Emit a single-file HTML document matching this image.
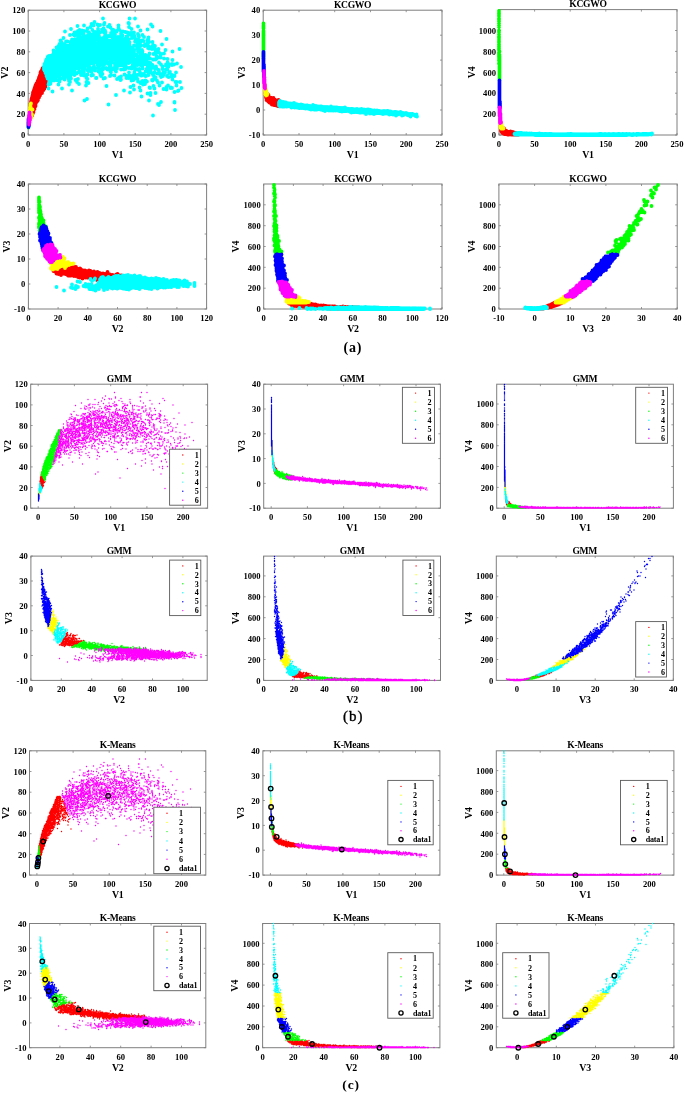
<!DOCTYPE html><html><head><meta charset="utf-8"><style>html,body{margin:0;padding:0;background:#fff;width:685px;height:1093px;overflow:hidden}svg{display:block;will-change:transform}</style></head><body><svg width="685" height="1093" viewBox="0 0 685 1093"><g style='font-family:"Liberation Serif",serif;font-weight:bold;font-size:8.6px'><path d="M28.2 135.0v-2M28.2 10.2v2M63.9 135.0v-2M63.9 10.2v2M99.6 135.0v-2M99.6 10.2v2M135.2 135.0v-2M135.2 10.2v2M170.9 135.0v-2M170.9 10.2v2M206.6 135.0v-2M206.6 10.2v2M28.2 135.0h2M206.6 135.0h-2M28.2 114.2h2M206.6 114.2h-2M28.2 93.4h2M206.6 93.4h-2M28.2 72.6h2M206.6 72.6h-2M28.2 51.8h2M206.6 51.8h-2M28.2 31.0h2M206.6 31.0h-2M28.2 10.2h2M206.6 10.2h-2" stroke="#7f7f7f" stroke-width="0.8" fill="none"/><rect x="28.2" y="10.2" width="178.4" height="124.8" fill="none" stroke="#7f7f7f" stroke-width="1"/><g fill="none" stroke-linecap="round" stroke-width="3.8"><path stroke="#ff0000" d="M31 117h0m0.5-0.5h0m-0.5 1h0m-0.5-0.5h0m1-3.5h0m1-4h0m-2 3.5h0m0.5-0.5h0m1.5-3.5h0m-0.5 3.5h0m-0.5-3h0m-0.5 0h0m0.5 6h0m-1-4.5h0m2 3h0m-2-4h0m0.5 4.5h0m2-4h0m-0.5 0.5h0m-0.5-1.5h0m-0.5 1.5h0m1 2.5h0m2-4.5h0m-1 3h0m-0.5-2.5h0m-2.5 4.5h0m1-5h0m0.5 5h0m-1.5 1h0m0.5-3.5h0m-0.5 4h0m1-3.5h0m0.5 3.5h0m-1.5-6h0m1.5 5.5h0m-1-4h0m0 4.5h0m1-4.5h0m1-2h0m-2 1.5h0m0.5 4.5h0m1-2h0m-2-1h0m1-0.5h0m-1 2h0m0.5 0.5h0m0 1h0m0-5h0m0.5 0h0m0.5 3.5h0m0.5-1.5h0m-0.5-0.5h0m0-1.5h0m-2 4.5h0m2.5-4h0m-2.5 1h0m2.5 0h0m-1 4.5h0m0.5-5.5h0m-1 3h0m-0.5-2h0m1.5 0.5h0m-1 1h0m2-1.5h0m0.5-1.5h0m-2 4.5h0m0-4h0m1.5 1.5h0m-2.5-1.5h0m0.5-1.5h0m0 3h0m2-2h0m-1 3h0m-1.5-0.5h0m1 0h0m1.5 0.5h0m0.5-3.5h0m-1.5-0.5h0m0 5.5h0m-1.5-5.5h0m3-0.5h0m0-4.5h0m-3 4h0m2.5-1h0m0.5-0.5h0m-2-7.5h0m0.5 2.5h0m1-1.5h0m1.5 1.5h0m-3.5 4h0m2-0.5h0m-1-0.5h0m2 1.5h0m-0.5-1.5h0m1.5-3.5h0m-3 7h0m0-2h0m0-2h0m1.5-2h0m2 0.5h0m-4 5.5h0m-1-1h0m2-1h0m0.5 0h0m2.5-5h0m2-2.5h0m-6 3.5h0m1 6.5h0m-1-8h0m3.5-1h0m-2 3.5h0m-0.5 2.5h0m-2 0h0m2.5-3h0m5-2.5h0m-4.5 5.5h0m-2.5 1.5h0m0 0.5h0m4-7.5h0m-1.5-1.5h0m-1.5 6.5h0m4-4.5h0m-1.5 1.5h0m-3.5 6.5h0m1.5-3.5h0m1.5-3h0m-1 2.5h0m-0.5 2.5h0m3-8h0m-4 5h0m3.5-2.5h0m-3.5 2h0m1.5 4.5h0m-2-1.5h0m0.5 0.5h0m0.5 0h0m-1-2.5h0m0 0.5h0m3-4.5h0m1 0h0m-2 3h0m1 1h0m0.5 1.5h0m-2.5-2.5h0m0.5 3h0m-1-6.5h0m4 0.5h0m-4 8h0m5.5-8.5h0m-4 0.5h0m-0.5-0.5h0m0 4h0m1.5-4h0m0.5 4h0m-0.5 1.5h0m-1-4.5h0m-0.5-0.5h0m0 7h0m1.5 0h0m0.5-2.5h0m-1.5-1h0m3-5h0m-3.5 0h0m1.5 2.5h0m-0.5 3.5h0m-3 1h0m2.5-4.5h0m-2.5 5h0m1.5-7h0m-0.5 3h0m0-1.5h0m2 2.5h0m-2 4h0m2.5-2.5h0m-2 0.5h0m3.5-0.5h0m-4 1h0m0-1h0m0.5-2.5h0m-1.5 1.5h0m2-0.5h0m2.5 0.5h0m-4-2.5h0m1-0.5h0m0 1h0m0.5-0.5h0m0.5 6h0m0-1h0m2-1.5h0m-4.5 2.5h0m3.5-5h0m-1 6h0m-1.5-3h0m-0.5-2h0m5.5-1.5h0m-3-0.5h0m3.5 0h0m-3-2.5h0m-0.5 7h0m1-2.5h0m-3.5 2.5h0m1.5-1.5h0m4.5-5.5h0m-4 0.5h0m4 0h0m-4 2.5h0m1.5-1h0m-3 5.5h0m3.5-8h0m0 8h0m2.5-6h0m-2 1h0m-3.5-1.5h0m2 3h0m1.5 1h0m0 2h0m-3.5 0.5h0m2-2.5h0m-1-5h0m1.5 7.5h0m-2-3.5h0m-1-3.5h0m-1 5h0m1-1.5h0m5-3.5h0m-0.5 0.5h0m0-0.5h0m1 1h0m-5.5 4h0m1.5 1h0m0.5 1.5h0m-2.5-3h0m1.5-4.5h0m3 0.5h0m1 0.5h0m-3 2h0m0-3h0m1 8.5h0m-1-5h0m0.5-3.5h0m0-1h0m0 8h0m1-7.5h0m2.5 0.5h0m-5.5 8h0m3.5-4.5h0m-2-3h0m-1 2h0m1-3h0m1.5 6.5h0m-4-2.5h0m2.5-2.5h0m1 0h0m-2.5-1.5h0m8-3.5h0m-5.5 2h0m3.5-5.5h0m3-4.5h0m3.5-1h0m-12.5 12h0m5.5-14.5h0m1.5 10.5h0m-0.5-0.5h0m-0.5-8.5h0m7-1h0m-1.5 2.5h0m-5.5 6.5h0m-3-2h0m7.5-6h0m-2 7.5h0m-1.5-7h0m-3 0.5h0m1 5h0m4.5-7h0m-8.5 8h0m2-5.5h0m3.5 1.5h0m-1 5h0m2.5-3h0m-0.5-1.5h0m-1.5 1h0m-4 7h0m10-14h0m-4.5 0.5h0m-4.5 14.5h0m8-14h0m-8.5 6.5h0m-2 6h0m11-10.5h0m-7.5 6h0m0.5-4.5h0m4-2h0m-8 12.5h0m7-10h0m-0.5-3.5h0m-3 10h0m2-8h0m-0.5-1.5h0m4.5 8h0m-8.5-1h0m3.5 1.5h0m-0.5 1.5h0m2.5-3h0m-2.5-2.5h0m4 4.5h0m-7.5-1h0m7.5-6h0m-1 4.5h0m-2.5 0.5h0m-1.5-2h0m2.5-5.5h0m-3 10h0m6-4h0m-3.5-2.5h0m-2.5 9h0m1.5-13.5h0m-1 7.5h0m-0.5 4h0m0.5-8.5h0m1-0.5h0m5.5 3h0m-5.5 8h0m0-6.5h0m6.5-3.5h0m0-2.5h0m-8.5 4h0m1 0.5h0m5 3.5h0m-3-3h0m-3 0.5h0m3-4.5h0m2 1.5h0m4-3h0m-7 13.5h0m2-11h0m-1 5h0m5-4.5h0m-8.5 7h0m4.5-2.5h0m-1.5-6h0m-3 12.5h0m3-7h0m3-5.5h0m-7 9h0m4-8.5h0m-1 9h0m1.5-1h0m3-4h0m-2.5-1.5h0m1-3.5h0m-2 0h0m4 2h0m-1.5 1.5h0m-2.5 4h0m-0.5-6h0m3-2h0m-1.5 6.5h0m-1.5 5.5h0m0-0.5h0m4-9.5h0m-5 3h0m2 1.5h0m-3 5.5h0m4.5-9.5h0m5.5 0h0m-7.5 9.5h0m6-11.5h0m-8.5 6h0m1 2h0m0.5-1.5h0m-0.5 4.5h0m3.5-5h0m0.5 4h0m-6 1h0m6.5-3.5h0m1.5-1h0m2-4h0m-1 1h0m-4.5-5h0m0 1.5h0m3 3.5h0m-4.5-4h0m4 7h0m-1-5.5h0m-2 4.5h0m6.5-7h0m-5.5 6h0m2.5 4h0m-7.5 1h0m12.5-10.5h0m-11.5 14h0m1.5-8.5h0m5.5-2h0m0.5-1h0m-8 6h0m0 2.5h0m1.5-9.5h0m-1.5 11h0m4.5 1h0m-5.5-2.5h0m1-4h0m10-7h0m-5 6.5h0m3.5-2.5h0m-5 1h0m-1 4.5h0m0.5 3.5h0m2.5-1.5h0m2-9h0m-2.5 2h0m1-2.5h0m1 6.5h0m0.5-8.5h0m2 6h0m-6-4h0m-1 3h0m4-1h0m-5.5 8h0m3.5-7h0m-5 4h0m2.5 4.5h0m6.5-6.5h0m-6 3.5h0m0 4h0m10-15.5h0m-8 10.5h0m-0.5 2h0m-4.5 0h0m6.5-9h0m-2.5 11.5h0m5.5-12.5h0m-1-2.5h0m-7.5 10h0m2-5h0m-3.5 9.5h0m2.5-10.5h0m6.5 1h0m-6 5.5h0m-3 2h0m8-3.5h0m-8.5 5h0m4.5-1h0m6.5-7.5h0m-9 0.5h0m3 6.5h0m0-8h0m1 7h0m1.5-3h0m-7 5.5h0m2-4h0m-0.5-0.5h0m1 3h0m6-5h0m0.5-6.5h0m2.5 0.5h0m-6-1.5h0m-2 10h0m2.5-5.5h0m1.5 1h0m-2-3.5h0m3.5 0.5h0m1 1h0m-1.5 0.5h0m-8.5 6.5h0m9-10h0m-4.5 5h0m4.5 2.5h0m-3 6.5h0m-4-1h0m4.5-11h0m-2 1.5h0m3.5-1.5h0m-3 5h0m2-3.5h0m-5 6.5h0m6.5-2.5h0m-7 0.5h0m0.5-3h0m3 6.5h0m-1 3h0m4-13h0m-5 2h0m-0.5 4.5h0m-2 0h0m8.5-6.5h0m-6.5 5.5h0m9-2h0m-9 8h0m3.5-7.5h0m-2.5 2h0m0.5 3.5h0m1.5-7h0m-3 6h0m-1.5-0.5h0m7-9h0m-1.5 9.5h0m-3.5-1h0m4.5-9.5h0m-3.5 5.5h0m6.5-3h0m-9.5 4.5h0m2 6.5h0m7-13.5h0m-6 3.5h0m0.5-3h0m6-0.5h0m-8.5 8h0m4-4.5h0m3-2h0m-3.5-0.5h0m1.5 0h0m-2.5 12h0m6.5-8.5h0m-7 0h0m6.5-2.5h0m-9.5 9.5h0m1 1h0m-2.5 0h0m5.5-1.5h0m3-7.5h0m0.5 2.5h0m-8.5 5h0m13-9.5h0m-7 11.5h0m4.5-9.5h0m-11 9.5h0m8-5h0m-4.5-6h0m0.5 7.5h0m-4 5h0m3.5-13h0m5.5-1.5h0m-6.5 7.5h0m-0.5 4.5h0m4.5-5h0m-3 3h0m-1.5 5.5h0m7.5-11h0m-2 2h0m-2.5 5.5h0m5.5-7h0m-5-0.5h0m-1.5-0.5h0m4.5 4h0m5-7.5h0m-5.5 1.5h0m0.5 3h0m-4-3.5h0m-0.5 9.5h0m6-3.5h0m3-4h0m-10.5 11h0m3-5h0m-2-7h0m-0.5 12h0m0.5-9.5h0m6.5-0.5h0m2.5-4.5h0m-9.5 15h0m6-10h0m-4 9.5h0m-5.5 0h0m9.5-18.5h0m-2.5 2.5h0m2.5-4h0m2.5-7h0m-4.5 11h0m1 0h0m2.5-10.5h0m0.5 3.5h0m0 5h0m0.5-7h0m-1-3h0m-3 7.5h0m3-8.5h0m1.5 10h0m-6 3.5h0m6-5.5h0m-6.5 6h0m6-3h0m0-8h0m0.5 8h0m-3-1.5h0m-1 1.5h0m3-4.5h0m1-2h0m-1-1h0m-1.5 7h0m4 3h0m0-6.5h0m-3 5h0m-2.5 2h0m3.5-9.5h0m-4.5 3.5h0m7 4.5h0m-3.5-6.5h0m3 6h0m-4 0h0m-1-7h0m-0.5 8.5h0m4-4.5h0m-0.5-6.5h0m-2-1h0m1.5 2.5h0m-0.5-3.5h0m0.5 13.5h0m-1-3.5h0m-3-2h0m2 3h0m4 2.5h0m-1.5-2.5h0m-2.5-0.5h0m3.5-0.5h0m-1.5-3h0m-2.5 5h0m2.5-2h0m-0.5-8.5h0m-5 11.5h0m6.5-10h0m1 5h0m-3.5-5h0m0.5 6.5h0m-0.5 2.5h0m-1-2.5h0m3-9.5h0m-0.5 2.5h0m2.5 6h0m-6-1.5h0m2.5-5h0m-1 7.5h0m3.5-1.5h0m-1.5-1.5h0m-0.5 0.5h0m2 2.5h0m-5 4h0m2.5-10.5h0m3 8.5h0m-5.5-1h0m4-6h0m1 6.5h0m-2-6.5h0m-0.5 3h0m-2 2h0m6 1h0m-3-11h0m3 9h0m-4-0.5h0m2.5-1h0m-3.5-2h0m4 5h0m-5.5 0h0m3-4h0m-5 6.5h0m3-1h0m1-4.5h0m0-3h0m-2 8h0m3.5-4.5h0m-1-2.5h0m0 0.5h0m1-5.5h0m1.5 12h0m-2-8.5h0m1 8h0m1.5-1h0m-3.5-5.5h0m2-4.5h0m-0.5 1h0m1 6.5h0m-5.5 3.5h0m4-9h0m-2 0.5h0m-1.5 10.5h0m3-7h0m2 3.5h0m-3-8h0m1 4h0m-4 5h0m2-3h0m4-4.5h0m3.5 9.5h0m-5.5-9h0m0.5 4.5h0m-1.5-2h0m-3 4h0m7.5-3h0m-1.5-1.5h0m2.5 7.5h0m-8-4h0m4.5-8.5h0m-4.5 10h0m-1.5 3h0m6-9.5h0m-1 0h0m0.5 5.5h0m-2-3h0m2-4h0m-0.5-1.5h0m-1.5 6h0m2.5-3.5h0m0-2h0m0.5 11.5h0m-3.5-1.5h0m1-8h0m0 3.5h0m-1-4h0m-1 7.5h0m3-10h0m-3.5 9.5h0m6 2.5h0m-6-3h0m3.5-9.5h0m3.5 11.5h0m-3.5-1.5h0m-1-6h0m-1 5.5h0m3 1h0m1.5-2h0m-1.5-8.5h0m-2 2h0m3.5 3h0m1 5.5h0m-2-1.5h0m1.5-2.5h0m-1.5-6h0m0.5 4.5h0m-6 7h0m1-2.5h0m5.5-6.5h0m-5.5 9.5h0m3.5-4h0m1-2h0m-1.5-7.5h0m1.5 13.5h0m-2.5-5h0m2-9h0m0 14h0m0.5-7h0m-2 4.5h0m0-2.5h0m-0.5-2h0m3 7h0m-1.5 0.5h0m-5-2h0m6.5-5h0m-6 7h0m6-4.5h0m0.5 1.5h0m-5 3.5h0m4-5h0m-1.5-2h0m2 0h0m-3.5-4.5h0m-1 3.5h0m2 3h0m3.5 3.5h0m-3.5 1h0m-3-4.5h0m-0.5 3h0m2-0.5h0m2 2h0m3.5-7.5h0m-3-7h0m-4 9.5h0m0.5 1h0m1-0.5h0m0.5 4h0m-3.5-0.5h0m4-9h0m0-0.5h0m2.5 0h0m1 9.5h0m-4-2h0m-1 0.5h0m4-3.5h0m2-0.5h0m-5-3.5h0m-1 9h0m0-6h0"/><path stroke="#ffff00" d="M30.5 117h0m0 1h0m0 0.5h0m-0.5 0h0m0.5 0.5h0m-0.5-2h0m0 0.5h0m0 1.5h0m-0.5-2h0m0-0.5h0m0.5 0h0m1 1h0m-1 0.5h0m0.5-1.5h0m0 1h0m0.5 0.5h0m-1.5 0.5h0m0.5 1h0m1-3h0m-0.5-4h0m-0.5 2h0m0-3h0m0-1h0m-0.5 4.5h0m1.5 0.5h0m0-2h0m-1-1.5h0m0 2h0m0 1h0m-0.5-1.5h0m1-4h0m1 6.5h0m-1.5-6h0m0.5 5.5h0m-0.5 0h0m0.5-2h0m-0.5-1h0m0 1h0m0 2.5h0m0.5-4h0m-1 2h0m0 2h0m0.5-3h0m-0.5-0.5h0m1 1.5h0m0-3h0m0 5h0m0-4.5h0m-1 0.5h0m1 1h0m-0.5-2h0m1 1.5h0m0-1.5h0m-1.5 0h0m0 3.5h0m0.5-5h0m2 5h0m-1.5 0h0m1 0.5h0m-0.5-2h0m0.5 1.5h0m1-5h0m-1 4.5h0m-2-2.5h0m1 3.5h0m0-8.5h0m0-0.5h0m-0.5 2h0m1.5 1h0m-1-0.5h0m0-4h0m0.5 4h0m0-5h0m-0.5 1.5h0m-0.5 2.5h0m0.5-2h0"/><path stroke="#00ff00" d="M28.5 126.5h0m0 1h0m0-0.5h0m0-1h0m0-0.5h0m0-1h0m0 0.5h0m0-1h0m0-1h0m0 0.5h0m0-1h0"/><path stroke="#00ffff" d="M49 74.5h0m-0.5-3h0m-1 4h0m-3-7.5h0m3 10h0m-2.5-10.5h0m2 4h0m-1.5 1.5h0m2 2h0m-2-6.5h0m0.5 1.5h0m1.5-1.5h0m-1 2.5h0m0.5-3h0m1 0.5h0m-3.5 1.5h0m3 8.5h0m1-6.5h0m-2.5 0h0m-1-2h0m1-1.5h0m3.5 1h0m-2 1.5h0m-1-3h0m-1.5 3h0m5-3.5h0m-4 2h0m0 3h0m-1-3.5h0m2.5-1.5h0m-3 0h0m5.5 1h0m-3 7h0m-3-7.5h0m0.5 1.5h0m4.5-0.5h0m-0.5 10h0m-3-9.5h0m-1 1h0m3.5 6.5h0m0.5-6h0m-1-1h0m1 5.5h0m-1.5-5h0m-1 0h0m3-2h0m-3.5 2.5h0m2.5-2h0m-3.5-0.5h0m5 5h0m-2-3h0m0 1h0m-0.5-2h0m-2-1h0m1.5 3.5h0m-1 0.5h0m-0.5-4.5h0m3 0h0m-1.5 1h0m0-1.5h0m0 5.5h0m-0.5-4h0m1 0h0m2 0.5h0m-3.5 2.5h0m4 7h0m-2-4.5h0m-0.5-0.5h0m-3-4.5h0m6-0.5h0m-3.5 7h0m2-8.5h0m0 6h0m0 1.5h0m-3-4.5h0m2.5 6h0m2-7h0m-2.5-0.5h0m-1.5 4h0m0.5-2.5h0m2.5-2.5h0m-1 8h0m-4-7h0m2-1h0m4 5.5h0m-4-6h0m1.5 0.5h0m1 9h0m-3-8h0m1 4.5h0m-2.5-6h0m1 2h0m-0.5-0.5h0m3 3h0m1.5 1h0m0.5-1.5h0m-0.5-1h0m-0.5 4h0m-1.5-1h0m-3-7h0m4-8h0m0.5 0.5h0m0.5-2.5h0m-2 6.5h0m1.5-1h0m1.5-5h0m-1 5.5h0m-1-4.5h0m0.5 4.5h0m-2 1h0m0.5 0.5h0m2 1h0m-3.5-2.5h0m3 3h0m0-7.5h0m-0.5-1.5h0m2 10.5h0m-4.5 0.5h0m3-11h0m-2.5 10h0m4-7h0m0.5 4.5h0m-0.5 1h0m0.5-0.5h0m-2-5h0m-2.5 7.5h0m4.5-9.5h0m-2 3.5h0m0 3.5h0m-3 0.5h0m2.5-5h0m1.5 0h0m-2 4h0m1-0.5h0m-1.5-1.5h0m2-1h0m3-3h0m-3.5 2h0m-0.5 2h0m0-3h0m-2.5 6.5h0m5.5-2h0m-3-6h0m0.5 5.5h0m-2.5-2h0m0.5 5h0m4-7.5h0m0 1.5h0m-6 4h0m5.5-6.5h0m-0.5 4.5h0m-2 4.5h0m-3 0h0m1.5-1.5h0m2-4.5h0m1.5-2.5h0m-4.5 8.5h0m3.5 0.5h0m-1.5-6.5h0m0.5 2h0m0-4.5h0m2-1h0m0.5-0.5h0m-0.5 11h0m-5-2h0m2.5 1h0m-0.5-5h0m1.5 1.5h0m-1 1.5h0m-1 0h0m1.5 1.5h0m0.5-5h0m0 1.5h0m1-2.5h0m-1.5 3.5h0m0-6h0m-1 2.5h0m-1.5 6h0m5.5-4.5h0m-1-1h0m1.5-4h0m-0.5-0.5h0m-4 8.5h0m0 1h0m0-3h0m5-4h0m-5 1h0m0 1.5h0m2-0.5h0m-2 0h0m2.5-1h0m-0.5-2.5h0m2.5-1h0m-2.5 10h0m2-4h0m-2-3.5h0m-3.5 5.5h0m0.5 3h0m2-4h0m3-0.5h0m-4 2.5h0m-0.5-1h0m0-1h0m2.5 2h0m2.5-0.5h0m-3.5-4h0m0 1h0m-2.5 3h0m-1 2.5h0m3.5-2.5h0m2 2.5h0m-2.5-3.5h0m-2.5 1.5h0m4.5-7.5h0m-2 7.5h0m2-8h0m-1.5 1.5h0m-1.5 3h0m4.5-4.5h0m0.5 1h0m0.5 3h0m-5 6h0m3.5-11h0m1 3.5h0m-5.5 3.5h0m3.5-5h0m-1 1.5h0m-1 3h0m3.5-3h0m-4.5 6.5h0m-1 1h0m4-5.5h0m0-5.5h0m1.5 2h0m-3 1.5h0m-1.5 1h0m41-7.5h0m50-4h0m-21 22.5h0m20.5-10.5h0m-56.5-16h0m44.5 2h0m28 33.5h0m-98-24h0m18 14.5h0m4-13.5h0m26 5h0m-38.5 1.5h0m50-12h0m-44-17h0m14 30h0m19.5-36.5h0m-34.5 28h0m31.5-3.5h0m-3.5 1.5h0m-30-3.5h0m52.5 3h0m-44.5 2h0m-24 15.5h0m82.5-18h0m16.5 5h0m-37-5.5h0m-63 24.5h0m7-18.5h0m-3.5 7h0m52-17h0m-44.5 29.5h0m-11.5-5.5h0m22-3.5h0m20-8h0m25.5-6h0m16 10.5h0m-56.5 7.5h0m14-10h0m-3.5-22.5h0m7.5 11h0m40.5 14h0m-39.5-16h0m31 26h0m-53.5-35.5h0m7 0h0m13.5 11h0m48.5 1.5h0m-52 4.5h0m9-3h0m-14.5-0.5h0m44 5.5h0m-64-6h0m15.5 11h0m12-20.5h0m19.5 16.5h0m-35-8.5h0m-14.5-3.5h0m17-15h0m-8.5 36.5h0m4.5-22.5h0m90.5 2.5h0m-105.5 11.5h0m-9.5-0.5h0m9 8.5h0m34.5-20h0m44-23h0m-47.5 15.5h0m-14.5 1.5h0m92.5 33.5h0m-45-24h0m-61.5-1h0m39.5-4h0m15-17h0m36.5 44h0m-58.5-15.5h0m0.5-15h0m-46 38.5h0m37.5-39h0m62-3h0m-91 7.5h0m46 14h0m-27.5-5.5h0m-1.5-11.5h0m-2 13.5h0m-16.5 2h0m28 7.5h0m-18-10h0m33.5-7.5h0m-23 9h0m8-14.5h0m37 3.5h0m-63.5 17h0m10-0.5h0m23-13.5h0m28-6h0m36 23h0m-99.5-9h0m15.5-9.5h0m2 15.5h0m1-12.5h0m-7.5-6.5h0m4 2.5h0m77 15h0m-78.5 4.5h0m2.5-15.5h0m20-6h0m19.5-11h0m-21 14.5h0m-26.5 7h0m22-11.5h0m-31 9h0m106.5-1.5h0m-50.5-26.5h0m20.5 32h0m4-18h0m-83.5 26.5h0m82.5-33h0m-48.5 20.5h0m29.5-14h0m-39.5 20.5h0m9.5-12h0m31 2h0m-16 2h0m7.5 3h0m-27 9h0m31.5-21h0m-27.5 4.5h0m-4 0h0m64 10.5h0m-17.5-12h0m-20.5 8.5h0m-32 6.5h0m50.5-16.5h0m-25.5-1.5h0m-12.5-0.5h0m26 0.5h0m-52 26.5h0m49.5-9.5h0m15.5-2h0m-69-11h0m9.5 2.5h0m72 18.5h0m6-25h0m-65-1h0m31.5 10.5h0m25-8.5h0m-56.5 4h0m41.5-0.5h0m12 13h0m-85 4h0m52.5-25h0m35 35h0m7-11.5h0m-93.5-1.5h0m60.5-38.5h0m8.5 37h0m-29-24.5h0m21.5 28h0m-24-29h0m7.5 15.5h0m-27-6h0m-4.5 7.5h0m87 19h0m-17-7h0m-60.5 1.5h0m-2 6h0m-8 15.5h0m63-25h0m-11.5-15h0m-10 4.5h0m62.5 11.5h0m-47.5-9.5h0m-64 6h0m77.5-13h0m-27 5.5h0m-20 10h0m-4 8h0m-3.5-26h0m-15.5 14.5h0m2 15h0m-2.5-8h0m89.5 1h0m-36.5-36h0m-1 5.5h0m-61.5 33h0m74-27h0m-50 25h0m5.5-12.5h0m11.5-2h0m28 11h0m27-21.5h0m-94.5 26.5h0m101.5-24h0m-100 32.5h0m100.5-27h0m-76.5-8h0m37 18h0m-56.5-2h0m55.5-4h0m-41.5-8h0m-17.5 21h0m5.5-0.5h0m60-6.5h0m-38-13h0m6.5 8h0m22.5-7h0m35 44h0m-9-34h0m-74 15h0m8-21.5h0m4.5-14h0m38.5 7h0m-53.5 16h0m22.5-21.5h0m-18.5 36h0m22-20.5h0m49-14.5h0m-32.5 13h0m-1.5 15h0m53.5-11h0m-33.5-14.5h0m43 25.5h0m-109-13h0m11.5-1.5h0m5.5-3.5h0m54.5-11.5h0m-21 29.5h0m-42.5-38h0m90.5 28h0m-71.5-34h0m22 21h0m-54.5 13h0m78-14h0m-23.5-2h0m36.5 11.5h0m-38.5-4.5h0m1.5-18.5h0m39 14h0m-10.5-13.5h0m5 42h0m-65.5-2h0m101.5 37.5h0m-61.5-80h0m-40.5 35.5h0m81 13.5h0m-79-16.5h0m53-9h0m-23-17h0m-13.5 13.5h0m-27.5 5h0m30 11.5h0m-19 6h0m-16.5-12.5h0m37.5-15h0m-17 14h0m36.5-12.5h0m-15 0.5h0m23-4h0m-2 13.5h0m-59.5 3h0m36-30.5h0m-35 37h0m15.5-10h0m-11.5 6h0m9-17h0m-20 27.5h0m8.5-2h0m70-7h0m-68.5 7h0m-1.5-15.5h0m54-27h0m0 14h0m31 11.5h0m-80.5-2h0m8 13.5h0m7.5 2.5h0m-34.5 11.5h0m71.5-39.5h0m-66 37.5h0m56.5-47.5h0m-32.5 34h0m-23 4.5h0m16.5-5h0m47.5-2h0m-37.5-5.5h0m31-4h0m4 1h0m24.5-1h0m-43-4.5h0m15.5-12.5h0m3.5 19.5h0m10 9h0m-14.5-6h0m-42.5-1h0m42-20h0m-47 19.5h0m31.5-9h0m-44.5 30h0m65-22h0m-68 21h0m39-14.5h0m-25.5-8.5h0m59 7.5h0m25 9.5h0m-41.5-8h0m-54 4.5h0m14.5 1h0m23.5-40h0m-27.5 41.5h0m75 13h0m0-33h0m-59.5-6h0m-4 9.5h0m65 17h0m27-30h0m-86.5 10h0m56 20h0m-40-34.5h0m-6 15.5h0m-25 14h0m23.5-21.5h0m19 5.5h0m-5-6h0m-46 22.5h0m90-19.5h0m-58 0h0m14 7.5h0m-30 1.5h0m6.5 13h0m-12-10.5h0m54.5 1h0m-59 0h0m14.5-11h0m0 1h0m4.5 17.5h0m1.5-2.5h0m-2.5-8.5h0m22.5-14.5h0m-34 14h0m69.5-18h0m-22-4h0m-43 14.5h0m22.5 32h0m-17.5-24.5h0m96 38.5h0m-119.5-28h0m81.5 5h0m19.5-16.5h0m-96.5 23.5h0m-5.5-19h0m14 1h0m12 1h0m-10.5-4.5h0m72.5 0.5h0m-76 1.5h0m17 8h0m66 36h0m3-51.5h0m-94 14h0m-4-2h0m17 17.5h0m52-24h0m-71.5 22h0m59.5-29h0m-41.5-1.5h0m11.5 17.5h0m33.5-19.5h0m-6-1h0m-10 28.5h0m-6-21h0m42 3.5h0m-18-1.5h0m-44.5-2.5h0m-14.5 3h0m19.5 29h0m-17-31h0m57.5-12h0m-43.5 16h0m-7.5 8h0m68.5 6.5h0m6.5 12.5h0m-72.5-20h0m65-12h0m-60 5.5h0m-1-0.5h0m56.5-12.5h0m-33.5-3.5h0m17.5 13h0m-9-2h0m-5 15h0m41-23h0m-53 37h0m29-29.5h0m27.5 11h0m-32.5-19.5h0m4 8.5h0m5.5 27h0m-23-21.5h0m-29.5-7h0m-12.5 26h0m52.5-23.5h0m-12-3.5h0m-44 23.5h0m34.5-0.5h0m17-9h0m-48 2h0m66.5-15h0m-35.5-3h0m23-2.5h0m-56 31.5h0m25.5-22h0m-5.5 4.5h0m59 1.5h0m-35-10h0m-22 5h0m-26.5 28h0m5-13h0m28-28h0m-9.5 8h0m72 36h0m-65.5-26h0m52-9.5h0m-77.5 28.5h0m23.5-26.5h0m-20.5 0.5h0m74-3.5h0m-27.5 11.5h0m-6-14h0m9 23.5h0m66 11h0m-62-8h0m-25.5-15h0m-13.5 17.5h0m52.5-14.5h0m-70.5 11h0m-3-7h0m49-19h0m-7-14.5h0m55 12.5h0m-86 17h0m107 4.5h0m-102 2.5h0m43.5-17.5h0m-36 10h0m28 1h0m12-21.5h0m-33 19.5h0m-25 4h0m13-3h0m-12.5-2.5h0m22.5-9h0m38 31.5h0m-45-28h0m79-26.5h0m-50.5 16h0m6-4h0m-12 6.5h0m10.5-11.5h0m29.5 30h0m6 3.5h0m-53.5-10.5h0m32.5 10.5h0m-48.5-0.5h0m106-1h0m-48-3h0m-21-3.5h0m-43-11.5h0m20.5-1h0m-28 23h0m4-1.5h0m36-15h0m-8.5-2h0m18-4.5h0m3.5 14.5h0m-29.5-6h0m-15.5 17h0m21 12h0m56-47h0m-19.5 30.5h0m4.5-8h0m-76 5.5h0m65-16h0m-38.5 32h0m90 6.5h0m-53-27h0m-11.5-17.5h0m19 10.5h0m-62 6.5h0m0-3h0m24 11h0m-34.5 18h0m2.5-19h0m0-4.5h0m-0.5 8.5h0m36-27.5h0m-23.5 30.5h0m30.5-19.5h0m0.5 2.5h0m-18 3h0m-18.5 0h0m37.5 20h0m1-23.5h0m28 1h0m-72 20.5h0m29.5-28.5h0m-7.5 19.5h0m27-27.5h0m0 17.5h0m-38-11.5h0m56 34.5h0m25.5-4h0m-68.5-22h0m-21.5 12.5h0m10-14.5h0m31.5 9h0m74.5 3h0m-39.5 12.5h0m-9-23h0m-45 7h0m-5-7h0m30.5 14.5h0m9.5-17h0m-34.5-16.5h0m-3-2h0m24.5 42.5h0m-27-23h0m60.5-14.5h0m-2-0.5h0m-5.5-0.5h0m-58.5 20h0m59.5-20.5h0m31.5 16.5h0m-56-7h0m-5.5 13h0m32-13.5h0m-59 24h0m-20 10.5h0m47.5-44h0m-22.5 20h0m-2.5-9h0m24 6h0m29 14h0m20.5 2.5h0m4 26h0m-79.5-45h0m-20 31h0m67.5-55.5h0m-36 34h0m20.5-12.5h0m-36 19.5h0m67.5 7h0m-59.5-19h0m-6.5 8.5h0m23-39h0m-8 29.5h0m56 34h0m-46.5-38h0m40.5 16h0m-35-11h0m-20.5 5.5h0m-4.5 4h0m60 11h0m-13-27.5h0m3.5 3.5h0m-65 12h0m6.5-2h0m-12-6h0m70 4h0m-56 2.5h0m60-29h0m10.5 19h0m-85.5 21h0m59.5-14h0m15.5-0.5h0m-48.5-3h0m-30 19h0m63.5-41.5h0m-63.5 50h0m22-28.5h0m22.5-12h0m60 12h0m-81.5 3.5h0m1.5 4.5h0m42.5-16.5h0m40.5 10.5h0m7 16.5h0m-98.5-11h0m5.5-19.5h0m88.5 29.5h0m-54 6.5h0m-17-43h0m25 14.5h0m-15-0.5h0m12 3h0m-11.5-20.5h0m20.5 18.5h0m28.5-9.5h0m-7 5.5h0m-92 26.5h0m12.5-21h0m40.5 3.5h0m-14-26.5h0m-32.5 43.5h0m27.5-31.5h0m5 34h0m66-28.5h0m-54-13.5h0m-12.5 30h0m35.5-9h0m-54-2.5h0m78.5 6.5h0m-82.5 2h0m50.5-15h0m-28 14.5h0m-23.5 4.5h0m95-14.5h0m-90.5 4h0m-3.5-8.5h0m86 48.5h0m-75-28h0m53.5 3h0m1-18.5h0m-48-16h0m-3 35h0m17-18h0m-8.5 11.5h0m-26.5-21h0m44 8.5h0m-46.5 21h0m33-1h0m-2-25h0m8 23.5h0m3-20h0m-4.5 1h0m-35.5 17.5h0m90.5 2.5h0m-101.5 6h0m60-30h0m28 20h0m-84.5 9.5h0m2.5 0.5h0m69-36h0m-49.5 0.5h0m29 3.5h0m-55.5 41.5h0m37-34.5h0m36.5-5.5h0m-66.5 13h0m38-7.5h0m-43 26.5h0m17.5 1h0m103.5-1h0m-60-18.5h0m-23.5-14.5h0m-4.5-5.5h0m50.5 20.5h0m-52-13.5h0m35 2h0m-55 14.5h0m28-8h0m-1.5 29.5h0m53 13.5h0m-50.5-45.5h0m-23 17.5h0m44.5-26.5h0m-38 8h0m28.5 3h0m23 2.5h0m-59 2h0m14.5 14.5h0m12-4.5h0m45.5-30.5h0m-61.5 26.5h0m24.5-10h0m-21.5-7.5h0m68.5 20h0m-98 5h0m9 8h0m12.5-12h0m50.5-19h0m-60 9.5h0m52-19.5h0m22.5 9h0m41 43.5h0m-68.5-42h0m-61 29.5h0m42.5-35h0m79 45h0m-69-44h0m-23.5 4h0m-6.5-6.5h0m-3 24h0m6.5-11.5h0m92.5 5h0m-15 8h0m-66-9.5h0m-18 9.5h0m8-6h0m-21 7.5h0m1.5-1.5h0m16.5-27h0m-20.5 29.5h0m18.5-14.5h0m62 24.5h0m-58.5-19.5h0m-16.5-14h0m114 5.5h0m-70 22.5h0m7.5-7.5h0m-52-1.5h0m45 1.5h0m-24.5 5.5h0m-28.5-6h0m10-11h0m-5 7h0m23-26h0m43 15h0m-43-5h0m-0.5-20h0m27 21.5h0m-42.5 26h0m42-41h0m4.5 15h0m-1 14.5h0m-56-5.5h0m15.5 1.5h0m14-9.5h0m26-1h0m-26 27.5h0m-2.5-9.5h0m65.5-28.5h0m30.5 39h0m-25 11.5h0m-87-22h0m44.5-25.5h0m-53 29h0m58.5-20.5h0m18 7.5h0m-6.5 9.5h0m-39-29h0m51.5 42h0m-80-11h0m118 34.5h0m-64.5-49.5h0m40.5 10.5h0m-29.5-10.5h0m-26-5h0m-44.5 18.5h0m41 6h0m-1-22h0m-26.5-3h0m25-14.5h0m-11 10.5h0m5 23h0m12-8h0m-27-9.5h0m113 18.5h0m-124 1h0m54.5-15h0m-20.5-11h0m-19 48.5h0m3-32h0m1.5 5.5h0m32 5h0m-8.5-12h0m-11 11h0m37-6.5h0m-34-24h0m17 7.5h0m2 10.5h0m-37.5-11h0m-17.5 33h0m63-33h0m-51.5 18h0m65.5-13.5h0m-83.5 15.5h0m114 24.5h0m-63-46.5h0m-22.5 11.5h0m-13 19.5h0m-10.5-6h0m91.5-8.5h0m-56.5-6h0m22.5 9.5h0m-51.5-14h0m54 4h0m7-15h0m26 28h0m19 21.5h0m-58-51h0m-55 23h0m7 6h0m11.5-11h0m-7.5 0h0m8.5 15h0m10-12h0m45.5 21h0m20.5-29.5h0m-38 23.5h0m-46.5-11.5h0m60 7h0m-23.5-17h0m-45.5 17.5h0m55-12h0m44 32.5h0m-46-34.5h0m-41.5 1h0m-16.5 25h0m44.5-26.5h0m44.5 3h0m-81 0h0m114 3.5h0m-6 29.5h0m-14.5-9.5h0m-36-29.5h0m-50 4.5h0m19.5 7.5h0m-1.5-4h0m44-15h0m-49.5-4h0m-10 14.5h0m19 0h0m2.5 4h0m-10-24h0m6 32h0m12.5-19h0m49-2h0m-20.5 12h0m-49.5 6h0m-26.5 11.5h0m75.5-24.5h0m-48.5-8.5h0m46 10.5h0m-43.5-5h0m25-5.5h0m-33 10.5h0m30-8.5h0m-53 24.5h0m60.5-9.5h0m11-1.5h0m-15 0.5h0m-24-27h0m43 23.5h0m32.5 19.5h0m-84.5-30.5h0m6 4h0m-22.5 9h0m7.5 10.5h0m-6.5 6.5h0m34-14h0m14-24.5h0m-50 31h0m21-0.5h0m61 14h0m-24-32h0m-60 22.5h0m93.5 12h0m-74-29h0m6-21.5h0m-29.5 51h0m77-21.5h0m29 17h0m-96 1.5h0m10-13h0m26-4h0m-16.5-4.5h0m47.5 0.5h0m-22-10h0m-45.5 11h0m62.5-13.5h0m8.5 8h0m-42 7h0m28.5-11.5h0m15.5 2.5h0m-29-33h0m-23.5 37.5h0m-20.5 4h0m67.5-16h0m10.5 2h0m-53 27h0m30-20.5h0m23.5 22.5h0m-83.5-14.5h0m7 14h0m63.5-12h0m-63.5-18h0m-8.5 16.5h0m33.5-21h0m-17.5 22.5h0m-3 4.5h0m42.5-15h0m-37.5-7h0m33.5-7.5h0m-6 13h0m-12.5 10h0m31-5h0m-18.5 12h0m11 1h0m25.5-8.5h0m-76-0.5h0m59.5-22.5h0m-57 24.5h0m27.5 5h0m44 11h0m-4-54.5h0m-57 25.5h0m9.5 18.5h0m45.5-25h0m-6.5-2h0m-25-3.5h0m-8.5 26.5h0m-8.5-5.5h0m36-23.5h0m-44 28.5h0m78-19.5h0m-87.5 24.5h0m116 18h0m-120-14.5h0m5-19.5h0m28-5h0m71.5 55.5h0m-68-27h0m10-13.5h0m-42.5-5h0m24 44h0m-17-26h0m74.5-24.5h0m10-3.5h0m-5 12h0m-87-2h0m75-38h0m-50 26.5h0m67.5 20h0m-21.5 2.5h0m-16-1.5h0m-50-9.5h0m75.5 34h0m-34.5-28h0m-28.5-28.5h0m15 23h0m48.5 18.5h0m-28.5-22.5h0m49.5-8.5h0m-87.5 8h0m3-9h0m90 25.5h0m-46.5-11.5h0m-53 10.5h0m41-20h0m25.5 13h0m5.5-3.5h0m3.5-16.5h0m-80-3h0m74.5 9h0m-54-5.5h0m1.5 1h0m16 0h0m40.5 16h0m-68 1.5h0m8 1h0m-13.5-11.5h0m46.5 15h0m-29.5-13h0m28.5 7.5h0m-20.5-0.5h0m-42.5 6.5h0m21.5-8h0m46 3h0m36 12.5h0m-36.5-24h0m-2 46.5h0m-33.5-30.5h0m99 23.5h0m-117.5-23.5h0m2-23h0m2.5 23.5h0m44-27.5h0m-29 14.5h0m-9 20.5h0m20-39h0m-33.5 32.5h0m59-5h0m2-2h0m7.5 2.5h0m-53-16.5h0m66 23.5h0m-80-7h0m68 0.5h0m30-4.5h0m-65-6.5h0m59.5-2h0m-62 14.5h0m-36.5 6.5h0m50.5-17.5h0m55.5 16.5h0m-71 6.5h0m-12-45.5h0m-6 30.5h0m-2.5-1.5h0m-12.5 15.5h0m40-20.5h0m-45-3.5h0m-0.5 15.5h0m25.5-4h0m20-24h0m16.5 15.5h0m-51.5 0h0m2.5 15h0m76.5-3h0m-21.5-32h0m-59.5 25h0m2.5-4.5h0m42.5-15h0m-3.5 17h0m-14 6h0m50-4h0m9-10h0m-96 13.5h0m11.5 12.5h0m34-17h0m-1.5 4h0m-15.5 12h0m-24-25.5h0m3-3.5h0m3 11h0m-8.5 20.5h0m42.5-41h0m-13.5 9.5h0m41 46.5h0m-51.5-43.5h0m-3.5 11h0m54.5-12.5h0m-38 7.5h0m34.5 9h0m-28-8h0m-22.5-8.5h0m88.5 37h0m-67-43.5h0m-37 17.5h0m38.5-8.5h0m68.5 26.5h0m-43-34h0m-52.5 22h0m98.5-4h0m-83.5-13.5h0m46 33h0m-70-5.5h0m42-22h0m-12.5 12.5h0m-34 7h0m19.5-10.5h0m70.5 2.5h0m-55.5-16.5h0m18.5 18.5h0m17-13h0m-41 10h0m45.5-1h0m-52.5-3h0m0-13.5h0m64-3h0m-58 18h0m55-3h0m28.5 19h0m-64-22.5h0m4.5-21h0m-36.5 17h0m-11 32h0m30.5-34h0m3-3.5h0m4 12.5h0m58.5-13h0m-72 0h0m1-9h0m-7 34.5h0m20-14.5h0m-2 5.5h0m-28 6.5h0m42 21h0m12.5-20.5h0m-17.5-17h0m-27 21.5h0m-3.5-24.5h0m16-3h0m-18.5 36.5h0m3-15h0m78-5.5h0m3-32h0m-7.5 37.5h0m-54-29.5h0m7.5-9h0m7.5 37.5h0m-6.5 0h0m-7 6.5h0m-6-21h0m16 9h0m-30.5-17.5h0m26.5 16h0m-36.5 3h0m112 5.5h0m-49-23.5h0m-67.5 18h0m49-16h0m54.5 21.5h0m-56-29h0m-22 4h0m14.5 20h0m-25-10h0m64 5.5h0m-24.5-2.5h0m-54.5-1.5h0m57-3.5h0m-30.5-9.5h0m-28 35h0m8.5-10h0m4-4h0m-9.5 12.5h0m111 0.5h0m-88-10.5h0m63.5-6.5h0m-50.5-6h0m-6 0.5h0m1-5h0m6.5 8.5h0m36 5h0m-49-7.5h0m-32.5 20h0m43.5-30h0m39.5 11h0m-82.5 24.5h0m10-33.5h0m70.5-4.5h0m-82 32.5h0m109 34.5h0m-34-44h0m-19.5-21.5h0m-43 25h0m105-2h0m-84-13.5h0m-22.5 21h0m61.5-25h0m42.5 27.5h0m-77.5-17.5h0m59 6h0m-82.5-11h0m-1.5 7h0m24.5 42h0m16-45h0m64 22h0m-56.5-9h0m13-7h0m-16-1.5h0m-39 17h0m-9-30h0m14 10h0m38-22h0m-6.5 18h0m-26.5 1.5h0m37 15.5h0m8.5-4.5h0m-31-20h0m-31.5 19.5h0m97.5-1h0m-35-14.5h0m-69.5 29h0m16.5-10.5h0m-20.5 17h0m93.5-9h0m-63-23h0m-13.5-5h0m59.5-10h0m-69.5 32.5h0m60.5-8h0m-15-29.5h0m17 15.5h0m-26 11.5h0m45.5 11.5h0m8-40.5h0m-5 24.5h0m-68.5-1.5h0m54.5 2.5h0m11.5-11h0m-53.5-1h0m-21.5 1h0m42.5 25h0m-35.5-21h0m68 5.5h0m-81.5 1.5h0m80.5-6.5h0m1.5 34.5h0m-9.5-29.5h0m-0.5-19h0m-24.5 6.5h0m21 22h0m-26.5 6h0m21.5-20h0m-17 7.5h0m-26 27.5h0m50-44.5h0m-66 21.5h0m9-4h0m71 17h0m-65.5-23h0m-9 2h0m80.5 2h0m-85 15h0m62.5-22.5h0m-0.5-6.5h0m-14 8.5h0m6.5 16h0m-20-15.5h0m37.5-9.5h0m-10.5 10.5h0m-22.5 13h0m-40.5-12h0m-14.5 19.5h0m101-29.5h0m-89.5 22h0m74 16h0m-63-4.5h0m88-5.5h0m-107.5 5.5h0m125.5 6.5h0m-104-17h0m-16.5 8.5h0m48.5-35.5h0m4 26h0m6.5-15h0m-13.5 8h0m15-12h0m-59 27h0m-7.5 3h0m36.5 3h0m63-12.5h0m-66-6.5h0m54.5-15h0m-77.5 24.5h0m56-4h0m-44.5-25h0m25.5 25h0m-10.5-10.5h0m-28.5 20h0m4.5-6h0m58-29h0m-12.5 2.5h0m-48.5 23.5h0m40-32.5h0m-31.5 29h0m10-20.5h0m26 4h0m-7-7h0m-18.5 14.5h0m10-6.5h0m-18 10.5h0m4.5 23.5h0m18-54.5h0m18.5 18h0m-56 21.5h0m1.5-0.5h0m37-7.5h0m-4 0h0m62.5 58.5h0m-74.5-72.5h0m44.5 4.5h0m-1 16.5h0m-34-22h0m-1 16.5h0m33-20h0m24 25.5h0m-51.5-20.5h0m-3 15h0m-15.5-13.5h0m-2 21.5h0m2.5-31h0m32.5 19h0m-49 13h0m96 8.5h0m-96-3.5h0m46-20h0m-33 17.5h0m51.5-30.5h0m8 16h0m-29 17h0m-4-28.5h0m-19 6.5h0m30 5.5h0m12.5 23.5h0m-61.5 2h0m3-9h0m10.5-24h0m69 27h0m-48.5-41.5h0m-31 32h0m91.5-6.5h0m-6.5 6.5h0m5.5-6.5h0m-24-8h0m-23 7.5h0m-39-12h0m-6.5 19h0m64.5-7h0m-44-4h0m-14.5 9h0m45.5 5.5h0m-38-13.5h0m26-11h0m15.5-3h0m-11.5 11h0m-9-21h0m-25 30h0m31 14h0m-16-37.5h0m68 6.5h0m-29 24.5h0m-47.5-23.5h0m18.5 22h0m45-27h0m-10.5 14h0m-32-1h0m34.5-0.5h0m-81.5 19.5h0m13-28.5h0m28-7h0m8 28h0m-16.5-24h0m75 62.5h0m-74-73h0m35 25h0m-40 1h0m69.5 5.5h0m31-13.5h0m-56.5-6.5h0m-53 14h0m-19 10h0m48-13h0m-21-11h0m-28.5 34h0m36.5 9h0m-17-26h0m-11.5-5h0m86.5 2h0m1.5 24h0m-69-37h0m50 13.5h0m36 9.5h0m-82-11.5h0m22-9h0m11 1.5h0m-1 21h0m-22 1h0m1-16.5h0m20 16h0m0-26.5h0m46 8.5h0m-94.5 2h0m22.5-9h0m-2 4h0m-23 6h0m41.5-15.5h0m-27 13h0m3.5 2.5h0m7.5 4.5h0m24-5h0m-51.5 14h0m10-21.5h0m-13.5 10.5h0m57.5 0h0m29.5-16h0m-84 33.5h0m59-5.5h0m-49.5-27h0m62.5 17.5h0m-50-6.5h0m-16.5 7.5h0m16.5-8.5h0m18.5 8.5h0m-36-8.5h0m41.5 5.5h0m-33.5 10h0m-5 6.5h0m63.5-21.5h0m-40.5-14.5h0m42 38.5h0m-43.5-35.5h0m34-9h0m-24 15h0m-5-8h0m-28.5 25.5h0m20.5-17.5h0m35.5 31h0m6-24h0m-35 6h0m-36.5 21h0m7-25.5h0m-8 12.5h0m36-22h0m-5 21h0m12.5-20h0m32.5-19.5h0m-45.5 17h0m-23.5 29h0m27.5-30h0m-7 7h0m28.5 7h0m-12.5 1.5h0m-48 30h0m27.5-45.5h0m35.5-1.5h0m-57.5 21.5h0m71.5-20h0m-36.5 23h0m-32.5-2.5h0m10.5 10h0m50.5-19h0m-41.5-0.5h0m58-8.5h0m-39-2.5h0m24-13.5h0m23.5 51.5h0m-70-26.5h0m18-1.5h0m-19.5-0.5h0m-2 3h0m62.5 6h0m-43.5-14h0m-21 22h0m86 10h0m-96-6.5h0m115 2h0m-81-33.5h0m8-5.5h0m-15.5 29.5h0m52-10.5h0m-75-5.5h0m88-9h0m-9 22.5h0m-59-6.5h0m7-7h0m16 8h0m11.5-7.5h0m15 6.5h0m-43-25.5h0m-9.5 21.5h0m-3.5 8h0m32-11h0m4-2.5h0m-42 30h0m63.5-9.5h0m14 8.5h0m-64.5-22.5h0m57-3.5h0m-78 19.5h0m30.5-1.5h0m2-25.5h0m-23.5 18.5h0m106.5 21h0m-112.5-27.5h0m5-7h0m110 43.5h0m-109.5-24.5h0m71.5 6h0m-74.5-16h0m5.5-27.5h0m-8.5 26.5h0m66.5 4.5h0m-48.5-6.5h0m52 5.5h0m-68 12.5h0m53-21h0m-44.5 1h0m107 30.5h0m-32-10h0m-96-2.5h0m47-12.5h0m37.5 3h0m-64 13h0m-6-22.5h0m26 3h0m11 25h0m44.5-14h0m-39-22h0m20.5-24h0m-41 41.5h0m-5-26h0m-7.5 29.5h0m4-22h0m42 1h0m15.5 16h0m-72.5 13h0m83.5-25h0m-1-6.5h0m-89.5 25.5h0m89 4h0m-52.5-21h0m-17.5-6.5h0m37.5-2h0m-4.5 4.5h0m13.5 18h0m-43.5 5h0m-6-8h0m37-25h0m-25 8h0m54 16h0m-34-19.5h0m-10.5 4h0m19 16.5h0m-18-27h0m16.5 4.5h0m-11.5 25h0m-41.5 2h0m100.5-8h0m-35-24h0m-4.5 3h0m12.5 31.5h0m-61-6.5h0m22.5-24.5h0m-27 28h0m7-13h0m55 42h0m-11.5-49.5h0m-15 21h0m-10 0h0m38-35h0m-58 5.5h0m-20 19h0m57.5 2.5h0m11.5 5.5h0m-58.5-7h0m22.5-0.5h0m35 9h0m54.5 9.5h0m-112-4.5h0m-7-13.5h0m59-7.5h0m44.5 27h0m-72.5-9h0m-7.5-13h0m28 52.5h0m-10-62.5h0m0 6h0m5 1.5h0m-1.5 14.5h0m-20-6.5h0m-12.5-1.5h0m58.5-9h0m-76.5 25h0m1.5 7h0m22.5-13.5h0m-24 8h0m50.5-30.5h0m-29.5 15h0m39.5 4h0m-10.5-4.5h0m-38-11.5h0m-2.5 15h0m41.5-5.5h0m-15.5-4.5h0m-15.5-0.5h0m57 25.5h0m-34.5-21.5h0m-38.5 20h0m116.5 13.5h0m-75-34h0m-39.5-1.5h0m49-11h0m-6.5 19.5h0m67 8.5h0m-80.5-25h0m42.5 28h0m42 15h0m-97-46h0m66 1.5h0m-49 6.5h0m36-9.5h0m-43 1h0m20.5-18h0m29.5 66.5h0m-79-26h0m54-27h0m-12.5 9.5h0m-38.5 23h0m58.5-4h0m-38.5-34h0m65 53.5h0m-49-22.5h0m-8 14h0m86-11h0m-37-2.5h0m39.5 40h0m-29.5-58h0m-65.5-7h0m50 38.5h0m-52.5-23h0m89 12.5h0m-67-15.5h0m15.5-3.5h0m-17-3h0m4 3h0m-52 36h0m54.5-58h0m-49 46h0m78.5-16h0m4.5-15.5h0m-42 12.5h0m35.5 29h0m-66.5-23h0m22-19.5h0m3 14h0m-12.5 16h0m58-29h0m-38-14.5h0m-33 55h0m-1-31h0m19 21.5h0m-16-7.5h0m43.5 13.5h0m27-33.5h0m-67.5 8h0m-11 34h0m25.5-41h0m-29 14.5h0m76.5 20h0m-66.5-17.5h0m29-27.5h0m-40.5 45.5h0m23-30h0m-14 1.5h0m-4.5 11h0m105 15h0m-103-19h0m57-16.5h0m36.5 45.5h0m-97-34.5h0m50.5 11h0m-5-33h0m3.5 29h0m-15.5 0.5h0m-28 13.5h0m10.5-16h0m-15.5 12h0m-8.5 4.5h0m38.5-20.5h0m-28 4h0m36.5-12h0m38 41h0m-77-30.5h0m18.5-1.5h0m81 13h0m-18-4h0m-33.5-23.5h0m-50.5 30.5h0m105.5 16h0m-36.5-54h0m-0.5 4h0m-19 27.5h0m-40-11.5h0m26.5 4.5h0m-21 25h0m40-26h0m60 18h0m-88-14.5h0m-20-2h0m6.5 14h0m-4 6.5h0m19.5-25h0m-12.5 2h0m60.5-1.5h0m-78.5 10.5h0m41.5-19.5h0m30.5 31h0m0.5-22.5h0m20.5 19.5h0m-60.5-5h0m30.5-22h0m-19 6.5h0m-5.5 6h0m34.5 12h0m-74.5-10h0m49-20h0m-43.5 20.5h0m30-1h0m3.5 2h0m8-28h0m-50 45h0m73.5-36.5h0m19-10.5h0m-19.5 39h0m-58.5 2.5h0m43.5-4h0m-44-5h0m43.5-7.5h0m-48 0.5h0m77 16h0m-74-12.5h0m71 8.5h0m-58.5-23.5h0m32-4.5h0m4.5 27.5h0m-35.5 2h0m74.5-32h0m-96 30h0m30-10h0m60-1h0m-77.5 2.5h0m24.5-14h0m45-8.5h0m-52 18.5h0m55.5-21h0m-59 6h0m4.5 31.5h0m-28.5-1.5h0m8-22h0m34-12.5h0m64 41.5h0m-12.5-2h0m-95.5-8h0m25-20h0m-10 7h0m6 12h0m12-22h0m-4.5 1h0m-27 28.5h0m43-25.5h0m-45 43.5h0m38-47.5h0m-38.5 22h0m76-8h0m-19.5-6.5h0m-28.5-7.5h0m72 21.5h0m-95 11h0m17-27h0m-5.5 23.5h0m80 0h0m-74-40.5h0m17.5 14h0m-14 0h0m20-6.5h0m0.5 7.5h0m21.5-7h0m-50 41.5h0m10-34.5h0m4.5 1.5h0m39.5-9h0m-35.5-3h0m-25.5 8.5h0m75.5 6h0m-63-16.5h0m57.5 25.5h0m-72.5 6.5h0m31-11h0m-3 2.5h0m42-25.5h0m41.5 42.5h0m-87.5-14h0m15.5-36.5h0m4.5 35.5h0m11.5 4h0m5.5-25.5h0m-36 18.5h0m-4.5-7.5h0m71.5 23.5h0m-21-5h0m-78.5-14h0m20.5 5h0m57 27.5h0m-39.5-38.5h0m46.5 13.5h0m-55.5 4h0m78.5-35h0m-30 28h0m25 34h0m-84-37.5h0m0-11h0m-19.5 18h0m15-3.5h0m56-3.5h0m-71 15.5h0m62.5 4.5h0m5.5-30.5h0m-8.5 0.5h0m-24 15.5h0m-26-16h0m3 1.5h0m2 1.5h0m-11.5 19.5h0m52-26.5h0m-45.5 22h0m57-25h0m-8 11.5h0m-36.5 12.5h0m26-2.5h0m10-18.5h0m12 11.5h0m-27 6h0m-0.5-36.5h0m-14.5 29h0m0-13.5h0m12.5 18.5h0m-1.5-0.5h0m15-14h0m35.5 10.5h0m-81-11.5h0m50.5 34.5h0m-41.5-20h0m35.5-24.5h0m10.5 40h0m-14.5-32h0m5 9.5h0m-50.5 14h0m59-5.5h0m10.5 0h0m25 31.5h0m-81.5-27h0m48.5-8.5h0m30.5 18.5h0m-34.5-39.5h0m-31 6h0m25.5 7.5h0m-42.5 31.5h0m26.5-25h0m14-0.5h0m-23.5 4.5h0m12-16.5h0m-36.5 19h0m29-4.5h0m82 13h0m-89.5-5.5h0m81.5 14.5h0m-46.5-41h0m-33 4.5h0m3 1.5h0m47.5-7.5h0m-43.5 19.5h0m29-6.5h0m-45-1.5h0m39-11.5h0m-27 42.5h0m39.5-25h0m-14-8h0m-17 4.5h0m27 10.5h0m-40.5-4.5h0m6-4.5h0m25.5-2h0m-30 4h0m83.5 3h0m-68.5-6h0m-42.5 21.5h0m49.5-17h0m-29-1.5h0m0.5-2.5h0m39 7h0m-38 9.5h0m-17 16h0m19-35.5h0m32.5-4h0m-14 16.5h0m-15.5-1h0m-4.5-13h0m6-3.5h0m54.5 22h0m14.5 9h0m-91-21h0m6.5 6h0m90 3h0m6 23.5h0m-43-5h0m-30.5-6.5h0m6.5-0.5h0m26.5-24.5h0m4.5 13.5h0m-62-11.5h0m92.5 20.5h0m-27-9.5h0m-8 0h0m-51.5 1h0m38-33.5h0m51 31h0m-87-14.5h0m22 6h0m-19 17.5h0m41-28.5h0m-43 27h0m-14-12.5h0m30-12.5h0m32.5 19.5h0m-4.5-2h0m-48 27h0m17.5-19h0m-4-26h0m47.5 8h0m-11.5 17.5h0m21-4.5h0m-10.5-37h0m-14.5 39.5h0m42.5 17.5h0m-40-35.5h0m-52.5 17.5h0m-4-9h0m57.5 3h0m-13.5-0.5h0m27-0.5h0m-71 6.5h0m-9.5-1h0m92-0.5h0m-84-5.5h0m82-9.5h0m-41 27.5h0m-10.5-24h0m-34 14.5h0m24-25.5h0m-5 37h0m39.5-32.5h0m12 11h0m-49.5-4.5h0m-20.5 6.5h0m-0.5 7h0m14-13h0m47-4h0m-14 16h0"/><path stroke="#0000ff" d="M28.5 126.5h0m0 0.5h0m0-1h0m0-1.5h0m0 0.5h0m0 0.5h0m0.5-0.5h0m0 0.5h0m0-1h0m0-1.5h0m0 0.5h0m0-1h0m-0.5 1.5h0m0.5 0h0m0-2.5h0m-0.5 1.5h0m0 0.5h0m0.5-1.5h0m-0.5 0.5h0m0-0.5h0m0-0.5h0m0-1h0m0 0.5h0m0.5 0h0m-0.5-1h0m0.5 0h0m-0.5-1h0m0 0.5h0m0.5 1h0"/><path stroke="#ff00ff" d="M29 124.5h0m0-1.5h0m0-1h0m0-0.5h0m0 2.5h0m0-1.5h0m0 1h0m0.5-1h0m0-0.5h0m0-0.5h0m-0.5-0.5h0m0-1h0m0.5 0.5h0m-0.5-2.5h0m0.5 3h0m0-1.5h0m0-2h0m0 2.5h0m-0.5-1.5h0m0-2h0m0 0.5h0m0.5 2h0m0-2h0m-0.5 2.5h0m1-0.5h0m-1 0h0m0 1.5h0m1-3.5h0m-0.5-0.5h0m0.5 2h0m-0.5-0.5h0m0.5 2h0m-1-2.5h0m0.5 1h0m0.5-1h0m-0.5-3h0m0 1h0m0 0.5h0m0-3.5h0m0 1h0m-0.5 2h0m0.5-1.5h0m0 1h0m-0.5 1h0"/></g><text x="28.2" y="146.8" text-anchor="middle">0</text><text x="63.9" y="146.8" text-anchor="middle">50</text><text x="99.6" y="146.8" text-anchor="middle">100</text><text x="135.2" y="146.8" text-anchor="middle">150</text><text x="170.9" y="146.8" text-anchor="middle">200</text><text x="206.6" y="146.8" text-anchor="middle">250</text><text x="25.2" y="138.2" text-anchor="end">0</text><text x="25.2" y="117.4" text-anchor="end">20</text><text x="25.2" y="96.6" text-anchor="end">40</text><text x="25.2" y="75.8" text-anchor="end">60</text><text x="25.2" y="55.0" text-anchor="end">80</text><text x="25.2" y="34.2" text-anchor="end">100</text><text x="25.2" y="13.4" text-anchor="end">120</text></g><text x="117.4" y="157.8" text-anchor="middle" style='font-family:"Liberation Serif",serif;font-weight:bold;font-size:9.9px;letter-spacing:-0.3px'>V1</text><text transform="translate(8.1 72.6) rotate(-90)" text-anchor="middle" style='font-family:"Liberation Serif",serif;font-weight:bold;font-size:9.9px'>V2</text><text x="117.4" y="7.7" text-anchor="middle" style='font-family:"Liberation Serif",serif;font-weight:bold;font-size:9.6px;letter-spacing:-0.3px'>KCGWO</text><g style='font-family:"Liberation Serif",serif;font-weight:bold;font-size:8.6px'><path d="M263.2 135.0v-2M263.2 10.2v2M299.0 135.0v-2M299.0 10.2v2M334.7 135.0v-2M334.7 10.2v2M370.5 135.0v-2M370.5 10.2v2M406.2 135.0v-2M406.2 10.2v2M442.0 135.0v-2M442.0 10.2v2M263.2 135.0h2M442.0 135.0h-2M263.2 110.0h2M442.0 110.0h-2M263.2 85.1h2M442.0 85.1h-2M263.2 60.1h2M442.0 60.1h-2M263.2 35.2h2M442.0 35.2h-2M263.2 10.2h2M442.0 10.2h-2" stroke="#7f7f7f" stroke-width="0.8" fill="none"/><rect x="263.2" y="10.2" width="178.8" height="124.8" fill="none" stroke="#7f7f7f" stroke-width="1"/><g fill="none" stroke-linecap="round" stroke-width="3.8"><path stroke="#ff0000" d="M266 96.5h0m0.5-0.5h0m0 2h0m0-1h0m-0.5-1h0m0 1h0m-0.5-2.5h0m1 3h0m1 2h0m-1.5-4h0m1.5 3h0m-0.5-1.5h0m-1-2h0m0.5 1.5h0m-1-3.5h0m2 5h0m-2-6h0m2 5h0m-1.5-2.5h0m2 4h0m-0.5 0.5h0m-0.5-5.5h0m0 2h0m2.5 4.5h0m-1-2.5h0m-0.5 0.5h0m-1-0.5h0m0 0.5h0m-1.5-4.5h0m1 0.5h0m1.5 5h0m-1-2.5h0m-1.5-4h0m1.5 6.5h0m-1-5.5h0m2 4h0m-0.5-1h0m-1-1h0m-1-0.5h0m1 0h0m1 2.5h0m-0.5 2.5h0m0-1.5h0m0.5 2h0m-2.5-7.5h0m3 4h0m-3-6h0m0.5 3h0m2 2h0m-0.5 3.5h0m1.5-1.5h0m-0.5 3h0m-2-7h0m0.5 4.5h0m-0.5-5.5h0m1.5 7h0m-0.5-5h0m-1 2.5h0m3.5 0.5h0m-1 1.5h0m-1.5-3.5h0m1 4h0m0.5-1h0m0 1.5h0m-0.5 0h0m1.5 0h0m-0.5 0.5h0m-0.5-2.5h0m1.5 1.5h0m0.5-1h0m-1 0.5h0m1 0h0m2 3h0m-2.5-0.5h0m3-2h0m-4.5-4.5h0m2.5 3.5h0m-0.5 2h0m-4-8h0m0.5 1.5h0m2 5h0m-1 0h0m1 1h0m3 0h0m-4.5-5h0m1.5 2h0m0.5 3.5h0m-1-4h0m1 4.5h0m1.5 1.5h0m-2-6h0m1 3.5h0m-1.5 1h0m0.5-1.5h0m1.5 0.5h0m-1.5-2h0m1 1h0m0-0.5h0m-1.5 1h0m2.5 1h0m-2.5-6h0m3 7h0m-3.5-5.5h0m1.5 2h0m-3.5-6.5h0m6 10h0m-6.5-11h0m6.5 10h0m-5.5-1h0m2.5-2h0m3.5 5h0m-3.5-1h0m1.5-2h0m0 1.5h0m1-1.5h0m0 1h0m-0.5-1.5h0m0 1h0m1 1h0m-6-9h0m3.5 6.5h0m-1.5-3.5h0m2 3h0m0.5 0h0m2 5h0m-2.5-2.5h0m-1-2h0m-3.5-7.5h0m9.5 11h0m-2-1h0m3 0.5h0m3.5 0.5h0m-5.5-1.5h0m-0.5 1.5h0m-0.5-2h0m7 3.5h0m-1.5-2.5h0m-5.5 0.5h0m4.5 1.5h0m-2-2.5h0m-1.5 0.5h0m-2-2h0m4.5 1.5h0m-3 2h0m-1-1h0m2 1.5h0m-1.5-4h0m6 3.5h0m-1-0.5h0m0.5 0.5h0m-3-1h0m-2-1h0m1 0.5h0m0-1h0m-3.5-0.5h0m2 2.5h0m-0.5-2h0m4.5 0.5h0m-5 2.5h0m7.5 1.5h0m-5.5-2.5h0m-2.5-2h0m4 2.5h0m-1-3.5h0m-4-1.5h0m1 1.5h0m5.5 4.5h0m-5.5-2.5h0m0 1.5h0m6.5 1h0m-5.5-2.5h0m2 1.5h0m4 2.5h0m-5-3.5h0m4 0.5h0m-4-1h0m-1.5 1.5h0m3 0.5h0m-3-3.5h0m-1 1.5h0m2-0.5h0m1 2h0m2-0.5h0m-4 0h0m2.5 0h0m-1.5 1h0m-1.5-4.5h0m4 4.5h0m-1.5-1.5h0m-2-3h0m6 5.5h0m-4-1h0m1-1.5h0m1.5 2h0m2 0h0m-1-1h0m-1.5 0h0m-1.5-2h0m4.5 1h0m-5.5 1.5h0m6-0.5h0m-7-2h0m8.5 2.5h0m-10-5h0m5.5 3h0m0.5 2h0m1 0h0m-1.5-1h0m2 1h0m-6-3.5h0m-1 4h0m10 0.5h0m-6.5-4h0m2 2.5h0m-1.5 1.5h0m1.5 0h0m2.5-0.5h0m-4-3.5h0m-6-3h0m0.5 0.5h0m9.5 6.5h0m-8-2h0m4 2.5h0m1.5-2.5h0m-0.5 2.5h0m0-2h0m-2-3h0m1.5 1.5h0m0.5 2h0m-7-1h0m1.5 0h0m8.5 1h0m-9-1.5h0m8 0h0m-4 0h0m3.5-0.5h0m-7.5 1.5h0m-0.5-1.5h0m-1 0h0m3 3h0m-0.5-6h0m3.5 4.5h0m3.5 2h0m-7.5-7h0m-2.5 3h0m12.5 3h0m-11-1.5h0m1.5-4.5h0m5.5 4h0m-1.5 0.5h0m2-0.5h0m3.5 2.5h0m-10.5-2h0m7.5 3.5h0m-1.5-5.5h0m2.5 3.5h0m0.5-2h0m-1 0.5h0m2.5 2.5h0m-3-3h0m1 1.5h0m2.5 2h0m-6-1.5h0m0.5-3.5h0m2 2.5h0m2.5 2h0m-1.5-0.5h0m1-1h0m-1.5 1h0m-1 0.5h0m1.5-2.5h0m1 2.5h0m0-3h0m0.5 1.5h0m0 1h0m1-1h0m-4-2h0m-2.5-0.5h0m5.5 3h0m-4.5 0.5h0m0-1h0m0.5 2h0m4.5 0.5h0m-1-3.5h0m3 3.5h0m-5.5-2h0m0.5 1h0m-4.5-7h0m7.5 5h0m1 2.5h0m-7-4h0m1 2.5h0m-1 0h0m2.5-3h0m1.5 0.5h0m0 4.5h0m-3.5-4.5h0m4.5 1.5h0m-3.5-1h0m2-1h0m1.5 3.5h0m-6.5-5h0m0.5 5.5h0m5.5-4h0m1.5 4.5h0m-2-0.5h0m-1.5-0.5h0m-4-4h0m6 1h0m-1-1.5h0"/><path stroke="#ffff00" d="M265.5 94h0m0-3h0m0 1.5h0m-0.5-4.5h0m0.5 2h0m-0.5-2.5h0m0 2.5h0m0-3h0m0.5 2.5h0m-0.5-0.5h0m-0.5-4h0m0 0.5h0m0.5 3h0m0-2.5h0m0.5 7h0m0.5 2.5h0m-1-6h0m0.5 1h0m0 1h0m0.5 1h0m0-1h0m-0.5 3h0m-1-6.5h0m1 0.5h0m0 0.5h0m-0.5 5h0m0-3h0m1 2.5h0m-1.5-9h0m0.5 7.5h0m-0.5-5.5h0m0.5 4h0m-0.5-4.5h0m1.5 8h0m0-3h0m-1.5-7h0m2 9.5h0m-1.5-9h0m0.5 7.5h0m1 2.5h0m-1.5-3h0m0-5h0m0-1.5h0m-0.5 2h0m1 1h0m-1-4.5h0m2.5 11.5h0m-1-2h0m0.5 1h0m1 0h0m-2-6.5h0m0 6h0m1-1.5h0m-0.5 0h0m0-2.5h0"/><path stroke="#00ff00" d="M263.5 42h0m0 14h0m0-9.5h0m0-12.5h0m0-2.5h0m0 13.5h0m0-6.5h0m0-2.5h0m0-3h0m0 9.5h0m0 13h0m0-17.5h0m0 11h0m0-0.5h0m0-5.5h0m0 2.5h0m0-19h0m0-0.5h0m0 14.5h0m0-1.5h0m0 10.5h0m0-14h0m0 17.5h0m0-24.5h0m0 16h0m0-1h0m0 2.5h0m0-9h0m0 14.5h0m0-4.5h0m0-7.5h0m0-6h0m0 14.5h0m0 7h0m0-27h0m0 7h0m0 2.5h0m0-1h0m0 4.5h0m0-8.5h0m0 11.5h0m0 3.5h0m0 3.5h0m0-0.5h0m0 8h0m0-33.5h0m0 28.5h0m0 3h0m0-22h0m0-7.5h0m0 0.5h0m0 3.5h0m0 21h0m0-2h0m0-8.5h0m0 12.5h0m0 0.5h0m0-2h0m0-29h0"/><path stroke="#00ffff" d="M284 105h0m-0.5 0h0m-1-1h0m-3-1.5h0m3 2h0m-2.5 0.5h0m2-1h0m-1.5-1.5h0m0 1h0m0.5 1h0m0.5 0h0m0.5 1.5h0m1-1.5h0m-3.5 0.5h0m4.5-1h0m-3-2h0m-1 2.5h0m4.5 2h0m-2-1.5h0m-1-1h0m-1.5-1h0m5 0.5h0m-4 0h0m0-1h0m-0.5 1.5h0m2-0.5h0m0.5-0.5h0m-3.5 0h0m0 0.5h0m5.5-0.5h0m-3 1.5h0m-3-1h0m0.5 0.5h0m4-1h0m-2.5 1h0m2.5 0h0m0-0.5h0m-2 2.5h0m0.5-0.5h0m-1-0.5h0m3-0.5h0m-3.5 0.5h0m-1-3.5h0m5 3h0m-4.5-1h0m1 2.5h0m2-2h0m-1.5-1h0m0 0.5h0m3.5 1h0m-3 0.5h0m-1-2h0m3.5 1h0m-2-1.5h0m-0.5 1h0m-2.5 1h0m6-0.5h0m-5.5-1.5h0m3.5 2h0m0-2h0m-3 0.5h0m2.5 2.5h0m2-1.5h0m-3-1.5h0m1 2.5h0m-4-0.5h0m2.5 0.5h0m2 1.5h0m-3-1h0m1-3.5h0m-2.5 0.5h0m1 4h0m3-3h0m1.5 0h0m-0.5-0.5h0m0 0.5h0m-0.5 2h0m-1.5-2.5h0m-1.5 1.5h0m3-2.5h0m1.5 3h0m0.5-0.5h0m0 1h0m-1-2.5h0m2.5 0.5h0m-1-1h0m-1.5 3.5h0m-2.5 0.5h0m0.5-3.5h0m-1.5 2.5h0m3 0.5h0m-5-1h0m7-2h0m0.5 3.5h0m-5-1h0m4.5-1.5h0m-2.5 2h0m-1 0h0m-3.5-0.5h0m1-4.5h0m3 1.5h0m3 1h0m0.5 0h0m-5-1h0m2.5 0h0m-4 1.5h0m5.5-1.5h0m-3 4h0m-1.5-5h0m1.5 4h0m39.5 1.5h0m50.5 5.5h0m-21.5-2.5h0m20.5 1.5h0m-56.5-3h0m44.5 3.5h0m28 1h0m-98-7.5h0m18 2.5h0m4-1h0m26 3h0m-38-3h0m49.5 3.5h0m-43.5-3.5h0m13.5 2h0m19.5 0h0m-34.5-1.5h0m31.5 0.5h0m-3.5 0.5h0m-30-2.5h0m53 4.5h0m-44.5-3h0m-24.5-2h0m82.5 6h0m16.5 0.5h0m-37-1.5h0m-56-4.5h0m-3-2h0m51.5 5.5h0m-44.5-5h0m11 3h0m19.5 1h0m26 0.5h0m16 1.5h0m-57-2.5h0m14.5 1h0m-4-0.5h0m7.5 1h0m40.5 2.5h0m-39-5.5h0m31 4h0m-54-4.5h0m21 2.5h0m48.5 3h0m-52.5-2h0m9 0h0m-14.5-0.5h0m44 3.5h0m-48.5-5.5h0m12 1h0m19.5 2.5h0m-49-6h0m17 3h0m-4.5-1.5h0m90.5 8h0m-105.5-7.5h0m-9.5-3h0m9 2.5h0m35 4h0m44 1h0m-48-2h0m-14.5-1h0m92.5 5.5h0m-45-3.5h0m-61.5-2.5h0m39.5 1.5h0m15 0.5h0m36.5 2.5h0m-58.5-3h0m0.5 0.5h0m-8.5 0h0m62 2h0m-91-6h0m46 5h0m-29-4h0m-2 0h0m-16.5-0.5h0m28 1h0m-18-1h0m34 3h0m-23.5-1.5h0m8-0.5h0m37 3.5h0m-63.5-5h0m10 1h0m23 2h0m28 2h0m36.5 2.5h0m-100-8h0m15.5 1h0m2 2h0m1 0.5h0m-7.5-1.5h0m4.5-0.5h0m76.5 6.5h0m-78.5-6.5h0m3 0h0m20 2h0m19 1h0m-21-1.5h0m-26-2.5h0m21.5 3h0m76 5h0m-50.5-3h0m20 1h0m4.5 1h0m-84-7.5h0m83 8h0m-49-4h0m29.5 2.5h0m-39.5-4.5h0m9.5 0.5h0m15.5 2h0m7 0h0m-27-1.5h0m31.5 2h0m-27.5-2h0m-3.5-1h0m64 5.5h0m-18-1h0m-20-1.5h0m-32.5-2h0m50.5 3h0m-25.5-2.5h0m13.5 1.5h0m-52-5h0m49.5 5.5h0m15.5-0.5h0m-69-5h0m10 2h0m72 5.5h0m5.5-0.5h0m-65-4h0m56.5 5h0m-15-3h0m12 2.5h0m-32-4.5h0m34.5 3h0m7.5 1.5h0m-33-2.5h0m8 0h0m-29-1.5h0m21.5 1h0m-16.5 1h0m-27-4h0m-4.5 0h0m87 5h0m-17 0h0m-62.5-3.5h0m-8-2.5h0m63 7h0m-11.5-3h0m-10 0h0m62.5 3.5h0m-47-3.5h0m-64.5-5.5h0m77.5 8h0m-27-1.5h0m-20-2.5h0m-4-0.5h0m-3.5 0h0m-15.5-1h0m2 0.5h0m-2.5-1h0m89.5 5.5h0m-36-0.5h0m-1-1h0m-62-5.5h0m74.5 7h0m-50.5-2h0m5.5-2h0m11.5 2.5h0m28.5 1h0m26.5 2.5h0m-94.5-8h0m102 7h0m-100.5-6h0m100.5 7.5h0m-76.5-6h0m37 3h0m-56.5-5.5h0m56 5h0m-42-3.5h0m-17.5-2h0m66 4.5h0m-32-1h0m22.5 1.5h0m35 2h0m-8.5 2h0m-66.5-7h0m4.5 0.5h0m38.5 2h0m-53.5-2.5h0m23-0.5h0m3.5 2h0m48.5 4h0m-32.5-2.5h0m-1.5 0h0m19 0.5h0m35 3.5h0m-34-3.5h0m43.5 3.5h0m-92.5-7h0m55 5h0m-21.5-3h0m-42.5-2.5h0m91 6.5h0m-50-3.5h0m23.5 2h0m-23.5-1.5h0m37 1.5h0m-38.5-3.5h0m1 0.5h0m39 4h0m-10.5-1h0m5.5-0.5h0m-66-4.5h0m102 10h0m-61.5-5.5h0m-41-3.5h0m81.5 6h0m-79.5-6h0m53.5 3.5h0m-37-3h0m-27.5-2h0m30 2h0m-35.5-2h0m37.5 4.5h0m20 0h0m-15-1h0m22.5 1.5h0m-1.5 0.5h0m-24-3.5h0m-35-2.5h0m16 3h0m-11.5-2h0m8.5 0.5h0m-11.5-1h0m70 6h0m-68.5-7h0m-1.5 0.5h0m54 5h0m0.5 1.5h0m30.5 0h0m-72.5-5h0m8 0h0m-29.5-1h0m1 1.5h0m26.5 0.5h0m31 1h0m4 1.5h0m25 1.5h0m-28-2h0m3.5-0.5h0m10 2h0m-57-3.5h0m42 2h0m-47-2.5h0m32 1.5h0m-45-4h0m-3-2h0m14 3.5h0m42 3h0m-54-5h0m14.5 1h0m23.5 2.5h0m-27.5-2h0m75.5 5.5h0m-0.5 0h0m-59.5-3.5h0m-4 1h0m65 3.5h0m27.5 1h0m-87-6h0m16 1.5h0m-7.5 0.5h0m19.5-1.5h0m-5 1.5h0m-46.5-4.5h0m90 7h0m-57.5-3h0m-16.5-1.5h0m6.5 0h0m43 3.5h0m-45-3h0m6-0.5h0m-2.5-0.5h0m22.5 2h0m-34-2h0m69.5 5.5h0m-22-2.5h0m-43-2.5h0m22.5 1h0m-17.5-1.5h0m96.5 8.5h0m-120-11h0m82 7h0m19.5 2.5h0m-97-9h0m-5.5 0h0m14 2h0m12.5 0.5h0m-11-1.5h0m73 7h0m-76.5-6.5h0m17 2.5h0m66.5 4h0m3-0.5h0m-101-8h0m59.5 5.5h0m-41.5-3h0m11.5 1h0m27.5 2h0m-10-1.5h0m-6 0.5h0m-20.5-2h0m-14.5-2h0m60 6h0m-43.5-3.5h0m-7.5 0.5h0m69 2h0m6 2.5h0m-7.5 0h0m-61-6h0m56.5 3.5h0m-24.5-1h0m-5.5 1h0m41.5 1h0m-89-6h0m35.5 3h0m29.5 2h0m27 2.5h0m-32-2h0m4-1h0m-18 0h0m-29.5-4h0m40 3h0m-12 1.5h0m-44-5h0m34.5 3h0m17 2h0m-48-6h0m66.5 7h0m-35.5-1.5h0m23 0h0m-56-3.5h0m79.5 3.5h0m-57.5-2h0m-26.5-2.5h0m95.5 6.5h0m-65.5-2h0m52 1.5h0m-77-6h0m23.5 3.5h0m53 4.5h0m-27-4h0m-6.5 0h0m9.5 0.5h0m66 5.5h0m-48.5-4h0m-25-3.5h0m-6.5 1h0m54.5 4h0m-81-6h0m35.5 3.5h0m12.5-0.5h0m-33.5-3.5h0m-25-0.5h0m13 0.5h0m-12 0.5h0m22 0.5h0m38 4.5h0m-44.5-5.5h0m79 6h0m-51-1.5h0m-5.5-0.5h0m10-2h0m30 2.5h0m5.5 1.5h0m-53.5-3h0m32.5 1.5h0m-48-3.5h0m106 7h0m-48.5-4.5h0m-20.5-0.5h0m-43.5-3.5h0m21 2.5h0m-24.5-3h0m52 6h0m-6.5-0.5h0m-26-2h0m-15.5-1.5h0m21 1.5h0m56.5 4.5h0m-19.5-2.5h0m4 0.5h0m-11 0.5h0m-38.5-4.5h0m90.5 8h0m-45.5-3.5h0m-62.5-7.5h0m0 1.5h0m-8 0.5h0m0.5-2h0m-1 1.5h0m36 3.5h0m-23-1h0m30 0h0m0.5 1h0m-18-0.5h0m-18.5-3h0m37.5 2.5h0m1 1.5h0m28 2h0m-42.5-5h0m19.5 2h0m-38-1h0m56.5 3h0m25 1.5h0m-68.5-3h0m-21.5-4.5h0m10 0h0m106.5 10.5h0m-40-3h0m-54-5.5h0m25.5 3h0m-24.5-1h0m-3.5 0h0m56.5 1.5h0m-6 0.5h0m1.5 1h0m31.5 0.5h0m-56-4h0m-5.5 0.5h0m31.5 3.5h0m-31.5-3h0m-25-0.5h0m24 0.5h0m54 3.5h0m-80-5.5h0m-20-2h0m68 6.5h0m-15.5-3h0m-11.5-1h0m-8.5 1.5h0m56.5 3.5h0m-47-3h0m5.5 0.5h0m-20.5-2h0m-4 0h0m59.5 4h0m-13-2h0m4 0h0m-65.5-7h0m-5.5 1h0m70 7.5h0m4 0h0m-15-2h0m-63.5-4h0m22 0h0m22.5 2.5h0m60 5.5h0m-37-2.5h0m40.5 2.5h0m7 0h0m-99-6.5h0m5.5-0.5h0m89 7h0m-54.5-5h0m-17 1h0m25-0.5h0m-14.5-1.5h0m42 5.5h0m-79.5-7h0m41 1.5h0m-14.5 1.5h0m-32.5-3.5h0m27.5 2h0m5 2.5h0m66 2.5h0m-54-4.5h0m23 4h0m25-0.5h0m-32.5-1h0m-51.5-5h0m95 8h0m-90-7h0m82 6.5h0m-20-3h0m-48.5-2.5h0m14.5 1h0m-9 0h0m-26.5-3h0m-2.5-0.5h0m31 4.5h0m8.5 1h0m2.5-0.5h0m-40-3.5h0m91 6.5h0m-41.5-5.5h0m27.5 4.5h0m-84.5-6h0m2.5 0.5h0m30 1.5h0m-30-4.5h0m38 5.5h0m-25.5-3h0m104 8h0m-60.5-5h0m-23-1h0m-5 0.5h0m50.5 2.5h0m-52-2h0m35 1.5h0m-27-3.5h0m-1.5 2h0m53.5 3h0m-74-4.5h0m6.5 0h0m52 3.5h0m-59-6h0m14 3h0m58 3.5h0m-37.5-2.5h0m-51-4.5h0m9 0.5h0m78 7h0m41 3h0m-68.5-4h0m-19-1.5h0m79.5 3.5h0m-69.5-5h0m-23.5-0.5h0m-6.5 0h0m-5-1.5h0m101.5 7h0m-15-2h0m-66.5-4.5h0m-31-1h0m16 1h0m3.5 0.5h0m-16-3h0m114 10h0m-70-3.5h0m7.5-0.5h0m-32-1.5h0m-23.5-4.5h0m66.5 6h0m-17 1h0m-42.5-6.5h0m42 6h0m4.5-1h0m-1.5 1.5h0m-25.5-2h0m62.5 4h0m30.5 1.5h0m-24.5-3h0m-87.5-6h0m45 5h0m16.5 0h0m-39-2h0m-28.5-4.5h0m118.5 11h0m-24.5-3.5h0m-100-5.5h0m27.5-1h0m5.5 2.5h0m11.5 1.5h0m-27-3.5h0m113.5 9h0m-69.5-5h0m-21-1.5h0m-15.5 0h0m1-1.5h0m32.5 2.5h0m-9 0.5h0m-11-1.5h0m37 3.5h0m-33.5-2h0m17 0h0m9.5 0.5h0m-51.5-4h0m96.5 7h0m-85.5-5.5h0m-13.5-1.5h0m-10.5-1.5h0m91.5 8h0m-85.5-7.5h0m54 6h0m7 1h0m45.5 2.5h0m-106-8h0m11 1.5h0m11.5 0h0m45.5 2h0m20 3h0m6 0h0m-105-7.5h0m8.5 0h0m108.5 10h0m-14.5-3.5h0m-36.5-3h0m12.5 1.5h0m-60-3h0m44.5 2h0m-22.5-2h0m-4.5-0.5h0m13 1h0m49 6h0m-70.5-6h0m49 1h0m-2 2.5h0m-19-1.5h0m-37-4h0m34 2h0m7.5 1h0m11 2h0m-38.5-4h0m75.5 5.5h0m-78.5-5.5h0m-26-2.5h0m3 1.5h0m7.5 0.5h0m49.5 2.5h0m33.5 4.5h0m-74-6.5h0m6 2.5h0m43.5 2h0m-73-6h0m46.5 4h0m34.5 1.5h0m-42.5-2.5h0m44.5 2.5h0m-18-0.5h0m-12-1h0m-49.5-4h0m12.5 1h0m42.5 3h0m-3.5-1h0m12 3.5h0m-7.5-2.5h0m25.5 3h0m-7-2.5h0m-38.5 0.5h0m-17.5-4.5h0m55 4h0m-6 0.5h0m-25.5-2h0m-8.5 0.5h0m28 1h0m-44.5-2.5h0m78 4.5h0m-87.5-6h0m116.5 8h0m-87.5-5.5h0m71.5 3.5h0m-19 0.5h0m10.5 1h0m-92.5-8h0m-1-0.5h0m94 8h0m-21.5-1.5h0m-16 0.5h0m-9-1h0m-14-2.5h0m48.5 3.5h0m21.5 2.5h0m-80.5-8h0m86 8h0m-59-3.5h0m26-1h0m-71.5-3.5h0m20.5 1.5h0m1.5 1.5h0m56.5 3.5h0m-67.5-6h0m41 3h0m-30-2.5h0m-34.5-1.5h0m67.5 5h0m36 3.5h0m-36-2.5h0m63.5 4.5h0m-126-10h0m56.5 4h0m-37.5-2.5h0m55 3.5h0m1-1h0m30 5h0m-65.5-7.5h0m-2.5 0h0m69.5 4.5h0m-71-5h0m7 3h0m44 1.5h0m-79-7h0m43 5.5h0m-17-2.5h0m49.5 2.5h0m9 2h0m-50-2.5h0m-41.5-3.5h0m6-0.5h0m-8.5-1.5h0m42.5 4.5h0m28 1.5h0m-4.5-0.5h0m38 3h0m-65-4h0m68 4h0m-43-1.5h0m-52.5-4h0m99 5h0m-78-5h0m-34.5-3.5h0m20 2h0m70.5 6.5h0m-56-4.5h0m18.5 2h0m33 2.5h0m-3 0h0m29 1.5h0m-107.5-9.5h0m33.5 4.5h0m4 0h0m12.5-0.5h0m-4.5-0.5h0m48 4.5h0m-5-0.5h0m-54-4.5h0m-25-0.5h0m34 3h0m-7.5 0h0m-30.5-4h0m112.5 9.5h0m-67.5-4h0m54.5 1h0m-64-4h0m39.5 2h0m-79.5-4.5h0m57.5 3.5h0m-56-3h0m111.5 7h0m-25-1.5h0m-55.5-1h0m42.5-0.5h0m-48.5-3h0m-22.5-1h0m71 3h0m26.5 4h0m-53-5.5h0m-43.5-1h0m103 5h0m-19 1.5h0m-82.5-5.5h0m103.5 5.5h0m-59.5-3.5h0m-39.5-3h0m43 3h0m-50-3h0m97.5 7h0m-34.5-4.5h0m0.5 1h0m19.5 0.5h0m-17.5 0h0m-69-6h0m62.5 4.5h0m27.5 3.5h0m-47-4.5h0m27.5 1.5h0m-21 0h0m33 1.5h0m-1 0.5h0m-8.5 2h0m-0.5-2.5h0m-24-1.5h0m-6-2.5h0m21.5 1.5h0m7.5 1.5h0m-66.5-3h0m9-2h0m71.5 7.5h0m-79.5-8h0m62.5 7h0m-8-2h0m18 1h0m-10.5-0.5h0m-22.5-0.5h0m45.5 2h0m-9.5-1.5h0m-69-2h0m88.5 4.5h0m18 2h0m-72.5-4.5h0m11 0.5h0m1-0.5h0m33.5 3h0m-52.5-5.5h0m-39-1.5h0m50.5 4h0m-49-6h0m29 3h0m-13.5 1h0m19 0h0m-4 1h0m62.5 4h0m-30.5-3h0m-2.5 0.5h0m-62-4.5h0m96.5 6h0m-23.5-0.5h0m-22-2h0m-49.5-2.5h0m94.5 6h0m-0.5 0.5h0m-28.5-4h0m-1 1h0m6 0h0m2-1h0m-81.5-5h0m41.5 4h0m7.5 0.5h0m59 4.5h0m-39-4h0m29 2.5h0m31.5 2.5h0m-94-5.5h0m-17-4h0m75.5 7.5h0m18.5 0.5h0m-60-5h0m-12.5 0h0m21 1h0m46.5 5h0m-95-8h0m72 5h0m-33-2h0m8 1h0m-54.5-6.5h0m2.5 2h0m59 3.5h0m13.5 1h0m-50.5-2.5h0m-16.5-2h0m7 1.5h0m18 0h0m31.5 2h0m-59-2.5h0m68.5 4h0m-42-4h0m-33.5-1.5h0m72 7h0m-66-5.5h0m-3.5-1.5h0m61 4.5h0m2 1h0m-31.5-4h0m84.5 7h0m-73.5-5.5h0m36.5 3h0m-55-3h0m-3-1.5h0m54 3.5h0m-39-2.5h0m83.5 6h0m2.5 0.5h0m-38-3.5h0m-75-5h0m63.5 6.5h0m-11-1.5h0m62.5 5h0m-114-10.5h0m82 7.5h0m-39-3h0m20.5 2h0m-46.5-5h0m-7.5-0.5h0m46.5 3.5h0m15.5 3.5h0m-46-6.5h0m57 4h0m-91-6.5h0m89 7h0m-12 2h0m-58-7h0m9 2h0m75 5h0m-93-5.5h0m50.5 3.5h0m-25-4h0m38.5 3.5h0m-58.5-3h0m-20-4.5h0m68 8h0m54.5 3h0m-15.5-2h0m-52-2h0m-6.5-2h0m-19.5 0.5h0m45.5 1h0m-75-6.5h0m-1.5 0.5h0m21 1.5h0m29 3h0m1 0.5h0m17.5 3h0m47.5 2h0m3.5-0.5h0m-31-2h0m-35.5-2h0m-49.5-4.5h0m23 1h0m65.5 5h0m28.5 2.5h0m-36.5-1.5h0m39.5 2h0m-29.5-2.5h0m-16 1h0m-52.5-4h0m89 4h0m-67-2.5h0m5.5-1h0m29.5 3h0m4.5 0h0m-28.5-1h0m27 1h0m-67.5-5.5h0m15 2h0m47 3.5h0m31.5 2h0m-80.5-6h0m71.5 5h0m11 0.5h0m-113-7h0m54 4h0m-16-3h0m5.5 1h0m60.5 4h0m-101.5-9h0m53 7.5h0m15.5 1h0m-32.5-2h0m-21.5-2h0m40.5 0.5h0m59.5 6h0m-88-5h0m-17.5-2h0m-11-3.5h0m73 7h0m20.5 2h0m-20.5-1h0m-25.5-3.5h0m-43-4h0m49 4h0m0 0.5h0m28.5 2.5h0m-2.5 1h0m-27-1.5h0m-52.5-5.5h0m0.5-1h0m27 5h0m72.5 1.5h0m-78.5-5h0m24.5 3.5h0m0-1.5h0m-18.5-2h0m44.5 6.5h0m8.5-1h0m-2.5 0.5h0m-30-3h0m16 3.5h0m5.5-2.5h0m31 2.5h0m-71-3h0m49 0.5h0m24.5 1.5h0m-32.5-1.5h0m-49.5-1.5h0m-12-3h0m0.5-0.5h0m49 4h0m-13.5 1h0m44.5 0.5h0m-30.5 0.5h0m-6.5-1.5h0m-3.5 0h0m48.5 3.5h0m-32.5-2.5h0m-4 0h0m-37-2h0m5.5-0.5h0m78.5 5.5h0m-37-1.5h0m-4-0.5h0m-40.5-5h0m32 2h0m-58-3.5h0m95.5 7h0m-73.5-5.5h0m34.5 2.5h0m-28-0.5h0m54.5 2.5h0m15 2h0m-91.5-6.5h0m34.5 1h0m68.5 6h0m-6-1.5h0m-4.5 1h0m-44-2h0m-33-2.5h0m41 3h0m6 0.5h0m-5-1h0m-34-2.5h0m46 2h0m28.5 2h0m-16 0.5h0m-52-4h0"/><path stroke="#0000ff" d="M263.5 59h0m0 1.5h0m0 7h0m0-5h0m0-1h0m0 1.5h0m0-1h0m0 4.5h0m0-10.5h0m0 2.5h0m0-3.5h0m0 2h0m0 7.5h0m0 1.5h0m0-6h0m0 3.5h0m0-4h0m0 6h0m0-9h0m0.5 15.5h0m0 4h0m-0.5-20.5h0m0.5 11.5h0m0 2.5h0m0-1.5h0m0 6.5h0m-0.5-9.5h0m0-11.5h0m0.5 20h0m-0.5-20.5h0m0.5 15.5h0m0 1.5h0m-0.5-6h0m0 5.5h0m0-1h0m0-10.5h0m0-0.5h0m0.5 15h0m0-5h0m-0.5-6.5h0m0 7h0m0-1h0m0.5 3.5h0m0 1h0m-0.5-2.5h0m0.5 5h0m-0.5-2.5h0m0.5-2.5h0m0 4h0m0-2h0m-0.5-1h0m0.5 5h0m-0.5-20.5h0m0 16h0m0.5-4h0m0 10h0m-0.5-5.5h0m0-17h0m0.5 11h0m-0.5-13h0"/><path stroke="#ff00ff" d="M264 76.5h0m0 2.5h0m0-3h0m0-3h0m0 4h0m0 1.5h0m0-0.5h0m0-3.5h0m0-0.5h0m0 1.5h0m0 5h0m0.5-0.5h0m-0.5-6.5h0m0 4h0m0.5 3.5h0m-0.5-6h0m0.5 9h0m0-1h0m-0.5-11.5h0m0 8.5h0m0.5 0.5h0m-0.5-1h0m0.5 3h0m-0.5-10h0m0.5 7h0m-0.5-7.5h0m0.5 10h0m-0.5-11h0m0.5 14h0m-0.5-2h0m0-2h0m0 1h0m0.5 5.5h0m0-10h0m0.5 8h0m0 0.5h0m-0.5-1.5h0m0-3h0m0.5 6.5h0m0-1h0m-0.5-1.5h0m-0.5-4h0m0.5 5h0m0.5-1.5h0m-0.5-1.5h0m0 3.5h0m0.5-0.5h0m0 2h0"/></g><text x="263.2" y="146.8" text-anchor="middle">0</text><text x="299.0" y="146.8" text-anchor="middle">50</text><text x="334.7" y="146.8" text-anchor="middle">100</text><text x="370.5" y="146.8" text-anchor="middle">150</text><text x="406.2" y="146.8" text-anchor="middle">200</text><text x="442.0" y="146.8" text-anchor="middle">250</text><text x="260.2" y="138.2" text-anchor="end">-10</text><text x="260.2" y="113.2" text-anchor="end">0</text><text x="260.2" y="88.3" text-anchor="end">10</text><text x="260.2" y="63.3" text-anchor="end">20</text><text x="260.2" y="38.4" text-anchor="end">30</text><text x="260.2" y="13.4" text-anchor="end">40</text></g><text x="352.6" y="157.8" text-anchor="middle" style='font-family:"Liberation Serif",serif;font-weight:bold;font-size:9.9px;letter-spacing:-0.3px'>V1</text><text transform="translate(244.5 72.6) rotate(-90)" text-anchor="middle" style='font-family:"Liberation Serif",serif;font-weight:bold;font-size:9.9px'>V3</text><text x="352.6" y="7.7" text-anchor="middle" style='font-family:"Liberation Serif",serif;font-weight:bold;font-size:9.6px;letter-spacing:-0.3px'>KCGWO</text><g style='font-family:"Liberation Serif",serif;font-weight:bold;font-size:8.6px'><path d="M499.0 135.0v-2M499.0 9.6v2M534.6 135.0v-2M534.6 9.6v2M570.2 135.0v-2M570.2 9.6v2M605.8 135.0v-2M605.8 9.6v2M641.4 135.0v-2M641.4 9.6v2M677.0 135.0v-2M677.0 9.6v2M499.0 135.0h2M677.0 135.0h-2M499.0 114.1h2M677.0 114.1h-2M499.0 93.2h2M677.0 93.2h-2M499.0 72.3h2M677.0 72.3h-2M499.0 51.4h2M677.0 51.4h-2M499.0 30.5h2M677.0 30.5h-2" stroke="#7f7f7f" stroke-width="0.8" fill="none"/><rect x="499.0" y="9.6" width="178.0" height="125.4" fill="none" stroke="#7f7f7f" stroke-width="1"/><g fill="none" stroke-linecap="round" stroke-width="3.8"><path stroke="#ff0000" d="M502 129.5h0m0.5-0.5h0m0 1h0m-1-1.5h0m0.5 2h0m1.5 1.5h0m-2-2.5h0m0 0.5h0m1.5 1.5h0m-0.5-1h0m0 0.5h0m-1-0.5h0m0-1.5h0m2 1.5h0m0 0.5h0m-0.5-0.5h0m0.5 1h0m-1.5 0h0m3 0h0m-1-1.5h0m0 0.5h0m-2.5 1h0m0.5-0.5h0m-1-2h0m1.5 2.5h0m-0.5-2.5h0m2 2.5h0m-1-2.5h0m-1-0.5h0m0 1.5h0m1.5-0.5h0m-2.5 0.5h0m2 2h0m0-1h0m-2-2.5h0m2 1h0m1.5 1h0m-0.5 1.5h0m-3-2.5h0m1.5 2.5h0m1.5-1h0m-0.5-1h0m-2 1h0m1-1.5h0m2.5 1h0m-4 0h0m3.5 1h0m-1.5-1.5h0m-0.5-1.5h0m2 4h0m-0.5 0h0m-1.5 0h0m3 0h0m-0.5 0h0m1-0.5h0m0.5-1h0m-1.5 1h0m-1.5 0.5h0m5 0.5h0m-6.5-0.5h0m4 0.5h0m2.5-1h0m-1.5-0.5h0m-2 1.5h0m1-0.5h0m-0.5-1h0m1 0.5h0m1 0.5h0m-2-0.5h0m1 1.5h0m-1.5-2.5h0m-0.5 1h0m-3.5-1h0m3 2h0m-1-0.5h0m-1-0.5h0m5 0.5h0m-3-4h0m0.5 2.5h0m3 1h0m-2-1h0m2 2h0m-5 0h0m3 0h0m3 0.5h0m-5-0.5h0m3-0.5h0m0.5-0.5h0m-1-0.5h0m0.5 0h0m-2 1.5h0m3.5 0.5h0m-2.5-3h0m-2.5 2.5h0m8 0h0m1 0h0m3.5 0h0m-7 1h0m1.5-1.5h0m-0.5 0.5h0m6.5 0.5h0m-2-1h0m-5 0.5h0m4 0.5h0m-2-1h0m-1 1h0m-3-0.5h0m1-0.5h0m1.5 1.5h0m1.5-0.5h0m-0.5 0h0m-2-1h0m6.5 1h0m-4.5 0.5h0m3-0.5h0m1 0h0m-7 0h0m-4 0h0m6.5-0.5h0m2.5-1h0m-4.5 1h0m-0.5 1h0m-2.5-0.5h0m10 0.5h0m-5.5-0.5h0m2-0.5h0m-1.5-1h0m-3.5 1h0m2.5 0.5h0m-3 0h0m6.5 0.5h0m1.5 0h0m-0.5 0h0m-8-0.5h0m10.5 0.5h0m-2 0.5h0m-5-2h0m-1 1.5h0m3 0h0m-4-0.5h0m4.5 0h0m-1.5 0.5h0m2-0.5h0m-3 0.5h0m1.5-1h0m4 1h0m0.5-1h0m1.5 0.5h0m-4-0.5h0m0 0.5h0m-5 1h0m6-1.5h0m3.5 1h0m-6.5-1.5h0m5 1h0m-3.5 0.5h0m3.5 0h0m-4 0.5h0m-6.5-0.5h0m4-2h0m-2 2h0m3.5-2.5h0m3.5 1.5h0m-9.5 0.5h0m2 0.5h0m-2 0h0m8.5 0h0m1.5 0.5h0m-6.5-2.5h0m1.5 0.5h0m5 0.5h0m-3 1h0m-6 0h0m7.5-1h0m3.5 1h0m0.5-0.5h0m-3 0h0m3.5 1h0m-7.5 0h0m6.5 0h0m-3.5 0h0m2.5 0h0m2-1h0m0 0.5h0m-5 0.5h0m-0.5 0h0m5 0h0m1.5 0h0m-3.5 0h0m1 0h0"/><path stroke="#ffff00" d="M501.5 128.5h0m-0.5-3.5h0m0.5 1h0m-1-2h0m0.5-0.5h0m0 2h0m-0.5-2.5h0m0 0.5h0m0.5 3.5h0m0.5-0.5h0m-0.5-2.5h0m0 4h0m0-2h0m0.5 1h0m-0.5-2.5h0m0.5 1h0m-0.5 2h0m0.5 0h0m0-4.5h0m0 2h0m-0.5 1.5h0m-0.5-1h0m0.5 3h0m0-5.5h0m-0.5 1.5h0m0 1.5h0m0 0.5h0m1 1.5h0m0.5-1.5h0m-2-3h0m2 4h0m-1.5-0.5h0m1.5 1h0m-1.5-3h0m-0.5-1h0m1.5 0h0m-1 3.5h0m2.5 0.5h0m-1 0.5h0m1.5 0h0m-1-0.5h0"/><path stroke="#00ff00" d="M499 54h0m0.5 25.5h0m0-17h0m-0.5-26h0m0-6h0m0.5 29.5h0m-0.5-18.5h0m0-4.5h0m0 1h0m0 15h0m0.5 23.5h0m-0.5-32h0m0.5 23h0m0-1h0m0-11.5h0m-0.5-28h0m0.5 31h0m-0.5-39h0m0-6h0m0 43h0m0 4h0m0-10.5h0m0.5 15h0m0 10h0m-0.5-58.5h0m0.5 43h0m0-7.5h0m-0.5-6.5h0m0.5 16.5h0m0 2.5h0m-0.5-17.5h0m0.5 27.5h0m-0.5-52.5h0m0 27h0m0 8h0m0-6.5h0m0.5 13.5h0m0 2h0m0 3h0m-0.5-43h0m0.5 48h0m-0.5-53.5h0m0.5 46h0m0 10h0m-0.5-29h0m0-15h0m0-1h0m0 3.5h0m0 5.5h0m0.5 30.5h0m0-5.5h0m0-4.5h0m0 18h0m-0.5-63.5h0m0.5 65h0m-0.5-25h0m0.5 7h0m0 15.5h0m-0.5-35h0m0.5 15h0m-0.5-20h0m0 15h0m0 5.5h0m0-34.5h0m0.5 47.5h0m0 4.5h0m-0.5-15h0m0.5 2.5h0m0 6h0m0 6h0m0-14h0m0 17h0m-0.5-14.5h0m0.5 8.5h0m0 0.5h0m0-2.5h0m0 1.5h0m0-3.5h0m0 11h0m0-22.5h0m0 10.5h0m-0.5-56h0m0 2.5h0m0 5h0"/><path stroke="#00ffff" d="M520 134h0m-0.5 0h0m-1 0h0m-3 0h0m0 0.5h0m2.5-0.5h0m-1.5-0.5h0m0 0.5h0m0 0.5h0m0.5-0.5h0m-1 0.5h0m2 0h0m1-0.5h0m-3-0.5h0m4 1h0m-1.5 0h0m-2.5-0.5h0m5-0.5h0m-2 0h0m-4 0.5h0m5.5-1h0m-3 1h0m-3 0h0m5-0.5h0m-1.5 0h0m-1 1h0m0.5 0h0m-2.5-1h0m2 0h0m4 0.5h0m-3.5-0.5h0m2.5 0h0m-1.5-0.5h0m-3.5 1.5h0m4-1.5h0m0.5 1.5h0m-0.5 0h0m-1.5-1.5h0m1 0.5h0m2 0.5h0m0-0.5h0m1 0.5h0m-0.5 0.5h0m2-1h0m-1.5-0.5h0m0 0.5h0m0.5 1h0m0-0.5h0m-6.5-0.5h0m6.5 0h0m36 1h0m49.5 0.5h0m-21-0.5h0m20.5 0h0m-56.5 0h0m44.5 0.5h0m28 0h0m-97.5-0.5h0m18 0.5h0m3.5-0.5h0m26 0.5h0m-38-0.5h0m49.5 0.5h0m-43.5-0.5h0m13.5 0.5h0m19.5-0.5h0m-34.5 0h0m31.5 0h0m-3.5 0h0m-30 0h0m52.5 0.5h0m-44-0.5h0m58 0h0m16.5 0h0m-37 0.5h0m-56-0.5h0m-3-1h0m51.5 1.5h0m-44.5-1h0m11 0.5h0m19.5 0.5h0m26 0h0m15.5-0.5h0m-42 0.5h0m-4 0h0m7.5 0h0m40.5 0h0m-39-0.5h0m30.5 0.5h0m-53.5-0.5h0m21 0.5h0m48 0h0m-52 0h0m9 0h0m-14.5-0.5h0m44 0h0m-63.5 0h0m15-0.5h0m12 0.5h0m19.5 0.5h0m-35 0h0m-14-1h0m17 0.5h0m-4.5 0h0m90.5 0h0m-105.5 0h0m-0.5-0.5h0m78.5 1h0m-47.5-0.5h0m-14.5 0.5h0m92.5-0.5h0m-45 0.5h0m-61.5-0.5h0m39.5 0h0m15 0.5h0m36.5 0h0m-58 0h0m-8.5-0.5h0m62 0.5h0m-91-0.5h0m17 0h0m-2 0h0m-16 0h0m27.5 0h0m-18 0h0m34 0h0m-15 0h0m36.5 0h0m-63.5-0.5h0m10.5 0.5h0m22.5 0h0m28 0.5h0m36-0.5h0m-99.5-0.5h0m15.5 0.5h0m3 0.5h0m73.5-0.5h0m-75.5-0.5h0m20 1h0m19 0h0m-47-0.5h0m21.5 0.5h0m-31-0.5h0m106.5 0h0m-50.5 0.5h0m20.5 0h0m4-0.5h0m-1 0.5h0m-48 0h0m29 0h0m-30 0h0m31 0h0m-8.5 0h0m-27-0.5h0m31.5 0h0m-31 0h0m63.5 0h0m-17.5 0h0m-20.5 0.5h0m-31.5 0h0m50 0h0m-25.5-0.5h0m-12.5 0h0m39 0.5h0m12.5 0h0m-2.5-0.5h0m-15 0.5h0m-20-1h0m34.5 0.5h0m7 0h0m-33 0.5h0m8.5 0h0m-29 0h0m-26-0.5h0m86.5 0.5h0m-17 0h0m-62.5-0.5h0m43.5 0.5h0m52.5-0.5h0m-47.5 0h0m-63.5-0.5h0m77 0.5h0m-27 0h0m-23.5 0.5h0m-4 0h0m-15-0.5h0m-0.5-0.5h0m89 0.5h0m-99-0.5h0m24 0.5h0m5.5 0h0m11.5 0h0m28.5 0.5h0m26.5-0.5h0m-94-0.5h0m1.5 0.5h0m100 0h0m-76.5 0h0m36 0h0m-41.5 0h0m-17.5-0.5h0m66 0.5h0m-32 0h0m22.5 0.5h0m35 0h0m-9-1h0m-23 1h0m-27 0h0m48.5-0.5h0m-32.5 0.5h0m-1.5 0h0m19 0h0m34.5-0.5h0m-33.5 0h0m43-0.5h0m-109 0h0m17 0.5h0m54.5 0.5h0m-21-0.5h0m-1.5 0h0m23.5-0.5h0m13 1h0m-38.5-0.5h0m30 0h0m5 0h0m36-0.5h0m-61 0.5h0m-40.5 0.5h0m80.5-0.5h0m-78.5-0.5h0m16 0.5h0m-33 0h0m37.5 0.5h0m19.5-0.5h0m-17.5 0.5h0m-34.5-1h0m4 0.5h0m-11.5 0h0m78.5 0.5h0m-68-1h0m-1.5 0h0m54 0.5h0m30.5 0h0m-80 0h0m7.5 0h0m35 0.5h0m8.5-0.5h0m-37.5 0h0m35.5 0.5h0m-47 0h0m-5-0.5h0m-13 0h0m45 0h0m24.5 0.5h0m-70.5-1h0m26 0.5h0m61 0h0m27 0h0m-76 0.5h0m17.5 0h0m-5.5-0.5h0m44 0h0m-69.5 0.5h0m6 0h0m55.5-0.5h0m36-0.5h0m-38 1h0m19.5-1h0m-101.5 0h0m13.5 0.5h0m81 0h0m3 0h0m-80.5 0h0m9.5 0.5h0m33.5-0.5h0m-6 0.5h0m-16-0.5h0m42 0h0m-57 0h0m-17 0h0m6 0.5h0m75 0h0m-12 0h0m-24.5 0h0m-5.5-1h0m41 1h0m-24-0.5h0m27.5 0h0m-46 0h0m-1.5 0.5h0m-43.5-0.5h0m51 0.5h0m-47.5-1.5h0m66 1.5h0m-12.5-0.5h0m-56 0h0m79 0.5h0m12 0h0m-13.5 0h0m-53.5-0.5h0m19.5 0.5h0m9.5 0h0m65.5-0.5h0m-62 0h0m-25 0h0m38.5 0.5h0m-70.5-1h0m48.5 1h0m12.5 0h0m2.5 0h0m34 0h0m-50.5 0h0m-5.5-0.5h0m39.5-0.5h0m42.5 0.5h0m-48 0.5h0m-43-0.5h0m3 0h0m24.5 0h0m-47.5 0.5h0m61.5 0h0m40.5-1h0m-107-0.5h0m-8.5 1h0m0.5-0.5h0m35 1h0m7.5 0h0m-17.5 0h0m18.5-0.5h0m29 0.5h0m-50 0h0m70.5-0.5h0m-80-0.5h0m31.5 0.5h0m74.5-0.5h0m-39.5 0.5h0m-54-0.5h0m53.5 1h0m-5.5-0.5h0m1.5 0.5h0m31-0.5h0m-55.5 0.5h0m26-0.5h0m-32.5 0.5h0m53.5-0.5h0m-79-0.5h0m12 0.5h0m56 0.5h0m-41 0h0m35 0h0m-13 0h0m-61.5-1.5h0m-5.5 0h0m26 1.5h0m33-0.5h0m-41.5-0.5h0m22.5 0.5h0m60 0h0m10 0h0m-53.5 0.5h0m30.5-0.5h0m-79 0h0m40.5 0h0m-14.5 0.5h0m66 0h0m-54 0h0m-30.5-1h0m78 1h0m11.5-0.5h0m-28.5 0h0m-48 0.5h0m-21-0.5h0m-2.5-0.5h0m31 1h0m-39.5-0.5h0m87.5 0.5h0m-13-0.5h0m-68.5-1h0m37.5 1.5h0m78-0.5h0m-60 0h0m-28 0.5h0m-1-0.5h0m6 0h0m53 0h0m-38.5 0h0m36 0.5h0m-76-1h0m75 0.5h0m40.5-0.5h0m-8 0.5h0m-69 0.5h0m66-0.5h0m-108.5-0.5h0m19.5 1h0m26-0.5h0m-37.5-0.5h0m77 1h0m30.5-0.5h0m-44 0h0m-6.5 0h0m26.5 0.5h0m-29.5-0.5h0m-25.5 0h0m-27-0.5h0m112.5 0.5h0m-55 0h0m-17 0h0m-41-0.5h0m78 1h0m20.5-1h0m-58 0.5h0m-7.5 0.5h0m53.5-0.5h0m-95.5 0h0m113.5-0.5h0m-59.5 0.5h0m-33 0.5h0m19-0.5h0m7 0.5h0m51.5-0.5h0m-100-0.5h0m48 0.5h0m32 0h0m9.5 0h0m8.5-0.5h0m-86 1h0m39.5 0h0m9-0.5h0m9.5 0h0m-45.5 0h0m4.5 0.5h0m61.5 0h0m28.5-1h0m-87 0.5h0m71.5 0.5h0m-19-0.5h0m-81.5-0.5h0m75 1h0m17-0.5h0m-11.5 0.5h0m21-0.5h0m-22 0.5h0m-76.5-0.5h0m89.5 0h0m28.5-1h0m-117 0.5h0m96 0.5h0m2 0.5h0m-98.5-1h0m42.5 0.5h0m-54.5 0h0m68 0.5h0m38-0.5h0m-65 0.5h0m71-0.5h0m-83.5 0.5h0m42-0.5h0m-22.5 0.5h0m-43.5-1h0m96 0h0m-78 1h0m70.5-0.5h0m29-0.5h0m-49 0.5h0m-18 0h0m-9.5-0.5h0m-39.5 0.5h0m6.5 0.5h0m105.5-0.5h0m-24.5 0h0m13.5-0.5h0m8.5 0h0m-2.5 0.5h0m2 0h0m-43.5 0h0m-15.5 0h0m19 0.5h0m4-1h0m12.5 0.5h0m-69.5-0.5h0m75 0h0m-78.5 1h0m-10.5-1h0m32.5 1h0m61.5 0h0m-53-0.5h0m-24.5-0.5h0m63.5 0.5h0m-55.5 0.5h0m35-0.5h0m-40.5 0.5h0m69.5-0.5h0m31-0.5h0m-110.5-0.5h0m93.5 1h0m-32.5 0.5h0m-1-0.5h0m-41 0h0m84 0h0m-40.5 0h0m44 0h0m2.5 0h0m-49-0.5h0m51 0h0m-114.5 0.5h0m2.5 0.5h0m-0.5-1h0m43.5 0.5h0m65 0h0m-93.5 0.5h0m11.5-0.5h0m26 0h0m47-0.5h0m4 0.5h0m-28 0h0m23 0.5h0m-116.5-2h0m6 0.5h0m39 1h0m68.5-0.5h0m-46 0.5h0m-44.5 0.5h0m2.5-1h0m81 1h0m3.5-0.5h0m9.5 0h0m-38 0h0m-5.5 0h0m-74.5 0h0m8.5 0h0m83-0.5h0m9.5 1h0m-71-1h0m-19.5 0h0m86 0h0m21 0h0m-59 0.5h0m47 0.5h0m-4.5-1h0m5 0.5h0m-13.5-0.5h0m-2.5 0.5h0"/><path stroke="#0000ff" d="M499.5 83h0m0 0.5h0m0-1h0m0 11.5h0m0-5.5h0m0-4.5h0m0 2h0m0 1.5h0m0 3.5h0m0-4h0m0-5.5h0m0 3h0m0-4h0m0 5h0m0 9.5h0m0 3h0m0-2.5h0m0-7.5h0m0 3.5h0m0 13h0m0 2.5h0m0-14h0m0 3.5h0m0-15.5h0m0 9.5h0m0 6.5h0m0-7h0m0 9h0m0-12.5h0m0 17.5h0m0-4.5h0m0 0.5h0m0-11h0m0 12.5h0m0-9.5h0m0 0.5h0m0 8h0m0-15.5h0m0 13.5h0m0 4h0m0 3.5h0m0-10h0m0-2.5h0m0 7.5h0m0 1h0m0-7.5h0m0 10.5h0m0-1.5h0m0-6h0m0-8h0m0-7.5h0m0.5 25h0m-0.5-1.5h0m0.5 1h0m0 1h0m0-2h0m-0.5 1h0m0.5-1.5h0m0 1h0m-0.5-3h0m0 4.5h0m0.5-5.5h0m0 2h0m0-0.5h0"/><path stroke="#ff00ff" d="M499.5 108h0m0.5 4.5h0m0-1.5h0m-0.5-2h0m0.5 3h0m0 3h0m-0.5-3.5h0m0.5-2.5h0m0-1h0m-0.5 4.5h0m0 0.5h0m0.5-3.5h0m0-1h0m0 3h0m-0.5-0.5h0m0.5 3.5h0m-0.5-6h0m0.5 4.5h0m-0.5-5.5h0m0.5 2.5h0m-0.5 0.5h0m0.5 0h0m-0.5-0.5h0m0 2h0m0.5 2h0m0 4.5h0m0-2h0m0-3h0m0 2.5h0m0-0.5h0m0.5 3h0m-0.5 0.5h0m-0.5-9.5h0m0.5 7.5h0m0 0.5h0m0.5 4h0m0-2h0m-0.5 0.5h0m0.5-2h0m-0.5 3h0m0.5 1h0m-0.5-2.5h0m0.5 0.5h0m0-3h0m0 3.5h0m0 2h0m-1-7h0m1 5.5h0m0.5 1.5h0m-0.5-8.5h0m0 5h0m0-1.5h0m-0.5 0.5h0m0.5-3h0m-1-1.5h0m0.5 8h0m-0.5-7.5h0m0.5 6.5h0m1 1.5h0m-1 0h0m0 1h0m0-0.5h0"/></g><text x="499.0" y="146.8" text-anchor="middle">0</text><text x="534.6" y="146.8" text-anchor="middle">50</text><text x="570.2" y="146.8" text-anchor="middle">100</text><text x="605.8" y="146.8" text-anchor="middle">150</text><text x="641.4" y="146.8" text-anchor="middle">200</text><text x="677.0" y="146.8" text-anchor="middle">250</text><text x="496.0" y="138.2" text-anchor="end">0</text><text x="496.0" y="117.3" text-anchor="end">200</text><text x="496.0" y="96.4" text-anchor="end">400</text><text x="496.0" y="75.5" text-anchor="end">600</text><text x="496.0" y="54.6" text-anchor="end">800</text><text x="496.0" y="33.7" text-anchor="end">1000</text></g><text x="588.0" y="157.8" text-anchor="middle" style='font-family:"Liberation Serif",serif;font-weight:bold;font-size:9.9px;letter-spacing:-0.3px'>V1</text><text transform="translate(474.6 72.3) rotate(-90)" text-anchor="middle" style='font-family:"Liberation Serif",serif;font-weight:bold;font-size:9.9px'>V4</text><text x="588.0" y="7.1" text-anchor="middle" style='font-family:"Liberation Serif",serif;font-weight:bold;font-size:9.6px;letter-spacing:-0.3px'>KCGWO</text><g style='font-family:"Liberation Serif",serif;font-weight:bold;font-size:8.6px'><path d="M28.4 309.0v-2M28.4 184.0v2M58.1 309.0v-2M58.1 184.0v2M87.8 309.0v-2M87.8 184.0v2M117.5 309.0v-2M117.5 184.0v2M147.2 309.0v-2M147.2 184.0v2M176.9 309.0v-2M176.9 184.0v2M206.6 309.0v-2M206.6 184.0v2M28.4 309.0h2M206.6 309.0h-2M28.4 284.0h2M206.6 284.0h-2M28.4 259.0h2M206.6 259.0h-2M28.4 234.0h2M206.6 234.0h-2M28.4 209.0h2M206.6 209.0h-2M28.4 184.0h2M206.6 184.0h-2" stroke="#7f7f7f" stroke-width="0.8" fill="none"/><rect x="28.4" y="184.0" width="178.2" height="125.0" fill="none" stroke="#7f7f7f" stroke-width="1"/><g fill="none" stroke-linecap="round" stroke-width="3.8"><path stroke="#ff0000" d="M54.5 270.5h0m0.5-0.5h0m0 1.5h0m0-0.5h0m-0.5-1h0m-1 0.5h0m0 0.5h0m0.5-3h0m5.5 3.5h0m5 2h0m-4.5-5h0m0 1h0m5.5 2.5h0m-5-1h0m4 0h0m0.5-2.5h0m-9 2h0m6.5-3.5h0m-4.5 5h0m6.5 0h0m0-6h0m0.5 5h0m-7-2.5h0m5 4h0m-0.5 0.5h0m2-5.5h0m0.5 6h0m-2.5-2h0m-3.5 0.5h0m3.5-2.5h0m3 4.5h0m-4.5-2.5h0m4 0h0m0.5-1.5h0m-1 1.5h0m-6 0.5h0m6-1.5h0m-7.5-2h0m5 2.5h0m1 0h0m-7-3.5h0m4.5 3h0m2.5 1.5h0m-1-2.5h0m-0.5-1.5h0m3 5h0m-8-2.5h0m8.5-4.5h0m-8 7h0m4-5.5h0m1.5 4.5h0m0.5-2.5h0m-7 0.5h0m1 0.5h0m3 0h0m0.5-3h0m1 0h0m4 2h0m-3 1h0m-3.5-1.5h0m3.5-1.5h0m-3 1.5h0m-3 1h0m1.5-3h0m6 2h0m0 1h0m-5.5 4h0m0.5-1.5h0m2 2h0m-1.5-1h0m2.5-2h0m3 0.5h0m-1.5-2h0m0.5 2h0m-0.5-1h0m0 2.5h0m-1.5-8.5h0m-3.5 4h0m6-2h0m-9 3h0m7.5 0.5h0m-1-2h0m0-0.5h0m-3.5 2h0m3 0h0m-4 0h0m1.5 1h0m3 1.5h0m2.5-4.5h0m-8.5 1.5h0m5.5 4h0m-5-4h0m0-2h0m4 2h0m-4-1.5h0m1.5 3.5h0m7.5 1h0m-2-0.5h0m-2.5 3h0m-1.5-7h0m-1.5 0h0m5.5 0h0m0 4.5h0m-2-5.5h0m2.5 5.5h0m1.5-2h0m-6.5-2.5h0m2.5 1.5h0m-2.5 4h0m3.5-5.5h0m-3 1.5h0m2.5 2.5h0m-5-3h0m6 1h0m0.5-0.5h0m0 2h0m0.5-4.5h0m-4 0h0m2 2h0m0 1.5h0m-6-1.5h0m7 0h0m1 0.5h0m-3.5 0.5h0m3-1.5h0m-4 3.5h0m-2.5-2h0m1.5-1.5h0m0 4h0m7-1h0m-9 2h0m8.5-3.5h0m-5.5-1.5h0m0 2h0m3 2h0m-1.5-1.5h0m4-4.5h0m-8 3h0m5.5-3h0m-4.5 7h0m5-5.5h0m-2.5 5h0m1.5 0.5h0m3.5-7.5h0m1 7h0m6.5 1.5h0m-6-6h0m1.5 6h0m0.5-3h0m11 0.5h0m-3.5-2h0m1.5 2h0m-2 2.5h0m-6-4.5h0m1.5 2.5h0m0.5-2.5h0m-2 5h0m2-2.5h0m5 1.5h0m-10.5-3.5h0m3 0.5h0m3 0h0m3 1h0m-0.5 1h0m1.5 0.5h0m-9.5-3h0m1-4h0m2 7.5h0m-0.5-2h0m11 4h0m-14.5-4.5h0m11.5-1.5h0m2 6h0m-5-2h0m-4-1.5h0m0.5-6.5h0m4 6.5h0m3.5 1.5h0m-8-2h0m-2-5h0m-1 1.5h0m10.5 7.5h0m-3-4.5h0m5-2h0m-9 2h0m6.5 1.5h0m-2 0h0m-9-3.5h0m8.5 1.5h0m0.5 4h0m-3.5-1h0m-3.5-4h0m11.5 5h0m-7.5-8h0m3.5 8h0m-2.5-5h0m-7 2.5h0m2.5-1.5h0m-2.5-1h0m2 1h0m0-2.5h0m3 0h0m-1 3h0m0.5-3h0m-5 2.5h0m11.5 3h0m-4-0.5h0m-1.5 1h0m-2.5-1h0m4-2h0m-4.5-1h0m9.5-1h0m-0.5 4h0m-7.5-5.5h0m8 6.5h0m-8.5 0h0m5.5-5h0m3 2.5h0m-1 0h0m-4.5-1h0m5 0.5h0m-5.5 3.5h0m0-4.5h0m-2 4h0m6.5-3h0m1-0.5h0m-10.5 2h0m0.5 2.5h0m3 0h0m1.5-3h0m7 4.5h0m0-6h0m0.5-0.5h0m-4.5 0.5h0m-6 0.5h0m1.5 2h0m-5.5-2.5h0m4-2.5h0m1 2.5h0m6 1.5h0m-7.5-6h0m10 4h0m-4-1h0m-1 3h0m-5-6.5h0m8 5h0m-4 4.5h0m-5-5.5h0m3 4h0m-0.5-4h0m1 4.5h0m-0.5-5h0m-0.5 4h0m0.5-1h0m3.5-2.5h0m-1.5-1.5h0m-4.5-0.5h0m9 3.5h0m-4.5 0h0m-0.5 2h0m3.5-6.5h0m0.5 4h0m-0.5 2h0m-8-2h0m8 1h0m-4.5 1h0m-5.5-3h0m9.5 4h0m1-1h0m0.5-2.5h0m-9.5-4h0m7.5 7h0m3 1.5h0m-12-6h0m2.5 2.5h0m1-4h0m3 6.5h0m-4.5-1.5h0m5.5-0.5h0m0-4.5h0m2 8.5h0m-6.5-7h0m7 3.5h0m0.5 2h0m3-2h0m-5.5-2.5h0m-2-3h0m1 6.5h0m0-1h0m-4-4.5h0m0.5 1.5h0m1.5 5h0m6-2h0m-5-1h0m0 1.5h0m-3.5-1h0m11.5 4h0m-10-11h0m1 7h0m8 0h0m0.5 3h0m-11-4.5h0m3 1h0m-3.5-4.5h0m9 8h0m-1.5-5h0m-9.5 3h0m10 1h0m-4.5-2h0m-1.5-5.5h0m10.5 7h0m-11.5 2h0m2.5-2h0m3.5-6.5h0m3 10h0m-9.5-9.5h0m10 3h0m-0.5 2h0m-8.5-2h0m4.5 5.5h0m-1-2h0m-0.5-2.5h0m-4.5 2.5h0m2 1.5h0m-1-1.5h0m8-5h0m-10 4h0m6.5-2.5h0m-3.5 2h0m3 2.5h0m7-2h0m-2 1h0m-6-2h0m-3 0h0m10.5 1.5h0m-11-4.5h0m6 3h0m5-2h0m-8-3.5h0m7.5 8.5h0m-12-4h0m11.5 2h0m1-1h0m-0.5 2.5h0m-1 1h0m-6-6h0m-5.5-3h0m13.5 6h0m-14.5-4.5h0m5 2.5h0m-5 3h0m1-5h0m9 4h0m2 2.5h0m0.5-6h0m1.5 1.5h0m-5 3h0m4.5-0.5h0m0.5 0h0m-12.5 1h0m11.5-1.5h0m-3 2h0m4.5 0h0m-11-2h0m3.5-3h0m-2.5-3.5h0m7.5 6.5h0m-10.5-3h0m12.5 8h0m-12-8h0m7 3.5h0m-0.5 1.5h0m2-3h0m-6 2h0m1-3h0m-1-3h0m9 8h0m-9.5-10h0m1 2h0m9.5 6.5h0m-6-4.5h0m-4 1.5h0m-3 1h0m9.5 2h0m1 0.5h0m2.5-6h0m0 2.5h0m-6.5 3.5h0m11.5 2h0m-3-3h0m8 2h0m6.5 0.5h0m1 0.5h0m-16.5-7h0m20.5 7.5h0m-15.5-2h0m1 1.5h0m12-2h0m1.5 3.5h0m-3.5-2.5h0m-9 0.5h0m2.5-2h0m8.5 3.5h0m-10.5-2.5h0m10 0.5h0m-0.5-1h0m-7-1h0m9.5 1.5h0m-11.5-4.5h0m8 2h0m-2.5 4.5h0m-2.5-0.5h0m2 0.5h0m-1.5-3.5h0m-9.5 1.5h0m19.5 2h0m-0.5 0.5h0m-21-3.5h0m20.5 2.5h0m-9.5-2.5h0m-9-1.5h0m15.5 4.5h0m-8.5-4h0m6.5 2h0m2.5 1h0m-6.5-1h0m-11-0.5h0m14.5 1h0m4.5-1h0m-14-0.5h0m11.5 2.5h0m2-2h0m-10.5-1.5h0m-1.5 2.5h0m-7.5-3h0m5 2.5h0m2.5 2.5h0m-5-1.5h0m14.5 3h0m-7.5-3h0m3-1.5h0m-6.5 2.5h0m2-5.5h0m8.5 3.5h0m-3.5-1h0m-0.5-0.5h0m7.5 2h0m-14-2.5h0m5.5 3h0m3.5-1.5h0m-13 1.5h0m19.5 0h0m-10.5-2h0m-5.5-0.5h0m11.5-1.5h0m1 1.5h0m-4 4.5h0m6.5-1.5h0m-18.5-1h0m9.5 1.5h0m5 1h0m4 0h0m-6.5-3.5h0m-0.5 1h0m-5 0.5h0m4-0.5h0m-0.5-1.5h0m4.5 3h0m4 2.5h0m-19-5.5h0m15.5 2h0m-7 0h0m6.5 0.5h0m-10-3h0m4 2h0m7.5-0.5h0m-17.5-2.5h0m6 2.5h0m4.5 2h0m8 0.5h0m-13-5h0m12 1.5h0m-12.5 1.5h0m1 2h0m5.5-0.5h0m2.5-2h0m5 2h0m0-2h0m-5.5 2.5h0m-5.5-1h0m8.5-1h0m3 1h0m-9.5 1h0m10-2h0m-18-1h0m1-1.5h0m13.5 4.5h0m-10.5-0.5h0m6.5-3.5h0m-2 2.5h0m-8-2h0m13.5 2h0m0 3h0m-13.5-6h0m16.5 5.5h0m-8.5-5.5h0m-3 0.5h0m-4 1.5h0m7 2.5h0m-6 0h0m-3.5-2h0m9 2.5h0m5 0h0m-1-1h0m7-2h0m-2 0.5h0m0.5-2h0m-2.5 1.5h0m-11.5-0.5h0m5.5 0h0m1.5 3h0m-2-5.5h0m6.5 5h0m-10.5-0.5h0m11.5-1.5h0m-18-4h0m4.5 3.5h0m-1-0.5h0m1.5-3h0m15.5 6.5h0m-20.5-2h0m6-3.5h0m6 0.5h0m-4 0.5h0m-3.5 0h0m14 0.5h0m-16.5-0.5h0m-1 3.5h0m3.5-4h0m6 2h0m5 4h0m-4.5-3h0m4 2h0m-11-2.5h0m13 1h0m-9 1h0m4.5-1h0m-1 1.5h0m3-1h0m-11.5-3h0m4.5-1.5h0m-6.5 3h0m1.5-1.5h0m7.5 3.5h0m6.5-2h0m-14.5-1h0m-2.5 0h0m22 4.5h0m-15-2.5h0m4-2.5h0m-6.5 2.5h0m0-4h0m4.5 4.5h0m-8.5-2h0m18 4h0m3.5-2h0m-9.5 1.5h0m-4.5-5.5h0m-4 2h0m3 0.5h0m12-2h0m-19-4h0m14.5 6.5h0m-14-5h0m1 0.5h0m14.5 3h0m-1 4.5h0m-8-5h0m-2.5-3h0m5 6.5h0m-7-5.5h0m12 5h0m-12.5-5.5h0m2 5.5h0m13 1.5h0m-2.5 0h0m1.5-3.5h0m-2.5-3h0m2 3.5h0m-13-4.5h0m3.5 5.5h0m-4-4h0m6.5 2h0m-4-0.5h0m7 4.5h0m1.5-2.5h0m7.5 3h0m-19.5-5h0m19 5h0m-4-2h0m2-2h0m-3.5 4.5h0m-8-4.5h0m7.5 0.5h0m-11.5-4h0m16 5.5h0m-2 2h0m-1-2h0m-0.5-0.5h0m-7.5-2.5h0m14 3.5h0m-10.5 1h0m-9.5-0.5h0m15-3.5h0m2 1.5h0m-7-0.5h0m-4.5-2h0m3.5 3.5h0m-6-2.5h0m-2.5-1.5h0m17 4h0m-3-1h0m-6-2h0m-8-0.5h0m8-2h0m9 6h0m-8-2h0m-3-0.5h0m-5 1h0m4.5-1h0m-2 0h0m7 1.5h0m-7-3h0m11 1.5h0m-6 0h0m6 3h0m-8-2h0m13.5 0.5h0m-10-1.5h0m10 1h0m-16.5-1.5h0m7 3h0m9.5 0.5h0m-20 1h0m12-6h0m7 2.5h0m-17.5-1h0m15.5 1h0m-3.5-0.5h0m3.5 4.5h0m1-2h0m-16.5-4.5h0m13.5 1.5h0m-11 1.5h0m-1.5-3h0m2.5-0.5h0m-6.5 3h0m0.5-1h0m2.5 1.5h0m6.5-2.5h0m0.5 6h0m10-3h0m-19-3.5h0m3.5 1h0m7 2.5h0m-6.5-4h0m1 0.5h0m-5.5 2.5h0m4.5 1h0m15.5-2h0m-21-2.5h0m17.5 2h0m-8.5 1h0m4 2h0m-8-1h0m6 1h0m10.5 2h0m-9-2h0m1.5-1h0m6-1.5h0m-13.5 2h0m-2.5-3.5h0m13 6h0m-13-5h0m15 0.5h0m-17.5 0.5h0m17.5 1h0m-4-2.5h0m0.5 4h0m6.5 1h0m-21.5-1.5h0m16 3.5h0m-15-8h0m12 2.5h0m14.5 3h0m-5.5 0h0m1.5-2h0m5.5-1h0m10.5 3.5h0m-15.5-4h0m0 3h0m15 1h0m-5 0h0m-7-1h0m10 0h0m3.5-0.5h0m-10.5 0.5h0m12.5 3h0m-14-2h0m-5.5-2.5h0m5 3h0m3-1h0m-8.5-3h0m4 1h0m-2.5 1h0m14 1h0m-11.5-1.5h0m2.5 0h0m-2 0.5h0m6 1h0m3 0h0m1.5-1h0m-10 0.5h0m-4 2h0m8.5-2h0m-6.5-1h0m-3.5 0.5h0m13.5 1h0m-4.5-2h0m-6.5 4h0m9-3h0m-8 1h0m-0.5 0.5h0m10.5-2.5h0m-12.5 2h0m-1 0.5h0m7.5 0.5h0m9.5-1h0m-3.5-3h0m5 3h0m-4 0h0m5-0.5h0m-19-0.5h0m5-0.5h0m3 1.5h0m-5-0.5h0m-3.5 2h0m3.5-0.5h0m1-2h0m5 2h0m-7-1h0m15-0.5h0m-16.5-2.5h0m14.5 3.5h0m-7.5 0.5h0m7.5-1.5h0m-9.5 0h0m-3.5 2h0m-2.5-2h0m6-0.5h0m13.5 1.5h0m-3-1.5h0m-12.5 0h0m5.5 0h0m7.5 0h0m-3-0.5h0m-5.5 3h0m1.5-1.5h0m0 0.5h0m-4-2h0m-6-1h0m3 2.5h0m10-1h0m-9 2h0m9-0.5h0m-4-1.5h0m-4 1h0m14 0h0m1 0h0m-12 0h0m0-2h0m1.5 0.5h0m3 2h0m-8-3h0m1 3h0m-3.5-3.5h0m15 1.5h0m-3 1h0m-11.5-1h0m9.5 0h0m0 1.5h0m7.5-1.5h0m-17 2h0m12.5-0.5h0m-12-1h0m1.5 1.5h0m8-1.5h0m6-0.5h0m-10 1h0m9 0.5h0m-9.5 0.5h0m3.5-0.5h0m4.5 1h0m-15.5-2.5h0m10 0h0m-5 3h0m11.5 0h0m-10 0.5h0m4-0.5h0m-7-4h0m10.5 3h0m-13.5 2h0m8-2h0m-1.5 1h0m3-3.5h0m-6-3.5h0m4.5 5h0m2 1h0m-10.5 1.5h0m8-4h0m-2.5 0h0m11.5 1h0m-4 1.5h0m5-2.5h0m-18.5-1.5h0m13 2h0m0-1h0m1.5 2h0m-10 0h0m11 1.5h0m0-1h0m2-1.5h0m-1-0.5h0m-16.5 4.5h0m15.5-4.5h0m-1 0h0m3.5 0.5h0m-16.5 1h0m3.5-1.5h0m6 1.5h0m-8 1.5h0m10.5-2.5h0m-8 0.5h0m12.5 1h0m-4.5-0.5h0m-7 0.5h0m-3 0.5h0m15-1h0m-2.5-1.5h0m-4 3h0m-6 0.5h0m14-0.5h0m-2-1.5h0m-1 2.5h0m-6.5-3h0m-8.5-0.5h0m6.5 0h0m-4.5 2h0m-2.5-2h0m-1 1h0m14 2h0m-7.5-1.5h0m13.5-1.5h0m0.5 1.5h0m-20-0.5h0m7.5 1h0m-3.5-2h0m-4.5 1.5h0m2.5-3.5h0m7.5 4h0m-10.5-4.5h0m10.5 4h0m-6 1h0m-5-4h0m5 4.5h0m2.5-2.5h0m2.5-1.5h0m2.5 4h0m-2-2.5h0m-9.5 2.5h0m10 0h0m-3.5-1h0m4-1.5h0m-9.5 1.5h0m5-1.5h0m6.5 0.5h0m-7.5-2h0m-5.5 1h0m2.5 0.5h0m3-1h0m-1.5 3.5h0m7.5-0.5h0m1 0h0m8.5-0.5h0m-13.5-1.5h0m-5-2h0m4 0h0m8 5h0m0-3.5h0m-10 1.5h0m5 0.5h0m5-4h0m0 2.5h0m4 1.5h0m-17-0.5h0"/><path stroke="#ffff00" d="M54.5 268h0m-2-3h0m-0.5 1h0m0.5-4h0m-1 1.5h0m3-2.5h0m-1 3h0m0.5-3h0m-1 2.5h0m-1.5-0.5h0m3-4.5h0m0.5 1h0m-3 2.5h0m-1 6h0m4-8h0m-2.5 7h0m0.5 2.5h0m0-7.5h0m1.5 5h0m0.5-3.5h0m-4-0.5h0m3 1.5h0m0.5-1h0m-1 3h0m-1-3.5h0m2.5 1.5h0m-1 1h0m0 1h0m-0.5-0.5h0m-1.5-2.5h0m0.5 2h0m2-0.5h0m0-1h0m-2 4.5h0m2.5-4.5h0m-1 1h0m-0.5-2.5h0m1.5 4.5h0m-1.5-4h0m-1 1h0m2-2h0m-1.5 6h0m-2.5-5h0m4.5-4.5h0m-0.5 0.5h0m-0.5 4h0m-1.5-0.5h0m2 3.5h0m-1.5-1h0m2-2.5h0m-2 0h0m1.5 4h0m-0.5-7h0m0.5 3h0m-1.5 5h0m-2 1h0m0.5-6h0m2 2.5h0m1.5-4.5h0m5.5 3.5h0m-3-2h0m4.5 0.5h0m1.5 2h0m-6.5-4.5h0m-1 7.5h0m3.5-2.5h0m1.5-2.5h0m-2.5-1.5h0m-1 2h0m1.5-5h0m6 7.5h0m-1-3h0m0-1h0m-8 5h0m0.5-3h0m2.5 2h0m1.5-2h0m-1.5-3.5h0m-2.5 5h0m-1.5-3.5h0m9.5-3h0m-3 7.5h0m-6 2.5h0m0-3h0m0-3.5h0m3-3h0m-3 0.5h0m4.5 1.5h0m0.5-1h0m1 0.5h0m0-1.5h0m-3 7h0m4-2.5h0m-2 1h0m-3.5-6h0m-1 6h0m6 1.5h0m-1-2.5h0m0.5-5.5h0m-1.5 8h0m2.5-0.5h0m-2.5-0.5h0m1-4h0m0.5 2h0m1-4h0m-3.5 5h0m-0.5-2h0m2 4h0m2-1h0m-0.5 0h0m-1 0h0m-2-0.5h0m3.5-5h0m-3.5 1.5h0m-2.5 1h0m6.5-5h0m-5 8.5h0m5-3.5h0m-1 1.5h0m-4.5-3h0m7.5 3h0m-6.5 0h0m-3 1h0m8-1h0m-6 5.5h0m-0.5-7.5h0m0.5 4h0m4.5-3.5h0m-5 0h0m6 2.5h0m-2.5 1h0m-2-0.5h0m-2 3h0m2.5-6.5h0m0.5 5.5h0m4.5-6h0m-6.5 7h0m-1.5-6.5h0m3 5.5h0m6 1h0m-6.5-0.5h0m5.5-3.5h0m-2-3h0m-5 6.5h0m-1-7h0m4 5h0m0-2h0m0 1h0m9 0.5h0m1-1.5h0m-3-0.5h0m-0.5 0.5h0m-1 2.5h0m1-2h0m5.5 0h0m-4.5 0h0m-1 2h0m7-2.5h0m-2.5 0.5h0m-1.5-0.5h0m-1.5-1.5h0m-1 1.5h0m2 0.5h0m-3 0h0m4.5 0h0"/><path stroke="#00ff00" d="M40 216h0m1 13.5h0m-0.5-9h0m-1-12.5h0m0-2.5h0m1 13.5h0m-1.5-6.5h0m1-3h0m-0.5-2.5h0m0 9.5h0m0.5 13h0m0-18h0m0 11.5h0m0-0.5h0m-0.5-5.5h0m-0.5-10h0m1 12h0m-1-18.5h0m0-0.5h0m2 14.5h0m-1 2h0m-0.5-3.5h0m-0.5 10.5h0m0-14.5h0m1.5 18h0m-1.5-24.5h0m0.5 16h0m-0.5-1h0m0-5.5h0m0.5 8h0m1.5-2h0m-1-7h0m0.5 14.5h0m-0.5-5h0m0-6.5h0m0.5 1.5h0m-1-3h0m0.5 7.5h0m-1 6.5h0m0.5 0.5h0m0-25h0m0.5 10h0m0 9.5h0m0 7.5h0m0.5-16.5h0m-1.5-10.5h0m1 5h0m-0.5 2h0m0 2.5h0m-0.5-1h0m0.5-4h0m1 11h0m-1 3.5h0m1 3.5h0m0-3.5h0m-1.5 3.5h0m1.5-4.5h0m-0.5 12.5h0m-1-34h0m0 28.5h0m1 3.5h0m-1-12.5h0m1 3h0m-0.5 9.5h0m0-12.5h0m-0.5-9.5h0m1.5 3h0m-0.5 3.5h0m0 4.5h0m-0.5-11h0m-0.5-7.5h0m0.5 0.5h0m-0.5 3.5h0m0 22.5h0m3-3h0m1 0.5h0m-1.5 3.5h0m1.5-2.5h0m-2-5h0m0.5 3h0m0-5.5h0m0.5 0h0m0 3h0m-0.5 0h0m-0.5-5h0m0.5 9.5h0m0.5-5h0m0 6.5h0m-1-12.5h0m0 12.5h0m0.5-10h0m0 10h0m-0.5-9h0m0 7.5h0m0-0.5h0m1.5-4h0m-1 1.5h0m1-2.5h0m0 2.5h0m-1.5 6h0m1-1h0m-0.5-5.5h0m0-3h0m0 5.5h0m-0.5 1.5h0m2-4h0m-1-0.5h0m-0.5-1h0m1 6h0m-0.5-7.5h0m-1-2.5h0m0.5 5h0m0-3h0m3 10.5h0m-1-9h0m2 6h0m-0.5 2h0m-1.5-2h0m1-1h0m0 2.5h0m-1-5h0m0.5 4h0m2-0.5h0m-2.5-1.5h0m1 2.5h0m-1-2h0m0.5 0.5h0m-5-28.5h0m0 1.5h0"/><path stroke="#00ffff" d="M114.5 279h0m5 0h0m-6-1h0m10.5-1.5h0m-14 2h0m14.5 0.5h0m-5.5-1h0m-2-1.5h0m-3 2h0m9.5-1h0m-2.5 1h0m2 0h0m-3.5 0h0m4.5 1.5h0m-0.5-1.5h0m-2.5 0.5h0m-6.5-1h0m-5 0.5h0m9-0.5h0m-0.5-2h0m3.5 2.5h0m2-0.5h0m-1.5 2.5h0m2-2.5h0m-4.5-1h0m5 0.5h0m-2.5 0h0m-4-1h0m4.5 1.5h0m1-1h0m1.5 0h0m-3.5 0.5h0m2-1h0m-10.5 2h0m11-1h0m-2 0.5h0m-13.5-1h0m11.5 0.5h0m-8.5 1h0m8.5-0.5h0m1-0.5h0m-8 0h0m5 2.5h0m2.5-0.5h0m0-0.5h0m2.5-3.5h0m-7 3h0m4.5 0h0m-2 0h0m4 0h0m0.5 1.5h0m-5.5-1h0m4.5-2.5h0m1 0.5h0m-6.5 0.5h0m6.5-1h0m-0.5 2.5h0m-4-2h0m-10.5 1h0m10 0.5h0m-3.5-2h0m1 1h0m6 0.5h0m-9 0.5h0m7-2h0m5.5 2h0m-9-2h0m-2 1h0m6.5-0.5h0m-8.5 2.5h0m10.5-2h0m-6 0.5h0m4-1.5h0m-7.5 2.5h0m11 0h0m-1.5-2h0m2.5 1h0m-1-1h0m-13 3h0m12-1h0m-0.5 0.5h0m-6.5-3.5h0m6.5 4.5h0m2-2h0m-2.5 0.5h0m1-1.5h0m-4.5 0h0m-1 0.5h0m1.5-0.5h0m-4.5 1h0m-6 0h0m9.5-0.5h0m6.5 0h0m-9.5-1h0m3.5-1h0m-2.5 3.5h0m10-3h0m12 3h0m-1.5-2h0m3.5 0h0m-9 0h0m1.5 2h0m7.5-1h0m-8.5-0.5h0m7-1h0m-6.5 0.5h0m-1.5 1h0m-1-1.5h0m-1 0h0m3.5-0.5h0m-4.5 2.5h0m11-0.5h0m2.5 0h0m-14.5-1.5h0m-0.5 0.5h0m14-1.5h0m-4 3h0m-6-0.5h0m-2 0h0m1 0h0m-4-1h0m14 2h0m-5-1h0m-5-2h0m-0.5 1h0m7 1h0m-0.5-1.5h0m-5 1h0m0.5 0h0m2 0.5h0m7.5-0.5h0m-6.5 0.5h0m5-1h0m-3 0h0m-1.5-0.5h0m-1 0.5h0m3 1h0m-3 0.5h0m4 0h0m-9 0h0m2-2.5h0m9 2h0m-7.5 2h0m8.5-3.5h0m-5.5 1.5h0m-8-0.5h0m11 1.5h0m-8-1.5h0m-3.5 1h0m2.5-1h0m6.5 0h0m3-1h0m-11.5 1.5h0m-1-0.5h0m9.5-1.5h0m-3.5 1h0m0.5 1h0m6.5 0.5h0m2 0h0m-3-0.5h0m-12.5 1.5h0m2.5-2.5h0m7 2h0m6-2h0m-14 0h0m7 1.5h0m-2 0h0m-2 1h0m-0.5-0.5h0m-2.5-0.5h0m7.5-1h0m-2 0h0m4.5-1h0m4 1h0m-1 1h0m-8.5-1h0m7-0.5h0m-6 2.5h0m3-1.5h0m6-1.5h0m-12 2h0m-1.5-1h0m6 0h0m-2.5-1h0m6.5 3.5h0m-1-2h0m-2.5 1h0m1-2h0m6 0.5h0m-14.5-1.5h0m11 2.5h0m-11.5-2h0m5.5 0h0m-3 2h0m9.5-0.5h0m-4-1h0m-8.5 2h0m3-3h0m-0.5 3.5h0m1-2h0m6 2h0m-5.5-1h0m6 0h0m-5.5-2h0m9.5 1.5h0m-11.5-3.5h0m8.5 3h0m1.5-1.5h0m-8.5 0h0m8.5 1.5h0m-12 1.5h0m6.5-1.5h0m0.5 0.5h0m-7-3h0m15 2h0m-5 0.5h0m-5-2h0m6.5 2h0m1 0h0m-2.5-0.5h0m-4 3h0m-4.5-3.5h0m4-0.5h0m-5.5 1.5h0m7-1h0m8 2h0m-2.5-2.5h0m1 1h0m-3.5 3h0m-1.5-1.5h0m0-1h0m0-2.5h0m-3.5 4h0m-2-2.5h0m16.5 4h0m6 5.5h0m-32-2.5h0m14.5 1.5h0m23-3h0m-3 3.5h0m-47.5 1h0m34-7.5h0m-20.5 2.5h0m19-1h0m-7.5 3h0m-1.5-3h0m17 3.5h0m24.5-4h0m-43.5 2h0m52.5 0.5h0m-40-1.5h0m5 0.5h0m-2.5 0.5h0m5-2.5h0m-4 4.5h0m-2.5-3h0m-22.5-2h0m25.5 6h0m-6.5 0.5h0m7.5-1.5h0m-35-6.5h0m26.5 2h0m-10-2h0m24.5 5.5h0m-34-6h0m4.5 4h0m11.5 1h0m8.5 0.5h0m-15 1.5h0m-11-2.5h0m14.5 1h0m32.5-0.5h0m-16 1h0m-20 2.5h0m22.5-5.5h0m-36.5 4h0m50.5-4.5h0m0 2.5h0m-15.5 0h0m-2.5 3h0m-6.5-2h0m4 0h0m1-0.5h0m-7.5 3h0m8.5-5h0m-15.5 0h0m28.5 1h0m-23.5 2.5h0m12.5-2.5h0m4.5-3.5h0m21.5 3h0m-52-0.5h0m32.5-1h0m-3.5 8h0m-17-7.5h0m-11-0.5h0m28.5 4h0m33 1h0m-22-2h0m-2.5-1h0m-48 5.5h0m34-3.5h0m2-2.5h0m5.5 1.5h0m24.5 0.5h0m-63 2.5h0m22.5-3h0m21 0.5h0m-55-5.5h0m56 5.5h0m4 2h0m-11-6h0m-19.5 5h0m7.5-3.5h0m16.5-0.5h0m-19 0h0m-3-0.5h0m-11 1h0m15-1h0m10.5 3h0m-13-1.5h0m20.5-0.5h0m-5 3.5h0m-24-5h0m0.5 1h0m19.5 2h0m8.5 2h0m-32.5 2.5h0m12-8h0m14 1h0m-22 2h0m17.5 0.5h0m9.5-1.5h0m-3.5-0.5h0m-21.5 6.5h0m15.5-6.5h0m9 2h0m15.5 1h0m-20.5-1.5h0m-10-2.5h0m16 3h0m-12.5-3.5h0m2 8.5h0m37.5-3h0m-45 1h0m25.5 1h0m9 0.5h0m-42-9.5h0m32.5 8h0m-29-4.5h0m17 0.5h0m-5.5 2h0m-4 0h0m-13.5-1.5h0m30.5 2h0m-6.5-2h0m-0.5-1h0m-14.5 5.5h0m17.5-1h0m-12.5-1.5h0m-9.5-2h0m24 3h0m2.5-2.5h0m-0.5 1h0m-24.5 1h0m3-0.5h0m15.5-5h0m-3 2h0m-27 5.5h0m36-0.5h0m1.5-4.5h0m-15 2h0m12 3.5h0m-24-0.5h0m30.5-5h0m-50 3.5h0m16 1.5h0m58-2.5h0m-53 0h0m35-1.5h0m-40.5 1h0m41.5-1h0m-22 1.5h0m8.5-3.5h0m-37.5 5h0m9.5-0.5h0m-2-4.5h0m-9 1h0m-22-2h0m36 6.5h0m21.5-2.5h0m-6.5-0.5h0m-16 4h0m23-1h0m-8-1.5h0m-14-2.5h0m-11.5-0.5h0m37 0h0m-20.5-1h0m-21.5 0.5h0m11.5-1h0m-1 5.5h0m51.5-0.5h0m-8.5-1h0m-8.5 1.5h0m-36-2h0m21 0.5h0m-16 1h0m31 2.5h0m-38-8h0m34.5 7h0m-46.5-6h0m38.5 7.5h0m-14-3h0m3-5.5h0m5.5 5h0m11.5-3.5h0m-30-2h0m9.5 4.5h0m18.5-1h0m-11 0h0m-53 3.5h0m49 2h0m-21.5-7h0m51 0.5h0m-10 2h0m7-3h0m-51-0.5h0m29.5 2.5h0m1.5 1.5h0m-21.5 0h0m11.5 0.5h0m4.5 3.5h0m20.5-3.5h0m-36.5 3.5h0m21.5-6.5h0m4.5-0.5h0m16.5 5h0m-42-3h0m54-3h0m-39.5 7h0m48-6.5h0m-30 3h0m1.5 2h0m3-1.5h0m-16.5 1.5h0m6.5-3.5h0m26.5 0h0m-0.5 3.5h0m-60-0.5h0m2.5-4.5h0m-53.5 10h0m114-5.5h0m-50-3.5h0m-20 6h0m24-6h0m13 3.5h0m24-0.5h0m-19.5-2.5h0m-7-2h0m-16.5 2h0m-8.5-2h0m18 0h0m21 4.5h0m-19.5-2.5h0m18 2.5h0m-1-1h0m6 1.5h0m-19.5 0.5h0m-4.5-6h0m43.5 2.5h0m-53-2.5h0m14.5 3h0m16-1.5h0m-36.5-1h0m-0.5-1h0m22.5 0.5h0m38.5 5h0m-20 1.5h0m-16 0h0m3-4.5h0m-20-0.5h0m-3 0h0m-16.5-3.5h0m56.5 7h0m-53.5-5h0m67 4h0m-48-2h0m-6.5 0h0m7 0h0m3 2.5h0m7.5-2h0m6 1h0m-1.5 1.5h0m2 1h0m6-3h0m18 1.5h0m-41 1.5h0m9-0.5h0m1-3h0m28.5 2h0m-27.5-2.5h0m12.5 1.5h0m-42.5-4h0m31.5 5.5h0m-30-7.5h0m20.5 5h0m12.5-1.5h0m-11.5 4.5h0m-13 2.5h0m5-9h0m-2 1h0m57.5 2.5h0m-59-2h0m-18.5 5.5h0m47 0h0m8-3.5h0m-37.5 4.5h0m43 1h0m-14.5-6.5h0m-28 4.5h0m48.5-2.5h0m-22 0h0m-20-2.5h0m30.5 3h0m-7.5-1.5h0m9 1.5h0m-4.5-0.5h0m-11 1h0m-2-2.5h0m-18.5 0h0m15-1.5h0m-1.5 5h0m-0.5-4.5h0m16 1.5h0m-1-0.5h0m-25 0h0m15.5-0.5h0m21 2h0m-20.5-2h0m26 5h0m5.5-2h0m-20.5-2.5h0m-45.5 1h0m-20.5 6.5h0m33-3.5h0m24 2.5h0m-34-9h0m26 2h0m-1.5 0h0m6.5-1h0m-0.5 7h0m-2.5-6.5h0m-11 2.5h0m-51.5 4h0m73-0.5h0m-17-7.5h0m-25 1h0m44 3.5h0m5.5 1.5h0m1-1h0m-40.5-1.5h0m30 0.5h0m-5 4h0m1-8h0m-41 2.5h0m44.5-1h0m16.5 4.5h0m-33.5-3h0m-27 4.5h0m28.5-5.5h0m16.5 5.5h0m-7.5-5.5h0m0.5-0.5h0m18 3.5h0m5-1h0m-18.5 0h0m-19 1h0m33.5 1h0m-53-3h0m26 4.5h0m28-2.5h0m-12-0.5h0m-8 0h0m10.5-4h0m-37.5-0.5h0m33 3.5h0m6 1.5h0m-33-2h0m31 3h0m8-1.5h0m-45-3.5h0m25 1h0m-2 2.5h0m14 0h0m-7-2h0m-40.5-3h0m19 1h0m40.5 2h0m-11.5-1h0m-52 5h0m50.5-1h0m-40-5.5h0m41.5 8h0m-16-4h0m19.5 0h0m-49 6h0m11.5-4.5h0m-3.5-4h0m21 4.5h0m21-3.5h0m21 1h0m-18 4h0m-24-6.5h0m-7 7.5h0m-3-7h0m24.5 3h0m-15.5 0h0m31-0.5h0m-26.5-2.5h0m-31.5 5h0m77.5 0.5h0m-23-1.5h0m6-0.5h0m-9 0h0m16.5-2h0m-43 2.5h0m-5 1.5h0m14.5-3h0m-15 1.5h0m1-3.5h0m1.5 7h0m4.5-4.5h0m5-0.5h0m16-3.5h0m-29-0.5h0m21 4h0m20 2h0m-10.5-0.5h0m-20.5 0h0m8.5-2h0m-24-1.5h0m-17 1.5h0m67 4.5h0m-44-2.5h0m3.5-6h0m23 7h0m-45.5-4.5h0m-9.5 8h0m38.5-4.5h0m25-1.5h0m-15 2.5h0m-46-8h0m27 2.5h0m-5.5-0.5h0m39 3.5h0m-43.5-1.5h0m27.5 0.5h0m-7.5 0.5h0m-29-0.5h0m53.5-0.5h0m-21 4h0m11.5-5h0m11 3.5h0m-25-1.5h0m17-1h0m-49.5 3h0m5.5 1h0m31.5-3h0m3-4h0m-12.5 3.5h0m-5 7h0m-12-10.5h0m-5.5 7.5h0m22.5-5.5h0m-10 3h0m23.5 0.5h0m24-1.5h0m3 0h0m-61 1h0m33-2.5h0m20.5 4.5h0m0.5-1.5h0m1.5 1h0m-23.5 0.5h0m10-3.5h0m-18.5 0.5h0m-15-1.5h0m48 1.5h0m-29-1.5h0m13.5 1.5h0m-8.5 0.5h0m-20.5 1h0m-3 2h0m-37.5 0.5h0m20.5-8h0m78.5 6.5h0m-48.5-3h0m-10-1.5h0m-9.5 4h0m27-3h0m-12.5-0.5h0m56 0.5h0m-42 1.5h0m-49 3h0m32-0.5h0m7.5-3.5h0m-5.5 0h0m23.5 2h0m-5 0h0m-14-4h0m8-2h0m-5.5 7.5h0m-3.5-5h0m4 3.5h0m1 1.5h0m4-3.5h0m32 1.5h0m-71-4h0m40.5 0h0m17 2.5h0m-21.5-2h0m17 5h0m-15.5 2.5h0m-23-0.5h0m15.5-6h0m27.5-0.5h0m-41.5 7h0m-10-5h0m61.5 0.5h0m-20 0h0m25-1.5h0m-26.5 4h0m14 2h0m-7.5-0.5h0m-8.5-7h0m-5 1.5h0m37.5 1h0m-61.5-3.5h0m38 4.5h0m7-2h0m-48.5 2.5h0m60-2h0m-43-1h0m12.5 5h0m-5.5-0.5h0m-8.5-6h0m20.5 8h0m-6-7h0m13-0.5h0m-69.5 7h0m35.5-1.5h0m49.5-4h0m-50-0.5h0m26 1.5h0m-19-5h0m2.5 5h0m30-3h0m-13 5h0m-28-2h0m36 1h0m-33.5 1h0m28-0.5h0m-26.5-4h0m-3.5 7h0m-8.5-7h0m14 6h0m-13-6.5h0m-0.5 0.5h0m51 4h0m-6-1h0m-58.5-5h0m38-0.5h0m11 5.5h0m-38.5 5h0m26.5-5h0m21.5-1h0m7.5 0h0m-29.5 3h0m16.5-0.5h0m-21-5h0m-30.5 3.5h0m-19 3h0m40-4.5h0m38 2.5h0m-16-0.5h0m-3.5 1.5h0m-24-3h0m6.5 0h0m43.5 3.5h0m-59.5-6.5h0m58.5 5.5h0m-12.5 1.5h0m-63 3h0m60.5-4h0m7.5-1.5h0m-63.5 3.5h0m62.5-5h0m-6-1h0m-24.5-0.5h0m16-0.5h0m-7 7h0m-11.5-2h0m13.5-4.5h0m-13.5-1.5h0m38.5 1.5h0m-56.5 5h0m27.5-4.5h0m21-3h0m-8 10h0m-32.5-3.5h0m11-2h0m-8 0h0m51-1h0m-14.5-0.5h0m29.5 0.5h0m-31.5 3.5h0m22-0.5h0m-42.5-1.5h0m8-4.5h0m-2 1.5h0m13.5 1.5h0m-30 0.5h0m31.5 3h0m-39.5-2h0m54.5 4h0m-56 1.5h0m-16.5-3h0m31.5-6h0m36 5h0m-12-0.5h0m-10 1.5h0m-32 0h0m-34 3.5h0m71-5.5h0m6.5-0.5h0m-26.5-3h0m-8 3.5h0m31.5-1.5h0m4-2h0m20.5 2.5h0m-15-3.5h0m-32.5 2.5h0m11.5 1.5h0m13.5-3.5h0m-26.5 9h0m-33.5-7.5h0m45.5 1h0m-14.5 1h0m16.5 0.5h0m-15.5-1.5h0m9.5 3.5h0m34-2h0m-26 0.5h0m16-3h0m-46.5-2h0m46.5 5h0m-6.5 2h0m-57 1h0m42.5-5.5h0m-20.5-1.5h0m20.5 6.5h0m9.5-4h0m-14.5 2h0m20.5-5.5h0m-6 6h0m22 1h0m-40.5 0.5h0m-30.5 2h0m73-5h0m-41.5-3h0m15.5 1.5h0m-21.5 0.5h0m17.5-0.5h0m-30 2h0m41.5 3h0m-33-2.5h0m16.5-4h0m-10 4.5h0m23.5-1.5h0m-53.5 3.5h0m47.5-6h0m-35.5-1h0m37.5 3.5h0m-4 3h0m-5 1.5h0m-42.5 1.5h0m13.5-3.5h0m25.5-4h0m6-1.5h0m21 4h0m-20.5-3h0m34 0h0m-45.5-0.5h0m30 7h0m-17.5-2.5h0m23-3.5h0m-15.5 3.5h0m15-1.5h0m-13.5-4.5h0m-11 3.5h0m2 2h0m38-4h0m-33 4h0m-28.5 1.5h0m43.5-5h0m-38.5-3.5h0m20.5 2h0m-24.5-0.5h0m54.5 4h0m-63 3h0m-3.5 1h0m41-6.5h0m6.5 4.5h0m-48.5-6h0m6.5 7.5h0m-2.5-7.5h0m18.5 1.5h0m6.5 2h0m6.5-1.5h0m-1.5 4h0m14.5-3h0m-15.5-3h0m19 5.5h0m-21-2.5h0m12.5 2h0m47-1.5h0m-59-3.5h0m20 6h0m-38.5-3.5h0m29.5 2.5h0m-31.5-4h0m31 3h0m-14 2h0m25.5-6h0m7 1h0m3 2h0m-32.5-0.5h0m6.5 4h0m-16.5-2.5h0m10 3h0m33.5-2.5h0m6.5 0h0m-42-4h0m-6.5 4.5h0m-16 1h0m77.5 1h0m-36-6.5h0m-27 2h0m36 2h0m3 0.5h0m4.5-2h0m-37.5 0.5h0m42 1h0m-13.5 2h0m-60.5 2h0m-23-2h0m38.5-3.5h0m-37-1h0m37-1h0m40 7h0m-17-2h0m57-0.5h0m-66.5 2h0m-36-1h0m40-1h0m-18.5 1h0m32-2h0m12 4.5h0m-11.5-7h0m27.5-1.5h0m-50.5 8.5h0m1.5-9h0m14.5 7h0m21.5-4.5h0m-40-4.5h0m42.5 9.5h0m4-7h0m-13 5h0m7.5-3h0m-1 1h0m-23 4h0m-3.5-4h0m17-3h0m-21.5 4h0m7 0h0m-0.5 1h0m-18.5 3.5h0m34.5-2.5h0m-38 1h0m-28.5-3h0m49-7h0m-39 13.5h0m34-11h0m32.5 1h0m-51.5 0h0m57 4h0m5.5-1.5h0m-18-1.5h0m-28-1.5h0m7 4.5h0m-10.5 1.5h0m10-6.5h0m6 9.5h0m-18.5-9h0m2 6.5h0m-9.5-5h0m65-1h0m-41.5 1h0m-22.5-2h0m34.5-0.5h0m-16.5 3h0m34 1.5h0m-22 0.5h0m0.5-4.5h0m-17.5 6.5h0m46-1.5h0m-36-4.5h0m6.5 0.5h0m22 4h0m-24.5-1h0m-3.5 1h0m15 2h0m-13-2.5h0m-6-1.5h0m-10 0h0m34.5-2h0m-15.5-0.5h0m29 3h0m-80.5 1.5h0m63-4h0m-16.5 0.5h0m-5.5 3h0m-29 3h0m62-4.5h0m-51 4.5h0m48.5-1.5h0m-25.5 1h0m19.5-4.5h0m-47.5 3h0m23 1h0m24-4h0m-8 3.5h0m-13.5 0h0m5-4.5h0m23.5 5.5h0m-21.5 0h0m-27 1.5h0m62-5h0m-70.5-4.5h0m49 4h0m5 0h0m0.5 4.5h0m0-4.5h0m13-1h0m-49 0h0m13 2h0m-39.5-1h0m29 3h0m24.5-3.5h0m-31-0.5h0m35.5-1h0m-48.5 0h0m22-0.5h0m8 6.5h0m45.5-0.5h0m-54 0h0m42.5-4.5h0m13 0h0m-53.5 2h0m-0.5 0.5h0m10-3h0m-2 1.5h0m2.5 0.5h0m-12.5 6.5h0m33.5-4.5h0m-2.5 0.5h0m-30.5 1h0m41-2.5h0m-34.5-1.5h0m14.5-1.5h0m-7.5 3.5h0m24-3.5h0m-50.5-2.5h0m2.5 2h0m-0.5 7h0m15-6h0m9 4.5h0m15.5-1h0m-12-2h0m3-1.5h0m14.5 1.5h0m-16 3.5h0m13-6h0m6.5 2.5h0m-96 4.5h0m63-2.5h0m30.5-3h0m-33 5h0m19.5-5.5h0m-29.5-1h0m35.5 4.5h0m-39.5 1h0m25-2h0m-8.5 3.5h0m16-6h0m-10.5-1h0m-59.5 1.5h0m32.5 5.5h0m13-3.5h0m10.5 0.5h0m-22.5-3.5h0m43-1h0m-14.5 0.5h0m5.5 2h0m-24.5 2h0m35-1.5h0m-27.5-2h0m1 7h0m-29.5-10.5h0m12.5 7h0m33-3h0m7.5-1.5h0m-6.5 1h0m28 3.5h0m-22.5-1.5h0m25 4h0m-17-4.5h0m-18 4h0m14 0h0m2-5h0m-1.5-1.5h0m-35.5 4h0m22 1.5h0m-2.5-6.5h0m-39.5 7h0m42 2h0m27-2.5h0m-9-1.5h0m-40.5-2.5h0m18 2h0m-39-2.5h0m63 3.5h0m-30.5-3h0m5.5-2h0m-24.5 7.5h0m14.5-5h0m24 4h0m-26-2h0m35.5 1h0m-14.5-0.5h0m-18.5-0.5h0m31.5 2h0m7-1.5h0m-62 2h0m6.5-4h0m8 4.5h0m-7.5-9.5h0m-9.5 11.5h0m25.5-5.5h0m21.5 1.5h0m-8-6.5h0m-3.5 4.5h0m17.5 1.5h0m-38.5-5h0m-9 1h0m18.5 7h0m9-5h0m21.5 4h0m-29.5-1.5h0m35.5-5h0m-35.5 2h0m32.5 2.5h0m-33-6h0m34 2.5h0m-16 1h0m9-1h0m-48.5 1.5h0m78 0.5h0m-56.5-3.5h0m-72 7.5h0m103-4.5h0m2 0h0m4.5 2.5h0m-7-2.5h0m11.5-0.5h0m-45.5-1.5h0m-12.5 6h0m5-7h0m29 4.5h0m-4.5 2h0m-24.5-2h0m41-1h0m-17.5 1h0m-33 1h0m12.5-4.5h0m-16 1h0m68 1.5h0m-36.5 4.5h0m-9-0.5h0m21-1h0m-11.5-2.5h0m6.5-1.5h0m-13-1.5h0m-8 4h0m19-3h0m15.5 2.5h0m4.5 0.5h0m-16-1h0m30.5-1h0m-9.5-0.5h0m-9.5 4h0m-34.5-1h0m33-3h0m7.5 4.5h0m-20-1.5h0m-26-6h0m41.5 0h0m9.5 4h0m-95 5h0m104.5-6h0m-45 4.5h0m19.5 2.5h0m-25.5-10.5h0m18.5 4.5h0m-33-5h0m-12 5.5h0m44-4.5h0m-3 8h0m-34.5-0.5h0m53-6h0m-19 4h0m-13.5 3h0m27-4.5h0m-31 0.5h0m26 5h0m-2.5-8h0m12 2h0m-27.5 3h0m14-6h0m-4.5-0.5h0m-10 0h0m-6.5 4.5h0m38-3.5h0m-25 4.5h0m11-2.5h0m-7.5 0.5h0m-23.5-2.5h0m30 6h0m21-4.5h0m-1 1h0m-56 1h0m25.5 0h0m-29.5-4.5h0m18 1h0m1.5 1.5h0m56.5 3.5h0m-24.5-3.5h0m1.5-0.5h0m-20 3.5h0m-2-3h0m-42.5-3h0m36.5 1h0m28 7h0m-43.5-5.5h0m62.5 4h0m-73 1.5h0m38-6h0m-10.5 4.5h0m20-4h0m-45 6h0m9-8h0m-2.5 8.5h0m55.5-5h0m-42.5 0.5h0m17-1h0m6.5-2.5h0m12 7h0m-12.5-4h0m-1 1.5h0m27.5-1.5h0m-66-2h0m14 4h0m25 1h0m-16-5h0m-30 7h0m39-7h0m-51.5 8h0m26-3.5h0m6.5-4.5h0m55.5 0h0m-37.5-0.5h0m2.5 1.5h0m-7.5 3.5h0m-18-5h0m30 4.5h0m-1-2.5h0m-44 8h0m14-2h0m17.5-3h0m-18.5-4h0m32-1.5h0m-40 4.5h0m85.5 2h0m-22-5h0m-42-0.5h0m31.5 1.5h0m-24.5 5.5h0m27-1.5h0m-37-7.5h0m-5.5 7h0m29.5-2.5h0m12.5 1h0m-6 0h0m-20.5 2h0m27.5-3.5h0m9.5 0.5h0m1 2.5h0m-4.5-0.5h0m-44.5 1h0m22-4.5h0m-60 3h0m71 1h0m-29.5-4h0m49.5 3.5h0m-7.5-3h0m-27-4.5h0m-4 6h0m-7.5 0h0m10-2.5h0m-0.5-2h0m-27.5 7.5h0m13-4h0m-56.5 2h0m78.5-1.5h0m-20.5-0.5h0m9 0.5h0m15 1h0m-46-6.5h0m47.5 2.5h0m-42.5 4h0m30.5-1.5h0m-48 6.5h0m51-9.5h0m-24.5 8.5h0m-4-4h0m-21.5 3.5h0m54-6h0m13.5 3.5h0m-1-3h0m25.5 1.5h0m-95.5 3h0m37.5-7.5h0m-2 5h0m17.5-4.5h0m30.5 0.5h0m-76 5h0m12-3h0m16 5h0m3.5-1h0m-57 2h0m83-2.5h0m-8.5-2h0m5.5 0.5h0m4-1h0m-4 0h0m-52-6h0m83.5 5.5h0m-43.5 3.5h0m22.5 0h0m-59.5-0.5h0m18-4.5h0m41 4.5h0m-57-4h0m44.5-2.5h0m-31 4h0m10-1.5h0m-19 3h0m48 1.5h0m-11.5-5.5h0m-49-1h0m58.5 3h0m-49 3.5h0m64.5-3h0m-65-4.5h0m40.5 1.5h0m-36.5 8h0m-15-1h0m19.5 0.5h0m3.5-7h0m27-1.5h0m-16 5h0m47-2h0m-62-4h0m-17.5 8.5h0m43-8h0m-16.5 8h0m5.5-1h0m34-2h0m-66 3.5h0m6-5h0m11.5 6.5h0m20.5-5h0m-17.5-3.5h0m-9 1h0m4 5.5h0m32-1.5h0m-28 2h0m39-1h0m7.5-4h0m-30.5 1h0m-24.5-4.5h0m67.5 7h0m-47-5h0m-12.5 5h0m6 1h0m33-6h0m6 4.5h0m-38.5-2.5h0m-3.5 0h0m46 3.5h0m-28.5-4.5h0m30 4h0m-33-4h0m7-0.5h0m29.5 5h0m-51-6.5h0m31 0.5h0m18 3h0m-59 4.5h0m28.5-6h0m17 0h0m-40.5-2h0m-26-0.5h0m23 0h0m34.5 4.5h0m2.5-3.5h0m-33.5 0.5h0m0 6h0m58-6h0m-22.5 0h0m11.5 3h0m-11-1.5h0m0-2h0m-2 2.5h0m13 4h0m4-4.5h0m3-0.5h0m3 4.5h0m-60.5 2h0m72-5h0m-50.5 1.5h0m-6 2h0m10-4.5h0m-22.5 4.5h0m6.5-1.5h0m20.5-6.5h0m-7 2.5h0m-39.5 4h0m35.5 0.5h0m-5.5-2h0m50 3.5h0m-40-3.5h0m-48.5 2h0m53.5-1.5h0m-28.5 0.5h0m42.5-1.5h0m8-0.5h0m-7-3h0m-2.5 0.5h0m12.5 4h0m-4-1h0m27 1h0m-48-2h0m20 1.5h0m1.5-4.5h0m-49 6h0m63-1.5h0m-57 1h0m45.5-1h0m-13.5 1h0m-12 0.5h0m-45 2h0m24-0.5h0m6.5 2.5h0m-13-1.5h0m59-2.5h0m-6.5-3.5h0m8.5 4h0m-25.5 0.5h0m21.5-1h0m-25.5 2h0m9-5h0m6.5 4h0m-31-5.5h0m-23-0.5h0m56.5 2.5h0m-30 2.5h0m-13 2h0m28-7.5h0m-44.5 8h0m7-2.5h0m9.5-3h0m1 0h0m32.5-3h0m-25.5 8h0m34.5-7h0m-23 7h0m21-6h0m-34 1.5h0m40.5 3h0m-20-6.5h0m17.5 2.5h0m-63 0.5h0m26.5 0.5h0m26 3h0m-25-0.5h0m6 0.5h0m53.5-1h0m-57-1h0m10.5 1h0m-7 2.5h0m-17.5-4h0m34.5-1.5h0m-9.5-2h0"/><path stroke="#0000ff" d="M40.5 233h0m-1 1h0m1.5 7.5h0m-0.5-5h0m0.5-1.5h0m-1-2h0m0 4h0m0.5-1h0m-0.5 4.5h0m1-10.5h0m0 2.5h0m0 3.5h0m0-7h0m0 6.5h0m2-4.5h0m-0.5 7.5h0m-0.5 1h0m1 1.5h0m-1-5.5h0m0.5-1.5h0m0 3.5h0m-0.5-3.5h0m0-0.5h0m0.5-0.5h0m-1 6h0m1.5-8.5h0m-2 3h0m1.5 12.5h0m0.5 4h0m-1-11.5h0m1 2h0m-1-11h0m0.5 5h0m-1 6h0m0.5-7.5h0m0 10.5h0m1-5h0m-1-2h0m-0.5 5.5h0m1.5 6.5h0m0-7h0m-1-4.5h0m1-4h0m-0.5 6h0m0-6.5h0m-0.5-5h0m0 7h0m1 12.5h0m-2-10h0m1-10h0m1 15h0m0 2h0m-0.5-7.5h0m0.5-2h0m-1 3h0m-0.5 1h0m1.5 4.5h0m-1.5-10h0m0.5 9.5h0m0.5-11h0m0.5 11h0m-1-12h0m0.5 0.5h0m-1 1h0m-0.5-1h0m2 15.5h0m-0.5-5h0m-1-6.5h0m1.5 12.5h0m0-10h0m0 8.5h0m-2-12h0m1.5-4h0m0 2h0m-1 7.5h0m0.5-0.5h0m1-9.5h0m-0.5 7.5h0m0.5 0h0m0-10h0m-1 13.5h0m-0.5 1h0m1.5 3h0m0-9h0m-0.5 10h0m0.5-7.5h0m-1.5-5.5h0m1 7.5h0m0-12.5h0m0 15.5h0m0-7h0m0.5-4.5h0m-1.5 5.5h0m1-2h0m-1-4.5h0m1.5 2h0m-0.5 7h0m-1.5-9h0m1 15h0m-0.5-10h0m0.5-3.5h0m0 14h0m0-13.5h0m0.5 3h0m0-6h0m-1.5 8h0m1.5 10.5h0m-1.5-9h0m2-4h0m-1.5-0.5h0m0.5 5.5h0m1 5.5h0m-1-15.5h0m0.5 18.5h0m0.5-8.5h0m-0.5 1h0m-0.5 3h0m-1-14.5h0m1 13.5h0m-0.5-15.5h0m1.5 12h0m-1.5 0.5h0m1.5-10h0m-0.5 15h0m-0.5-4h0m0-5h0m0 5.5h0m1-7.5h0m-1.5 7h0m0-3h0m1.5 10h0m-1.5-4.5h0m0.5-1.5h0m1-3h0m-1.5-8h0m-0.5 8.5h0m0.5-5.5h0m0-4h0m4 20h0m-1-6.5h0m1.5 2.5h0m-1-3.5h0m-1-10.5h0m0 9.5h0m0 6.5h0m3.5-5h0m-3-9.5h0m-0.5 9.5h0m1.5-10.5h0m-1 8h0m1.5 4h0m-2.5 2h0m2-6h0m1.5 7h0m-0.5-8h0m0-0.5h0m-2 7h0m-0.5-0.5h0m2.5-8h0m-2.5 11.5h0m2-19h0m-1.5 2h0m-0.5 2.5h0m1.5-3h0m-2 10.5h0m2.5-5h0m0.5-7.5h0m-0.5 10h0m1.5 0h0m-2.5-4.5h0m1.5 12h0m0.5-12h0m-2.5 11.5h0m1.5 1.5h0m-2-7.5h0m1.5-12h0m1 11.5h0m-3 2.5h0m1.5-15h0m0.5 14h0m1-0.5h0m-3-6h0m4 1h0m-1.5 4.5h0m-2.5 0.5h0m0.5-7h0m1.5 1h0m1 1.5h0m-1-6.5h0m0.5 0.5h0m-1 6.5h0m0.5 7h0m-0.5-3.5h0m0 3.5h0m0.5-6.5h0m-0.5-7h0m1.5 14h0m0-10h0m0.5 9.5h0m-0.5 2h0m-0.5-16.5h0m-2 13h0m0.5-11h0m0 13h0m0.5-2.5h0m0-8.5h0m1 5.5h0m-1-2.5h0m-0.5-0.5h0m2.5 5.5h0m-1.5-4.5h0m1 11h0m-3-0.5h0m1-9h0m-0.5 5.5h0m1-11.5h0m2 8h0m-0.5 3h0m-1 2.5h0m0-6.5h0m-1.5-9h0m0.5 20h0m-1-20h0m0 12.5h0m3-12.5h0m-1.5 7h0m0.5 9.5h0m0-1.5h0m-1 3h0m0-11h0m-1-1.5h0m0.5-4.5h0m2.5 11.5h0m1 1.5h0m-1.5-2h0m-1 2.5h0m-0.5 2h0m0.5-15.5h0m0.5 3h0m-0.5 7h0m1-5h0m-2 0.5h0m0-4h0m0.5 12.5h0m-0.5 2h0m1.5-1h0m-1.5-10.5h0m0.5-6.5h0m0.5 18h0m-1-20h0m3 11.5h0m-1 6h0m-2-6.5h0m3.5-1.5h0m-3 0h0m-1-4h0m2.5 0h0m0 14h0m0.5-6.5h0m-0.5-3h0m0 11h0m-1.5-9.5h0m2-10h0m-1.5 3h0m-1.5 12.5h0m1-13.5h0m3 12.5h0m0 0.5h0m-2.5 4h0m2-12h0m-0.5-4h0m-2.5-2.5h0m0.5 18.5h0m-0.5-10h0m3-7h0m-3 6.5h0m1.5-3.5h0m-2 14h0m2-9.5h0m-2 0h0m1 2.5h0m0-1h0m0-6h0m2 11h0m0 0.5h0m-1.5-10h0m-1.5-3h0m1 16.5h0m-1-5.5h0m0.5-8h0m-0.5 1h0m4-2h0m-3 8.5h0m1 2h0m-2-16.5h0m0 17.5h0m3.5-10.5h0m-3.5 3.5h0m2 4.5h0m1 0.5h0m-2-2h0m-1-14.5h0m1.5 18.5h0m-0.5-16h0m1.5 11h0m1 2h0m-3-1h0m2 2h0m-0.5-1.5h0m-1.5 3.5h0m1.5-19h0m-1 11h0m2-4h0m-3 3h0m1-2.5h0m-0.5 5h0m3.5-6h0m-4 13.5h0m3-14h0m-2.5-0.5h0m3.5-1h0m-3.5 17h0m-0.5-17.5h0m3.5 12.5h0m-1.5-1.5h0m-1.5 5h0m0-3.5h0m0-2.5h0m1 9h0m-0.5-2.5h0m0.5-8.5h0m0 7.5h0m-0.5 3.5h0m-0.5-15h0m3.5 4h0m-4-13.5h0m2.5 20h0m-1.5-0.5h0m3-2.5h0m-2.5 4.5h0m0-17.5h0m0 14h0m0 1h0m-1.5-12.5h0m2.5-4.5h0m-1.5 5h0m1.5 5.5h0m0.5 0.5h0m-1.5-4.5h0m1 6h0m-2 6.5h0m2-11.5h0m-0.5-7h0m-2 7.5h0m0.5 9h0m0.5-9h0m-1 9.5h0m3-10h0m-3-0.5h0m4 10.5h0m0.5-7.5h0m1 2.5h0m-1-2h0m0 4h0m1 0h0m-0.5-5h0m0 7h0m1.5-4h0m0 2.5h0m1.5 0.5h0m-3-9.5h0m0 9h0m-1-5h0m3 5.5h0m-2-1.5h0m0.5 1h0m-1 1.5h0m2-3h0m-1.5-0.5h0m1.5-2.5h0m-1.5 5.5h0m1.5 0h0"/><path stroke="#ff00ff" d="M43 250h0m2.5 2.5h0m0-2.5h0m1.5-3h0m0 4h0m0.5 1.5h0m0-3h0m-2 2.5h0m2-4h0m-4 3h0m1-0.5h0m2.5-0.5h0m-0.5 2h0m0-4h0m0 2.5h0m0.5-1.5h0m0.5 2h0m0-1h0m0-1.5h0m-0.5 6h0m-2.5-5h0m2.5 3.5h0m-2-2.5h0m1.5 4h0m0-0.5h0m-0.5-7h0m-0.5 4h0m0-3.5h0m0 3h0m0.5-1.5h0m0.5 2.5h0m0.5-3h0m-1 1.5h0m1 4h0m-0.5-7h0m-1 6h0m1.5-5h0m-2 3.5h0m0 0.5h0m1-4h0m-0.5 1h0m-0.5 0.5h0m2.5 8.5h0m0-1h0m-0.5-11.5h0m0 2h0m-1.5 6.5h0m0.5-1h0m1.5 3.5h0m-2-5h0m1-5.5h0m-2.5 5h0m3.5-0.5h0m-0.5 3h0m0-3h0m0.5-3.5h0m-1.5 5h0m0-6h0m0.5 10h0m0.5-9.5h0m0.5 6.5h0m0-8h0m-2 9.5h0m1-7h0m0 9h0m-2-8h0m2.5-2.5h0m0 6h0m-0.5-2.5h0m-0.5 1.5h0m-0.5-3h0m1 5.5h0m-0.5-1h0m-1 1.5h0m2.5 5h0m-1-10.5h0m0.5 10h0m-2.5-8.5h0m-0.5 0.5h0m1.5 6h0m1.5 1h0m0-8h0m-1.5-1h0m0.5 1h0m0.5 1.5h0m-1.5 1.5h0m2.5-0.5h0m-2 3h0m-0.5-6h0m-0.5 2.5h0m3 3.5h0m-3-2.5h0m3-1h0m-1.5 5.5h0m0.5-10.5h0m1 7.5h0m-2.5 0.5h0m0 1.5h0m1.5-3h0m1 3h0m-2.5-3h0m-1-4h0m4.5-2.5h0m1.5 1h0m-2 6.5h0m1.5 7h0m-1.5-8h0m0.5-3.5h0m4 0h0m-4 9.5h0m0.5-4.5h0m1 3.5h0m0-1.5h0m-1.5-4h0m5 1h0m-1-8.5h0m-4 2.5h0m1 6.5h0m2.5-5.5h0m3 3h0m-1 0h0m-1.5 4.5h0m-4.5-4.5h0m0.5 0h0m4.5 1.5h0m0.5 5.5h0m-2.5-1.5h0m3-1h0m-4.5 0.5h0m1-12h0m-0.5 9h0m1.5 6h0m-3.5-8.5h0m3-2h0m-2 0.5h0m5 10h0m-4-8.5h0m0-2.5h0m4.5 7.5h0m-3-5h0m-3 7h0m-0.5-2.5h0m3.5 4.5h0m0-10.5h0m3 5h0m-6-6h0m0.5 7.5h0m1.5-7.5h0m3.5 8.5h0m-2 5h0m-2.5-3.5h0m4.5-8h0m-5 2h0m2 8.5h0m-3-6.5h0m3-8.5h0m1.5 9h0m-3 4.5h0m-1.5-10h0m2.5 6.5h0m1-3.5h0m-1.5 8h0m-1-13.5h0m1 10h0m0-9h0m3 10h0m-3-5.5h0m2 6h0m-1.5-12h0m-1 0h0m3 4h0m-4 4.5h0m0.5 3.5h0m6-0.5h0m-2.5-7h0m-1-1h0m0 9h0m-1.5-4.5h0m-1-4h0m0.5 11h0m-0.5-4.5h0m2-2h0m0-4.5h0m-2-2.5h0m1.5-1h0m0.5 5h0m2-3h0m-2.5 4.5h0m-2 2h0m-0.5-9.5h0m2 4h0m-2 9h0m1 0h0m0.5-4.5h0m-1-6.5h0m2.5 6.5h0m1 6h0m-2-9h0m3.5 4.5h0m-1.5-9.5h0m-3.5 2.5h0m3 4.5h0m1-5h0m-2 9.5h0m1-9h0m1.5 6h0m-3.5-1.5h0m1.5 0.5h0m-2 6.5h0m4-13.5h0m-1.5 11h0m-0.5-4.5h0m-1 5.5h0m-2-9h0m4 7.5h0m-1.5-2.5h0m-0.5 0h0m2 1.5h0m2-1.5h0m-4-3h0m2 0.5h0m3-3.5h0m-5 1.5h0m3.5 7.5h0m-3.5 2h0m3.5-11.5h0m-2.5 1h0m-1-0.5h0m4 9h0m-2-4.5h0m1.5-4.5h0m1 8.5h0m-1 3h0m0.5-7h0m-5 2h0m0.5 2.5h0m3-2.5h0m-4.5 2h0m1-6.5h0m1.5 3.5h0m1-6.5h0m-1.5-2.5h0m1 1.5h0m1 2.5h0m-1.5 1h0m1.5 7.5h0m0-4h0m3 3h0m-5-1.5h0m0.5-3h0m2 0h0m1.5 4h0m1-2h0m-5 7.5h0m4-11h0m-6-3h0m6 6.5h0m0.5 1h0m-3 5.5h0m6.5-4.5h0m-2 0.5h0m-1-4h0m0.5 3.5h0m5 1h0m-3-1.5h0m2-0.5h0m-3-4.5h0m1 4.5h0m0.5 2h0m2-2.5h0m-4.5 3.5h0m0.5-2h0m3 0h0m-0.5-0.5h0m-2.5-4h0m2 6h0m0.5-1h0m0.5 0.5h0m-2.5-0.5h0m-1-5h0m0 5.5h0"/></g><text x="28.4" y="320.8" text-anchor="middle">0</text><text x="58.1" y="320.8" text-anchor="middle">20</text><text x="87.8" y="320.8" text-anchor="middle">40</text><text x="117.5" y="320.8" text-anchor="middle">60</text><text x="147.2" y="320.8" text-anchor="middle">80</text><text x="176.9" y="320.8" text-anchor="middle">100</text><text x="206.6" y="320.8" text-anchor="middle">120</text><text x="25.4" y="312.2" text-anchor="end">-10</text><text x="25.4" y="287.2" text-anchor="end">0</text><text x="25.4" y="262.2" text-anchor="end">10</text><text x="25.4" y="237.2" text-anchor="end">20</text><text x="25.4" y="212.2" text-anchor="end">30</text><text x="25.4" y="187.2" text-anchor="end">40</text></g><text x="117.5" y="331.8" text-anchor="middle" style='font-family:"Liberation Serif",serif;font-weight:bold;font-size:9.9px;letter-spacing:-0.3px'>V2</text><text transform="translate(9.7 246.5) rotate(-90)" text-anchor="middle" style='font-family:"Liberation Serif",serif;font-weight:bold;font-size:9.9px'>V3</text><text x="117.5" y="181.5" text-anchor="middle" style='font-family:"Liberation Serif",serif;font-weight:bold;font-size:9.6px;letter-spacing:-0.3px'>KCGWO</text><g style='font-family:"Liberation Serif",serif;font-weight:bold;font-size:8.6px'><path d="M263.7 309.0v-2M263.7 184.0v2M293.4 309.0v-2M293.4 184.0v2M323.1 309.0v-2M323.1 184.0v2M352.9 309.0v-2M352.9 184.0v2M382.6 309.0v-2M382.6 184.0v2M412.3 309.0v-2M412.3 184.0v2M442.0 309.0v-2M442.0 184.0v2M263.7 309.0h2M442.0 309.0h-2M263.7 288.2h2M442.0 288.2h-2M263.7 267.3h2M442.0 267.3h-2M263.7 246.5h2M442.0 246.5h-2M263.7 225.7h2M442.0 225.7h-2M263.7 204.8h2M442.0 204.8h-2" stroke="#7f7f7f" stroke-width="0.8" fill="none"/><rect x="263.7" y="184.0" width="178.3" height="125.0" fill="none" stroke="#7f7f7f" stroke-width="1"/><g fill="none" stroke-linecap="round" stroke-width="3.8"><path stroke="#ff0000" d="M289.5 303.5h0m1-0.5h0m0 1h0m-0.5-0.5h0m-1 0h0m0.5-1h0m5 2h0m5.5 1.5h0m-4.5-2.5h0m0 0.5h0m5 1.5h0m-4.5-1h0m4 0.5h0m0-0.5h0m-8.5-1h0m6.5-0.5h0m-4.5 1.5h0m6-2h0m-6.5 0.5h0m5.5 2h0m-0.5 0.5h0m2-2.5h0m0.5 3h0m-6.5-1.5h0m4-0.5h0m3 1.5h0m-4.5-1.5h0m4 0.5h0m-7-1h0m7.5 1h0m-1 1h0m-7.5-2.5h0m5 2h0m0.5 0h0m-6.5-2h0m4 1.5h0m2 0h0m-0.5-1.5h0m3-0.5h0m-8 2.5h0m4-2.5h0m2 2h0m-7-0.5h0m7.5 1.5h0m-6-1.5h0m2.5-0.5h0m1-0.5h0m1 1h0m-2.5 0h0m3.5-0.5h0m-3.5 0h0m-0.5 0.5h0m-0.5-1h0m-1.5 1h0m3 0.5h0m4-0.5h0m0.5 0.5h0m-5.5 1.5h0m0-1h0m2 1h0m-1-0.5h0m2-0.5h0m2.5 0.5h0m-6.5-3h0m4.5 1.5h0m1 0h0m0.5 2h0m-1.5-3.5h0m-3.5 1h0m-2.5 0.5h0m8-0.5h0m-8.5-0.5h0m7.5 1.5h0m-1.5-1h0m-2-0.5h0m4.5 1h0m-2.5 1.5h0m-5-2h0m3.5-0.5h0m1 3h0m-3-3.5h0m5.5 1h0m-2-1h0m2.5 2.5h0m1 0h0m-6 0.5h0m3-2h0m-3-0.5h0m4.5 1.5h0m0 1h0m-3.5-3h0m-2 3h0m-1.5 0h0m8.5-1.5h0m-9-1.5h0m8.5 1h0m-4 1.5h0m4.5-1.5h0m-8 0h0m4.5 1h0m-4 1h0m5.5-2h0m-2.5 2h0m1.5 0h0m3-2.5h0m1.5 2.5h0m6 1h0m-5.5-2h0m1 2h0m1-1.5h0m10.5 1.5h0m-3-1.5h0m1.5 1h0m-2.5 0.5h0m-5.5-1.5h0m1 0.5h0m1-0.5h0m-2.5 1.5h0m2-1h0m5.5 0.5h0m-10.5-1h0m3 0h0m3 0.5h0m3 0h0m-0.5-0.5h0m1 1h0m-9-1h0m1-1.5h0m2 3h0m-0.5-1h0m7 0.5h0m3.5 1h0m-14-2h0m11.5 0.5h0m1.5 1.5h0m-5-0.5h0m-3.5-0.5h0m0-2.5h0m4.5 2.5h0m-4.5-1h0m-5-1h0m2 0h0m10.5 3.5h0m-3.5-2h0m5.5-0.5h0m-3 0.5h0m-10.5-1h0m5 1.5h0m3.5-0.5h0m0.5 1.5h0m-3.5-0.5h0m-4-2.5h0m11.5 3h0m-7-3.5h0m3.5 3h0m-2.5-1h0m-4.5 0h0m-1 0h0m0.5-2h0m3 1h0m-1.5 1h0m0.5-1h0m7 1.5h0m-4 0.5h0m-5-1.5h0m9.5 0.5h0m-8-1h0m8.5 2h0m-8.5-0.5h0m8 0.5h0m0-1.5h0m-8.5-0.5h0m1 2h0m6-1h0m-9 0.5h0m3.5 0.5h0m1-1h0m7.5 2h0m0-2h0m-4-0.5h0m-4.5 1h0m6.5 0.5h0m-8.5-2.5h0m9.5 1.5h0m-5 0.5h0m-0.5 1h0m-5.5-2h0m1 0.5h0m2.5-1h0m0 0.5h0m3.5 0h0m-2 0h0m-4-0.5h0m4.5 1h0m3-1.5h0m-0.5 2h0m-8-1.5h0m1.5 0h0m-3.5 0.5h0m9.5 1.5h0m-7.5-3h0m-1.5-1h0m2 2.5h0m1.5-1h0m1 1.5h0m2.5-1h0m6.5 1.5h0m-5.5-1h0m-4.5 1h0m2.5-2.5h0m1 2.5h0m0-1h0m4 1.5h0m-5-0.5h0m-6.5-3h0m4 0h0m-3.5 2.5h0m12.5 0.5h0m0.5 0.5h0m-2 0.5h0m-0.5 0h0m-7.5-1h0m11 0h0m-11.5 0.5h0m-2.5-2h0m9-0.5h0m-6.5 0h0m7.5 3h0m-2 0h0m-1.5-1h0m-5 0.5h0m9.5-1.5h0m-10 1h0m6 0.5h0m7 0h0m-8.5-1.5h0m2.5 0.5h0m-2.5-2h0m-5-0.5h0m-1 3h0m1-2h0m11.5 0.5h0m1 1.5h0m-4.5 0.5h0m0.5 0.5h0m-5-3.5h0m-4 2.5h0m14-0.5h0m-10.5-2h0m9.5 4h0m-1.5-0.5h0m-3.5-1h0m-5-3h0m11 1.5h0m5 2.5h0m-3-0.5h0m8 0.5h0m6 0.5h0m1.5-0.5h0m-17-1.5h0m20.5 2.5h0m-15.5-1.5h0m1 0.5h0m12.5 0h0m1 0.5h0m-3.5-0.5h0m-9 0h0m3 0h0m8.5 0.5h0m-11-1h0m10 1h0m-7.5-1h0m9.5 0.5h0m-11-1h0m8 1h0m-2.5 1h0m-7-0.5h0m4.5 0h0m1.5 0h0m-1.5-1h0m-9.5 0.5h0m20 0.5h0m-1 0.5h0m-20.5-1.5h0m20 1h0m-9-0.5h0m-9 0h0m15.5 0.5h0m-8.5-1h0m-8.5 1h0m14-0.5h0m5 0h0m-14.5-0.5h0m11.5 1h0m2-0.5h0m-11.5-1h0m1.5 1h0m-9-0.5h0m5 0.5h0m2 1h0m-5-0.5h0m15 0.5h0m-8-0.5h0m3.5-0.5h0m-6.5 0.5h0m4-1.5h0m3 1h0m-1 0h0m-10.5 0.5h0m9.5-0.5h0m5.5-0.5h0m1.5 0.5h0m2 1h0m-18.5-1h0m10 1h0m5 0h0m-2.5-0.5h0m-5.5-0.5h0m7.5 0.5h0m4.5 1h0m-19.5-2.5h0m9 1.5h0m6.5 0h0m-10-0.5h0m-6-1h0m5.5 0.5h0m4.5 1.5h0m8 0h0m-13.5-0.5h0m1.5 0.5h0m5.5-0.5h0m2.5 0h0m5 0.5h0m-14-0.5h0m3 0h0m11.5 0h0m-17.5-1h0m1-0.5h0m7.5 1.5h0m-8-0.5h0m13 1h0m-13-2h0m2.5 1h0m12 1h0m1.5 0h0m-8-1.5h0m-3 0h0m-4.5 0.5h0m7.5 1h0m-7.5-1.5h0m4.5 0.5h0m2 1h0m5 0h0m6.5-0.5h0m-4-0.5h0m4 0h0m-8.5 1h0m-7.5-2h0m15.5 1.5h0m-21 0h0m6.5-1h0m6 0h0m3 0.5h0m-11-0.5h0m-3.5 0.5h0m9.5 0.5h0m4.5 0h0m-1.5 0.5h0m-9.5-1.5h0m-3.5 0.5h0m7.5 0.5h0m5.5 1h0m-10.5-2h0m19 1.5h0m-15.5-0.5h0m-2-1.5h0m13 0.5h0m-5.5 1.5h0m6.5-1.5h0m-18.5-1.5h0m0 1h0m1.5-0.5h0m13 2.5h0m4.5-1.5h0m-16.5-0.5h0m-1 0h0m2 1.5h0m12.5-1h0m-3 0h0m-9 0.5h0m-1.5-1.5h0m-0.5 0h0m10.5 2h0m-5 0h0m6.5 1h0m-0.5-1.5h0m-11.5-1h0m8.5 1h0m-3.5-0.5h0m12 1h0m-11.5-0.5h0m13 0h0m-13-1.5h0m7 1.5h0m-2 1h0m-9.5-0.5h0m4.5 0.5h0m-5.5 0h0m11.5-1.5h0m5.5 2h0m-17-2h0m5-0.5h0m-7 1h0m1-0.5h0m20.5 1.5h0m-16.5-2.5h0m9 1.5h0m-10-1h0m11 0.5h0m1.5 2h0m11.5-0.5h0m-4-0.5h0m5.5-0.5h0m10.5 1h0m-16-1h0m0 1h0m15.5 0.5h0m-5-0.5h0m-7.5 0h0m10 0h0m4 0h0m-10.5 0h0m12.5 0.5h0m-14.5-0.5h0m-5-0.5h0m8 0.5h0m-8.5-0.5h0m4-0.5h0m-2.5 1h0m14 0h0m-11.5-0.5h0m2.5 0h0m-2 0.5h0m6 0h0m3 0h0m1-0.5h0m-14 0.5h0m9-0.5h0m-6.5 0h0m-3.5 0.5h0m13.5 0h0m-5-0.5h0m-6 1h0m9-0.5h0m-8 0h0m-0.5 0h0m10-0.5h0m-6 0.5h0m10 0h0m2.5 0h0m-14-0.5h0m2.5 1h0m-8 0h0m9.5-0.5h0m-7 0h0m12.5 0h0m0.5 0h0m-15.5-0.5h0m4 0h0m3.5 0.5h0m-1.5-0.5h0m8 0h0m-4 0.5h0m-4.5-1h0m-2.5 0.5h0m1 0.5h0m8.5 0h0m-7.5-0.5h0m14 0.5h0m1 0h0m-12-0.5h0m1.5 0h0m2.5 1h0m-8.5 0h0m-1-1h0m9.5 0h0m7.5 0h0m-1 0h0m-10 0.5h0m10.5 0.5h0m-3 0h0m-9 0h0m4 0h0m-10 0h0m12 0h0m-5.5 0h0m3-1h0m-6-1h0m4.5 1h0m4 0.5h0m-13.5-1h0m13 0.5h0m3 1h0m1-1h0m1.5 0.5h0m-4.5-0.5h0m-9.5-0.5h0m2.5 1h0m-0.5 0.5h0m14 0h0m-3.5 0h0m-6-0.5h0m-10 0h0m14 0.5h0m6-0.5h0m-20.5-1h0m4.5 1.5h0m2-1h0m3-0.5h0m2 1.5h0m-1.5 0h0m-7 0h0m14.5-1h0m-5 1h0m8.5 0h0m-20-1.5h0m1 0.5h0m12.5 0h0m1.5 0h0m-2-0.5h0m4.5 1.5h0"/><path stroke="#ffff00" d="M289.5 302.5h0m-2-3.5h0m-0.5 1h0m0.5-2h0m-0.5 0h0m2.5 0h0m-0.5 1.5h0m0.5-2h0m-1 0h0m-2 0.5h0m3-1h0m1 0.5h0m-3 0h0m-1 3.5h0m3.5-3h0m-2.5 2.5h0m1 2h0m-0.5-4.5h0m2 4h0m0-3h0m-3.5-1.5h0m3 2.5h0m0.5-0.5h0m-1 1.5h0m-1-2.5h0m2.5 1h0m-1 2h0m-0.5-1h0m1 1h0m-2.5-4.5h0m0.5 2h0m1.5 1.5h0m0-1h0m-1.5 2.5h0m2.5-1.5h0m-0.5-3.5h0m0.5 4.5h0m-1.5-3h0m-1 4h0m-2-5.5h0m4 3.5h0m0.5-3.5h0m-0.5 0.5h0m-0.5 1.5h0m0 2h0m-2.5-2.5h0m1.5 1.5h0m2-1.5h0m-2-0.5h0m1.5 3h0m-1-4h0m-0.5 4h0m-2 0.5h0m0-4.5h0m3.5 1.5h0m5.5 2.5h0m-2.5-1h0m4 0.5h0m2 1.5h0m-7-3.5h0m-0.5 3.5h0m3-1.5h0m1.5 0h0m-2-1h0m-1.5 1h0m2-3h0m6 5h0m-9.5-1h0m8.5-0.5h0m-0.5-0.5h0m-7.5 1h0m0.5-1h0m2.5 1h0m1.5-0.5h0m-2-2.5h0m-2 2.5h0m7.5-3h0m-3 4.5h0m-5.5-0.5h0m0-3h0m-0.5-1h0m5 1h0m0-0.5h0m-2.5 1h0m4-0.5h0m0-1h0m-3 3.5h0m4-1h0m-5.5-3.5h0m-1.5 3h0m6.5 2.5h0m-1-1.5h0m0.5-3.5h0m-2 5h0m3 0h0m-2.5-1h0m-1.5-4h0m2 1.5h0m1 2h0m0.5-3h0m-3 3h0m1.5 1.5h0m1.5-1h0m0 0.5h0m-2 0.5h0m2.5-3.5h0m-4 0h0m-2-1h0m6-1h0m-4.5 4.5h0m-1-3h0m7.5 3h0m-6.5-1h0m5 1h0m-5.5 1h0m2.5-0.5h0m-3-3h0m0.5 2.5h0m6-1.5h0m-2 0h0m-4.5-0.5h0m5.5-1h0m0 3h0m-6 1h0m2.5-3.5h0m5 0.5h0m-7 2.5h0m-1-3.5h0m3 4h0m-0.5-0.5h0m-1 0h0m6.5-0.5h0m-2.5-2h0m-1 0h0m-4.5-2h0m3.5 4.5h0m0-0.5h0m9.5 1h0m1-1.5h0m-3 0h0m-0.5 1h0m-1 0h0m6.5 0h0m-5 0h0m-0.5 0.5h0m7-0.5h0m-2.5 0.5h0m-1.5 0h0m-2-1.5h0m1.5 0.5h0m-3 0h0m4.5 1h0"/><path stroke="#00ff00" d="M275.5 228.5h0m0.5 25h0m0-16.5h0m-1.5-26h0m0.5-6h0m1 29.5h0m-2-18.5h0m1-5h0m-0.5 1.5h0m0 14.5h0m0.5 23.5h0m0-31.5h0m0.5 23h0m0-1h0m-1-11.5h0m0-28h0m1 30.5h0m-1.5-38.5h0m0-6h0m1 47h0m1-4.5h0m-1 12h0m-0.5-18.5h0m-0.5 15h0m0.5-19.5h0m1 29.5h0m-1-58h0m0.5 42.5h0m-1-7h0m0.5 9.5h0m1.5 3h0m-1-18h0m1 28h0m-1.5-53h0m1 40h0m-0.5-12.5h0m1 7.5h0m-1-6h0m0.5 13h0m-1.5 2.5h0m1 2.5h0m0-21.5h0m-0.5-21h0m1.5 48h0m-1-53.5h0m0.5 30h0m0 16h0m0 10h0m0-29.5h0m-1-15h0m0.5-0.5h0m-0.5 3.5h0m0.5 5h0m-0.5-2h0m2 16h0m-2-23h0m1 25.5h0m-0.5 7.5h0m1 6.5h0m-0.5-5h0m-1-0.5h0m1 13.5h0m-1-63h0m0 51.5h0m1 13h0m0-18h0m-0.5 15.5h0m0-34.5h0m-0.5 14.5h0m-0.5-20h0m2 4.5h0m-1 10.5h0m0.5 10.5h0m-0.5-25h0m1 20h0m-1-34.5h0m-1 4h0m0.5 44h0m3 4h0m1 0h0m-2 4h0m1.5-3h0m-1.5-11.5h0m0.5 8.5h0m-0.5-13h0m1 3h0m0 8h0m-0.5-2h0m0 5.5h0m1 4.5h0m-1-11.5h0m0.5 12h0m-1-28.5h0m0 27h0m0.5-17h0m-0.5 16.5h0m0-14h0m0 13h0m0-4.5h0m0.5 4h0m0.5-10h0m-0.5 6h0m1-2.5h0m0 1h0m-1 9.5h0m0-12h0m0 1.5h0m0 4.5h0m-0.5-8h0m0.5 9h0m0.5 2.5h0m-0.5-6h0m-0.5-4h0m1.5 11h0m-1-13.5h0m-0.5 10h0m1.5-2h0m-1.5-16.5h0m0.5 17h0m0-6.5h0m0.5-5.5h0m-0.5 2h0m-0.5 4.5h0m3 11h0m-0.5-12.5h0m1.5 13h0m-0.5 0h0m-1.5-2h0m1-2.5h0m-1-3h0m0.5 6h0m2.5-1h0m-2.5-1h0m0.5 3.5h0m-5.5-69h0m0.5 8h0"/><path stroke="#00ffff" d="M350 308h0m4.5 0h0m-5.5 0h0m10.5 0h0m-14 0h0m14.5 0.5h0m-8-1h0m7 0.5h0m-2.5 0.5h0m2-0.5h0m-3.5 0h0m4 0.5h0m-14.5-0.5h0m8-0.5h0m1.5 0.5h0m-0.5-0.5h0m4 1h0m-2.5 0h0m5-1h0m-3 0.5h0m-4-0.5h0m5 0.5h0m2 0h0m-1-0.5h0m-2.5 0.5h0m2.5-1h0m-10.5 1h0m9 0h0m-13.5-0.5h0m11.5 0.5h0m1.5 0.5h0m-10.5-0.5h0m10-0.5h0m-8 0h0m5 1h0m2.5 0h0m2.5-1h0m-7 0.5h0m4.5 0h0m2.5 0.5h0m-5-0.5h0m-0.5 0.5h0m4-1h0m1 0h0m0 1h0m-14.5-1h0m6.5-0.5h0m1 0.5h0m6.5 0h0m-9.5 0.5h0m7-0.5h0m-3.5-0.5h0m-2 0.5h0m6.5 0h0m-9 1h0m5-0.5h0m7.5 0.5h0m-8-1h0m-5.5 1h0m6.5-0.5h0m2-0.5h0m-10.5 0.5h0m6.5-0.5h0m3.5-0.5h0m-2.5 1.5h0m9.5-0.5h0m12 0.5h0m-1-0.5h0m3.5 0h0m-9 0h0m1.5 0.5h0m7-0.5h0m-8 0h0m7 0h0m-8 0.5h0m-1-0.5h0m-1-0.5h0m3.5 0.5h0m-4.5 0.5h0m11 0h0m2 0h0m-14-0.5h0m-1-0.5h0m-0.5 1h0m1-1h0m10 0.5h0m-8 0h0m1 0h0m7 0.5h0m-11-0.5h0m14 0.5h0m-5 0h0m1.5 0h0m-0.5-1h0m-5 0.5h0m3.5 0h0m5-0.5h0m-3 0.5h0m-1.5 0h0m-1 0h0m0 0.5h0m3.5 0h0m-8.5 0h0m2-1.5h0m1 1.5h0m6 0h0m-7.5 0h0m9.5-0.5h0m-6.5 0h0m-7 0.5h0m0.5-0.5h0m2.5 0h0m6 0h0m3.5-0.5h0m-11.5 1h0m8.5-0.5h0m-3 0.5h0m6 0h0m-11-0.5h0m7.5 0.5h0m6-0.5h0m-9 0.5h0m-2.5 0h0m-0.5 0h0m2-0.5h0m7.5 0h0m-3 0.5h0m5.5-1h0m0.5 0.5h0m-7.5 0.5h0m6.5 0h0m-13.5-1h0m1.5 0h0m11.5 1h0m-13.5 0h0m7.5-1h0m-3 0h0m7 0.5h0m-6-0.5h0m1.5 0h0m8 1h0m4.5 0h0m6 0.5h0m5.5-0.5h0m-3 0.5h0m-48 0h0m14 0h0m11.5 0h0m15.5 0h0m24.5-0.5h0m-43.5 0.5h0m52.5-0.5h0m-35.5 0h0m-2 0h0m5 0h0m-4.5 0.5h0m-2-0.5h0m-22.5 0h0m25.5 0h0m1 0.5h0m-35-1h0m23 1h0m8.5 0h0m-15-0.5h0m3 0.5h0m33 0h0m-36 0h0m22.5-0.5h0m-37 0.5h0m51-0.5h0m-16 0.5h0m-8.5 0h0m4 0h0m1-0.5h0m14 0h0m-23.5 0.5h0m17-1h0m21.5 0.5h0m-20 0h0m-2.5 0.5h0m32.5 0h0m-21.5-0.5h0m-3 0.5h0m-47.5-0.5h0m34 0.5h0m2-0.5h0m5.5 0h0m24.5 0.5h0m-63 0h0m22.5 0h0m21 0h0m-55.5-1h0m56.5 0.5h0m4 0.5h0m-11-0.5h0m4.5 0h0m-7.5 0h0m2.5 0h0m4.5 0.5h0m-6.5-0.5h0m-4.5 0.5h0m9.5-0.5h0m-3.5 0h0m-6-0.5h0m9 1h0m15.5 0h0m-20.5 0h0m6 0h0m-11-0.5h0m38 0.5h0m-19.5-0.5h0m9 0.5h0m-9.5 0h0m-29.5 0h0m17.5 0h0m-9.5 0h0m10-0.5h0m-9.5 0.5h0m-9.5 0h0m26.5-0.5h0m-0.5 0.5h0m-24.5 0h0m3 0h0m-14.5 0h0m34-0.5h0m-5 0.5h0m12-1h0m-50 0.5h0m73.5 0.5h0m-52.5 0h0m34.5 0h0m-40 0h0m41-0.5h0m-13 0h0m-37.5 0.5h0m-1.5-0.5h0m-22 0h0m36 0.5h0m21.5 0h0m-33 0h0m37 0h0m-42.5-0.5h0m62 0.5h0m-16.5 0h0m0-0.5h0m-50 0h0m38.5 0h0m-5.5 0h0m11.5 0h0m-66 0.5h0m27.5-0.5h0m50.5 0.5h0m-2.5-0.5h0m-21.5 0.5h0m-20 0h0m21-0.5h0m21.5 0.5h0m12-0.5h0m8.5 0h0m-30 0h0m1.5-0.5h0m-13.5 1h0m32.5-0.5h0m-60.5 0h0m-50.5-0.5h0m114 0.5h0m-70 0h0m18 0.5h0m-9-0.5h0m39.5 0.5h0m3.5 0h0m19.5 0h0m-37-1h0m38.5 0.5h0m-20 0h0m3.5 0.5h0m14 0h0m-48.5-0.5h0m16 0.5h0m26 0h0m-32.5 0h0m1.5 0h0m28.5 0h0m-57.5-1h0m34.5 0.5h0m-11.5 0.5h0m47.5-0.5h0m-78 0.5h0m55.5-0.5h0m5.5 0h0m-13 0.5h0m-14 0h0m32-0.5h0m5.5 0.5h0m-66.5 0h0m-20-1h0m33 1h0m23.5-1h0m-17 1h0m-51.5-0.5h0m31 0h0m3-0.5h0m41.5 1h0m6.5 0h0m-41-0.5h0m26.5-0.5h0m-41 0.5h0m61 0.5h0m-61 0h0m56.5 0h0m-48.5 0h0m3-1h0m5 0.5h0m14 0.5h0m26.5-0.5h0m-45 0h0m-10.5-0.5h0m59 0.5h0m-63 0.5h0m22 0h0m-15.5-0.5h0m71 0h0m-27.5 0.5h0m15.5 0h0m-58 0h0m77.5 0h0m-9.5-0.5h0m-48 0.5h0m19.5 0h0m19.5-0.5h0m-68.5-0.5h0m38 1h0m25.5-0.5h0m-61.5-1h0m61 1.5h0m-52.5-0.5h0m3 0h0m12.5 0.5h0m31.5-0.5h0m-49.5 0.5h0m40-1h0m-23 1h0m48-0.5h0m2.5 0.5h0m-60.5-0.5h0m54 0.5h0m1-0.5h0m-23 0h0m-38-0.5h0m62.5 1h0m-24 0h0m-61-0.5h0m64-0.5h0m-44 0h0m30.5 1h0m50.5-0.5h0m-90.5 0.5h0m17.5 0h0m17.5-1.5h0m11.5 0h0m32.5 1.5h0m-57.5-1h0m20.5 1h0m-22.5-1h0m59 0.5h0m-71 0h0m40-0.5h0m36.5 0.5h0m-65 0.5h0m33.5-1h0m-60.5 0.5h0m85.5 0.5h0m-24.5 0h0m9 0h0m6.5-0.5h0m-64-0.5h0m38.5-0.5h0m-1.5 1.5h0m-35-0.5h0m-19 0h0m77.5 0.5h0m-36.5 0h0m1 0h0m26.5-0.5h0m15 0h0m-75.5-0.5h0m68 0.5h0m-64 0h0m60-0.5h0m-37 1h0m51-0.5h0m14.5 0.5h0m-15.5 0h0m-5 0h0m-54.5 0h0m-33.5-0.5h0m84-0.5h0m-7.5 0h0m-60 0.5h0m37-1h0m-35.5 1h0m74.5 0h0m-71-0.5h0m73 0.5h0m-46-1h0m20 1.5h0m-37-0.5h0m-14-0.5h0m13.5 0.5h0m66 0.5h0m5-0.5h0m-72.5 0h0m72 0h0m-50.5 0.5h0m68-0.5h0m-84.5 0.5h0m78-0.5h0m-112.5 0.5h0m119 0h0m-102.5 0h0m81.5-0.5h0m-39.5-1h0m-38.5 0h0m71.5 1.5h0m6 0h0m-18 0h0m-42-0.5h0m30-0.5h0m28.5 1h0m-80 0h0m38 0h0m-23-1h0m54.5 0h0m13 0.5h0m-75.5 0.5h0m84.5-0.5h0m2 0h0m-48-0.5h0m-66 0h0m9 1h0m21.5-1h0m77.5 0.5h0m-78 0h0m60.5-0.5h0m-48.5 1h0m0.5-1.5h0m-9.5 0.5h0m80.5 1h0m-128-0.5h0m109.5 0.5h0m-49 0h0m-12.5-0.5h0m50.5-0.5h0m3 0h0m-86 0.5h0m27 0h0m37-1h0m-30.5 1h0m18 0.5h0m42.5-0.5h0m-55.5 0.5h0m-4.5-1h0m76.5 1h0m-87.5-1h0m55.5 0h0m-59.5 0.5h0m26.5 0.5h0m62-0.5h0m-76-0.5h0m69 0.5h0m-45-0.5h0m42.5 1h0m-81.5-0.5h0m-16.5 0.5h0m46.5-1.5h0m-23 0.5h0m1 0.5h0m92 0.5h0m-95.5 0h0m7-0.5h0m-25.5 0h0m28.5-1.5h0m17 0.5h0m-14 1h0m60.5 0h0m-66.5-0.5h0m-2 0.5h0m49.5-0.5h0m31.5 1h0m-37-1h0m23 0.5h0m13 0.5h0m-56 0h0m-31.5-1h0m80.5 0.5h0m-21-0.5h0m-34 1h0m-19-0.5h0m59.5-0.5h0m33 0.5h0m-26-0.5h0m14 1h0m7.5 0h0m-82-0.5h0m16.5 0.5h0m1 0h0m26-1h0m-46 1h0m87.5 0h0m-56-1.5h0"/><path stroke="#0000ff" d="M276 257h0m0 0.5h0m-1-1h0m1.5 11.5h0m-0.5-5.5h0m0.5-4.5h0m-1 2.5h0m0.5 1.5h0m-0.5 3h0m0.5-4h0m0.5-5h0m-0.5 2.5h0m0-3.5h0m0 4.5h0m2.5 2h0m-0.5 7.5h0m-0.5-1h0m1 4h0m-1.5-9h0m0.5-3h0m0.5 10h0m-1-8.5h0m0.5 1h0m0.5 0h0m-1.5 3h0m2-5.5h0m-2-0.5h0m1.5 19h0m0 2.5h0m-0.5-13.5h0m0-6.5h0m0.5 10h0m-0.5-15.5h0m0.5 9h0m-1 2.5h0m0-4.5h0m0 8.5h0m1.5-1.5h0m-1-8h0m-0.5 2.5h0m0 5h0m1.5 10h0m0-6h0m0-10h0m-1-2.5h0m1 3.5h0m-1.5-2h0m1.5 16.5h0m-2-14.5h0m1-9.5h0m1 19h0m-0.5 0.5h0m0-10.5h0m-0.5 12.5h0m1-9.5h0m-1.5 0h0m1.5 8.5h0m-2-16h0m1 10h0m0 4h0m0.5-14h0m-1 6h0m1.5 7.5h0m-1-15h0m0 7.5h0m0-3h0m0.5-0.5h0m0 15.5h0m0-6.5h0m-1.5-9.5h0m1.5 19.5h0m0.5-12.5h0m-1.5-8.5h0m0.5-2.5h0m-1 10h0m1.5-1h0m-1 0h0m1-5h0m-1 3.5h0m-0.5 0h0m1.5 3h0m0.5-7h0m-0.5-5.5h0m-1 13h0m-0.5 3h0m1.5 0.5h0m0-5h0m-1.5-8h0m1.5 17.5h0m0.5-7.5h0m-1.5-8h0m0.5 9h0m0.5-14h0m-1.5 1.5h0m1 7.5h0m1-2.5h0m0 7h0m-2-7h0m1.5 3.5h0m-1-10.5h0m0.5 8h0m1-0.5h0m-1.5 6h0m-0.5-13.5h0m0.5 19.5h0m-0.5-12h0m0.5-4.5h0m0.5 17.5h0m-0.5-8h0m0.5-8h0m0.5 9h0m0 10.5h0m0.5-4.5h0m-1.5-17.5h0m1 19.5h0m0 1h0m-1-5.5h0m-0.5-17.5h0m1 18h0m0.5-10.5h0m0.5 8.5h0m-2-1.5h0m1.5-1h0m0-5h0m0.5-6h0m0 21h0m-0.5-2.5h0m0-1h0m0-5h0m-1 0h0m0.5-2.5h0m-0.5 4.5h0m-0.5-3h0m0-5h0m0 7h0m1-7h0m0 7h0m1-0.5h0m-0.5-10.5h0m-0.5 6.5h0m-1-9.5h0m4.5 24.5h0m-1-4.5h0m1.5 3.5h0m-1-5h0m-1-13.5h0m-0.5 12.5h0m0 5h0m4 0h0m-3.5-16.5h0m0 12h0m1.5-13h0m-1 14h0m1 2.5h0m-2-1.5h0m1.5-2h0m2 6h0m-1-6h0m0.5-2.5h0m-2 6.5h0m-0.5-0.5h0m2.5-5.5h0m-2.5 8.5h0m1.5-21h0m-1 3h0m-1-0.5h0m2 0h0m-2 11h0m2-3h0m0.5-16h0m0 19.5h0m1.5 0h0m-2.5-6.5h0m1 13h0m1-15h0m-1.5-7.5h0m1 17h0m-3.5 0.5h0m2-20h0m0.5 19h0m-2-10.5h0m3.5 4h0m-1 5.5h0m-2.5-1.5h0m0.5 9.5h0m0-2h0m0-12.5h0m1 0h0m1 2h0m-1-8h0m1-1h0m-1 9.5h0m0.5 9.5h0m-0.5-3h0m0 2h0m1.5 2.5h0m-0.5-11h0m1 9h0m-1.5-21.5h0m-0.5 21.5h0m-0.5-16.5h0m0 12.5h0m0.5-10.5h0m-0.5 2.5h0m1 6h0m-1-5h0m-0.5 0h0m3 8.5h0m-1.5-6.5h0m0.5 11.5h0m-1.5-9h0m-0.5 3h0m1-11.5h0m1.5 14.5h0m-1.5 1h0m0.5-6h0m-1.5-12h0m0.5 18h0m-1-22.5h0m0 19h0m1-5h0m0.5 10h0m0.5-2h0m-1.5-19h0m0.5 20.5h0m0-9h0m-0.5-1.5h0m-0.5-2.5h0m1.5 7h0m1.5 7.5h0m-0.5-9h0m-2 4.5h0m-0.5-17h0m1 11.5h0m2.5 8h0m-1-3h0m0.5-18h0m-1.5 3.5h0m0 2.5h0m-1.5-1.5h0m2.5 8.5h0m-2.5 1h0m0.5-10.5h0m0.5 14h0m-0.5 3h0m0-18.5h0m1 16h0m-2-5h0m2 8.5h0m-1-11.5h0m0.5-9h0m-0.5 16.5h0m1 5.5h0m-1-25.5h0m3 16.5h0m-3 0.5h0m3.5-3.5h0m-4 10.5h0m1-10h0m-1.5-5.5h0m3 1.5h0m0 15.5h0m0-8.5h0m-0.5-3h0m0.5-10.5h0m-2.5 11h0m1-10.5h0m0.5 3h0m2 17h0m-2 1h0m-1-7h0m2.5-5h0m-0.5-7.5h0m-2-3.5h0m0.5 20h0m-1-8.5h0m3-6.5h0m-1 4.5h0m-1 6.5h0m1.5-5.5h0m-1.5-4h0m2 16.5h0m-1.5-13h0m-2-8.5h0m1 3.5h0m0.5 18h0m0.5-26h0m-0.5 3.5h0m0 11h0m-0.5-3h0m2.5 7.5h0m0.5-7h0m-3.5-12h0m0 3.5h0m0 19.5h0m2 1.5h0m1.5-8.5h0m-1.5 5.5h0m1 3h0m-3-8.5h0m4 4h0m-3-9h0m-1.5-8.5h0m0.5 4h0m1-4.5h0m1 17h0m1 4.5h0m-1 2h0m-2-3h0m2-22.5h0m0 25h0m0.5-15h0m-2.5 16.5h0m0.5-10h0m-0.5-6h0m0.5 5h0m1 1.5h0m1.5-6h0m-1.5 0h0m-1.5-5h0m4 5.5h0m-4 14h0m1-3h0m-0.5-11.5h0m1.5 9.5h0m-1.5 2h0m1-12h0m-2 2h0m1.5-11h0m2 5h0m-1.5 10h0m-0.5 10h0m2-11.5h0m-2.5 10.5h0m-0.5-16h0m0 2h0m4 7h0m-4-10h0m-0.5 13h0m2.5-1.5h0m1 2.5h0m-2.5-1h0m3.5 1.5h0m-2.5-21h0m0 20h0m-1.5-2h0m0-13h0m2-6.5h0m0.5 5.5h0m-1.5 1.5h0m2 14h0m-2-12.5h0m0 15.5h0m1.5-8.5h0m-0.5 6h0m2 3h0m0-9.5h0m-3 10h0m-1.5-4.5h0m2.5-2.5h0m0.5 5h0m-1.5-13h0m-1.5 14h0m1.5-10.5h0m1.5-1h0m-3-2.5h0m4.5 7h0m1.5 3.5h0m-1-3h0m0-0.5h0m0 7h0m0-2h0m1 2h0m-0.5-9h0m0 8.5h0m1-3h0m0.5 3h0m1.5 1h0m-3-14.5h0m0 12.5h0m-1-3.5h0m3 6.5h0m-2.5-0.5h0m2-2h0m-2-2h0m1.5-3h0m0.5 7h0"/><path stroke="#ff00ff" d="M278.5 282h0m2.5 4.5h0m0-1.5h0m1-2h0m0.5 3h0m0.5 3h0m0-3.5h0m-2 0.5h0m1.5-3h0m-3 0h0m3 4h0m-0.5 0h0m0-5h0m-0.5 1.5h0m1 2h0m0.5-0.5h0m-1 3.5h0m-2-6h0m0.5 1.5h0m1.5 5h0m1-5.5h0m-1 3h0m-1-4.5h0m0 2h0m-0.5-2h0m0.5 0.5h0m1.5 2.5h0m-0.5 1h0m-1-1.5h0m1-0.5h0m-0.5 2h0m0.5 2h0m-0.5-3h0m0.5-3.5h0m-1.5 5.5h0m2-3h0m-2 1h0m0 1h0m0-3.5h0m2.5 10h0m0-2h0m-0.5-8.5h0m-2 5.5h0m1.5 0h0m0-4h0m1 6.5h0m-1.5-3.5h0m-2.5-3.5h0m2.5-1h0m0.5 2.5h0m-0.5 1h0m0-3h0m0.5 7.5h0m1-2.5h0m0-5.5h0m-2 5h0m-1-5h0m2.5 4.5h0m-1-3.5h0m-1.5 2.5h0m2.5 7.5h0m-2.5-10h0m-0.5 0.5h0m1 6h0m0-5h0m1.5 6.5h0m0.5-3.5h0m-1.5-4.5h0m2 3h0m-1-3.5h0m0.5 1h0m-2.5 0h0m2 1.5h0m0.5 5.5h0m-1.5-7h0m-0.5 3h0m1-2h0m1 7h0m-2.5-7h0m1.5 5h0m1.5-1.5h0m-1-2.5h0m0 5h0m-1.5-1.5h0m2.5-2.5h0m0 3h0m-0.5-5h0m-2 1h0m-1-3.5h0m4 2h0m2 2h0m-1 9.5h0m-0.5-9.5h0m3.5 2h0m-3.5 5.5h0m0-4h0m1.5 4.5h0m0-2h0m-2-3.5h0m5.5 3.5h0m-1-7.5h0m-4 0h0m1 5h0m2.5-2.5h0m2.5 3h0m-1 0.5h0m-1 4.5h0m-4.5-9.5h0m0.5 2.5h0m4 3.5h0m1 4.5h0m-2.5-2.5h0m3 0.5h0m-4.5-3h0m1-8.5h0m-0.5 8h0m1.5 4h0m-4-7.5h0m3.5 0h0m-2-1.5h0m5 11h0m-4-7.5h0m-0.5-2.5h0m5 7h0m-3-4h0m-3.5 3h0m0-2.5h0m3.5 5h0m0-6.5h0m3 5.5h0m-6-11h0m0 8.5h0m2-6h0m3 9h0m-1.5 2h0m-3-3h0m4.5-4h0m-4.5 0h0m2 7h0m0.5-0.5h0m-3.5-8h0m2.5-3.5h0m2 9h0m-3 1h0m-2-10h0m3 8.5h0m1-1.5h0m1 1.5h0m-3.5-9h0m2 10.5h0m-1.5-3h0m4 1h0m-4-8h0m3.5 11h0m-3-6h0m2 5.5h0m-4-3h0m3.5-4.5h0m-1-3.5h0m1.5 5h0m2.5 7h0m-2.5-6.5h0m-3 2h0m0.5 0.5h0m0 4h0m-1-7h0m0.5 4h0m1.5-1.5h0m0-2.5h0m0-4h0m0.5 5h0m-1.5 5.5h0m3.5-8.5h0m1 2.5h0m-5.5 2.5h0m-1-9h0m2.5 4.5h0m-2.5 3.5h0m1 3h0m0.5-3h0m-1-6h0m3 6h0m2.5 4.5h0m-2-10h0m-3 1h0m3 4.5h0m-1 1h0m0 2h0m2.5-0.5h0m-3.5-3.5h0m3.5 4.5h0m-2.5-3.5h0m-1.5 4h0m4-9.5h0m1 9.5h0m-4.5-2h0m0.5 0h0m2 1.5h0m-4-8h0m0 3h0m1 1h0m1 1h0m2 2.5h0m1.5 0h0m1-6h0m-6-0.5h0m1 0h0m3.5-1h0m-2 2h0m0.5 2h0m2.5 5.5h0m-2-4h0m1-3.5h0m-5-2.5h0m4 5.5h0m2 4h0m-0.5 1h0m0.5-4h0m-5 0h0m3 3h0m0-4.5h0m-3-3h0m2.5-1.5h0m-2-4h0m1.5 0.5h0m1 4.5h0m-1 0.5h0m-0.5 0h0m1.5 4.5h0m2.5 3h0m-4-5.5h0m1.5 0h0m2 0h0m-2.5 5.5h0m-3.5-12h0m6 10h0m-3 2.5h0m6.5 0.5h0m-1.5-1h0m-1-3.5h0m0.5 3.5h0m4.5 1.5h0m-2.5-2h0m1.5 0.5h0m-2.5-5.5h0m1 4.5h0m2.5 1h0m-5 0.5h0m0.5-1.5h0m3 1.5h0m0-0.5h0m-2.5-4h0m2 5h0m0.5 0h0m-2-1h0m-1-3.5h0m-0.5 3.5h0"/></g><text x="263.7" y="320.8" text-anchor="middle">0</text><text x="293.4" y="320.8" text-anchor="middle">20</text><text x="323.1" y="320.8" text-anchor="middle">40</text><text x="352.9" y="320.8" text-anchor="middle">60</text><text x="382.6" y="320.8" text-anchor="middle">80</text><text x="412.3" y="320.8" text-anchor="middle">100</text><text x="442.0" y="320.8" text-anchor="middle">120</text><text x="260.7" y="312.2" text-anchor="end">0</text><text x="260.7" y="291.4" text-anchor="end">200</text><text x="260.7" y="270.5" text-anchor="end">400</text><text x="260.7" y="249.7" text-anchor="end">600</text><text x="260.7" y="228.9" text-anchor="end">800</text><text x="260.7" y="208.0" text-anchor="end">1000</text></g><text x="352.9" y="331.8" text-anchor="middle" style='font-family:"Liberation Serif",serif;font-weight:bold;font-size:9.9px;letter-spacing:-0.3px'>V2</text><text transform="translate(239.3 246.5) rotate(-90)" text-anchor="middle" style='font-family:"Liberation Serif",serif;font-weight:bold;font-size:9.9px'>V4</text><text x="352.9" y="181.5" text-anchor="middle" style='font-family:"Liberation Serif",serif;font-weight:bold;font-size:9.6px;letter-spacing:-0.3px'>KCGWO</text><g style='font-family:"Liberation Serif",serif;font-weight:bold;font-size:8.6px'><path d="M498.9 309.0v-2M498.9 184.0v2M534.6 309.0v-2M534.6 184.0v2M570.2 309.0v-2M570.2 184.0v2M605.9 309.0v-2M605.9 184.0v2M641.5 309.0v-2M641.5 184.0v2M677.2 309.0v-2M677.2 184.0v2M498.9 309.0h2M677.2 309.0h-2M498.9 288.2h2M677.2 288.2h-2M498.9 267.3h2M677.2 267.3h-2M498.9 246.5h2M677.2 246.5h-2M498.9 225.7h2M677.2 225.7h-2M498.9 204.8h2M677.2 204.8h-2" stroke="#7f7f7f" stroke-width="0.8" fill="none"/><rect x="498.9" y="184.0" width="178.3" height="125.0" fill="none" stroke="#7f7f7f" stroke-width="1"/><g fill="none" stroke-linecap="round" stroke-width="3.8"><path stroke="#ff0000" d="M554 303.5h0m1-0.5h0m-3 1h0m1.5-0.5h0m1.5 0h0m2-1h0m-4.5 2h0m-3 1.5h0m7.5-2.5h0m-1.5 0.5h0m-4 1.5h0m1.5-1h0m0 0.5h0m3.5-0.5h0m2.5-1.5h0m-7 1.5h0m-0.5 0.5h0m9-2.5h0m-3.5 0.5h0m-7 2.5h0m8-2.5h0m-5.5 2.5h0m-1-1h0m3.5-0.5h0m-6.5 1.5h0m4-1.5h0m4-0.5h0m-2 1h0m-2 0.5h0m1.5 0.5h0m-0.5-0.5h0m0.5-0.5h0m1 0h0m2.5-1.5h0m-7 2.5h0m3.5-2.5h0m6-0.5h0m-9.5 2.5h0m8-2.5h0m-6.5 2.5h0m2.5-1h0m-1 1.5h0m0.5-1.5h0m4 0h0m-4.5 0.5h0m3-0.5h0m1.5-0.5h0m-2 0h0m0 0.5h0m0.5-1h0m2 0h0m-9.5 3h0m2-1h0m-2.5 1h0m6-1h0m4.5-2.5h0m-6 1.5h0m8.5-1.5h0m-6 1h0m3 0h0m-4-0.5h0m2.5 1h0m-2.5-0.5h0m-1 0.5h0m2-1h0m-4.5 2.5h0m1 0h0m-4.5 0.5h0m10-2.5h0m0-1h0m-6.5 3.5h0m4.5-1.5h0m-1.5 0.5h0m-5 0.5h0m7-2.5h0m3 0.5h0m-1-1h0m-8.5 3h0m6-3h0m4.5 1h0m0-0.5h0m0.5 0h0m-12.5 3.5h0m9-2h0m-8.5 2h0m3.5 0h0m3-1.5h0m-3 1h0m-4.5 0.5h0m1.5 0h0m-3.5 0.5h0m6-0.5h0m3.5-1h0m-8.5 1.5h0m-0.5 0.5h0m4-1.5h0m3-0.5h0m-5.5 1.5h0m7-1.5h0m-5 1h0m6-1h0m2-1h0m-9.5 1.5h0m7.5-1h0m-5 1h0m-4 0.5h0m-2 1h0m5.5-1h0m7-1.5h0m-6.5 1.5h0m9-2.5h0m-8 2h0m1.5 0h0m-6 1h0m9.5-2h0m2.5-1h0m-5.5 2h0m0.5 0h0m2-3.5h0m1.5 1.5h0m1 0.5h0m-2.5 0h0m-5 2h0m-5 0.5h0m15.5-4h0m-3 1h0m-9.5 3h0m3.5-1h0m-4.5 1h0m8-2h0m-7.5 2h0m12-3.5h0m-16.5 4h0m17-4.5h0m-3 1.5h0m-13 2.5h0m-0.5 1h0m-1-0.5h0m3.5-1h0m0 1h0m4-0.5h0m-5.5 0.5h0m-2 0.5h0m7-1h0m-5.5 0.5h0m2.5 0h0m0.5 0h0m2-0.5h0m-6 1h0m2.5-0.5h0m-4.5 0.5h0m10.5-1.5h0m-3 0.5h0m-3.5 1h0m-0.5 0h0m-0.5 0h0m-2 0h0m5.5-0.5h0m-8 1h0m2-0.5h0m9-1h0m-8.5 1.5h0m-1.5 0h0m1.5-1h0m3.5 0.5h0m-6.5 0.5h0m3.5 0h0m-1.5 0h0m0.5 0h0m-1.5 0h0"/><path stroke="#ffff00" d="M557.5 302.5h0m4.5-3.5h0m-2 1h0m6-2h0m-2.5 0h0m3.5 0h0m-4 1.5h0m4.5-2h0m-3.5 0h0m1 0.5h0m5.5-1h0m-1 0.5h0m-4 0h0m-8 3.5h0m11.5-3h0m-10 2.5h0m-3.5 2h0m8.5-4.5h0m-5.5 4h0m5.5-3h0m0.5-1.5h0m-2 2.5h0m1.5-0.5h0m-4.5 1.5h0m5-2.5h0m-2 1h0m-1.5 0.5h0m-1.5 1.5h0m0.5-1h0m-1 1h0m4.5-4.5h0m-2.5 2h0m0.5 1.5h0m-4.5 1.5h0m6-1.5h0m6.5-3.5h0m-7.5 3h0m3-2.5h0m-2 1.5h0m2.5 0.5h0m-1-2.5h0m-6 4.5h0m12.5-4.5h0m-1 0.5h0m-5.5 1.5h0m0.5-0.5h0m-4.5 2.5h0m3-2.5h0m-2 1.5h0m4-1.5h0m0-0.5h0m4.5-1h0m-5.5 1h0m-6.5 3h0m-1.5 0.5h0m8.5-4.5h0m-3 3.5h0m6-2h0m-4.5 2.5h0m2.5-1h0m-1 0.5h0m-2.5 1.5h0m6.5-3.5h0m-11.5 3.5h0m9.5-2.5h0m-3 1h0m8-3h0m-11 5h0m-3-1h0m7.5-0.5h0m1-0.5h0m-5.5 1h0m3-0.5h0m4.5-2.5h0m-7 2.5h0m5.5-2.5h0m4-0.5h0m-11 4.5h0m-3.5-0.5h0m4.5 0h0m2-1h0m3-2h0m4-0.5h0m-0.5-0.5h0m-2.5 1h0m-1 0.5h0m2-0.5h0m2.5-1h0m-10 3.5h0m2-0.5h0m-3 1h0m12-4.5h0m-10 4h0m6-2.5h0m-3 2h0m5.5-3h0m-8 4h0m-0.5 0.5h0m-1 0h0m2-1h0m6.5-2.5h0m3.5-2h0m-6.5 3.5h0m-2 1h0m-1.5-1h0m-6.5 2h0m4-0.5h0m6.5-3h0m-6 3h0m6-2h0m-4.5 1.5h0m-5 1h0m2 0h0m8.5-3h0m-1-1h0m-3 3h0m5-2h0m-10 3h0m9.5-5h0m-4.5 4.5h0m-0.5 0h0m1 0h0m-1 0.5h0m1 0h0m2-1.5h0m-2.5 1.5h0"/><path stroke="#00ff00" d="M631.5 228.5h0m-19.5 25h0m13.5-16.5h0m17.5-26h0m3.5-6h0m-19 29.5h0m9-18.5h0m4-5h0m4 1.5h0m-14 14.5h0m-18 23.5h0m25-31.5h0m-15.5 23h0m0-1h0m8.5-11.5h0m14-28h0m-17.5 30.5h0m27-38.5h0m0.5-6h0m-27.5 47h0m7-4.5h0m-3.5 4.5h0m-9 7.5h0m14.5-18.5h0m-15 15h0m20-19.5h0m-25 29.5h0m35-58h0m-23 42.5h0m1.5-7h0m-3.5 9.5h0m2.5 3h0m10.5-18h0m-21 28h0m33-53h0m-26 40h0m9-12.5h0m-2 7.5h0m5-6h0m-11 13h0m-9.5 2.5h0m-0.5 2.5h0m19.5-21.5h0m8.5-21h0m-26 48h0m33.5-53.5h0m-28 46h0m-10 10h0m23-29.5h0m15-15h0m-7-0.5h0m-3 3.5h0m-3 5h0m1-2h0m-6 16h0m12-23h0m-16.5 25.5h0m-5 7.5h0m-5 6.5h0m5-5h0m-4-0.5h0m6-4.5h0m-18 18h0m48-63h0m-40.5 51.5h0m-4.5 13h0m18-24.5h0m8.5-5h0m-13 11.5h0m-13.5 15.5h0m27-34.5h0m-9 14.5h0m13-20h0m-4 4.5h0m-5 10.5h0m-6.5 10.5h0m15.5-25h0m-14.5 20h0m25.5-38.5h0m-0.5 4h0m-5 4h0m-32.5 44h0m4 4h0m-0.5 0h0m-5 4h0m4-3h0m7-11.5h0m-4.5 8.5h0m8-13h0m0 3h0m-4.5 8h0m0.5-2h0m7-9h0m-13.5 14.5h0m0 4.5h0m6.5-11.5h0m-9 12h0m18-28.5h0m-18 27h0m14.5-17h0m-14 16.5h0m12-14h0m-10 13h0m0.5-4.5h0m6-6h0m-2.5 6h0m3.5-2.5h0m-3.5 1h0m-8.5 6h0m1 3.5h0m9.5-12h0m-1 1.5h0m-3 4.5h0m9-8h0m-0.5-5h0m-1.5 3.5h0m-10 13h0m6-7h0m-7.5 7h0m8-6h0m-7 7h0m10.5-13.5h0m-10 10h0m5.5-2h0m8-16.5h0m-16.5 21.5h0m5-4.5h0m4.5-6.5h0m3.5-5.5h0m-4.5 6.5h0m-9.5 11h0m13-12.5h0m-9 13h0m-2.5 0h0m4-4.5h0m-3.5 4h0m1.5-1h0m0.5-1h0m2-1h0m-0.5 2h0m-1 1.5h0m41-69h0m-2 2.5h0m-2.5 5.5h0"/><path stroke="#00ffff" d="M542 308h0m-0.5 0h0m1.5 0h0m2.5 0h0m-4 0.5h0m4-1h0m-3 0.5h0m1.5 0h0m-2 0.5h0m-1.5 0h0m5.5-1h0m-3.5 1h0m-2.5 0h0m4.5-0.5h0m-1-0.5h0m1 0h0m0.5 0.5h0m0-1h0m-1.5 1h0m0.5-0.5h0m-3 1h0m5.5-1h0m-1.5 0h0m-2 0h0m2.5-0.5h0m-2.5 1.5h0m3-1.5h0m-6.5 1.5h0m6.5-0.5h0m-2.5 0.5h0m3.5-1h0m0 0.5h0m-8.5 0.5h0m-7.5 0.5h0m3.5-0.5h0m-1.5 0h0m3.5 0h0m-5 0.5h0m-1 0h0m7 0h0m1.5-0.5h0m-4.5 0.5h0m-0.5 0h0m2.5 0h0m-0.5-0.5h0m2 0h0m-0.5 0h0m-6 0h0m2 0.5h0m2 0h0m1.5 0h0m-1 0h0m-2-0.5h0m-2 0.5h0m5-0.5h0m-4.5 0.5h0m2.5 0h0m0.5-0.5h0m3-0.5h0m-9.5 0.5h0m11.5-0.5h0m-7.5 1h0m-3.5-0.5h0m1 0h0m9-0.5h0m-8.5 0.5h0m7.5 0.5h0m-0.5 0h0m-3-0.5h0m-2.5 0h0m-2.5 0h0m8-0.5h0m4.5-0.5h0m-1.5 0.5h0m-12 0h0m-0.5 0h0m4 0h0m-7.5 0h0m8.5 0.5h0m-1.5 0h0m-5-0.5h0m7.5 0h0m-7 0.5h0m1 0h0m-1-0.5h0m12.5 0h0m-10 1h0m-2-0.5h0m2.5-0.5h0m8.5 1h0m-13.5-1.5h0m1.5 1h0m9.5-0.5h0m-7 0h0m8 0h0m-6 0h0m9.5-0.5h0m-2 0.5h0m-8 0h0m-5 0h0m2 0h0m16-1h0"/><path stroke="#0000ff" d="M607.5 257h0m0 0.5h0m-2-1h0m-10 11.5h0m7-5.5h0m1.5-4.5h0m3-1.5h0m-5.5 4h0m1.5 1.5h0m-6.5 3h0m5.5-4h0m10-5h0m-4 2.5h0m5-3.5h0m-9.5 4.5h0m6.5 2h0m-10.5 7.5h0m-2-1h0m-2 4h0m8.5-9h0m2-3h0m-5 10h0m5-8.5h0m1 1h0m0.5 0h0m-9 3h0m12.5-5.5h0m-4.5-0.5h0m-18 19h0m-5.5 2.5h0m16.5-13.5h0m6-6.5h0m-9 10h0m16-15.5h0m-7 9h0m-9 2.5h0m-4 4h0m7.5-1.5h0m7-8h0m-5 2.5h0m-7.5 5h0m-9 10h0m13-11.5h0m-3 5.5h0m6-5h0m6-5h0m-8.5 7h0m9.5-9.5h0m7-5h0m-8 8.5h0m-2-2h0m-18.5 16.5h0m14.5-14.5h0m14.5-9.5h0m-22 19h0m-2.5 0.5h0m16.5-10.5h0m-6 1h0m-13 11.5h0m16.5-9.5h0m-4.5-3.5h0m-0.5 4h0m-1-0.5h0m-7 8.5h0m15-16h0m-9 10h0m-4.5 4h0m6.5-5h0m8.5-9h0m-9.5 6h0m-6 7.5h0m17.5-15h0m-10 7.5h0m9-3h0m-1-4h0m1-2h0m-2.5 5.5h0m-19.5 15.5h0m7.5-6.5h0m9-9.5h0m-10 12h0m-7.5 7.5h0m19-19.5h0m2.5-1.5h0m3-2.5h0m-2.5 3h0m-11 7h0m3-1h0m-1.5 0h0m-14.5 12.5h0m14-10.5h0m13-7h0m-10 9h0m-2.5-5.5h0m6.5-2h0m-3 2h0m-1.5 3h0m8.5-7h0m6-5.5h0m-19.5 13h0m-1.5 3h0m1 0.5h0m-5 3.5h0m13-8.5h0m4.5-8h0m-19 17.5h0m10.5-7.5h0m7.5-8h0m-10 9h0m17.5-14h0m-21.5 17.5h0m14.5-16h0m-4.5 7.5h0m-14.5 12.5h0m0-3h0m5-3h0m15.5-9h0m-8.5 7h0m0.5-7h0m2.5 3.5h0m6.5-10.5h0m-4.5 8h0m-9 5.5h0m5-3.5h0m9-10h0m-21.5 19.5h0m14-12h0m-16.5 14.5h0m1.5-1.5h0m9.5-8h0m10-8h0m-4.5 9h0m8.5-11.5h0m-11 5.5h0m-15 16.5h0m21-19.5h0m-7.5 6h0m-0.5 0h0m5.5-1.5h0m0.5 0h0m-19.5 14.5h0m17.5-10.5h0m8-10h0m-21.5 18.5h0m-4 1h0m12-7h0m-2 1h0m-3.5 0.5h0m20-17.5h0m-19 18h0m22.5-17.5h0m-12.5 11h0m-5 4.5h0m-0.5-1.5h0m2.5-1h0m8-9h0m-20.5 19h0m3-2.5h0m0-1h0m10-8h0m-4.5 1h0m10.5-2.5h0m-3.5-2h0m3-4h0m-8 10.5h0m7.5-6.5h0m-10 6.5h0m3.5-2.5h0m-6 7h0m-4.5 0.5h0m17-10.5h0m-12.5 7.5h0m3-3h0m4.5 0.5h0m-7.5 5.5h0m7-11h0m3 5.5h0m-11.5 5.5h0m1-4h0m11-7h0m-9 7h0m7.5-2.5h0m-1.5-3.5h0m-1 5.5h0m4.5-8h0m-12.5 10.5h0m20-13h0m1.5-3.5h0m-8 7h0m-6.5 9h0m-3.5 1.5h0m13-11.5h0m2-3h0m-11.5 5.5h0m4 3.5h0m3-9.5h0m-17 18.5h0m13-11h0m10-9.5h0m-19.5 20h0m-3 3.5h0m4.5-5h0m15-13.5h0m-13.5 12.5h0m-1.5 5h0m14.5-17.5h0m-11 14h0m-6 2.5h0m-3-1.5h0m8.5-2h0m-10 6h0m11.5-6h0m1-2.5h0m-10 6.5h0m0.5-0.5h0m11.5-5.5h0m-16.5 8.5h0m27-21h0m-2.5 3h0m-3.5-0.5h0m4 0h0m-15 11h0m7-3h0m11-16h0m-14 19.5h0m-1 0h0m7-6.5h0m-17 13h0m17-15h0m-16.5 13h0m-2 2h0m27.5-22.5h0m-16 17h0m-4 0.5h0m1.5-1h0m1 0.5h0m8-11h0m0.5 4h0m-8 5.5h0m-0.5-1.5h0m-11.5 9.5h0m0-2h0m21-12.5h0m-1 0h0m-2 2h0m9-8h0m-10 8.5h0m-10 9.5h0m5-3h0m-5 2h0m9-7.5h0m10-9.5h0m-19.5 19.5h0m14.5-11h0m-13.5 9h0m-1.5 2h0m-1.5 0h0m4.5-2h0m0.5-4h0m-3.5 4h0m4-4h0m12.5-10.5h0m-2.5 2.5h0m-6 6h0m4-5h0m0.5 0h0m-7.5 8.5h0m6.5-6.5h0m-16 11.5h0m1-2h0m12.5-7h0m-8 3h0m5 0h0m-4.5 3h0m-3 1h0m9-6h0m13-12h0m-28.5 18h0m16-5.5h0m12.5-17h0m-10 14h0m-11.5 8h0m21.5-19h0m-26 20.5h0m16-9h0m2-1.5h0m0-2.5h0m-6 7h0m-11.5 7.5h0m12.5-9h0m-6.5 4.5h0m18-17h0m-10 11.5h0m-6.5 6.5h0m-2 1.5h0m3-3h0m17-18h0m-20.5 20.5h0m-3.5 2.5h0m15.5-10h0m-1 1h0m6-10.5h0m-19 16h0m20.5-17.5h0m-17.5 16h0m2-5h0m-5 8.5h0m14-11.5h0m9.5-9h0m-20.5 16.5h0m2 0h0m21.5-20h0m-19.5 17.5h0m-5.5 5.5h0m9.5-6h0m-15 7h0m17-10h0m6-5.5h0m-0.5 1.5h0m-10.5 7h0m4-3h0m-15 11h0m13.5-10.5h0m14-11h0m-4.5 4h0m-13.5 12.5h0m-4 0.5h0m19-16.5h0m-1.5 3h0m-16.5 17.5h0m18.5-18.5h0m-19 18h0m6-5.5h0m11.5-13h0m3-3.5h0m-19.5 18h0m-7 2h0m15-8.5h0m10-6.5h0m-5 4.5h0m-6 3h0m-3.5 3.5h0m6-5.5h0m-5 3h0m9-7h0m-17 17h0m1-0.5h0m13.5-13h0m11.5-13h0m-3 3.5h0m-19.5 15h0m11-7h0m-1.5 0.5h0m-9 8h0m12-8h0m-11.5 9.5h0m13.5-9h0m7-12.5h0m-4.5 3.5h0m-19 21h0m13-8.5h0m-9.5 4.5h0m-2.5 4h0m8-8.5h0m-1.5 4h0m8-9h0m9-8.5h0m-5.5 4h0m-20 19h0m2.5-6h0m-3 3.5h0m3-0.5h0m-3.5 4h0m17-16.5h0m-7.5 6.5h0m8.5-4.5h0m1.5-1.5h0m-23 15.5h0m2-3.5h0m16-7h0m-2 1.5h0m-3 2h0m9.5-8h0m-3 0h0m4-5h0m0.5 5.5h0m-23.5 14h0m7.5-3h0m17.5-15h0m-18 17.5h0m11-14h0m-15.5 14.5h0m6.5-5h0m8.5-11.5h0m-10.5 13.5h0m3.5-5h0m10-7h0m-22.5 15.5h0m17.5-11.5h0m1-2h0m10.5-11h0m-25.5 24.5h0m12-9.5h0m-16 10h0m23-11.5h0m-17.5 10.5h0m18.5-16h0m-16 15.5h0m14-13.5h0m0-3h0m-12.5 13h0m-0.5 3.5h0m25.5-25h0m-20.5 20h0m-8 6h0m20.5-20h0m-14.5 16.5h0m-3 2h0m-2-3h0m3.5 1.5h0m-6 0.5h0m4.5-2.5h0m16-13h0m-14 12h0m15-13h0m-18.5 16h0m18-15.5h0m-2 1.5h0m-19.5 15.5h0m13.5-8.5h0m8.5-8.5h0m-15.5 14.5h0m-7 4.5h0m11-9h0m1.5-1.5h0m-5 9h0m3.5-8.5h0m5-1h0m2-1.5h0m-14 7h0m24-18h0m-17 15.5h0m7.5-8h0m-16.5 14h0m2-2.5h0m13-8h0m-10 4.5h0m-3 3h0m0 3.5h0m7-4h0m2.5-3h0m0.5-0.5h0m-6 7h0m0-2h0m7.5-7h0m-8 8.5h0m-1 1h0m13.5-14.5h0m-12.5 12.5h0m6.5-3.5h0m-7.5 6.5h0m2-3h0m1 0.5h0m0.5-2h0m3.5-3h0"/><path stroke="#ff00ff" d="M583 282h0m-4 4.5h0m4.5-1.5h0m4-2h0m-5.5 3h0m-2.5 3h0m4-3.5h0m-3.5 0.5h0m5.5-3h0m-4-1h0m0.5 1h0m1.5 4h0m-3 0h0m5-5h0m-3.5 1.5h0m2-0.5h0m-2.5 2.5h0m1.5 0h0m2-0.5h0m-8.5 3.5h0m7.5-6h0m-5 4.5h0m3-3h0m-5.5 5h0m7.5-5.5h0m-7 3h0m10-4.5h0m-5.5 2h0m5-2h0m-4.5 3h0m-0.5 0h0m-1 1h0m-1-1.5h0m5.5-0.5h0m-1.5 2h0m-6.5 2h0m10-6.5h0m-10.5 5.5h0m6.5-0.5h0m3-2.5h0m-5.5 1h0m4-1h0m-1-1.5h0m-12 10h0m1.5-2h0m16.5-8.5h0m-3 1h0m-4 1.5h0m3-0.5h0m-8 3.5h0m-0.5 0h0m9-4h0m-3 1.5h0m-4.5 1h0m-4.5 4h0m7-6h0m-2.5 2.5h0m10-4.5h0m-7 1h0m0.5 2.5h0m-4 1.5h0m8-5h0m-6 3.5h0m8.5-3h0m-13.5 7.5h0m4-4h0m6 0h0m-6.5 1.5h0m11.5-5.5h0m-3.5-0.5h0m-12.5 7.5h0m15-7h0m-10 6h0m8-5.5h0m-7 4h0m3.5 0h0m-3-1h0m-2 1.5h0m1-0.5h0m-2.5-1h0m-6.5 7h0m8.5-7.5h0m-8.5 8h0m12.5-10h0m-0.5 0.5h0m-9 6h0m11.5-6.5h0m-2 1.5h0m-11 6.5h0m8-3.5h0m4-3h0m1-2h0m-5 0.5h0m3 3h0m-3.5 0h0m2 1.5h0m2-4h0m-3 3h0m-4.5 0.5h0m9.5-3.5h0m-1 0h0m-10 6.5h0m5.5-5h0m1-2h0m-5 7.5h0m9-7h0m-13 8h0m8-7h0m1 1h0m-8 4h0m15-7.5h0m-10 4h0m-1 4h0m-0.5-2.5h0m11-5h0m-7 5.5h0m0-3.5h0m2 1.5h0m-0.5 0.5h0m3-2h0m-4 0h0m-7.5 6h0m1.5-1.5h0m7.5-2.5h0m-8 3h0m4-4h0m5.5-3.5h0m4 2h0m-1 2h0m-20 9.5h0m12-8h0m4.5 0.5h0m-13 5.5h0m6.5-4h0m-5.5 4.5h0m2-2h0m6.5-3.5h0m-1.5 3.5h0m11.5-7.5h0m-3.5 0h0m-9 5h0m7.5-2.5h0m-4 3h0m0 0.5h0m-6.5 4.5h0m6.5-7h0m-2 3.5h0m-8.5 4.5h0m3-2.5h0m1 0.5h0m-0.5-3h0m16.5-8.5h0m-13 8h0m-8 4h0m12-7.5h0m3 0h0m-0.5-1.5h0m-15 11h0m12.5-7.5h0m3.5-2.5h0m-11 7h0m8-4h0m-13 5.5h0m14.5-6.5h0m-6.5 5.5h0m-2.5-2.5h0m10.5-6h0m-12 9h0m-7 2h0m5-3h0m8.5-4h0m-12 7h0m1-0.5h0m20.5-11.5h0m-13 9h0m-1.5-0.5h0m5-1.5h0m-11.5 3h0m7.5-1.5h0m12-9h0m-18.5 10.5h0m4.5-3h0m4.5 1h0m8-8h0m-14.5 11h0m8.5-6h0m-9 5.5h0m4-3h0m9-4.5h0m-9.5 4.5h0m13.5-7.5h0m-6 4.5h0m-6.5 1h0m-3.5 6h0m9.5-6.5h0m1.5-2h0m-13 8.5h0m7-4h0m-0.5-2.5h0m-9.5 6.5h0m9-7h0m-3 4h0m3-1.5h0m6.5-2.5h0m3.5-3.5h0m1.5-0.5h0m-7 5h0m-13 5.5h0m10.5-6.5h0m-6.5 3h0m17.5-9h0m-18.5 8h0m0 3h0m6-3h0m9.5-6h0m-18 11.5h0m13-7.5h0m-6.5 6.5h0m13-10h0m-3 1h0m-6.5 4.5h0m7.5-3h0m-9 4h0m8-4.5h0m-6 2.5h0m-2.5 4.5h0m-2.5-0.5h0m4-3h0m-9.5 4h0m3.5 0h0m1.5 0h0m5.5-4h0m-8.5 2h0m2 1.5h0m13.5-8h0m-9 4h0m-0.5 1.5h0m0 2h0m4.5-5h0m-1 2h0m5.5-3h0m-3-0.5h0m-10.5 8.5h0m10-5.5h0m-11 1.5h0m7.5 0h0m-11 4.5h0m17.5-8h0m-4.5 3h0m-7.5 4h0m2.5-3h0m-3 0.5h0m-1 2.5h0m4.5-4.5h0m-3 1.5h0m9.5-4.5h0m-14 8h0m18-9.5h0m3.5-4h0m-7 5.5h0m-11 6.5h0m6-2h0m-4 3h0m1.5-4h0m4.5-1.5h0m-6 4.5h0m3.5-1h0m-11.5 2.5h0m16.5-6h0m-13.5 5.5h0m8-2h0m-6.5 0.5h0m5.5 0h0m-8 2h0m6.5 0.5h0m0-1h0m-1.5 1.5h0m3-1.5h0m6-5.5h0m-6.5 4.5h0m-2.5 2h0m-1.5-0.5h0m3-1.5h0m-0.5 1.5h0m-1.5 0.5h0m1-1h0m7-3.5h0m-8 3.5h0"/></g><text x="498.9" y="320.8" text-anchor="middle">-10</text><text x="534.6" y="320.8" text-anchor="middle">0</text><text x="570.2" y="320.8" text-anchor="middle">10</text><text x="605.9" y="320.8" text-anchor="middle">20</text><text x="641.5" y="320.8" text-anchor="middle">30</text><text x="677.2" y="320.8" text-anchor="middle">40</text><text x="495.9" y="312.2" text-anchor="end">0</text><text x="495.9" y="291.4" text-anchor="end">200</text><text x="495.9" y="270.5" text-anchor="end">400</text><text x="495.9" y="249.7" text-anchor="end">600</text><text x="495.9" y="228.9" text-anchor="end">800</text><text x="495.9" y="208.0" text-anchor="end">1000</text></g><text x="588.0" y="331.8" text-anchor="middle" style='font-family:"Liberation Serif",serif;font-weight:bold;font-size:9.9px;letter-spacing:-0.3px'>V3</text><text transform="translate(474.5 246.5) rotate(-90)" text-anchor="middle" style='font-family:"Liberation Serif",serif;font-weight:bold;font-size:9.9px'>V4</text><text x="588.0" y="181.5" text-anchor="middle" style='font-family:"Liberation Serif",serif;font-weight:bold;font-size:9.6px;letter-spacing:-0.3px'>KCGWO</text><g style='font-family:"Liberation Serif",serif;font-weight:bold;font-size:8.6px'><path d="M38.2 508.2v-2M38.2 384.2v2M74.4 508.2v-2M74.4 384.2v2M110.7 508.2v-2M110.7 384.2v2M146.9 508.2v-2M146.9 384.2v2M183.2 508.2v-2M183.2 384.2v2M30.7 508.2h2M207.6 508.2h-2M30.7 487.5h2M207.6 487.5h-2M30.7 466.9h2M207.6 466.9h-2M30.7 446.2h2M207.6 446.2h-2M30.7 425.5h2M207.6 425.5h-2M30.7 404.9h2M207.6 404.9h-2M30.7 384.2h2M207.6 384.2h-2" stroke="#7f7f7f" stroke-width="0.8" fill="none"/><rect x="30.7" y="384.2" width="176.9" height="124.0" fill="none" stroke="#7f7f7f" stroke-width="1"/><g fill="none" stroke-linecap="round" stroke-width="1.4"><path stroke="#ff0000" d="M41.5 486.5h0m1-3.5h0m-2.5 1h0m0.5 2h0m0.5 0h0m1.5-3.5h0m-0.5 3.5h0m0-3h0m-1 0h0m-0.5 1.5h0m2 3h0m-2-4.5h0m0-0.5h0m2.5 1.5h0m-0.5 0.5h0m-1 0h0m-1.5-1h0m2.5 3.5h0m-0.5-2.5h0m2.5-2h0m-1 3h0m-0.5-3h0m-1.5 0h0m0.5 4.5h0m-1.5-1.5h0m0.5-0.5h0m0.5 0h0m1.5-2h0m-1 5.5h0m-1-3h0m0-1h0m0-0.5h0m1.5 2.5h0m-2-1.5h0m0 2h0m0.5-3.5h0m0.5 0h0m1 2h0m-0.5-0.5h0m0.5-1.5h0m-2.5 1.5h0m2.5 0h0m-1-1h0m0.5 0h0m-1 3h0m0-0.5h0m2-1.5h0m0.5-2h0m-2 4.5h0m1.5-2h0m-2.5 1h0m0.5-4h0m2 1h0m-3-0.5h0m2 3.5h0m-0.5-3.5h0m-1 1h0m0-0.5h0m1 2.5h0m1.5 0.5h0m-1 1h0m0-5h0m-0.5 3h0m0.5 0h0m1-1h0m0.5-3h0m-3-1.5h0m0 1.5h0m2.5-1h0m0.5-0.5h0m-1.5-5.5h0m-1 4.5h0m2-0.5h0m-1-0.5h0m2 0h0m-2 3.5h0m0-2h0m0-2h0m-0.5 4h0m-1-1h0m2-1.5h0m0.5 0.5h0m-0.5 2.5h0m-2-2.5h0m1-5.5h0m-1 4.5h0m3 0.5h0m-2.5 1.5h0m0 0.5h0m2.5-5h0m0-4h0m-1.5 6.5h0m-1 3h0m1.5-3.5h0m0.5-2h0m-0.5 4.5h0m-1-3h0m0-0.5h0m1.5 4.5h0m-2-1.5h0m0.5 0.5h0m0.5 0h0m-1-2.5h0m0 0.5h0m-1 3h0m4.5-2h0m-2-2.5h0m0.5 3h0m-1.5-6.5h0m0 8.5h0m0-6.5h0m1-2h0m0 4h0m1 2h0m-1 1.5h0m0.5-3.5h0m1-2h0m-1.5 4h0m1.5-1h0m-2.5-2.5h0m2 0.5h0m-2 3.5h0m0.5-1h0m-1.5-1.5h0m1 2h0m0-1h0m0.5-2.5h0m-1.5 1h0m0.5-2h0m-1 6h0m5-2.5h0m-4 3.5h0m0.5-7.5h0m-1 6.5h0m3 1h0m0-1.5h0m-2-1.5h0m-0.5-2h0m2-0.5h0m2 0.5h0m-4 2.5h0m2.5-2h0m-0.5 4.5h0m0-5h0m-1 5h0m1-1h0m-1-1h0m0-3h0m2.5 3h0m-4-2h0m0 4h0m2.5-3h0m0-5.5h0m2 8h0m-1-5h0m-3.5 2.5h0m3.5 1h0m-3-2.5h0m2.5 5h0m-1.5-1.5h0m3-2h0m-4-2.5h0m0.5 4.5h0m0.5-8.5h0m0-0.5h0"/><path stroke="#ffff00" d="M39 495h0m0 0.5h0m0.5 0h0m0-0.5h0m-0.5 1h0m0 0.5h0m0.5-0.5h0m-0.5-1.5h0m0-1.5h0m0.5 0.5h0m-0.5 0.5h0m0-2.5h0m0.5 2.5h0m0-1h0m0-2.5h0m-0.5 1.5h0m0-1.5h0m0.5 4h0m-0.5-3.5h0m0.5 1.5h0m-1 1.5h0m0.5-1.5h0m1-0.5h0m-1 1.5h0m0.5-2h0m0.5 1.5h0m-1.5 1.5h0m0-1h0m1-1.5h0m0.5 1.5h0m-1.5-1.5h0m0.5-2h0m0.5 1h0m-1 2h0"/><path stroke="#00ff00" d="M43.5 477.5h0m-2-5h0m1.5 1h0m1.5 1.5h0m0 4.5h0m0.5-5h0m-1.5 1h0m2.5 0h0m-0.5-1h0m2.5-2.5h0m-6.5 3.5h0m4-2.5h0m-2.5 3h0m5-2.5h0m-2.5 0h0m0.5 0.5h0m-1.5 1.5h0m-1.5 2h0m2.5-5h0m0 2.5h0m-1-1h0m0.5 0h0m-2 3h0m1 1h0m1.5-4h0m1.5-1h0m-5.5 0.5h0m1.5 0.5h0m1-0.5h0m0.5 4h0m-0.5 1.5h0m-0.5-4.5h0m1 6h0m0-2h0m1.5-6h0m-3.5 0h0m0.5 0h0m1 2.5h0m-1 0h0m-1-2h0m3 0.5h0m-3.5 1h0m2 2.5h0m0.5 1.5h0m1.5-0.5h0m-3-4h0m2.5 3.5h0m-1.5-3.5h0m-1.5 1.5h0m0.5-0.5h0m0.5-0.5h0m1 1h0m2.5-2h0m0 2h0m-3-0.5h0m3.5 0h0m-3-2.5h0m0.5 4.5h0m-1 1.5h0m-1.5-4h0m5-2h0m-4 0.5h0m0 2.5h0m1.5-1h0m1-2.5h0m-0.5 8h0m-3-6.5h0m2.5 3h0m1 0.5h0m-1 1h0m1 1.5h0m-2-7h0m2.5 0.5h0m1 1h0m-4.5-1h0m-1 0h0m2 3h0m0-3h0m0.5 0h0m0-1h0m1 0.5h0m2.5 0.5h0m-3.5 3h0m1.5 0.5h0m-4-1.5h0m3.5-2h0m-3-0.5h0m8.5-4h0m-6 2h0m3.5-5.5h0m3-4h0m-9 11h0m5.5-14.5h0m1.5 10.5h0m-0.5-0.5h0m-0.5-8.5h0m5.5 1.5h0m-5.5 6.5h0m-3-2h0m7.5-6h0m-2 7.5h0m-1-7h0m-3 0.5h0m0.5 5h0m4.5-7h0m-8 8h0m1.5-5.5h0m4 1.5h0m-1.5 5h0m3-3h0m-0.5-1.5h0m-2 1h0m-4 7h0m10.5-14h0m-4.5 0.5h0m-5 14.5h0m8-14h0m-8.5 6.5h0m-2 6h0m11.5-10.5h0m-8 6h0m0.5-4.5h0m4-2h0m-2 4.5h0m-6 8h0m6.5-12h0m0.5 2h0m0-3.5h0m-3.5 10h0m2-8h0m0-1.5h0m4 8h0m-8-1h0m-0.5 6.5h0m3.5-3.5h0m0-1.5h0m2-1.5h0m-2.5-2.5h0m4 4.5h0m-7.5-1h0m8-6h0m-1.5 4.5h0m-2.5 0.5h0m-1.5-2h0m2.5-5.5h0m-3 10h0m6.5-4h0m-4-2.5h0m-2.5 9h0m1.5-13.5h0m-0.5 7.5h0m0-4.5h0m0.5-0.5h0m5.5 3h0m-5.5 8h0m0-6.5h0m6.5-3.5h0m0-2.5h0m-8.5 4h0m1.5 0.5h0m4.5 3.5h0m-3-3h0m-2.5 0.5h0m2.5-4.5h0m2 1.5h0m4-3h0m-6.5 13.5h0m1.5-11h0m-4.5 7.5h0m4.5-2.5h0m-1.5-5.5h0m-2.5 12h0m2.5-7h0m-3.5 3.5h0m3 0h0m1-0.5h0m3.5-4h0m-3-1.5h0m1.5-3.5h0m-2.5 0h0m4.5 2h0m-2 1.5h0m-2.5 4h0m1.5-1.5h0m-2 5.5h0m0-0.5h0m4-9.5h0m0.5 7.5h0m-5.5-4.5h0m2 1.5h0m-3 5.5h0m4.5-9.5h0m-2 9.5h0m2-12h0m4 0.5h0m-8 6h0m0.5 2h0m0.5-1.5h0m-0.5 4.5h0m4-5h0m0 4h0m-6 1h0m6.5-3.5h0m-5.5 5h0m7-6.5h0m1-2.5h0m-4-5h0m0 1.5h0m2.5 3.5h0m-4-4h0m3.5 7h0m-3-1h0m7-7h0m-6 6h0m2.5 4h0m-7.5 4.5h0m2.5-3h0m0-5.5h0m5.5-2h0m1-1h0m-8.5 6h0m0 2.5h0m2-9.5h0m-2 11h0m4.5 1h0m-5.5-2.5h0m1-4h0m10-7h0m-5 6.5h0m4-2.5h0m-5.5 1h0m-0.5 8h0m2.5-1.5h0m2-9h0m-1.5-0.5h0m1 6.5h0m1-8.5h0m-4 2h0m-1 3h0m4-1h0m-6 8h0m4-7h0m-5.5 4h0m2.5 4.5h0m5-11h0m-4.5 12h0m2-5h0m-0.5 2h0m-4.5 0h0m6.5-9h0m-2 11.5h0m5-12.5h0m-1-2.5h0m-1.5 7h0m-6 3h0m0.5 2h0m2-9.5h0m0 2.5h0m-5 10h0m1-0.5h0m2.5-10.5h0m6.5 1h0m-6 5.5h0m-3 2h0m8-3.5h0m-8.5 5h0m6-8.5h0m-1.5 7.5h0m2-5h0m1.5-4h0m-6 2h0m3 6.5h0m0.5-8h0m0.5 7h0m-5.5 2.5h0m2.5 0h0m-0.5-4h0m0-0.5h0m0.5 3h0m-2.5 2.5h0m5.5-15h0m-2 10h0m3-5.5h0m1 1h0m-1.5-3.5h0m3 0.5h0m1 1h0m-1 0.5h0m-4 3.5h0m0-2.5h0m-5 5.5h0m9-3h0m0-7h0m-4.5 5h0m5 2.5h0m-3.5 6.5h0m-3.5-1h0m4.5-11h0m-2.5 1.5h0m3.5-1.5h0m-6 8h0m-0.5-2h0m0.5-3h0m3 6.5h0m-1 3h0m4-13h0m-4.5 2h0m-1 4.5h0m-2 0h0m8.5-6.5h0m-6 5.5h0m-0.5 2h0m4-3.5h0m-3 2h0m1 3.5h0m1-7h0m-3 6h0m-2.5 1h0m1.5-2h0m7-8.5h0m-4 3.5h0m2 6h0m-3.5-1h0m4.5-9.5h0m-4 1.5h0m0.5 4h0m6.5-3h0m-9.5 4.5h0m2 6.5h0m7-13.5h0m-2.5 3h0m-3.5 0.5h0m0.5-3h0m-3.5 9.5h0m9.5-10h0m-7 6h0m3-2.5h0m3-2h0m-4-0.5h0m1.5 0h0m-2.5 12h0m6.5-11h0m-8.5 1.5h0m-1.5 8h0m-1.5 1h0m5.5-1.5h0m-1.5 1h0m-1-4h0m6-2h0m-4 9h0m-4.5-4h0m11-8.5h0m-5 10.5h0m-6.5 0h0m8.5-5h0m-3-7h0m-2 1h0m0.5 7.5h0m-4 5h0m3.5-13h0m-1 6h0m-0.5 4.5h0m4.5-5h0m-3 3h0m-1.5 1h0m2-10h0m-2 14.5h0m7.5-11h0m-2 2h0m3.5-1.5h0m-6.5-1h0m3.5-2h0m0.5-1h0m-4.5 10h0m3-10.5h0m3 7h0m-7.5 5h0m0.5 2h0m2.5-5h0m0.5-7h0m-2.5 2.5h0m7-0.5h0m-7.5 10.5h0m6-10h0m-4.5-0.5h0m1 10h0m4-18.5h0m-0.5 4h0m-2.5-1.5h0m2.5-3.5h0m2.5-7.5h0m-4.5 11h0m1 0h0m3-10.5h0m0 3.5h0m0.5 5h0m1-11.5h0m-1 4.5h0m-0.5-2.5h0m-3 7h0m2.5-8.5h0m2 10h0m-6.5 3.5h0m9-10.5h0m-3 5h0m1.5-3.5h0m-8 9.5h0m6.5-11h0m0.5 8h0m-4 0h0m5-11h0m-2 6.5h0m1-2h0m-1-1h0m2-1.5h0m0.5 5.5h0m-3 4.5h0m-3 2h0m7.5-13.5h0m-3.5 4.5h0m-4.5 3h0m6.5-5.5h0m-3.5 4h0m4.5-6.5h0m1 0h0m-3.5 1.5h0m0.5 3h0m-3.5 7.5h0m-1-7h0m-0.5 8.5h0m2 1h0m2.5-5.5h0m1-5.5h0m-2-1h0m-1.5-1h0m1 3h0m3-4.5h0m-3 0.5h0m0 13.5h0m-0.5-3.5h0m-3.5-2h0m4.5 3h0m4-9h0m-6.5 8.5h0m3.5-0.5h0m1.5-11h0m-1 3h0m-2 5h0m-2 5h0m2-2h0m-0.5-8h0m-5 11h0m7-10h0m0.5 5h0m-3.5-5h0m0.5 6.5h0m0 2.5h0m-1.5-2.5h0m5.5-9h0m-2.5-0.5h0m2 3.5h0m-2.5-1h0m2-2.5h0m2.5-1.5h0m-7.5 8.5h0m2-5h0m2.5-3.5h0m-3.5 11h0m3-5.5h0m0.5 4h0m-2.5-5h0m2-2h0m-4.5 9.5h0m4-5.5h0m1.5 6h0m-2-6h0m0.5-6h0m0.5 1.5h0m-1.5 7h0m2.5-7h0m-0.5 1.5h0m1-1h0m-5.5 8.5h0m3-9h0m2.5 0h0m-3.5 7.5h0m2.5-1h0m-3-1.5h0m-0.5 4.5h0m-1.5 0h0m-1.5 2.5h0m3-1h0m1-4.5h0m0-3h0m-2.5 8h0m4-4.5h0m-1.5-2h0m2.5 6.5h0m2.5-11h0m-4.5 2.5h0m1 8h0m2.5-8.5h0m0.5-1.5h0m-0.5-0.5h0m-4 4h0m1.5-4h0m-4.5 6.5h0m0 4h0m6.5-9h0m-5 9h0m0-8h0m-1 10h0m4.5-13.5h0m-2 6.5h0m-1-4.5h0m1 4h0m-3.5 5h0m9-9.5h0m-3 2h0m2.5-3h0m-2.5-1h0m-2 4.5h0m4-1h0m-5.5 1.5h0m1 3h0m1 1h0m-2-2h0m-2.5 4h0m7.5-3h0m-2-1.5h0m-4.5 2h0m-1 1.5h0m3-5.5h0m1.5-2.5h0m2 2h0m-1.5 1h0m-3.5 5.5h0m2.5-2h0m2.5-8.5h0m-6 11.5h0m-2 3h0m11-15h0m-5 5.5h0m3-4.5h0m-3 10.5h0m-2.5-3.5h0m3.5-4h0m-1.5 0h0m0-1.5h0m-1.5 6h0m5-9h0m-2.5 4h0m0 11h0m-3-1h0m0.5-9.5h0m5.5 1.5h0m-1-4.5h0m-5 13h0m6.5-13h0m-5.5 7.5h0m4.5-4h0m-5.5 10.5h0m-1-3h0m-0.5-1h0m4-4h0m-0.5-5.5h0m1.5-1.5h0m-1.5 11.5h0m1.5-9h0m-1 9.5h0m2.5-3.5h0m-3.5 3h0m2.5-1.5h0m-1-8.5h0m-2.5 2h0m7.5-4h0m-4 7h0m-0.5 4h0m1-2.5h0m-3.5-5h0m2.5 3.5h0m0 2.5h0m-1 0h0m-4 5.5h0m4-10h0m0 5.5h0m0.5-2h0m2-2.5h0m1-2.5h0m-3 11h0m-2-5h0m1.5-8.5h0m1 0h0m-2.5 11.5h0m1.5 2h0m-1.5-2.5h0m-0.5-4.5h0m3.5 7h0m-2 0.5h0m-5-2h0m6.5-9.5h0m0 4.5h0m-5.5 7h0m2-3.5h0m5-11.5h0m-1.5 10.5h0m-4.5 5h0m-0.5-3.5h0m5-3.5h0m1-1.5h0m1.5-6.5h0m-0.5 7.5h0m-3-3.5h0m-3 3h0m1.5 3h0m0 4.5h0m-2.5-4.5h0m-1 3h0m5-4.5h0m-1-6h0m3.5 4.5h0m-1-5.5h0m-1.5-1.5h0m1.5 1h0m-6 8.5h0m3-3.5h0m2.5 8h0m-3.5-1h0m-1.5-2.5h0m1-0.5h0m-2.5 3.5h0m4-9h0m-1 7.5h0m2-8.5h0m-2.5 8.5h0m5.5-4h0m0-8h0m-6 13.5h0m0.5-6h0m4-8.5h0m3.5-8.5h0m0.5 1h0m1-2.5h0m-2 6.5h0m1.5-1.5h0m1.5-5h0m-1 6h0m-1.5-5h0m0.5 4.5h0m-2 1h0m0.5 1h0m2 0.5h0m-3.5-2.5h0m3.5 3h0m-0.5-7.5h0m0-1.5h0m-4.5 10h0m1.5 1h0m3-10.5h0m-2 9.5h0m4-6.5h0m-1.5-0.5h0m0 1.5h0m-3 4h0m2-5h0m1.5 0.5h0m-2 3.5h0m1-0.5h0m-1-1h0m1.5-1h0m-0.5-1.5h0m0 1h0m0 1h0m-3 3.5h0m3-8h0m0.5 5.5h0m-2.5-2h0m0.5 5.5h0m3.5-7.5h0m-5.5 5h0m5.5-6.5h0m-1 4.5h0m-2 5h0m-1-2h0m2-4.5h0m1-2h0m-4 8h0m3 1h0m-1.5-7h0m1 2h0m2-5.5h0m0.5-0.5h0m-6 9.5h0m4.5-9.5h0m-2 5h0m1.5 1.5h0m-3 0h0m2 1.5h0m0.5 2h0m0-3h0m0-6h0m1 5h0m-4.5 4h0m2.5-0.5h0m0-3.5h0m0 0.5h0m0-3.5h0m0 1.5h0m2-1h0m0-3h0m-0.5 9.5h0m0.5-8h0m0 2h0m-3 6.5h0m2-4h0m-1 2h0m-0.5-1h0m-0.5-1h0m2.5-4.5h0m0 8.5h0m0-1.5h0m-1-5h0m0 1.5h0m-2 2.5h0m2.5-4h0m0 4h0m-3 1h0m5.5-6h0m-1-2h0m-2 7.5h0m-1.5 1.5h0m0.5-4.5h0m0.5 5h0m-0.5-4.5h0m0.5 1h0m3-7.5h0m-1 7.5h0m0-5.5h0m-2.5 8h0m-1.5 1h0m2.5-0.5h0m2-10h0m-2 3.5h0m-1 0.5h0"/><path stroke="#00ffff" d="M40.5 490h0m0 1.5h0m0.5-1.5h0m-0.5 2h0m-0.5-0.5h0m-1-1.5h0m1 0h0m-0.5 0.5h0m0.5 0h0m1.5-1h0m-1 1.5h0m-0.5 1h0m-0.5-2h0m0-0.5h0m1 3h0m0.5-1.5h0m-1 0h0m0 1.5h0m-0.5-0.5h0m1-1.5h0m-1 0.5h0m0 0.5h0m2-1.5h0m-1-0.5h0m0.5 1h0m0 1h0m-1-2h0m-1 1h0m0.5 2h0m1-6.5h0m-0.5 2h0m0-3h0m-0.5 3.5h0m1.5 0.5h0m0-2.5h0m-1.5 1h0m0.5-2h0m0 2h0m1.5 1.5h0m-2 0h0m1.5-1.5h0m-1.5-0.5h0m1 2h0m-0.5-0.5h0m0.5-1.5h0m-0.5-1h0m0.5 1.5h0m-0.5-0.5h0m0.5 1.5h0m-0.5-5.5h0m-0.5 3h0m0 2h0m2.5 0.5h0m-2 0.5h0m-0.5-2.5h0m2 2h0m-0.5 0h0m-2 0h0m0.5-3.5h0m1 1.5h0m0-1.5h0m-0.5-0.5h0m1 3.5h0m-1.5-3.5h0m0-0.5h0m2.5 4h0m-0.5 0h0m-2.5 1h0m1.5-1h0m0.5-1h0m0.5 0h0m-2-1.5h0m-0.5 4h0m1-3h0"/><path stroke="#0000ff" d="M38.5 500h0m0-0.5h0m0 1h0m0 0.5h0m0-3h0m0 0.5h0m0 0.5h0m0.5-1h0m0 0.5h0m0 0.5h0m-0.5-2h0m0.5-1h0m0 0.5h0m-0.5 0h0m0.5-1h0m-0.5 2h0m0.5 0h0m-0.5-2.5h0m0.5 2h0m-0.5-1h0m0-0.5h0m0.5-0.5h0m-0.5-0.5h0m0-0.5h0"/><path stroke="#ff00ff" d="M55 460h0m0.5-2h0m-1 2h0m0 0.5h0m-0.5 0.5h0m2-3.5h0m-2 6h0m-1 1h0m3.5-8h0m-3 5.5h0m1-4h0m0.5 4h0m-0.5-1h0m1.5-3h0m-2 2h0m2.5-3h0m-0.5 3h0m-0.5-3.5h0m4-8h0m-0.5-3.5h0m-1 4h0m0 2.5h0m-2 4h0m1-1h0m-1-0.5h0m2-2h0m1-6.5h0m0.5-2.5h0m-3.5 13h0m4.5-14.5h0m-4 9.5h0m3.5-9h0m-3 7h0m2-6.5h0m0 10h0m-0.5-2h0m-1.5 2.5h0m0-2h0m-1 1.5h0m3-8h0m-0.5 4.5h0m-3 4h0m4-10.5h0m-1 0h0m-2 9h0m3-4.5h0m-1.5-1.5h0m0 10h0m-1 0.5h0m3.5-14h0m-1.5 1h0m1 10h0m-2-5h0m-3 7.5h0m2.5-8h0m3-4.5h0m-4 6.5h0m-0.5 5h0m0.5-0.5h0m2-7h0m0 1.5h0m0 1.5h0m1-8h0m-1 7.5h0m-1 0h0m3-2.5h0m-1.5 4h0m-3.5 4h0m4-8.5h0m0.5-1.5h0m-2.5 3.5h0m0.5 4h0m1-8.5h0m0 4h0m1-7.5h0m1-3h0m-0.5 1.5h0m0.5-1h0m0-7h0m1.5 0.5h0m-2 2h0m-0.5 7.5h0m1-6h0m-1.5 3.5h0m1.5-8.5h0m0-0.5h0m0.5 3h0m0-2.5h0m-0.5 6h0m-0.5 0h0m-1 4.5h0m1.5-9h0m0.5 3.5h0m0-1.5h0m-0.5-1h0m-0.5-1h0m37.5-5h0m51-4h0m-21.5 22.5h0m20.5-10h0m-57.5-16.5h0m45.5 2h0m28.5 33.5h0m-99.5-24h0m18 14.5h0m4-13h0m26.5 5h0m-39 1h0m50.5-12h0m-44-17h0m13.5 30.5h0m20-37h0m-35 28h0m32-3h0m-3.5 1.5h0m-30.5-3.5h0m53.5 3h0m-45 1.5h0m-24.5 15.5h0m83.5-17.5h0m17 4.5h0m-37.5-5.5h0m-64.5 24.5h0m7.5-18.5h0m-3.5 7h0m52.5-17h0m-45 29.5h0m-11.5-5.5h0m22.5-3.5h0m20-8h0m26-6h0m16 10.5h0m-57.5 8h0m14.5-10.5h0m-3.5-22.5h0m7.5 11.5h0m41 13.5h0m-40-15.5h0m31.5 25.5h0m-54.5-35.5h0m7 0h0m14 11h0m49.5 1.5h0m-53 5h0m9-3h0m-15-1h0m45 5.5h0m-65-6h0m15.5 11h0m12.5-20h0m19.5 16.5h0m-35.5-9h0m-14.5-3h0m17.5-15h0m-9 36.5h0m4.5-22.5h0m92 2.5h0m-107 11.5h0m-9.5-1h0m9 8.5h0m35.5-19.5h0m44.5-23h0m-48.5 15h0m-15 2h0m94 33.5h0m-45.5-24h0m-62.5-1.5h0m40-3.5h0m15-17h0m37.5 43.5h0m-59.5-15.5h0m0.5-14.5h0m-47 38.5h0m38-39.5h0m63-2.5h0m-92 7.5h0m46.5 13.5h0m-27.5-5h0m-2-11.5h0m-2 13.5h0m-16.5 2h0m28 7h0m-18-10h0m34.5-7.5h0m-24 9h0m8.5-14h0m37 3h0m-64.5 17h0m10.5 0h0m23.5-13.5h0m28.5-6h0m36.5 22.5h0m-101-8.5h0m15.5-9.5h0m2 15h0m1-12h0m-7.5-6.5h0m4.5 2h0m78 15h0m-80 4.5h0m3-15h0m20-6.5h0m19.5-10.5h0m-21.5 14h0m-26 7h0m21.5-11h0m-31 9h0m108-1.5h0m-51-26.5h0m20.5 31.5h0m4-18h0m-85 26.5h0m84.5-32.5h0m-49.5 20h0m-35 9h0m65-22.5h0m-40 20.5h0m9-12h0m32 1.5h0m-16 2h0m7 3h0m-27.5 9.5h0m32-21.5h0m-28 5h0m-3.5 0h0m65 10.5h0m-18-12.5h0m-20.5 8.5h0m-32.5 7h0m51-16.5h0m-26-2h0m-13 0h0m27 0h0m-53 26.5h0m50.5-9h0m15.5-2.5h0m-70.5-10.5h0m83.5 20.5h0m6-24.5h0m-66.5-1.5h0m32 10.5h0m25.5-8h0m-57 3.5h0m42 0h0m12 13h0m-86.5 3.5h0m54-25h0m35 35h0m7.5-11h0m-95.5-2h0m62-38.5h0m8.5 37h0m-29.5-24.5h0m21.5 28h0m-24-28.5h0m7.5 15h0m-27.5-6h0m-4.5 8h0m88.5 18.5h0m-17.5-7h0m-61.5 1.5h0m-2 6.5h0m-8 15h0m64-25h0m-12-15h0m-10 4.5h0m63.5 11.5h0m-48-9.5h0m-65 6.5h0m78.5-13h0m-27.5 5.5h0m-20 9.5h0m-4 8h0m-4-25.5h0m-15.5 14h0m2 15h0m-2.5-8h0m91 1h0m-37-36h0m-1 6h0m-62.5 32.5h0m75-27h0m-51 25.5h0m6-13h0m11.5-2h0m28.5 11.5h0m27.5-22h0m-96 26.5h0m103-23.5h0m-101.5 32h0m102-27h0m-78-8h0m37.5 18h0m-57-2h0m56.5-4h0m-42.5-8h0m-17.5 21h0m5.5-0.5h0m61-6h0m-38.5-13h0m6.5 7.5h0m22.5-7h0m36 44h0m-9-34h0m-75.5 15h0m8-21h0m5-14.5h0m39 7h0m-54.5 16.5h0m23-21.5h0m-19 35.5h0m22.5-20.5h0m49.5-14h0m-33 13h0m-1.5 15h0m54.5-11h0m-34-14.5h0m43.5 25.5h0m-110.5-13.5h0m12-1.5h0m5-3.5h0m55.5-11h0m-21.5 29h0m-43-37.5h0m92 27.5h0m-72.5-33.5h0m22 21h0m-55 13h0m79-14h0m-24-2h0m37.5 11.5h0m-39-4.5h0m1.5-19h0m39 14h0m-10.5-13.5h0m5.5 42h0m-67-2h0m103.5 37.5h0m-62.5-79.5h0m-41 35h0m82 14h0m-80-17h0m54-9h0m-24-16.5h0m-13.5 13.5h0m-28 4.5h0m30.5 12h0m-19.5 6h0m-16.5-13h0m38-14.5h0m-17.5 13.5h0m37.5-12h0m-15.5 0h0m23.5-4h0m-2 13.5h0m-60.5 3h0m36.5-30h0m-35.5 37h0m16-10.5h0m-11.5 6h0m8.5-17h0m-20.5 27.5h0m9-2h0m71-6.5h0m-69.5 7h0m-1.5-15.5h0m55-27h0m0 14h0m31 11h0m-81.5-2h0m8 13.5h0m8 2.5h0m-35 11.5h0m72.5-39.5h0m-67 37.5h0m57-47h0m-32.5 33.5h0m-24 4.5h0m17-4.5h0m48.5-2h0m-38.5-5.5h0m32-4h0m4 1h0m25-1.5h0m-43.5-4h0m15.5-12.5h0m3 19.5h0m10.5 9h0m-15-6.5h0m-43-0.5h0m42.5-20h0m-47.5 19h0m32-8.5h0m-45 29.5h0m66-22h0m-69 21h0m39.5-14h0m-25.5-9h0m59.5 8h0m25 9h0m-41.5-7.5h0m-55 4h0m14.5 1.5h0m24-40h0m-28 41h0m76.5 13h0m-0.5-33h0m-60-5.5h0m-4.5 9.5h0m66 17h0m28-30h0m-88 10h0m57 19.5h0m-41-34h0m-6 15.5h0m-25.5 13.5h0m24-21h0m19.5 5.5h0m-5-6.5h0m-47 22.5h0m91-19.5h0m-58.5 0h0m14.5 8h0m-31 1.5h0m7 13h0m-12.5-10.5h0m55.5 1h0m-60 0h0m14.5-11h0m0 1h0m4.5 17h0m1.5-2.5h0m-2.5-8h0m23-15h0m-34.5 14.5h0m70.5-18.5h0m-22.5-3.5h0m-43.5 14h0m23 32h0m-18-24.5h0m98 38.5h0m-121.5-28h0m83 5h0m19.5-16.5h0m-98 24h0m-5.5-19h0m14 0.5h0m12.5 1h0m-11-4.5h0m74 0.5h0m-77.5 1.5h0m17 8h0m67.5 36h0m3-51h0m-95.5 13.5h0m-4.5-2h0m18 17.5h0m52.5-23.5h0m-72.5 22h0m60.5-29h0m-42.5-1.5h0m12 17h0m34-19.5h0m-6.5-0.5h0m-10 28h0m-6-21h0m42.5 4h0m-18-1.5h0m-45.5-3h0m-14.5 3.5h0m20 28.5h0m-17.5-31h0m58-11.5h0m-44 15.5h0m-7.5 8h0m69.5 7h0m6.5 12h0m-73.5-20h0m66-11.5h0m-61 5h0m-1-0.5h0m57.5-12.5h0m-34-3.5h0m9 11.5h0m-5.5 14.5h0m42-23h0m-90.5 28.5h0m36.5 8.5h0m29.5-29.5h0m28 11.5h0m-33-19.5h0m4 8h0m5.5 27h0m-23.5-21.5h0m-30-7h0m-12.5 26h0m53-23h0m-12-4h0m-44.5 23.5h0m35-0.5h0m17-9h0m-48.5 2h0m67.5-15h0m-36-3h0m23.5-2h0m-57 31h0m26-22h0m-6 5h0m60 1h0m-35.5-10h0m-22.5 5h0m-26.5 28.5h0m5-13h0m28.5-28.5h0m-10 8h0m73.5 36h0m-67-26h0m53-9h0m-78.5 28h0m24-26h0m-21 0.5h0m75-3.5h0m-27.5 11.5h0m-6.5-14h0m9.5 23.5h0m67 10.5h0m-63.5-8h0m-25.5-15h0m-13.5 17.5h0m53-14.5h0m-71.5 11h0m-3-7h0m42.5-33.5h0m55.5 12.5h0m-87 17h0m108.5 5h0m-103.5 2h0m44.5-17h0m-37 9.5h0m28.5 1h0m12.5-21.5h0m-34 20h0m-25 4h0m13-3h0m-12.5-2.5h0m22.5-9.5h0m39 31.5h0m-45.5-27.5h0m80-26.5h0m-51.5 16h0m6.5-4h0m-12 6h0m10-11.5h0m30.5 30h0m5.5 3.5h0m-54-10h0m33 10h0m-49 0h0m107.5-1.5h0m-49-3h0m-21-3.5h0m-44-11h0m21-1.5h0m-28.5 23h0m4-1.5h0m36.5-14.5h0m-8.5-2.5h0m24.5-11.5h0m-6.5 7.5h0m3.5 14.5h0m-30-6.5h0m-15.5 17h0m21.5 12h0m57-47h0m-20 30.5h0m4.5-7.5h0m-77 5.5h0m65.5-16.5h0m-38.5 32h0m91.5 6.5h0m-54-26.5h0m-11.5-18h0m19 11h0m-63 6h0m0-2.5h0m24 10.5h0m-35 18h0m3-19h0m0-4h0m-0.5 8h0m36.5-27.5h0m-23.5 30.5h0m30.5-19h0m0.5 2h0m-18 3h0m-19 0h0m38 20h0m1-23.5h0m-18-13.5h0m46.5 14.5h0m-73 20.5h0m30-28.5h0m-8 20h0m28-27.5h0m-0.5 17.5h0m-38.5-12h0m57 34.5h0m26-4h0m-70-21.5h0m-22 12h0m10.5-14.5h0m32 9h0m76 3.5h0m-118 8.5h0m77.5 3.5h0m-55-16h0m26 7.5h0m10-16.5h0m-35-17h0m-3.5-1.5h0m25 42h0m-27.5-22.5h0m61.5-15h0m-2 0h0m-5.5-1h0m-59.5 20h0m61-20h0m31.5 16.5h0m-56.5-7h0m-5.5 13h0m32-14h0m-66 9h0m6 15h0m-20.5 10.5h0m48.5-44h0m-25.5 11h0m24.5 6h0m29.5 14.5h0m20.5 2h0m4.5 26h0m-81-45h0m-20.5 31h0m69-55h0m-36.5 34h0m21-13h0m-37 20h0m69 6.5h0m-61-19h0m-6 8.5h0m23-38.5h0m-8 29h0m57 34h0m-47.5-38h0m41 16h0m-35.5-11h0m-21 5.5h0m-4 4h0m60.5 11h0m-13-27.5h0m3.5 3.5h0m-66 12h0m7-2h0m-13-6h0m71.5 4h0m-57 2.5h0m61-28.5h0m10.5 19h0m-86.5 20.5h0m60-13.5h0m16.5-1h0m-49.5-2.5h0m-31 18.5h0m64.5-41h0m-64 49.5h0m22-28h0m23-12h0m60.5 11.5h0m-82.5 3.5h0m1.5 4.5h0m43.5-16.5h0m41 11h0m7.5 16h0m-100.5-11h0m5.5-19h0m90 29h0m-55 7h0m-17-43h0m25.5 14h0m-15.5-0.5h0m12 3h0m-11.5-20h0m21 18.5h0m29-10h0m-7.5 5.5h0m-93 26.5h0m12.5-20.5h0m41.5 3.5h0m-14.5-26.5h0m-33 43h0m61.5-26.5h0m-33.5-5h0m5 34h0m67-28.5h0m-55-13h0m-12.5 29.5h0m35.5-8.5h0m-54-3h0m79.5 6.5h0m-84 2.5h0m51-15.5h0m-28.5 14.5h0m-23.5 4.5h0m96.5-14h0m-91.5 4h0m-4-9h0m87.5 48.5h0m-76-28h0m54.5 3.5h0m0.5-18.5h0m-49-16.5h0m-3 35h0m17.5-18h0m-47.5 13h0m38.5-1.5h0m-26.5-21h0m44.5 9h0m-47.5 20.5h0m34-1h0m-2-25h0m8.5 23.5h0m2.5-19.5h0m-4.5 0.5h0m-36 17.5h0m92 3h0m-103 5.5h0m61-29.5h0m28 20h0m-86 9h0m3 0.5h0m70-35.5h0m-50.5 0.5h0m29.5 3.5h0m-56 41h0m37-34h0m37.5-6h0m-67.5 13h0m38.5-7.5h0m-43.5 27h0m17.5 0.5h0m105-0.5h0m-61-18.5h0m-23.5-15h0m-5-5h0m51.5 20.5h0m-52.5-14h0m35.5 2.5h0m-56 14.5h0m28-8.5h0m-1 29.5h0m54 13.5h0m-51.5-45h0m-23.5 17h0m45.5-26.5h0m-38.5 8.5h0m28.5 3h0m23.5 2h0m-59.5 2.5h0m14.5 14.5h0m12-4.5h0m46.5-30.5h0m-62.5 26h0m24.5-9.5h0m-21.5-7.5h0m69.5 19.5h0m-90.5 13h0m13-12h0m51-18.5h0m-61 9.5h0m53-20h0m23 9h0m41.5 43.5h0m-69.5-42h0m-62.5 29.5h0m43.5-34.5h0m80 44.5h0m-70-43.5h0m-23.5 4h0m-7-7h0m-3 24h0m6.5-11.5h0m-8.5 17h0m103-12h0m-15.5 8h0m-67.5-9h0m-17.5 9h0m8-5.5h0m-22 7h0m2-1h0m16.5-27h0m-20.5 29h0m18.5-14h0m63 24.5h0m-59.5-19.5h0m-16.5-14.5h0m116 5.5h0m-71 22.5h0m7.5-7h0m-53-1.5h0m46 1h0m-25.5 5.5h0m-28.5-6h0m10-10.5h0m-5 7h0m23.5-26h0m43.5 15h0m-43.5-5h0m-1-20.5h0m27.5 22h0m-43 25.5h0m42.5-40.5h0m4.5 15h0m-1 14.5h0m-56.5-6h0m-1 6.5h0m16.5-4.5h0m14-10h0m10.5 21h0m16-21.5h0m-26 27h0m-2.5-9.5h0m66-28.5h0m31 39h0m-25 11.5h0m-88.5-21.5h0m45.5-25.5h0m-54 28.5h0m59-20h0m19 7h0m-7 9.5h0m-39.5-28.5h0m52.5 41.5h0m-81.5-11h0m120 34.5h0m-66-49.5h0m41 11h0m-29.5-10.5h0m-26.5-5h0m-45.5 18.5h0m42 5.5h0m-1-22h0m-27-3h0m25.5-14h0m-11 10.5h0m5 22.5h0m12-8h0m-27.5-9.5h0m115 18.5h0m-126.5 1.5h0m56-15h0m-21.5-11h0m-19 48h0m3.5-31.5h0m1.5 5h0m32.5 5h0m-9-11.5h0m-11 10.5h0m37.5-6.5h0m-34.5-23.5h0m17.5 7.5h0m2 10.5h0m-38-11h0m-18 32.5h0m64-32.5h0m-52 17.5h0m66-13h0m-85 15h0m116.5 24.5h0m-64.5-46.5h0m-22.5 12h0m-13.5 19.5h0m-10.5-6.5h0m92.5-8h0m-57-6.5h0m23 10h0m-52.5-14h0m55 3.5h0m7-15h0m26.5 28h0m19.5 21.5h0m-59.5-51h0m-56 23h0m7.5 6h0m4-10.5h0m9 14.5h0m10-12h0m46 21h0m20.5-29h0m-38 23h0m-47.5-11.5h0m61 7h0m-24-16.5h0m-46 17h0m56-12h0m44.5 32.5h0m-46.5-34.5h0m-60 12.5h0m17.5-11.5h0m-17 25h0m45.5-26h0m45 2.5h0m-82 0.5h0m116 3.5h0m-6.5 29h0m-14.5-9.5h0m-36.5-29h0m-51 4.5h0m19.5 7h0m-1-4h0m45-14.5h0m-50.5-4h0m-10 14.5h0m19-0.5h0m-8-19.5h0m6.5 31.5h0m13-19h0m49.5-2h0m-21 12h0m-50.5 6h0m-27 12h0m77-25h0m-49-8.5h0m46.5 10.5h0m-44-5h0m25-5.5h0m-33.5 11h0m-4-1.5h0m34.5-7h0m-54 24h0m62-9h0m10.5-2h0m-15 0.5h0m-24-26.5h0m44 23h0m32.5 19.5h0m-86-30h0m6.5 3.5h0m-23 9h0m7.5 11h0m-6.5 6h0m34.5-13.5h0m14-24.5h0m-50.5 31h0m-7.5 0.5h0m90.5 12.5h0m-24.5-32h0m34 34.5h0m-69-50h0m-30 50.5h0m78.5-21.5h0m29.5 17h0m-97.5 1.5h0m10-12.5h0m26.5-4.5h0m-16.5-4.5h0m48 1h0m-22-10h0m-47 10.5h0m64-13h0m9 7.5h0m-43.5 7h0m29.5-11.5h0m15.5 3h0m-29-33h0m-24.5 37h0m-20.5 4h0m68.5-16h0m10.5 2.5h0m-53.5 26.5h0m30.5-20.5h0m24 22.5h0m-85.5-14.5h0m7.5 14h0m42-22h0m22.5 10h0m-64.5-17.5h0m25.5-5h0m-18 23h0m-19 6.5h0m16-2.5h0m43-15h0m-38-7h0m34.5-7h0m-6.5 13h0m-12.5 9.5h0m31.5-4.5h0m-19 11.5h0m11 1h0m26-8h0m-77-1h0m60.5-22.5h0m-58 25h0m28 4.5h0m44.5 11h0m-51-32h0m47-22h0m-58 25.5h0m9.5 18.5h0m46.5-25h0m-6.5-2h0m-25.5-3.5h0m-8.5 26.5h0m-9-6h0m37-23.5h0m-45 28.5h0m-9.5 5h0m118 18h0m-122-14.5h0m5-19.5h0m28.5-5h0m72.5 55h0m-69-26.5h0m10-13h0m-43-5h0m24.5 43.5h0m-17-26h0m75-24h0m10.5-3.5h0m-5 11.5h0m-88.5-2h0m76.5-37.5h0m-80 49h0m28.5-23h0m69 20h0m-21.5 3h0m-16.5-2h0m-51-9.5h0m76.5 34h0m-34.5-28h0m-29.5-28h0m15.5 23h0m49 18h0m-28.5-22.5h0m50-8h0m-89 8h0m3-9h0m92 25h0m-47.5-11.5h0m-54 10.5h0m41.5-20h0m31.5 10h0m-92 12.5h0m96-29.5h0m-81.5-3h0m76 9.5h0m-55.5-5.5h0m1.5 0.5h0m16.5 0.5h0m41 15.5h0m-68.5 2h0m7.5 0.5h0m-13.5-11.5h0m47.5 15h0m-30.5-12.5h0m29.5 7.5h0m-21-1h0m-43 6.5h0m24-13h0m-2.5 5h0m47 3h0m36.5 12.5h0m-37-24h0m35.5 27h0m-37.5 19.5h0m-34.5-30.5h0m101 23.5h0m-119.5-23.5h0m2-23h0m47.5-3.5h0m-29.5 14.5h0m-9 20h0m20-38.5h0m-21.5 12.5h0m-12.5 19.5h0m60-5h0m-67 7.5h0m69-9h0m7.5 2h0m-53.5-16h0m67 23h0m-81.5-7h0m69.5 1h0m30-5h0m-66-6h0m60.5-2.5h0m-63 15h0m-37 6h0m51.5-17.5h0m56 16.5h0m-72 6.5h0m-12.5-45h0m-5.5 30h0m-2.5-1h0m-13 15h0m40.5-20.5h0m-46-3.5h0m25.5 11.5h0m20.5-23.5h0m17 15.5h0m-52.5-0.5h0m2.5 15.5h0m77.5-3h0m-21.5-32.5h0m-58.5 24.5h0m-2 0.5h0m2.5-4.5h0m43-15h0m-3 17h0m-14.5 6h0m50.5-3.5h0m9-10.5h0m-97.5 13.5h0m12 12.5h0m35-17h0m-2 4.5h0m-15.5 12h0m-25-26h0m3.5-3.5h0m3 11h0m-8.5 20.5h0m43-40.5h0m-14 9.5h0m42 46h0m-52.5-43.5h0m-3.5 11.5h0m55.5-13h0m-38.5 7.5h0m35 9.5h0m-28.5-8h0m-23-8.5h0m90 36.5h0m-68.5-43.5h0m-37 17.5h0m39-8h0m69.5 26h0m-43.5-33.5h0m-53.5 21.5h0m100-4h0m-85-13h0m-33 29.5h0m80 3h0m-71-5.5h0m42.5-21.5h0m-12.5 12h0m-34.5 7h0m20-10.5h0m71.5 2.5h0m-56.5-16.5h0m4.5-6h0m14 25h0m17.5-13h0m-41.5 9.5h0m-7-4h0m-0.5-13h0m65-3h0m-59 17.5h0m56-2.5h0m29 18.5h0m-65-22.5h0m4.5-21h0m-37 17h0m-11.5 32.5h0m31.5-34h0m3-3.5h0m4 12h0m59.5-12.5h0m-73 0h0m-6 25h0m20-14h0m-2 5h0m-28 6.5h0m42 21h0m13-20.5h0m-45.5 4.5h0m-3-24.5h0m16-2.5h0m-18.5 36h0m2.5-15h0m79.5-5.5h0m3-31.5h0m-8 37h0m-55-29h0m8-9.5h0m7.5 37.5h0m-6.5 0h0m-7 7h0m-6-21h0m16 9h0m-30.5-18h0m26.5 16h0m-37 3h0m114 5.5h0m-50-23h0m-68.5 17.5h0m50-16h0m55.5 21.5h0m-57.5-28.5h0m-22.5 3.5h0m15 20.5h0m-25-10h0m64.5 5h0m-24.5-2h0m-55.5-1.5h0m58-3.5h0m-31-10h0m-20 25.5h0m4-4h0m-10 12h0m113.5 0.5h0m-89.5-10.5h0m64-6h0m-51-6.5h0m-6 0.5h0m1-5h0m6.5 8.5h0m-24-5.5h0m60.5 11h0m-49.5-8h0m-33 20h0m44-29.5h0m40 10.5h0m-83.5 24.5h0m10-33h0m72-4.5h0m-83.5 32h0m110.5 34.5h0m-34.5-43.5h0m-19.5-21.5h0m-44 24.5h0m107-1.5h0m-85.5-13.5h0m-23 20.5h0m62.5-24.5h0m43.5 27h0m-79.5-17h0m60.5 5.5h0m-84-11h0m-1.5 7.5h0m25 41h0m16.5-44.5h0m65 22h0m-44.5-16h0m-16-1.5h0m-40 17h0m-9-30h0m14 10h0m38.5-21.5h0m-6 18h0m-27 1h0m37.5 16h0m8.5-4.5h0m-31.5-20h0m-32 19.5h0m99-1h0m-35.5-15h0m-71 29.5h0m17.5-10.5h0m54-4h0m-75 20.5h0m95-8.5h0m-64-23.5h0m-13.5-5h0m60-10h0m-70.5 32.5h0m61.5-7.5h0m-15.5-29.5h0m17.5 15.5h0m-26.5 11.5h0m46.5 11.5h0m8-40.5h0m-48 12h0m42.5 12h0m-14 1.5h0m11.5-11h0m-54-1.5h0m-22 1.5h0m43 24.5h0m-35.5-21h0m69 5.5h0m-83 2h0m82-6.5h0m1 34h0m-9.5-29.5h0m-0.5-18.5h0m-24.5 6h0m21 22h0m-27 6h0m-50.5-7h0m72.5-13h0m-17 7.5h0m-27 27.5h0m51.5-44h0m-67.5 21h0m9-4h0m72.5 17.5h0m-66.5-23h0m-4 13h0m76.5-9.5h0m-86.5 15h0m63.5-22h0m-0.5-6.5h0m-14 8.5h0m6.5 16h0m-20.5-15.5h0m38.5-9.5h0m-11 10.5h0m-22.5 12.5h0m-41.5-11.5h0m-14.5 19h0m102.5-29.5h0m-91 22h0m75.5 16h0m-64.5-4h0m89.5-6h0m-109 5.5h0m127.5 6.5h0m-106-17h0m-16.5 8.5h0m49-35h0m4.5 26h0m6.5-15h0m-14 8h0m15-12.5h0m-59.5 27h0m29.5 6.5h0m64-13h0m-67-6.5h0m-26 7.5h0m81.5-22.5h0m-79 25h0m57-4h0m-19.5-0.5h0m-11-10h0m-28.5 19.5h0m4.5-6h0m59-29h0m-12.5 3h0m-49.5 23h0m41-32h0m-32.5 28.5h0m10.5-20h0m26 4h0m-7-7.5h0m-19 14.5h0m10-6h0m-18 10h0m4.5 23.5h0m18.5-54h0m19 17.5h0m-57 21.5h0m1.5 0h0m37.5-7.5h0m-4-0.5h0m63.5 58h0m-30.5-67h0m-1 16.5h0m-34.5-22.5h0m-1 16.5h0m33.5-19.5h0m24.5 25.5h0m-52.5-21h0m-3 15.5h0m-18 7.5h0m2.5-31h0m33.5 19.5h0m-50 12.5h0m97.5 9h0m-97.5-4h0m47-20h0m-34 17.5h0m52.5-30h0m8.5 15.5h0m-29.5 17.5h0m-44.5-9.5h0m40-19.5h0m-19 7h0m30.5 5.5h0m12.5 23h0m-62.5 2h0m3-9h0m10.5-24h0m70 27h0m-49-41h0m61.5 25h0m-7 6.5h0m6-6.5h0m-24-8h0m-23.5 8h0m-40-12.5h0m-6.5 19h0m65.5-6.5h0m-44.5-4.5h0m-15 9h0m46 5.5h0m-38.5-13h0m26.5-11h0m16-3h0m-12 11h0m-9-21.5h0m-2.5 25h0m-23 5h0m31.5 14h0m-53-13.5h0m37-23.5h0m69 6.5h0m-29.5 24h0m-48.5-23h0m19 21.5h0m45.5-26.5h0m-10.5 14h0m2.5-1.5h0m-69.5-9.5h0m28.5-6.5h0m8 28h0m-17-24h0m76.5 62h0m-75-73h0m35.5 25.5h0m-41 0.5h0m71 5.5h0m31.5-13.5h0m-57.5-6h0m-54 13.5h0m-19.5 10h0m49.5-13h0m-22-10.5h0m-28.5 34h0m37 8.5h0m-17.5-25.5h0m-11.5-5.5h0m88 2.5h0m-77 2h0m78.5 22h0m-70-37h0m50.5 13h0m36.5 9.5h0m-83.5-11.5h0m23-8.5h0m11 1h0m-1 21.5h0m-22.5 0.5h0m1-16.5h0m20.5 16h0m-0.5-26.5h0m-31 9h0m78-0.5h0m-96 2h0m73 10.5h0m-52-15h0m-23.5 5.5h0m42-15.5h0m-16 20h0m24-4.5h0m-52.5 14h0m10.5-21.5h0m-13.5 10.5h0m58.5 0h0m-58 3h0m88-19h0m-85.5 33h0m60-5.5h0m-50.5-26.5h0m6.5 3.5h0m57 14h0m-50.5-7h0m-17 7.5h0m35.5 0.5h0m-36-9h0m42 5.5h0m-34.5 10h0m-4.5 6.5h0m64-21h0m-41.5-14.5h0m43 38h0m-9.5-44h0m-24 14.5h0m-5.5-7.5h0m-29 25h0m20.5-17.5h0m36.5 31h0m6-24h0m-35.5 6h0m-37 21h0m7-25h0m-8 12.5h0m36.5-22h0m-5.5 20.5h0m46-39h0m-46 17h0m-24 28.5h0m28-29.5h0m-7.5 7h0m29 7h0m-12.5 1.5h0m-48.5 29.5h0m27.5-45.5h0m36-1h0m-58 21h0m72.5-19.5h0m-37 22.5h0m-33-2.5h0m55-1.5h0m-44.5 12h0m51-19h0m-41.5-0.5h0m58.5-8.5h0m-15-16h0m23.5 51h0m-52.5-28h0m-19.5 0h0m-2.5 3h0m63.5 6h0m-44-14h0m-21 21.5h0m87 10h0m-97.5-6.5h0m117 2h0m-82.5-33h0m8-6h0m-14.5 18h0m51.5 1h0m-76-5.5h0m89.5-8.5h0m-9.5 22.5h0m-59.5-7h0m7-7h0m16.5 8h0m11-7h0m15.5 6.5h0m-43.5-26h0m-9.5 22h0m29-3.5h0m4-2.5h0m-42.5 30h0m64-9.5h0m14.5 8.5h0m-65.5-22h0m57.5-4h0m-79 19.5h0m31-1.5h0m2-25h0m-24 18h0m108.5 21h0m-114.5-27h0m117 36h0m-111.5-24.5h0m73 6h0m-76-15.5h0m5.5-27.5h0m-8.5 26.5h0m18-2h0m53 5h0m-69 13h0m54-21.5h0m-45.5 1h0m109 31h0m-32.5-10.5h0m-97.5-2.5h0m47.5-12.5h0m38 3h0m-65 13h0m-6-22.5h0m26.5 3h0m11 25h0m45.5-13.5h0m-39.5-22.5h0m21-23.5h0m-42 41.5h0m-5-26h0m-7.5 29h0m3.5-22h0m43 1h0m16 16h0m-74 13h0m85-25h0m-1.5-6.5h0m-90.5 26h0m90.5 3.5h0m-53.5-20.5h0m-18-6.5h0m38.5-2.5h0m-5 4.5h0m14 18h0m-44.5 5h0m-6-7.5h0m38-25h0m-25.5 7.5h0m55 16h0m-34.5-19h0m-11 4h0m19.5 16.5h0m-18.5-27h0m5 29.5h0m-42 2h0m102-8h0m-35.5-24h0m-4.5 3h0m13 31h0m-62.5-6.5h0m23-24h0m-27.5 27.5h0m7.5-12.5h0m55.5 41.5h0m-12-49h0m-15 21h0m-10-0.5h0m-26.5 2.5h0m65.5-37h0m-59 5h0m-21 19h0m59 3h0m11.5 5h0m-59.5-7h0m23-0.5h0m35.5 9.5h0m55 9h0m-113.5-4.5h0m-7-13h0m105 19h0m-73.5-9h0m-7.5-12.5h0m28.5 52h0m-10.5-62h0m0 6h0m5 1.5h0m-1.5 14h0m-20-6h0m-13-2h0m59.5-8.5h0m-77.5 24.5h0m1.5 7h0m22.5-13.5h0m-24 8h0m51-30.5h0m-30 15.5h0m40.5 4h0m-62.5 9.5h0m13-25.5h0m-2.5 14.5h0m42-5h0m-16-4.5h0m-15.5-0.5h0m58.5 25h0m-35.5-21.5h0m-39 20h0m118.5 13.5h0m-76-34h0m-40.5-1.5h0m50-10.5h0m-7 19h0m68.5 8.5h0m-38.5 3h0m42 15h0m-98-46h0m66.5 2h0m-49.5 6.5h0m36.5-9.5h0m-44 0.5h0m21-17.5h0m30 66h0m-80-26h0m54.5-26.5h0m-12 9h0m-39.5 23.5h0m59-4.5h0m-59.5-12h0m20.5-21.5h0m66.5 53h0m-50-22.5h0m-8 14.5h0m87-11.5h0m-37-2.5h0m40 40h0m-30-58h0m-66.5-6.5h0m50.5 38h0m-53.5-23h0m90.5 12.5h0m-68-15h0m16-4h0m-13.5 0h0m3-22h0m-50 46.5h0m79.5-16h0m4.5-15.5h0m-22.5 2.5h0m-20 9.5h0m36 29h0m-67.5-22.5h0m22.5-19.5h0m2.5 13.5h0m-12.5 16.5h0m59-29h0m-38-14.5h0m-34 54.5h0m-0.5-31h0m19 21.5h0m27.5 6h0m27.5-33.5h0m-68.5 8h0m-11 34h0m26-40.5h0m-30 14h0m78 20h0m-67.5-17.5h0m29.5-27h0m-41 45h0m23.5-29.5h0m-14.5 1.5h0m-4.5 11h0m106.5 14.5h0m-104.5-18.5h0m58-16.5h0m37 45h0m11.5-13.5h0m-110-21h0m51 11h0m-5-32.5h0m4 28.5h0m-16 0.5h0m-28.5 13.5h0m-5-4h0m-9 4.5h0m39.5-20.5h0m8.5-7.5h0m39 40.5h0m-79-30h0m101.5 11h0m-18-3.5h0m-34.5-23.5h0m-51 30h0m107 16h0m-37-53.5h0m-0.5 4h0m-19.5 27h0m-40.5-11.5h0m27 4.5h0m-21.5 25h0m41-25.5h0m60.5 17.5h0m-89.5-14h0m-20-2.5h0m-5-1.5h0m11.5 16h0m-4 6h0m20-25h0m-13 2h0m62-1h0m-80.5 10h0m42.5-19.5h0m31 31h0m0.5-22.5h0m21 20h0m-36-20h0m-25.5 14.5h0m30.5-22h0m-19 7h0m-6 6h0m35.5 11.5h0m-26-29.5h0m-44 20.5h0m34 0.5h0m8-27.5h0m-50.5 44.5h0m74.5-36.5h0m19-10.5h0m-19.5 39h0m-59.5 2.5h0m-3.5-12.5h0m47.5 8.5h0m-44.5-5h0m44.5-7.5h0m-49 1h0m78 15.5h0m-75-12h0m28-16h0m-29.5 27.5h0m14.5-26.5h0m32-4.5h0m4.5 27h0m-36 2.5h0m76-32.5h0m-97.5 30h0m30.5-9.5h0m61-1.5h0m-79 2.5h0m25-13.5h0m45.5-8.5h0m-62.5 23h0m10-5h0m56.5-20.5h0m-60.5 6h0m5 31.5h0m54-11h0m-83 9h0m8-21.5h0m34.5-12.5h0m65 41h0m-13-2h0m-97-8h0m25.5-19.5h0m-10 7h0m6 11.5h0m12.5-21.5h0m-5 0.5h0m-27.5 28.5h0m43.5-19.5h0m0.5-6h0m-46 43.5h0m39-47h0m-39.5 21.5h0m57.5-14.5h0m-29-7h0m73.5 21h0m-96.5 11.5h0m17.5-27.5h0m-6 23.5h0m81 0h0m-75-40.5h0m17.5 14h0m-23 1.5h0m9-1.5h0m21-6h0m0 7.5h0m22-7h0m-50.5 41h0m10-34h0m4.5 1.5h0m40-9h0m-36-3h0m-26 8.5h0m76.5 5.5h0m-64-16h0m58.5 25h0m-73.5 6.5h0m-3.5 1h0m35-11.5h0m-3 2.5h0m42.5-25.5h0m42.5 42h0m-89-13.5h0m16-36.5h0m4 35h0m12 4h0m-31.5-7h0m68.5 16h0m-21.5-4.5h0m-79.5-14.5h0m21 5h0m57.5 27.5h0m-40-38.5h0m47.5 14h0m-56.5 3.5h0m80-34.5h0m-30.5 27.5h0m25 34h0m-85.5-37h0m0-11h0m-19.5 17.5h0m15-3h0m57-4h0m-72 16h0m63.5 4h0m5.5-30.5h0m-9 1h0m-38-5.5h0m14 21h0m-26.5-16h0m3.5 1.5h0m2 1.5h0m-12 19h0m53-26h0m11.5-3h0m-8 11.5h0m-37.5 12h0m26.5-2.5h0m10-18.5h0m12.5 11.5h0m-27.5 6h0m-0.5-36h0m-15 29h0m13 5h0m-1.5-0.5h0m15.5-14.5h0m36 10.5h0m-82.5-11.5h0m51.5 34.5h0m-42.5-20h0m36.5-24h0m10 39.5h0m-14-31.5h0m5 9.5h0m-51.5 13.5h0m59.5-5.5h0m11 0.5h0m25 31h0m-82.5-27h0m49.5-8h0m31 18.5h0m-35-39.5h0m-31.5 5.5h0m25.5 7.5h0m-43 31.5h0m27-25h0m14.5-0.5h0m-24 5h0m12-16.5h0m-37 18.5h0m29-4h0m83.5 13h0m-90.5-6h0m82.5 14.5h0m-47.5-40.5h0m-33 4h0m2.5 1.5h0m48.5-7h0m-66.5 23.5h0m22.5-4h0m29.5-6.5h0m-46-2h0m40-11h0m-27.5 42h0m40-24.5h0m-10.5-15h0m-3.5 7h0m-17.5 4h0m27.5 11h0m-41.5-4.5h0m6.5-4.5h0m26-2.5h0m-30.5 4.5h0m84.5 3h0m-69.5-6.5h0m7.5 5h0m-30-2h0m1-2h0m-17.5 11h0m56.5-4.5h0m36-12h0m-74 21.5h0m-17.5 16h0m52-39h0m-13.5 16h0m-16.5-1h0m-4.5-12.5h0m6.5-3.5h0m55 22h0m15 9h0m-92.5-21h0m6.5 5.5h0m91.5 3.5h0m6.5 23h0m-44-4.5h0m-31.5-7h0m7-0.5h0m-31.5-22.5h0m94 20.5h0m-27.5-9.5h0m-8 0h0m31 7h0m-83.5-5.5h0m38.5-33.5h0m52 31h0m-88-15h0m22 6.5h0m-19.5 17h0m42-28h0m-43.5 26.5h0m-14.5-12.5h0m30.5-12.5h0m-32 24.5h0m65-5h0m-5-1.5h0m-4-15.5h0m-44.5 42h0m18-18.5h0m44-18h0m-75 24.5h0m63.5-7.5h0m21.5-4.5h0m-11-37h0m-14.5 40h0m43 17h0m-41-35h0m-53 17h0m-4-9h0m58.5 3.5h0m-14-1h0m28 0h0m-72.5 6h0m-1.5-3h0m-8 2h0m93.5 0h0m-85.5-5.5h0m83.5-9.5h0m-42 27h0m-10.5-23.5h0m-34.5 14h0m19.5 12h0m40-33h0m12 11.5h0m-50.5-5h0m-21 6.5h0m0 7h0m14-12.5h0m48-4h0"/></g><text x="38.2" y="520.0" text-anchor="middle">0</text><text x="74.4" y="520.0" text-anchor="middle">50</text><text x="110.7" y="520.0" text-anchor="middle">100</text><text x="146.9" y="520.0" text-anchor="middle">150</text><text x="183.2" y="520.0" text-anchor="middle">200</text><text x="27.7" y="511.4" text-anchor="end">0</text><text x="27.7" y="490.7" text-anchor="end">20</text><text x="27.7" y="470.1" text-anchor="end">40</text><text x="27.7" y="449.4" text-anchor="end">60</text><text x="27.7" y="428.7" text-anchor="end">80</text><text x="27.7" y="408.1" text-anchor="end">100</text><text x="27.7" y="387.4" text-anchor="end">120</text></g><text x="119.1" y="531.0" text-anchor="middle" style='font-family:"Liberation Serif",serif;font-weight:bold;font-size:9.9px;letter-spacing:-0.3px'>V1</text><text transform="translate(10.6 446.2) rotate(-90)" text-anchor="middle" style='font-family:"Liberation Serif",serif;font-weight:bold;font-size:9.9px'>V2</text><text x="119.1" y="381.7" text-anchor="middle" style='font-family:"Liberation Serif",serif;font-weight:bold;font-size:9.6px;letter-spacing:-0.3px'>GMM</text><g style='font-family:"Liberation Serif",serif;font-weight:bold;font-size:8.1px'><rect x="169.6" y="449.2" width="31.0" height="56.0" fill="#fff" stroke="#5a5a5a" stroke-width="0.9"/><circle cx="182.8" cy="455.0" r="0.7" fill="#ff0000"/><text x="194.8" y="457.7">1</text><circle cx="182.8" cy="464.0" r="0.7" fill="#ffff00"/><text x="194.8" y="466.7">2</text><circle cx="182.8" cy="473.1" r="0.7" fill="#00ff00"/><text x="194.8" y="475.8">3</text><circle cx="182.8" cy="482.1" r="0.7" fill="#00ffff"/><text x="194.8" y="484.8">4</text><circle cx="182.8" cy="491.2" r="0.7" fill="#0000ff"/><text x="194.8" y="493.9">5</text><circle cx="182.8" cy="500.2" r="0.7" fill="#ff00ff"/><text x="194.8" y="502.9">6</text></g><g style='font-family:"Liberation Serif",serif;font-weight:bold;font-size:8.6px'><path d="M271.2 508.2v-2M271.2 384.2v2M307.4 508.2v-2M307.4 384.2v2M343.6 508.2v-2M343.6 384.2v2M379.8 508.2v-2M379.8 384.2v2M416.0 508.2v-2M416.0 384.2v2M263.7 508.2h2M440.4 508.2h-2M263.7 483.4h2M440.4 483.4h-2M263.7 458.6h2M440.4 458.6h-2M263.7 433.8h2M440.4 433.8h-2M263.7 409.0h2M440.4 409.0h-2M263.7 384.2h2M440.4 384.2h-2" stroke="#7f7f7f" stroke-width="0.8" fill="none"/><rect x="263.7" y="384.2" width="176.7" height="124.0" fill="none" stroke="#7f7f7f" stroke-width="1"/><g fill="none" stroke-linecap="round" stroke-width="1.4"><path stroke="#ff0000" d="M274.5 471h0m1 2h0m-2.5-9h0m0.5 4h0m0.5 1h0m1.5 2.5h0m-0.5-1h0m-0.5 0h0m-0.5-2.5h0m-0.5-1.5h0m0-1h0m2 5h0m-2-5.5h0m2.5 7h0m-0.5 0.5h0m-0.5-5.5h0m-2-5h0m0-1h0m2 8h0m2.5 4.5h0m-1-2.5h0m-0.5 0h0m-1.5-1.5h0m0.5 1.5h0m0 0.5h0m-1-1.5h0m0 0.5h0m0.5 1h0m0-4h0m1.5 5h0m-1 0h0m-1-5.5h0m1.5 3h0m-2-3h0m1 2h0m0 1h0m-1-1.5h0m1 0h0m1 2.5h0m-1.5-2.5h0m1 5h0m0-1.5h0m0.5 1.5h0m-1.5-4h0m-0.5-6.5h0m2.5 7.5h0m-3-6h0m3 7h0m-1-1.5h0m-1-4.5h0m0-1h0m-0.5 0h0m0 3h0m2 2h0m-0.5 3.5h0m1.5-1.5h0m-0.5 3h0m-1.5-2.5h0m-0.5-5.5h0m-1-5h0m0 1.5h0m1 4.5h0m1 1h0m-1 2.5h0m-0.5-7h0m-0.5-3.5h0m4.5 11h0m-2-4h0m1 5.5h0m-1.5-3.5h0m-2-6h0m0.5 2.5h0m2.5 7h0m0.5-0.5h0m-0.5 1.5h0m0.5-2h0m-1 0h0m1-3h0m-2-2.5h0m0.5 1.5h0m-2-5.5h0m4.5 10.5h0m-1.5-3h0m-0.5-1h0m1 1.5h0m0.5 0h0m-2.5-5h0m-1-2h0m3.5 8.5h0m1 0.5h0m-1.5-4h0m-0.5 1h0m2 2.5h0m-4-9h0m2 10.5h0m0.5 0h0m0.5-2h0m-3-5.5h0m2 2.5h0m2 5h0"/><path stroke="#ffff00" d="M272 450.5h0m0 1.5h0m0-2.5h0m0-1.5h0m0 3.5h0m0-2.5h0m0 5h0m0-1.5h0m0.5 1h0m-0.5-2.5h0m0.5 3.5h0m0 3h0m0-1h0m-0.5-3.5h0m0.5 3h0m-0.5-6h0m0-3.5h0m0.5 9h0m-0.5-7h0m0.5 10h0m-0.5-5h0m0 3h0m0-1h0m0-1h0m0.5-1.5h0m-0.5 3h0m0-9h0m0.5 14h0m0-7h0m-0.5-9h0m0 2.5h0m0.5 4h0m-1-12h0m0.5 5h0m1 14.5h0m-0.5-1h0m0-3h0m0.5 4.5h0m-1-14h0m0.5 13.5h0m0.5 1.5h0m-1-5.5h0m0-9h0m-0.5-4h0m0.5 1.5h0m0-1.5h0m-0.5 1h0m1 17h0m0-3h0m0.5 1.5h0m-1.5-17h0m0 2h0m0-3h0m0-2.5h0m1.5 24h0"/><path stroke="#00ff00" d="M276.5 474h0m-2-2.5h0m1.5 0h0m1.5 2.5h0m0 0.5h0m0.5-1h0m-1.5-2h0m2.5 1h0m-1.5 0.5h0m1 0h0m2.5 2.5h0m-2.5-0.5h0m-2.5-1.5h0m0-1.5h0m5 1.5h0m-2.5 2h0m-1-3h0m1 2h0m-2.5-1.5h0m1 1h0m3 0h0m-3-3h0m-1 0h0m0-0.5h0m1.5 4.5h0m1.5 1.5h0m-3.5-6h0m0-0.5h0m1.5 3h0m0 1.5h0m-2-4.5h0m3 4h0m-3.5-3.5h0m2 4.5h0m0.5-1.5h0m1.5 0.5h0m-3-3h0m2.5 2h0m-3-1.5h0m0.5 1h0m1 0.5h0m-0.5-0.5h0m3.5 2h0m-3-1h0m3 1.5h0m-3-3h0m0.5 0h0m-2 0h0m5 3.5h0m0-1h0m-5.5-1h0m3.5 1.5h0m3 1.5h0m-5-2.5h0m1 1.5h0m1.5-2h0m-3.5-3h0m4.5 3h0m-3-1h0m-2-3h0m2.5 2h0m2 2.5h0m1 1h0m-4.5-3h0m0-0.5h0m2 0.5h0m1 0h0m-4-2h0m3.5 2h0m2.5 5h0m-2.5-2.5h0m-1-2h0m-2.5-1.5h0m1 2.5h0m8 2.5h0m-2.5-1h0m3 0.5h0m-9-6.5h0m5.5 7.5h0m1.5-2h0m-0.5 1h0m-0.5-1.5h0m5.5 1h0m-1 1.5h0m-2-2h0m-1 0.5h0m-3-1h0m0.5-1h0m4.5 1.5h0m-8.5-4.5h0m5.5 6.5h0m-1-1h0m2.5 1h0m-2-3.5h0m6 3.5h0m-4 0.5h0m3-1h0m-8.5-2.5h0m9 3h0m-3-1h0m-2-1h0m-6-0.5h0m6.5 1h0m0.5-1h0m-3.5-0.5h0m2 2.5h0m4-1.5h0m-4.5 0.5h0m-0.5 2h0m-3-2h0m5 0.5h0m1.5 1h0m-1-3.5h0m-4.5-0.5h0m6.5 3h0m-4-1.5h0m-1 1.5h0m-0.5-4h0m0.5 1.5h0m5.5 4h0m-5.5-0.5h0m6.5 0.5h0m0 0.5h0m-7-2.5h0m3.5 1h0m4 3h0m-5-4h0m-1.5 1.5h0m3.5 0.5h0m-3.5-3.5h0m4 3h0m-3-2h0m1.5 2h0m2-0.5h0m-2 1h0m-2.5-1h0m1.5 1h0m-2-4.5h0m4.5 3.5h0m-4-3.5h0m6 5.5h0m-3-2.5h0m1.5 2h0m-2-3h0m5 1h0m-10-4h0m3 3h0m-4-4h0m2.5 1.5h0m5.5 3h0m1 2h0m-6.5-4h0m3 3.5h0m3-0.5h0m-5.5 1.5h0m-0.5-3h0m5 0h0m-1-1h0m0.5 4h0m1.5 0.5h0m-3.5-5h0m0 3h0m2-2h0m-6-3h0m-0.5-1h0m1.5 1.5h0m4 4h0m2 1.5h0m-1 1.5h0m1-2h0m0.5 0h0m0.5 1h0m-3.5-0.5h0m1-4h0m-2.5 0.5h0m3.5 1.5h0m-6.5 1h0m1.5 0h0m0-0.5h0m7.5 0h0m-0.5-0.5h0m0.5 2h0m-6.5 1h0m-0.5-6h0m6 6h0m-2.5-2h0m4 2.5h0m-10.5-4h0m2-2h0m-3 0.5h0m2.5 2.5h0m1.5-4h0m5.5 4h0m0.5-0.5h0m0.5 1.5h0m-7.5-0.5h0m8 3.5h0m0-3.5h0m-2-2h0m2.5 3.5h0m-4.5-4h0m4 4h0m1.5-1.5h0m-2 3.5h0m2-2.5h0m0 1.5h0m2.5-1h0m-2.5 0h0m-0.5-0.5h0m1.5-1h0m-2-1h0m1 0.5h0m1 1.5h0m-2 0h0m0-1h0m2 2h0m0-1.5h0m-3-1h0m5 2.5h0m-1.5 0h0m1 1h0m1-1h0m-3-2h0m-3.5 1.5h0m3 0.5h0m1-2.5h0m-5-1.5h0m5.5 3.5h0m1.5 1h0m-2.5-2h0m-2 1.5h0m2 0h0m-3 0.5h0m4-1.5h0m-1 0.5h0m2.5-1h0m-5.5-0.5h0m6 0.5h0m-4 1h0m1-0.5h0m0.5 0.5h0m-6-3h0m2.5 1h0m-1.5 2h0m6.5-0.5h0m-1 2.5h0m0.5-0.5h0m-1-0.5h0m0.5 0h0m-2.5-3h0m-3 1.5h0m3.5-2h0m0 3h0m-3 0.5h0m4.5 1h0m-2.5-1h0m-4.5-7h0m7.5 5h0m-6.5-1.5h0m5.5 3.5h0m3-1h0m-2-1.5h0m-4-1.5h0m1.5 5h0m3-2.5h0m0.5 1.5h0m-4-4h0m1 4h0m-2.5 0h0m3-2h0m-0.5-0.5h0m2.5 0h0m0 2h0m-6.5-3h0m4 1.5h0m-5.5-3.5h0m1 1h0m-0.5 4.5h0m5-4h0m2.5 2h0m-5.5 1.5h0m0.5-3h0m3.5 4h0m1.5-3.5h0m-6 2.5h0m4.5 2h0m-6.5-4h0m-0.5-2h0m3.5 5h0m2-1h0m-0.5-4.5h0m4.5 5.5h0m0.5-2h0m1 0h0m-0.5 2h0m1.5-1h0m-1-0.5h0m-0.5-1h0m0 2h0m-0.5-3h0m2 3h0m-1.5-0.5h0m0-2h0m0.5 0.5h0m-2 1.5h0m3-1h0m-1.5 0h0m-0.5 1.5h0m0.5 1.5h0m-1-3h0m-1 0.5h0m3.5 1.5h0m-0.5-1h0m-1.5 1h0m-1.5-0.5h0m0 1h0m0.5-3h0m-1 2.5h0m1.5-1.5h0m1 0h0m0 2h0m-0.5-3.5h0m0 3.5h0m-4-0.5h0m0.5-4.5h0m5.5 3h0m-2.5-1.5h0m1.5 2h0m-2.5-3h0m3 2h0m-1-1.5h0m-1.5 4.5h0m2-4h0m0 2.5h0m-3-3.5h0"/><path stroke="#00ffff" d="M273.5 467.5h0m0-3h0m0.5 5.5h0m-0.5-4h0m-0.5-4.5h0m-1-10.5h0m1 12h0m0-2h0m-0.5-2.5h0m0.5 5h0m-0.5-8h0m2 14h0m-1.5-9h0m0.5 2.5h0m-0.5-0.5h0m0-3h0m-0.5-3.5h0m0 3h0m0.5 3h0m-0.5-8h0m0 2.5h0m1 10h0m0.5 2.5h0m0.5 2h0m-2-11.5h0m1 4.5h0m-1-6h0m2 12.5h0m-0.5-1h0m-1.5-12h0m1 7.5h0m0.5 1h0m0-1h0m-0.5 3h0m-1-8h0m-0.5-4.5h0m2 15h0m-1.5-9h0m1 0.5h0m0 0.5h0m-0.5 1.5h0m0 3.5h0m0-3h0m1 2h0m-2-12h0m1 11h0m-0.5-5h0m0-3.5h0m0.5 3h0m-0.5-6.5h0m1.5 13.5h0m-2-13h0m0.5 1h0m1 8.5h0m0.5 4h0m0-3h0m0.5 5.5h0m-0.5-2h0m-1.5-15h0m2 14h0m-1.5-9h0m0 9h0m1.5 1h0m-1.5-3h0m2 5h0m-3-19.5h0m1 8h0m0.5 7h0m-0.5 1h0m1 2h0m0.5 0.5h0m-1-2h0m0-5.5h0m1.5 7h0m-0.5 0h0m-2.5-16.5h0m2.5 15.5h0m-1 1h0m-1.5-17h0"/><path stroke="#0000ff" d="M271.5 416h0m0 13.5h0m0-9h0m0-12.5h0m0-2.5h0m0 13.5h0m0-6.5h0m0 20h0m0 0.5h0m0-23.5h0m0 24.5h0m0-27h0m0 9.5h0m0-5h0m0 11h0m0 18.5h0m0-5h0m0-1h0m0-18h0m0-16.5h0m0-0.5h0m0 14.5h0m0 22.5h0m0-14h0m0-10h0m0 10.5h0m0-14.5h0m0 17.5h0m0-24h0m0 16h0m0-1h0m0 18h0m0-15.5h0m0-2h0m0-7h0m0 14.5h0m0 14.5h0m0-3.5h0m0-22.5h0m0 1.5h0m0-3.5h0m0-10h0m0 19.5h0m0 7h0m0-18h0m0-4h0m0 14.5h0m0 3.5h0m0-0.5h0m0 8h0m0-33h0m0 28h0m0 3.5h0m0-22h0m0 6.5h0m0 4.5h0m0-18.5h0m0 0.5h0m0 3.5h0m0 22.5h0m0 3.5h0m0 7.5h0m0 1h0m0-6h0m0-8.5h0m0 14h0m0 7h0m0.5 3.5h0m-0.5-9h0m0 2.5h0m0-5h0m0 3.5h0m0.5 6.5h0m0-1h0m0-5h0m0 2h0m0 1.5h0m-0.5-8h0m0 4.5h0m0-10.5h0m0.5 14.5h0m-0.5-11.5h0m0-4.5h0m0 14.5h0m0.5 0.5h0m-0.5-2.5h0m0-13.5h0m0-1h0m0-6h0m0.5 25.5h0m-0.5-2.5h0m0-1.5h0m0.5 3h0m0-2h0m0-4h0m-0.5 3.5h0m0.5 6h0m0 2.5h0m0-10h0m0 9.5h0m0-1.5h0m0-1.5h0m0-0.5h0m0 3h0m0-8h0m-0.5 2h0m0.5 8h0m0-2.5h0m0 3h0m0-11h0m0-1.5h0m0 13h0m-0.5-28.5h0m0.5 27h0m-0.5-55.5h0"/><path stroke="#ff00ff" d="M287.5 476h0m1 1h0m-1 1.5h0m1-1h0m-1.5 0h0m0.5-1h0m1.5 0.5h0m-2 0h0m-1-0.5h0m3.5 1h0m-2 0h0m-1 0h0m1 0.5h0m0-1h0m1.5 0.5h0m-2-2h0m2.5 2.5h0m-0.5 0h0m3.5 0.5h0m-0.5 0h0m-1-1h0m0 0.5h0m-2 0.5h0m1 0h0m2.5-1h0m-0.5 0h0m0.5 2h0m1-2.5h0m-0.5-1h0m-3 2h0m2-1h0m0-0.5h0m-0.5 1h0m-1.5-0.5h0m1.5 0h0m0.5 1h0m-2.5 1h0m1.5 0.5h0m-1-0.5h0m3.5-1h0m-0.5-0.5h0m-2-2h0m-3 1h0m2.5 0h0m1-0.5h0m-0.5 3h0m2.5-1.5h0m-2 1h0m-1-1h0m-2 1h0m3.5 1h0m-1-2.5h0m1.5 0h0m-2 1h0m2.5-1h0m1 1h0m0 1h0m1.5-2h0m-1.5-1h0m-1.5 0.5h0m1.5 0h0m0.5 3.5h0m0-2.5h0m-0.5 0h0m0-0.5h0m0.5 0h0m-1-1h0m37.5 4.5h0m51 5.5h0m-22-2.5h0m21 1h0m-57.5-2.5h0m45 3.5h0m28.5 0.5h0m-99-7h0m18 2.5h0m4-1h0m26.5 3h0m-39-3h0m50.5 3h0m-44.5-3.5h0m14 2h0m20 0.5h0m-35-1.5h0m32 0.5h0m-3.5 0.5h0m-30.5-2.5h0m53.5 4.5h0m-45-3.5h0m-24.5-1.5h0m83.5 5.5h0m16.5 1h0m-37.5-1.5h0m-56.5-4.5h0m-3.5-2h0m52.5 5.5h0m-45.5-5h0m11.5 3h0m20 0.5h0m26 1h0m16 1.5h0m-57.5-3h0m14.5 1.5h0m-4-0.5h0m7.5 1h0m41.5 2.5h0m-40-5.5h0m31.5 4h0m-54.5-4.5h0m21 2h0m49.5 3.5h0m-53-2h0m9 0h0m-15-0.5h0m45 3h0m-65-5.5h0m15.5 0.5h0m12.5 0.5h0m19.5 2.5h0m-35.5-2h0m-14.5-3.5h0m17.5 3h0m-9-0.5h0m4.5-1h0m92 7.5h0m-107-7h0m-1-0.5h0m35.5 4h0m44.5 1h0m-63-3h0m94 5.5h0m-45.5-3.5h0m-62.5-2.5h0m40 1.5h0m15 0.5h0m37.5 2h0m-59.5-3h0m0.5 1h0m-9-0.5h0m63 2.5h0m-92-6h0m46.5 5h0m-29.5-4h0m-2 0h0m-16.5-0.5h0m28 1h0m-18-1h0m34 3h0m-15-2h0m37 3h0m-64.5-5h0m10.5 1.5h0m23 1.5h0m28.5 2.5h0m37 2.5h0m-101-8h0m15.5 0.5h0m2 2.5h0m1 0.5h0m-7.5-1.5h0m4.5-0.5h0m77.5 6h0m-79.5-6h0m3 0h0m39.5 3h0m-21.5-2h0m-26.5-2h0m22 3h0m-31-3.5h0m108 8.5h0m-51-3h0m20.5 1h0m4 1h0m-85-7.5h0m84 7.5h0m-49-3.5h0m30 2h0m-40-4h0m9 0.5h0m16 2h0m7 0h0m-27.5-1.5h0m32 1.5h0m-28-2h0m-3.5-0.5h0m65 5h0m-18-0.5h0m-21-1.5h0m-32-2h0m51 3h0m-26-2.5h0m13.5 1h0m-52.5-4.5h0m50 5.5h0m16-0.5h0m-70.5-5h0m83 7.5h0m6-0.5h0m-8.5 1h0m-15.5-3.5h0m12.5 2.5h0m-32.5-4.5h0m35 3.5h0m7 1h0m-33-2.5h0m8.5 0.5h0m-29.5-1.5h0m21.5 1h0m-44-3h0m-4.5-0.5h0m88 5.5h0m-17-0.5h0m-63.5-3.5h0m-8-2.5h0m64 7h0m-12-2.5h0m53.5 3.5h0m-48-4h0m-65-5h0m78.5 8h0m-27.5-2h0m-20-2h0m-4-0.5h0m-4-0.5h0m-15.5-0.5h0m-0.5-1h0m90.5 6h0m-36.5-0.5h0m-1-1.5h0m-63-5.5h0m75.5 7h0m-51-1.5h0m6-2h0m11.5 2.5h0m28.5 0.5h0m27 3h0m-95.5-8h0m103 6.5h0m-101.5-5.5h0m101.5 7.5h0m-77.5-6h0m37.5 3h0m-57.5-5.5h0m57 5h0m-42.5-3.5h0m-17.5-2h0m66.5 4.5h0m-32-1.5h0m22.5 2h0m35.5 2h0m-9 2h0m-62-6.5h0m38.5 1.5h0m-54-2h0m23-1h0m3.5 2.5h0m49.5 3.5h0m-33-2h0m-1.5 0h0m19 0.5h0m35.5 3h0m-34-3h0m43.5 3.5h0m-110.5-9.5h0m11.5 2.5h0m5.5 0h0m55.5 4.5h0m-21.5-2.5h0m-43-3h0m92 6.5h0m-72.5-6h0m22 3h0m-55-4.5h0m79 6.5h0m-24-1.5h0m-2-2h0m1.5 0h0m29 3.5h0m5.5-0.5h0m-67-4.5h0m103.5 10h0m-62.5-6h0m-41.5-3h0m82.5 6h0m-80.5-6.5h0m54 3.5h0m-23.5 0h0m-41.5-4.5h0m30.5 2h0m-36-2.5h0m38 4.5h0m28 1h0m-2 0.5h0m-60.5-6h0m36.5 2.5h0m-35.5-2.5h0m-7.5 0.5h0m9 0h0m71 6h0m-69.5-7h0m-1.5 0.5h0m55 6.5h0m31 0h0m-73.5-5.5h0m-21.5-1h0m24.5 2h0m-24 0h0m65.5 2.5h0m-38.5-2h0m31.5 1h0m4.5 1.5h0m-3.5-1h0m3.5 0h0m-4.5 1.5h0m-43-3h0m42.5 2h0m-15.5-1.5h0m-45-3.5h0m36.5 3h0m-26-1.5h0m85 6.5h0m-42-3.5h0m-54.5-5.5h0m14.5 1.5h0m-4 0.5h0m76.5 5.5h0m-0.5 0h0m-64.5-3h0m66 3.5h0m27.5 1.5h0m-87.5-6.5h0m57 4.5h0m-41-2.5h0m-6-0.5h0m-25.5-2h0m24 2.5h0m19.5-1h0m-5.5 1.5h0m44.5 2.5h0m-75-4.5h0m6.5 0h0m43.5 3.5h0m-45.5-3h0m0-1h0m6 0h0m-2.5-0.5h0m23 2.5h0m-34.5-2h0m70.5 5h0m-22.5-2h0m-20.5-1.5h0m-18-1.5h0m97.5 8h0m-121-10.5h0m102.5 9.5h0m-98-9h0m-5.5 0h0m14 2h0m1.5-1h0m74 6.5h0m-77.5-6h0m17 2.5h0m67.5 3.5h0m-92.5-7.5h0m13 1h0m53 4h0m-73-5.5h0m18.5 2h0m11.5 1.5h0m34.5 2.5h0m-6.5-0.5h0m-10-1.5h0m-6 0.5h0m42.5 4h0m-63.5-6h0m-14.5-2.5h0m60.5 6.5h0m-44-3.5h0m-7.5 0.5h0m69.5 2h0m6.5 2.5h0m-69.5-6h0m57 3.5h0m-34-1h0m9.5 0h0m-5.5 1h0m41.5 1h0m-54-3.5h0m30 2.5h0m27.5 2.5h0m-32.5-2.5h0m4-0.5h0m5.5 1.5h0m-23.5-1.5h0m-30-4h0m40.5 3h0m-12 1.5h0m-44.5-5.5h0m34.5 3.5h0m17.5 2h0m-48.5-6h0m67.5 6.5h0m-36-1h0m-33.5-3.5h0m80 3.5h0m-35.5-0.5h0m-49.5-4.5h0m34 3h0m63 4h0m-66.5-2h0m53 1h0m-54.5-2h0m54 4.5h0m-34.5-4h0m10 0.5h0m67 5.5h0m-89-7.5h0m39.5 3.5h0m-72-6h0m47 2.5h0m-7 1h0m-31.5-2.5h0m5 0.5h0m7.5 0h0m28.5 3h0m12.5-0.5h0m-34-3h0m-25-0.5h0m13 0.5h0m-12.5 0.5h0m22.5 0.5h0m39 4.5h0m-45.5-5.5h0m80 6h0m-51.5-1.5h0m6.5-0.5h0m-12.5 0h0m10.5-2h0m30 2.5h0m6 1h0m-54-2.5h0m-16-2.5h0m107 7.5h0m-49-4.5h0m-20.5-0.5h0m-44-3.5h0m21 2.5h0m-24.5-3h0m36.5 4h0m-9-0.5h0m25 2.5h0m-6.5-0.5h0m3.5-0.5h0m-30-1.5h0m-15.5-1.5h0m78.5 6h0m-15.5-2h0m-77-6.5h0m65.5 6.5h0m53 3.5h0m-65.5-5.5h0m19 2.5h0m-63-7.5h0m0 1.5h0m24 2.5h0m-32-2h0m-0.5-0.5h0m36.5 3.5h0m-24-1.5h0m31 0.5h0m1.5 0h0m1 1.5h0m28.5 2h0m-43.5-5h0m-7.5 1h0m27.5 1h0m18.5 2h0m25.5 1h0m-69.5-3h0m-22-4h0m10.5 0h0m32 3h0m75.5 7.5h0m-117.5-10.5h0m77.5 7h0m-9.5-0.5h0m-45.5-5h0m26 3.5h0m-25-1h0m-3.5 0h0m57 1.5h0m27.5 1.5h0m-56.5-3.5h0m-6 0.5h0m32.5 3.5h0m-57.5-3.5h0m53.5 1.5h0m25.5 2.5h0m-81-5.5h0m48.5 4h0m-16-2.5h0m-28.5-1h0m17 0h0m49 4.5h0m-48-2.5h0m41.5 2h0m-35.5-2h0m-21-1.5h0m56.5 4h0m-13.5-2h0m4 0h0m-66-7h0m6.5 3h0m-12.5-2h0m71.5 7.5h0m-57-5.5h0m61 5.5h0m-49-3.5h0m33.5 1.5h0m-64-4h0m44.5 2.5h0m61 5.5h0m-82.5-7.5h0m93 7h0m-94.5-6.5h0m90 7h0m-55-5h0m-17.5 0.5h0m26 0h0m-15-1.5h0m21 3.5h0m21.5 1.5h0m-80.5-6.5h0m41 1.5h0m-14 1h0m-33-3.5h0m99.5 7.5h0m-67.5-5.5h0m36 5h0m-54.5-5.5h0m79.5 5h0m11.5 2h0m-8-0.5h0m-21.5-1.5h0m1-1.5h0m-43.5-1.5h0m-26.5-3h0m29 4h0m8 0.5h0m3 0h0m-40.5-4h0m92 7h0m-103-7h0m61 1.5h0m28 4.5h0m-86-6.5h0m70.5 4.5h0m-67.5-6.5h0m38.5 5.5h0m-26-3h0m105 8h0m-61-5h0m-23.5-1h0m-5 0h0m51.5 3h0m-52.5-2h0m7.5-2h0m52.5 5h0m-51-3.5h0m-23.5-1h0m45.5 2.5h0m-10-0.5h0m23.5 1h0m-59.5-5.5h0m14 3h0m58.5 3.5h0m-62-4h0m24.5 1h0m-42.5-3.5h0m55.5 5h0m23.5 2h0m41 3h0m-88-5.5h0m80 3.5h0m-70-5h0m-30.5-0.5h0m-5.5-2h0m103 7.5h0m-15-2h0m-67.5-4.5h0m-17.5-1h0m6 1h0m-16.5-2.5h0m115.5 10h0m-71-3.5h0m1-2h0m-25.5-0.5h0m-23.5-4h0m23 3h0m0.5-0.5h0m26.5 4h0m-0.5 0h0m4.5-1h0m-28-2h0m10.5 0.5h0m16 3h0m-26-2h0m-2.5-2.5h0m66 6.5h0m31 1.5h0m-113.5-9h0m45.5 5h0m-54-6h0m77.5 7h0m-6.5-1h0m-68.5-6.5h0m120 11h0m-25-3.5h0m-56-2.5h0m-45.5-3h0m39.5 2h0m-11-3h0m5 2.5h0m-15.5-2h0m115 9h0m-107.5-6.5h0m34 1h0m-9 0.5h0m-8-0.5h0m19 1h0m8 0h0m-41-2.5h0m-24-3h0m92.5 7.5h0m-34.5-1.5h0m2.5 0.5h0m7 1h0m46 2.5h0m-107.5-8h0m4 0.5h0m65 3h0m20.5 3h0m-38-2.5h0m-10.5-1.5h0m-46-5h0m100.5 9h0m-106.5-8h0m17.5 2h0m73.5 5.5h0m34 1h0m-6.5 2h0m-14.5-3.5h0m-36.5-3h0m-26.5-1.5h0m-4.5-0.5h0m13 1h0m29 3h0m-50.5-3h0m50 1h0m-2.5 2.5h0m-19-1.5h0m-33.5-3h0m30.5 1h0m7.5 1h0m-28-2h0m76.5 5.5h0m-79.5-5.5h0m-23-1h0m0.5-0.5h0m-1.5 1h0m92.5 7h0m-75-6.5h0m6 2.5h0m77.5 3h0m-97-7h0m10 1.5h0m58 4.5h0m3.5-1h0m2 0h0m-5.5 0.5h0m10.5 0.5h0m-23-1.5h0m23.5 1.5h0m-77.5-5h0m4.5 0h0m43 2.5h0m-3.5-0.5h0m12 3h0m-7.5-2h0m26 3h0m-7-2.5h0m-39.5 0.5h0m-17.5-4.5h0m56 3.5h0m-6.5 1h0m-25.5-2h0m-25.5-1.5h0m79 5h0m29.5 1.5h0m-122-9h0m33.5 4h0m72.5 3.5h0m-69-3.5h0m-26-2h0m75.5 6h0m10.5 1h0m-5-2h0m-88.5-6h0m-1-0.5h0m95 8h0m-38-1.5h0m-9-1h0m35 1.5h0m21.5 2h0m-89-7h0m7.5-1h0m87 8h0m-59.5-3.5h0m26-0.5h0m-46.5-2h0m-25.5-2h0m20.5 2h0m1.5 1h0m57.5 4h0m-61-4h0m-13.5-3h0m47.5 4h0m-30.5-3h0m-34.5-1h0m105 8.5h0m-37-2.5h0m35 0.5h0m29.5 4h0m-119.5-11h0m-8 1h0m57 4h0m-39.5-3h0m49.5 3.5h0m-46-3.5h0m54.5 2.5h0m30.5 5h0m-66-7h0m-2.5-0.5h0m70.5 4.5h0m-84.5-5.5h0m-8.5 1h0m27.5 3h0m0.5-1.5h0m-35.5-4h0m26 2.5h0m50.5 3h0m9 2h0m-89.5-6.5h0m37.5 2.5h0m23.5 1.5h0m38.5 3h0m-105-9h0m108.5 9h0m-44-2h0m47 1h0m-79-4.5h0m-34.5-3.5h0m20 1.5h0m71 6.5h0m-37.5-2.5h0m-24-1h0m45.5 3h0m-53-3.5h0m6 0h0m85 6h0m-97.5-8.5h0m20 2.5h0m7 1h0m0.5 0h0m-30.5-4h0m42.5 3.5h0m-32.5-1h0m12.5 2h0m64 3h0m3-0.5h0m-63-4.5h0m-25-0.5h0m34 2.5h0m-7.5 0.5h0m-27.5-3h0m-3-1h0m100.5 6.5h0m-25-2h0m-80-4.5h0m-5-1h0m32 2h0m-16 0.5h0m-10-1h0m88 5.5h0m-51.5-2.5h0m-5 1.5h0m7-2h0m36.5 1.5h0m-49.5-3h0m-22.5-1h0m71.5 2.5h0m-83-4h0m56.5 3h0m-44-1.5h0m61 4.5h0m43 1h0m-19 1.5h0m-83.5-6h0m104.5 6h0m-44-3h0m-16-0.5h0m-15-1h0m-32-2h0m98.5 7h0m-35-5h0m0.5 1.5h0m19.5 0h0m-41.5 0h0m17.5-1.5h0m-20-0.5h0m40 4h0m-54-5h0m21 2.5h0m33 1.5h0m-82.5-6.5h0m83 7h0m-9.5 2h0m-4.5-4h0m-26.5-3h0m21.5 1.5h0m-59.5-1h0m81.5 5.5h0m6 0h0m-86.5-8h0m63 7h0m-0.5-1.5h0m-64-3.5h0m87.5 5h0m-79.5-4h0m89.5 5h0m18.5 2h0m-125.5-10.5h0m49 4h0m15 2h0m34 2.5h0m-93-7h0m2.5-1h0m57 5.5h0m-19.5-2.5h0m-39.5-2h0m51 4h0m-49.5-5.5h0m40.5 4.5h0m-11.5-2h0m-13.5 1.5h0m15.5 1h0m-12.5-1h0m42 2.5h0m-46-3h0m-16.5-1.5h0m97.5 5.5h0m-53.5-2h0m-44-4.5h0m1.5 2h0m96 5.5h0m-7 0h0m6 1h0m-28.5-4.5h0m-59.5-3.5h0m34 4h0m16 0.5h0m-15-2h0m29 2.5h0m-38.5-2h0m67.5 5h0m-39.5-4h0m29.5 2.5h0m32 2h0m-82-5.5h0m-13 0.5h0m-29.5-4.5h0m88.5 8h0m18.5 0.5h0m-52-4h0m47 5h0m-73-6h0m49.5 3h0m-49-3.5h0m24 2.5h0m-18.5-2h0m25.5 1h0m-37-2h0m24 1h0m-34-1h0m59.5 4.5h0m-41.5-4.5h0m42.5 4h0m-33.5-3.5h0m-34-1.5h0m57 3h0m-67.5-3.5h0m77 5h0m-42-4h0m8.5 0.5h0m-42.5-2h0m72.5 6.5h0m-66.5-5h0m-3.5-1.5h0m61.5 4.5h0m-41.5-3.5h0m14.5 2h0m41.5 2.5h0m41 2.5h0m-74-5.5h0m-15.5 1h0m56.5 2.5h0m-36.5-2h0m27 1.5h0m16 1.5h0m-54.5-4.5h0m84.5 5.5h0m-114-7h0m117 8h0m-39-3.5h0m-11 1.5h0m-11.5-2h0m63.5 5.5h0m-115.5-11h0m37.5 5h0m45.5 3h0m-39.5-3.5h0m-34-3h0m62.5 7h0m-46.5-6.5h0m58 4h0m-92-6.5h0m90 6.5h0m-41.5-2.5h0m-10.5 0h0m66 4.5h0m-35.5-2h0m-58.5-3h0m51 3.5h0m-25-4.5h0m-20.5 1h0m-20.5-4.5h0m70.5 6h0m54 5h0m-15.5-2h0m-53-2h0m-26.5-2h0m46.5 1.5h0m-77.5-6.5h0m24 3h0m-3-1h0m101.5 9h0m-53-2.5h0m47.5 2h0m4-0.5h0m-81-6.5h0m13.5 2.5h0m-27-3.5h0m66 5h0m29.5 2h0m3 1h0m-46-1.5h0m-53.5-4h0m90.5 4h0m-51.5-3h0m0.5-0.5h0m16 2.5h0m4 0h0m-53.5-3h0m-16.5-1h0m18 1h0m48 3.5h0m-79-7.5h0m110.5 9.5h0m-9-1h0m11.5 0.5h0m-114.5-7h0m50.5 1.5h0m3.5 2.5h0m-52-7h0m107 9.5h0m-37.5-1h0m-33-2h0m-21.5-2h0m40.5 0h0m61 6.5h0m-89.5-5h0m-17.5-2.5h0m62 5.5h0m21.5 0.5h0m-36.5-3h0m5.5 2h0m-65.5-6h0m50 2h0m-10 1h0m-42.5-4.5h0m14.5 0.5h0m43.5 4h0m26.5 3.5h0m-27-1.5h0m4.5-2.5h0m34 4h0m-8.5-1.5h0m-80.5-5.5h0m42.5 4h0m-45.5-4.5h0m77 6.5h0m-49-2h0m73.5 1.5h0m-96.5-7h0m17 2h0m6.5 0h0m44.5 6.5h0m9-1h0m-2.5 0.5h0m42 2h0m-88.5-5.5h0m32 3.5h0m5.5-2h0m9 0.5h0m-40-1.5h0m-9.5 0.5h0m49.5 0h0m25 2h0m-33-1.5h0m-71.5-5.5h0m59.5 4h0m11.5 2h0m-30-3h0m14 1.5h0m35.5 1.5h0m-30.5 0.5h0m-10.5-1.5h0m5 1h0m8.5 0h0m-38.5-2h0m5.5-0.5h0m26 0.5h0m-1.5 0.5h0m55.5 4.5h0m-38-2h0m-31-3.5h0m27 3.5h0m45.5 1.5h0m-83.5-4.5h0m55 2.5h0m15 2h0m-58-5.5h0m69.5 6h0m-67-4h0m-1.5-1.5h0m63 4h0m-5 0.5h0m-44.5-2h0m52 2.5h0m-66.5-4.5h0m23.5 2.5h0m-2.5-1.5h0m43.5 3h0m-98-5.5h0m84 5.5h0m-2.5 0h0m-41.5-4h0m-10.5 0.5h0"/></g><text x="271.2" y="520.0" text-anchor="middle">0</text><text x="307.4" y="520.0" text-anchor="middle">50</text><text x="343.6" y="520.0" text-anchor="middle">100</text><text x="379.8" y="520.0" text-anchor="middle">150</text><text x="416.0" y="520.0" text-anchor="middle">200</text><text x="260.7" y="511.4" text-anchor="end">-10</text><text x="260.7" y="486.6" text-anchor="end">0</text><text x="260.7" y="461.8" text-anchor="end">10</text><text x="260.7" y="437.0" text-anchor="end">20</text><text x="260.7" y="412.2" text-anchor="end">30</text><text x="260.7" y="387.4" text-anchor="end">40</text></g><text x="352.0" y="531.0" text-anchor="middle" style='font-family:"Liberation Serif",serif;font-weight:bold;font-size:9.9px;letter-spacing:-0.3px'>V1</text><text transform="translate(245.0 446.2) rotate(-90)" text-anchor="middle" style='font-family:"Liberation Serif",serif;font-weight:bold;font-size:9.9px'>V3</text><text x="352.0" y="381.7" text-anchor="middle" style='font-family:"Liberation Serif",serif;font-weight:bold;font-size:9.6px;letter-spacing:-0.3px'>GMM</text><g style='font-family:"Liberation Serif",serif;font-weight:bold;font-size:8.1px'><rect x="402.4" y="387.3" width="32.1" height="56.0" fill="#fff" stroke="#5a5a5a" stroke-width="0.9"/><circle cx="415.6" cy="393.1" r="0.7" fill="#ff0000"/><text x="427.6" y="395.8">1</text><circle cx="415.6" cy="402.1" r="0.7" fill="#ffff00"/><text x="427.6" y="404.8">2</text><circle cx="415.6" cy="411.2" r="0.7" fill="#00ff00"/><text x="427.6" y="413.9">3</text><circle cx="415.6" cy="420.2" r="0.7" fill="#00ffff"/><text x="427.6" y="422.9">4</text><circle cx="415.6" cy="429.3" r="0.7" fill="#0000ff"/><text x="427.6" y="432.0">5</text><circle cx="415.6" cy="438.3" r="0.7" fill="#ff00ff"/><text x="427.6" y="441.0">6</text></g><g style='font-family:"Liberation Serif",serif;font-weight:bold;font-size:8.6px'><path d="M504.2 508.2v-2M504.2 384.2v2M540.4 508.2v-2M540.4 384.2v2M576.6 508.2v-2M576.6 384.2v2M612.8 508.2v-2M612.8 384.2v2M649.0 508.2v-2M649.0 384.2v2M496.7 508.2h2M673.4 508.2h-2M496.7 487.4h2M673.4 487.4h-2M496.7 466.5h2M673.4 466.5h-2M496.7 445.7h2M673.4 445.7h-2M496.7 424.8h2M673.4 424.8h-2M496.7 404.0h2M673.4 404.0h-2" stroke="#7f7f7f" stroke-width="0.8" fill="none"/><rect x="496.7" y="384.2" width="176.7" height="124.0" fill="none" stroke="#7f7f7f" stroke-width="1"/><g fill="none" stroke-linecap="round" stroke-width="1.4"><path stroke="#ff0000" d="M507.5 504h0m1 1.5h0m-2.5-4.5h0m0.5 2h0m0.5 0h0m1.5 1.5h0m-0.5-1h0m-1 0h0m-0.5-1.5h0m2 1.5h0m0 0.5h0m-2-2.5h0m2.5 3h0m-0.5 0.5h0m-0.5-3h0m-0.5 2.5h0m-1.5-4h0m0-1h0m2 3.5h0m2.5 2h0m-1-2h0m-0.5 1h0m-1 0.5h0m0-0.5h0m-1 0.5h0m0-0.5h0m0.5-2h0m-0.5 0h0m0.5 3h0m1-2.5h0m-1.5 0h0m0.5 1h0m0-1h0m0.5 2.5h0m-1.5-5h0m1 3h0m1.5 0.5h0m-3-1.5h0m1-0.5h0m0-1h0m-0.5 0.5h0m2 2h0m1 1h0m-1.5-1.5h0m1 3h0m-2.5-3h0m-0.5-3.5h0m1 6h0m-0.5-4.5h0m-0.5-2h0m4.5 5h0m-2-2h0m-2 2h0m3 1.5h0m-0.5 0h0m0.5-0.5h0m0.5-0.5h0m-3.5 0h0m-0.5-2.5h0m3.5 2h0m-2-2h0m2.5 3h0m-3.5 0h0m4.5 0h0m-1.5-2.5h0m-2.5-1h0m-1-1h0m3.5 5.5h0m1.5-0.5h0m0-1h0"/><path stroke="#ffff00" d="M505 485h0m0 3h0m0-5.5h0m0 3.5h0m0 0.5h0m0-4.5h0m0 2.5h0m0-0.5h0m0-1h0m0.5 2.5h0m-0.5 0h0m0 1.5h0m0.5-1h0m0 5.5h0m0-2h0m0-3h0m-0.5-3h0m0.5 5.5h0m0-0.5h0m0 4h0m-0.5-4h0m0.5 1.5h0m-0.5-8.5h0m0 7.5h0m0 0.5h0m0.5 1h0m0-5.5h0m0 10h0m0-2h0m0-2h0m-0.5-3.5h0m0 3.5h0m0 3h0m0.5-9.5h0m-0.5 6h0m-0.5-15.5h0m0.5 15h0m1 3.5h0m0 1h0m-0.5-7.5h0m0 6.5h0m0-1.5h0m0.5 2h0m-1-2h0m-0.5-15h0m0 1.5h0m0.5-0.5h0m0.5 17.5h0m0-7.5h0m-1-9h0m0.5-2h0m0 16.5h0m0.5 0.5h0m0.5-2h0m-1-0.5h0m-0.5-11.5h0m0-2.5h0m0-5h0m1.5 22.5h0m-1-15h0m-0.5-0.5h0"/><path stroke="#00ff00" d="M509.5 506h0m-2-0.5h0m1.5-0.5h0m1.5 0.5h0m0.5 0h0m-1.5-1h0m2.5 0h0m-0.5 0.5h0m2.5 1h0m-6.5 0h0m4 0.5h0m-2.5-0.5h0m5-1h0m-3.5 0h0m0 1h0m1 0h0m-2.5-0.5h0m1 0.5h0m3-0.5h0m-3-1h0m0 1h0m2 1.5h0m-3.5-2h0m0-0.5h0m-0.5 0.5h0m3 1h0m-3.5-1h0m2 1.5h0m1.5-1.5h0m-1.5 0h0m-1 1h0m1-0.5h0m3 0h0m0 0.5h0m-2.5-1h0m-2 0.5h0m5 1h0m-5.5 0h0m6.5 0h0m-2.5-1h0m-1.5 1h0m2.5-1.5h0m-0.5 0h0m0 0.5h0m1 0.5h0m-4.5-0.5h0m3-1h0m2 2.5h0m-2.5-0.5h0m5.5 0h0m0.5 0h0m-9-2h0m5.5 3h0m1.5-2h0m-0.5 1h0m5-0.5h0m-1 1h0m-2-1.5h0m-1 1h0m-3 0h0m5-0.5h0m-3 1h0m-1-0.5h0m2.5 0.5h0m-2-1.5h0m6 1.5h0m-4 0.5h0m3-1h0m-8.5 0h0m9 0h0m-7.5-0.5h0m2.5 0h0m-6 0.5h0m6.5 0h0m-1 0.5h0m4-1.5h0m-5 1.5h0m3.5-1h0m-1-0.5h0m-3 1.5h0m5.5 0h0m1 0h0m-3.5 0h0m4 0.5h0m-3-0.5h0m-4.5-0.5h0m5.5 0h0m-4.5-1.5h0m6 2.5h0m-3-1.5h0m1.5 1h0m1-0.5h0m-1.5 0.5h0m-1.5-1h0m-2 0h0m7 0.5h0m-3.5-0.5h0m-2 0h0m0 1h0m-2.5 0.5h0m5.5 0h0m-9-1h0m7.5 1h0m-3-2h0m4.5 1h0m-2-1h0m-5.5 1.5h0m0.5 0h0m4.5-2h0m0.5 1.5h0m-6 0.5h0m9.5 0h0m-6.5 0.5h0m5.5 0h0m1.5 0h0m0-1h0m-1.5-0.5h0m1 2h0m1.5-1h0m-2 1h0m2-0.5h0m2.5-0.5h0m-3 0h0m1.5-0.5h0m-1 0h0m1 0.5h0m0 0.5h0m2 0h0m-1.5 0h0m1 0h0m1 0h0m-3-1h0m-6 1h0m6-0.5h0m0 0.5h0m1-0.5h0m1.5 0h0m0.5 0h0m-4 0.5h0m-3 0h0m-0.5 0h0m6 0h0m-5.5 0.5h0m4.5 0h0m0.5-1.5h0m-2.5 1.5h0m3-1h0m-5 1h0m5-1.5h0m-2.5-0.5h0m-6 1.5h0m7 0.5h0m-7.5-0.5h0m10 0.5h0m1.5-0.5h0m-0.5 0h0m1.5 0h0m-1-0.5h0m-0.5-0.5h0m1.5 0.5h0m-1.5 0h0m0 1h0m1-0.5h0m-3 0.5h0m-0.5 0h0m2 0h0m0-1.5h0m-1 1.5h0m-3 0h0m5.5-1h0m-0.5-0.5h0"/><path stroke="#00ffff" d="M506.5 501.5h0m0-3h0m0.5 4h0m-0.5-3.5h0m-0.5-1.5h0m-1-8.5h0m1 8h0m-0.5-2h0m0.5 4h0m-0.5-6h0m2 9h0m-1.5-5.5h0m0.5 0.5h0m-0.5-1.5h0m-0.5 0.5h0m0-3.5h0m0 4h0m1 4h0m-1-6.5h0m1 5.5h0m0.5 2h0m0.5 2h0m-1-2.5h0m0-3h0m-1-3.5h0m0.5 4h0m0.5 1.5h0m1 2.5h0m-0.5-3h0m-0.5-3h0m0.5 1.5h0m-1 1.5h0m-0.5-4h0m-0.5-1h0m0.5 2.5h0m1 0.5h0m-0.5 0.5h0m0 3.5h0m0-5.5h0m0 4h0m1 1h0m-2-8h0m1 7.5h0m-0.5-9h0m1 10.5h0m0.5-2h0m-1.5-6.5h0m-0.5-1h0m1 2h0m-0.5 3h0m2 5.5h0m-0.5-1h0m0.5-1h0m-1 2h0m0-0.5h0m-0.5-0.5h0m1.5-0.5h0m-1.5-0.5h0m2 1.5h0m-1 0.5h0m-1.5-5h0m-0.5-8.5h0m3 12h0m-3-10.5h0m0.5 8h0m0-0.5h0m-0.5-7h0"/><path stroke="#0000ff" d="M504.5 427.5h0m0 25h0m0-16.5h0m0-26h0m0-6h0m0 29.5h0m0-18.5h0m0 41h0m0 0.5h0m0-45h0m0 15h0m0 23h0m0-31.5h0m0 23h0m0 26.5h0m0-5.5h0m0-22h0m0 17.5h0m0-29h0m0-28h0m0 30.5h0m0-38.5h0m0-6h0m0 42.5h0m0 30.5h0m0-37h0m0 15.5h0m0 10h0m0-58.5h0m0 42.5h0m0-7h0m0 36h0m0-42.5h0m0 16.5h0m0 2.5h0m0-17.5h0m0 27.5h0m0 17h0m0-4h0m0-65.5h0m0 27h0m0 8h0m0-6.5h0m0 13h0m0 2.5h0m0 3h0m0-43h0m0 48h0m0-53.5h0m0 61.5h0m0-15.5h0m0-34h0m0-1h0m0 3.5h0m0 5.5h0m0 13.5h0m0 2.5h0m0 7.5h0m0 7h0m0-5.5h0m0-4.5h0m0 18h0m0-63.5h0m0 65.5h0m0-0.5h0m0 5h0m0-7.5h0m0-35h0m0 14.5h0m0-19.5h0m0 14.5h0m0-28.5h0m0 47.5h0m0 24h0m0-1.5h0m0-18h0m0 22.5h0m0-12.5h0m0 10h0m0-7.5h0m0 3.5h0m0 13h0m0.5 2h0m-0.5-27h0m0 13.5h0m0-16.5h0m0 20h0m0-15.5h0m0 9h0m0-17h0m0 19.5h0m0-3h0m0 5h0m0.5 10h0m-0.5-5.5h0m0.5 5h0m0-4.5h0m-0.5-30.5h0m0.5 31h0m-0.5-11h0m0.5 12.5h0m-0.5-9.5h0m0-17h0m0 25.5h0m0-16h0m0 14h0m0-8h0m0-7h0m0.5 19h0m-0.5-6.5h0m0-9.5h0m0.5 19.5h0m-0.5-45h0m0 11h0m0 25h0m0-24.5h0m0 28.5h0m0.5 1h0m-0.5-32h0m0.5 30.5h0m-0.5 1.5h0m0-24h0m0.5 25h0m-0.5-5.5h0m0.5 3.5h0m0-4.5h0m-0.5-25h0m0.5 22h0m-0.5 6h0m0.5 8.5h0m0-10h0m-0.5-16h0m0.5 25h0m-0.5-4.5h0m0.5 9.5h0m0-6.5h0m0 5h0m0-1.5h0m-0.5-9h0m0.5 11.5h0m0-8h0m0-4.5h0m0 10.5h0m-0.5-42.5h0m0.5 40.5h0m0 2.5h0m0-5h0m-0.5-3.5h0m0 2h0m0.5 9.5h0m-0.5-7h0m0-2h0m0.5 4.5h0m-0.5-1h0m0-2.5h0m0.5-7.5h0m0 1h0m0 14h0m0-1.5h0m-0.5-34h0m0 26h0m0 2.5h0m0 1h0m0-95.5h0m0 2.5h0m0 5h0"/><path stroke="#ff00ff" d="M520.5 506.5h0m1 0.5h0m-1 0.5h0m-0.5-0.5h0m2-0.5h0m-2 0h0m-1 0h0m3.5 0.5h0m-2 0h0m-1 0h0m2.5 0h0m-2-1h0m5.5 1.5h0m-0.5 0h0m-1-0.5h0m0 0.5h0m-2 0h0m1 0h0m2.5-0.5h0m-0.5 0h0m0.5 1h0m1-1h0m-4 0.5h0m3.5-1h0m-1 0h0m-0.5 0.5h0m-1.5 0h0m3 0h0m-2-0.5h0m-3 0.5h0m2.5 0h0m1-0.5h0m0 1h0m-3 0h0m2 0h0m3.5-0.5h0m0 0.5h0m1.5-0.5h0m-1.5-0.5h0m0.5 1h0m0-0.5h0m-2-0.5h0m2 0h0m-1 0h0m37.5 1h0m51 0.5h0m-22-0.5h0m21 0.5h0m-57.5 0h0m45 0h0m28.5 0h0m-99-0.5h0m18 0.5h0m4 0h0m26.5 0h0m-39 0h0m50.5 0h0m-44.5-0.5h0m14 0.5h0m20-0.5h0m-35 0.5h0m32 0h0m-3.5 0h0m-30.5-0.5h0m53.5 0.5h0m-45-0.5h0m59 0h0m16.5 0h0m-37.5 0.5h0m-56.5-0.5h0m-3.5-0.5h0m52.5 1h0m-45.5-0.5h0m11.5 0.5h0m20 0h0m26 0h0m16 0h0m-43 0h0m-4 0h0m7.5 0h0m41.5 0h0m-40 0h0m31.5 0h0m-54.5-0.5h0m21 0.5h0m49.5 0h0m-53 0h0m9 0h0m-15 0h0m45-0.5h0m-65 0.5h0m15.5-1h0m12.5 1h0m19.5 0h0m-50-0.5h0m17.5 0.5h0m-9 0h0m4.5-0.5h0m92 0h0m-107 0.5h0m-1-0.5h0m80 0.5h0m-63 0h0m94 0h0m-45.5 0h0m-22.5-0.5h0m15 0.5h0m37.5 0h0m-59.5 0h0m0.5 0h0m-9 0h0m63 0h0m-92-0.5h0m46.5 0.5h0m-29.5-0.5h0m-2 0h0m-16.5 0.5h0m10-0.5h0m34 0.5h0m-15 0h0m37 0h0m-54 0h0m23-0.5h0m28.5 0.5h0m37 0h0m-101-0.5h0m15.5 0h0m2 0.5h0m1 0h0m-7.5 0h0m82 0h0m-79.5-0.5h0m3 0h0m39.5 0.5h0m-21.5 0h0m-26.5-0.5h0m22 0.5h0m77-0.5h0m-30.5 0.5h0m3 0h0m-49 0h0m30 0h0m-8 0h0m-27.5-0.5h0m32 0.5h0m-31.5 0h0m65-0.5h0m-18 0.5h0m-21 0h0m-32 0h0m51 0h0m-65-0.5h0m50 0.5h0m16 0h0m-70.5-0.5h0m83 0.5h0m6 0h0m-8.5 0h0m-15.5 0h0m12.5-0.5h0m-32.5 0h0m35 0.5h0m-26 0h0m8.5 0h0m-29.5 0h0m-2.5-0.5h0m-24.5 0.5h0m88 0h0m-17 0h0m-63.5 0h0m44 0h0m53.5 0h0m-34.5 0h0m-27.5-0.5h0m-24 0.5h0m-4 0h0m-16-0.5h0m90.5 0h0m-36.5 0.5h0m-64-1h0m30.5 1h0m11.5 0h0m55.5 0h0m-95.5-0.5h0m1.5 0h0m101.5 0h0m-77.5 0.5h0m37.5 0h0m-43 0h0m-17.5-1h0m66.5 1h0m-32-0.5h0m22.5 0.5h0m26.5-1h0m-77.5 1h0m23-0.5h0m3.5 0.5h0m49.5-0.5h0m-33 0.5h0m-1.5 0h0m54.5 0h0m-34 0h0m43.5-1h0m-99 1h0m61 0h0m-64.5-0.5h0m92 0h0m-50.5 0.5h0m-55-0.5h0m79 0h0m-26 0h0m30.5 0h0m5.5 0h0m-67 0h0m103.5-0.5h0m-21.5 1h0m-26.5 0h0m-23.5 0h0m-41.5-0.5h0m-5.5 0h0m38 0.5h0m26-0.5h0m-60.5-0.5h0m36.5 1h0m-35.5-0.5h0m16 0h0m-12 0.5h0m-2.5-0.5h0m71 0.5h0m-16.5-0.5h0m0.5 0h0m31 0h0m-73.5 0.5h0m3-0.5h0m3 0.5h0m60.5-0.5h0m-43.5 0h0m-28.5 0.5h0m-19-1h0m22 1h0m66 0h0m27.5 0h0m-87.5 0h0m57-0.5h0m-48.5 0.5h0m19.5 0h0m39 0h0m-85-0.5h0m77 0h0m-61 0.5h0m97.5-0.5h0m-121-0.5h0m102.5 0.5h0m-98 0h0m-5.5 0h0m15.5 0h0m84 0h0m-95.5 0h0m11.5 0.5h0m39.5 0h0m-10 0h0m-6 0h0m-15.5-0.5h0m-17.5 0h0m82.5 0.5h0m-68.5-0.5h0m56 0.5h0m11.5 0h0m-24 0h0m27.5-0.5h0m-76.5 0h0m-12.5 0h0m41 0.5h0m-44.5-0.5h0m52 0.5h0m19 0h0m-36 0h0m-11.5-0.5h0m7 0h0m63 0.5h0m-66.5-0.5h0m53 0.5h0m-54.5 0h0m29.5 0h0m67-0.5h0m-121.5 0h0m40 0h0m77 0h0m-67.5 0.5h0m12.5 0h0m-34-0.5h0m-24.5 0.5h0m96 0h0m-17-0.5h0m43 0h0m-117-0.5h0m36.5 1h0m-32.5 0h0m78.5-0.5h0m-15.5 0.5h0m41.5-1h0m-109.5 0h0m24 0.5h0m-32 0.5h0m-0.5-0.5h0m7-0.5h0m67.5 1h0m-51 0h0m71.5 0h0m-81-1h0m107.5 0h0m-40 0.5h0m-55 0h0m49 0h0m33 0.5h0m-90-0.5h0m77 0h0m-6.5 0.5h0m-63-0.5h0m56.5 0.5h0m-13.5 0h0m-55.5-0.5h0m-12.5-0.5h0m14.5 0.5h0m97.5 0.5h0m-100 0h0m95.5-0.5h0m-72.5 0.5h0m10.5-0.5h0m21.5 0.5h0m29-0.5h0m-7.5 0h0m-80.5 0.5h0m27-0.5h0m35 0.5h0m25 0h0m11.5-0.5h0m-8 0h0m-21.5 0h0m1 0.5h0m-81.5-0.5h0m61 0h0m-55 0.5h0m0-1.5h0m12.5 1h0m105 0.5h0m-89.5 0h0m-1 0h0m7.5-0.5h0m1.5 0.5h0m48.5 0h0m40-0.5h0m-69 0h0m-19 0h0m80 0.5h0m-70 0h0m67-0.5h0m-15 0.5h0m-67.5-0.5h0m-15 0h0m102.5 0h0m-124 0h0m95 0.5h0m-13.5 0h0m-6.5-0.5h0m-68.5-0.5h0m120 0.5h0m-25 0.5h0m31.5-0.5h0m-106 0h0m32.5 0.5h0m-9 0h0m9-0.5h0m55.5 0h0m3 0h0m-59 0h0m-25.5 0h0m66.5 0h0m-48.5 0.5h0m54.5 0h0m12-1h0m-54 0.5h0m-31.5 0h0m76.5 0.5h0m-102-1h0m65 0.5h0m11 0h0m5 0.5h0m-56-0.5h0m80.5 0.5h0m-69-0.5h0m10 0h0m-43 0.5h0m82.5 0h0m-1 0h0m21.5-0.5h0m-100 0.5h0m92.5-0.5h0m27.5-0.5h0m-117.5 1h0m18-0.5h0m46.5 0.5h0m31.5-0.5h0m-54 0h0m56 0.5h0m-93 0h0m25.5-0.5h0m-42.5-0.5h0m31.5 0.5h0m33 0.5h0m47 0h0m-11.5-0.5h0m-55 0h0m-1.5 0h0m-39 0.5h0m113.5-0.5h0m-25.5 0h0m20 0.5h0m2 0h0m-107 0h0m98.5-0.5h0m-34.5 0.5h0m-67-1h0m73.5 0h0m-31 0.5h0m-38 0.5h0m81.5 0h0m-4.5-0.5h0m20 0.5h0m-47-0.5h0m-5.5 0h0m-48 0.5h0m95-0.5h0m-88 0h0m10 0h0m64.5 0h0m40.5 0h0m-112.5-0.5h0m95 0.5h0m-5 0h0m-101.5 0.5h0m73.5-0.5h0m42.5 0h0m-82 0h0m58 0h0m-34 0h0m-34 0h0m95.5 0h0m-108.5-0.5h0m113.5 0h0m-72 1h0m-21-0.5h0m49.5 0h0m11.5 0.5h0m-92-1h0m36 0.5h0m-27-0.5h0m110.5 0.5h0m-3.5-0.5h0m-53 0.5h0m-20.5 0h0m68 0h0m4 0.5h0m-75.5-0.5h0m2.5 0h0m-44.5-1h0m100 1.5h0m11.5-0.5h0m-114.5 0.5h0m105 0h0m4 0h0m9.5-0.5h0m-23.5 0h0m-96.5 0.5h0m82-0.5h0m11.5-0.5h0m-27 0.5h0m-36-0.5h0m70 1h0m-2.5-0.5h0m13.5 0.5h0m-50-0.5h0m53.5 0h0m-70 0h0m0.5 0h0m57 0h0m-44.5 0h0m5 0h0m45 0.5h0m-53.5-0.5h0m-46 0.5h0m85.5-0.5h0"/></g><text x="504.2" y="520.0" text-anchor="middle">0</text><text x="540.4" y="520.0" text-anchor="middle">50</text><text x="576.6" y="520.0" text-anchor="middle">100</text><text x="612.8" y="520.0" text-anchor="middle">150</text><text x="649.0" y="520.0" text-anchor="middle">200</text><text x="493.7" y="511.4" text-anchor="end">0</text><text x="493.7" y="490.6" text-anchor="end">200</text><text x="493.7" y="469.7" text-anchor="end">400</text><text x="493.7" y="448.9" text-anchor="end">600</text><text x="493.7" y="428.0" text-anchor="end">800</text><text x="493.7" y="407.2" text-anchor="end">1000</text></g><text x="585.0" y="531.0" text-anchor="middle" style='font-family:"Liberation Serif",serif;font-weight:bold;font-size:9.9px;letter-spacing:-0.3px'>V1</text><text transform="translate(472.3 446.2) rotate(-90)" text-anchor="middle" style='font-family:"Liberation Serif",serif;font-weight:bold;font-size:9.9px'>V4</text><text x="585.0" y="381.7" text-anchor="middle" style='font-family:"Liberation Serif",serif;font-weight:bold;font-size:9.6px;letter-spacing:-0.3px'>GMM</text><g style='font-family:"Liberation Serif",serif;font-weight:bold;font-size:8.1px'><rect x="635.7" y="387.3" width="31.8" height="56.0" fill="#fff" stroke="#5a5a5a" stroke-width="0.9"/><circle cx="648.9" cy="393.1" r="0.7" fill="#ff0000"/><text x="660.9" y="395.8">1</text><circle cx="648.9" cy="402.1" r="0.7" fill="#ffff00"/><text x="660.9" y="404.8">2</text><circle cx="648.9" cy="411.2" r="0.7" fill="#00ff00"/><text x="660.9" y="413.9">3</text><circle cx="648.9" cy="420.2" r="0.7" fill="#00ffff"/><text x="660.9" y="422.9">4</text><circle cx="648.9" cy="429.3" r="0.7" fill="#0000ff"/><text x="660.9" y="432.0">5</text><circle cx="648.9" cy="438.3" r="0.7" fill="#ff00ff"/><text x="660.9" y="441.0">6</text></g><g style='font-family:"Liberation Serif",serif;font-weight:bold;font-size:8.6px'><path d="M30.9 680.4v-2M30.9 556.1v2M61.3 680.4v-2M61.3 556.1v2M91.7 680.4v-2M91.7 556.1v2M122.1 680.4v-2M122.1 556.1v2M152.5 680.4v-2M152.5 556.1v2M182.9 680.4v-2M182.9 556.1v2M30.9 680.4h2M207.2 680.4h-2M30.9 655.5h2M207.2 655.5h-2M30.9 630.7h2M207.2 630.7h-2M30.9 605.8h2M207.2 605.8h-2M30.9 581.0h2M207.2 581.0h-2M30.9 556.1h2M207.2 556.1h-2" stroke="#7f7f7f" stroke-width="0.8" fill="none"/><rect x="30.9" y="556.1" width="176.3" height="124.3" fill="none" stroke="#7f7f7f" stroke-width="1"/><g fill="none" stroke-linecap="round" stroke-width="1.4"><path stroke="#ff0000" d="M62.5 643h0m5.5 2h0m-1-9h0m-3.5 4h0m0 1h0m5.5 3h0m-5.5-1.5h0m4.5 0h0m0-2h0m-2-2h0m-4.5 5h0m6.5 0h0m0-6h0m0.5-0.5h0m-2 7h0m-1 0.5h0m2.5-5h0m0.5 5.5h0m-2.5-2h0m1.5-9h0m-0.5-0.5h0m-5 10.5h0m4-3h0m3 4.5h0m-5-2.5h0m4.5 0.5h0m0.5-2h0m-1 1.5h0m0-1h0m-3.5-4.5h0m1 5h0m0.5 0h0m-2.5-0.5h0m2.5 1.5h0m-0.5-2.5h0m-0.5-1.5h0m3 5h0m0-6.5h0m-8 6.5h0m4-5.5h0m4.5 4h0m-2-0.5h0m-3.5-0.5h0m1-2.5h0m1.5 2.5h0m-3-1.5h0m3.5-1.5h0m-3.5 2h0m-0.5-0.5h0m1 2.5h0m4-2.5h0m0.5 1h0m-5.5 4h0m2 0.5h0m-1-1h0m2-2h0m3.5-0.5h0m0 1.5h0m-2-2.5h0m1 2h0m-1.5-8.5h0m1 10h0m-1.5-8.5h0m0 6.5h0m0-5h0m0.5-1h0m1.5 2h0m-3.5-1h0m1 2h0m0.5-0.5h0m-3.5 2.5h0m2.5-0.5h0m-1.5-1.5h0m-0.5 2.5h0m2.5 1.5h0m3-4h0m-3 5h0m-4-2h0m5.5 0.5h0m-2 3h0m-1.5-7h0m4 0h0m0 4.5h0m2-3h0m-4-2.5h0m2.5 5.5h0m1-2h0m-2.5-8.5h0m-1 7.5h0m3-6h0m-5.5 10.5h0m0.5-4.5h0m3.5-6h0m-1 8.5h0m0.5-2h0m1 0h0m0-0.5h0m0-8h0m0 10.5h0m-1-7.5h0m1 2.5h0m-3.5 0h0m4-6h0m-2 8h0m-2-1.5h0m5 0.5h0m-2 1h0m1 0.5h0m-1-1h0m-3.5 3.5h0m-1.5 1h0m7.5-1h0m-9.5 1.5h0m9-3.5h0m-1-6h0m-5 6.5h0m5.5-3.5h0m1 4.5h0m-3 1h0m-2-1.5h0m4.5-4.5h0m-3.5 5.5h0m1-5.5h0m-5 7h0m3-0.5h0m1.5 1h0m3.5-8h0m-2.5 5.5h0m3.5 1.5h0m2.5-8h0m-2 3.5h0m1.5 6h0m0.5-3h0m7.5-1.5h0m-6.5 0h0m1.5 2.5h0m0.5-2.5h0m0 2.5h0m-5.5-2h0m3 0.5h0m3 0h0m-5.5 0h0m1-4.5h0m2 7.5h0m-0.5-2h0m-3.5-0.5h0m4-8h0m7.5 6.5h0m-7 2.5h0m0.5-6h0m-0.5 5.5h0m-2-5h0m-3 3.5h0m2-2h0m7.5 3h0m5.5-2h0m-14 4h0m4.5-2h0m-4.5-2h0m8.5 1.5h0m-6.5-1h0m4-3h0m1 3h0m-4.5 1h0m-2.5-1h0m2 1h0m0-2.5h0m3 0h0m-0.5 0h0m-5.5 2.5h0m1.5-8h0m2.5 11h0m4-2.5h0m5-2h0m-8-1.5h0m5 1.5h0m-2.5 1.5h0m-0.5-0.5h0m-5 2.5h0m5-0.5h0m3-1.5h0m-6 0.5h0m1.5 2h0m-1.5-5h0m-3-4.5h0m4 7h0m-1.5-4.5h0m6 3h0m-1 3h0m-6-2h0m0.5 1h0m2-1.5h0m-4-5.5h0m5.5-0.5h0m-2 6.5h0m1-1h0m-0.5 4h0m0.5-1h0m4-2.5h0m-2-1.5h0m-4.5-0.5h0m4.5 3.5h0m3-4.5h0m1 4h0m-9 0.5h0m1.5 1h0m-2.5-8.5h0m4.5 9h0m5.5-2.5h0m-9.5-3.5h0m-1.5 2h0m3.5-1h0m-1.5 4.5h0m5.5-0.5h0m0-4.5h0m-4.5 1.5h0m-2.5-3h0m7.5 4.5h0m-4.5 3h0m2.5-6.5h0m1.5 5.5h0m-4.5-4.5h0m0.5 2h0m2.5 2h0m0.5 1h0m-4-1h0m-3-5.5h0m4.5-1h0m3.5-2h0m-2.5 8.5h0m-5 0.5h0m5.5-1h0m-0.5-7.5h0m-3 3.5h0m7.5 3h0m-10 2.5h0m6-1h0m0.5-0.5h0m-6-0.5h0m3.5-7.5h0m0.5 3.5h0m5.5 0h0m-8-5h0m1 5.5h0m-0.5 2.5h0m0.5 0.5h0m1 0h0m-2.5-7h0m5.5 8h0m0 0.5h0m-4.5 2h0m1 0h0m8.5-5h0m-10.5 4.5h0m6.5-3h0m-3.5 2h0m-1-2h0m0 1.5h0m-0.5-3h0m6 3h0m-3-5.5h0m3 3.5h0m-7.5 0.5h0m2-6.5h0m-3 0h0m6.5 6h0m-6-3.5h0m-1 1.5h0m5 2.5h0m-4-1.5h0m0 5h0m3.5-7.5h0m-4 7h0m4.5-9h0m-2 8h0m1.5-6.5h0m-3 3.5h0m0.5 0.5h0m2.5 3.5h0m1-3h0m-1-2.5h0m-2 3h0m1.5-5.5h0m4.5 4h0m-4 1.5h0m-3 1h0m13-3h0"/><path stroke="#ffff00" d="M50 622.5h0m0.5 1.5h0m0-2.5h0m0-1.5h0m-0.5 1.5h0m-0.5 2h0m0.5-2.5h0m0.5 1.5h0m0-2h0m-0.5 6h0m0-2h0m-0.5 2h0m1-5.5h0m-1 5h0m0.5-3h0m0 3h0m0.5 3.5h0m0-1h0m-1.5-3.5h0m1.5 3h0m-1-2.5h0m0.5-3.5h0m0.5-3.5h0m-1.5 5.5h0m0.5 3.5h0m1-2.5h0m-1 3h0m0-3.5h0m0.5-0.5h0m0-0.5h0m-0.5 1.5h0m1 5.5h0m-0.5 0h0m-2-2h0m2-8h0m0 9h0m-0.5-6.5h0m1 0.5h0m-1-1h0m1 4h0m-1.5 2h0m1.5-2.5h0m0-4h0m-1 6.5h0m-1.5-1h0m2.5 0h0m1-9h0m1.5 0.5h0m-2 7h0m1.5 7h0m-1.5-8.5h0m0.5-3h0m4 0h0m-4 9h0m0.5-4.5h0m1 4h0m0-1.5h0m-1.5-4.5h0m5 1h0m-0.5-8h0m-4.5 2.5h0m1 6h0m2.5-5h0m2 3h0m-1.5 4.5h0m-4.5-4.5h0m0.5-0.5h0m4.5 1.5h0m-2 4h0m-2-17h0m0.5 16.5h0m1-11.5h0m-0.5 9h0m1.5 5.5h0m-0.5-10h0m-2 0h0m1 1.5h0m0-2h0m1.5 2h0m-3 7.5h0m-0.5-3h0m3.5 4.5h0m0-10h0m-3-1h0m0.5 7.5h0m2-7.5h0m-1.5 9.5h0m4.5-7.5h0m-6 5h0m1-3.5h0m2-6.5h0m1.5 9h0m-3 4.5h0m-1.5-10h0m2.5 6.5h0m1-3.5h0m-1.5 8.5h0m2.5-5.5h0m-3.5-8.5h0m5 7h0m-4-6h0m0 4.5h0m2-3h0m-1.5-3h0m-2.5-4h0m1.5 4h0m3 4.5h0m-4 4.5h0m0.5 3.5h0m0-16.5h0m3.5 9h0m-3.5 4.5h0m1-1.5h0m-1.5-10.5h0m0 7h0m-0.5 4h0m0.5 0h0m0.5 2h0m2-2h0m0-4.5h0m-2-2.5h0m1-8h0m0.5 7h0m0.5 5h0m-1.5 9h0m3.5-11.5h0m-3-7h0m0.5 11.5h0m1-10.5h0m3 7.5h0m-6 7h0m-0.5-12h0m2 4h0m-2 9h0m1.5-4h0m1.5-0.5h0m-1-3h0m2-4.5h0m-3.5 2.5h0m3.5 4h0m0.5-5h0m-2 9.5h0m1-9h0m-3-6.5h0m4.5 12.5h0m-3.5-1.5h0m1.5 0.5h0m-2 6.5h0m4-13.5h0m-1.5 11.5h0m-0.5-5h0m0 4h0m-1 1.5h0m-2-9h0m4.5 8h0m-4.5-9.5h0m4 9.5h0m-3-3h0m1.5 0h0m-0.5 0h0m2 2h0m-2-5h0m2 1h0m-1.5-9.5h0m4.5 5.5h0m-5 11h0m-1.5-18h0m5 6.5h0m-2.5 1.5h0m0.5 1.5h0m-1.5-2h0m3.5 0h0m-1.5 3h0m-4-8.5h0m1.5 14h0m0.5-17h0m-2 16.5h0m1-6.5h0m2.5-3h0m-1.5-2h0m1 1h0m0 4h0m-0.5 0h0m1.5 3h0m-2 2h0m1-3h0m1.5 0h0m-2.5-14.5h0m0 24h0m0-18.5h0m-1.5 15.5h0"/><path stroke="#00ff00" d="M76.5 646h0m7-2.5h0m-1.5 0h0m-2.5 2.5h0m-6 0.5h0m7-1h0m-1.5-2h0m-0.5 1h0m1.5 0.5h0m0.5 0h0m3.5 3h0m-4.5-4.5h0m3.5 4h0m-5-1.5h0m0.5-2h0m3.5 2h0m0 1.5h0m-1-3h0m-2 0.5h0m0.5 1.5h0m-3.5-1h0m7.5 1h0m-3.5 0h0m1.5-1.5h0m-0.5 0.5h0m-4-0.5h0m-1.5 1h0m7 0.5h0m-9-0.5h0m7.5-2.5h0m0.5 0h0m-5.5 3h0m-2-0.5h0m6.5-3h0m1 0h0m-10 4h0m3 0h0m9 1.5h0m-0.5-6h0m0.5-0.5h0m-3.5 3.5h0m0-1h0m2.5-2.5h0m-2 0.5h0m-4 4.5h0m-2-1.5h0m0.5 0.5h0m6-3h0m-5 2h0m6 0.5h0m-3 0h0m1.5-1h0m-2 1h0m3 1h0m-5.5-0.5h0m3.5 1.5h0m0-3h0m0.5 1.5h0m3.5-2h0m-6.5 1.5h0m-2.5 0.5h0m6.5-2h0m2.5 3.5h0m-1-4h0m0.5 3h0m-4-2h0m1.5 2h0m3.5-1.5h0m-11.5 2.5h0m2.5-2.5h0m6.5 3.5h0m1-6h0m-1 2h0m-3.5 3h0m-1.5-2h0m-3 1.5h0m3-0.5h0m7-2h0m0 0.5h0m-0.5-3.5h0m-0.5 3.5h0m0 1h0m-1 1h0m-0.5-0.5h0m2-4.5h0m-4.5 3h0m4-0.5h0m0.5 0h0m-1-0.5h0m-3 2h0m4 0h0m1 0.5h0m-2.5-2.5h0m1.5 5h0m-5-4.5h0m-0.5 1.5h0m5 1.5h0m-3-3.5h0m4 1.5h0m-2.5 0.5h0m2.5-3.5h0m-6.5 3.5h0m12 2h0m-3-2.5h0m8 1.5h0m6.5 0.5h0m-16-6.5h0m21 7.5h0m-16-2h0m1.5 1.5h0m12-2h0m-2 1h0m-9.5 0.5h0m3-1.5h0m8.5 3h0m-11-2.5h0m10.5 0.5h0m-0.5-1h0m-7-1h0m9.5 1.5h0m-11.5-4h0m8 1.5h0m-2.5 4.5h0m-2.5-0.5h0m2 1h0m-1.5-3.5h0m-10 1h0m20 2h0m-0.5 0.5h0m-21-3.5h0m20.5 2.5h0m-9.5-2.5h0m-9-1h0m16 4h0m-9-3.5h0m6.5 1.5h0m2.5 1h0m-6.5-1h0m-11.5 0h0m18 0.5h0m-3 0h0m5-1h0m-14.5-0.5h0m11.5 2.5h0m2-2h0m-10.5-1h0m-9.5-1h0m7.5 5h0m-5-1.5h0m7.5 0.5h0m3-2h0m-6.5 2.5h0m2-5.5h0m9 4h0m-4-1.5h0m-4 2h0m3.5-2.5h0m7.5 2h0m-14.5-2.5h0m6 3h0m4-1.5h0m-14 1.5h0m20 0h0m-10.5-1.5h0m-6-1h0m12-1h0m1 1h0m-4 4.5h0m6.5-1.5h0m-19-1h0m10 1.5h0m5 1h0m4 0.5h0m-6.5-4h0m-0.5 1h0m-5 0.5h0m4-0.5h0m4 1.5h0m4 3h0m-19.5-6h0m16 2h0m-7 0h0m6.5 0.5h0m-10-3h0m3.5 2h0m-9.5-3h0m5.5 2.5h0m4.5 2h0m8.5 0.5h0m-13-5h0m12.5 1.5h0m-13.5 1.5h0m1.5 2h0m5.5-0.5h0m2.5-1.5h0m5 1.5h0m0-1.5h0m-14 0h0m8.5 2h0m-5.5-1h0m9-1h0m2.5 1h0m-9.5 1h0m10-1.5h0m-18-1h0m1-1.5h0m13.5 4h0m-10.5-0.5h0m6.5-3.5h0m-2 2.5h0m-8-2h0m0-1h0m2.5 2h0m12.5 1.5h0m2.5-1.5h0m-1 3.5h0m-8.5-5.5h0m-3 0.5h0m1.5 0.5h0m-6 1.5h0m7.5 2h0m-6 0h0m-1.5-4.5h0m-2.5 2.5h0m9.5 2.5h0m4-1h0m7.5-2h0m-2-1.5h0m-10.5 2.5h0m8.5-1h0m-12-0.5h0m5.5 0h0m10.5 1.5h0m-9 1.5h0m-2-5.5h0m7.5 3h0m-18.5-4h0m5 3.5h0m-1.5-0.5h0m2-3h0m-5.5 4.5h0m6.5-3h0m6 0h0m-4 0.5h0m-4 0h0m14.5 0.5h0m-18 3h0m4-4h0m11 6h0m-4.5-3h0m4 2h0m-8-1.5h0m-3.5-1h0m14 2.5h0m-17.5-3h0m8 2.5h0m4.5-1h0m5-2h0m-3 2.5h0m-12-3h0m4.5-1h0m-6 2.5h0m1-1.5h0m14.5 1.5h0m-14.5-1h0m-2.5 0.5h0m6.5 1.5h0m4.5-2.5h0m-6.5 2.5h0m0-4h0m4.5 5h0m9.5 1.5h0m-6 0h0m-4.5-6h0m-3 0.5h0m-1 1.5h0m3 1h0m12-2.5h0m-4 2.5h0m-15-5h0m1 0.5h0m15.5 3.5h0m-1.5 4.5h0m-10.5-8.5h0m5 6.5h0m-7.5-5.5h0m12.5 5h0m-13-5.5h0m2 5.5h0m10-5h0m2 3.5h0m-13.5-4h0m3.5 5h0m-3.5-2h0m0-2h0m14.5 4h0m-8.5-1h0m0.5-0.5h0m-4-1h0m7 4.5h0m1.5-2.5h0m8 3h0m-20.5-5h0m21.5 3h0m-14.5 0h0m8.5 0h0m-1.5 2.5h0m-0.5-4h0m5.5 2.5h0m-9-2h0m-10.5-1.5h0m19 2.5h0m-1.5 1h0m-1 1.5h0m-1-2h0m0-1h0m-8.5-2.5h0m4 3.5h0m0 1h0m-10-0.5h0m18-3.5h0m-2.5 0h0m-5 1h0m-4.5-2h0m3.5 3.5h0m-6-2.5h0m-4.5 1h0m1.5-2.5h0m2 2.5h0m12.5 0.5h0m-14-2.5h0m8-2h0m1 4.5h0m-3-1h0m-5 1h0m4.5-1h0m8 2h0m-3-0.5h0m4.5-1.5h0m-9-0.5h0m2.5 0.5h0m10 1h0m-4.5-1h0m0.5 3h0m-9-4h0m11.5 2.5h0m-10.5-0.5h0m6-0.5h0m-2.5-0.5h0m10 1h0m-4 0.5h0m-13-2h0m7.5 3h0m10 0.5h0m-20.5 1h0m-0.5-5.5h0m12.5-0.5h0m7 3h0m-14.5-0.5h0m12.5 0h0m0 0.5h0m0.5 4h0m0.5-2.5h0m-16.5-4.5h0m13.5 1.5h0m-11 1.5h0m-2-3h0m2 3.5h0m1-4h0m6.5 5h0m-7-5h0m12.5 5h0m-9-4h0m0.5 6h0m9-4h0m-18.5-2.5h0m19 2h0m-8 1.5h0m-7-4h0m1.5 1h0m15 1.5h0m-21.5-2.5h0m17.5 1.5h0m-8.5 1.5h0m4 1.5h0m-8.5-1h0m10.5 3h0m1.5-3.5h0m-5.5 1.5h0m8.5 0h0m-7 0h0m2.5-0.5h0m5-2h0m-18 1.5h0m2-2.5h0m-3 0.5h0m3 0h0m15 1h0m-11.5 1h0m8-2.5h0m-15.5 3.5h0m16.5 3.5h0m-15-8h0m12 2.5h0m15 3h0m-4-2h0m5.5-1h0m11 3.5h0m-16.5-4h0m0 3h0m15.5 1.5h0m-5-0.5h0m-7.5-0.5h0m17-1h0m-6.5 0.5h0m4-0.5h0m-11 0.5h0m13 3h0m-15-2h0m16 1h0m-21-3.5h0m15 2.5h0m-10 0.5h0m3-1h0m5-1h0m-13.5-2h0m4 1.5h0m-2.5 0.5h0m14.5 1h0m-12-1h0m2.5 0h0m-2 0h0m15.5 1h0m-9.5 0h0m3 0h0m1.5-1h0m2.5 2h0m-12.5-1.5h0m4.5 0.5h0m-6.5-1.5h0m-3.5 1h0m20.5 1.5h0m-7-1h0m-4.5-2h0m7.5 3.5h0m-5-2.5h0m6.5 2.5h0m-15-0.5h0m10.5-3h0m-12.5 2.5h0m-1.5 0h0m7.5 0.5h0m8.5-2.5h0m1.5 1.5h0m1.5 1h0m-5-4h0m5 3h0m-4 0h0m5.5-0.5h0m-19.5 0h0m5-1h0m3 2h0m-3.5 0h0m-1.5-1h0m0 1.5h0m18-0.5h0m-4.5-1h0m-7.5 1.5h0m-7-1h0m15-0.5h0m-16.5-2h0m14.5 3h0m-7.5 1h0m8-2h0m-10 0h0m-3.5 2h0m3.5-2.5h0m13 1h0m0.5 0.5h0m-4.5-1.5h0m1.5 0h0m-12.5 0h0m16 2h0m2-1h0m-12.5-0.5h0m7.5-0.5h0m3.5 0.5h0m1.5 0h0m-7.5-1h0m-6 3h0m1.5-1h0m0 0.5h0m-10-3.5h0m15.5 2h0m-2.5-0.5h0m-9 2h0m9 0h0m8-1h0m-2 0.5h0m-10-1.5h0m8.5 1h0m1.5 1h0m-11-3h0m1.5 1h0m3 1.5h0m-8-3h0m6.5 3h0m-9.5-3h0m15.5 1h0m-3 1h0m-11.5-1h0m6 0.5h0m3.5-0.5h0m0 1.5h0m7.5-1.5h0m-17.5 2h0m13-0.5h0m-12-1h0m12.5 3.5h0m2-0.5h0m1-0.5h0m-6-2.5h0m-4 0.5h0m9.5 0.5h0m-10 0.5h0m3.5-0.5h0m-8.5 0h0m13.5 1h0m-16.5-2.5h0m20.5-0.5h0m-10 0.5h0m-5 3h0m-5.5-2.5h0m17 3h0m-6-0.5h0m-7-4h0m4.5 2.5h0m6 0.5h0m-9.5-1h0m14.5 1.5h0m-5.5-2.5h0m6.5 4h0m-7.5-2h0m-4 0h0m-1.5 1h0m3-3.5h0m-6-3.5h0m4.5 5h0m-0.5-1.5h0m-2.5 0h0m8 2.5h0m4-1.5h0m-4.5 1.5h0m1 1h0m4-3.5h0m2.5 3h0m-21.5-4.5h0m13.5 1h0m-3.5 1h0m5 1h0m-10 0h0m11 1.5h0m0-1h0m2-1.5h0m-1 0h0m-16.5 4h0m2-3h0m13.5-1.5h0m4.5 1h0m-19.5-0.5h0m19 3h0m-5-3.5h0m0.5 3h0m-15.5-2h0m19-0.5h0m-14.5 0h0m1 0h0m6 1h0m8.5 0.5h0m1.5 0.5h0m-7.5-2h0m-8 0.5h0m-1.5-1h0m0.5 2.5h0m9-1h0m0.5 1.5h0m-7.5-1h0m-3 0.5h0m15.5-1h0m-3-1h0m6 2.5h0m-10 0h0m-6 0.5h0m12-2h0m2 0.5h0m-9.5-1h0m-2-0.5h0m-4.5 2h0m-2.5-2h0m-1 1.5h0m6.5 0h0m3-0.5h0m10.5-0.5h0m-19.5 1h0m2.5-1h0m17 1.5h0m1 1.5h0m-2-2.5h0m-16.5-3h0m14 4h0m-6.5 0h0m-10.5-4.5h0m5 4h0m17 0.5h0m-11.5-0.5h0m-6 1h0m-5-3.5h0m5 4h0m2-2.5h0m3-1.5h0m2.5 4h0m-2-2.5h0m-4.5 1.5h0m16-0.5h0m-5.5 1h0m-5.5 1h0m-3.5-1.5h0m4-1.5h0m-4-0.5h0m12.5 3.5h0m-17.5-2h0m11-0.5h0m5.5 1h0m-5.5-2h0m-7.5-1h0m-3 1.5h0m17 4h0m-1.5-4.5h0m-13-0.5h0m-1.5 3.5h0m8-0.5h0m1 0h0m-10.5-4h0m0 1.5h0m4.5-1.5h0m-5.5 1.5h0m13.5 3.5h0m-10.5-2h0m12.5-2h0m-7 2.5h0m5-4h0m0.5 4h0m6.5 0.5h0m-7-2h0m5.5 2.5h0m-18.5-1.5h0m11.5 2h0m10-2.5h0m12.5 2.5h0m-1.5-1.5h0m4-0.5h0m-9.5 0h0m1.5 2h0m7.5-1h0m-8.5-0.5h0m7-1h0m-7 0.5h0m-1 1h0m-1-1.5h0m-1 0h0m3.5-0.5h0m-4.5 2.5h0m11-0.5h0m2.5 0h0m-14.5-1h0m-1.5 1h0m15.5-2.5h0m-14.5 0.5h0m10 2.5h0m-11-1h0m9 0.5h0m-6-1h0m7.5 1h0m-0.5-1.5h0m-5 1h0m0.5 0h0m2 1h0m7.5-1h0m-6.5 0.5h0m2-1h0m-1.5-0.5h0m-1 0.5h0m3 1h0m-3 0.5h0m4 0h0m2.5-0.5h0m-8 2h0m7.5-3h0m1.5-0.5h0m-6 1.5h0m-8-0.5h0m11 1.5h0m-8-1.5h0m9.5 0.5h0m-13.5 0.5h0m0.5-2h0m2.5 1h0m6.5 0h0m-8.5 1h0m8.5-2.5h0m-3 2h0m6.5 0.5h0m2.5 0h0m-3.5-0.5h0m-10.5-1h0m7.5 2h0m6-1.5h0m-14.5-0.5h0m7.5 1.5h0m-2 0h0m-2.5 1.5h0m0-3.5h0m-0.5 2.5h0m5.5-1.5h0m2.5-0.5h0m3 1.5h0m-8.5-1h0m7-0.5h0m-6 2.5h0m3-1h0m-8.5-0.5h0m2.5 0.5h0m-2-1h0m6.5 0h0m-1.5 1h0m-1-2h0m5.5 1.5h0m-2.5 1h0m1-2h0m5.5 2h0m-14-3h0m11.5 2.5h0m-3-0.5h0m-7-0.5h0m3.5-1h0m-3 2h0m9.5-0.5h0m-4-1h0m-8.5 2h0m3-3h0m-0.5 4h0m7-0.5h0m0.5-1h0m-6 1h0m0.5-3h0m-2-2h0m10.5 1.5h0m-13 1h0m3 1h0m1-2h0m8.5 1.5h0m-12 1.5h0m7-1h0m-7.5-2.5h0m16 2h0m-10.5-1.5h0m7.5 1.5h0m-2.5-0.5h0m-4 3h0m-0.5-2h0m-4.5-1.5h0m4.5-0.5h0m-6 1.5h0m0.5 0h0m7-1h0m7 0.5h0m-4 3h0m-1.5-1.5h0m0-3.5h0m-2 2.5h0m-2 1.5h0"/><path stroke="#00ffff" d="M57.5 639.5h0m-2-3h0m2 5.5h0m-2.5-4h0m0.5-4.5h0m2.5-10.5h0m-3.5 12.5h0m3-2.5h0m-0.5-2.5h0m-0.5 5.5h0m0.5-8.5h0m1 14h0m-1-9h0m-1 2.5h0m-1.5-0.5h0m3-3h0m0-1h0m0.5-2.5h0m0 3h0m-3 3h0m-1 5.5h0m4-8h0m0-5.5h0m-1 2.5h0m-1.5 10h0m0.5 2.5h0m-1-7.5h0m1 0h0m-2-1h0m4 11h0m-3-11.5h0m0 3h0m2.5 4h0m0.5-4h0m-4-0.5h0m3 1.5h0m-1-6h0m-1 0h0m2.5 5h0m-0.5 3.5h0m-1.5-4h0m2.5 8h0m0-6.5h0m-0.5 5.5h0m-0.5 0.5h0m1-12.5h0m-0.5 7.5h0m0 1.5h0m-1-0.5h0m-1.5-2.5h0m0.5 1.5h0m2-1.5h0m-1.5 4.5h0m2-4.5h0m-1 7h0m0-6h0m-0.5-2h0m1.5 4h0m-2.5-2.5h0m2-7h0m0 5h0m-1.5 5.5h0m2-3h0m0 2.5h0m0-9h0m-3.5 5h0m2.5-8.5h0m1 4h0m-0.5 4h0m-1-4.5h0m1 7.5h0m-1-1h0m0.5-7h0m1 4.5h0m-4-1h0m3.5-3h0m-1 2h0m1-6.5h0m-1.5 8.5h0m1.5 4h0m-0.5-7h0m-2 1.5h0m2.5 7.5h0m0.5-11.5h0m-4 11.5h0m0.5-8.5h0m3.5 0.5h0m-0.5-5.5h0m0 0.5h0m-3 5.5h0m9 3h0m-2.5-2h0m4 0.5h0m-5-2.5h0m-1 8h0m3.5-3h0m-1.5-8.5h0m3 6h0m-2.5-1h0m-2.5 9h0m1.5-7h0m-1.5-6.5h0m2 11.5h0m-2.5-15h0m4 4.5h0m-3.5 9.5h0m0.5-1h0m0-3h0m3 2h0m1.5-2h0m-2.5 5.5h0m0.5-9h0m-2.5 5.5h0m0.5 3h0m-1.5-7h0m9-3h0m-9-2h0m0.5 12h0m4.5-11h0m-4.5 8h0m0.5 5h0m4.5-6.5h0m-5-2h0m3.5-6.5h0m-0.5 3.5h0m-3.5 0.5h0m1.5 11h0m3-9h0m0.5-1.5h0m-2.5 9h0m0.5-2h0m3.5-6.5h0m-5.5-9h0m5.5 7.5h0m-3.5 7h0m-0.5 1h0m2.5-2.5h0m-3-5.5h0m-1.5 5.5h0m2.5 5h0m-2.5-3h0m5.5-3h0m0.5-5.5h0m-2 8.5h0m-2.5-10.5h0m2.5 9.5h0m-1-7h0m2 2.5h0m1 2.5h0m-6 6.5h0m2-12h0m4.5 1h0m-3 5h0m-1-1.5h0m2-7h0m0.5 9.5h0m-5.5-6.5h0m5 7.5h0m-3 4h0m-1.5-13.5h0m3 8h0m-2.5 5h0m0 0.5h0m0-2h0m2.5-11h0m-0.5-1h0m4.5 4h0m-4 1h0m-2.5 1h0m2 6h0m4.5-10.5h0m-4.5 8h0m-1-5h0m1.5 8h0m-0.5-5h0m-3 1h0m2 4.5h0m0 0.5h0m0-8h0m-1.5-9h0m4 13.5h0m-2-0.5h0m4-3.5h0m-5 0.5h0m6-3h0m-4.5-1.5h0m2.5 7.5h0m-2.5-0.5h0m0.5-3h0m0.5 5h0m-2 1h0m-1.5-6.5h0m0 7.5h0m3-11h0m0 9.5h0m-1.5 1h0m4.5-7.5h0m-1-0.5h0m-4-3h0m0 10h0m-1.5-15h0m1 8h0m-1-2.5h0m5 5.5h0m-0.5 1h0"/><path stroke="#0000ff" d="M43 588h0m0.5 13.5h0m0-9h0m-1.5-12.5h0m0-2.5h0m1.5 13.5h0m-2-6.5h0m2 20h0m0 0.5h0m-1-23.5h0m-0.5 24.5h0m0-27h0m0 9.5h0m0.5 13h0m0-18h0m0.5 11h0m1 18.5h0m-0.5-5h0m0.5-1h0m-2-18h0m0-10.5h0m1 12.5h0m-1.5-18.5h0m0-0.5h0m1 33h0m0-14h0m1-4.5h0m-0.5 22.5h0m-0.5-20.5h0m0 6.5h0m-0.5-10h0m-0.5 10.5h0m0.5-14.5h0m1 17.5h0m-1-24h0m0.5 16h0m-1-1h0m0.5-6h0m0 8.5h0m1.5-2h0m-1-7h0m1 14.5h0m-0.5 15h0m0-4h0m-1.5-34h0m1.5 18h0m-0.5-6.5h0m1 1.5h0m-1-3.5h0m0.5 8h0m-1.5 6.5h0m1 0h0m0-13.5h0m0-11h0m1.5 27.5h0m-1-17.5h0m0 9.5h0m0 7h0m0-16h0m-1-10.5h0m0.5 4.5h0m-0.5 4h0m1 7h0m-1 3.5h0m1.5 3.5h0m-0.5-3.5h0m-1 3h0m1.5-4h0m0 12h0m-0.5 0.5h0m-1-33.5h0m0 28h0m1.5 1.5h0m-0.5 2h0m-1-12.5h0m1.5 17.5h0m-1-5h0m-1-22h0m2 3h0m-1 3.5h0m0.5 4.5h0m-0.5-11h0m1 10h0m-2-17.5h0m1 0.5h0m-1 3.5h0m0.5 22.5h0m4 3.5h0m-0.5 7.5h0m-0.5 1h0m0-15h0m1 16.5h0m-1.5-6h0m0.5-1.5h0m0.5 4h0m-1-4h0m0.5-0.5h0m0.5 0h0m0.5-8h0m-2 14h0m2-8.5h0m-2 2.5h0m1.5 13h0m0 3.5h0m-1.5-21h0m1 10h0m0.5-13h0m-1.5-4.5h0m1.5 13h0m0 6h0m-0.5-10.5h0m-0.5-5.5h0m0 16.5h0m0-7.5h0m-0.5-14.5h0m0.5 24.5h0m1.5-5h0m-1.5-1.5h0m0 5h0m1.5 6.5h0m-1-9h0m0-21h0m0 18.5h0m1-4h0m-1-0.5h0m0-4.5h0m0 6.5h0m1 13h0m-2-10h0m1-15.5h0m0 5h0m1 15.5h0m-1.5-20.5h0m1 22.5h0m0-11.5h0m0 4h0m0 9h0m0.5-11.5h0m-1.5 3h0m0 0.5h0m0 1h0m-0.5-22h0m0.5 9h0m1.5 17.5h0m-2-10.5h0m1 9.5h0m0-4.5h0m0.5-6h0m0.5 11h0m-1-12h0m0.5 0.5h0m-1.5 1h0m0-1h0m1-10h0m0.5 20h0m-1.5-6.5h0m1.5 12.5h0m0.5-9.5h0m0 8.5h0m-2-31h0m0 12.5h0m0 6h0m0.5-1.5h0m0-14.5h0m-0.5 9.5h0m1 3h0m0 1.5h0m-1 8h0m1.5-2.5h0m-1.5-11.5h0m0.5 12.5h0m1-8.5h0m-1.5 6.5h0m2-9h0m-2 14.5h0m1.5-1h0m-1-17.5h0m1.5 21.5h0m-0.5-9.5h0m-1-2.5h0m1-5h0m-0.5 15h0m0.5-22h0m0 15h0m-1 6.5h0m1-19h0m0.5 8.5h0m-2-2.5h0m0.5 1.5h0m0-2.5h0m0 12h0m1-1h0m-1.5-8.5h0m0.5 14.5h0m-0.5-9.5h0m0.5-4h0m0.5 14.5h0m-0.5-24h0m0 17.5h0m0.5-7h0m-1-14.5h0m0.5 0.5h0m-0.5 19h0m1.5 10.5h0m-1.5-28.5h0m0 19h0m2-3.5h0m-1.5-0.5h0m0-9.5h0m0.5 10.5h0m1 9.5h0m-1.5-15h0m1 15h0m-1.5-18.5h0m1.5-4.5h0m0 17.5h0m-1 4h0m0.5-0.5h0m-0.5-16h0m1 9h0m0.5 3.5h0m-0.5-1.5h0m0-6h0m0.5-2h0m-0.5 14.5h0m0-2.5h0m0-15h0m-0.5 13.5h0m0-4.5h0m-1-2h0m0.5 7h0m1 2h0m-1-23.5h0m-0.5 18.5h0m2 12h0m-2-7h0m0-26h0m1 27h0m0.5-14h0m-0.5-10.5h0m1 15h0m0 4.5h0m0 2.5h0m-1.5-22.5h0m-0.5 3.5h0m1 14.5h0m-1-7h0m3.5-1h0m1 20.5h0m-1-6h0m1 9h0m0.5-7h0m-1-3h0m1.5 4h0m-2.5-14.5h0m-0.5 9.5h0m0 6h0m4-5h0m-3.5-9.5h0m0 9.5h0m1.5 9.5h0m0-19.5h0m-2 18h0m1-10.5h0m1.5 4.5h0m-2.5 1.5h0m0.5 4.5h0m1-10h0m2 7h0m-0.5 0.5h0m0 2.5h0m-0.5-11h0m0.5-1h0m-2 7.5h0m-0.5-0.5h0m2.5-8.5h0m-2.5 12h0m2-19h0m-1.5 1.5h0m-0.5 2.5h0m1.5-2.5h0m-2 10.5h0m2-5h0m-1 12h0m2-20h0m-0.5 10h0m1.5 0.5h0m-2.5-4.5h0m0 15.5h0m2-15.5h0m-2.5 11.5h0m1.5 1.5h0m-2-8h0m1.5-11.5h0m1 11h0m-3-19.5h0m1.5 6.5h0m0 0.5h0m0.5 14.5h0m1-1h0m-3-5.5h0m2 12h0m0 3.5h0m2-14.5h0m-2.5 11.5h0m1-7.5h0m-2.5 0.5h0m2.5 8.5h0m-1-14.5h0m1.5 2h0m0.5 12h0m-2-18.5h0m1 19.5h0m0 1h0m0-20h0m-1 6.5h0m0.5 7h0m1 3h0m-1.5-3h0m0 8.5h0m0.5-15h0m-1-9h0m0.5 2h0m1.5 14h0m-1.5 7h0m1.5-17.5h0m-3-7.5h0m3.5 17h0m-1.5 4h0m0 1h0m0.5-19h0m-2 12.5h0m0.5 2.5h0m0.5 5h0m-0.5-8h0m0.5-8.5h0m0.5 6h0m1.5 6h0m-2-9h0m-0.5 0h0m2.5 5h0m-1.5-4.5h0m0.5 11h0m-2.5-0.5h0m3.5 0h0m-2.5-8.5h0m1 11.5h0m-1.5-6h0m1-11.5h0m2 15.5h0m0-7.5h0m-1.5 13h0m1-10h0m-1.5 2h0m0.5-6h0m-1.5-9.5h0m0.5 20h0m2-11h0m-3-9h0m0 12.5h0m0.5-17h0m2 24.5h0m-1.5-22.5h0m1 17.5h0m-1 3h0m0-10.5h0m0-2h0m-1 0h0m1.5 4.5h0m-1.5-8.5h0m3 11.5h0m-1 8.5h0m2-7.5h0m-1.5-2h0m0.5-11.5h0m0 15.5h0m-2 1h0m0.5-15.5h0m0.5 2.5h0m-2 0h0m1.5 7h0m1-5h0m-2.5 1h0m1 8.5h0m-0.5 1.5h0m0-15.5h0m1 14.5h0m-1-10h0m0.5-6.5h0m0.5 17.5h0m-1-19.5h0m3 11.5h0m-3.5 2h0m2.5 5h0m0-1h0m-2-6.5h0m3.5-1.5h0m-0.5 9.5h0m-3.5 2h0m1-11.5h0m-1.5-4h0m3 0h0m0 14h0m0-6.5h0m1.5 4.5h0m-2 9h0m-0.5-22h0m2 9.5h0m-3.5 2.5h0m1-13h0m3 12.5h0m-0.5 0.5h0m0 1.5h0m-2 2.5h0m-2-25h0m0.5 4h0m3 8.5h0m-0.5-3.5h0m-2-2.5h0m-0.5 8h0m3.5-7h0m-3.5 17.5h0m2-9.5h0m-2-0.5h0m1 3h0m2 8.5h0m-0.5-13h0m-1.5-3h0m1.5 19h0m0.5-7h0m-1.5 8.5h0m1.5-9h0m-1.5-9.5h0m-2-3.5h0m2-4.5h0m-1.5 15.5h0m0.5 7h0m0-14.5h0m-0.5 1h0m0.5 6.5h0m3.5-8.5h0m-3 8h0m1-9.5h0m0 11.5h0m-2-16.5h0m3.5 7.5h0m-1.5 8h0m-0.5-1.5h0m-1.5-3.5h0m1 3.5h0m0.5 6.5h0m2.5-9.5h0m-4-11.5h0m2.5 13.5h0m1 1.5h0m-1 1h0m-0.5-1h0m0.5-16h0m-2.5 17h0m2-16.5h0m-0.5 25h0m0.5-6.5h0m0.5-11.5h0m-0.5 17h0m-1.5-11.5h0m3-6h0m-3.5-1h0m1 16h0m0.5 6h0m1.5-21.5h0m-3-1h0m4-0.5h0m-1 8.5h0m-2 3h0m2.5 0h0m-2 3.5h0m-1-0.5h0m-0.5 0.5h0m1 4.5h0m-1-15h0m1.5-2h0m-0.5 15.5h0m1.5-12h0m0.5-5.5h0m-1.5 7h0m1.5-5.5h0m-3 1h0m1.5 19h0m1.5-3.5h0m-3-25h0m1 27h0m-1.5-8.5h0m0.5-18h0m2 14.5h0m-0.5-2h0m-0.5 7h0m0.5-15.5h0m0 14h0m1.5 5h0m-1.5 2.5h0m0-6.5h0m0.5-17h0m-1 4.5h0m2 12h0m-1.5-10.5h0m-1 7.5h0m0.5 6.5h0m0-13.5h0m1.5 4.5h0m1.5 3.5h0m-3.5-16h0m0.5 13.5h0m1.5-5h0m-2.5 10h0m2-16.5h0m-1 6.5h0m-1.5 1.5h0m1 8.5h0m1 8.5h0m1.5-18.5h0m-2.5 14h0m3.5-4h0m0.5-7.5h0m0 1h0m0-0.5h0m0 4.5h0m0.5-5.5h0m0-3h0m-1 4h0m1 3h0m-10-43h0m0 1.5h0m0.5 2h0"/><path stroke="#ff00ff" d="M102 648h0m2.5 1.5h0m-3 1h0m-0.5 0h0m-1-1h0m2-1h0m3.5 0.5h0m-9 0h0m-1.5-0.5h0m12 1.5h0m-5.5-0.5h0m-2.5 0h0m6 0.5h0m-6.5-1h0m1.5 0h0m5 0.5h0m-3.5-2h0m4.5 2.5h0m-4.5 0h0m5-0.5h0m12.5 1h0m5 0h0m-6-1h0m-3.5 0.5h0m4 0h0m-10 0.5h0m1.5 0.5h0m1-1.5h0m8 0h0m-5.5 0.5h0m9.5-0.5h0m4 2.5h0m-19.5-1.5h0m22-1.5h0m-14.5 1.5h0m-4.5-1.5h0m17.5-0.5h0m-10.5 1.5h0m10-0.5h0m-14.5-1h0m3 1.5h0m-3.5-1h0m3 0h0m-2.5 0.5h0m12 0.5h0m-7.5-1h0m-5.5 0.5h0m16 0.5h0m-1 0h0m-12.5 1.5h0m6-1.5h0m3 0h0m-15 1.5h0m-1-0.5h0m21-1h0m-1.5-0.5h0m-14.5 0h0m6.5-1.5h0m-10.5 0.5h0m12 0.5h0m-3.5 1h0m-7 0h0m1 0h0m10-2h0m-2.5 1h0m-2 2h0m10-1h0m2-0.5h0m-11 1h0m3.5-1h0m-5.5 2.5h0m12-1h0m-18.5-1.5h0m14-0.5h0m-1 1h0m2-0.5h0m-5 0.5h0m-6 0h0m12-1.5h0m-5.5 0h0m11 0.5h0m4.5 1h0m-2 0h0m1 0h0m10 1h0m-0.5-1.5h0m-8.5-1.5h0m6 2h0m-11.5 1.5h0m9-1.5h0m-5-1h0m12.5-0.5h0m0.5 1.5h0m-4 2h0m3.5-2.5h0m-9 1.5h0m0-1.5h0m-3 0h0m-3.5-1h0m7 1h0m6-0.5h0m-4.5 0h0m2 0.5h0m1.5 0h0m1-1.5h0m7 4.5h0m6.5 5.5h0m-33-2.5h0m15 1.5h0m23.5-3h0m-3 3.5h0m-49 1h0m35.5-7.5h0m-1.5-1h0m-19.5 3.5h0m19-1h0m-7.5 3h0m-2-3h0m17.5 3.5h0m25-3.5h0m-44 2h0m54 0h0m-41.5-1.5h0m5 0.5h0m-2 0.5h0m5-2.5h0m-4.5 4.5h0m-2.5-3h0m-23-2h0m26 6h0m-6.5 0.5h0m8-1.5h0m-36-6h0m27 1.5h0m-10.5-2h0m25.5 5.5h0m-43-5h0m8-1h0m5 4h0m11.5 1h0m9 0.5h0m-15.5 1.5h0m-11.5-2.5h0m15 1h0m33-0.5h0m-16.5 1h0m-20 2.5h0m23-5.5h0m-38 4h0m52-4.5h0m0.5 2.5h0m-16.5 0h0m-2 3h0m-7-2h0m4.5 0h0m1 0h0m-8 2.5h0m-7.5-5h0m29.5 1h0m-24 2.5h0m12.5-2.5h0m5-3h0m22 2.5h0m-53.5-0.5h0m33.5-1h0m-4 8h0m-17-7.5h0m-11-0.5h0m29 4h0m33.5 1h0m-22.5-2h0m-2.5-1h0m-49 5.5h0m35-3.5h0m2-2.5h0m5.5 1.5h0m25 0.5h0m-64.5 2.5h0m23-3h0m21.5 0.5h0m1 0h0m4 2h0m-11-6h0m-20 5h0m7.5-3.5h0m17-0.5h0m-19.5 0h0m-3.5-0.5h0m-10.5 1h0m15-1h0m11 3h0m-13.5-1.5h0m21 0h0m-5 3h0m-25-5h0m0.5 1h0m20 2h0m9 2h0m-33.5 2.5h0m13-8h0m14 1h0m-23 2h0m18.5 0.5h0m9.5-1.5h0m-3.5-0.5h0m-22 6.5h0m15.5-6.5h0m9.5 2h0m16 1h0m-21-1.5h0m-10.5-2.5h0m16.5 3h0m-13-3h0m2 8h0m38.5-3h0m-46 1h0m26 1h0m-39-7.5h0m48.5 8h0m-30-4h0m-13-5.5h0m33 8h0m-30-4.5h0m18 0.5h0m-2.5 2h0m-7.5 0h0m17.5 0.5h0m-7-2h0m0-1h0m-15 5.5h0m17.5-1h0m-12-1.5h0m-10-2h0m24 3h0m3-2.5h0m-25.5 2h0m3-0.5h0m16-5h0m-3.5 2h0m-27.5 5.5h0m37-0.5h0m1.5-4h0m-3 5h0m-5.5-3h0m-19 2.5h0m-5-8h0m36.5 3.5h0m-51.5 3h0m16.5 1.5h0m2.5-8h0m56.5 5.5h0m-54 0h0m35.5-1.5h0m-41 1h0m42-1h0m-22 2h0m8.5-4h0m-38.5 5h0m10-0.5h0m-2-4.5h0m-9.5 1.5h0m-22.5-2.5h0m37 7h0m22-3h0m-6.5 0h0m-3 0h0m-9-5.5h0m19 8h0m-8-1.5h0m-14.5-2.5h0m-12-0.5h0m17-1h0m-22 0.5h0m11.5-1h0m-1 5.5h0m52.5-0.5h0m-8.5-1h0m-8 1.5h0m-37-2h0m21.5 0.5h0m-16.5 1h0m31.5 2.5h0m-38.5-8h0m35 7h0m-47.5-6h0m39.5 7.5h0m-14.5-3h0m3-5.5h0m5.5 5h0m12-3.5h0m-30.5-1h0m9.5 3.5h0m19-0.5h0m-11.5-0.5h0m-54 3.5h0m50 2h0m-22-7h0m52 0.5h0m-10 2h0m-24-2.5h0m31.5-0.5h0m-53-0.5h0m30.5 2.5h0m2 1.5h0m-22 0h0m11.5 0.5h0m4.5 3.5h0m21-3.5h0m-37 3.5h0m19.5-9h0m2 2.5h0m22 4.5h0m-43-3h0m55-2.5h0m-40.5 6.5h0m49-6h0m-30.5 2.5h0m-19-4.5h0m20.5 6.5h0m3-1.5h0m-17 1.5h0m7-3.5h0m27 0.5h0m-0.5 3h0m-61.5-0.5h0m2.5-4.5h0m-54.5 10h0m116.5-5.5h0m-51.5-3.5h0m-20 6h0m24.5-6h0m13 3.5h0m24.5-0.5h0m-19.5-2.5h0m-7-2h0m-17 2h0m-9-2h0m18.5 0h0m21.5 4.5h0m-20-2.5h0m18 2.5h0m-0.5-1h0m6 1.5h0m-19.5 0.5h0m-5-6h0m44.5 2.5h0m-23-1h0m-40-1h0m3 0h0m9.5 6h0m-10-7h0m22.5 0.5h0m39.5 5h0m-20 1.5h0m-16.5 0h0m3-4.5h0m-20.5-0.5h0m-3 0h0m-17-3.5h0m57.5 7h0m14-0.5h0m-49-2.5h0m-6.5 0h0m7 0h0m2.5 2.5h0m8.5-2h0m5.5 1h0m-1 1.5h0m1.5 1h0m6.5-2.5h0m18.5 1h0m-29-0.5h0m-13 2h0m9-0.5h0m1-3h0m29.5 2h0m-28-2.5h0m-22-2h0m34.5 3.5h0m-43.5-4h0m1.5-2h0m21 5h0m13-1.5h0m-12 4.5h0m-13.5 2.5h0m3.5-8h0m59 2.5h0m-80 3.5h0m48.5 0h0m8.5-3.5h0m-14 1h0m-25 3.5h0m44.5 1h0m-15-6h0m-29 4h0m50-2.5h0m-22.5 0h0m-20.5-2.5h0m31.5 3h0m-8-1.5h0m9 1.5h0m-33-4.5h0m28.5 4h0m-11 1h0m-2.5-2.5h0m-19 0h0m15.5-1.5h0m-1.5 5h0m0-4.5h0m16 1.5h0m-1-0.5h0m-26 0h0m16-0.5h0m21.5 2h0m-21-2h0m27 5.5h0m5.5-2.5h0m-21-2.5h0m-46.5 1h0m35.5-1.5h0m-56.5 8.5h0m41-11h0m17 9.5h0m-34.5-9h0m27.5 0h0m-1 2h0m-1.5 0.5h0m7-1.5h0m-1 7h0m-2.5-6.5h0m-11.5 2.5h0m-52.5 4h0m75-0.5h0m-20-7h0m2.5-0.5h0m-26 1h0m45.5 4h0m2.5-3h0m3 4h0m1-1h0m-41.5-1.5h0m31 0.5h0m-5.5 4h0m2-3h0m4.5-2.5h0m-5-2.5h0m-42 2.5h0m45.5-1h0m17 4.5h0m-34.5-3h0m-28 4.5h0m29.5-5.5h0m17 5.5h0m-7.5-5.5h0m0.5-0.5h0m18.5 3.5h0m5-1h0m-38.5 1h0m34 1h0m-54-3h0m26.5 4.5h0m28.5-2h0m-12-1h0m2-3.5h0m-38-0.5h0m34 3h0m6 1.5h0m-34-2h0m13 2h0m-2.5-6h0m21.5 7h0m4.5-1.5h0m-42.5-3.5h0m25.5 1h0m-2 2.5h0m14.5 0h0m-7-2h0m-41.5-2.5h0m19 0.5h0m41.5 2h0m-11.5-1h0m-53 5h0m51.5-0.5h0m-41-6h0m42.5 8h0m-16.5-4h0m-30 6h0m11.5-4.5h0m22.5-3h0m-26-1h0m21.5 4.5h0m-6-7h0m27.5 4h0m21.5 0.5h0m-18 4h0m-25-6.5h0m-7 7.5h0m-3-7h0m25 3h0m-14.5-2.5h0m30 2.5h0m-28.5-3.5h0m-6-0.5h0m-24.5 6h0m79 0.5h0m-23.5-1.5h0m6-0.5h0m-9 0h0m17-2h0m-44 2.5h0m-5 1.5h0m14.5-3h0m-15 1.5h0m0.5-3.5h0m2 7h0m4.5-4.5h0m5-0.5h0m16.5-3.5h0m-32 0h0m2.5-0.5h0m21.5 4h0m3-0.5h0m17 2.5h0m-10.5-0.5h0m-21 0h0m9-2h0m-25-1.5h0m-17.5 1.5h0m69 4.5h0m-45-2.5h0m3.5-6h0m23.5 7h0m-46.5-4.5h0m-10 8h0m39.5-4.5h0m26-1.5h0m-35.5-2.5h0m6.5-2.5h0m28.5 5h0m-45-1h0m28 0h0m-7.5 0.5h0m-29.5-0.5h0m54.5-0.5h0m-21.5 4h0m12-5h0m11.5 3.5h0m-26-1.5h0m17.5-1h0m-50.5 3h0m5.5 1h0m32-2.5h0m3-4.5h0m-12.5 3.5h0m-5 7h0m-18-3h0m34-1h0m-11-4.5h0m-10.5 3h0m24.5 0.5h0m24.5-1.5h0m2.5 0h0m-62 1h0m33.5-2.5h0m21.5 4.5h0m0.5-1.5h0m1 0.5h0m0 1h0m-23.5 0.5h0m10-4h0m-19 0.5h0m7.5-2h0m-22.5 0.5h0m49 2h0m-29.5-2h0m13.5 1.5h0m-9 0.5h0m-20.5 1h0m-3.5 2h0m-38 0.5h0m65.5-5.5h0m-45-2h0m81 6.5h0m-50-3.5h0m18.5 0.5h0m-38.5 2h0m15-3.5h0m57 0.5h0m-43 1.5h0m-50 3h0m32.5-0.5h0m2-3.5h0m24.5 2h0m-5 0h0m-18-7h0m3.5 3h0m8.5-2h0m-6 7.5h0m-19.5-7h0m20 5.5h0m1 1.5h0m4-3.5h0m33 1.5h0m-31.5-4h0m17.5 2.5h0m-22-1.5h0m17.5 4.5h0m-16 2.5h0m-23.5-0.5h0m16-6h0m28-0.5h0m-42.5 7h0m-10-5h0m63 1h0m-21-0.5h0m26-1.5h0m-27 4h0m14 2h0m-7.5-0.5h0m-9-6.5h0m34 2.5h0m-63.5-3.5h0m39 4h0m7.5-2h0m-50 2.5h0m61.5-2h0m-31.5 4h0m-5-0.5h0m-9-6h0m21 8h0m-6-7h0m13-0.5h0m-71.5 7h0m36.5-1.5h0m51-4h0m-51-0.5h0m26 1.5h0m-19-5h0m2 5h0m31-3h0m-13 5h0m-30-5.5h0m1.5 3.5h0m36.5 1h0m-34.5 1h0m29-0.5h0m-1-1.5h0m-26-2h0m-4 6.5h0m-8.5-7h0m14.5 6h0m-13.5-6h0m-0.5 0.5h0m52 3.5h0m-0.5-2.5h0m-5.5 2h0m-10-1h0m-11-5h0m-29 2.5h0m1 8h0m27.5-5h0m21.5-1h0m7.5 0.5h0m-30 2.5h0m17-0.5h0m-21.5-5h0m-31 3.5h0m-19.5 3h0m66-3.5h0m-25.5-1h0m39 2.5h0m-16.5-0.5h0m-3 1.5h0m-3.5-6h0m-21.5 3h0m6.5 0h0m45 3.5h0m-24.5-2.5h0m-25.5-4.5h0m-11 1h0m17.5 2h0m13.5-1.5h0m29 4.5h0m-77.5 4.5h0m62-4h0m8-1.5h0m-65.5 3.5h0m58-5.5h0m10 0h0m-35.5-0.5h0m17-1h0m-24.5 0h0m17 7h0m-12-2h0m0.5-5h0m-0.5-1h0m39.5 1.5h0m-43-2.5h0m21 2.5h0m-36 5h0m28.5-4.5h0m21.5-3h0m-41.5 6.5h0m13-5.5h0m-2 3.5h0m-8 0h0m52.5-1h0m-15-0.5h0m30 0.5h0m-32 3.5h0m22-0.5h0m-22-1h0m-21 0h0m8-4.5h0m-9-0.5h0m7 2h0m14 1h0m-31 0.5h0m32.5 3h0m-40.5-2h0m56 4h0m-57.5 1.5h0m-17-3h0m32-6h0m37.5 5h0m-42-5.5h0m29.5 5h0m-10.5 1.5h0m28.5-3h0m-61 3h0m15.5-7h0m-50.5 10.5h0m79.5-6h0m-27-3h0m-8.5 3.5h0m36.5-3.5h0m6-1h0m-33.5 2.5h0m12 1.5h0m13.5-3.5h0m-27.5 9h0m-34-7.5h0m46.5 1h0m-15 1h0m1-1h0m10 3.5h0m35-2h0m-26.5 0.5h0m16-2.5h0m0 2.5h0m-26-4h0m19 6h0m-58 1h0m68-3h0m-24.5-2.5h0m-21-1.5h0m9-1h0m12 7.5h0m-5-2h0m15 0.5h0m22 1h0m-41 0.5h0m-31.5 2h0m74.5-5h0m-33.5-4.5h0m7.5 3h0m-4.5 0h0m-31 2h0m43 3h0m-34-2.5h0m17-4h0m-10.5 4.5h0m24.5-1.5h0m-25-5.5h0m17.5 6h0m-47.5 3h0m49-6h0m-36.5-1h0m34 6.5h0m0-7h0m-5 8.5h0m-43.5 1.5h0m14-3.5h0m26-4h0m6-1h0m21.5 3.5h0m-15-2h0m-6-1h0m35 0h0m-46.5-0.5h0m30.5 7h0m-17.5-2.5h0m10.5-2.5h0m-3 2.5h0m15.5-1.5h0m-16-2.5h0m2-1.5h0m-25-3h0m13.5 6h0m2 0.5h0m39-2.5h0m-63 5.5h0m45-5h0m-40-3h0m21 1.5h0m-25-0.5h0m56 4h0m-44-2h0m-20.5 5h0m-3.5 1h0m42-6.5h0m-43.5-1.5h0m7 7.5h0m-2.5-7.5h0m19 1.5h0m13 0.5h0m-1.5 4h0m15-3h0m-16-3h0m19.5 5.5h0m-21.5-2.5h0m13 2.5h0m48-2h0m-60.5-3.5h0m20.5 6h0m-39.5-3.5h0m18.5-3h0m-20.5 1.5h0m32 3h0m-14.5 2h0m26-5.5h0m-24-0.5h0m31 1.5h0m-33.5-1h0m3.5 2h0m7 4h0m-17.5-2.5h0m10.5 3h0m40.5-2.5h0m-42.5-4h0m-7 4.5h0m-16.5 1h0m80 1h0m-37-6.5h0m-27.5 2h0m6 1h0m42.5 1h0m-13.5 2h0m-62 2h0m21.5-9h0m28.5 1h0m-73.5 6h0m39.5-3.5h0m19 0.5h0m-57-1.5h0m79 6h0m-17.5-2h0m58.5-0.5h0m-64.5-6h0m-3.5 8h0m-3.5-1.5h0m2 0.5h0m14.5-6h0m-50 6h0m41-1h0m-19 1h0m45 2.5h0m-11.5-7h0m28-1h0m-15 1h0m-37 7h0m17-3.5h0m-15.5-5.5h0m15 7h0m-18.5-8.5h0m43 9h0m4.5-6.5h0m-5.5 1.5h0m-1 1.5h0m-0.5-0.5h0m-23.5 4h0m-3.5-4h0m17-3h0m-22 4h0m19-2.5h0m-11.5 2.5h0m1.5-1h0m-10-3h0m8 5h0m-19 3.5h0m35.5-2.5h0m-39 1h0m-29-3h0m50-7h0m-39.5 13.5h0m34.5-11h0m33.5 1h0m-53 0h0m64 2.5h0m-18.5-1.5h0m-28.5-1.5h0m7 4.5h0m-10.5 1.5h0m10-6.5h0m6 10h0m9-7.5h0m-18.5 0h0m-9-2h0m1.5 6.5h0m-9.5-5h0m66.5-0.5h0m-65-1.5h0m30 5h0m5-5.5h0m-17 3h0m35 1.5h0m-22.5-4h0m-22.5 0.5h0m5 6h0m47-1.5h0m-36-5.5h0m28 5.5h0m-25-1h0m-3.5 1h0m15.5 2h0m-20-7.5h0m-18 0.5h0m24.5 4.5h0m-6-1.5h0m-18-1h0m8 1h0m35-2h0m0 1h0m-68.5 3h0m64.5-4h0m-9 2.5h0m-14 1h0m24.5-3h0m-53.5 6h0m63.5-4.5h0m-26-4.5h0m-26.5 9h0m50-1.5h0m-32.5-4h0m6 5h0m20-4.5h0m-48.5 3h0m8.5-4.5h0m3.5-2.5h0m11.5 8h0m24.5-4h0m9 1h0m-36.5 1h0m19 1.5h0m-13.5 0h0m5-4.5h0m24 5.5h0m-22 0h0m-27.5 1.5h0m63.5-5h0m-22-0.5h0m5.5 4.5h0m0-4.5h0m13.5-1h0m-50.5 0h0m21 1.5h0m-7.5 0.5h0m-9.5-4h0m-30.5 3h0m54.5-0.5h0m-32-0.5h0m36.5-1h0m-49.5 0h0m22.5-0.5h0m8 6.5h0m46.5-0.5h0m-55 0h0m43.5-4.5h0m13 0h0m-54.5 2h0m-0.5 0.5h0m10-3h0m11 1h0m-13 0.5h0m26-2h0m-23.5 2.5h0m-4-3h0m-8.5 9.5h0m34.5-4.5h0m-3 0.5h0m-31.5 1h0m42-2.5h0m-35-1.5h0m7 2h0m25-3.5h0m-51.5-2h0m2.5 1.5h0m-1 7h0m15.5-6h0m9 4.5h0m8.5-4h0m7.5 3h0m-9-3.5h0m-29.5-2h0m44 3.5h0m-16 3.5h0m13-6h0m-91.5 7h0m64.5-2.5h0m31.5-3h0m-34 5h0m-10.5-6.5h0m36.5 4.5h0m-40 1h0m25-2h0m-8.5 3.5h0m-55-5h0m33 5h0m13-3.5h0m11 0.5h0m-23-3.5h0m44-1h0m17 4h0m-26-1h0m-0.5-0.5h0m-24.5 2h0m36-1.5h0m-29-2h0m1.5 7h0m-21-9h0m15 3h0m-24.5-4.5h0m13 7.5h0m41.5-5h0m14.5 5h0m-21.5-4h0m29 3.5h0m2.5 2.5h0m-17.5-4.5h0m-18 4h0m2-4.5h0m12 4.5h0m0.5-6.5h0m-36.5 4h0m23 1.5h0m-3-6.5h0m-40.5 7h0m43 2h0m28-2.5h0m-9.5-1.5h0m-30.5-5.5h0m18.5 4.5h0m-10.5 0.5h0m-40.5-2.5h0m64.5 3.5h0m-31-3h0m6-2h0m-25 7.5h0m30.5-5.5h0m-24.5-2.5h0m32.5 7h0m-26.5-2h0m37 1h0m-15.5-0.5h0m-18.5-0.5h0m-11.5-6.5h0m50.5 7h0m-40.5-6h0m1 1.5h0m-23.5 6.5h0m6.5-4h0m8 4.5h0m-7.5-9.5h0m-9.5 11.5h0m12.5-10.5h0m51.5 6h0m-38-1h0m22 1.5h0m-8.5-6.5h0m-3.5 4.5h0m18 1.5h0m-48.5-4h0m18.5 7h0m9.5-5h0m22 4h0m-30.5-1.5h0m36.5-5h0m-36 2h0m15 0.5h0m18.5 2h0m0.5-3.5h0m5 1h0m-61.5 0.5h0m79.5 0.5h0m-131.5 4h0m105.5-4.5h0m-30.5 2h0m32.5-2h0m5 2.5h0m-37.5 1.5h0m42-4.5h0m-28 2.5h0m-19-4h0m-12.5 6h0m5-7h0m48.5 5.5h0m-48.5-1h0m14-4.5h0m-23.5 5.5h0m12.5-4.5h0m-16 1h0m69.5 1.5h0m-37 4.5h0m-9.5-0.5h0m21-1h0m-11.5-2.5h0m-10-4.5h0m16.5 3h0m-21.5 2.5h0m35.5-0.5h0m4.5 0.5h0m-28.5-3h0m-1-3h0m34.5 3.5h0m-9.5 4h0m-35.5-1h0m34-3h0m7.5 4.5h0m-20-1.5h0m2-1h0m-29-5h0m42.5 0h0m9.5 4h0m-5.5 0h0m-91.5 5h0m107-6h0m-46 4.5h0m20 2.5h0m9-4h0m-35-6.5h0m19 5h0m-34-5.5h0m-12.5 5.5h0m45-4.5h0m-3 8h0m-35.5-0.5h0m54.5-6h0m-19.5 4h0m-13.5 3h0m27.5-4.5h0m-31 1h0m-1.5-1.5h0m1 1h0m26.5 5h0m-3-8h0m12.5 2h0m-28 3h0m-0.5-6.5h0m10.5 4.5h0m-17 0h0m39-3.5h0m-26 4.5h0m11.5-2.5h0m-12.5 0.5h0m4.5 0h0m-24-2h0m31 5.5h0m21.5-4.5h0m-1.5 1h0m-57 1h0m35 2h0m-9-2h0m-30.5-4.5h0m20.5 2.5h0m57.5 3.5h0m-25-3.5h0m2-0.5h0m-21 3.5h0m-45.5-6h0m66 8h0m-11-5.5h0m-22 1h0m-11.5-1h0m28.5-0.5h0m35.5 4.5h0m-36-4.5h0m3 0h0m-4.5 1h0m-9 3.5h0m20.5-4h0m-32-1h0m-14.5 7h0m7 1h0m57-5.5h0m-43.5 0.5h0m39.5-1h0m-24 3.5h0m8-6h0m12.5 7h0m-12.5-4h0m-1 1.5h0m-9.5 1.5h0m5.5-4.5h0m-21.5 3.5h0m26 1h0m-29-6h0m12.5 1.5h0m-30.5 7h0m-13 0.5h0m35.5-7.5h0m-9 4h0m7-4.5h0m56.5 0.5h0m-38.5-0.5h0m2.5 1h0m-26-1.5h0m31 5h0m-46.5 5h0m15-2h0m3.5-10.5h0m14 7.5h0m-19-4h0m33-1.5h0m-41.5 4.5h0m20.5 3h0m67.5-1h0m-22.5-5h0m-43-0.5h0m7 7h0m18-2.5h0m-28.5-6.5h0m-5.5 7h0m40.5-5h0m3 3.5h0m-6.5 0h0m2.5-1.5h0m-23.5 3.5h0m23-3h0m15 0h0m-43 0h0m-3-4h0m47 6.5h0m-4.5-0.5h0m-46 1.5h0m23-5h0m-61.5 3h0m42-3h0m51.5 3.5h0m-8-3h0m-27.5-4.5h0m-2 3.5h0m-19.5 0h0m19-2h0m-28 7.5h0m13.5-3.5h0m-58 1.5h0m59.5-2h0m24.5 1.5h0m-16.5-4.5h0m-5.5 4.5h0m23.5-4h0m-22 0.5h0m-21.5 3.5h0m-18 5h0m52-9.5h0m16 4.5h0m-45 0h0m-22 3.5h0m67.5-5h0m-12-1h0m13.5 3.5h0m-1-3h0m26.5 1.5h0m-98 3h0m38.5-7.5h0m39.5 5h0m-48-4.5h0m24 0h0m31.5 0.5h0m-78 5h0m12.5-3h0m16.5 5.5h0m3.5-1.5h0m-58.5 2h0m85-2.5h0m9.5-4h0m-12.5 2.5h0m4-1h0m-4 0h0m-53-5.5h0m85 5.5h0m-67.5-5h0m23.5 8h0m22.5 0h0m-60.5-0.5h0m60.5 0h0m-59-4h0m45.5-2.5h0m-31.5 4h0m40.5 3h0m-12-5.5h0m-50-1h0m60 3h0m-50.5 3.5h0m66-3h0m-66.5-4h0m41.5 1h0m-37.5 8h0m51.5-3.5h0m-66.5 2.5h0m19.5 0.5h0m31-8.5h0m32 3h0m-63.5-3.5h0m-18 8h0m44-8h0m2.5 3h0m-13.5 4h0m34.5-2h0m-67.5 4h0m72.5-1.5h0m-40-2.5h0m17.5-3h0m-44 1.5h0m38 0.5h0m-26 6h0m21-5h0m3.5-3h0m2-1h0m-32.5 2h0m37 0.5h0m-1 3.5h0m-15.5-7.5h0m29 5h0m-45.5 3.5h0m33-1.5h0m-29 2h0m29-3h0m11 2h0m7.5-3.5h0m-31 0.5h0m28.5 2.5h0m15.5 0h0m-57-1h0m9-4h0m-13 5h0m6 1h0m-5-7h0m39 1h0m-33 2h0m14-1h0m-3.5-3h0m0.5 3h0m37.5 4.5h0m-2.5-3h0m-60 4.5h0m14.5-9h0m14.5 3h0m17.5 0h0m-41.5-2h0m-26.5 0h0m23.5-0.5h0m35.5 4.5h0m-32 3h0m59.5-6h0m-23 0h0m11.5 3h0m-11-1.5h0m10.5 2h0m-10.5-4h0m11 6.5h0m4.5-4.5h0m3-0.5h0m3 4.5h0m-62 2h0m73.5-5h0m-51.5 1.5h0m4-2.5h0m-23 4.5h0m7-1.5h0m20.5-6.5h0m-7 2.5h0m-40.5 4h0m36.5 0.5h0m-5.5-2h0m51 3.5h0m-41-3h0m-49.5 1.5h0m54.5-5.5h0m-29 4.5h0m43.5-1.5h0m1-3.5h0m-2.5 0.5h0m-2 1h0m14.5 3h0m23.5 0h0m-28-0.5h0m1.5-4.5h0m14 4.5h0m-58.5 1.5h0m46.5-1.5h0m-14 1h0m-11.5 0.5h0m-0.5 0h0m-46 2h0m24.5-0.5h0m58-2h0m-8.5-2.5h0m-57-1.5h0m14.5 8.5h0m-13.5-1.5h0m60.5-2.5h0m1.5 0.5h0m0.5-2h0m-26 2.5h0m22-1h0m-32 0.5h0m6 1.5h0m9-5h0m-32-3h0m25 5h0m-10.5-3.5h0m6.5 3.5h0m17.5 2h0m-31.5-5.5h0m-23.5-0.5h0m27 5h0m-13.5 2h0m29-7.5h0m38 2.5h0m-83.5 5.5h0m45.5-4h0m-38.5 1.5h0m10-3h0m1 0h0m33-3h0m-16.5 6h0m-9.5 2h0m35-6.5h0m-23.5 6.5h0m28.5-1.5h0m-38.5-5.5h0m-29 2h0m27 0.5h0m38.5 0h0m-12 3h0m-19 0h0m54.5-1h0m-83.5 2h0m35-2.5h0m1.5 1h0m-7.5 2h0m-18-4h0m45 0h0m-9.5-1.5h0"/></g><text x="30.9" y="692.2" text-anchor="middle">0</text><text x="61.3" y="692.2" text-anchor="middle">20</text><text x="91.7" y="692.2" text-anchor="middle">40</text><text x="122.1" y="692.2" text-anchor="middle">60</text><text x="152.5" y="692.2" text-anchor="middle">80</text><text x="182.9" y="692.2" text-anchor="middle">100</text><text x="27.9" y="683.6" text-anchor="end">-10</text><text x="27.9" y="658.7" text-anchor="end">0</text><text x="27.9" y="633.9" text-anchor="end">10</text><text x="27.9" y="609.0" text-anchor="end">20</text><text x="27.9" y="584.2" text-anchor="end">30</text><text x="27.9" y="559.3" text-anchor="end">40</text></g><text x="119.0" y="703.2" text-anchor="middle" style='font-family:"Liberation Serif",serif;font-weight:bold;font-size:9.9px;letter-spacing:-0.3px'>V2</text><text transform="translate(12.2 618.2) rotate(-90)" text-anchor="middle" style='font-family:"Liberation Serif",serif;font-weight:bold;font-size:9.9px'>V3</text><text x="119.0" y="553.6" text-anchor="middle" style='font-family:"Liberation Serif",serif;font-weight:bold;font-size:9.6px;letter-spacing:-0.3px'>GMM</text><g style='font-family:"Liberation Serif",serif;font-weight:bold;font-size:8.1px'><rect x="169.6" y="560.1" width="31.2" height="55.5" fill="#fff" stroke="#5a5a5a" stroke-width="0.9"/><circle cx="182.8" cy="565.9" r="0.7" fill="#ff0000"/><text x="194.8" y="568.6">1</text><circle cx="182.8" cy="574.8" r="0.7" fill="#ffff00"/><text x="194.8" y="577.5">2</text><circle cx="182.8" cy="583.8" r="0.7" fill="#00ff00"/><text x="194.8" y="586.5">3</text><circle cx="182.8" cy="592.7" r="0.7" fill="#00ffff"/><text x="194.8" y="595.4">4</text><circle cx="182.8" cy="601.7" r="0.7" fill="#0000ff"/><text x="194.8" y="604.4">5</text><circle cx="182.8" cy="610.6" r="0.7" fill="#ff00ff"/><text x="194.8" y="613.3">6</text></g><g style='font-family:"Liberation Serif",serif;font-weight:bold;font-size:8.6px'><path d="M263.6 680.4v-2M263.6 556.1v2M294.1 680.4v-2M294.1 556.1v2M324.6 680.4v-2M324.6 556.1v2M355.1 680.4v-2M355.1 556.1v2M385.6 680.4v-2M385.6 556.1v2M416.1 680.4v-2M416.1 556.1v2M263.6 680.4h2M440.5 680.4h-2M263.6 659.5h2M440.5 659.5h-2M263.6 638.6h2M440.5 638.6h-2M263.6 617.7h2M440.5 617.7h-2M263.6 596.8h2M440.5 596.8h-2M263.6 575.9h2M440.5 575.9h-2" stroke="#7f7f7f" stroke-width="0.8" fill="none"/><rect x="263.6" y="556.1" width="176.9" height="124.3" fill="none" stroke="#7f7f7f" stroke-width="1"/><g fill="none" stroke-linecap="round" stroke-width="1.4"><path stroke="#ff0000" d="M295.5 676h0m5.5 1.5h0m-1.5-4.5h0m-3.5 2h0m0.5 0.5h0m5 1.5h0m-5-1h0m4.5 0.5h0m0-1h0m-2.5-1h0m-4.5 1h0m6.5 1h0m0-2.5h0m0.5 2h0m0.5-2h0m-2.5 2.5h0m-0.5 0.5h0m2.5-2.5h0m0.5 3h0m-3-1h0m2-4h0m-0.5-1h0m-5 4.5h0m4-1h0m-2 0h0m4.5 1h0m-7 0h0m6.5 1h0m-3.5-3h0m0.5 2.5h0m1-0.5h0m0 1h0m-1-1h0m-0.5-1.5h0m3.5-0.5h0m-8 2.5h0m4-2.5h0m2.5 3h0m-3-2.5h0m1 0.5h0m1 1h0m-3.5-0.5h0m3.5-0.5h0m-3 0h0m-0.5 0h0m5 0.5h0m0 0.5h0m-5.5 1.5h0m0.5-1h0m2 1h0m-1-0.5h0m3.5-1h0m-1-4h0m0 3.5h0m1 0h0m0 2h0m-1.5-3.5h0m1 0h0m0 1.5h0m1.5-1h0m-4-0.5h0m2-1.5h0m-0.5 2.5h0m0.5-2h0m-2.5 1.5h0m4.5 1h0m-3 1.5h0m3-1h0m-6.5 0h0m7.5 0.5h0m-1.5-1.5h0m0 2h0m-1-5h0m2 0.5h0m-5.5 4.5h0m2.5-1.5h0m-2.5-1h0m3.5-1.5h0m1 1.5h0m0-3.5h0m1.5 4.5h0m-1-0.5h0m-4.5 1h0m-1.5 1h0m-2-0.5h0m7.5-3.5h0m-5 1.5h0m6 0.5h0m-4 1.5h0m-3 0.5h0m5.5-2h0m-2.5 2h0m4.5-2.5h0m1.5 2h0m2.5-3h0m-2 2.5h0m1 2h0m1-2h0m7.5 0.5h0m-6.5 0h0m1 0.5h0m1-0.5h0m-0.5 0.5h0m-5-1h0m3 0.5h0m3 0h0m-5.5 0h0m1-1.5h0m2 3h0m-0.5-1h0m-4-0.5h0m4.5-4h0m7.5 4.5h0m-7 0h0m0-2.5h0m0 2h0m-5-1h0m2 0h0m7 1.5h0m6-1h0m-14 1h0m-0.5-1h0m5.5 1.5h0m3.5-0.5h0m-7-1.5h0m4.5-0.5h0m1 1.5h0m-4.5 0.5h0m-1 0h0m0.5-2h0m3 1h0m-1.5 1h0m1-1.5h0m-5.5 0.5h0m1.5-3.5h0m6.5 4.5h0m-5-1h0m10 0.5h0m-8.5-1h0m5 1h0m-2.5 0.5h0m-5 0.5h0m8-1h0m-4.5 1h0m-1.5-1.5h0m-3-2.5h0m3.5 2.5h0m-4.5-2.5h0m3 2h0m-1 1h0m1 0.5h0m2-1h0m-4.5-2.5h0m6 0h0m-1 2.5h0m-0.5 2h0m0.5-1.5h0m3.5 0h0m-1.5 0h0m0 0.5h0m3-1.5h0m0.5 1.5h0m-9-1h0m-0.5-2.5h0m4.5 3h0m5.5 0.5h0m-10-2h0m-1-1h0m2 2.5h0m1.5-1h0m4 0.5h0m-7-2h0m7.5 2h0m-4.5 1.5h0m2.5-2.5h0m-3 0.5h0m3 1.5h0m-6-0.5h0m2.5 0h0m-3-2h0m4 0h0m4-1h0m-7.5 3.5h0m5-3.5h0m4.5 3.5h0m-10 0h0m3 0.5h0m1-4h0m0 1.5h0m5.5 0h0m-7.5-2.5h0m5 5h0m-3.5 0h0m8-1h0m-10 1h0m2-1h0m5 0.5h0m-2.5-2h0m-2.5-2h0m-3.5 0h0m0.5 1.5h0m-0.5 0.5h0m0 2.5h0m7.5-1.5h0m-6.5-1h0m11.5 1h0m-8-1h0m-4 2.5h0m4.5-4h0m-4 2h0m3.5 2h0m-1-3h0m5 2h0m-7 0.5h0m13-1h0m0.5 0.5h0"/><path stroke="#ffff00" d="M283 657h0m0.5 3.5h0m0-3.5h0m-0.5-2.5h0m0 3.5h0m-0.5 0.5h0m0-4.5h0m1 2h0m-1 4h0m-0.5 0.5h0m1-5.5h0m-1 3h0m1-2h0m-0.5 1.5h0m0 1.5h0m0-1h0m1 5.5h0m-0.5-1.5h0m-1.5-4.5h0m2 4h0m-1-6h0m-0.5 1h0m0.5 4.5h0m0-4h0m0.5 0.5h0m0.5 1.5h0m-1 1.5h0m0.5-4h0m0.5 7.5h0m-1.5-5h0m1 5.5h0m-2-3.5h0m2-7h0m-0.5 8.5h0m0.5-3.5h0m-0.5-4h0m0 1h0m0.5 6.5h0m-1.5-1.5h0m0.5-3.5h0m1.5 3.5h0m-1 0.5h0m-2-1h0m3-2.5h0m-0.5 3h0m1-5.5h0m2 2h0m-1 9.5h0m-0.5-10h0m4 2h0m-4.5 5.5h0m0.5-3.5h0m1.5 4h0m0-1.5h0m-2-3.5h0m5.5 3h0m-1-7.5h0m-4.5 0.5h0m1.5 5h0m2.5-3h0m1.5 4h0m-1 4.5h0m-4.5-9.5h0m0.5 2h0m4 4h0m-1.5 2h0m-2-18h0m0.5 15.5h0m1-8.5h0m-0.5 8h0m1.5 4h0m-4-7.5h0m3.5 0h0m-2-2h0m1 4h0m-0.5-2.5h0m2 3h0m-3.5 3h0m0-2.5h0m3.5 5h0m0-7h0m-3-5.5h0m0 8.5h0m2-6h0m-1.5 8.5h0m4.5-4.5h0m-4.5 0h0m-1-1h0m2.5-3.5h0m2 9h0m-3 0.5h0m1-1.5h0m1-1h0m-2 3h0m3-1.5h0m-4-9h0m2.5 10.5h0m-1.5-3h0m4 1h0m-4-8.5h0m0.5 5.5h0m-2 2h0m3.5-4.5h0m-1-3.5h0m-2.5-6h0m1.5 7h0m2.5 4.5h0m-3 4h0m0-13.5h0m3 10h0m-0.5-2h0m-2.5 4h0m2.5 4.5h0m-2-4h0m-1-13.5h0m1 17.5h0m-1-7h0m2 2.5h0m0-3h0m-1-12.5h0m1.5 14h0m-1.5 5.5h0m3.5-8.5h0m-3-8h0m0.5 10h0m1-9.5h0m2.5 9.5h0m-5.5 2.5h0m-1-8.5h0m2 4.5h0m-2 3.5h0m1 2.5h0m0.5-2.5h0m-1-6h0m3 5.5h0m0.5-5h0m-3 1h0m3 4.5h0m0.5-3h0m-1.5 4h0m0 2h0m-2-16.5h0m4.5 16h0m-3.5-3.5h0m3.5 4.5h0m-2.5-1h0m0-2.5h0m-1.5 3.5h0m4-9.5h0m-2 6h0m-1.5 2h0m0.5-0.5h0m2 2h0m-4-8h0m0 3h0m3.5 4.5h0m-2.5-3.5h0m3 3.5h0m-2-5.5h0m2 2.5h0m-1.5-10.5h0m4.5 7.5h0m-6.5-1h0m-0.5 2h0m0.5-11h0m4.5 8.5h0m-2 2h0m-2.5-9.5h0m3 11h0m-2-4h0m-1.5 6h0m4 0h0m1.5-4h0m-1.5 3.5h0m-4-11h0m1 11.5h0m1-14h0m-1 9.5h0m1 4h0m1.5-5.5h0m-2-3.5h0m1.5 0.5h0m1 4.5h0m-1 0h0m-0.5 0.5h0m1.5 4.5h0m-1.5-3h0m1.5 0.5h0m-2.5-17h0m4.5 17h0m-6-6.5h0m1.5-3h0m-1 13.5h0m0-9.5h0"/><path stroke="#00ff00" d="M309.5 678h0m7 0h0m-2-0.5h0m-2 0.5h0m-6.5 0h0m7.5-0.5h0m-1.5-0.5h0m-0.5-0.5h0m1.5 1h0m4 1h0m-5-0.5h0m4 0.5h0m-5-0.5h0m0.5-0.5h0m3.5-0.5h0m-0.5 1.5h0m-0.5-1.5h0m-2 0.5h0m-3.5 0.5h0m8 0.5h0m-2.5-1h0m-4 0.5h0m5.5-0.5h0m-9 0h0m8.5 0.5h0m-0.5-1.5h0m-5.5 1.5h0m-2 0h0m6.5-1h0m1 0h0m-10.5 1h0m3.5 0h0m9 1h0m-0.5-2h0m0.5 0h0m-3.5 1h0m-6.5 0h0m9-1h0m-0.5 0.5h0m-5.5 1h0m-2-1h0m0.5-0.5h0m0.5 0h0m6 1h0m-2-1h0m-1 1h0m1-0.5h0m3.5 0h0m-6.5 0h0m6.5 0.5h0m-2.5 0.5h0m0-0.5h0m3.5-0.5h0m-12 0.5h0m3-0.5h0m5 1h0m-2.5 0h0m-1-1.5h0m6 1h0m-1.5 0h0m2 1h0m-5-2h0m-1 0.5h0m5.5 1h0m-8.5-1h0m9.5 0h0m5.5 1h0m-3-0.5h0m8 0.5h0m6.5 0h0m-16-1.5h0m21 2.5h0m-16-1.5h0m1 0.5h0m12.5 0h0m-2-0.5h0m-9.5 0.5h0m3 0h0m8.5 0.5h0m-11-1h0m10.5 0.5h0m-0.5 0h0m-7.5-0.5h0m10 0.5h0m-11.5-1h0m5.5 1.5h0m-2.5-0.5h0m2 0.5h0m-1.5-1h0m-10 0.5h0m20 0.5h0m-0.5 0.5h0m-21-1.5h0m20.5 1h0m-18.5-0.5h0m15.5 0.5h0m-8.5-1h0m2.5 0.5h0m-11.5 0h0m15 0h0m5 0h0m-15-0.5h0m12 1h0m2-0.5h0m-12-1h0m1.5 1h0m-2 1h0m-5-0.5h0m10.5-0.5h0m4 0h0m-6.5-1h0m3 1h0m-4 0.5h0m11 0h0m-5-0.5h0m-13.5 0h0m20 0.5h0m-10.5-0.5h0m6-0.5h0m1 0h0m2.5 1.5h0m-9 0h0m5-0.5h0m-2.5-0.5h0m-5.5 0h0m12 1.5h0m-19.5-2.5h0m16 1.5h0m-7 0h0m-3.5-0.5h0m-6-1h0m5.5 0.5h0m4.5 1h0m8.5 0.5h0m-14-1h0m1.5 0.5h0m5.5 0h0m2.5-0.5h0m5 1h0m0-0.5h0m-11 0h0m2 0.5h0m10-0.5h0m-18-1h0m1-0.5h0m7.5 1.5h0m-8-1h0m0-1h0m2.5 1.5h0m12.5 1h0m-7-1.5h0m-3 0h0m-4.5 0.5h0m7.5 1h0m-6-0.5h0m3-0.5h0m-7 0h0m9 1h0m4.5-0.5h0m-3-1h0m10.5 0.5h0m-9 1h0m-7.5-2h0m-5.5 1h0m6.5-0.5h0m6 0h0m-8 0h0m14.5 0.5h0m-8.5 0h0m5.5 1h0m-0.5-0.5h0m-11.5-1h0m9 1h0m1 0.5h0m1-0.5h0m-1.5-0.5h0m-12.5-0.5h0m1.5-0.5h0m-2.5 0h0m4.5 0h0m13 0.5h0m1 1.5h0m-6 0h0m-9-1.5h0m15.5 0h0m-18-1h0m14 2.5h0m-10.5-2.5h0m-2.5 0.5h0m-0.5 0h0m2 1.5h0m10-1.5h0m-11.5-0.5h0m6 2h0m3.5 0h0m10.5 0.5h0m-14.5-0.5h0m8.5 0h0m-1.5 0.5h0m-14.5-1.5h0m16.5 1.5h0m-15.5-0.5h0m1-1h0m10.5 1h0m-5.5-1h0m12 1h0m-16-0.5h0m4.5 0h0m-0.5-1.5h0m-4 2h0m5-1.5h0m-6.5 2h0m12.5-2h0m3 2h0m3 0h0m-17-2h0m14 1h0m-11 0.5h0m0-1.5h0m-1-0.5h0m16.5 1.5h0m-22-1.5h0m4.5 0.5h0m3 1.5h0m8-1h0m-15 1h0m16.5 1h0m12-0.5h0m-6 0h0m2-0.5h0m5.5-0.5h0m11 1h0m-16.5-1h0m0 1h0m15.5 0h0m-5 0h0m-7.5-0.5h0m17 0.5h0m-6.5 0h0m4 0h0m-11 0h0m13 0.5h0m-15-0.5h0m16 0.5h0m-21-1h0m15 0.5h0m-7 0h0m5-0.5h0m-13.5-0.5h0m4 0h0m12 1h0m-9.5-0.5h0m-2 0h0m15.5 0.5h0m-9.5 0h0m3 0h0m1.5-0.5h0m-5.5 0h0m-7-0.5h0m-3 0.5h0m13.5 0.5h0m-4.5-0.5h0m2.5 0h0m7 1h0m-4-1h0m-11.5 0.5h0m10.5-0.5h0m-12.5 0.5h0m6 0h0m8.5-1h0m3 1h0m-4 0h0m5.5 0h0m-19.5-0.5h0m5 0h0m-0.5 0.5h0m-1.5 0h0m13.5-0.5h0m-7.5 0.5h0m-7 0h0m15 0h0m-2 0h0m-13 0.5h0m3.5-1h0m13.5 0.5h0m-4.5-0.5h0m1.5 0h0m-12.5 0h0m18 0h0m-1.5 0h0m1.5 0.5h0m-13.5 0h0m1.5 0h0m-4.5-1h0m-5.5 0h0m13 0.5h0m-9 0.5h0m9 0h0m-4.5-0.5h0m-0.5 0h0m1.5 0h0m3 0.5h0m-10-0.5h0m9.5 0h0m8 0h0m-18 0.5h0m16.5-0.5h0m-15.5 0h0m12.5 1h0m2 0h0m-5-1h0m6.5 0h0m-7.5 0.5h0m5 0.5h0m-6-1h0m-10.5 0.5h0m17 0.5h0m-6 0h0m10-0.5h0m-0.5 0.5h0m-13 0h0m-3-2h0m13.5 1h0m-3.5 1h0m-11-1h0m-4-0.5h0m13.5 0h0m4.5 0.5h0m-17.5 1h0m19.5 0h0m-20-1h0m11.5 0h0m-6.5 0.5h0m-0.5-1h0m2.5 0.5h0m9.5 0h0m-15.5 0.5h0m19.5 0.5h0m1.5 0h0m-11-0.5h0m-10.5-1.5h0m4.5 2h0m5-1.5h0m12 0.5h0m-5.5 1h0m-9.5-0.5h0m-3.5 0.5h0m9.5 0h0m-10.5-1h0m-1-0.5h0m13.5-0.5h0m-1.5 2h0m10-0.5h0m12.5 0.5h0m-1.5-0.5h0m4 0h0m-9.5 0h0m1.5 0.5h0m7.5-0.5h0m-8.5 0h0m7 0h0m-6.5 0h0m-1.5 0h0m-1-0.5h0m-1 0h0m-1 0.5h0m13.5 0.5h0m-14.5-0.5h0m-1.5 0.5h0m15.5-1h0m-14.5 0h0m10 0.5h0m0.5 0.5h0m-11.5-0.5h0m9 0h0m-6 0h0m7.5 0h0m0-0.5h0m-5.5 0.5h0m4-0.5h0m-1 0.5h0m4 0.5h0m-9 0h0m11.5 0h0m-8 0h0m7.5-0.5h0m-4.5 0.5h0m3 0h0m-8 0h0m3.5-1h0m-7 0.5h0m2.5 0h0m6.5 0h0m3.5-0.5h0m-12 1h0m12 0h0m-11.5-0.5h0m6.5 0.5h0m-4.5 0h0m-0.5 0h0m9.5-0.5h0m-6 0.5h0m3.5 0h0m-0.5-1h0m-1.5 0.5h0m-2.5-0.5h0m3 1h0m2 0h0m4.5 0h0m-1.5 0h0m-12.5-1h0m3 0.5h0m-4-0.5h0m0 1h0m9.5 0h0m4.5-0.5h0m-11.5-0.5h0m-2 1h0m7 0h0m-7.5-1.5h0m6.5 0.5h0m9.5 0.5h0m-10.5-1h0m0.5 0.5h0m1 0.5h0m-1.5 0.5h0"/><path stroke="#00ffff" d="M290.5 674h0m-2-3.5h0m2 4.5h0m-3-3.5h0m0.5-2h0m2.5-8.5h0m-3 8h0m2.5 0.5h0m-0.5-2.5h0m0 4h0m0.5-5.5h0m1 8.5h0m-1-5h0m-1 0h0m-1.5 0.5h0m2.5-1.5h0m0.5 0h0m0-3h0m0.5 3.5h0m-3 0.5h0m-1.5 3.5h0m4-3h0m-0.5-3.5h0m-2 6h0m1 2h0m-1-6h0m-1-0.5h0m4 8h0m-3.5-8.5h0m3 6.5h0m0-3h0m-3.5-2h0m3 3h0m-1-4.5h0m-1-0.5h0m2.5 4.5h0m-1 1.5h0m-1-2.5h0m2.5 5h0m0-4h0m-1 3.5h0m-0.5 0h0m1.5-7h0m-1 5h0m-0.5-0.5h0m1 1h0m-2.5-4.5h0m2.5 3.5h0m-0.5-1h0m-1.5 2.5h0m2.5-1.5h0m-0.5-3.5h0m-1 6.5h0m0-6h0m1.5 4h0m-1.5-3.5h0m0.5-3h0m-1.5 7.5h0m-2-5.5h0m0.5 1h0m2.5-4.5h0m0.5 5.5h0m-1.5-1h0m1-2h0m-2 2.5h0m1.5 1.5h0m1-4h0m1 2.5h0m-1-3h0m-0.5 1h0m0.5-4h0m-1 5.5h0m-1-2.5h0m2.5 5.5h0m-3-5h0m1 1.5h0m1.5 5h0m0.5-7h0m-1.5 5.5h0m-2 0.5h0m2.5-7.5h0m1.5-0.5h0m0 4.5h0m-1-4.5h0m6.5 7h0m-3-0.5h0m4.5 0.5h0m-5-2h0m-1 3.5h0m3.5-1.5h0m-1.5-4.5h0m3 4.5h0m-2.5-1h0m-2.5 4h0m1.5-3h0m-1.5-5h0m2 7h0m-3-10.5h0m4 5.5h0m-3.5 4h0m0.5 0h0m0.5-1h0m2.5 1h0m-1 2h0m1-5.5h0m-2.5 3h0m0.5 2h0m7.5-5h0m-9-2.5h0m0.5 7.5h0m-0.5-1h0m5-5.5h0m-3-1.5h0m-1 8h0m4-2h0m-5-2h0m4-4h0m-3.5 9h0m1-0.5h0m3-4.5h0m0.5-0.5h0m-2.5 4.5h0m-0.5-4h0m-1 5h0m5-5h0m-5-9h0m5.5 8h0m-3.5 3.5h0m-1.5-4.5h0m-1.5 3h0m3 3.5h0m3-6h0m-1.5 5h0m-2.5-8.5h0m2.5 7.5h0m1-2.5h0m0.5 1.5h0m-6 2.5h0m2.5-6.5h0m4.5 1.5h0m-3.5 3h0m1.5-5.5h0m0.5 6.5h0m-0.5 0.5h0m-3 1h0m-1.5-9.5h0m0.5 9.5h0m2.5-7.5h0m-0.5-1h0m4 4h0m-3.5 0h0m-2.5-1h0m6.5-1h0m-5 4.5h0m4-0.5h0m-4.5-2.5h0m1.5 5h0m-0.5-3h0m-3 0h0m2 1.5h0m2.5 0h0m-3 0.5h0m0-3.5h0m-1-7.5h0m1.5 9.5h0m4.5-1h0m-5-0.5h0m6-1h0m-2.5 3.5h0m-2-6.5h0m-2 7h0m3-0.5h0m-3.5-3.5h0m3 3.5h0m0-5.5h0m-2 7.5h0m1.5-1h0m3.5-3.5h0m-6 3h0m0.5-7h0m-1-3.5h0m3 7h0m-2.5-1.5h0m-1-2h0"/><path stroke="#0000ff" d="M275.5 599.5h0m1 25h0m-0.5-16.5h0m-1-26h0m0-6h0m1.5 29.5h0m-2-18.5h0m1.5 41h0m0 0.5h0m-0.5-46.5h0m-0.5 46h0m0-44.5h0m0 15h0m0.5 23h0m0-31.5h0m0 23h0m1 26.5h0m-0.5-5.5h0m-0.5-22h0m1 17.5h0m-1.5-29h0m-0.5-28h0m1 30.5h0m-1-38.5h0m0-6h0m1 69.5h0m0-22.5h0m1-4.5h0m-1 30.5h0m-0.5-37h0m-0.5 15.5h0m0-20h0m1.5 30h0m-1.5-58.5h0m0.5 42.5h0m-0.5-7h0m1.5 36h0m-1.5-42.5h0m0.5 16.5h0m1.5 2.5h0m-1-17.5h0m0.5 27.5h0m-0.5 17h0m0.5-4h0m-1.5-66h0m1 40.5h0m0-13h0m1 8h0m-1.5-6.5h0m0.5 13h0m-1 2.5h0m0.5 3h0m0-22h0m-0.5-21h0m1.5 48h0m-1-53.5h0m1.5 61.5h0m-1-31.5h0m0 16h0m0.5-19.5h0m-1.5-14.5h0m1-1h0m-0.5 3.5h0m0 5.5h0m-0.5-2h0m2 16h0m-0.5 2h0m-1 7.5h0m1.5 7h0m-0.5-5.5h0m0-4.5h0m0.5 24h0m0 4h0m-1-10h0m-1-63.5h0m0 51.5h0m2 14h0m-1-0.5h0m-1-25h0m2 30.5h0m-1.5-8h0m0-35h0m0 14.5h0m-0.5-19.5h0m2 4h0m-1 10.5h0m0 10.5h0m0.5-5h0m-1-34h0m-0.5 47.5h0m4.5 16.5h0m-1 7.5h0m-0.5-1.5h0m0.5-18h0m0.5 22.5h0m-1-9.5h0m0.5-3h0m0 10h0m-0.5-8.5h0m0 1h0m1 0.5h0m0-13h0m-1.5 16h0m1.5-5.5h0m-2-1h0m2 19.5h0m0 2.5h0m-1.5-27.5h0m0.5 13.5h0m1-16.5h0m-2-12h0m1.5 22.5h0m0.5 9.5h0m-1-15.5h0m0.5 9h0m-1-16.5h0m0 19.5h0m0-32.5h0m0.5 36.5h0m1-2h0m-1-5.5h0m-0.5 5.5h0m2 4h0m-1.5-36h0m0.5 31h0m0.5 1.5h0m-0.5-9h0m0.5 3h0m-1-2h0m1 16.5h0m-2-14.5h0m1-18.5h0m0.5 9.5h0m0.5 19h0m-1.5-30.5h0m1.5 31h0m-0.5-11h0m0 12.5h0m1-9.5h0m-1.5-3h0m0 3.5h0m-0.5-0.5h0m0-17h0m1.5 25.5h0m0-21h0m-1.5 5h0m0.5 14h0m0.5-13.5h0m-0.5 5.5h0m1.5 7.5h0m-1.5-14.5h0m0.5 7h0m0-3h0m-1-3.5h0m0.5-16.5h0m1 20h0m0 15h0m-0.5-6h0m-1-10h0m1.5 12.5h0m0 7h0m0-12h0m-0.5-14h0m-1.5-28.5h0m0 27h0m0 8h0m0.5-1.5h0m0-24h0m0 16.5h0m1 5h0m-1.5-19h0m1.5 22.5h0m0 6h0m-1.5-15.5h0m1 15h0m0.5 2h0m0.5-7h0m-0.5 9.5h0m-1-6h0m1-1.5h0m-1.5 2h0m2 3h0m0.5-7h0m-0.5-5.5h0m-2-9h0m1 22h0m0-17.5h0m-0.5 20h0m1-30.5h0m0.5 31h0m-1-24.5h0m1 28.5h0m0-8.5h0m0 9.5h0m0-7.5h0m-1.5-8.5h0m1-5h0m0 17.5h0m-1-16h0m1-12.5h0m-0.5 26.5h0m0.5-25.5h0m-1 16.5h0m1 3.5h0m-1-10.5h0m1.5 7.5h0m-1-8h0m-0.5 14h0m0.5-3h0m-0.5-10h0m0.5 19h0m-0.5-11.5h0m0.5-20h0m0 15.5h0m-0.5-14h0m0 23.5h0m0.5-19h0m0 10.5h0m-1-18.5h0m0 21.5h0m0.5-23.5h0m0 21h0m0 5.5h0m-0.5 0h0m2-1h0m-1-14.5h0m0 7h0m0.5 20h0m-1-24.5h0m1 25.5h0m0.5-32.5h0m-0.5 26.5h0m-0.5 0.5h0m0.5-20h0m0.5 13.5h0m0.5-8.5h0m-1.5-11.5h0m0.5 29h0m-1-33h0m1.5 24.5h0m-0.5-13h0m-0.5 16h0m0.5-2.5h0m0 7h0m-0.5-34h0m0 32h0m-0.5-3h0m2 6h0m-2-11h0m1.5 18.5h0m0.5-3.5h0m-2-14h0m1-1h0m0.5 6.5h0m-1.5-8h0m1.5-14.5h0m-1 0h0m0-12h0m-1 20.5h0m2.5 6.5h0m-0.5 9h0m-1.5-34h0m-0.5 26.5h0m0.5-21.5h0m0.5 23.5h0m2.5-13h0m1.5 28h0m-1.5-4.5h0m1 10h0m0.5-7h0m0 5h0m-1-9.5h0m2 8h0m-3-22h0m0 13h0m0 5h0m3.5-0.5h0m-3-16.5h0m0 12h0m1 12h0m0-24.5h0m-2 20.5h0m1.5-6.5h0m1 2.5h0m-2.5-1.5h0m1 6.5h0m1-9h0m1.5 6.5h0m0 1.5h0m-0.5 1.5h0m0-9h0m0-2.5h0m-2 6h0m-0.5-0.5h0m3-5.5h0m-3 9h0m2-21h0m-1 2.5h0m-1-0.5h0m1.5 0.5h0m-1.5 10.5h0m2-3h0m-1.5 12h0m2-27.5h0m0 19.5h0m1 0h0m-2-6.5h0m-0.5 16h0m1.5-3h0m0.5-15h0m-2 13h0m1-21h0m1 17.5h0m-3.5-34h0m0 34h0m2-21h0m-0.5 1.5h0m1.5 19.5h0m-3-11h0m2.5 17.5h0m0 2.5h0m1.5-16h0m-4-0.5h0m2 14h0m0.5-8h0m-2.5-2h0m2.5 11h0m-1.5-1h0m-0.5-2h0m0.5-12.5h0m1-0.5h0m1 2h0m0.5 15.5h0m-1.5-23.5h0m0.5 25.5h0m0.5-1h0m0-25h0m-1.5 9h0m1 9.5h0m-1-2.5h0m2 5.5h0m-2-3.5h0m0.5 9h0m0-17h0m-0.5-16.5h0m0 7h0m0.5 24h0m1-15h0m-3-17.5h0m1.5 33.5h0m1-2h0m0.5-3.5h0m-0.5-23h0m-0.5 21h0m-1.5-3.5h0m0.5 4h0m1 4h0m-0.5-8h0m0.5-11h0m-0.5 3h0m1 5.5h0m1.5 10h0m-2.5-14.5h0m-0.5 0h0m3 8.5h0m-2-6.5h0m1 11.5h0m-3-2h0m4 3.5h0m-2.5-10.5h0m0.5 12h0m-1-9.5h0m1 13h0m1.5-9.5h0m-1.5 0.5h0m-0.5 4h0m1-9.5h0m-1.5-12h0m0.5 18h0m1.5-5.5h0m-3-17.5h0m2 11h0m-1-17.5h0m2 35h0m-1.5-14.5h0m-0.5-16.5h0m1 27h0m-1-21.5h0m0 21h0m0.5-9h0m-0.5-1.5h0m-1-3h0m3.5 14.5h0m-0.5-8.5h0m-2.5 4h0m0-17h0m1 12h0m2.5 8h0m-1-3.5h0m0.5-17.5h0m-1.5 3.5h0m0 2.5h0m-1.5-1.5h0m1.5 12.5h0m1-4.5h0m-2.5 1h0m0 10.5h0m0.5-6.5h0m-1 1.5h0m0.5 1h0m0-18h0m1.5 16h0m0 3.5h0m-1.5-11.5h0m0 7h0m2 6.5h0m-2-26.5h0m3.5 17h0m-4 1h0m3 9h0m-0.5-3.5h0m-1.5-6h0m3-4h0m0 14h0m-3.5-3h0m-0.5-15.5h0m2.5 1h0m0 4h0m-1 1h0m1.5 11h0m0-22.5h0m-1 4h0m1.5 12.5h0m-2 6.5h0m-1-12h0m0 2.5h0m0.5-13h0m3 21h0m-3-19h0m3 18.5h0m-2.5 1h0m-1.5-34.5h0m1 27h0m-0.5-21.5h0m3 17h0m-0.5-8h0m-2-3h0m0 17.5h0m0 2h0m-0.5-8h0m3-7h0m-3 6.5h0m-0.5 9h0m0-8h0m3.5 16h0m-1-18h0m0 15h0m-1.5-18.5h0m2 21.5h0m-1.5-18h0m-1.5-8.5h0m3 23.5h0m-2-20.5h0m0 18h0m1-25.5h0m-1 3.5h0m0 25h0m-0.5-17h0m3.5 0.5h0m-1.5 0h0m-2.5-12h0m0.5 3.5h0m3.5 12h0m-2 5.5h0m1.5 3.5h0m-3.5-8.5h0m2 11h0m2.5-7h0m-3-9h0m-1.5 4.5h0m1.5-13.5h0m1 28h0m0-11h0m0 6h0m0-5.5h0m-0.5 4.5h0m-1.5-1h0m2-27h0m0 3.5h0m-1 26h0m-0.5-10.5h0m2-5.5h0m-2 2h0m-0.5 4.5h0m3.5-4.5h0m-4-1.5h0m0.5 2h0m-0.5 10h0m0.5-6.5h0m1.5 1.5h0m0-6h0m2.5 0h0m-1 7.5h0m-3 7h0m1-3h0m-1.5-15.5h0m0.5 3.5h0m0.5 17h0m0-5.5h0m1-11.5h0m-2 1.5h0m1.5-10.5h0m2 5h0m-2.5 19.5h0m3 0.5h0m-2.5 0h0m-1-17h0m4 8.5h0m-4-9.5h0m0-13.5h0m1 34h0m-1.5-29.5h0m2.5 20.5h0m-0.5-3.5h0m0.5 9h0m0.5 1.5h0m0.5-5h0m-2 10h0m2.5-9h0m-2.5-15h0m-1 12h0m2-20h0m0.5 5.5h0m-2-6.5h0m2.5 22.5h0m-2-13h0m0 16h0m1.5-6.5h0m-0.5 4h0m0-4.5h0m2 7.5h0m-3.5-9h0m3.5-0.5h0m-2-2h0m-2.5 7.5h0m2-18.5h0m1 21h0m-1.5-13h0m-1.5 2.5h0m0 11.5h0m2 6h0m1-17.5h0m-3-2.5h0m4.5 7h0m0.5-0.5h0m0 7.5h0m0.5-9h0m0-5h0m-1 9h0m0.5 1.5h0m-9.5-91h0m0 7.5h0"/><path stroke="#ff00ff" d="M335 678.5h0m2.5 0.5h0m-3 0.5h0m-0.5 0h0m-1-0.5h0m2 0h0m3.5 0h0m-9 0h0m-1.5-0.5h0m12 1h0m-5.5-0.5h0m-2.5 0h0m6 0.5h0m-6.5-0.5h0m3-1h0m4.5 1.5h0m0.5-0.5h0m12.5 0.5h0m5 0h0m-6 0h0m-3.5 0h0m-6 0h0m1.5 0h0m1-0.5h0m2.5 0.5h0m9.5 0h0m4 0.5h0m-19.5-0.5h0m22-0.5h0m-14.5 0.5h0m-4.5-0.5h0m18-0.5h0m-11 1h0m10-0.5h0m-14.5-0.5h0m3 1h0m-3.5-0.5h0m2.5 0h0m-2 0.5h0m12 0h0m-7.5-0.5h0m-5.5 0.5h0m16 0h0m-1 0h0m-12.5 0.5h0m6-0.5h0m3 0h0m-15 0.5h0m20-0.5h0m-9.5-1h0m-10.5 0.5h0m12 0h0m6.5 0h0m-10 0.5h0m-6 0h0m10-1h0m-2.5 0.5h0m-2 1h0m10-1h0m-5.5 0h0m-5.5 1h0m12-0.5h0m-18.5 0h0m14-0.5h0m-1 0.5h0m2-0.5h0m1.5 0h0m-6-0.5h0m11 0.5h0m4.5 0.5h0m-2 0h0m1 0h0m10 0.5h0m0-1h0m-9-0.5h0m6 1h0m-11 0.5h0m8.5-0.5h0m-5-0.5h0m12.5 0h0m0.5 0.5h0m-4 0.5h0m3.5-0.5h0m-8.5 0h0m-0.5-0.5h0m0.5 0h0m1.5 0h0m2 0h0m1.5 0.5h0m1-0.5h0m7.5 1h0m6 0h0m-33 0h0m15 0h0m24 0h0m-3 0h0m-49.5 0h0m35.5 0h0m-1.5-0.5h0m-19.5 1h0m11.5-0.5h0m-2 0h0m18 0h0m25 0h0m-44.5 0.5h0m54-0.5h0m-41.5 0h0m5 0h0m-2 0h0m5 0h0m-4.5 0h0m-2.5 0h0m-23 0h0m26.5-0.5h0m-7 0.5h0m-1-0.5h0m-10.5-0.5h0m25.5 1.5h0m-43-1h0m8-0.5h0m16.5 1h0m9 0.5h0m-15.5-0.5h0m-11.5 0h0m15 0h0m33 0h0m-16 0.5h0m2.5-0.5h0m-38 0h0m52.5 0h0m-16 0.5h0m-2.5 0h0m-2.5 0h0m1-0.5h0m-8 0h0m22 0h0m-24 0h0m17.5-0.5h0m22 0.5h0m-53.5 0h0m33.5 0h0m-4-0.5h0m1 0.5h0m33.5 0h0m-22.5 0h0m-2.5 0h0m-14 0.5h0m7.5-0.5h0m25 0h0m-64.5 0h0m23 0.5h0m-35-1h0m30.5 0.5h0m7.5 0h0m17.5 0h0m-34 0h0m26 0h0m-13.5 0h0m16 0h0m-25-0.5h0m29.5 1h0m-33.5-0.5h0m13-0.5h0m14 0.5h0m-23 0h0m18.5 0h0m9.5 0h0m-25.5 0h0m25 0.5h0m16 0h0m-31.5-1h0m16.5 1h0m-13-1h0m41 1h0m-20-0.5h0m-39-0.5h0m48 0.5h0m-43-1h0m33.5 1.5h0m-30-0.5h0m8 0.5h0m10-0.5h0m3 0h0m-12.5 0.5h0m-10 0h0m24.5 0h0m2-0.5h0m0.5 0.5h0m1-0.5h0m-3 0h0m-5 0.5h0m12-1h0m-35 0.5h0m2.5-1h0m57 1.5h0m-54.5 0h0m35.5 0h0m-41 0h0m42.5-0.5h0m-13.5 0h0m-39 0.5h0m10-0.5h0m-2 0h0m-9.5 0h0m-22.5 0h0m59 0.5h0m-18.5-1h0m-9 0h0m-1 0.5h0m53 0h0m-17 0.5h0m0-0.5h0m-39-0.5h0m-12.5 0.5h0m39.5 0h0m-14.5 0.5h0m3-1h0m6 0.5h0m-19-1h0m9.5 1h0m-46.5 0h0m28 0h0m52 0.5h0m-10 0h0m7.5-0.5h0m-53 0h0m30.5 0.5h0m21-0.5h0m-41 0.5h0m0-1h0m21.5 0.5h0m22 0h0m12-0.5h0m9 0.5h0m-50 0h0m21-0.5h0m-14 1h0m33-0.5h0m-59 0h0m-54.5-1h0m116.5 1h0m-71.5 0h0m24.5-0.5h0m-6 0.5h0m31.5 0.5h0m-20.5-0.5h0m18.5 0h0m5.5 0.5h0m20-0.5h0m-63.5 0h0m12.5 0h0m13-0.5h0m22.5 1h0m14.5-0.5h0m-49 0h0m11 0h0m6 0.5h0m-1.5-0.5h0m26.5 0h0m-29 0.5h0m-4-0.5h0m30.5 0h0m-59-0.5h0m1.5-0.5h0m34 1h0m-11.5 0.5h0m48.5-0.5h0m-80 0.5h0m57-0.5h0m5.5 0h0m-16.5 0.5h0m3 0h0m-12.5-1h0m-1.5 1h0m-10.5-0.5h0m15.5-0.5h0m33.5 0.5h0m-89-0.5h0m41-0.5h0m17 0.5h0m-6.5 0h0m-1.5 0.5h0m-62 0h0m55-0.5h0m-23.5 0.5h0m38.5 0.5h0m-1-1h0m20.5 0.5h0m-44.5 0h0m40 0.5h0m-41.5-1.5h0m-5 0.5h0m6 1h0m13 0h0m-2.5-1.5h0m22 1.5h0m-38.5-0.5h0m-10.5-0.5h0m19 0.5h0m-23 0h0m36.5 0.5h0m-14 0h0m7.5-1h0m27.5 0h0m3.5 0.5h0m-10 0.5h0m16-0.5h0m20 0h0m-23.5 0.5h0m-3.5-0.5h0m-32 0.5h0m6.5 0h0m5 0h0m16.5-1h0m-32 0h0m2.5 0h0m41.5 0.5h0m-47.5 0h0m10-0.5h0m-33 0h0m36.5 0h0m28.5 1h0m-45-0.5h0m20.5 0.5h0m-29.5-0.5h0m56.5 0h0m-59 0h0m41-0.5h0m-12.5 0h0m-11 1h0m52 0h0m-7-0.5h0m1.5 0.5h0m-63-1h0m64 0.5h0m-45.5 0.5h0m-41.5-0.5h0m66-0.5h0m38 0.5h0m-93.5 0h0m54 0.5h0m-18-1.5h0m12 0h0m-25.5 0.5h0m20 1h0m38-0.5h0m-73 0h0m6.5 0.5h0m72.5-0.5h0m-24.5 0.5h0m-8-1h0m-9.5 1h0m-52.5-0.5h0m88 0h0m-11.5-0.5h0m-43 0h0m38 1h0m-44-1h0m-0.5 0.5h0m25.5-1.5h0m-29.5 1.5h0m57.5 0.5h0m-34.5-1h0m-31 0.5h0m-20 0h0m80 0.5h0m-23-1h0m29 0.5h0m-77.5-0.5h0m62 0.5h0m6.5 0.5h0m-14.5-1h0m-24.5 0.5h0m5.5 0.5h0m-10.5 0h0m70.5-0.5h0m-53 0.5h0m-19 0h0m56-0.5h0m-5 0.5h0m-90.5-1h0m73 1h0m13.5-1h0m-8 0h0m-61.5 0.5h0m51 0.5h0m-49-0.5h0m78 0h0m-36 0h0m-10.5 0.5h0m-0.5-1.5h0m-30 1h0m12.5-0.5h0m38.5 1h0m-53-1h0m14 0.5h0m67.5 0h0m-23 0.5h0m28-0.5h0m-34 0.5h0m-19-1h0m-9 0h0m-12 0.5h0m-1.5 0h0m93.5 0h0m-80 0h0m15.5 0.5h0m-22.5 0h0m80-0.5h0m-15.5 0.5h0m-49.5-0.5h0m-5-0.5h0m-45 0.5h0m1.5 0h0m62 0.5h0m58.5 0h0m-83.5-0.5h0m61.5 0h0m-23-0.5h0m-23 0h0m-44.5 0.5h0m50.5-1h0m-40 0h0m35 0.5h0m-17 0.5h0m67 0h0m-6.5 0.5h0m-82.5-0.5h0m23-0.5h0m7.5-0.5h0m8.5 1.5h0m24-1h0m8.5 0h0m13 0h0m-77 1h0m88.5-1h0m-44 0h0m18.5 0h0m-91.5 0h0m9.5 0.5h0m46 0.5h0m49.5 0h0m-64-1h0m44 1h0m26-0.5h0m-17 0.5h0m-33.5 0h0m-11.5-1.5h0m44 0.5h0m-50 1h0m16.5 0h0m57.5-0.5h0m-132 0h0m106 0.5h0m6.5 0h0m-41-1h0m45.5 1h0m-54.5 0h0m42.5 0h0m-55.5-0.5h0m73 0.5h0m-10-0.5h0m-11-0.5h0m-40 0h0m42.5 0h0m-88 0h0m40.5-0.5h0m-12.5 1h0m6.5 0h0m17.5 0.5h0m23.5-1h0m-22.5 1h0m24.5-1h0m29.5 1h0m-72-1h0m-11.5 0h0m13 0.5h0m-4-0.5h0m40.5 0h0m6 0h0m-22 0h0m10.5 0h0m-2 1h0m39.5 0h0m-6.5 0h0m7.5-0.5h0m-4.5 0.5h0m-84.5-0.5h0m93.5 0.5h0m-110.5-0.5h0m24-0.5h0m1 0.5h0m94.5 0.5h0m-98-0.5h0m7.5 0h0m-26 0h0m99 0.5h0m-70-2h0m85.5 1.5h0m-35-0.5h0m-53.5 0h0m-2 0.5h0m51-0.5h0m-32-0.5h0m15 1.5h0m47.5 0h0m-89.5-1h0m97.5 0.5h0m-91 0h0m61.5-0.5h0m-2.5 0h0m13 1h0m23.5-0.5h0m-27-0.5h0m14 1h0m-84-0.5h0m71.5 0.5h0m20.5 0h0m-67-0.5h0m1 0.5h0m26.5-1h0m-47 0.5h0m32-1.5h0"/></g><text x="263.6" y="692.2" text-anchor="middle">0</text><text x="294.1" y="692.2" text-anchor="middle">20</text><text x="324.6" y="692.2" text-anchor="middle">40</text><text x="355.1" y="692.2" text-anchor="middle">60</text><text x="385.6" y="692.2" text-anchor="middle">80</text><text x="416.1" y="692.2" text-anchor="middle">100</text><text x="260.6" y="683.6" text-anchor="end">0</text><text x="260.6" y="662.7" text-anchor="end">200</text><text x="260.6" y="641.8" text-anchor="end">400</text><text x="260.6" y="620.9" text-anchor="end">600</text><text x="260.6" y="600.0" text-anchor="end">800</text><text x="260.6" y="579.1" text-anchor="end">1000</text></g><text x="352.1" y="703.2" text-anchor="middle" style='font-family:"Liberation Serif",serif;font-weight:bold;font-size:9.9px;letter-spacing:-0.3px'>V2</text><text transform="translate(239.2 618.2) rotate(-90)" text-anchor="middle" style='font-family:"Liberation Serif",serif;font-weight:bold;font-size:9.9px'>V4</text><text x="352.1" y="553.6" text-anchor="middle" style='font-family:"Liberation Serif",serif;font-weight:bold;font-size:9.6px;letter-spacing:-0.3px'>GMM</text><g style='font-family:"Liberation Serif",serif;font-weight:bold;font-size:8.1px'><rect x="402.9" y="560.1" width="30.9" height="55.4" fill="#fff" stroke="#5a5a5a" stroke-width="0.9"/><circle cx="416.1" cy="565.9" r="0.7" fill="#ff0000"/><text x="428.1" y="568.6">1</text><circle cx="416.1" cy="574.8" r="0.7" fill="#ffff00"/><text x="428.1" y="577.5">2</text><circle cx="416.1" cy="583.7" r="0.7" fill="#00ff00"/><text x="428.1" y="586.4">3</text><circle cx="416.1" cy="592.7" r="0.7" fill="#00ffff"/><text x="428.1" y="595.4">4</text><circle cx="416.1" cy="601.6" r="0.7" fill="#0000ff"/><text x="428.1" y="604.3">5</text><circle cx="416.1" cy="610.5" r="0.7" fill="#ff00ff"/><text x="428.1" y="613.2">6</text></g><g style='font-family:"Liberation Serif",serif;font-weight:bold;font-size:8.6px'><path d="M517.0 680.4v-2M517.0 556.1v2M556.1 680.4v-2M556.1 556.1v2M595.2 680.4v-2M595.2 556.1v2M634.2 680.4v-2M634.2 556.1v2M673.3 680.4v-2M673.3 556.1v2M496.3 680.4h2M673.3 680.4h-2M496.3 659.5h2M673.3 659.5h-2M496.3 638.6h2M673.3 638.6h-2M496.3 617.7h2M673.3 617.7h-2M496.3 596.8h2M673.3 596.8h-2M496.3 575.9h2M673.3 575.9h-2" stroke="#7f7f7f" stroke-width="0.8" fill="none"/><rect x="496.3" y="556.1" width="177.0" height="124.3" fill="none" stroke="#7f7f7f" stroke-width="1"/><g fill="none" stroke-linecap="round" stroke-width="1.4"><path stroke="#ff0000" d="M537 676h0m-3.5 1.5h0m14.5-4.5h0m-6.5 2h0m-1.5 0.5h0m-4.5 1.5h0m2-0.5h0m3.5-1h0m3-1h0m-8 1h0m0 1h0m9.5-2.5h0m-8 2h0m8.5-2h0m-10.5 2.5h0m-1.5 0.5h0m8.5-2.5h0m-6 2h0m14-4h0m1.5-1h0m-16.5 4.5h0m4-1h0m-7 2h0m4.5-2h0m-1 1h0m3 0h0m-0.5 1h0m6.5-3h0m-8 2.5h0m1-0.5h0m1.5 0h0m2.5-1.5h0m-7.5 2h0m8.5-2.5h0m-6.5 2h0m1 1h0m0.5-2h0m4.5 0h0m0.5 0h0m-3 0h0m0.5 0h0m0 0.5h0m-8 2h0m2.5-1h0m-3 1h0m1.5-0.5h0m15.5-5h0m-9.5 3.5h0m-2.5 0h0m9.5-1.5h0m-3.5 0.5h0m3.5-2h0m-5.5 2.5h0m6-2h0m-5 2.5h0m-3.5 0.5h0m0.5-1h0m2.5-0.5h0m-4 1h0m4 0h0m-1.5-1h0m-4 2.5h0m-4.5 0.5h0m10.5-2.5h0m-7 2h0m5-1h0m3.5-2h0m-5.5 2.5h0m13.5-4.5h0m-12 2.5h0m9.5-2h0m-16 4.5h0m16-4h0m-10 3.5h0m-2.5 0.5h0m11-4h0m-4 1.5h0m9.5-3.5h0m-17.5 4.5h0m7-1.5h0m-0.5 0h0m-3.5 1.5h0m-4 1.5h0m-1-0.5h0m5.5-1h0m9.5-2.5h0m-8 1.5h0m-2 0.5h0m5 0h0m1-0.5h0m1 0h0m1-1h0m-5 2.5h0m-9.5 2h0m7.5-1.5h0m5-1.5h0m-11.5 3h0m16.5-5.5h0m-10.5 4.5h0m6-2.5h0m-1 0.5h0m-7 2h0m-2 0.5h0m15-5h0m-10 4h0m-2 0.5h0m-3.5 0.5h0m14-4h0m-3.5 0h0m-1 2h0m1-0.5h0m-6.5 1.5h0m9.5-3h0m-7 3h0m2.5-1h0m-3-1.5h0m2 1.5h0m0.5 0.5h0m-2.5 0h0m6-1.5h0m3-1h0m-13 4h0m-0.5 0h0m15.5-5h0m-2.5 1h0m-12 4h0m-4 0h0m7.5-1h0m-6.5 1h0m1.5 0h0m10.5-3h0m-3.5 1.5h0m-1.5 0h0"/><path stroke="#ffff00" d="M569 657h0m-2.5 3.5h0m4-3.5h0m2.5-2.5h0m-2.5 3.5h0m-3.5 0.5h0m4.5-4.5h0m-3 3h0m1.5 0h0m2.5-1h0m-9.5 4h0m2.5-1.5h0m-2.5 2h0m8-5.5h0m-7.5 3h0m5-2h0m-1 1.5h0m-4 1.5h0m-0.5-0.5h0m7-0.5h0m-12.5 5.5h0m2-1.5h0m5.5-4.5h0m-4.5 4h0m5-4h0m-1 1h0m5-3h0m5.5-1h0m-8.5 2h0m-5.5 4.5h0m4.5-4h0m7 0.5h0m-7 1.5h0m-5.5 1.5h0m6.5-2.5h0m1-1.5h0m-2.5 2h0m-8.5 5.5h0m7.5-5h0m-7.5 5.5h0m3-3.5h0m13-7h0m-14.5 8.5h0m9-3.5h0m4-3.5h0m-1 2h0m-1.5 1h0m2-3.5h0m-3.5 2.5h0m5.5-2.5h0m-3.5 1h0m-6.5 6h0m10-7.5h0m-8 3h0m-1 3.5h0m4-2h0m2-1.5h0m-0.5 0h0m-1-0.5h0m-8 4.5h0m1-1h0m5-3h0m3.5 0.5h0m-9 3h0m10.5-5h0m4.5-0.5h0m-1.5 2h0m-21.5 9.5h0m13.5-8h0m5-2h0m0 2h0m-13.5 6h0m2.5-1.5h0m6.5-3.5h0m-1.5 3h0m12.5-7.5h0m-3.5 0.5h0m-10 5h0m8-3h0m-4.5 4h0m-7 4.5h0m7-9.5h0m0.5 2h0m-2 4h0m-6.5 2h0m26.5-18h0m-26 15.5h0m18.5-8.5h0m-14 8h0m-9 4h0m16-7.5h0m-0.5-2h0m-2.5 4h0m0 0.5h0m-11 3h0m4-2.5h0m-6.5 5h0m15.5-7h0m1.5-5.5h0m-11.5 8.5h0m11.5-6h0m-15 8.5h0m12-4.5h0m-3 0h0m-2.5-1h0m13-3.5h0m-14 9h0m-7 0.5h0m16-9.5h0m-10.5 8h0m5.5-1h0m-13 3h0m8.5-1.5h0m13-9h0m-20 10.5h0m4.5-3h0m5 1h0m9-8.5h0m-7 5.5h0m-5 2h0m14.5-8h0m-15 8.5h0m21.5-14.5h0m-7 7h0m-13.5 5.5h0m20.5-10.5h0m-12 8h0m-10 4h0m-5 4.5h0m8-4h0m16-13.5h0m-10 7h0m-6.5 4h0m-10.5 6.5h0m10-7h0m-3.5 4h0m3.5-1.5h0m7-3h0m4-3.5h0m12.5-9h0m-11 8.5h0m-7.5 5.5h0m-14.5 5.5h0m29-16.5h0m-17.5 10h0m16.5-9.5h0m-23.5 12h0m19-8.5h0m-6.5 4.5h0m-14 3.5h0m0.5 2.5h0m6.5-2.5h0m0-0.5h0m5-1.5h0m7.5-3.5h0m-4 1h0m-6.5 4.5h0m8-3h0m-10 4h0m-5.5 2h0m14.5-7h0m10-9.5h0m-17 12.5h0m-2.5 4.5h0m1.5-3.5h0m-10 3.5h0m21-9.5h0m-17.5 9.5h0m1.5 0h0m-3-1.5h0m3.5-0.5h0m-1.5 2h0m15-8h0m-15 7.5h0m4.5-2h0m-3 2h0m7.5-5.5h0m-1 2.5h0m15-10.5h0m-9 7.5h0m-1-1h0m-2 0.5h0m-14.5 7h0m29-16.5h0m-11 8.5h0m-1.5 2h0m11.5-9.5h0m-14 11h0m3-4h0m-15 6h0m8 0h0m7-4h0m0.5-2.5h0m7.5-5h0m-21.5 12.5h0m26.5-15h0m-22.5 13h0m-3.5 1h0m4.5-0.5h0m10.5-5.5h0m3.5-3.5h0m-6 4h0m-1.5 1h0m0 0.5h0m-5.5 4.5h0m2-3h0m0 0.5h0m22.5-17h0m-37.5 23h0m18-6h0m11-9.5h0m-7 3h0m-17 10.5h0"/><path stroke="#00ff00" d="M532 678h0m4 0h0m0-0.5h0m-5 0.5h0m2-0.5h0m3-0.5h0m-1.5-0.5h0m-1 1h0m-4.5 1h0m1 0h0m2.5-0.5h0m2.5-0.5h0m-2.5-0.5h0m-3 1.5h0m4.5-1.5h0m0 0.5h0m-3 1h0m2.5-0.5h0m-2-0.5h0m0.5 0h0m3.5 0.5h0m1-1.5h0m-5 1.5h0m5-1h0m0.5 0h0m-6.5 1h0m-2.5 1h0m9.5-2h0m1 0h0m-5.5 1h0m1.5-0.5h0m3.5-0.5h0m-2.5 0.5h0m1.5 0h0m-6.5 1h0m2-1h0m-0.5-0.5h0m1 0h0m1 1h0m-4 0h0m3 0.5h0m-5 0h0m4 0h0m1.5-1.5h0m1 1h0m4.5-1h0m-3.5 0h0m-0.5 1h0m-0.5-1h0m4 0.5h0m-7 1h0m3.5-1.5h0m-8 2h0m5.5-0.5h0m5-1h0m-9 1h0m11-1.5h0m-11.5 2.5h0m-0.5-0.5h0m10.5-1.5h0m-11 2h0m2-0.5h0m5.5-0.5h0m-5 0.5h0m1.5-1.5h0m3 1h0m-6.5 1h0m2.5-0.5h0m6.5-1.5h0m-6 1.5h0m-4 0h0m2 0.5h0m-2.5 0h0m2.5-0.5h0m-5 1h0m10-1.5h0m-8 1h0m5.5-0.5h0m-6.5 0.5h0m4.5 0h0m3-0.5h0m-7 0.5h0m6.5-0.5h0m1 0h0m-9.5 1h0m3.5-0.5h0m-2 0.5h0m0.5 0h0m0.5 0h0m4-0.5h0m-7.5 0.5h0m4 0h0m-2 0h0m2.5 0h0m-4 0h0"/><path stroke="#00ffff" d="M542 674h0m5-3.5h0m-8.5 4.5h0m6.5-3.5h0m6.5-2h0m16.5-8.5h0m-19 8h0m3.5 0.5h0m4-2.5h0m-8.5 4h0m13-5.5h0m-22 8.5h0m14-5h0m-3 0.5h0m5-1.5h0m1.5 0h0m4-3h0m-5 3.5h0m-4.5 0.5h0m-9 3.5h0m13-3h0m8.5-4.5h0m-4 1h0m-16 6h0m-4 2h0m12-6h0m0 1h0m1.5-1.5h0m-17 8h0m18.5-8.5h0m-11 6.5h0m5.5-3h0m1-2h0m-2.5 3h0m10-4.5h0m-0.5-0.5h0m-8 4.5h0m-5 1.5h0m6-2.5h0m-12.5 5h0m10-4h0m-8.5 3.5h0m-1 0h0m20-7h0m-12 4h0m-1 0.5h0m-1.5 1h0m5.5-4.5h0m-3 1.5h0m0.5 2h0m2-1h0m-7 2.5h0m7-1.5h0m5.5-4h0m7-1h0m-14 4h0m3.5-2h0m-2.5 1h0m11-3.5h0m-8 4h0m-4 1.5h0m10-3.5h0m-8 1h0m13.5-4.5h0m-6.5 3.5h0m-6 2h0m0.5-1h0m7-2h0m-12.5 5h0m3.5-2.5h0m-2 1.5h0m4.5-1.5h0m7.5-3h0m-5 1h0m11-4h0m-13.5 5.5h0m6-2.5h0m-12.5 5.5h0m11-4.5h0m-2-0.5h0m-3.5 1.5h0m-8.5 5h0m18-7h0m-17 5.5h0m-1.5 0.5h0m19-7.5h0m-9.5 3h0m12.5-3.5h0m-9 4.5h0m8-4.5h0m-10.5 6.5h0m-1 0.5h0m4-2h0m-12 3.5h0m18-6h0m-8 3.5h0m-3 1h0m15.5-8.5h0m-7 5.5h0m-15.5 4h0m2 0h0m1.5 0h0m3-1h0m-8 3h0m13.5-5.5h0m-8 3h0m-5 2h0m11-4.5h0m4.5-0.5h0m3-2.5h0m-17 7.5h0m15.5-6.5h0m2-1.5h0m-22 8h0m9.5-2h0m3.5-2h0m10-4h0m-5.5 3h0m-17.5 6h0m17-6h0m-3 1h0m-11.5 4h0m2.5-0.5h0m10-3.5h0m15-9h0m-23.5 11.5h0m-1 1h0m3.5-1.5h0m9-4h0m-8.5 3h0m-8 3.5h0m4.5-1.5h0m13-4.5h0m-12.5 5h0m16.5-8.5h0m-15 7.5h0m4.5-2h0m11-4h0m-15.5 6.5h0m10.5-6h0m-11.5 6.5h0m-6.5 1h0m1-0.5h0m-0.5 0.5h0m3-0.5h0m17-7h0m-17.5 7h0m19-8h0m-6 4h0m-2 0h0m-10.5 3.5h0m16.5-5.5h0m-10 4h0m5-2.5h0m-12.5 5h0m6-3h0m-7 1.5h0m4.5 0h0m-4.5 0.5h0m26.5-11h0m-21.5 10.5h0m0.5-1h0m6-1h0m4-1.5h0m2-2h0m-12 5.5h0m1-0.5h0m5-2.5h0m-8 3h0m8-3.5h0m-13 5.5h0m4-2.5h0m10-2h0m-13 3h0m14.5-3.5h0m4.5-3.5h0m-16 7h0m24-10.5h0m-13.5 5.5h0m4.5-2h0m-10 6h0"/><path stroke="#0000ff" d="M623.5 599.5h0m-21.5 25h0m14.5-16.5h0m19.5-26h0m4-6h0m-21 29.5h0m9.5-18.5h0m-31.5 41h0m-0.5 0.5h0m36.5-46.5h0m-38 46h0m42.5-44.5h0m-15 15h0m-20.5 23h0m28-31.5h0m-17.5 23h0m-29 26.5h0m8-5.5h0m21.5-22h0m-19.5 17.5h0m28.5-29h0m15.5-28h0m-19 30.5h0m29-38.5h0m1-6h0m-52 69.5h0m22-22.5h0m7.5-4.5h0m-35.5 30.5h0m32-26h0m5.5-11h0m-16.5 15.5h0m22.5-20h0m-27.5 30h0m38-58.5h0m-25 42.5h0m1.5-7h0m-29 36h0m38-42.5h0m-13 16.5h0m3 2.5h0m11.5-17.5h0m-23 27.5h0m-23.5 17h0m6-4h0m53.5-66h0m-28.5 40.5h0m10-13h0m-2 8h0m5-6.5h0m-12 13h0m-10.5 2.5h0m0 3h0m21.5-22h0m9-21h0m-28.5 48h0m36.5-53.5h0m-43 61.5h0m12.5-15.5h0m-11 10h0m25-29.5h0m17-14.5h0m-8-1h0m-3 3.5h0m-4 5.5h0m1.5-2h0m-6.5 16h0m13-23.5h0m-18 25.5h0m-5.5 7.5h0m-5.5 7h0m5.5-5.5h0m-4.5-0.5h0m6.5-4h0m-19.5 24h0m0-6h0m52.5-63.5h0m-44 51.5h0m-3 14h0m-2.5-0.5h0m20-25h0m-27.5 30.5h0m36.5-35.5h0m-14 11.5h0m-15 16h0m29.5-35h0m-9.5 14.5h0m14.5-19.5h0m-4.5 4h0m-6 10.5h0m-6.5 10.5h0m17-24.5h0m-16 19.5h0m27.5-38.5h0m-0.5 4.5h0m-5 3.5h0m-35.5 44h0m-5.5 16.5h0m-12 7.5h0m-2-1.5h0m24-18h0m-26 22.5h0m9-9.5h0m2.5-3h0m-6 10h0m6-8.5h0m1 1h0m0.5 0.5h0m12-13h0m-22 16h0m13.5-5.5h0m-4.5-1h0m-19.5 19.5h0m-6 2.5h0m33-27.5h0m-15.5 13.5h0m20-16.5h0m7.5-12h0m-20.5 22.5h0m-10 9.5h0m17-15.5h0m-7.5 9h0m16-16.5h0m-26 19.5h0m35-32.5h0m-39 36.5h0m8-2h0m8-8h0m-5.5 2.5h0m-8.5 5.5h0m-10 9.5h0m14.5-11.5h0m-3.5 6h0m36-36h0m-29 31h0m-3 1.5h0m10.5-9h0m7.5-5.5h0m-8.5 8.5h0m-2.5-2h0m-20 16.5h0m15.5-14.5h0m24.5-18.5h0m-8 9.5h0m-24 19h0m32.5-30.5h0m-35.5 31h0m18-11h0m-6.5 1h0m-14.5 11.5h0m18-9.5h0m-4.5-3h0m-0.5 3.5h0m-1.5-0.5h0m20-17h0m-27 25.5h0m27-21h0m-11 5h0m-9.5 10.5h0m-5.5 3.5h0m7.5-4.5h0m9-9h0m-10.5 5.5h0m-6 7.5h0m18.5-14.5h0m-11 7h0m10-3h0m-1-3.5h0m1.5-2.5h0m15.5-14h0m-18.5 20h0m-21 15h0m7.5-6h0m10.5-10h0m-11.5 12.5h0m-8.5 7h0m31.5-26h0m-29.5 24h0m48.5-52.5h0m-19.5 27h0m-9.5 8h0m2.5-1.5h0m23-24h0m-15.5 16.5h0m-4 5h0m17.5-19h0m-20.5 22.5h0m-12 7h0m3.5-1h0m-2-0.5h0m-15.5 12.5h0m15-10.5h0m14.5-7h0m-11.5 9.5h0m8.5-10h0m-10.5 4h0m6.5-1.5h0m-3 2h0m-2 3h0m10-7h0m6-5.5h0m2.5-9h0m-24 22h0m30.5-28h0m-30.5 31h0m28-24.5h0m-34 28.5h0m14.5-8.5h0m5-8h0m-21 17.5h0m11.5-7.5h0m8.5-8.5h0m-11 9h0m-4.5 3.5h0m16-16h0m18.5-12.5h0m-23.5 20.5h0m-16 12h0m0-2.5h0m5.5-3.5h0m30.5-25.5h0m-13.5 16.5h0m-9.5 7h0m0.5-7h0m13-11h0m-9.5 14.5h0m7-10.5h0m-3.5 7.5h0m7-8h0m-18.5 14h0m5.5-3h0m-4 4h0m13.5-14h0m-23 19h0m15-11.5h0m-18 14h0m40-34h0m-38.5 33h0m37.5-31.5h0m-27 23.5h0m24-19h0m-13 10.5h0m22.5-18.5h0m-27.5 27.5h0m9.5-11.5h0m17.5-21.5h0m-30 27h0m-16.5 16.5h0m45-40h0m-21.5 21h0m-8.5 5.5h0m-0.5 0h0m6-1h0m0.5 0h0m-2 3.5h0m8.5-9.5h0m-14.5 10h0m-8.5 6.5h0m23.5-18h0m-23.5 20h0m29.5-24.5h0m-34 25.5h0m40.5-32.5h0m-27.5 25.5h0m-2 1h0m-4 0.5h0m22-17.5h0m-21 17.5h0m18.5-10h0m6-7.5h0m-17 10.5h0m16.5-13h0m-13 13.5h0m-5.5 5h0m2-2.5h0m13-11h0m-26.5 21h0m39-32.5h0m-36 29h0m37-33h0m-25.5 24.5h0m16.5-13h0m-21.5 14.5h0m11.5-2.5h0m-4-2h0m3-4h0m-8.5 10h0m8.5-6h0m-11.5 6h0m4-2.5h0m-6.5 7h0m36.5-34h0m-41 35h0m18.5-10.5h0m-14 7.5h0m3-3h0m-2.5 6h0m7.5-11h0m3 5.5h0m-12.5 5.5h0m-9.5 7.5h0m28-22.5h0m8.5-10.5h0m-26 21.5h0m8-6h0m4-1h0m-10 7h0m8.5-2.5h0m-2-3.5h0m-0.5 5.5h0m5-8h0m19-14.5h0m9-17h0m-42 42h0m24-20h0m5.5-5h0m5-6h0m-13 17.5h0m16.5-23.5h0m-14.5 20.5h0m-9 6.5h0m-7 9h0m-3.5 2h0m35-36h0m-21 24.5h0m2.5-3h0m-13 5h0m4.5 3.5h0m21.5-25h0m-18 15.5h0m7.5-5h0m-22.5 23.5h0m-14 10h0m11-7h0m-6.5 5h0m11.5-9.5h0m-7 8h0m23-22h0m-14.5 13h0m-10 5h0m8-0.5h0m14.5-16.5h0m-15 12h0m-14 12h0m30.5-24.5h0m-29 20.5h0m16.5-6.5h0m-6.5 2.5h0m-3-1.5h0m-6.5 6.5h0m16-9h0m-11 6.5h0m-1 1.5h0m-4 1.5h0m17.5-9h0m1-2.5h0m-11 6h0m0.5-0.5h0m13-5.5h0m-18.5 9h0m30-21h0m-3 2.5h0m-3.5-0.5h0m4 0.5h0m-28 19.5h0m31.5-27.5h0m-15.5 19.5h0m-1 0h0m7.5-6.5h0m-18.5 13h0m18.5-15h0m-18 13h0m-2.5 2h0m30.5-23h0m-17.5 17.5h0m30.5-34h0m-35 34h0m25-21h0m-1 1.5h0m-21 19.5h0m-10 6.5h0m-6 2.5h0m23.5-16h0m-18 13.5h0m11-8h0m-16 11h0m15.5-13h0m-13 11h0m0-1h0m0-2h0m23.5-12.5h0m-1-0.5h0m-2.5 2h0m-25 16h0m6-0.5h0m29-23.5h0m-31 25.5h0m-1.5-1h0m21-16h0m-11 9.5h0m6-2.5h0m-6 2h0m-13.5 9h0m24-17h0m14.5-16.5h0m-3.5 7h0m-27 23.5h0m5-3.5h0m-11 4h0m27-15h0m12-17.5h0m-39.5 33.5h0m13-7h0m-6.5 5h0m-2 0.5h0m5-4h0m25.5-23h0m-20 21h0m0-3.5h0m17-12.5h0m-20.5 16.5h0m-7.5 4h0m12-8h0m13-11h0m-2.5 3h0m-6.5 5.5h0m-9.5 10h0m6-6h0m7-6.5h0m-17 11.5h0m1-2h0m-0.5 3.5h0m14-10.5h0m-18.5 12h0m9.5-9.5h0m18.5-11h0m-24.5 20.5h0m12-9h0m-21 12.5h0m16-9.5h0m6.5-5h0m14.5-12h0m-31.5 18h0m18-5.5h0m13.5-17.5h0m-27.5 27h0m20-16h0m15-17.5h0m-38.5 35h0m20-14.5h0m15-16.5h0m-27.5 25h0m-5 1.5h0m17-9h0m2.5-1.5h0m0-3h0m-19 14.5h0m14-8.5h0m-7.5 4h0m19.5-17h0m-11 12h0m-7 6.5h0m-13.5 6h0m11.5-4.5h0m3-3.5h0m19-17.5h0m-25 23h0m2-2.5h0m16.5-14.5h0m0-1.5h0m-11 12.5h0m8-4.5h0m-1 1h0m-22 10.5h0m7.5-5h0m-1.5 1h0m24-18h0m-16.5 11h0m-6 8.5h0m26-21h0m-22.5 16.5h0m2 0.5h0m23.5-20.5h0m-17.5 17h0m-3.5 1h0m-8 9h0m12-9.5h0m2.5-4h0m-15 14h0m-3.5-3h0m25-15.5h0m-0.5 1h0m-22 15.5h0m10.5-8.5h0m-7 9.5h0m-5.5-1h0m15-10.5h0m-24.5 16h0m40-27.5h0m-5 4h0m-25.5 19h0m6.5-5.5h0m9-4h0m11.5-13h0m-19.5 21h0m-0.5-0.5h0m6-5.5h0m-9 7.5h0m35.5-35.5h0m-26.5 27h0m20.5-21.5h0m-13.5 17h0m6-8h0m3.5-3h0m-21.5 17.5h0m-6 7h0m14.5-13h0m11-7h0m-10.5 6.5h0m-16.5 9h0m15-8h0m-4 4h0m-13 12h0m14.5-14.5h0m-12.5 10h0m22.5-17h0m-29.5 21.5h0m10.5-5h0m-13 4.5h0m14.5-4.5h0m-1-1h0m-4.5 3h0m-1-2.5h0m-5.5 4h0m39-29.5h0m-35 28h0m32-24.5h0m-21.5 14.5h0m-11 10.5h0m21.5-17h0m3.5 0.5h0m-13 9.5h0m15-9.5h0m-18.5 11.5h0m26-23.5h0m-5 3.5h0m-20.5 20.5h0m14-8.5h0m-12.5 5.5h0m2-0.5h0m-2.5 4h0m8.5-8.5h0m-16 11h0m15-7h0m8.5-9h0m9.5-9h0m-6 4h0m-10.5 9.5h0m-21.5 12.5h0m-0.5 3h0m5-3h0m-1 2h0m11-7h0m-4 2h0m5-6h0m-1 5h0m25-28h0m-26.5 26.5h0m26-23h0m-29.5 27h0m12.5-11.5h0m-22.5 15.5h0m28.5-21h0m-27 19.5h0m26.5-17.5h0m-8 4.5h0m9-4.5h0m2-1.5h0m-25 15.5h0m19-13.5h0m-29 20h0m12-10h0m17.5-6.5h0m-5.5 3.5h0m10.5-8.5h0m-3.5 0.5h0m-22 17.5h0m27.5-17.5h0m-22 15.5h0m4-4h0m19-15.5h0m-19.5 17.5h0m12-14h0m-17 15h0m7-5h0m-6 2h0m-8.5 5h0m24-18.5h0m-11.5 13h0m3.5-4.5h0m11-7h0m-4 1.5h0m7-5.5h0m-10.5 9.5h0m-10 10.5h0m-7.5 0h0m25.5-12h0m-19.5 11h0m18-15h0m-30 21.5h0m7-3.5h0m25.5-19h0m-18 15.5h0m-11 6h0m20-13h0m-18 11.5h0m24.5-21h0m15-13.5h0m-27 23h0m-15.5 11h0m13.5-4h0m28-25.5h0m-22.5 20.5h0m3-3.5h0m-11.5 9h0m-1 1.5h0m7-5h0m-20 10h0m12-5h0m5-2.5h0m-2-3h0m-3 2h0m-7 6h0m30.5-22.5h0m-24.5 15.5h0m4 0h0m20-15.5h0m-2.5 1.5h0m-21.5 16h0m15-8.5h0m-5 4.5h0m24.5-23.5h0m-23.5 21h0m-3 4h0m13-11h0m-9 6.5h0m1.5-2.5h0m-5.5 10h0m25.5-26h0m-21.5 17h0m12-8.5h0m-6.5 8h0m-18.5 9.5h0m21-11.5h0m-15.5 7.5h0m26-18.5h0m-18.5 16h0m-14 8h0m19.5-13.5h0m-15.5 11.5h0m-8 4h0m25-17.5h0m-14.5 10.5h0m3-3h0m-16 12h0m28.5-17.5h0m-16 12h0m12-7.5h0m-1.5 0.5h0m0.5-1h0m-6.5 7.5h0m8-9h0m5.5-5h0m-6.5 9h0m62.5-89.5h0m-2 2h0m-3 5.5h0"/><path stroke="#ff00ff" d="M528.5 678.5h0m-1.5 0.5h0m-2 0.5h0m1.5-0.5h0m1 0h0m0.5-0.5h0m-2 1h0m4-1.5h0m-4.5 1.5h0m0.5-0.5h0m0.5 0.5h0m-2 0h0m-1.5 0.5h0m4.5-1.5h0m-4 1.5h0m0.5-0.5h0m5-1h0m-1 0.5h0m-4 1h0m4.5-1h0m-7 1h0m-8.5 0h0m4 0h0m-2 0h0m4.5 0h0m-5.5 0h0m-1.5 0h0m7.5 0.5h0m2-0.5h0m-5.5 0h0m2.5 0.5h0m-0.5-0.5h0m2.5 0h0m-0.5 0h0m-1.5 0h0m-4-0.5h0m1 0.5h0m7-0.5h0m-5 1h0m0.5 0h0m4-0.5h0m-3 0.5h0m-4.5 0h0m2.5-0.5h0m0 0.5h0m0.5-0.5h0m-4.5 0h0m8-0.5h0m-10.5 0h0m12.5 0h0m-8 0.5h0m-4 0h0m5.5 0.5h0m5.5-1h0m-6 1h0m-0.5 0h0m-1.5-0.5h0m-1-0.5h0m2 1h0m9-0.5h0m-12.5 0h0m8.5-0.5h0m5-0.5h0m-11 1.5h0m-3.5-0.5h0m9 0h0m4.5-1h0m-14 0.5h0m10.5 1h0m-14.5-1.5h0m14.5 0.5h0m-6.5 0h0m12.5 0h0m-5 0h0m-13 0h0m8 0h0m8-0.5h0m-8.5 0.5h0m-2.5 1h0m-3.5-0.5h0m-1-0.5h0m-0.5-0.5h0m11.5 1.5h0m-10.5-0.5h0m3.5 0.5h0m-3.5-1h0m-1.5 0h0m9.5 0h0m-5.5 0h0m-5.5-0.5h0m10.5 0.5h0m2 0h0m-5.5 0h0m-2.5 0h0m7.5 0h0m5-0.5h0m-14.5 1h0m3.5-0.5h0m-5.5 0h0m17.5 0.5h0m1.5-1.5h0"/></g><text x="517.0" y="692.2" text-anchor="middle">0</text><text x="556.1" y="692.2" text-anchor="middle">10</text><text x="595.2" y="692.2" text-anchor="middle">20</text><text x="634.2" y="692.2" text-anchor="middle">30</text><text x="673.3" y="692.2" text-anchor="middle">40</text><text x="493.3" y="683.6" text-anchor="end">0</text><text x="493.3" y="662.7" text-anchor="end">200</text><text x="493.3" y="641.8" text-anchor="end">400</text><text x="493.3" y="620.9" text-anchor="end">600</text><text x="493.3" y="600.0" text-anchor="end">800</text><text x="493.3" y="579.1" text-anchor="end">1000</text></g><text x="584.8" y="703.2" text-anchor="middle" style='font-family:"Liberation Serif",serif;font-weight:bold;font-size:9.9px;letter-spacing:-0.3px'>V3</text><text transform="translate(471.9 618.2) rotate(-90)" text-anchor="middle" style='font-family:"Liberation Serif",serif;font-weight:bold;font-size:9.9px'>V4</text><text x="584.8" y="553.6" text-anchor="middle" style='font-family:"Liberation Serif",serif;font-weight:bold;font-size:9.6px;letter-spacing:-0.3px'>GMM</text><g style='font-family:"Liberation Serif",serif;font-weight:bold;font-size:8.1px'><rect x="635.7" y="621.6" width="30.8" height="55.4" fill="#fff" stroke="#5a5a5a" stroke-width="0.9"/><circle cx="648.9" cy="627.4" r="0.7" fill="#ff0000"/><text x="660.9" y="630.1">1</text><circle cx="648.9" cy="636.3" r="0.7" fill="#ffff00"/><text x="660.9" y="639.0">2</text><circle cx="648.9" cy="645.2" r="0.7" fill="#00ff00"/><text x="660.9" y="647.9">3</text><circle cx="648.9" cy="654.2" r="0.7" fill="#00ffff"/><text x="660.9" y="656.9">4</text><circle cx="648.9" cy="663.1" r="0.7" fill="#0000ff"/><text x="660.9" y="665.8">5</text><circle cx="648.9" cy="672.0" r="0.7" fill="#ff00ff"/><text x="660.9" y="674.7">6</text></g><g style='font-family:"Liberation Serif",serif;font-weight:bold;font-size:8.6px'><path d="M36.9 875.1v-2M36.9 750.8v2M73.1 875.1v-2M73.1 750.8v2M109.2 875.1v-2M109.2 750.8v2M145.3 875.1v-2M145.3 750.8v2M181.5 875.1v-2M181.5 750.8v2M29.5 875.1h2M205.8 875.1h-2M29.5 854.4h2M205.8 854.4h-2M29.5 833.7h2M205.8 833.7h-2M29.5 813.0h2M205.8 813.0h-2M29.5 792.2h2M205.8 792.2h-2M29.5 771.5h2M205.8 771.5h-2M29.5 750.8h2M205.8 750.8h-2" stroke="#7f7f7f" stroke-width="0.8" fill="none"/><rect x="29.5" y="750.8" width="176.3" height="124.3" fill="none" stroke="#7f7f7f" stroke-width="1"/><g fill="none" stroke-linecap="round" stroke-width="1.4"><path stroke="#ff0000" d="M39.5 857h0m0.5 0h0m0-0.5h0m-0.5 1.5h0m1-1.5h0m-1.5 0.5h0m1 0.5h0m-1 0.5h0m0.5-1.5h0m0.5-3h0m1.5-3.5h0m-2.5 0.5h0m0.5 2.5h0m1.5-3.5h0m-1.5 6.5h0m1-3h0m0-3h0m-1-0.5h0m0.5 6.5h0m-0.5-4.5h0m2 3h0m-2-4.5h0m0 4.5h0m2-3.5h0m0 0.5h0m0-2h0m-1.5 2h0m1.5 2.5h0m-1-3h0m2.5-2h0m-1 3.5h0m0-3h0m-2-0.5h0m1 5h0m-1.5 1h0m0-3h0m-0.5 4h0m1-3h0m0-1h0m2-2h0m-1 5.5h0m-0.5-0.5h0m-0.5-2.5h0m-0.5-1.5h0m1 0.5h0m-0.5 3.5h0m1.5-2h0m-2-0.5h0m-0.5-0.5h0m1.5-2.5h0m-1 4h0m0 0.5h0m0 1.5h0m1.5-2h0m-1.5-3h0m0.5 0h0m1 2h0m0-1h0m0-1.5h0m-2 4.5h0m3-4h0m-1 0h0m-2 1h0m1 2.5h0m-1-3h0m1 0h0m0-1h0m0.5 6h0m0.5-5h0m0 1h0m-2 0.5h0m0 0.5h0m1.5 0.5h0m0 2h0m-0.5 0h0m2.5-5.5h0m-3.5 5.5h0m1.5-1h0m-0.5 0h0m0.5-4h0m-0.5-1h0m1.5 4h0m-0.5-0.5h0m0 2h0m2-5.5h0m-2.5 4.5h0m2-4.5h0m-3.5 0h0m3 2h0m0.5-3h0m0-4.5h0m-3 3h0m0 1h0m2.5-1h0m0-0.5h0m-1.5-7h0m0.5 2h0m1-1h0m1.5 1.5h0m-3.5 4h0m2-1h0m-1.5-0.5h0m2.5 1.5h0m-0.5-1h0m1.5-4h0m-3 7.5h0m0-2h0m0-2.5h0m1-2h0m2.5 0.5h0m-1.5-1h0m-2.5 6.5h0m-1.5-0.5h0m2.5-1.5h0m0 0.5h0m2.5-5h0m2.5-2.5h0m-6.5 3h0m1 7h0m-0.5-8h0m3.5-1.5h0m-2 3.5h0m-0.5 2.5h0m-2 0h0m2.5-3h0m4.5-2h0m-4.5 5h0m-0.5 3.5h0m2.5-8.5h0m-2-1.5h0m-1.5 6.5h0m4.5-4.5h0m-2 1.5h0m-3.5 6h0m1.5-3.5h0m0.5-2.5h0m1.5-0.5h0m-1.5 2.5h0m0 3h0m2.5-8.5h0m-4 5.5h0m4-2.5h0m-4 1.5h0m1.5 5h0m-1.5-1.5h0m0 1.5h0m0.5-1.5h0m-0.5-2h0m0 0.5h0m3-5h0m-1.5 3h0m1 1h0m1 2h0m-2.5-3h0m0.5 3.5h0m-1-6.5h0m4 0h0m-5 5.5h0m1 3h0m5-9h0m-2 6h0m-3-3.5h0m1.5-1.5h0m-1-0.5h0m2.5 4h0m-1 2h0m-2.5-2.5h0m3 1.5h0m-1-4h0m-0.5-1h0m1.5 7h0m0.5-2.5h0m-1.5-0.5h0m3-5h0m-3.5 0h0m0-0.5h0m1 2.5h0m0 4h0m-3.5 1h0m0 2h0m3.5-2.5h0m-3.5 1h0m1.5-7h0m1.5 3.5h0m1.5-3.5h0m-3 1.5h0m1.5 2.5h0m-1.5 3.5h0m0-1.5h0m4-1h0m-5-0.5h0m1 0.5h0m0.5-2h0m-1.5 1h0m1.5-3h0m1.5-0.5h0m-1.5 2h0m1 5h0m-3 0.5h0m3.5-5.5h0m-2.5-1.5h0m5-0.5h0m-3 8.5h0m-2.5-2.5h0m6-4.5h0m-5.5 4.5h0m5.5-5h0m-2 0h0m-0.5-2h0m0.5 4.5h0m-4 5h0m6-10h0m-6 4.5h0m1.5 2h0m1-5.5h0m3.5-0.5h0m-4 5.5h0m-2 2.5h0m1-5.5h0m1 2h0m2 3h0m-3.5-4.5h0m4.5-0.5h0m-4.5 5.5h0m1-7.5h0m0.5 1.5h0m1.5 1.5h0m1.5 1h0m-3.5 0.5h0m3-0.5h0m0.5 2h0m-3 2h0m-1-4h0m2.5 0h0m2-2h0m-2 3h0m0 1.5h0m-1-7h0m-0.5 3.5h0m-2 2h0m0.5-2h0m4.5-3h0m1 0.5h0m-3 6.5h0m-2 1.5h0m1-8.5h0m4 1h0m-3-1h0m2-0.5h0m-1 9h0m-1-5h0m-3.5 2.5h0m3.5-6.5h0m-3.5 6h0m4-6.5h0m0 8h0m0.5-8h0m2.5 0.5h0m-5 8h0m1.5-4.5h0m2 0.5h0m-2.5 2.5h0m2-6h0m-2.5 2h0m1-3h0m1 6.5h0m-2.5 0.5h0m1.5-5h0m-2.5 7h0m3.5-7h0m-2.5-2h0m-0.5 0h0m8.5-3.5h0m-6 2h0m3.5-5.5h0m3.5-4.5h0m3.5-0.5h0m-13 11.5h0m6-14.5h0m1.5 11h0m-0.5-0.5h0m-0.5-8.5h0m7-1h0m-1.5 2.5h0m-5.5 6h0m-3-2h0m7.5-5.5h0m-2 7.5h0m-1.5-7h0m-3 0h0m1 5h0m4.5-6.5h0m-8.5 8h0m2-6h0m3.5 2h0m-1 4.5h0m2.5-3h0m-0.5-1h0m-1.5 1h0m-4 6.5h0m10-13.5h0m-4.5 0.5h0m-4.5 14.5h0m7.5-14.5h0m-8 6.5h0m-2.5 6.5h0m11.5-11h0m-7.5 6h0m0.5-4h0m3.5-2h0m-7.5 12h0m6.5-12h0m0 2h0m0-3.5h0m-3.5 10h0m2.5-8h0m-0.5-1h0m4.5 8h0m-8.5-1h0m3.5 1h0m-0.5 1.5h0m0-1.5h0m7.5-6.5h0m-5.5 5h0m-2.5-2h0m4 4.5h0m0.5-7.5h0m-1.5 4.5h0m-2.5-2h0m0.5 3h0m-1.5-2.5h0m2.5-5h0m-3 9.5h0m6-3.5h0m-3.5-3h0m-2.5 9.5h0m1.5-13.5h0m-1 7h0m-1 4h0m1-8h0m1-1h0m5 3h0m-4-4.5h0m-1 13h0m0-7h0m6.5-3h0m0-3h0m-8.5 4.5h0m1 0.5h0m4.5 3.5h0m-2.5-3h0m-3 0h0m3-4h0m2 1.5h0m4-3h0m-7 13.5h0m2-11h0m-1 4.5h0m5-4.5h0m-8.5 7h0m4-2.5h0m-1-5.5h0m-3 12.5h0m6-13h0m-7 9h0m3 0.5h0m1.5-1h0m3-4h0m-3-1.5h0m1.5-3.5h0m-2 0h0m2.5 4h0m-3 4h0m-0.5-6h0m3.5-2h0m-3 12h0m-0.5-0.5h0m4-9.5h0m0.5 7h0m-3.5-3h0m-2.5 5.5h0m4.5-9.5h0m5.5 0.5h0m-7.5 9h0m0-10h0m5.5-1h0m-8 5.5h0m1 2h0m0 3h0m3.5-5h0m0.5 4.5h0m-6 1h0m6-3.5h0m-5 5h0m7-6.5h0m2-3.5h0m-1 0.5h0m-4.5-5h0m3 5.5h0m-4.5-4h0m3.5 7h0m-0.5-5.5h0m-6 8h0m4-4h0m1-1h0m6-3h0m-3.5 7.5h0m-7.5 4.5h0m2-3.5h0m-2 1h0m0-1h0m12-11h0m-11 14.5h0m-1-4.5h0m8-6h0m0.5-1h0m-8.5 6h0m0.5 2.5h0m1.5-10h0m2.5 12.5h0m-5.5-3h0m1.5-4h0m10-7h0m-1.5 3.5h0m-3.5 3h0m3.5-2.5h0m-5.5 1h0m2 6.5h0m2-9h0m2-1.5h0m-2 8h0m0.5-8.5h0m2 6h0m-7-1.5h0m4-0.5h0m-5.5 8h0m-2-3h0m2.5 4h0m-1-0.5h0m8-5.5h0m-6 7h0m9.5-15h0m-7.5 10.5h0m-2-3h0m1 4.5h0m-4.5 0h0m3.5-3h0m1 5.5h0m4.5-14.5h0m-2 6.5h0m-5.5 3.5h0m0.5 1.5h0m2.5 1h0m-0.5-2h0m0-8.5h0m-0.5 3h0m-4.5 10h0m1-0.5h0m2.5-10.5h0m6.5 1h0m-6.5 5.5h0m2.5-8.5h0m-5.5 10h0m8.5-3.5h0m-8.5 5h0m5.5-8h0m-6 8.5h0m5-1.5h0m1.5-5h0m5-2.5h0m-3.5-1h0m-5.5 2h0m0.5 7.5h0m4-8.5h0m0-1h0m-4 5.5h0m-0.5 0h0m1 2.5h0m6-5h0m-5-0.5h0m8-5.5h0m-7.5 10h0m0.5-5.5h0m1-4h0m3.5 0.5h0m-7 12.5h0m6.5-10.5h0m-2 0.5h0m-3.5 9h0m5.5-6h0m0.5 0h0m-3 7h0m0.5-12.5h0m-2.5 2h0m3.5-1.5h0m-2 4h0m-4.5 1.5h0m0.5-3h0m3.5 7h0m-1 3h0m-4.5-1h0m3.5-1.5h0m5-10.5h0m-5.5 6.5h0m-2-0.5h0m8-6h0m3 3.5h0m-9 7.5h0m3.5-7.5h0m-2.5 2.5h0m0.5 3.5h0m1.5-7h0m-5.5 7h0m1-2h0m7-8.5h0m-1.5 9h0m-3.5-0.5h0m4.5-9.5h0m-3.5 5h0m-3.5 2h0m2 6.5h0m7-13.5h0m-2.5 3h0m-3 0.5h0m-3.5 6.5h0m10-10h0m-9 8h0m7.5-7h0m-4 0h0m2-0.5h0m-0.5 0.5h0m4.5 3.5h0m-7 0h0m6.5-2.5h0m-1.5-0.5h0m-7 11h0m-2.5 0h0m5-1.5h0m3.5-5h0m-4 8.5h0m-4.5-3.5h0m13.5-9.5h0m-6-1.5h0m-1.5 12.5h0m5-9h0m-8.5 5h0m5.5-0.5h0m-4.5-6.5h0m5.5-1.5h0m-7 12h0m4-5h0m-2.5 3h0m6-6h0m-6.5-1h0m7.5 2h0m-5-0.5h0m-1.5-0.5h0m4 3.5h0m5.5-7h0m-5.5 1.5h0m0.5 2.5h0m-0.5-4h0m-4 10.5h0m3-11h0m2.5 7h0m3.5-3.5h0m-8 6h0m-2 0.5h0m0-5.5h0m9.5-4.5h0m-4 5h0m2-1.5h0m-5.5 10.5h0m0-10.5h0m-0.5 2.5h0m4.5-10.5h0m0 4h0m7.5-8h0m-10 7h0m9.5-10.5h0m-7 6.5h0m2-7h0m-4 11h0m8-6.5h0m-7.5 6.5h0m3-11h0m0 3.5h0m0.5 5h0m1-11h0m-0.5 4h0m3.5 5.5h0m-4.5-8h0m-3 7.5h0m3-9h0m1.5 10h0m0.5-10.5h0m-6.5 14.5h0m8.5-10.5h0m-2.5 7h0m0-2.5h0m1-3h0m-7.5 9h0m6-2.5h0m-4 1.5h0m4-9.5h0m0.5 8h0m-4-0.5h0m5-10.5h0m-2 6.5h0m1-2.5h0m-1-0.5h0m2.5-2h0m-4 8.5h0m4 3h0m0-6h0m-3 4.5h0m-2.5 2.5h0m7-14h0m-3.5 4.5h0m-4.5 3.5h0m7 4h0m0-9.5h0m-3.5 3.5h0m3 5.5h0m1-12h0m1 0.5h0m-3.5 1.5h0m3 8h0m-2-5.5h0m-3.5 8h0m-1-7.5h0m-1 9h0m2 0.5h0m6.5-11h0m-4 6h0m1.5-5.5h0m-2-1.5h0m-2-1h0m1.5 3h0m2.5-4h0m-3 0.5h0m0.5 13h0m-1-3.5h0m-3-1.5h0m2.5 2h0m-0.5 1h0m8-11h0m-4 13.5h0m-1.5-2.5h0m3.5-9h0m-6 8.5h0m3.5-0.5h0m1.5-11h0m-1.5 3h0m-1.5 5h0m-2.5 4.5h0m2.5-2h0m6.5-11h0m-12 14h0m6.5-9.5h0m0.5 5h0m-3.5-5.5h0m0.5 6.5h0m0 3h0m1.5 1.5h0m-2.5-4.5h0m5-8.5h0m-2-0.5h0m-0.5 2h0m0 9h0m2.5-2.5h0m-1-8.5h0m2.5-1.5h0m-7.5 8.5h0m2.5-5h0m2-3.5h0m0 9h0m-1.5-1h0m2 3h0m-5 4h0m2.5-10.5h0m2-2.5h0m1 11h0m-6-1.5h0m4-5.5h0m6.5-5h0m-3 7h0m-2 4h0m-2-6h0m1-5.5h0m0 1.5h0m5-0.5h0m-6.5 7.5h0m6 2h0m-3-9h0m-1 1h0m3.5 6h0m-7.5 2h0m6 0.5h0m-3-10.5h0m3 8.5h0m-0.5-8h0m-3.5 8h0m-1-3h0m-1.5 5.5h0m5.5-1h0m-4.5 0h0m-1 0.5h0m2.5-4h0m-4.5 6h0m4.5-10.5h0m-1.5 9.5h0m1-4h0m0-3h0m-2 7.5h0m3.5-4h0m-1-2.5h0m0 0.5h0m1-5.5h0m5 1.5h0m-3.5 10.5h0m2.5-11h0m-4.5 2.5h0m1 8h0m4.5-5h0m-1.5-5h0m-1 0h0m-0.5 9h0m-3.5-5.5h0m-3 2.5h0m10-8h0m-4.5 8.5h0m-1-2.5h0m-4.5 5.5h0m6.5-9h0m2.5-2h0m-5 2h0m-2 1h0m-1.5 10h0m5-13.5h0m-2.5 7h0m-4 7h0m3.5-12h0m0.5 4.5h0m-3.5 5h0m11-6.5h0m-9 3h0m7-6h0m0 1h0m0.5 10.5h0m-1-13h0m-4.5 4h0m4-1h0m-5.5 1.5h0m2 4h0m-1.5-2.5h0m-3 4.5h0m7.5-3.5h0m-2-1h0m3 7.5h0m-7-6h0m-1 2h0m4.5-8.5h0m0-0.5h0m1.5-1.5h0m-7.5 14.5h0m10.5-14.5h0m-5.5 5.5h0m4-5h0m-3.5 10.5h0m-2-3h0m2.5 3.5h0m1-8h0m-4.5 7h0m6.5-11h0m-3 5.5h0m0.5 9.5h0m-3.5-1.5h0m9.5-13h0m-3.5 5h0m-6 9h0m1-9h0m0 3h0m4-4h0m4 7h0m-9-6.5h0m7 2h0m-8 5.5h0m3-10h0m2.5 11.5h0m-6-2.5h0m8-5.5h0m-4.5-4.5h0m7.5 0h0m-3.5 7h0m-0.5 4.5h0m-3.5-1h0m1.5-9.5h0m1.5 6.5h0m-0.5 1.5h0m3.5-10.5h0m-3.5 6.5h0m3.5-0.5h0m-4.5 5h0m4-3.5h0m-2.5 0.5h0m-2.5-7h0m2.5 1.5h0m4.5-0.5h0m-8.5 1.5h0m3 3h0m3-5h0m-9 12h0m6.5-8.5h0m-1 4.5h0m-1 1h0m1-2.5h0m-1.5-7h0m3.5 4.5h0m0.5-3h0m2.5-2h0m-5 14h0m-2.5-5h0m2-9h0m4.5 7.5h0m-5 6.5h0m-1.5-5.5h0m0.5 3h0m4-11.5h0m-4 8.5h0m-0.5 2.5h0m-0.5-4h0m3.5 7h0m-6.5-1.5h0m12-7h0m-11.5 9h0m7.5-15h0m1.5 0.5h0m-3 7h0m-5.5 4.5h0m5-1.5h0m-1.5-2h0m2.5-1.5h0m-0.5 1h0m-5 7h0m3.5-4h0m-2-7h0m2 0.5h0m5.5 5h0m-8.5-2h0m1.5 7h0m4-13h0m-6.5 9h0m3-4.5h0m4.5 0h0m-6 7h0m2 2h0m0-7h0m2.5 5h0m-1-13h0m1.5 7h0m-1-5.5h0m-5.5 8.5h0m2.5-4h0m2.5 8h0m-4.5-0.5h0m1.5 0h0m-1.5-3h0m1 0h0m7-6h0m-6.5 9.5h0m-3.5-0.5h0m11.5-8.5h0m-7.5 0h0m0-0.5h0m2 2h0m6-2.5h0m-8.5 8h0m2-8h0m-3 8.5h0m4-4h0m1-6h0m2.5 8.5h0m1.5-8h0m-3.5-3h0m-4.5 5h0m7.5 2h0m-8.5 1h0m4-9h0m4-8h0m0.5 0.5h0m0.5-2.5h0m-2 6.5h0m1.5-1h0m1.5-5h0m-1 5.5h0m-1-4.5h0m0.5 4.5h0m-2 1h0m0.5 0.5h0m2 1h0m-3.5-2.5h0m3 3h0m0-7.5h0m-0.5-2h0m-4 10h0m6 0.5h0m-4.5 0.5h0m3-10.5h0m-2.5 10h0m4-7h0m0.5 4.5h0m-0.5 1h0m0.5-0.5h0m-2-5h0m-2.5 7.5h0m4.5-9.5h0m-2 3.5h0m0 3.5h0m-3 0.5h0m2.5-5h0m1.5 0h0m-2 3.5h0m1 0h0m-1.5-1.5h0m3.5-5h0m-1.5 4h0m3-3.5h0m-3.5 2.5h0m0 1.5h0m-0.5 0h0m0-2.5h0m3 4.5h0m-3-6h0m0.5 5.5h0m-2.5-2.5h0m0.5 5.5h0m4-7.5h0m0 1h0m-6 4.5h0m5.5-6.5h0m-0.5 4.5h0m-2.5 4.5h0m-2.5 0h0m1.5-2h0m2-4h0m1.5-2.5h0m-4.5 8h0m3.5 1h0m-1.5-7h0m0.5 2h0m0-4h0m2-1h0m0.5-1h0m-0.5 11h0m-5-1.5h0m2-4h0m1.5 1.5h0m-0.5 3h0m0.5-5h0m0 1h0m1-2h0m-1.5-3h0m0.5 2.5h0m0 3h0m1-0.5h0m-2.5-2h0m4 1h0m-1.5 3.5h0m2-8.5h0m-0.5 0h0m-4 8.5h0m0 1h0m0-3.5h0m5-3.5h0m-5 0.5h0m0 2h0m0-0.5h0m2.5-1h0m-1-3h0m-0.5 1h0m1 8.5h0m2-4h0m-2-3.5h0m0 2h0m-3 6h0m0.5-1.5h0m1.5-2.5h0m3 0h0m-4.5 1h0m0-0.5h0m2.5 3.5h0m0-1.5h0m2.5-0.5h0m-3.5-4.5h0m-0.5 1.5h0m-2 2.5h0m1-3h0m-2 6h0m3.5-3h0m2 2.5h0m-2.5-3h0m-2.5 1.5h0m4.5-7.5h0m-2 7.5h0m2-8h0m-1.5 1.5h0m-1.5 3h0m5-4h0m0.5 3.5h0m-5 5.5h0m0-4h0m4.5-3h0m-4 6.5h0m2-8h0m-2 4.5h0m3.5-3.5h0m-4.5 6.5h0m-1 1h0m4-5h0m0-5.5h0m1.5 2h0m-3 1.5h0m-0.5 1h0m0.5 2.5h0m3.5 8.5h0m-1 6h0m4-11.5h0m-4.5 6.5h0m-0.5 10.5h0m2.5-15h0m-3.5-2h0m1-2.5h0m13 25h0m-7.5-27.5h0m-2.5 9.5h0m1.5-0.5h0m1.5 8.5h0m1-10.5h0m-4.5-8.5h0m4.5 12.5h0m-6 6.5h0m5.5-2h0m1-8.5h0m-3 8h0m-3-0.5h0m2-9.5h0m2.5-2h0m4.5 12h0m-5.5-15h0m-2.5 15.5h0m4.5-2.5h0m-3.5-3.5h0m1.5 3.5h0m-4.5 7h0m5-13h0m0 8.5h0m-1-6h0m-3-7.5h0m1 0h0m-1.5 20.5h0m2.5-18.5h0m0.5-4.5h0m-1 8h0m1.5 7h0m2.5-9.5h0m0 6.5h0m-5.5 6.5h0m0.5 1.5h0m1.5-8h0m-3.5 1h0m0 8.5h0m-0.5-9.5h0m6.5-1h0m-6-8.5h0m0.5 11.5h0m3.5 0h0m3 0h0m-7.5 9.5h0m2-7.5h0m0.5-5.5h0m9.5 7.5h0m-11.5-1h0m6.5-9.5h0m-2.5 1.5h0m-3-4h0m1.5-9h0m2.5 12h0m2.5-1.5h0m-6-1h0m6.5 2h0m-1 9h0m-6.5-13h0m5 3.5h0m-1-8.5h0m2.5 8.5h0m-6-1.5h0m0.5 13.5h0m0.5-5h0m-1.5-6.5h0m8 5h0m-2-7.5h0m-2 4h0m-4 12.5h0m10-3h0m-5.5-18.5h0m-1 0.5h0m3.5 10h0m-7.5-1h0m2-5h0m-0.5-4.5h0m6 17h0m0-7.5h0m2 4.5h0m-5.5-8.5h0m3 2.5h0m-4-7.5h0m2 14.5h0m3-3h0m-5-2.5h0m4.5 10h0m-0.5-7h0m-5-2.5h0m0.5 5.5h0m-1.5-5.5h0m4.5 6.5h0m-4 6.5h0m0-22h0m-2.5 10h0m3 3.5h0m6.5-3h0m-7.5 3h0m8.5-1h0m-2.5-9.5h0m2 8h0m1.5 9h0m-9-8.5h0m0.5-6.5h0m-1.5 10h0m8.5-2.5h0m-3.5 6h0m-1.5-12.5h0m-4.5 20.5h0m5.5-25.5h0m3.5 10h0m-5.5-3h0m-0.5 2h0m1.5 7.5h0m-1.5-6h0m4 1h0m-0.5-10.5h0m-5.5 19h0m5.5-12h0m4 14h0m-5.5-6.5h0m-5-5h0m6-3.5h0m-2-6.5h0m-1.5-4.5h0m-3 19h0m4.5-10.5h0m-2-7h0m5 9.5h0m-2.5-3h0m1.5 7h0m-2 17.5h0m-0.5-25h0m5 10.5h0m-5-14h0m0 8.5h0m3-3.5h0m-2 1.5h0m5.5 11.5h0m-6.5-11.5h0m-1-8h0m4.5 2h0"/><path stroke="#ffff00" d="M37.5 866.5h0m0 1h0m0-0.5h0m0-2h0m0 0.5h0m0 0.5h0m-0.5-0.5h0m0.5-1h0m0-0.5h0m0-0.5h0m0-1.5h0m0 1h0m0-0.5h0m0.5 1.5h0m-0.5-2.5h0m0-1h0m0 0.5h0m0-1h0"/><path stroke="#00ff00" d="M39 858.5h0m-0.5 2h0m0 0.5h0m-0.5-1h0m1-1h0m-0.5-0.5h0m-0.5 0h0m0.5-1.5h0m0 0.5h0m0.5 0h0m-1 2h0m0.5-0.5h0m0.5-1h0m-1-1h0m0.5-0.5h0m0.5 3h0m-1-3h0m1.5 2h0m-1.5 2h0m0-2.5h0m0.5 2h0m0.5-3.5h0m0 0.5h0m-0.5 1h0m1-0.5h0m0-1h0m0 0.5h0m0 1h0m-1.5 3h0m0-3.5h0m0 1.5h0m0.5 0.5h0m0.5-6.5h0m-0.5 1.5h0m0-2.5h0m-0.5 3.5h0m2-2h0m-2 1h0m0.5-2h0m0 1.5h0m0.5 1h0m-1 1h0m0-2.5h0m2 2.5h0m-1.5-6h0m0 0.5h0m1 5h0m-1 0h0m1-2h0m-0.5-1h0m0 3h0m-1-2.5h0m0.5 3h0m-0.5-2h0m0.5-1h0m0.5 1.5h0m0.5-0.5h0m-0.5-2.5h0m0.5 1.5h0m-1 2h0m1 1h0m-1.5-1h0m1-3h0m-0.5-0.5h0m0.5 2h0m0 0.5h0m0.5-2.5h0m-1-0.5h0m0.5-1.5h0m0 1h0m0.5 0.5h0m-0.5-5h0m0 2h0m0-0.5h0m0.5-0.5h0m0 2h0"/><path stroke="#00ffff" d="M37 867h0m0.5-0.5h0m-0.5 0h0m0 1h0m0 0.5h0m0.5-1h0m0 1h0m0-0.5h0m-0.5-2h0m0.5-0.5h0m0 1h0m-0.5 0h0m0-1h0m0.5 0.5h0m0-1.5h0m-0.5 0.5h0m0.5-1h0m0 1h0m0-1.5h0"/><path stroke="#0000ff" d="M37.5 865h0m0.5-2h0m-0.5 0h0m0-0.5h0m0.5-0.5h0m0-0.5h0m-0.5 0h0m0 3h0m0.5-0.5h0m-0.5-2h0m0.5 0.5h0m-0.5 1.5h0m0-0.5h0m0.5 0h0m0.5-2h0m-1-0.5h0m0-1h0m0.5 1h0m0-2.5h0m0.5 1.5h0m-0.5-2.5h0m-0.5 0.5h0m0.5 2.5h0m0-4h0m0 1.5h0m0.5 2.5h0m-1-1h0m0.5 0.5h0m-0.5-1h0m1 2h0m-0.5-2h0m0 0.5h0m-0.5 1h0m0-2h0m0.5-1.5h0m-0.5 0.5h0m1 1h0m-0.5-3h0m0 0.5h0"/><path stroke="#ff00ff" d="M96.5 793.5h0m51-4h0m-21.5 22h0m20.5-10h0m-57.5-16h0m45 2h0m28.5 33h0m-99-23.5h0m18.5 14h0m3.5-13h0m26.5 5h0m-38.5 1.5h0m50-12h0m-44-17h0m13.5 30h0m20-36.5h0m-35 28h0m32-3.5h0m-3.5 1.5h0m-30.5-3.5h0m53.5 3h0m-45 2h0m59-2.5h0m16.5 4.5h0m-37-5h0m-57 6h0m49-10h0m-45 29h0m11-9h0m20-7.5h0m26-6h0m16 10.5h0m-57.5 7.5h0m14.5-10h0m-3.5-22.5h0m7.5 11h0m41 14h0m-40-16h0m31.5 26h0m-54.5-35.5h0m7 0h0m14 11h0m49.5 1.5h0m-53 4.5h0m9-3h0m-14.5-0.5h0m44.5 5h0m-64.5-6h0m15.5 11.5h0m12-20.5h0m19.5 16.5h0m-35-8.5h0m-14.5-3.5h0m17-15h0m-8.5 36.5h0m4-22.5h0m92 2.5h0m-107 11.5h0m-0.5 7.5h0m35.5-19.5h0m44-23h0m-48 15.5h0m-14.5 1.5h0m93.5 33.5h0m-45.5-24h0m-62.5-1h0m40-4h0m15-17h0m37.5 44h0m-59.5-16h0m0.5-14.5h0m-8.5-0.5h0m62.5-3h0m-92 7.5h0m46.5 14h0m-27.5-5.5h0m-2-11.5h0m-1.5 13.5h0m-17 2h0m28.5 7.5h0m-18.5-10.5h0m34.5-7h0m-24 9h0m8.5-14.5h0m37 3.5h0m-64 17h0m10.5-0.5h0m23-13.5h0m28-6h0m37 22.5h0m-101-8.5h0m15.5-9.5h0m2.5 15.5h0m0.5-12.5h0m-7-6.5h0m4 2.5h0m77.5 15h0m-79.5 4.5h0m3-15.5h0m20-6h0m19.5-11h0m-21 14h0m-26.5 7.5h0m22-11.5h0m-31.5 9h0m108-1.5h0m-51-26h0m20.5 31h0m4-17.5h0m-1-6.5h0m-49 20.5h0m30-14h0m-40 20.5h0m9.5-12h0m31.5 1.5h0m-16 2.5h0m7 2.5h0m-27 9.5h0m31.5-21h0m-28 4.5h0m-3.5 0h0m65 10.5h0m-18-12h0m-20.5 8.5h0m-32.5 6.5h0m51-16.5h0m-26-1.5h0m-12.5-0.5h0m26.5 0.5h0m-53 26h0m50.5-9h0m15.5-2h0m-70-11h0m10 2.5h0m73 18.5h0m5.5-25h0m-66-1h0m32 10.5h0m25.5-8.5h0m-57 3.5h0m42 0h0m12 13h0m-32.5-21h0m35 35h0m7-11.5h0m-33-40h0m8.5 36.5h0m-29.5-24h0m21.5 28h0m-24-29h0m7.5 15.5h0m-27.5-6h0m-4.5 7.5h0m88 18.5h0m-17-6.5h0m-61 1.5h0m-2.5 6h0m56-9.5h0m-12-15h0m-10 4.5h0m63.5 11h0m-48-9.5h0m13.5-6.5h0m-27.5 5.5h0m-20 10h0m-4 8h0m-3.5-26h0m-16 14.5h0m2 15h0m-2-8h0m90 0.5h0m-36.5-35.5h0m-1 5.5h0m12.5 6h0m-51 25h0m6-13h0m11.5-1.5h0m28.5 11h0m27-21.5h0m7.5 2.5h0m0 5.5h0m-77.5-8h0m37.5 18h0m-57-2h0m56.5-4h0m-42.5-8h0m-12 20.5h0m61-6.5h0m-38.5-13h0m6.5 8h0m22.5-7h0m35.5 44h0m-9-34.5h0m-74.5 15h0m7.5-21h0m5-14h0m39 6.5h0m-54.5 16.5h0m23-21.5h0m-19 36h0m22.5-21h0m49.5-14h0m-33 13h0m-1.5 15h0m54.5-11h0m-34-14.5h0m43.5 25.5h0m-110.5-13.5h0m12-1.5h0m5-3h0m55.5-11.5h0m-21.5 29h0m-43-37.5h0m92 27.5h0m-72.5-33.5h0m22 21h0m24-1h0m-24-2h0m37 11.5h0m-38.5-4.5h0m1.5-18.5h0m39 14h0m-10.5-13.5h0m5.5 42h0m-67-2h0m103 37h0m-62-79h0m-41 34.5h0m82 14h0m-80-17h0m53.5-8.5h0m-23.5-17h0m-13.5 13.5h0m-28 5h0m30.5 11.5h0m-19.5 6h0m-16.5-12.5h0m38-15h0m-17.5 14h0m37.5-12.5h0m-15 0.5h0m23-4h0m-2 13h0m-60.5 3.5h0m36.5-30.5h0m-35 37h0m15.5-10h0m-11.5 5.5h0m9-16.5h0m-12 25h0m71-6.5h0m-69 7h0m-1.5-15.5h0m54.5-27h0m0 14h0m31 11h0m-81-2h0m7.5 14h0m8 2h0m37.5-27.5h0m-10-9.5h0m-32.5 33.5h0m-7-0.5h0m48.5-2h0m-38.5-5.5h0m32-4h0m4 1h0m24.5-1h0m-43-4.5h0m15.5-12.5h0m3 19.5h0m10.5 9h0m-15-6h0m-43-1h0m42.5-20h0m-47.5 19h0m32.5-8.5h0m20.5 7.5h0m-29.5 7h0m-25.5-9h0m59.5 8h0m25 9.5h0m-41.5-8h0m-40.5 5.5h0m24-40h0m-28 41h0m76.5 13.5h0m-0.5-33h0m-60-6h0m-4.5 9.5h0m66 17h0m27.5-30h0m-87.5 10h0m57 19.5h0m-41-34h0m-6 15.5h0m-25.5 14h0m24-21.5h0m19.5 5.5h0m-5-6h0m-47 22.5h0m91-19.5h0m-58.5 0h0m14.5 7.5h0m-31 1.5h0m7 13h0m-12.5-10.5h0m55.5 1h0m-60 0h0m15-11h0m-0.5 1h0m4.5 17.5h0m2-2.5h0m-2.5-8.5h0m22.5-14.5h0m-34.5 14h0m70.5-18h0m-22.5-4h0m-43.5 14.5h0m23 32h0m-18-24.5h0m97.5 38.5h0m-38.5-23h0m20-16.5h0m-103.5 4.5h0m14 1h0m12.5 1h0m-11-5h0m-3 2.5h0m16.5 7.5h0m67.5 36h0m3-51h0m-95.5 13.5h0m13.5 16h0m52.5-24h0m-12-7h0m-42.5-1.5h0m12 17.5h0m34-19.5h0m-6.5-1h0m-10 28.5h0m-6-21h0m42.5 3.5h0m-18-1.5h0m-45.5-3h0m-14.5 3.5h0m20 29h0m-17-31h0m57.5-12h0m-43.5 16h0m-8 7.5h0m69.5 7h0m6.5 12h0m-73.5-20h0m66-11.5h0m-61 5.5h0m-1-0.5h0m57.5-12.5h0m-34-3.5h0m9 11h0m-5.5 15h0m42-23h0m-54 36.5h0m29.5-29h0m27.5 11h0m-32.5-19.5h0m4 8.5h0m5.5 26.5h0m-23.5-21h0m-29.5-7h0m40 2.5h0m-12-4h0m-9.5 23.5h0m17-9h0m-48.5 1.5h0m67.5-14.5h0m-36-3h0m23.5-2.5h0m-31 9.5h0m-6 4.5h0m60 1.5h0m-35.5-10h0m-22 5h0m6.5-13h0m-9.5 8h0m72.5 36h0m-66.5-26h0m53-9.5h0m-54.5 2h0m-20.5 0.5h0m74.5-3.5h0m-27.5 11.5h0m-6.5-14h0m9.5 23.5h0m66.5 11h0m-63-8h0m-25.5-15.5h0m-13.5 17.5h0m53-14.5h0m-25-14.5h0m-7-14.5h0m55.5 12.5h0m21.5 21.5h0m-103 2h0m44-17h0m-37 10h0m28.5 0.5h0m12.5-21h0m-33.5 19.5h0m-25.5 4h0m13-3h0m-12-2.5h0m22-9.5h0m39 31.5h0m-45.5-27.5h0m80-26.5h0m-51.5 16h0m6.5-4h0m-12 6.5h0m10-11.5h0m30 29.5h0m6 3.5h0m-54-10h0m33 10.5h0m-49-0.5h0m107-1h0m-48.5-3.5h0m-21-3h0m-44-11.5h0m21-1.5h0m-28 23.5h0m4-1.5h0m36-15h0m-8.5-2h0m24.5-11.5h0m-6.5 7h0m3.5 14.5h0m-30-6h0m-15 17h0m21 11.5h0m57-46.5h0m-20 30.5h0m4.5-8h0m-11.5-10.5h0m-38.5 31.5h0m91 7h0m-53.5-27h0m-11.5-17.5h0m19 10.5h0m-62.5 6.5h0m-0.5-3h0m24.5 11h0m3.5-24.5h0m-23.5 30h0m30.5-19h0m0.5 2.5h0m-18 3h0m-19 0h0m38 20h0m1-23.5h0m28.5 1h0m-43-8h0m-8 19.5h0m27.5-10h0m-38.5-11.5h0m57 34h0m25.5-3.5h0m-69-22h0m-12-2h0m32 8.5h0m75.5 3.5h0m-40 12.5h0m-9.5-23.5h0m-45.5 7.5h0m26 7h0m10-16.5h0m-35-16.5h0m-3.5-2h0m25 42h0m-27.5-22.5h0m61.5-14.5h0m-2-0.5h0m-5.5-0.5h0m-59.5 20h0m60.5-20.5h0m32 16.5h0m-56.5-7h0m-5.5 13h0m32-13.5h0m-66 8.5h0m6.5 15.5h0m27.5-33.5h0m-23 20h0m-2.5-9h0m24.5 6h0m29.5 14h0m20.5 2h0m4.5 26h0m-80.5-44.5h0m48-24.5h0m-36.5 34h0m21-12.5h0m-37 19.5h0m68.5 6.5h0m-60.5-19h0m-6 9h0m23-39h0m-8 29.5h0m57 34h0m-47.5-38h0m41 15.5h0m-35.5-10.5h0m-21 5h0m-4 4.5h0m60.5 11h0m-13-28h0m3.5 4h0m-66 12h0m7-2.5h0m-12.5-5.5h0m71 4h0m4-26.5h0m10.5 19h0m-26.5 7h0m16-0.5h0m-49-3h0m33.5-22.5h0m-42 21.5h0m23-12h0m60.5 12h0m-82 3h0m1 5h0m43.5-16.5h0m41 10.5h0m7 16h0m-100-10.5h0m5.5-19.5h0m90 29h0m-55 7h0m-17-43h0m25.5 14h0m-15.5-0.5h0m12 3.5h0m-11.5-20.5h0m21 18.5h0m29-9.5h0m-7.5 5h0m-80.5 6h0m41.5 3.5h0m-14.5-26.5h0m-5 12h0m5 34h0m66.5-28.5h0m-54.5-13.5h0m-12.5 30h0m35.5-9h0m-54-3h0m79 7h0m-83 2h0m50.5-15h0m-28 14.5h0m-24 4.5h0m96-14.5h0m-91 4h0m-3.5-9h0m86.5 49h0m-75.5-28h0m54 3h0m1-18.5h0m-49-16h0m-2.5 34.5h0m17-18h0m-8.5 12h0m-27-21h0m44.5 8.5h0m-47 20.5h0m33.5-0.5h0m-2-25.5h0m8.5 23.5h0m2.5-19.5h0m-4.5 1h0m-36 17.5h0m92 2.5h0m-42-24h0m28 20h0m-13-26h0m-50.5 0.5h0m29.5 3.5h0m-18.5 7h0m37-5.5h0m-67 13h0m38-7.5h0m-26 27h0m105-0.5h0m-61-18.5h0m-23.5-14.5h0m-4.5-5.5h0m51 20.5h0m-52.5-13.5h0m35.5 2h0m-56 14.5h0m28.5-8h0m-1.5 29.5h0m53.5 13h0m-51-45h0m-23.5 17.5h0m45.5-26.5h0m-38.5 8h0m28.5 3h0m23.5 2h0m-59.5 2.5h0m14.5 14.5h0m12-4.5h0m46-30.5h0m-62 26.5h0m24.5-10h0m-21.5-7.5h0m69.5 20h0m-77.5 1h0m51-19h0m-61 9.5h0m53-19.5h0m23 9h0m41 43.5h0m-69-42h0m-19-5.5h0m80 44.5h0m-70-43.5h0m-23.5 4h0m-6.5-6.5h0m-3 23.5h0m6.5-11h0m93.5 5h0m-15 8h0m-67-9.5h0m-18 9.5h0m8-6h0m-20 6h0m16.5-27h0m-2 15h0m63 24.5h0m-59.5-19.5h0m-16-14.5h0m115 6h0m-70.5 22.5h0m7.5-7.5h0m-52.5-1.5h0m45.5 1.5h0m-25 5h0m-19-16.5h0m-5 7h0m23.5-26h0m43.5 15h0m-43.5-5h0m-1-20h0m27.5 21.5h0m-42.5 26h0m42-41h0m4.5 15h0m-1 14.5h0m-41-4h0m14-10h0m26.5-0.5h0m-26 27.5h0m-2.5-9.5h0m66-28.5h0m31 39h0m-25.5 11.5h0m-88-22h0m45.5-25.5h0m5 8.5h0m18.5 7.5h0m-6.5 9.5h0m-39.5-29h0m52 41.5h0m39 23.5h0m-25-38.5h0m-29.5-10.5h0m-26-5h0m-4 24.5h0m-1-22h0m-27-3h0m25.5-14.5h0m-11 10.5h0m5 23h0m12-8.5h0m-27-9h0m114 18.5h0m-70-14h0m-21-11h0m-19 48.5h0m3-32h0m1.5 5.5h0m32.5 4.5h0m-9-11.5h0m-11 11h0m37-7h0m-34-23.5h0m17.5 7.5h0m2 10.5h0m-38-11h0m46 0h0m-52 18h0m66-13.5h0m31 40h0m-64-46.5h0m-22.5 11.5h0m-13.5 19.5h0m82-14.5h0m-57-6.5h0m23 10h0m-52.5-14h0m55 4h0m7-15h0m26 28h0m19.5 21h0m-59-50.5h0m-48 29h0m11-11h0m-7.5 0h0m9 15h0m10-12h0m46 21h0m20.5-29.5h0m-38 23h0m-47.5-11h0m60.5 7h0m-23.5-17h0m10 5.5h0m44.5 32h0m-46.5-34h0m-42.5 1h0m28.5-1.5h0m45 3h0m-82 0h0m115.5 3.5h0m-6 29.5h0m-51-39h0m-51 4.5h0m19.5 7h0m-1-4h0m44.5-14.5h0m-50-4h0m-10 14.5h0m19 0h0m-8-20h0m6.5 32h0m13-19.5h0m49.5-1.5h0m-21 12h0m-50.5 6h0m50-13h0m-49-9h0m46.5 11h0m-44-5h0m25-5.5h0m-33.5 10.5h0m-4-1h0m34.5-7.5h0m8 15h0m10.5-1.5h0m-15 0.5h0m-24-27h0m43.5 23.5h0m33 19.5h0m-85.5-30.5h0m6 4h0m-23 8.5h0m7.5 11h0m28.5-7.5h0m13.5-24.5h0m32.5 44h0m-24.5-31.5h0m34 34h0m-74.5-28.5h0m6-21.5h0m77 46h0m-87-11h0m27-4.5h0m-17-4.5h0m48 1h0m-22-10h0m-46.5 11h0m63.5-13.5h0m8.5 8h0m-42.5 6.5h0m29-11.5h0m15.5 3h0m-29-33h0m-24.5 37.5h0m-20.5 4h0m68.5-16h0m10.5 2h0m-53.5 26.5h0m30.5-20h0m24 22.5h0m-78-0.5h0m42-22h0m22 10h0m-64-18h0m25.5-5h0m-18 23h0m-2.5 4h0m42.5-14.5h0m-37.5-7h0m34-7.5h0m-6.5 13h0m-12.5 9.5h0m31.5-4.5h0m18 4.5h0m-76.5-0.5h0m60-22.5h0m-58 24.5h0m28 5h0m44.5 11h0m-4-54h0m-58 25h0m9.5 18.5h0m46.5-25h0m-6.5-2h0m-25.5-3.5h0m-8.5 26.5h0m-8.5-6h0m36.5-23h0m-45 28.5h0m79-19.5h0m-88 24.5h0m117.5 18h0m-116.5-34h0m28-5h0m72.5 55h0m-69-27h0m10-13h0m-43-5h0m24.5 44h0m-17-26h0m75-24.5h0m10.5-3.5h0m-5 12h0m-88.5-2h0m76.5-38h0m-77.5 44h0m26-17.5h0m69 20h0m-21.5 2.5h0m-16.5-1.5h0m-51-9.5h0m76.5 33.5h0m-34.5-27.5h0m-29-28.5h0m15 23h0m49 18.5h0m-28.5-22.5h0m50-8.5h0m-89 8h0m3.5-9h0m91 25h0m-47-11.5h0m-54 10.5h0m41.5-20h0m31.5 10h0m4-16.5h0m-81.5-3h0m21 3.5h0m1 1h0m16.5 0h0m41 16h0m-68.5 1.5h0m3.5-3h0m4.5 4h0m-14-12h0m47.5 15h0m-30-12.5h0m29 7.5h0m-21-0.5h0m-19-6.5h0m-2.5 4.5h0m47 3h0m36.5 13h0m-37-24h0m35 26.5h0m-37 20h0m-34-30.5h0m100.5 23h0m-119.5-23.5h0m2-22.5h0m2.5 23.5h0m44.5-27.5h0m-29 14.5h0m-9 20h0m20-38.5h0m-21.5 13h0m-12.5 19.5h0m60-5h0m2-2h0m7.5 2h0m-53.5-16h0m66.5 23h0m-80.5-6.5h0m68.5 0.5h0m30.5-5h0m-66-6h0m60.5-2h0m-63 14.5h0m14.5-11h0m56 16h0m-72 7h0m-12.5-45.5h0m-5.5 30h0m-2.5-1h0m27.5-5.5h0m-45.5-3h0m25 11.5h0m20.5-24h0m17 15.5h0m-52 0h0m2.5 15h0m77-3h0m-21.5-32h0m-60.5 25h0m45.5-19.5h0m-3 17h0m-14.5 6h0m50.5-4h0m9-10h0m-85 25.5h0m34.5-17h0m-2 4.5h0m-15.5 12h0m-24.5-25.5h0m3.5-3.5h0m2.5 10.5h0m34.5-20h0m-14 9.5h0m42 46.5h0m-52.5-44h0m-3 11.5h0m55-13h0m-38.5 8h0m35 9h0m-28.5-8h0m-23-8.5h0m89.5 36.5h0m-67.5-43h0m-37.5 17.5h0m39-8.5h0m69.5 26.5h0m-43.5-34h0m-53 22h0m99.5-4h0m-85-13.5h0m47 33h0m-28.5-27.5h0m-12.5 12.5h0m-14.5-3.5h0m71 2.5h0m-56-17h0m18.5 19h0m17.5-13h0m-41.5 10h0m46-1h0m-53-3h0m-0.5-13.5h0m65-3h0m-58.5 18h0m55.5-3h0m29 19h0m-65-23h0m4.5-20.5h0m-36.5 17h0m19.5-2h0m3-3.5h0m4 12.5h0m59.5-13h0m-73 0h0m1-9h0m-7 34.5h0m20-14.5h0m-2 5.5h0m-28 6h0m42 21h0m13-20h0m-18-17h0m-27.5 21.5h0m-3-24.5h0m16-3h0m-18.5 36.5h0m2.5-15.5h0m79.5-5h0m3-32h0m-8 37.5h0m-54.5-29.5h0m7.5-9h0m-33 31h0m40.5 6h0m-6.5 0.5h0m-7 6.5h0m-28-13.5h0m22-7.5h0m16 9h0m-30.5-17.5h0m26.5 16h0m-37 2.5h0m113.5 6h0m-49.5-23.5h0m-68.5 18h0m50-16h0m55 21h0m-57-28.5h0m-22 4h0m14.5 20h0m-25-10h0m64.5 5h0m-24.5-2h0m-55-1.5h0m57.5-3.5h0m-31-9.5h0m-20 25h0m4-4h0m-9.5 12.5h0m112.5 0.5h0m-25-17h0m-51-6h0m-6 0.5h0m1-5h0m6.5 8h0m-24-5.5h0m60.5 11h0m-49.5-7.5h0m11-10h0m40 11h0m-73-9h0m71-4.5h0m27 67h0m-34-44h0m-19.5-21.5h0m-43.5 24.5h0m106-1.5h0m-85-13.5h0m-22.5 21h0m62-25h0m43 27.5h0m-78.5-17.5h0m59.5 6h0m-83.5-11h0m-1.5 7h0m25 41.5h0m16.5-44.5h0m64.5 22h0m-57.5-9h0m13.5-7.5h0m-16-1h0m-40 17h0m-9-30h0m14 10h0m38.5-22h0m-6 18h0m-27 1.5h0m37 15.5h0m9-4.5h0m-31.5-20h0m-31.5 19.5h0m98-1h0m-35-14.5h0m-53.5 18.5h0m54-4h0m19.5 12h0m-63.5-23h0m-13.5-5.5h0m60-9.5h0m-60.5 14.5h0m-9.5 18h0m61-8h0m-15.5-29.5h0m17.5 15.5h0m-26.5 11.5h0m46 11.5h0m8.5-40.5h0m-5.5 24.5h0m-14 1h0m11.5-11h0m-54-1h0m21 25.5h0m-35.5-20.5h0m68.5 5h0m-82 2h0m81.5-6.5h0m1 34h0m-9.5-29h0m-0.5-19h0m-24.5 6.5h0m21 21.5h0m-27 6.5h0m22-20h0m-17 7.5h0m-27 27h0m51-44h0m-67 21.5h0m9-4h0m72.5 17h0m-66.5-23h0m-17 14.5h0m89.5-11h0m-86.5 15.5h0m63.5-22.5h0m-0.5-6.5h0m-7.5 24.5h0m-20.5-15.5h0m38.5-9.5h0m-11 10.5h0m-22.5 12.5h0m-41.5-11.5h0m87.5-10.5h0m-9.5-4.5h0m-80.5 27h0m74.5 16h0m-64-4.5h0m89.5-5.5h0m18.5 11.5h0m-106-16.5h0m32.5-27h0m4.5 26h0m6.5-15h0m-14 8h0m15-12h0m-30 33h0m64-13h0m-67-6h0m-25.5 7h0m81-22h0m-79 24.5h0m57-4h0m-45-25h0m25.5 25h0m-10.5-10.5h0m34.5-15.5h0m-12.5 3h0m-49.5 23h0m41-32h0m-32.5 29h0m10.5-20.5h0m26 4h0m-7-7h0m-18.5 14.5h0m10-6.5h0m-18.5 10.5h0m5 23h0m18-54h0m19 18h0m-55 21h0m37-7.5h0m-4 0h0m63 58h0m-30-67.5h0m-1 16.5h0m-34.5-22h0m-1 16h0m33.5-19.5h0m24 25.5h0m-52-20.5h0m-3 15h0m-16-13.5h0m-2 21.5h0m3-31h0m33 19h0m47.5 21.5h0m-50.5-23.5h0m-34 17h0m52.5-30h0m8.5 15.5h0m-29.5 17.5h0m-44-9.5h0m39.5-19h0m-19 6.5h0m30.5 5.5h0m12.5 23h0m-56-8.5h0m-3.5 2h0m11-24h0m69.5 27h0m-49-41.5h0m61.5 25.5h0m-7 6.5h0m6-6.5h0m-24.5-8h0m-23 7.5h0m-40-12.5h0m-6.5 19.5h0m65.5-7h0m-44.5-4h0m-15 9h0m46 5.5h0m-38.5-13.5h0m26.5-11h0m16-3h0m-12 11h0m-9-21h0m-25.5 30h0m31.5 13.5h0m-16-37h0m68.5 6.5h0m-29 24.5h0m-48-23.5h0m18.5 22h0m45.5-27h0m-10.5 14h0m-32.5-1h0m35-0.5h0m-69.5-9.5h0m36.5 21.5h0m-16.5-24h0m76 62.5h0m-75-73h0m35.5 25h0m-41 0.5h0m70.5 5.5h0m32-13.5h0m-57.5-6h0m-53.5 14h0m29.5-3h0m-22-11h0m8.5 42.5h0m-17.5-25.5h0m-11.5-5h0m88 2h0m1.5 24h0m-70-37h0m50.5 13h0m36.5 9.5h0m-83.5-11h0m23-9h0m11 1.5h0m-1 21h0m-22.5 1h0m1-16.5h0m20.5 16h0m-0.5-26.5h0m-31 9h0m78-0.5h0m-96 1.5h0m21-4.5h0m-23.5 5.5h0m42-15h0m-27.5 13h0m4 2.5h0m7.5 4.5h0m24-5h0m-52 14h0m10.5-21.5h0m-13.5 10.5h0m4 7.5h0m53.5-7.5h0m-57.5 3h0m87.5-19h0m-25.5 27.5h0m-49.5-26.5h0m63 17.5h0m-50.5-6.5h0m-17 7.5h0m17-8.5h0m18.5 8.5h0m-36-8.5h0m42 5.5h0m-34 10h0m-5 6h0m64-21h0m-41-14.5h0m42.5 38.5h0m-44-35.5h0m34.5-9h0m-24 15h0m-5.5-8h0m-29 25.5h0m21-17.5h0m36 31h0m6-24h0m-35.5 6h0m-29.5-4.5h0m28-9.5h0m-5 21h0m45.5-39.5h0m-46 17h0m-24 29h0m28-30h0m-7 7h0m28.5 7h0m-12.5 1.5h0m-21-15.5h0m36-1.5h0m14.5 1.5h0m-66 7.5h0m29 15.5h0m-33-3h0m55-1.5h0m-44 12h0m50.5-19h0m-41.5-0.5h0m58.5-8.5h0m-15-15.5h0m23.5 51h0m-71-26.5h0m18.5-1.5h0m-19.5-0.5h0m-2 3h0m63 6h0m-44-14h0m-21 22h0m86.5 9.5h0m19.5-4.5h0m-82-33h0m8-5.5h0m-15.5 29.5h0m1-12h0m51.5 1.5h0m-76-6h0m89-8.5h0m-9 22.5h0m-59.5-6.5h0m7-7h0m16.5 8h0m11-7.5h0m15.5 6.5h0m-43.5-25.5h0m-9.5 21.5h0m29-3h0m4-2.5h0m-42.5 30h0m13-23.5h0m57.5-3.5h0m-79 19.5h0m31-1.5h0m2-25.5h0m-24 18.5h0m108 21h0m-114-27.5h0m5.5-7h0m111 43h0m-111-24h0m73 6h0m-70.5-43h0m-8.5 26h0m18.5-2h0m52.5 5h0m-15-8h0m-45.5 1h0m109 30.5h0m-33-10h0m-49.5-15h0m38 3h0m-64.5 13h0m-6.5-22.5h0m26.5 3h0m11 25h0m45.5-14h0m-39.5-22h0m20.5-24h0m-41.5 41.5h0m-5-26h0m-7.5 29.5h0m3.5-22h0m43 0.5h0m15.5 16.5h0m-73 13h0m27-10.5h0m57.5-14.5h0m-1.5-6.5h0m-90.5 25.5h0m90 4h0m-52.5-21h0m-18-6.5h0m38-2h0m-5 4h0m14 18h0m-44.5 5h0m-5.5-7.5h0m37.5-25h0m-25.5 8h0m54.5 16h0m-45-15.5h0m19.5 16.5h0m-18.5-27h0m17 4.5h0m-12 25h0m-41.5 2h0m101.5-8h0m-35.5-24h0m-4.5 3h0m13 31.5h0m-62.5-6.5h0m23-24.5h0m-27.5 28h0m7.5-13h0m55.5 42h0m-12-49.5h0m-15 21h0m-10 0h0m-26.5 2h0m65.5-37h0m-59 5.5h0m-20.5 18.5h0m58.5 3h0m11.5 5h0m-59-6.5h0m22.5-0.5h0m35.5 9h0m55 9.5h0m-113.5-4.5h0m-7-13.5h0m105 19.5h0m-73.5-9h0m-7.5-13h0m28.5 52h0m-10.5-62h0m0 6h0m5 1.5h0m-1.5 14.5h0m-20-6.5h0m-13-1.5h0m59.5-9h0m-53.5 18h0m27-22h0m-30 15h0m40.5 4h0m-11-4.5h0m-38.5-11.5h0m-2.5 15h0m42-5.5h0m-15.5-4.5h0m-16-0.5h0m58 25h0m-35-21h0m79.5 33.5h0m-116.5-35.5h0m50-11h0m-7 19.5h0m68 8.5h0m-81.5-25h0m43 27.5h0m42.5 15h0m-98-45.5h0m66.5 1.5h0m-49.5 6.5h0m36.5-9.5h0m-43.5 1h0m20.5-18h0m30 66.5h0m-25.5-53h0m-12 9.5h0m19.5 19h0m-38.5-34h0m65.5 53.5h0m-49.5-22.5h0m-8 14h0m87-11.5h0m-37.5-2h0m40.5 39.5h0m-30.5-58h0m-66-6.5h0m50.5 38.5h0m-53-23h0m90 12.5h0m-68-15.5h0m16-3.5h0m-17.5-3h0m4 3h0m3-22h0m29.5 30h0m4.5-15.5h0m-42.5 12.5h0m36 29h0m-67-23h0m22-19.5h0m3 14h0m-12.5 16h0m58.5-29h0m-38-14.5h0m-34 54.5h0m-0.5-31h0m19 22h0m27.5 6h0m27.5-33.5h0m-68.5 8h0m15-7h0m-29.5 14h0m77.5 20.5h0m-67.5-18h0m30-27h0m-18 15.5h0m-14.5 1.5h0m-4.5 11h0m106 14.5h0m-66.5-28.5h0m-37 10h0m57.5-16.5h0m37 45.5h0m-98.5-34.5h0m51 11h0m-5-33h0m4 29h0m-16 0.5h0m-28.5 13.5h0m25.5-20.5h0m-28.5 4.5h0m37-12h0m39 40.5h0m-78.5-30h0m19-1.5h0m81.5 13h0m-18-4h0m-33.5-23.5h0m55.5 46h0m-53-22.5h0m16-31h0m-0.5 4h0m-19.5 27.5h0m-40.5-12h0m27 5h0m-21.5 25h0m41-26h0m60.5 18h0m-89.5-14.5h0m-20-2h0m7 14h0m-4.5 6.5h0m20-25.5h0m48.5 1h0m-37.5-9h0m31 30.5h0m0.5-22.5h0m21 20h0m-36-19.5h0m-25.5 14.5h0m30.5-22h0m-19 6.5h0m-5.5 6h0m35 12h0m-26-30h0m-43.5 20.5h0m30-1h0m3.5 2h0m8-28h0m24 8h0m19-10h0m-19.5 38.5h0m-59 2.5h0m43.5-3.5h0m-44-5h0m44-7.5h0m-48.5 0.5h0m77.5 15.5h0m-74.5-12h0m12.5-15h0m32-4.5h0m4.5 27h0m-35.5 2.5h0m75.5-32h0m-67 20h0m61-1h0m-79 2h0m25-13.5h0m45.5-8.5h0m-62.5 23h0m10-5h0m56.5-20.5h0m-60.5 6h0m5 31.5h0m54-11h0m-74.5-12.5h0m34.5-12.5h0m64.5 41h0m-13-1.5h0m-71-28h0m-10 7h0m6 12h0m0-9.5h0m12-12.5h0m-5 1h0m9.5-1h0m38 14h0m-20-7h0m-29-7h0m73.5 21h0m-79-15.5h0m-6 23.5h0m81 0h0m-75-40.5h0m18 14h0m-14.5 0h0m21-6.5h0m0 7.5h0m22-7h0m-49.5 13.5h0m-1 28h0m10-34.5h0m4.5 1.5h0m40-9h0m-36-3h0m-25.5 8.5h0m-3.5 23.5h0m79.5-17.5h0m-63.5-16.5h0m58 25.5h0m-73.5 6.5h0m31.5-11h0m-3 2.5h0m42.5-25.5h0m-63.5 28.5h0m105.5 14h0m-88.5-14h0m16-36.5h0m4.5 35h0m11.5 4.5h0m5.5-25.5h0m-36.5 18.5h0m68 15.5h0m-21.5-4.5h0m-79.5-14h0m78.5 32h0m-39.5-38h0m47 13.5h0m-56.5 4h0m79.5-35h0m-5.5 61.5h0m-85-37h0m0-11h0m-4 14.5h0m56.5-3.5h0m-8.5 20h0m5.5-30.5h0m-9 0.5h0m-38-5.5h0m14 21h0m-26.5-16h0m3.5 1.5h0m2 1.5h0m41-7h0m-46 21.5h0m57.5-24.5h0m-8 11.5h0m-37.5 12.5h0m26.5-2.5h0m10-18.5h0m12.5 11.5h0m-27 6h0m-1-36.5h0m-15 29h0m13 5h0m-1.5-0.5h0m51-4h0m-82-11.5h0m51.5 34.5h0m-42-19.5h0m36-24.5h0m10 40h0m-14-32h0m5 9.5h0m-51.5 14h0m59.5-5.5h0m11 0h0m25 31h0m-82.5-26.5h0m49.5-8.5h0m30.5 18.5h0m-34.5-39.5h0m-37.5 20h0m6-14h0m25.5 7.5h0m-43 31h0m27-24.5h0m14.5-0.5h0m-24 4.5h0m12-16.5h0m-36.5 19h0m28.5-4.5h0m83.5 13h0m-90.5-5.5h0m82 14.5h0m-47-41h0m-33 4.5h0m3 1.5h0m48-7.5h0m-44 19.5h0m29.5-6.5h0m-46-1.5h0m40-11.5h0m-27.5 42h0m39.5-24.5h0m-13.5-8h0m-17.5 4h0m27.5 11h0m-35-9h0m26-2h0m-30.5 4h0m84.5 3h0m-62-1.5h0m-30-2h0m1-2h0m39 6.5h0m36-12h0m-74 22h0m2-19.5h0m32.5-4h0m-13.5 16.5h0m-16-1h0m-5-13h0m6.5-3.5h0m55 22h0m15 9h0m-92-21h0m34.5-24.5h0m-28 30.5h0m91 3h0m6 23.5h0m-67-31.5h0m23.5 26.5h0m-31-6.5h0m6.5-1h0m27-24h0m4.5 13.5h0m31 8.5h0m-27.5-9h0m-8 0h0m30.5 6.5h0m-85.5-24h0m2.5 18.5h0m38.5-33.5h0m52 31h0m-88-14.5h0m22 6h0m-19.5 17.5h0m42-28.5h0m-57.5 14.5h0m30-12.5h0m-31.5 24h0m64.5-4.5h0m-5-2h0m-48 26.5h0m17.5-18.5h0m-4-26h0m48 8h0m-11.5 17.5h0m21-4.5h0m-10.5-37h0m-14.5 39.5h0m43 17.5h0m-41-35.5h0m-53 17.5h0m-3.5-9h0m58 3h0m-14-0.5h0m27.5-0.5h0m-72 6.5h0m84-1.5h0m-85-5.5h0m82.5-9.5h0m-53.5 10.5h0m12 17h0m-10.5-24h0m-10-11h0m-5 37h0m40-32.5h0m12 11h0m-50.5-4.5h0m-20.5 6.5h0m14-6h0m47.5-4h0"/></g><circle cx="108.1" cy="795.9" r="2.25" fill="none" stroke="#000" stroke-width="1.35"/><circle cx="43.2" cy="841.5" r="2.25" fill="none" stroke="#000" stroke-width="1.35"/><circle cx="38.4" cy="857.9" r="2.25" fill="none" stroke="#000" stroke-width="1.35"/><circle cx="38.0" cy="862.0" r="2.25" fill="none" stroke="#000" stroke-width="1.35"/><circle cx="37.7" cy="864.4" r="2.25" fill="none" stroke="#000" stroke-width="1.35"/><circle cx="37.3" cy="866.4" r="2.25" fill="none" stroke="#000" stroke-width="1.35"/><text x="36.9" y="886.9" text-anchor="middle">0</text><text x="73.1" y="886.9" text-anchor="middle">50</text><text x="109.2" y="886.9" text-anchor="middle">100</text><text x="145.3" y="886.9" text-anchor="middle">150</text><text x="181.5" y="886.9" text-anchor="middle">200</text><text x="26.5" y="878.3" text-anchor="end">0</text><text x="26.5" y="857.6" text-anchor="end">20</text><text x="26.5" y="836.9" text-anchor="end">40</text><text x="26.5" y="816.2" text-anchor="end">60</text><text x="26.5" y="795.4" text-anchor="end">80</text><text x="26.5" y="774.7" text-anchor="end">100</text><text x="26.5" y="754.0" text-anchor="end">120</text></g><text x="117.7" y="897.9" text-anchor="middle" style='font-family:"Liberation Serif",serif;font-weight:bold;font-size:9.9px;letter-spacing:-0.3px'>V1</text><text transform="translate(9.4 813.0) rotate(-90)" text-anchor="middle" style='font-family:"Liberation Serif",serif;font-weight:bold;font-size:9.9px'>V2</text><text x="117.7" y="748.3" text-anchor="middle" style='font-family:"Liberation Serif",serif;font-weight:bold;font-size:9.6px;letter-spacing:-0.3px'>K-Means</text><g style='font-family:"Liberation Serif",serif;font-weight:bold;font-size:8.1px'><rect x="153.8" y="807.2" width="46.7" height="66.5" fill="#fff" stroke="#5a5a5a" stroke-width="0.9"/><circle cx="167.0" cy="813.2" r="0.7" fill="#ff0000"/><text x="179.0" y="815.9">1</text><circle cx="167.0" cy="822.4" r="0.7" fill="#ffff00"/><text x="179.0" y="825.1">2</text><circle cx="167.0" cy="831.6" r="0.7" fill="#00ff00"/><text x="179.0" y="834.3">3</text><circle cx="167.0" cy="840.9" r="0.7" fill="#00ffff"/><text x="179.0" y="843.6">4</text><circle cx="167.0" cy="850.1" r="0.7" fill="#0000ff"/><text x="179.0" y="852.8">5</text><circle cx="167.0" cy="859.3" r="0.7" fill="#ff00ff"/><text x="179.0" y="862.0">6</text><circle cx="167.0" cy="868.5" r="2.1" fill="none" stroke="#000" stroke-width="1.3"/><text x="179.0" y="871.2" style="letter-spacing:-0.2px">data1</text></g><g style='font-family:"Liberation Serif",serif;font-weight:bold;font-size:8.6px'><path d="M270.4 875.1v-2M270.4 750.8v2M306.6 875.1v-2M306.6 750.8v2M342.9 875.1v-2M342.9 750.8v2M379.2 875.1v-2M379.2 750.8v2M415.5 875.1v-2M415.5 750.8v2M262.9 875.1h2M439.9 875.1h-2M262.9 850.2h2M439.9 850.2h-2M262.9 825.4h2M439.9 825.4h-2M262.9 800.5h2M439.9 800.5h-2M262.9 775.7h2M439.9 775.7h-2M262.9 750.8h2M439.9 750.8h-2" stroke="#7f7f7f" stroke-width="0.8" fill="none"/><rect x="262.9" y="750.8" width="177.0" height="124.3" fill="none" stroke="#7f7f7f" stroke-width="1"/><g fill="none" stroke-linecap="round" stroke-width="1.4"><path stroke="#ff0000" d="M272.5 834.5h0m1 2h0m0-0.5h0m-0.5 0h0m0.5 2h0m-1-4.5h0m1 3.5h0m-0.5-3.5h0m-0.5 0.5h0m1 3.5h0m1.5 2.5h0m-2.5-9.5h0m0.5 4h0m0 1h0m1.5 3h0m-1.5-4.5h0m1 3.5h0m-1-2.5h0m0-2h0m2 5h0m0 0.5h0m-2-6.5h0m1.5 5.5h0m-2-5.5h0m2.5 7.5h0m-1-5.5h0m0.5 5.5h0m-0.5-3.5h0m2.5 4.5h0m-1-3h0m0 0.5h0m-2.5-1.5h0m0-4h0m1 4.5h0m-0.5-2h0m0 3.5h0m0-4h0m-1.5-2.5h0m3.5 7h0m-1.5-2.5h0m0 2.5h0m-1-2h0m2 0h0m-1.5-1.5h0m0.5 4.5h0m0-2h0m0.5 1h0m0 1.5h0m0.5-3h0m-0.5-0.5h0m-2-4h0m-0.5-1.5h0m0.5 1h0m0-1.5h0m2 5.5h0m1.5 2h0m-2-3h0m1 3.5h0m0.5 2h0m-2-7h0m0.5 4.5h0m-0.5-5h0m2 5h0m-1-2.5h0m0-0.5h0m2 3h0m-1.5-4.5h0m-2.5 1h0m1.5-0.5h0m1.5 5.5h0m-3-8.5h0m1.5 8h0m2-0.5h0m-0.5 1.5h0m-2.5-9h0m4 9h0m-0.5 1h0m1-1.5h0m0.5-1h0m-1.5 1h0m3.5 2.5h0m-2.5-0.5h0m2.5-1.5h0m-5-4h0m2.5 6h0m-2-6.5h0m0.5 3.5h0m2.5 0h0m-2 0h0m-1.5 1h0m0-4.5h0m2.5 5.5h0m0-0.5h0m-3-3h0m1.5 3h0m2-1.5h0m1 1.5h0m-3-3h0m1 3h0m-1-3.5h0m0.5 3.5h0m0 1h0m0.5 0h0m1 1.5h0m-2-3.5h0m0.5-2.5h0m-4-7.5h0m3.5 11.5h0m0-4.5h0m-2.5-4.5h0m2 9h0m0.5-1h0m2 0h0m-5-10.5h0m1.5 10h0m2.5 0h0m-3.5-7h0m2 4h0m1.5 2h0m1.5 2.5h0m-3-6.5h0m3.5 7h0m-2.5-3h0m-1-2.5h0m3.5 6h0m-6-13h0m2.5 10h0m1-1.5h0m-4-8.5h0m5 10h0m2.5 3.5h0m-2.5-2.5h0m0.5 1.5h0m0.5-1.5h0m-4.5-5.5h0m3.5 4h0m1.5 2.5h0m-4-6h0m2 3h0m2.5 5.5h0m-2.5-2.5h0m-2.5-6.5h0m8 8h0m-2.5-1h0m3.5 0.5h0m3.5 0.5h0m-5.5-1.5h0m-0.5 1h0m-1-1.5h0m7.5 3h0m-1.5-2h0m-5.5 0h0m4.5 1.5h0m-2-2h0m-3.5-1.5h0m4.5 1.5h0m-3 1.5h0m-1.5-1h0m3 0.5h0m-0.5 1h0m-1.5-3.5h0m6 3.5h0m-4.5 0.5h0m3-1.5h0m1 0.5h0m-5.5-1.5h0m-5.5-0.5h0m6.5 0h0m-3.5-1h0m6.5 1h0m-5.5 2.5h0m7.5 1.5h0m-5-5h0m-2.5 0h0m4.5 2h0m-5.5-3.5h0m1 1h0m5 4.5h0m-5-1h0m6.5 1h0m0 0.5h0m-7.5-3h0m4.5 0.5h0m-2.5-0.5h0m7.5 3h0m-5.5-1.5h0m4 3h0m-7-5.5h0m6 2.5h0m-5.5-1.5h0m1.5-0.5h0m-1.5 2.5h0m3 0h0m-4-1.5h0m1.5 1.5h0m3-0.5h0m-1.5 0h0m-1 1h0m1-2h0m-2 0.5h0m2 0h0m5.5 2.5h0m-7.5-5.5h0m0 3.5h0m5.5 1.5h0m-3.5-1h0m0.5-1.5h0m2 2.5h0m2 0h0m-2.5-1.5h0m-1.5-2h0m4.5 1h0m-5.5 2h0m-4-6h0m10 5.5h0m1 0h0m-4-1.5h0m0.5 1.5h0m-4-1h0m4.5 1.5h0m0.5-1h0m-1.5 0h0m2 1h0m-7 0.5h0m2-3h0m-3-0.5h0m5 0h0m6 3.5h0m-7-4h0m2.5 2.5h0m-2 1.5h0m2 0.5h0m-4-5.5h0m6.5 4.5h0m-6-2h0m1.5-1h0m-6-4h0m1 1.5h0m6 5.5h0m0.5 1h0m3-0.5h0m-6.5-1.5h0m-1-2h0m3.5 4.5h0m-3.5-5h0m1.5 3h0m3.5-1h0m-6-2.5h0m5.5 3.5h0m0.5 0.5h0m-2.5-4h0m-5.5 2.5h0m4-2h0m-2 0.5h0m0 1.5h0m-0.5 0h0m5.5-1h0m-1 2.5h0m0.5-2h0m3 0.5h0m-4 0h0m3-0.5h0m-7 1h0m-2-1h0m1-2.5h0m2-0.5h0m5.5 5.5h0m-2.5-3h0m4.5 2.5h0m-0.5 1.5h0m-2.5-2h0m5 0.5h0m-5.5 1h0m-6-2.5h0m1.5-4.5h0m6 4h0m4 3h0m-5.5-1.5h0m5 1h0m-10.5-1.5h0m8 3.5h0m0-4h0m6 2.5h0m-0.5 0.5h0m-7-4.5h0m6 3.5h0m-4-1h0m4 1.5h0m-2.5 0.5h0m2-1h0m-1.5-2h0m-1 0h0m-3 0h0m4.5 1h0m-3-1.5h0m3.5 3.5h0m0-0.5h0m0.5 1h0m1-1.5h0m1 0h0m-3.5-1.5h0m3 1.5h0m-2.5-2h0m-5-2h0m5 4h0m-3-1h0m6.5 3h0m-4-1h0m-1.5-1h0m1-1h0m5 0.5h0m-12-3h0m7 4h0m2.5-1.5h0m0.5 0h0m-3.5-1.5h0m0.5 0.5h0m-5-1h0m10 1.5h0m-3 2h0m2-1h0m-0.5-0.5h0m-3 0.5h0m0 1h0m1-1h0m-5.5 0.5h0m3-2h0m4.5 1.5h0m-2.5 2h0m1-0.5h0m-1 0h0m-3-0.5h0m-1.5 0.5h0m8-1h0m-9-0.5h0m4.5-1h0m3 3.5h0m-2.5-0.5h0m-2.5-0.5h0m-4.5-7h0m7.5 4.5h0m-2.5-1.5h0m-6-1.5h0m5 1.5h0m4 1.5h0m-2.5 3.5h0m6-2h0m-3.5-1h0m1-1h0m-7 0h0m6.5 1h0m1.5 1.5h0m0-2h0m-0.5 3h0m-0.5-2h0m-8.5 0h0m4.5 1h0m3-2.5h0m1.5 3h0m-9.5-5.5h0m0.5 5h0m5.5-3.5h0m-3.5 3.5h0m7.5 1.5h0m-10.5-3h0m8.5-1.5h0m-1.5 5h0m-2.5-2h0m2 0.5h0m5-1.5h0m-0.5-0.5h0m-5.5-3.5h0m4.5 5h0m-4-2h0m4.5 3h0m1.5-1h0m-1-2h0m-0.5-0.5h0m2 2.5h0m0-0.5h0m0 1.5h0m-1-3h0m1 1h0m1.5 0h0m-1-1h0m-2.5 4h0m2-1.5h0m-1-2h0m-1.5 0.5h0m-1-1h0m3 2.5h0m-0.5 0.5h0m-2.5 0.5h0m2-0.5h0m2.5 0.5h0m-5-0.5h0m2.5-0.5h0m2-1h0m-3.5 1.5h0m-0.5-2h0m-3 1.5h0m4-2.5h0m3 1h0m0.5-0.5h0m-1-0.5h0m-3 3.5h0m-1.5-5h0m5 4.5h0m3-1.5h0m-2.5 1h0m10.5 0h0m-7.5-1h0m-2.5 0h0m1.5 1h0m1.5 1.5h0m1-1.5h0m0 0.5h0m-0.5 0h0m1 2h0m-3-2h0m0.5-0.5h0m-3.5-2h0m2 1h0m2.5 0.5h0m4.5 0h0m-5.5 0h0m-2.5-0.5h0m0.5 1h0m0.5-0.5h0m1.5 1h0m-4.5-1h0m5 0.5h0m-1-0.5h0m-3.5-1.5h0m2.5 3h0m0.5-2.5h0m3 1h0m0.5 0h0m-5.5 0h0m4 0.5h0m-2 0.5h0m3 0.5h0m4.5-1h0m-5 0h0m-4-0.5h0m5-0.5h0m-6 2h0m6.5-1h0m-1-1h0m-2.5 0h0m4 1.5h0m-2 1h0m-2-3h0m-4 1.5h0m10.5 0h0m-3-0.5h0m-6 1.5h0m5.5 0.5h0m0-1h0m2.5 0h0m-7-1h0m5 1.5h0m-4.5-1h0m-1.5 0h0m3.5-0.5h0m-3.5-1.5h0m6.5 2h0m1 1h0m-0.5-1h0m2 2.5h0m-2-2h0m-4.5 0.5h0m-1.5-3h0m3 0.5h0m4 1.5h0m-7 1.5h0m2.5-3h0m-2 0h0m0 2h0m0.5-1h0m4-0.5h0m-4 1h0m5.5 0.5h0"/><path stroke="#ffff00" d="M270.5 799.5h0m0.5 0h0m-0.5 1h0m0.5 7.5h0m0-5h0m0-1.5h0m0 2h0m0-1h0m0 4.5h0m-0.5-10.5h0m0.5 2.5h0m-0.5-3.5h0m0 1.5h0m0.5 5h0m-0.5-4.5h0m0.5 7.5h0m0 1h0m0 1.5h0m0-7h0m0 3.5h0m0-4h0m0 5.5h0m0 7h0m0-11.5h0m-0.5-5h0m0.5 14h0m0-1.5h0m0 6.5h0m-0.5-16h0m0-5h0m0.5 19.5h0m-0.5-20h0m0.5 17h0m0-1h0m0-0.5h0m0-11h0m0-1h0m-0.5 1.5h0m0.5 14.5h0m-0.5-9.5h0m0-5.5h0m0 4.5h0m0.5 8.5h0m0 1h0m0-7.5h0m0 2h0m-0.5-11.5h0m0.5 3.5h0m0 16h0m0-3h0m-0.5-11.5h0m1 15.5h0m-1-14.5h0m0.5-5h0m0.5 21h0m-1-22.5h0m0-2h0m0.5 21.5h0m-0.5-21h0"/><path stroke="#00ff00" d="M272.5 831h0m-0.5-3.5h0m0-2h0m-0.5-1h0m1 8h0m-0.5-4.5h0m-0.5-5.5h0m1 7.5h0m-0.5-5h0m0.5 5.5h0m-1-7.5h0m0.5 3h0m0.5 3.5h0m-0.5-0.5h0m-0.5-4h0m0.5 3.5h0m0.5 6h0m-1-13.5h0m0.5 2.5h0m1 10h0m-0.5-5.5h0m-0.5-1h0m0-0.5h0m-0.5-5h0m0.5 8h0m1 3.5h0m0-2.5h0m-1-6.5h0m1 8h0m-0.5 1h0m-1-7.5h0m1.5 7h0m0-2.5h0m0 1.5h0m-0.5 0h0m-0.5-1h0m0.5-1.5h0m-1-5.5h0m0 0.5h0m0.5 6h0m0.5-1.5h0m0-1.5h0m-0.5-2.5h0m1 9.5h0m-0.5 1h0m-1-9h0m2 5.5h0m0 2.5h0m-2-12h0m1 5.5h0m0.5 3.5h0m-1-9.5h0m0 1h0m0 0.5h0m1 5h0"/><path stroke="#00ffff" d="M270.5 782.5h0m0 13.5h0m0-9h0m0-12.5h0m0-2.5h0m0 13.5h0m0-6.5h0m0-2.5h0m0-3h0m0 9.5h0m0-4.5h0m0 11h0m0-0.5h0m0-5.5h0m0-16.5h0m0-0.5h0m0 14.5h0m0-1.5h0m0 10.5h0m0-14h0m0 17.5h0m0-24.5h0m0 16h0m0-1h0m0 2.5h0m0-9h0m0 14.5h0m0-11.5h0m0-0.5h0m0-6h0m0 14h0m0 7.5h0m0-27h0m0 7h0m0 2.5h0m0-1h0m0 4.5h0m0-8.5h0m0 11.5h0m0 7h0m0-0.5h0m0.5 8h0m-0.5-33.5h0m0 28.5h0m0-6.5h0m0 9.5h0m0-11h0m0-11h0m0-7.5h0m0 0.5h0m0 3.5h0m0 21h0m0-2h0m0-2h0m0 4.5h0m0.5 3h0m-0.5-1h0m0-0.5h0m0-30.5h0"/><path stroke="#0000ff" d="M271 816.5h0m0-2.5h0m0.5 2.5h0m-0.5 2.5h0m0-7h0m0 4h0m0-2.5h0m0.5 3.5h0m0 1.5h0m-0.5-4h0m0 3h0m0-0.5h0m0 1.5h0m0.5-4.5h0m0 1.5h0m-0.5 0h0m0.5 2h0m-0.5-2.5h0m0.5 6h0m0-2h0m0-3h0m0 4.5h0m0-2.5h0m-0.5 1.5h0m0-8.5h0m0.5 13.5h0m0-1h0m0-4h0m0 3h0m0-8h0m-0.5-2h0m0 0.5h0m0.5 7h0m0 2h0m-0.5-10.5h0m0.5 11.5h0m-0.5-13h0m0 0.5h0m0.5 14.5h0m0-1h0m0-2.5h0m-0.5-3.5h0m0-9h0m0.5 6h0m0.5 8h0m-1-13.5h0m1 15h0m0 1h0m0-0.5h0m0-3h0"/><path stroke="#ff00ff" d="M330 847.5h0m51 5.5h0m-21.5-2.5h0m21 1h0m-57.5-3h0m45 3.5h0m28.5 1h0m-99.5-7h0m18.5 2.5h0m4-1.5h0m26 3.5h0m-38.5-3h0m50.5 3h0m-44.5-3.5h0m14 2h0m20 0.5h0m-35.5-1.5h0m32.5 0h0m-3.5 1h0m-30.5-2.5h0m53 4h0m-45-3h0m59.5 4h0m16.5 1h0m-37.5-1.5h0m-57-4.5h0m49 3h0m-45-4.5h0m11 2.5h0m20 1h0m26.5 0.5h0m16 1.5h0m-57.5-2.5h0m14.5 1.5h0m-4-0.5h0m7.5 0.5h0m41.5 2.5h0m-40-5h0m31.5 4h0m-55-5h0m21.5 2.5h0m49 3h0m-53-1.5h0m9 0h0m-14.5-0.5h0m44.5 3h0m-64.5-5.5h0m15.5 0.5h0m12 0.5h0m20 2.5h0m-35.5-2h0m-14.5-3.5h0m17 3h0m-8.5-0.5h0m4-1.5h0m92.5 8h0m-107.5-7h0m-0.5-1h0m35.5 4h0m44.5 1.5h0m-48.5-2h0m-14.5-1.5h0m94 6h0m-45.5-4h0m-63-2.5h0m40 1.5h0m15.5 1h0m37 2h0m-59.5-3h0m0.5 0.5h0m-8.5 0h0m63 2h0m-92.5-5.5h0m47 4.5h0m-28-3h0m-1.5-1h0m-2 0.5h0m-16.5-0.5h0m28 0.5h0m-18.5-1h0m34.5 3.5h0m-15.5-2h0m37.5 3h0m-64.5-5h0m10.5 1h0m23 2h0m28.5 2h0m37 2.5h0m-101.5-8h0m15.5 1h0m2.5 2h0m1 1h0m-7.5-2h0m4 0h0m78 6h0m-80-6h0m3-0.5h0m20.5 2h0m19.5 1.5h0m-21.5-2h0m-26.5-2h0m22 2.5h0m-31.5-3h0m108.5 8h0m-51.5-2.5h0m21 1h0m4 0.5h0m-1 0.5h0m-49.5-3.5h0m30 2h0m-40-4h0m9.5 0.5h0m31.5 2h0m-16-0.5h0m7 0h0m-27-1.5h0m32 2h0m-28-2h0m-4-0.5h0m65.5 5h0m-18.5-1h0m-20.5-1h0m-32.5-2h0m51 2.5h0m-26-2h0m-12.5-0.5h0m26.5 1.5h0m-2.5 0.5h0m16 0h0m-70.5-5h0m10 2h0m73 5h0m6 0h0m-66-4.5h0m32 1.5h0m25 4h0m-57-6.5h0m42 3h0m12 2.5h0m3-1h0m7 1h0m-33.5-2.5h0m8.5 0h0m-29.5-1h0m22 1h0m-16.5 0.5h0m-28-4h0m-4 0h0m88 5.5h0m-17.5-0.5h0m-61-4.5h0m-2.5 1h0m56 4.5h0m-11.5-3h0m53.5 3.5h0m-48-3.5h0m13.5 3h0m-27.5-2h0m-24.5-2.5h0m-3.5-0.5h0m-15.5-0.5h0m1.5 0h0m-2-1h0m90.5 6h0m-36.5-1h0m-1-1h0m12.5 1.5h0m-51-2h0m5.5-2h0m12 3h0m28.5 0.5h0m27 3h0m7.5-1.5h0m0 1.5h0m-77.5-5.5h0m37.5 2.5h0m-1-0.5h0m-42.5-3h0m49.5 2h0m-39-0.5h0m6.5-0.5h0m23 2h0m35.5 1.5h0m-9 2h0m-62.5-6h0m39 1.5h0m-54-2h0m23-1h0m-19 0h0m22.5 2.5h0m49.5 3.5h0m-33.5-2h0m-1-0.5h0m19 1h0m35.5 3h0m-34.5-3h0m44 3.5h0m-111-9.5h0m12 2.5h0m5.5 0h0m55.5 4.5h0m-21.5-3h0m-43.5-2.5h0m20 0.5h0m22 2.5h0m24 2h0m-24-1.5h0m37 2h0m-39-3.5h0m1.5 0h0m29 3h0m5 0h0m-67-4.5h0m104 10h0m-62.5-6h0m41 2.5h0m-26.5-2.5h0m-37.5-3h0m-28-1.5h0m11.5-0.5h0m-17 0h0m38.5 4.5h0m19.5 0h0m-15-0.5h0m23.5 1h0m-2 0.5h0m-61-6h0m37 2.5h0m-35.5-2.5h0m15.5 3h0m-14.5-2h0m71 6h0m-69-7h0m-1.5 0h0m54.5 5h0m0.5 1.5h0m31 0.5h0m-81.5-4.5h0m8-1h0m8 0.5h0m-5.5 0h0m-7 0.5h0m48.5 2.5h0m-38-2h0m31.5 1h0m4 1h0m-18.5-1.5h0m15.5 1h0m3.5-0.5h0m10 2h0m-58-3h0m43 1.5h0m-15.5-1h0m21 2h0m-55.5-4h0m60 4h0m25 2.5h0m-42-4h0m-40.5-4h0m24 3h0m-28-2.5h0m76.5 6h0m-60.5-4h0m62 4.5h0m27.5 1h0m-31-1.5h0m-40.5-3h0m-6 0h0m-1.5 0.5h0m19-1h0m-5 1.5h0m-47-4.5h0m91.5 7h0m-44.5-2h0m-31-2.5h0m-5-2h0m-5 0.5h0m15 2h0m0-1h0m4.5 0.5h0m1.5-0.5h0m-2.5-0.5h0m22.5 2h0m-34-2h0m48 3.5h0m-21-1.5h0m-17.5-2h0m97.5 8.5h0m-38.5-3.5h0m20 2.5h0m-104-9.5h0m14.5 2.5h0m1-1.5h0m74 7h0m-60-4h0m67.5 4h0m-79.5-7h0m53 4.5h0m-43-2h0m34 2.5h0m-6-1h0m-10-1h0m-6 0.5h0m42 4h0m-78-8.5h0m3 1.5h0m58 5h0m-44-3.5h0m-8 0.5h0m70 2h0m6.5 2h0m-12.5-2h0m-34-1h0m18.5-0.5h0m-9.5 0.5h0m-5 1h0m41.5 1h0m-54-3.5h0m57.5 4.5h0m-29-2.5h0m6 1.5h0m-23.5-1.5h0m-30-4h0m40.5 3h0m-12 1h0m-41.5-5.5h0m67.5 6.5h0m-36-1h0m23.5-0.5h0m-37-2.5h0m60.5 3h0m-35.5-0.5h0m-16-2h0m-9.5-1h0m73 5.5h0m-66.5-2h0m53 1h0m-55-2.5h0m54 4.5h0m-27.5-4h0m-6.5 0.5h0m76.5 6h0m-49-4.5h0m-25-3h0m-7 0.5h0m55.5 4h0m-87-6h0m12.5 0.5h0m28.5 3h0m12.5-0.5h0m-34-3h0m-25.5-0.5h0m23.5 1h0m38.5 5h0m-45.5-5.5h0m80.5 5.5h0m-52-1.5h0m6.5-0.5h0m-12 0.5h0m10.5-2h0m30 2h0m6 1.5h0m-70.5-5h0m107.5 7.5h0m-49-4.5h0m-21-1h0m-22.5-0.5h0m12 0.5h0m16 2h0m-6.5-0.5h0m-26.5-1.5h0m-15.5-1.5h0m21 1h0m57 4.5h0m-15.5-2h0m-11 0.5h0m-39-4h0m91.5 7.5h0m-53.5-4h0m7.5 0.5h0m-63-7.5h0m-0.5 1.5h0m28 3.5h0m-23.5-1h0m30.5 0h0m0.5 1h0m-18 0h0m19.5-1h0m0.5 2h0m-17.5-2h0m46 4h0m-43-5.5h0m20 2h0m18.5 2.5h0m25.5 1h0m-81.5-7h0m32.5 3h0m75.5 7.5h0m-40.5-3.5h0m-9-0.5h0m-45.5-5h0m-5 1h0m31 2h0m9.5 1h0m-38-2h0m25 1h0m34 2.5h0m-2-1.5h0m-65.5-3.5h0m61 4.5h0m32 0.5h0m-57-3.5h0m-5.5 0h0m32.5 4h0m-55-5.5h0m-3 2h0m24.5 0h0m29.5 1.5h0m21 1.5h0m4.5 1h0m-81-5.5h0m48.5 4h0m-36.5-3.5h0m-8.5 0h0m18.5 2h0m-19.5-2h0m60.5 4h0m-9-2h0m-66.5-7h0m7 3.5h0m-12.5-2.5h0m71.5 7.5h0m-12-1h0m0.5-0.5h0m-19.5-2h0m61 5.5h0m-38-2h0m48.5 2h0m-100-6.5h0m95.5 6.5h0m-72.5-4h0m25.5-0.5h0m-15.5 0.5h0m12.5 0.5h0m-11.5-2.5h0m49.5 6h0m-7-0.5h0m-80.5-6.5h0m41 1h0m-14.5 1.5h0m0 1h0m67 2.5h0m-55-4.5h0m23.5 4h0m-54.5-5.5h0m79.5 5h0m-83.5-5.5h0m22.5 2h0m-24-2h0m96.5 7.5h0m-8 0h0m-76-5.5h0m54.5 4h0m1-1.5h0m-49-2.5h0m-21.5-2.5h0m-2.5 0h0m31.5 4.5h0m8.5 0.5h0m-2-2h0m14-1h0m28.5 4.5h0m-13.5-1.5h0m-50.5-3h0m48 3h0m-67-7h0m38 6h0m-26-3h0m105.5 8h0m-61-5.5h0m-23.5-0.5h0m-5 0h0m51.5 2.5h0m-53-2h0m35.5 1.5h0m-27.5-3.5h0m-22 1h0m59 3h0m-60-5.5h0m14.5 3h0m12 0h0m46.5 3.5h0m-62.5-4h0m25 1h0m-30-1.5h0m66 5h0m41.5 2.5h0m-69.5-4h0m-19-1h0m80.5 3.5h0m-70-5h0m-30.5-0.5h0m3.5-1.5h0m-9-0.5h0m103 7h0m-15-2h0m-67.5-4h0m-10 0.5h0m57.5 4h0m-59-4.5h0m-16.5-3h0m115.5 10h0m-114.5-7.5h0m-4.5-2.5h0m67 6h0m-44-3h0m27 4h0m-43-6.5h0m42 6.5h0m4-1.5h0m-27-2h0m26 3.5h0m38 2.5h0m31 1h0m-25.5-3h0m-88.5-5.5h0m69.5 5.5h0m-7-1h0m-39.5-2h0m91.5 6.5h0m-25-3.5h0m-30-1h0m-26-1h0m-4 0h0m-2.5-1h0m-11-3.5h0m5.5 2.5h0m-15.5-2h0m115 9h0m-71-4.5h0m-40-2.5h0m3 0.5h0m1.5-1.5h0m24 3.5h0m26 1.5h0m-34-2h0m17 0h0m-42-3.5h0m97.5 7h0m-64-2.5h0m46 2h0m-34.5-1.5h0m9.5 1.5h0m46 2h0m-59-5h0m-48.5-3h0m12.5 2h0m10.5-0.5h0m66.5 5.5h0m-38.5-2.5h0m13.5 0.5h0m31 1.5h0m-97.5-7h0m109.5 9.5h0m-15-3h0m-36.5-3h0m-38-2h0m35 2h0m-23-1.5h0m-4.5-0.5h0m13 0.5h0m29 3.5h0m-0.5-2h0m-49.5-1h0m28 2h0m-3.5-2h0m8 0.5h0m-28-2h0m43.5 4.5h0m33 1.5h0m-53-3h0m42 3.5h0m-69-4h0m-10-2h0m10 0h0m26 1h0m26 2.5h0m-43-2.5h0m45 2.5h0m-29.5-1.5h0m-24-0.5h0m58.5 2.5h0m-23-1h0m-12.5-1h0m-42-3.5h0m25.5 1h0m-18-1h0m-2.5 1h0m43 2.5h0m-4-0.5h0m12.5 3h0m-19-2h0m11.5 0h0m19 0h0m-39.5 1h0m-7-3.5h0m47.5 5h0m-2-2.5h0m-6.5 1h0m-26-2h0m-8.5 0h0m28.5 1h0m-45.5-2.5h0m79.5 4.5h0m29.5 2h0m-89-5h0m73 3h0m-69.5-3h0m60.5 4.5h0m-94-7.5h0m76.5 5.5h0m-77.5-6.5h0m95.5 8.5h0m-38-1.5h0m-9.5-1h0m-14-2h0m49.5 3.5h0m21.5 2h0m-81.5-8h0m87 8h0m-59.5-3.5h0m31.5 1.5h0m-52-4.5h0m56 5h0m-82-6.5h0m21 2h0m18 0.5h0m-24-1h0m7.5-0.5h0m33.5 3.5h0m36.5 4h0m-36.5-3h0m35 1h0m29.5 3.5h0m-119.5-11h0m49 5.5h0m17.5 1h0m-68-6.5h0m69 5h0m30.5 5h0m-69-7.5h0m14.5 2h0m56 2.5h0m-72-5h0m-20.5 0.5h0m27.5 3h0m-45.5-5.5h0m46 4h0m-35.5-4.5h0m26 3h0m50.5 3h0m9 2h0m-85.5-7.5h0m-7.5 1.5h0m64.5 3.5h0m-51-3.5h0m-16-2.5h0m108.5 9h0m-43.5-2h0m47 1h0m-67-4h0m-12-0.5h0m-15-2h0m71.5 6.5h0m-52-3.5h0m14 1h0m18 1.5h0m16 1h0m-3.5 0.5h0m29.5 1.5h0m-75-5.5h0m-9.5 0h0m26.5-0.5h0m-5-0.5h0m-31-1.5h0m16 3h0m4-1.5h0m-25-1h0m34 3h0m-7.5 0.5h0m14.5 1h0m55.5 1.5h0m-57-3h0m32 0.5h0m-80-4h0m58 3h0m-31.5-2h0m-25.5-1h0m113 7h0m-25-1.5h0m-51.5-2h0m-5.5-1.5h0m0.5 3h0m43.5-0.5h0m-0.5-1.5h0m27 4.5h0m-34-3h0m-63.5-4h0m104 5.5h0m-19 1h0m-83.5-5.5h0m39.5 2.5h0m65 3.5h0m-60.5-4h0m-40-3h0m5.5-0.5h0m32 2.5h0m-26-0.5h0m45.5 1h0m0.5 1h0m19.5 0.5h0m-78-3.5h0m51.5 3.5h0m2.5-1.5h0m19.5 3.5h0m-39.5-4.5h0m28 2h0m12 2.5h0m0-1.5h0m0.5 1h0m-10 1.5h0m-0.5-2h0m-3.5-1.5h0m-27-3h0m22 1.5h0m-60-1.5h0m9.5-1.5h0m72.5 7.5h0m-84-6.5h0m66.5 5h0m-8-2h0m18 1.5h0m13 1h0m-15.5 0h0m-64.5-4h0m90 4.5h0m18.5 2.5h0m-106-9h0m32 4.5h0m11.5 0.5h0m-63-6.5h0m64 6h0m34 2.5h0m-12-0.5h0m-30-2.5h0m-49.5-5.5h0m38 3.5h0m-8.5-1h0m-13.5 1.5h0m-18-3h0m37 2.5h0m-4 1.5h0m32.5 0.5h0m-35.5-1h0m33 2h0m-28-3h0m15 2.5h0m-50-4h0m98 5.5h0m-24-0.5h0m-29.5-1.5h0m41 1.5h0m-49-2.5h0m61 4h0m-1 1h0m-94-9.5h0m65.5 5h0m-30-1.5h0m-10-0.5h0m68.5 4.5h0m-62-3.5h0m7.5 0.5h0m60 5h0m-75-6h0m35.5 1.5h0m29.5 3h0m32 2h0m-111.5-7.5h0m16 2.5h0m-29-4.5h0m89.5 7h0m17.5 1.5h0m-72-4.5h0m20 0h0m47 5.5h0m-73.5-6h0m50 3h0m-75.5-6h0m42 3.5h0m8.5 1h0m-52.5-5.5h0m-3-0.5h0m88 9h0m-25.5-4h0m-18.5-1h0m-10.5-0.5h0m42.5 3.5h0m-68-4.5h0m21 1h0m36.5 1.5h0m6 2.5h0m-65.5-5h0m36 1.5h0m33 2.5h0m-42.5-3.5h0m22 3h0m-13-2.5h0m30 4.5h0m-66.5-5.5h0m-4-1h0m11 1h0m51 3h0m-42-3.5h0m44 4.5h0m12.5 0.5h0m-44.5-4.5h0m85.5 7h0m-89.5-4.5h0m56.5 2.5h0m-36.5-2h0m-26.5-3h0m54.5 3.5h0m-72.5-5h0m117.5 8.5h0m-59-3h0m64 5h0m-44.5-5h0m12 2.5h0m-61-4h0m-5-2.5h0m55 6.5h0m-73.5-7h0m27 1h0m-34.5-2.5h0m14 2h0m64 6.5h0m-61.5-5h0m12 0.5h0m20.5 0h0m7 1.5h0m-20-3h0m30 2.5h0m54 5h0m-16-2h0m-79-4h0m46 1.5h0m45.5 4.5h0m-76.5-7h0m23 4h0m48 2.5h0m-82-7h0m86 6h0m-31.5-1.5h0m-50-4.5h0m-13-1h0m66 5h0m29.5 2h0m3 1h0m-46.5-2h0m2-1h0m-67-4h0m71.5 4.5h0m-70.5-4.5h0m3-1h0m-14.5-1h0m78 6.5h0m31.5 2.5h0m-67-5h0m-14.5-1h0m72.5 4.5h0m11.5 0.5h0m-110.5-8.5h0m46.5 3h0m3.5 3h0m-16-3.5h0m-31.5-2h0m98.5 7.5h0m4 0.5h0m-37.5-1.5h0m-33-1.5h0m19-2h0m61 6.5h0m-89.5-5.5h0m-18-2h0m31 1.5h0m53 4h0m-31-0.5h0m-16-4h0m22 3.5h0m-15.5-3.5h0m-0.5 1h0m26.5 3h0m-27-1h0m4.5-2.5h0m25.5 2.5h0m2 1h0m-57.5-3h0m73.5 1.5h0m-79.5-5h0m75.5 6.5h0m-75-5.5h0m5.5-0.5h0m45 6h0m-62-4.5h0m70.5 3.5h0m-49-2.5h0m32 3.5h0m-35.5-5.5h0m-28.5-2.5h0m86 7h0m-56.5-2h0m49.5 0.5h0m25 1.5h0m-33-1h0m-50-2h0m14 0h0m-26.5-2.5h0m50 3h0m-10.5 0h0m-8-1h0m50 2.5h0m-31 1h0m-10-1.5h0m-46.5-4.5h0m96 7.5h0m19 2h0m-8.5-1h0m-37.5-2h0m-14-1.5h0m10 1h0m45.5 2h0m-16-1.5h0m-72.5-3h0m-1.5-0.5h0m6 0.5h0m70.5 4.5h0m-85.5-7.5h0m27.5 2h0m69.5 6h0m-68.5-5.5h0m62.5 4h0m-4.5 0.5h0m-44.5-2h0m51.5 2.5h0m-85-5h0m41.5 3.5h0m-57.5-6.5h0m63.5 6.5h0m-5-0.5h0m-6.5-2h0m-42-1h0m50 3h0m21.5 0h0m18 1.5h0m-41-3h0m-58.5-3.5h0m85.5 6.5h0m-2.5 0h0m-86.5-7.5h0m0-1.5h0"/></g><circle cx="341.8" cy="849.5" r="2.25" fill="none" stroke="#000" stroke-width="1.35"/><circle cx="276.7" cy="836.8" r="2.25" fill="none" stroke="#000" stroke-width="1.35"/><circle cx="271.8" cy="826.9" r="2.25" fill="none" stroke="#000" stroke-width="1.35"/><circle cx="271.5" cy="818.4" r="2.25" fill="none" stroke="#000" stroke-width="1.35"/><circle cx="271.1" cy="807.0" r="2.25" fill="none" stroke="#000" stroke-width="1.35"/><circle cx="270.7" cy="788.6" r="2.25" fill="none" stroke="#000" stroke-width="1.35"/><text x="270.4" y="886.9" text-anchor="middle">0</text><text x="306.6" y="886.9" text-anchor="middle">50</text><text x="342.9" y="886.9" text-anchor="middle">100</text><text x="379.2" y="886.9" text-anchor="middle">150</text><text x="415.5" y="886.9" text-anchor="middle">200</text><text x="259.9" y="878.3" text-anchor="end">-10</text><text x="259.9" y="853.4" text-anchor="end">0</text><text x="259.9" y="828.6" text-anchor="end">10</text><text x="259.9" y="803.7" text-anchor="end">20</text><text x="259.9" y="778.9" text-anchor="end">30</text><text x="259.9" y="754.0" text-anchor="end">40</text></g><text x="351.4" y="897.9" text-anchor="middle" style='font-family:"Liberation Serif",serif;font-weight:bold;font-size:9.9px;letter-spacing:-0.3px'>V1</text><text transform="translate(244.2 813.0) rotate(-90)" text-anchor="middle" style='font-family:"Liberation Serif",serif;font-weight:bold;font-size:9.9px'>V3</text><text x="351.4" y="748.3" text-anchor="middle" style='font-family:"Liberation Serif",serif;font-weight:bold;font-size:9.6px;letter-spacing:-0.3px'>K-Means</text><g style='font-family:"Liberation Serif",serif;font-weight:bold;font-size:8.1px'><rect x="387.8" y="780.4" width="45.4" height="64.4" fill="#fff" stroke="#5a5a5a" stroke-width="0.9"/><circle cx="401.0" cy="786.4" r="0.7" fill="#ff0000"/><text x="413.0" y="789.1">1</text><circle cx="401.0" cy="795.3" r="0.7" fill="#ffff00"/><text x="413.0" y="798.0">2</text><circle cx="401.0" cy="804.1" r="0.7" fill="#00ff00"/><text x="413.0" y="806.8">3</text><circle cx="401.0" cy="813.0" r="0.7" fill="#00ffff"/><text x="413.0" y="815.7">4</text><circle cx="401.0" cy="821.9" r="0.7" fill="#0000ff"/><text x="413.0" y="824.6">5</text><circle cx="401.0" cy="830.7" r="0.7" fill="#ff00ff"/><text x="413.0" y="833.4">6</text><circle cx="401.0" cy="839.6" r="2.1" fill="none" stroke="#000" stroke-width="1.3"/><text x="413.0" y="842.3" style="letter-spacing:-0.2px">data1</text></g><g style='font-family:"Liberation Serif",serif;font-weight:bold;font-size:8.6px'><path d="M503.8 875.1v-2M503.8 750.8v2M540.2 875.1v-2M540.2 750.8v2M576.6 875.1v-2M576.6 750.8v2M613.0 875.1v-2M613.0 750.8v2M649.4 875.1v-2M649.4 750.8v2M496.3 875.1h2M673.9 875.1h-2M496.3 854.2h2M673.9 854.2h-2M496.3 833.3h2M673.9 833.3h-2M496.3 812.4h2M673.9 812.4h-2M496.3 791.5h2M673.9 791.5h-2M496.3 770.6h2M673.9 770.6h-2" stroke="#7f7f7f" stroke-width="0.8" fill="none"/><rect x="496.3" y="750.8" width="177.6" height="124.3" fill="none" stroke="#7f7f7f" stroke-width="1"/><g fill="none" stroke-linecap="round" stroke-width="1.4"><path stroke="#ff0000" d="M506 868.5h0m1 1h0m0-0.5h0m-0.5-0.5h0m0.5 1.5h0m-1-2h0m0.5 1.5h0m0-1.5h0m-1 0.5h0m1.5 2.5h0m1 1h0m-1.5-2h0m1.5 1.5h0m-0.5-1h0m0 0.5h0m-1-0.5h0m0-1.5h0m1.5 1.5h0m0.5 0.5h0m-2.5-2h0m2.5 2.5h0m-1-2.5h0m-0.5 2.5h0m0.5-1.5h0m2.5 1.5h0m-1-1.5h0m0 1h0m-1 0h0m-1.5 0.5h0m0-0.5h0m0.5-2.5h0m-1.5-0.5h0m3.5 3.5h0m-1.5 0h0m1-2h0m-2.5 0.5h0m1 0.5h0m0.5 1.5h0m0.5 0.5h0m0.5-2h0m-0.5-0.5h0m1 0.5h0m-1.5-1h0m1.5 3h0m-3-3h0m1 2.5h0m1-2.5h0m0-1h0m0 0.5h0m2 1.5h0m-3-2.5h0m1.5 0.5h0m-2.5 2h0m1.5-2h0m1.5 3.5h0m-0.5 0h0m1-0.5h0m-2.5 1h0m3 0h0m0.5 0h0m1-1.5h0m-1.5 1h0m-1.5 0.5h0m2.5-0.5h0m2.5 1h0m-2.5 0.5h0m-2-0.5h0m4.5-1h0m-1.5-0.5h0m-2 1.5h0m-1.5-3h0m2.5 3h0m0-0.5h0m-1.5 0h0m2-0.5h0m1 0.5h0m-2-0.5h0m-3 0.5h0m3 0.5h0m1 0.5h0m-2-2.5h0m0 1h0m-3.5-1h0m4.5 0.5h0m1.5 1h0m-3-4h0m3.5 3.5h0m0 1h0m-5 0h0m6 0.5h0m-5-0.5h0m3.5-1h0m-0.5 0.5h0m-0.5-1h0m-1.5 1.5h0m0.5-2h0m3 2.5h0m-2.5 0h0m0-2.5h0m-2.5 2h0m8 0h0m1 0.5h0m3.5 0h0m-7 0.5h0m1.5-1.5h0m-0.5 1h0m6.5 0.5h0m-1.5-1h0m-5.5 0h0m4.5 1h0m-2-1.5h0m-1.5 1h0m-3 0h0m5-0.5h0m-2.5 1h0m1.5-0.5h0m-0.5 0.5h0m-2-1.5h0m-4 1h0m10.5 0h0m-1.5 0h0m1 0h0m-7 0h0m-4 0h0m6.5-0.5h0m2.5-1h0m-5 2h0m7.5 0h0m-8-1h0m4.5 0h0m-1.5-1h0m-3.5 1h0m2.5 0.5h0m3.5 0.5h0m1.5 0h0m0.5 0.5h0m-5.5-2h0m-1 1.5h0m3 0h0m0.5-0.5h0m-1.5 0.5h0m-3 0h0m2 0h0m6.5 0h0m-5-1h0m-5.5 0.5h0m9.5 0.5h0m-6.5-1h0m7 0h0m1.5 0.5h0m-4-0.5h0m0.5 1h0m1-0.5h0m-1.5 0h0m-5 1h0m2-1.5h0m7.5 1h0m-4-0.5h0m-1 0.5h0m0.5 0.5h0m-1 0h0m-3.5-2h0m2.5 1h0m0-1h0m-5.5 1.5h0m0.5 0h0m3.5-2h0m-2.5 2h0m4-2h0m3 1h0m-5.5 1.5h0m-3.5-0.5h0m3.5-2h0m5 1h0m-1.5 1h0m5 0h0m-2.5 0.5h0m6-0.5h0m-0.5 0.5h0m-1-0.5h0m-4.5 1h0m2-0.5h0m2-0.5h0m-1 0.5h0m1.5 0h0m-1 0h0m0.5 0h0m1-0.5h0m-3.5 0.5h0m-4.5 0h0m8.5-0.5h0m-2.5-0.5h0m-4 1h0m-2.5 0h0m10 0h0m-4 0h0m1-0.5h0m3.5-0.5h0m-6 1h0m4-1h0m-3 0h0m3.5 0h0m-7.5 1h0m-2 0h0m10.5-0.5h0m-1.5 0.5h0m-9.5-2h0m4 2h0m7.5-0.5h0m-2.5-0.5h0m3 0.5h0m-4-0.5h0m-2-0.5h0m-6.5 1.5h0m7 0.5h0m4-1.5h0m-2.5-0.5h0m3.5 1.5h0m0.5 0h0m-1-1h0m-0.5 1h0m3-1h0m-1-0.5h0m-2.5 2h0m-1.5 0h0m4-1.5h0m0.5 1h0m-0.5-0.5h0m0.5-0.5h0m-4.5 0h0m3.5 0h0m-3 1.5h0m3.5-0.5h0m3-0.5h0m8.5 0.5h0m-8-0.5h0m-2.5 0h0m1.5 0h0m1.5 0.5h0m1-0.5h0m0 0.5h0m-0.5 0h0m1 0h0m-3 0h0m-1-0.5h0m2.5 0h0m4.5 0h0m-5.5 0.5h0m-2.5-0.5h0m1 0.5h0m2 0h0m-1.5-0.5h0m0 0.5h0m7.5 0h0m-3.5-0.5h0m-1-0.5h0m1.5 0.5h0m2.5 0.5h0m-3.5-0.5h0m2.5 0.5h0m-7 0h0m5 0h0m0.5 0h0m1 0h0m-0.5 0h0m-3-1h0m3.5 0.5h0m-3-0.5h0"/><path stroke="#ffff00" d="M504 823h0m0 0.5h0m0-1h0m0.5 11.5h0m-0.5-5.5h0m0-4.5h0m0 2.5h0m0 1.5h0m0 3h0m0-4h0m0-5h0m0 2.5h0m0-3.5h0m0-1h0m0 5.5h0m0 2h0m0.5 7.5h0m0 3h0m-0.5-9h0m0-3h0m0 10h0m0.5-4.5h0m0 13h0m0-11h0m0 3.5h0m-0.5-15.5h0m0.5 9h0m0 2.5h0m0 2.5h0m0-5.5h0m0 15h0m0-6h0m-0.5-5h0m0.5 2h0m-0.5-6h0m0-9.5h0m0.5 19h0m0 0.5h0m-0.5-10.5h0m0.5 12.5h0m-0.5-9.5h0m0.5-3.5h0m-0.5 4h0m0.5-0.5h0m0 8.5h0m-0.5-16h0m0.5 6h0m0 7.5h0m0 4.5h0m0-6.5h0m-0.5-4.5h0m0.5 0h0m-0.5-1.5h0m0 3h0m0.5 4h0m0-3h0m-0.5 0.5h0m0.5-7h0m0 12.5h0m0 1h0m-0.5-7h0m0.5-6h0m0 14h0m0 1h0m0 0.5h0m0-14.5h0m-0.5 9h0m0-2h0m0 3.5h0m0-8.5h0m0.5 14h0m-0.5-10h0m1 9.5h0m-1-5.5h0m0-2.5h0m0 0.5h0m0 1.5h0m0 1.5h0"/><path stroke="#00ff00" d="M506 865.5h0m-0.5-4h0m-0.5-2h0m0 0.5h0m1 6h0m-0.5-2h0m-1-3h0m1.5 3h0m-0.5-2h0m0 1.5h0m0-3h0m0.5 3h0m-0.5-1h0m-0.5 0.5h0m0 0.5h0m1 3.5h0m0.5-0.5h0m-1.5-6h0m1 4.5h0m-0.5-4h0m-0.5 0.5h0m0.5 4h0m1 1.5h0m-1-2.5h0m-0.5-2.5h0m1.5 4h0m-0.5 1.5h0m0.5 0h0m0-4.5h0m0 2h0m-0.5 1.5h0m-0.5 0h0m0-3.5h0m0.5 1.5h0m-1-3.5h0m0.5 4h0m-0.5-2.5h0m0 2h0m0.5 1.5h0m1.5 1.5h0m-1.5-0.5h0m0.5 1h0m-1-4h0m0.5 3.5h0m-0.5-2h0m1.5 2.5h0"/><path stroke="#00ffff" d="M504 794.5h0m0 25h0m0-16.5h0m0-26h0m0-6h0m0 29h0m0-18h0m0-3.5h0m0 14.5h0m0 23.5h0m0-31.5h0m0 22.5h0m0-0.5h0m0-12h0m0-28h0m0 31h0m0-38.5h0m0-6.5h0m0 43h0m0 4.5h0m0 7.5h0m0-18.5h0m0 15h0m0-20h0m0 30h0m0-58.5h0m0 43h0m0-7h0m0 9.5h0m0 2.5h0m0-17.5h0m0-25h0m0 27h0m0 8h0m0-6.5h0m0 13.5h0m0 2.5h0m0 2.5h0m0-42.5h0m0 48h0m0-53.5h0m0 30h0m0 16h0m0-19.5h0m0-15h0m0 2.5h0m0 5.5h0m0-2h0m0 16h0m0-23.5h0m0 40h0m0-5h0m0-0.5h0m0 13.5h0m0-63h0m0 46.5h0m0 15.5h0m0-35h0m0 15h0m0-20h0m0 4h0m0 11h0m0 10h0m0-43.5h0m0 4.5h0m0 48h0m0 4h0m0-2h0m0-2.5h0m0-1.5h0m0 5.5h0m0-23.5h0m0 26.5h0m0-1h0m0-5h0m0 0.5h0m0-2.5h0m0 9h0m0-22h0m0 23h0m0-69h0m0 2.5h0m0 5h0"/><path stroke="#0000ff" d="M504.5 847h0m0-0.5h0m0 1.5h0m0 4.5h0m0-6.5h0m0 5h0m0-2h0m0.5 3h0m-0.5 3h0m0-3.5h0m0 0.5h0m0-2.5h0m0 3.5h0m0 0.5h0m0.5 1h0m-0.5-6h0m0 1.5h0m0.5-0.5h0m0 3h0m-0.5-5h0m0.5 3.5h0m0-0.5h0m0 3.5h0m0-1h0m0 5.5h0m0-2h0m-0.5-6h0m0.5 3h0m0 2.5h0m0-1h0m-0.5-1h0m0.5-5h0m0 2.5h0m0 7.5h0m0-3.5h0m0 1.5h0m0-7h0m0 7.5h0m0 0.5h0m-0.5-2h0m0 1.5h0m0-2h0m0-1h0m0 3.5h0m1 0h0m0-0.5h0m0 1.5h0m-1-2h0m0-0.5h0m1 2h0m-1 0h0"/><path stroke="#ff00ff" d="M564 874.5h0m51 0.5h0m-21.5-0.5h0m21 0.5h0m-58 0h0m45.5 0h0m28.5 0h0m-100-0.5h0m18.5 0.5h0m4-0.5h0m26.5 0.5h0m-39 0h0m50.5 0h0m-44.5-0.5h0m14 0.5h0m20-0.5h0m-35 0.5h0m32-0.5h0m-3.5 0.5h0m-30.5-0.5h0m53.5 0.5h0m-45.5-0.5h0m59.5 0h0m17 0h0m-37.5 0.5h0m-57.5-0.5h0m49.5 0.5h0m-45.5-0.5h0m11 0h0m20.5 0.5h0m26 0h0m16-0.5h0m-43 0.5h0m-4 0h0m7.5 0h0m41.5 0h0m-40 0h0m31.5 0h0m-54.5-0.5h0m21 0.5h0m49.5 0h0m-53.5 0h0m9.5 0h0m-15 0h0m45-0.5h0m-65 0.5h0m15.5-1h0m12.5 1h0m19.5 0h0m-35.5 0h0m-14.5-0.5h0m17.5 0.5h0m-9-0.5h0m97 0h0m-108 0h0m-0.5 0h0m80.5 0.5h0m-48.5-0.5h0m-15 0.5h0m94.5-0.5h0m-46 0.5h0m-63-0.5h0m40.5 0h0m15 0.5h0m37.5 0h0m-59 0h0m-9 0h0m63.5 0h0m-93-0.5h0m47 0.5h0m-29.5-0.5h0m-2 0h0m-16.5 0h0m28 0h0m-18 0h0m34 0.5h0m-15-0.5h0m37 0.5h0m-64.5-0.5h0m10.5 0.5h0m52 0h0m37-0.5h0m-102-0.5h0m19 1h0m-7.5-0.5h0m82.5 0h0m-80 0h0m42.5 0.5h0m-48-0.5h0m22 0.5h0m77.5-0.5h0m-31 0.5h0m4.5 0h0m-1 0h0m-49.5 0h0m30 0h0m-40.5 0h0m9.5 0h0m16 0h0m7 0h0m-27.5-0.5h0m32 0.5h0m-31.5-0.5h0m65 0h0m-18 0.5h0m-20.5 0h0m-33 0h0m51.5 0h0m-65-0.5h0m66 0.5h0m13 0h0m-60.5-0.5h0m57.5 0h0m-35.5 0h0m35 0h0m7.5 0.5h0m-33.5 0h0m8.5 0h0m-29.5 0h0m21.5 0h0m-24-0.5h0m-24.5 0h0m88.5 0.5h0m-17.5 0h0m-61.5-0.5h0m-2 0.5h0m97.5 0h0m-48-0.5h0m13.5 0.5h0m-27.5-0.5h0m-24 0.5h0m-4 0h0m-16-1h0m91 0.5h0m-37 0.5h0m-39.5-0.5h0m5.5 0h0m12 0.5h0m56-0.5h0m7 0.5h0m-77.5-0.5h0m37.5 0.5h0m-57.5-1h0m14.5 0.5h0m49 0.5h0m-32-0.5h0m22.5 0.5h0m36 0h0m-9-1h0m-75.5 0.5h0m12.5 0.5h0m11.5 0h0m49.5-0.5h0m-33 0.5h0m-1.5 0h0m55-0.5h0m-34.5 0h0m44-0.5h0m-111.5 0h0m12 1h0m61 0h0m-45-0.5h0m22 0h0m24-0.5h0m-24 1h0m-2-0.5h0m41.5 0.5h0m-11-0.5h0m5.5 0h0m36.5-0.5h0m-62.5 0.5h0m-41.5 0.5h0m82.5-0.5h0m-80.5-0.5h0m30.5 1h0m-47.5-0.5h0m38.5 0.5h0m-17.5 0h0m37.5-0.5h0m6 0h0m-24 0.5h0m-35.5-1h0m1 0.5h0m2-0.5h0m85 0.5h0m-71 0h0m41.5 0.5h0m-38.5 0h0m32 0h0m29-0.5h0m-44 0h0m-29 0.5h0m48.5 0h0m4.5 0h0m25.5 0h0m-42.5 0h0m-28.5 0h0m62.5-0.5h0m27.5 0h0m-31 0h0m-41 0h0m-6 0.5h0m-25.5-0.5h0m24 0.5h0m19.5 0h0m-5.5-0.5h0m-47-0.5h0m92 0.5h0m-76 0.5h0m68-0.5h0m36.5 0h0m-19 0h0m-104 0h0m14.5 0h0m12.5 0.5h0m70 0h0m3.5-0.5h0m-83 0h0m10 0.5h0m34.5-0.5h0m-6.5 0.5h0m-10 0h0m-6 0h0m24.5 0h0m-40-0.5h0m-17.5 0h0m6.5 0.5h0m76 0h0m-7.5 0h0m-61-0.5h0m56.5 0.5h0m11.5 0h0m-24.5-0.5h0m28 0h0m-77 0h0m28.5 0.5h0m7.5 0h0m-49-1.5h0m68 1.5h0m11 0h0m-51.5-0.5h0m63.5 0.5h0m-14 0h0m-54.5 0h0m96.5-0.5h0m-103 0.5h0m53.5 0h0m-32-0.5h0m55.5 0.5h0m21.5-0.5h0m-67.5 0.5h0m-47-0.5h0m97 0.5h0m-57.5 0h0m41-0.5h0m-48.5 0.5h0m91.5-0.5h0m-49 0.5h0m-44-0.5h0m12 0.5h0m-32.5 0h0m63 0h0m-50.5-0.5h0m92-0.5h0m-109.5 0h0m66 1h0m21-0.5h0m-82-0.5h0m108.5 0h0m-40.5 0.5h0m-55-0.5h0m49 0.5h0m-60 0.5h0m61.5 0h0m32 0h0m-30.5-0.5h0m21.5 0h0m-81-0.5h0m21 0.5h0m49 0.5h0m-82.5-1.5h0m7 1h0m-12.5-0.5h0m14.5 0.5h0m71.5 0.5h0m-26-0.5h0m-19.5 0h0m61.5 0.5h0m-81.5 0h0m84.5-0.5h0m7.5 0.5h0m-4.5-0.5h0m-73 0.5h0m10.5-0.5h0m0.5 0h0m43 0h0m-54 0h0m35 0.5h0m-58.5-1h0m-1.5 0.5h0m97 0h0m-29 0h0m-49 0.5h0m-24-1h0m52.5 0.5h0m15 0h0m48 0h0m-90 0.5h0m-1 0h0m7.5-0.5h0m-1 0h0m54 0.5h0m-51.5 0h0m22 0h0m27 0h0m-1.5-0.5h0m41.5-0.5h0m-69.5 0.5h0m61.5 0h0m-70.5 0.5h0m67.5-0.5h0m-83 0h0m-28-0.5h0m3.5 0h0m29.5 0.5h0m53.5 0.5h0m-13-0.5h0m-7 0h0m27 0.5h0m-56.5-0.5h0m-6 0h0m-6 0h0m99.5 0h0m-108 0.5h0m34.5 0h0m-9 0h0m-8-0.5h0m17.5 0h0m-42.5-0.5h0m66.5 1h0m31.5-0.5h0m-18 0.5h0m21-1h0m-59.5 0.5h0m41.5 0h0m-49 0.5h0m-43-0.5h0m95 0.5h0m-39.5-0.5h0m-45.5-0.5h0m14 0.5h0m77 0.5h0m-53.5-0.5h0m32.5 0h0m-69 0.5h0m62-0.5h0m1.5 0h0m-29.5 0h0m-33 0.5h0m15-0.5h0m50 0h0m-16.5 0h0m9.5 0h0m-46.5 0h0m39 0h0m57.5 0h0m-16 0.5h0m-9-0.5h0m1 0h0m9.5 0h0m-54.5 0h0m35.5 0h0m-5.5 0h0m3.5 0h0m-28 0h0m41 0h0m28-1h0m-63 1.5h0m41.5-0.5h0m-5.5 0.5h0m-49-0.5h0m56 0.5h0m-111-0.5h0m3 0.5h0m13.5-0.5h0m90 0h0m-106-0.5h0m112.5 0.5h0m-100 0.5h0m110-0.5h0m-119-0.5h0m50.5 0.5h0m55.5 0.5h0m-65.5-1h0m74.5 0.5h0m-25 0h0m-52 0h0m65.5 0h0m-34.5 0h0m41 0h0m-104.5 0.5h0m106.5-0.5h0m-90.5 0h0m-17 0.5h0m-4-1h0m84 1h0m-9.5-1h0m-0.5 1h0m-3.5-0.5h0m-65 0.5h0m81.5-0.5h0m-71-0.5h0m64 1h0m23 0h0m18-1h0m-116 0h0m-3 0h0m41 0.5h0m55.5 0.5h0m-92.5-1h0m86.5 0.5h0m32 0h0m-113-0.5h0m76.5 1h0m19-0.5h0m-52.5 0h0m-57 0h0m76 0.5h0m43-0.5h0m-114-0.5h0m87 1h0m30.5-0.5h0m2.5 0h0m-112-0.5h0m62 0.5h0m-11.5 0.5h0m64-1h0m-72.5 1h0m13-0.5h0m-46 0h0m64.5 0h0m-45.5 0h0m66 0h0m-68 0h0m-27-0.5h0m56.5 0.5h0m54.5 0h0m-114.5 0.5h0m12-0.5h0m-14.5 0.5h0m112-0.5h0m-76 0h0m49.5 0h0m-47 0h0m-34.5 0.5h0m-10.5-0.5h0m110-0.5h0m-46.5 0.5h0m39.5 0.5h0m-31-0.5h0m6 0h0m11.5-0.5h0m-39 0.5h0m-24-0.5h0m-28.5 0.5h0m109.5 0.5h0m-4.5-1h0m0.5 1h0m-49.5-0.5h0m5 0h0m45 0.5h0m-14-1h0m-17.5 0.5h0"/></g><circle cx="575.5" cy="875.1" r="2.25" fill="none" stroke="#000" stroke-width="1.35"/><circle cx="510.1" cy="871.4" r="2.25" fill="none" stroke="#000" stroke-width="1.35"/><circle cx="505.3" cy="864.1" r="2.25" fill="none" stroke="#000" stroke-width="1.35"/><circle cx="504.9" cy="854.2" r="2.25" fill="none" stroke="#000" stroke-width="1.35"/><circle cx="504.5" cy="837.0" r="2.25" fill="none" stroke="#000" stroke-width="1.35"/><circle cx="504.2" cy="803.0" r="2.25" fill="none" stroke="#000" stroke-width="1.35"/><text x="503.8" y="886.9" text-anchor="middle">0</text><text x="540.2" y="886.9" text-anchor="middle">50</text><text x="576.6" y="886.9" text-anchor="middle">100</text><text x="613.0" y="886.9" text-anchor="middle">150</text><text x="649.4" y="886.9" text-anchor="middle">200</text><text x="493.3" y="878.3" text-anchor="end">0</text><text x="493.3" y="857.4" text-anchor="end">200</text><text x="493.3" y="836.5" text-anchor="end">400</text><text x="493.3" y="815.6" text-anchor="end">600</text><text x="493.3" y="794.7" text-anchor="end">800</text><text x="493.3" y="773.8" text-anchor="end">1000</text></g><text x="585.1" y="897.9" text-anchor="middle" style='font-family:"Liberation Serif",serif;font-weight:bold;font-size:9.9px;letter-spacing:-0.3px'>V1</text><text transform="translate(471.9 813.0) rotate(-90)" text-anchor="middle" style='font-family:"Liberation Serif",serif;font-weight:bold;font-size:9.9px'>V4</text><text x="585.1" y="748.3" text-anchor="middle" style='font-family:"Liberation Serif",serif;font-weight:bold;font-size:9.6px;letter-spacing:-0.3px'>K-Means</text><g style='font-family:"Liberation Serif",serif;font-weight:bold;font-size:8.1px'><rect x="620.5" y="780.4" width="46.7" height="64.4" fill="#fff" stroke="#5a5a5a" stroke-width="0.9"/><circle cx="633.7" cy="786.4" r="0.7" fill="#ff0000"/><text x="645.7" y="789.1">1</text><circle cx="633.7" cy="795.3" r="0.7" fill="#ffff00"/><text x="645.7" y="798.0">2</text><circle cx="633.7" cy="804.1" r="0.7" fill="#00ff00"/><text x="645.7" y="806.8">3</text><circle cx="633.7" cy="813.0" r="0.7" fill="#00ffff"/><text x="645.7" y="815.7">4</text><circle cx="633.7" cy="821.9" r="0.7" fill="#0000ff"/><text x="645.7" y="824.6">5</text><circle cx="633.7" cy="830.7" r="0.7" fill="#ff00ff"/><text x="645.7" y="833.4">6</text><circle cx="633.7" cy="839.6" r="2.1" fill="none" stroke="#000" stroke-width="1.3"/><text x="645.7" y="842.3" style="letter-spacing:-0.2px">data1</text></g><g style='font-family:"Liberation Serif",serif;font-weight:bold;font-size:8.6px'><path d="M29.5 1047.7v-2M29.5 923.5v2M59.9 1047.7v-2M59.9 923.5v2M90.3 1047.7v-2M90.3 923.5v2M120.7 1047.7v-2M120.7 923.5v2M151.1 1047.7v-2M151.1 923.5v2M181.5 1047.7v-2M181.5 923.5v2M29.5 1047.7h2M205.8 1047.7h-2M29.5 1022.9h2M205.8 1022.9h-2M29.5 998.0h2M205.8 998.0h-2M29.5 973.2h2M205.8 973.2h-2M29.5 948.3h2M205.8 948.3h-2M29.5 923.5h2M205.8 923.5h-2" stroke="#7f7f7f" stroke-width="0.8" fill="none"/><rect x="29.5" y="923.5" width="176.3" height="124.2" fill="none" stroke="#7f7f7f" stroke-width="1"/><g fill="none" stroke-linecap="round" stroke-width="1.4"><path stroke="#ff0000" d="M56 1007h0m0 2.5h0m0.5-0.5h0m-1.5-0.5h0m1.5 2h0m-0.5-4.5h0m0.5 3.5h0m-0.5-0.5h0m-0.5 0.5h0m-1-2h0m1 2.5h0m1.5-4h0m-2.5 1h0m2-1h0m4.5 4h0m5.5 2.5h0m-1-9h0m-3.5 4h0m0 0.5h0m5.5 3h0m-9.5-4.5h0m4.5 3.5h0m4 0h0m0-2.5h0m-8.5 2h0m6.5-3.5h0m-4.5 5h0m6.5 0h0m0-6h0m0.5 5h0m-7.5-3h0m7.5-2.5h0m-2 6.5h0m-0.5 1h0m2-5.5h0m0.5 6h0m-2.5-2h0m-4 0.5h0m4-2.5h0m3 4.5h0m-4.5-2.5h0m4 0h0m-7-3h0m7.5 1.5h0m-1 1.5h0m0-1h0m-7.5-2h0m4-2.5h0m1 5h0m0.5-0.5h0m-2.5 0h0m-4.5-2h0m7 3.5h0m-0.5-2.5h0m-0.5-1.5h0m-6-2.5h0m9 7.5h0m-8.5-3h0m9-4h0m-8.5 7h0m4-5.5h0m-5 2.5h0m7.5 0.5h0m-6.5-0.5h0m5-2.5h0m4 2h0m-3.5 1h0m-3-2h0m3.5-1h0m-3 1.5h0m-1 0h0m1 2.5h0m-1.5-4.5h0m6 2h0m0 1h0m-5.5 4h0m0-1.5h0m2.5 1.5h0m-1.5-1h0m2.5-1.5h0m3 0.5h0m-1.5-2h0m0.5 2h0m-6.5-5h0m6 4h0m0 2.5h0m-1.5-8.5h0m-6.5 1.5h0m6.5-0.5h0m-2.5 0h0m3-0.5h0m0.5 4h0m1.5-2.5h0m-4-1h0m1 2.5h0m-2.5 0.5h0m3-1h0m-3.5 2h0m3 0h0m-2-1.5h0m1.5-3.5h0m-1 1h0m-3 4h0m2 0.5h0m3 1.5h0m2.5-4h0m-8.5 1.5h0m5.5 4h0m-1.5-4h0m-4-1.5h0m2 3.5h0m7.5 1h0m-2-0.5h0m-2.5 2.5h0m-1.5-6.5h0m-1.5 0h0m5.5 0h0m-7 0h0m7 4.5h0m-2-5.5h0m4 3.5h0m-6.5-2.5h0m2.5 1.5h0m-2.5 4h0m3.5-5.5h0m-3 1.5h0m-2-0.5h0m-0.5 0h0m6 1h0m-3-4.5h0m3.5 4h0m0 2h0m-1-0.5h0m1-4h0m-1.5 2h0m-1.5-3.5h0m-0.5 1.5h0m-0.5 0h0m-2.5 1h0m2-1h0m6 1h0m-9 1h0m7 0h0m-2.5 1h0m3-1.5h0m-4 3.5h0m0.5-1h0m-2 1.5h0m7.5-1h0m-7-4h0m-2 6h0m8.5-3.5h0m-2.5 2.5h0m-6-5h0m0.5 2h0m5.5-3.5h0m-5 7.5h0m5.5-5.5h0m-2.5 5h0m1.5 0.5h0m3.5-7.5h0m1 6.5h0m6.5 2h0m-4-9.5h0m-2 3.5h0m1.5 5.5h0m1-2.5h0m10.5 0h0m-3-2h0m1.5 2.5h0m-2.5 2h0m-5.5-4h0m1 2.5h0m0.5-2.5h0m-2 5h0m2-2.5h0m5 1.5h0m-10.5-3.5h0m3 0.5h0m3.5-0.5h0m3 1.5h0m-0.5 1h0m1 0.5h0m-9.5-3h0m1-4h0m2 7.5h0m0-2h0m7 1.5h0m3.5 2.5h0m-14.5-4.5h0m11.5-2h0m2 6h0m-5-1.5h0m-3.5-1.5h0m0-6.5h0m4 6.5h0m3.5 1.5h0m-8-2h0m-2-5h0m-1 1h0m11 8h0m-3.5-4.5h0m5.5-2h0m-14 3.5h0m4.5-2h0m6.5 2h0m-11-3.5h0m8.5 1.5h0m1 4h0m-3.5-1h0m-4-4.5h0m11.5 5.5h0m-7.5-8h0m4 8h0m-3-5h0m-4.5 1h0m-2.5-1h0m2 1h0m0-2.5h0m3.5 0h0m-1.5 3h0m0.5-3h0m7 4.5h0m-12-2.5h0m12 3.5h0m-4.5-0.5h0m-1.5 1h0m-2.5-1h0m4-2h0m-4.5-1h0m9.5-1h0m-0.5 4h0m-7.5-5.5h0m-4.5 3h0m13 3.5h0m-9 0h0m5.5-5h0m2 2.5h0m-4.5-1h0m5.5 0.5h0m-6 3h0m-2 0h0m6.5-3h0m1-0.5h0m-10.5 1.5h0m0.5 3h0m3.5 0h0m1-3h0m7.5 4.5h0m0-6h0m0-0.5h0m-4 0.5h0m-5 2.5h0m-5.5-2.5h0m4-2.5h0m-3-5h0m4 11.5h0m0-4h0m6 1.5h0m-7.5-6h0m10 4h0m-4-1h0m-1 3h0m-5-6.5h0m8 5h0m-3.5 4h0m-5.5-5h0m3.5 4h0m-5-10h0m5 10.5h0m1-10.5h0m-2.5 6h0m1.5-0.5h0m-1 4h0m4.5-3.5h0m-2-1.5h0m-4.5-0.5h0m9 3.5h0m-5 2h0m4-6.5h0m0.5 3.5h0m1.5 3h0m-0.5-1.5h0m-2.5-0.5h0m1 1.5h0m-8.5-2h0m8 0.5h0m-6.5-1h0m0 1.5h0m-2-8h0m4 9h0m-5.5-3h0m9.5 3.5h0m1.5-0.5h0m0.5-2.5h0m-10-4h0m7.5 7h0m3 1.5h0m-12-6h0m2.5 2.5h0m1-4h0m-1.5 5h0m5.5-0.5h0m2-1h0m-2-3.5h0m2.5 8h0m-7-6.5h0m7 3.5h0m0.5 2h0m0-0.5h0m-10-8h0m13.5 6.5h0m-5.5-2.5h0m-2.5-3h0m1.5 5.5h0m-4-4.5h0m0 1.5h0m1.5 5h0m6.5-2h0m-5.5-1h0m-2-6.5h0m3.5-1.5h0m-2.5 8.5h0m8 0h0m0.5 2.5h0m-11-4h0m3.5 0.5h0m-1-7h0m-3 3h0m9.5 7h0m-0.5 0.5h0m-1-4.5h0m-10 3h0m3-1.5h0m2.5 0.5h0m1-0.5h0m-3-8h0m0.5 3h0m10.5 7h0m-11.5 2h0m3-2h0m3.5-6.5h0m3 10h0m-10-9.5h0m9.5 5h0m-11-9h0m7.5 12h0m-1.5-1.5h0m4.5-3h0m-5 0h0m-1 2.5h0m-3.5 0.5h0m2 1.5h0m-0.5-1.5h0m8-5h0m-10.5 4h0m6 2h0m2.5-1h0m5-1h0m-8-1h0m-0.5 0h0m8 1.5h0m-11.5-4.5h0m6 3h0m5-2h0m-8-3.5h0m7.5 8.5h0m-12-4h0m4.5 0.5h0m7.5 1.5h0m1-1h0m-1 2h0m-1 1.5h0m-5.5-6h0m-6-3h0m-1 1.5h0m5 2.5h0m-2 1.5h0m-3 1.5h0m1-5h0m4.5 1h0m7.5 3h0m-1 2.5h0m1-6h0m1 1.5h0m-8.5 0h0m9 2.5h0m-9-3h0m-4 4h0m8.5 0.5h0m-6.5-6.5h0m5 4h0m-4-6h0m0.5-2h0m10 10.5h0m-11.5-2h0m11.5 0h0m-10.5-7h0m-3 4h0m12.5 8h0m-12-8h0m7 3.5h0m-0.5 1h0m-4-0.5h0m1.5-3h0m-1.5-3h0m9 8h0m-8-8h0m9 6.5h0m-5.5-4.5h0m-4.5 1.5h0m-3 1h0m11 2.5h0m2.5-6h0m0 2.5h0m-7 3.5h0m12 2h0m-3-3h0m8 2h0m6.5 0.5h0m1.5 0.5h0m-17.5-7h0m21 7.5h0m-15.5-2h0m1 1h0m12-1.5h0m1.5 3h0m-3.5-2h0m-9 0h0m2.5-1.5h0m8.5 3h0m-10.5-2h0m10 0.5h0m-0.5-1.5h0m-7-0.5h0m9.5 1.5h0m-11.5-4.5h0m8.5 2h0m-2.5 4.5h0m-7.5-1.5h0m5 1h0m1.5 0.5h0m-1.5-3.5h0m-10 1.5h0m20.5 2h0m-1 0.5h0m-21-4h0m20.5 3h0m-9-2.5h0m-9.5-1.5h0m7 0.5h0m6.5 2h0m2.5 1h0m-6.5-1h0m-11-0.5h0m17.5 0.5h0m-3 0.5h0m5-1h0m-14.5-0.5h0m13.5 0.5h0m-10.5-1.5h0m-9-0.5h0m5 2.5h0m2.5 2.5h0m-5.5-2h0m15 3h0m-7.5-2.5h0m3-1.5h0m-6.5 2.5h0m2-5.5h0m9 3.5h0m-3.5-1h0m-1-0.5h0m7.5 2h0m-14-2.5h0m5.5 3h0m4-1.5h0m-14 1h0m20 0.5h0m-10.5-2h0m-5.5-0.5h0m11.5-1.5h0m1.5 1.5h0m-4.5 4h0m6.5-1h0m-9 0h0m5 1h0m4 0.5h0m-6-4h0m-1 1.5h0m-5 0.5h0m4-1h0m4 1.5h0m4.5 3h0m-20-5.5h0m16 2h0m-6.5 0h0m6.5 0.5h0m-10.5-3h0m4 2h0m-10-3h0m6 2.5h0m4.5 2h0m8 0h0m-13-4.5h0m-0.5 3h0m1 1.5h0m6 0h0m2-2h0m5.5 1.5h0m-0.5-1.5h0m-5.5 2h0m-5.5-0.5h0m9-1h0m-7 2h0m10-2h0m-18-1h0m1-1.5h0m13.5 4h0m-10.5-0.5h0m6.5-3h0m-2 2.5h0m-8-2h0m13.5 5h0m-13.5-6h0m15 3.5h0m2.5-1.5h0m-1 3.5h0m-8.5-5.5h0m-3 0.5h0m-4.5 1.5h0m7.5 2.5h0m-6 0h0m3.5-2h0m-7.5 0h0m9.5 2.5h0m5 0h0m6.5-3h0m-2-1.5h0m-10 2.5h0m8-1h0m-12-0.5h0m5.5 0h0m10.5 1.5h0m-8.5 1.5h0m-2.5-5.5h0m6.5 5h0m-10.5-1h0m-7-5h0m5 3h0m-1.5 0h0m2-3h0m15.5 6.5h0m-21-2h0m6.5-3.5h0m6.5 0.5h0m-4.5 0.5h0m-4-0.5h0m14.5 1h0m-16.5-0.5h0m-1.5 3h0m4-4h0m6 2.5h0m5.5 4h0m-5-3.5h0m4 2.5h0m-11-2.5h0m13 1h0m-3.5 0.5h0m4 0.5h0m-17.5-2.5h0m12.5 1.5h0m-1 1.5h0m6.5-3.5h0m-4.5 4h0m1-1.5h0m-11.5-3h0m4.5-1.5h0m-6.5 3h0m1-1.5h0m8 3.5h0m-5-2.5h0m-5.5-0.5h0m22.5 4h0m-11-4.5h0m-7 2.5h0m0-4h0m4.5 4.5h0m10 1.5h0m3.5-1.5h0m-10 1.5h0m-4.5-5.5h0m-3 0.5h0m-1 1.5h0m3 0.5h0m12-2h0m-19-4h0m17.5 6h0m-2.5 0h0m-15-4.5h0m1.5 0.5h0m15 3h0m-1.5 4.5h0m-8-5h0m12.5 0h0m-15-3h0m5 6.5h0m-7-5.5h0m12 5h0m-10.5 0h0m13 1.5h0m-2 0h0m1.5-3.5h0m-3-3h0m-9.5 3.5h0m11.5 0h0m-13-4.5h0m3.5 5.5h0m-3.5-2h0m-0.5-2h0m12.5 3.5h0m2 0.5h0m-8-2h0m-4-0.5h0m7 4h0m1.5-2h0m8 3h0m-20.5-5.5h0m7 3h0m8.5 0.5h0m-1.5 2.5h0m-8-5h0m7.5 1h0m5.5 2h0m-17.5-6h0m17 5h0m-1.5 1.5h0m-2-1h0m-4-1h0m4 0.5h0m-8-2.5h0m14.5 3.5h0m-11 1h0m-10-0.5h0m17.5-2h0m-11.5-2.5h0m-2.5 1h0m-3-1.5h0m17.5 4h0m-3-1h0m-6-2h0m-8-0.5h0m8.5-2h0m9 5.5h0m-11.5-2h0m-5 1h0m8 0h0m-3.5-1h0m-2-1.5h0m11.5 1h0m-6.5 0.5h0m10.5 1h0m-5-1h0m3 1h0m-10.5-0.5h0m6-0.5h0m7.5 1h0m-4 0.5h0m-15-2.5h0m10 3h0m8.5 0.5h0m1 0.5h0m-11.5-4h0m-9 4.5h0m12-5.5h0m6.5 6h0m0.5-3.5h0m-14.5-0.5h0m13 4.5h0m0.5-2h0m-16.5-4.5h0m2.5 3h0m-2-3h0m1 1h0m2-1.5h0m-7 2.5h0m6.5-3h0m14 6h0m-17-2h0m13.5 0h0m-7-2.5h0m0.5 6h0m10-3h0m-19.5-3.5h0m19 1.5h0m-8 1.5h0m-6.5-3.5h0m1 0.5h0m-5.5 2.5h0m4.5 1h0m16-2h0m-21.5-2.5h0m17.5 2h0m-8.5 1h0m4.5 2h0m-9-1h0m6.5 1h0m11 2h0m-9.5-2.5h0m-10.5 0h0m-1-2.5h0m3 0h0m15 0.5h0m-17.5 0.5h0m14-1.5h0m-15.5 3.5h0m16.5 3.5h0m-15-3.5h0m0-4.5h0m12 2.5h0m15 3h0m6 1h0m-10-3h0m15 3.5h0m-9-4.5h0m10.5 3.5h0m-16.5-4h0m9.5 4h0m-9-1h0m15.5 1h0m-5 0h0m-7.5-1h0m16.5-0.5h0m-6.5 0.5h0m-8 1.5h0m12-2h0m-11 0.5h0m13 3h0m-14.5-2.5h0m15.5 1.5h0m-21-3.5h0m15 2.5h0m-10 0h0m3-0.5h0m5-1h0m-13.5-2.5h0m4 1.5h0m-2.5 1h0m14.5 1h0m-12-1.5h0m6.5 2.5h0m-4-2.5h0m-2 0.5h0m16 1h0m-10 0h0m3.5 0h0m1-1h0m2.5 2h0m-12.5-1.5h0m-4 1.5h0m8.5-1.5h0m-6.5-1h0m-3.5 0.5h0m20.5 2h0m-6.5-1h0m-5-2h0m-6.5 3.5h0m14.5-0.5h0m-5.5-2h0m-8 1h0m17.5 2h0m-2.5-0.5h0m-7-1h0m-5 0.5h0m8-2h0m-11.5 1.5h0m10.5-2.5h0m-12.5 2h0m-1 0.5h0m7.5 0.5h0m8-2.5h0m2 1.5h0m1 1h0m-5-4h0m5.5 3h0m1.5 0.5h0m-0.5-1h0m-19.5-0.5h0m5-0.5h0m3 1.5h0m-3.5 0h0m-1.5-0.5h0m16 3h0m-19.5-1h0m3.5-1h0m13.5 1h0m-12.5-2.5h0m17 1.5h0m-4.5-1h0m-7.5 1.5h0m-7-1.5h0m19.5 0.5h0m-4.5-0.5h0m-16.5-2.5h0m14.5 3h0m-7.5 1h0m8-1.5h0m-10 0h0m-3.5 1.5h0m-2.5-1.5h0m6-0.5h0m14 1h0m-5-1h0m1.5 0h0m-12.5 0h0m16 1.5h0m2-1h0m-12.5-0.5h0m7.5 0h0m4 0.5h0m1-0.5h0m-16-0.5h0m8.5-0.5h0m-6 3h0m1.5-1h0m0 0.5h0m-10-3h0m15.5 2h0m3 0h0m-15.5 0.5h0m2-1.5h0m8 0.5h0m8 0h0m-11 2h0m-6 0h0m9-0.5h0m8.5-0.5h0m-2 0.5h0m-10.5-1.5h0m10.5 1h0m-0.5 1h0m-10.5-0.5h0m12-0.5h0m-12.5 0h0m0-2h0m1.5 0.5h0m-5-1h0m1 3h0m-3.5-3.5h0m15.5 1.5h0m-3.5 1h0m-11.5-1h0m10 0h0m-0.5 1h0m8-1h0m-18 2h0m16.5-0.5h0m-6.5 0h0m-9-1h0m7.5 1h0m5 2.5h0m2-1h0m0.5 0h0m-13.5-1h0m14.5-2h0m-10.5 1h0m9.5 0h0m-6.5 0.5h0m5 1h0m-16-2.5h0m20-0.5h0m-10 0.5h0m-5 2.5h0m-5.5-2.5h0m7 3.5h0m4-0.5h0m-7-4h0m9.5 3h0m1 0h0m1.5 0.5h0m-15 1.5h0m13-4h0m6.5 4h0m-5-2h0m-2-0.5h0m-6 1.5h0m3-3.5h0m-6-3.5h0m4.5 5h0m-9 2.5h0m8.5-4h0m-2.5-0.5h0m12 1.5h0m-3.5 2.5h0m4-3.5h0m2.5 3h0m-21.5-4.5h0m14 2h0m-0.5-1h0m-8.5 2h0m1-0.5h0m12.5-0.5h0m-4 2h0m2.5-2.5h0m-16.5 4.5h0m15.5-4.5h0m5 0.5h0m-0.5 3h0m-15-1h0m10.5 0.5h0m-3.5-2.5h0m-12.5 0h0m1.5 1h0m4-1.5h0m6.5 1.5h0m1.5 0h0m6 1h0m-1-0.5h0m-13.5 0h0m9-0.5h0m5.5 0h0m-3-1.5h0m6 3h0m-10-0.5h0m1.5-1.5h0m-7.5 2h0m5-1.5h0m-2 2.5h0m1.5-3h0m-8.5-0.5h0m12.5 1h0m-6-1h0m-4.5 2h0m-2.5-2h0m-1 1h0m14.5 2h0m-8-1.5h0m14-1.5h0m0 2h0m-11 1h0m-6.5-2.5h0m16.5 2h0m1.5 0.5h0m-2-2h0m-16.5-3h0m7.5 4h0m-10.5-4.5h0m22 4.5h0m-15-1h0m3.5 0h0m-6 1.5h0m-5-4h0m7.5 2h0m2.5-1.5h0m2.5 3.5h0m9.5-1.5h0m-11 2h0m-3.5-1h0m1 2h0m-1-4.5h0m-5.5 2.5h0m-1-0.5h0m19 1.5h0m-13-2.5h0m-4.5 1h0m11-1.5h0m-10 2.5h0m2.5-3.5h0m-3 1.5h0m17 4h0m-1.5-5h0m-14 3.5h0m9-0.5h0m-5.5-2h0m-5-2h0m0 3.5h0m4-3.5h0m0 1.5h0m-5.5 0h0m14 3.5h0m-0.5-3.5h0m-13 1h0m8 1h0m5-4h0m4 4h0m-17-0.5h0m12 2h0m10-3h0m12 3h0m-1-2h0m3.5 0h0m-9.5-0.5h0m1.5 2.5h0m7.5-1h0m-8.5-0.5h0m7-1h0m-6.5 0.5h0m-1.5 1h0m-1-1.5h0m-1 0h0m3.5-0.5h0m-4.5 2.5h0m11-0.5h0m2.5-0.5h0m-14.5-1h0m-1 0.5h0m-0.5 1h0m15.5-2.5h0m-4.5 3h0m-6-0.5h0m-2 0h0m1 0h0m7.5 0.5h0m-11.5-1.5h0m14 2h0m-4.5-1h0m-6-2h0m7 2h0m0-1.5h0m-5.5 0.5h0m0.5 0.5h0m2 0.5h0m7.5-1h0m-6 1h0m5-1h0m-3.5 0h0m-1.5-0.5h0m-1 0.5h0m3 1h0m-3 0h0m4 0h0m-9 0.5h0m2-2.5h0m9.5 2h0m-8 2h0m7.5-3.5h0m1.5 0h0m-14 1h0m11 1.5h0m-1.5-1.5h0m-6.5 0h0m9.5 0.5h0m-13.5 0h0m3-0.5h0m6.5-0.5h0m3.5-1h0m-12 2h0m-1.5-0.5h0m10-1.5h0m-3.5 1h0m0.5 1h0m8-0.5h0m1 1h0m-3-0.5h0m-13 1h0m2.5-2h0m7 2h0m6.5-2h0m-15-0.5h0m7.5 2h0m-2 0h0m-2 1h0m-0.5-0.5h0m5-1.5h0m-2 0h0m4.5-1h0m4 1h0m-9.5 0h0m5-0.5h0m2-0.5h0m-6 2.5h0m1.5-1.5h0m1.5-1h0m6-0.5h0m0.5 1.5h0m-14.5-0.5h0m10.5 2.5h0m-1-1.5h0m-2.5 0.5h0m6.5 0h0m-14-2.5h0m11.5 2.5h0m-3-0.5h0m-9.5-1.5h0m2.5 1h0m3.5-1h0m-3 2h0m1.5-1h0m1-0.5h0m3 0h0m-8.5 2h0m2.5 0.5h0m1-2h0m6 1.5h0m-5.5-0.5h0m6 0h0m-10 0h0m4 0.5h0m0.5-2.5h0m-2-2h0m8.5 3h0m2.5 0h0m-2.5-0.5h0m-7-1h0m8.5 1.5h0m-12 1h0m6.5-1h0m-7-2.5h0m16 2h0m-10.5-1.5h0m6.5 2h0m1 0h0m-6.5 2.5h0m-5-3.5h0m-1.5 1h0m0.5 0h0m2-0.5h0m5-0.5h0m3 3.5h0m-1.5-1.5h0m0-1h0m0.5-3h0m-4 4.5h0m-2-3h0m-10.5 3h0m-8.5-1.5h0m-8.5 0h0m27.5-0.5h0m-8 2h0m-12.5 1h0m15-1.5h0m-12.5 0.5h0m13 2h0m-12.5-2.5h0m15.5-1h0m-15 1h0m3 0h0m5-0.5h0m-5 1.5h0m-10.5-1.5h0m6.5 0.5h0m20-0.5h0m3.5-1h0m-17.5 1h0m0.5 0h0m-14.5 1h0m14 0.5h0m1.5-1h0m12-1.5h0m-16.5 2.5h0m0.5-0.5h0m4.5-1.5h0m-11 1h0m19-0.5h0m13.5 0h0m-14 1.5h0m-16-1h0m27 0h0m-11 0h0m-20 1h0m10-0.5h0m11 1h0m-24.5-1.5h0m4.5 0.5h0m27.5-0.5h0m-1 0.5h0m-5.5 0.5h0m6-3h0m-24.5 3.5h0m11-0.5h0m6-0.5h0m6.5-1h0m-20.5 0h0m4.5 1.5h0m-11.5-1.5h0m21 0.5h0m-10.5-0.5h0m2-1h0m-2.5 1h0m2 0.5h0m10.5 0.5h0m-24.5 2h0m12.5-2.5h0m9.5-0.5h0m-20 0.5h0m18.5 1h0m-30.5-2h0m37.5 1.5h0m-17-0.5h0m16 0h0m-31 0.5h0m21.5 1h0m0.5-1.5h0m-5.5 0h0m-26.5 0h0m34.5 1h0m-18.5 0h0"/><path stroke="#ffff00" d="M42 972h0m-1 1.5h0m1.5 7h0m-0.5-5h0m0.5-1h0m-1-2.5h0m0 4.5h0m0.5-1.5h0m-0.5 4.5h0m0.5-3.5h0m0.5-7h0m0 2.5h0m0-3.5h0m-1 2h0m0.5 4.5h0m2.5-4.5h0m-0.5 7.5h0m-0.5 1.5h0m1 1.5h0m-1.5-6h0m1-1.5h0m0 3.5h0m-1-3.5h0m0.5-0.5h0m0.5-0.5h0m-1 6.5h0m-0.5-6h0m1.5 12.5h0m-0.5-7.5h0m0.5-4h0m0 6h0m-0.5-11h0m-0.5 11.5h0m0-7.5h0m0 10h0m1.5-5h0m-1-5.5h0m-0.5 4h0m0 5h0m1.5 6.5h0m-1-9h0m0-2.5h0m1-4h0m-0.5 6h0m-0.5-6.5h0m0-5h0m0 7h0m1 13h0m-2-10h0m1-10.5h0m1 15.5h0m0 1.5h0m-0.5-11.5h0m0 4.5h0m0.5-2.5h0m-1.5 3h0m0.5 0.5h0m-0.5 0.5h0m1.5 5h0m-2-10.5h0m1 9.5h0m0.5-4.5h0m0-6h0m-0.5-1.5h0m0.5 1h0m-1 0.5h0m-0.5-1h0m2 15.5h0m-0.5-5h0m-1.5-6.5h0m2 7h0m0-4h0m-2-4h0m0.5-1.5h0m0.5-2.5h0m0 9h0m1-9h0m-2 6h0m2-9h0m-0.5 14h0m0.5 3.5h0m-0.5-9h0m0 10h0m-1-12.5h0m1-5.5h0m0 15.5h0m0-7h0m0.5 10h0m-1.5-3.5h0m1.5-11h0m0 6h0m-1.5-6.5h0m0.5 3h0m0-5.5h0m-0.5 12h0m1-1h0m-1.5-9h0m1 15h0m0-13.5h0m0 14h0m0.5 2h0m-1.5-9h0m2-3.5h0m-1.5-0.5h0m0-4.5h0m1.5 15h0m-0.5 3h0m0.5-8.5h0m-1 4h0m0-1h0m-0.5-15.5h0m1.5 12h0m-1.5 0.5h0m1.5 7h0m0-2h0m-0.5-2.5h0m0 2.5h0m0-11.5h0m-0.5 7.5h0m0-5h0m0 5.5h0m-1-0.5h0m2 2h0m-1.5-5h0m-0.5 5.5h0m1-1.5h0m0.5-11.5h0m-1.5-1h0m2 5.5h0m-2 4.5h0m1-3h0m-0.5-2h0m0.5 3h0m2.5 6.5h0m0.5-1.5h0m-1-10h0m0 9h0m-0.5 6.5h0m4-5h0m-3.5-9.5h0m0 9.5h0m1.5-10.5h0m-1 8h0m1.5 4h0m-2.5 2h0m2-6h0m1-0.5h0m0-1h0m-2 7h0m-0.5-0.5h0m2.5-8h0m-0.5-7.5h0m-1.5 2h0m-0.5 2.5h0m1.5-2.5h0m-2 10h0m2.5-5h0m0.5-7.5h0m-0.5 10h0m1.5 0.5h0m-2.5-5h0m2 0h0m-2.5 12h0m-0.5-6.5h0m1.5-11.5h0m-2 14h0m1.5-15.5h0m0.5 14h0m1-0.5h0m-3-5.5h0m4 1h0m-1.5 4h0m-2.5 0.5h0m0.5 8h0m1.5-14h0m1 1.5h0m-1-6h0m0.5 0h0m-1 7h0m0.5 7h0m-0.5-4h0m0 4h0m0.5-6.5h0m-0.5-7h0m1.5 3.5h0m0.5 9.5h0m-3-1.5h0m0.5 2.5h0m0.5-3h0m0-8.5h0m0 3h0m-0.5-0.5h0m2.5 5.5h0m-1.5-4.5h0m-2 10.5h0m1-8.5h0m-0.5 5.5h0m1-11.5h0m2 7.5h0m-0.5 3.5h0m-1 2h0m0-6.5h0m-1.5-9h0m0.5 20h0m-1-20h0m3 0h0m-1 15h0m-1-8h0m-1-1.5h0m3 3.5h0m-2.5 4.5h0m0-12h0m0.5 6.5h0m2 4.5h0m1 1.5h0m-1.5-2h0m-1 2.5h0m0-13h0m0.5 2.5h0m-0.5 7h0m1-5h0m-2 0.5h0m0-4h0m0 14.5h0m1.5-3.5h0m-2-1.5h0m0.5-6h0m0.5-6.5h0m-0.5-2h0m3.5 11h0m-4 2.5h0m2.5 3.5h0m-2-6.5h0m3.5-1h0m-4-4.5h0m2.5 0.5h0m0 4.5h0m-1-5.5h0m-1.5 12h0m0.5-7h0m0.5-6h0m0-0.5h0m2.5 5h0m-0.5-4h0m-2.5-2h0m0.5 13.5h0m0 5h0m-0.5-10.5h0m3-7h0m-3.5 7h0m0 10.5h0m2-9.5h0m-2-0.5h0m1 2.5h0m0-7h0m0.5 2h0m-1.5-3.5h0m1.5-4.5h0m-1.5 15.5h0m1-5.5h0m-0.5-2.5h0m-0.5 1.5h0m4-2.5h0m-3 8.5h0m1 2h0m-2-16.5h0m0.5 3h0m-0.5 14.5h0m-0.5-7h0m1.5 3.5h0m3-3h0m-4-11.5h0m1.5 18.5h0m1-5.5h0m1 2h0m-3-1h0m2 2h0m-0.5-1h0m-1.5 3h0m1.5-19h0m-1 7.5h0m-0.5 5h0m3.5-5.5h0m-4 13h0m0.5-11h0m1.5 1.5h0m1-4.5h0m1-1h0m-4-1h0m2 11h0m-1.5 5h0m-0.5-10.5h0m0.5 7h0m0-2.5h0m0.5-11.5h0m2 3h0m-1.5 6.5h0m1.5-5h0m-2.5 1h0m-0.5-9h0m2 12.5h0m1.5 3.5h0m0.5 2h0m0-1.5h0m-2.5 4.5h0m0-17h0m0 14h0m-1.5-12h0m2.5-4h0m0.5 3h0m-2 16.5h0m0-15h0m2 12h0m-1.5-10.5h0m1 6h0m0-1h0m-2 7.5h0m-0.5-7.5h0m0.5-12.5h0m0.5 13.5h0m1.5-5h0m-2.5 10h0m2-17h0m1 17h0m-2-10h0m-1.5 1.5h0m3.5-1.5h0m1.5 2.5h0m1 2.5h0m-1-1.5h0m0-0.5h0m0 4h0m0.5 0h0m1 0.5h0m-1-5.5h0m0 7h0m1.5-4h0m0 2.5h0m-1.5-9h0m0 9h0m0-1h0m0.5 1h0m1-1.5h0m-1.5-0.5h0m1.5-2h0"/><path stroke="#00ff00" d="M54 1004h0m-3-4h0m-1-2h0m2-1h0m1.5 8h0m0.5-4h0m0-6h0m-1 7.5h0m3-2.5h0m-0.5-2.5h0m-0.5 5.5h0m-2.5-7h0m3-1h0m-2.5 3.5h0m1.5 4h0m-1.5-0.5h0m3-3h0m0-1.5h0m0.5-2.5h0m0.5 3.5h0m-3.5 2.5h0m-0.5-2h0m-0.5 8h0m4-8h0m0-5.5h0m-1 2.5h0m-1.5 10h0m-3-8.5h0m3.5 3.5h0m-1.5-1h0m0.5-1h0m1-5h0m-3.5 4.5h0m2.5 4h0m-2-3h0m5 3h0m-0.5 1h0m-1.5-6.5h0m-0.5 0.5h0m1.5 8h0m-1-3.5h0m2 1.5h0m-6-6h0m6-0.5h0m-0.5 7.5h0m0 1h0m-0.5-0.5h0m1 1h0m-5-5.5h0m3 4h0m1.5-0.5h0m0-1h0m1 0h0m-0.5-4.5h0m-6-0.5h0m3.5 1.5h0m1 2h0m0-7.5h0m0 8h0m-4.5-2.5h0m3.5 3.5h0m-1-6h0m3-1h0m-3 0h0m3 5h0m-3.5 1h0m4 2h0m0.5-6.5h0m-3-1h0m-0.5 0.5h0m0.5-1h0m1.5-2h0m1 4h0m-0.5 4h0m-2-0.5h0m1-4.5h0m-3.5 2h0m4.5 6h0m-1-1h0m1-7h0m0.5 4.5h0m-0.5-5h0m-1 3h0m-0.5 2h0m-3-4.5h0m5 8.5h0m-1-7h0m-2 1h0m3-3.5h0m-0.5 5.5h0m-1.5 5h0m-1.5 1h0m2.5-12h0m-2.5 6h0m-1.5-0.5h0m5-1.5h0m-0.5-6h0m0 1h0m6 8.5h0m-2.5-2h0m4 0.5h0m-5-2.5h0m2.5 5h0m-1.5-8.5h0m3.5 6h0m-2.5-1.5h0m-1.5 2h0m-1.5-6h0m3.5 1h0m-3.5 9.5h0m8.5-5h0m0-1h0m-8 5h0m0.5-3h0m2.5 2h0m1.5-2h0m-2-3.5h0m-2.5 5h0m-1-3.5h0m9.5-3h0m-9-2h0m4.5 1h0m-2.5-1.5h0m3 8h0m-5-2h0m3.5-6.5h0m-0.5 3.5h0m1.5 2h0m0-1h0m1.5 0.5h0m0-1.5h0m-3 7h0m4-2.5h0m-2 1h0m-3.5-6h0m-1.5 6h0m5.5-1h0m0.5-5.5h0m-4-2.5h0m2.5 9.5h0m-1.5-7h0m2 3h0m1 2h0m-4-5.5h0m5 1.5h0m-3.5 5h0m-0.5-2h0m1.5-6.5h0m2 9.5h0m-3.5-0.5h0m0-7.5h0m-0.5-1h0m4.5 3.5h0m-6 2.5h0m6.5-4.5h0m-5 8h0m4.5-3.5h0m-1 1.5h0m-4.5-3h0m7.5 3h0m-6.5 0h0m-3 1h0m8.5-1h0m-6.5-2h0m0.5 4h0m4-3.5h0m-4.5 0h0m6 2.5h0m-5-6.5h0m0.5 7h0m0.5-3.5h0m5-0.5h0m-8 0.5h0m8 2.5h0m-2.5-3h0m-1-1h0m-4-3h0m-0.5 3.5h0m-1-2.5h0m5 5.5h0m-0.5 1h0m10.5-1h0m-3-0.5h0m1-1h0m1 2h0m-3 0h0"/><path stroke="#00ffff" d="M41.5 955h0m0.5 14h0m0-9.5h0m-1.5-12h0m0.5-2.5h0m1 13h0m-2-6h0m1-3h0m0-2.5h0m-0.5 9.5h0m0.5 12.5h0m0.5-17.5h0m0 11h0m-1-16h0m1 12.5h0m-1.5-18.5h0m0-1h0m1 19.5h0m1-5h0m-0.5 2.5h0m-1-3.5h0m-0.5 10h0m0.5-14h0m1 17.5h0m-1-24h0m0.5 16h0m-1-1h0m0.5-6h0m0 8h0m1.5-1.5h0m-0.5-7.5h0m0.5 15h0m-0.5-5h0m0-6.5h0m0.5 1.5h0m-1-3.5h0m0.5 8h0m-1 6.5h0m0.5 0h0m0-13.5h0m-0.5-6h0m1.5 18h0m-1-23h0m0.5 10h0m0 9.5h0m0 7h0m0-16h0m-1-10.5h0m0.5 4.5h0m0 4.5h0m-0.5-0.5h0m2 4h0m-2-8.5h0m1 11.5h0m-0.5 3.5h0m1 3.5h0m-0.5-3.5h0m-1 3h0m1.5-4.5h0m-0.5 12.5h0m-1-33.5h0m0 28.5h0m0-9.5h0m0.5 12.5h0m0-18.5h0m-1-3h0m2 2.5h0m-1 4h0m0.5 4.5h0m-0.5-11h0m-1-7.5h0m1 0.5h0m-1 3h0m3.5 20h0m1 0.5h0m-2 3.5h0m2-3h0m-2-4.5h0m0.5 3h0m0-5.5h0m0.5-0.5h0m0 3.5h0m-0.5-0.5h0m-0.5-5h0m0.5 9.5h0m0.5-4.5h0m-1-6h0m0 12.5h0m0.5-10h0m0 9.5h0m-0.5-8.5h0m0 7h0m1.5-4.5h0m-1 1.5h0m1-2h0m0 2.5h0m-1.5 6h0m0.5-7h0m-0.5-4h0m0 1h0m0.5 6h0m-0.5 1.5h0m1.5-4.5h0m-0.5 5.5h0m0.5-0.5h0m-0.5-7.5h0m0.5 3h0m-1.5-5.5h0m0 5.5h0m3.5 6.5h0m-1-9h0m2 6.5h0m-1 1.5h0m-1-1.5h0m1-1h0m0 2h0m-1.5-4.5h0m1 3.5h0m2 0h0m-2.5-1.5h0m0.5 2h0m-5.5-29.5h0m0.5 3h0"/><path stroke="#0000ff" d="M44.5 989h0m-0.5-2.5h0m0.5 3h0m2.5-0.5h0m0 3h0m0.5-7h0m1 1h0m0 4h0m0.5 1.5h0m0-2.5h0m-2 2h0m2-3.5h0m-4 2.5h0m1-0.5h0m2.5-0.5h0m-0.5 2h0m0.5-4.5h0m-0.5 0.5h0m0 2.5h0m0.5-1h0m-3-0.5h0m3.5 2h0m-0.5 3.5h0m-2.5-5h0m2.5 3.5h0m-2-2.5h0m1.5-3.5h0m0 7.5h0m1-5h0m-1 4.5h0m-0.5-6.5h0m-0.5 3.5h0m0-3.5h0m0 3h0m0.5-1h0m1 2h0m-1.5 1h0m1.5-4h0m-1 1.5h0m0.5 1h0m0-3.5h0m0 7.5h0m0.5-7h0m0-3.5h0m-2 7.5h0m1-4h0m-0.5 1h0m0.5-4h0m0.5 1h0m-1.5 3.5h0m3 8.5h0m-0.5-1h0m0-11.5h0m-2 8.5h0m0-7h0m0.5 6.5h0m1.5 3h0m-3-8h0m1 3h0m0.5 1.5h0m0.5-6.5h0m-2 0.5h0m-0.5 4h0m1.5-4.5h0m1.5 7h0m-2-6h0m2 3h0m0.5-3.5h0m-1.5 5.5h0m0.5 3.5h0m-3-7h0m4 4h0m0-8h0m-1.5 3.5h0m-0.5 6h0m1 2h0m1-13h0m0 0.5h0m-0.5 2h0m-2 2h0m2 4.5h0m-0.5-3h0m-0.5 1.5h0m-0.5-3h0m1.5 4h0m-0.5 1.5h0m-1.5 1h0m1.5-9.5h0m1 14h0m-1-10.5h0m-2 0.5h0m2.5 10h0m-3-8.5h0m1.5 6.5h0m1.5 0.5h0m-1-5.5h0m-0.5-6.5h0m-0.5 7h0m0.5-6.5h0m2 6h0m-4-4h0m2 7h0m-0.5-6h0m-1.5-0.5h0m3.5-3h0m0 10.5h0m0-12.5h0m-2.5 8h0m0.5-1.5h0m-0.5-2.5h0m0.5-1h0m2.5 8.5h0m-3-5h0m0-3.5h0m0.5 7.5h0m1.5-9.5h0m1 13.5h0m-3-5.5h0m3-1h0m-1.5 5.5h0m1.5-2.5h0m0-4h0m-1 1h0m-1.5 4.5h0m-0.5-8h0m2 5h0m1-10.5h0m0 13.5h0m-2.5-3h0m-1-3.5h0m4.5-3h0m1.5 1h0m-2 6.5h0m0-1h0m0.5-3.5h0m4 0h0m-3.5 5h0m1.5 2h0m-2-4h0m5.5 1h0m-1-8h0m-4.5 2h0m1 6.5h0m2.5-5h0m3 2.5h0m-1 0h0m-5.5 0h0m4.5 1.5h0m-3.5 3.5h0m1.5-11.5h0m-1 9h0m-2-3h0m3-2h0m-1.5 0.5h0m0.5 1.5h0m0-2h0m1.5 2h0m-3 7.5h0m-0.5-3h0m3.5-5.5h0m-3-1.5h0m0.5 7.5h0m5-5h0m-5 1.5h0m-1 2h0m3-8.5h0m-3 3.5h0m2.5 6.5h0m1-3.5h0m1 2.5h0m-3.5-8h0m1 10h0m0-9h0m0.5 4.5h0m1.5-3h0m-1.5-3h0m-1 0h0m3 4h0m-4 5h0m4-4.5h0m-3 5h0m0.5-1.5h0m-1-4h0m0 4.5h0m0 2h0m2-2h0m0-4.5h0m-1.5-2.5h0m1.5-1h0m0.5 5h0m1.5-3h0m-2 4.5h0m0.5-10h0m3 7h0m-5.5 7.5h0m-1-12h0m2 4h0m-2 9h0m1.5-4h0m-1-7h0m3 6.5h0m-1.5-3h0m2-4.5h0m-3 2h0m3 4.5h0m0.5-5h0m-1.5 6h0m0.5-5.5h0m-2 4.5h0m1.5 0.5h0m2-7h0m-1.5 6.5h0m-1.5 5.5h0m-2-9h0m2.5 5h0m-0.5 0h0m0.5-3h0m1.5 0.5h0m-1.5-9.5h0m4.5 6h0m-1.5-0.5h0m-2.5 1h0m1.5 4h0m1-4.5h0m-5 0h0m6 4.5h0m-6.5-9.5h0m4.5 11.5h0m-4.5 2h0m1-6.5h0m1.5 3.5h0m1-6.5h0m-1.5-2h0m1.5 1h0m-1 3.5h0m1.5 3.5h0m-1.5 1.5h0m0.5-3h0m1.5 0h0m-4-8.5h0m1.5-0.5h0m5.5 9.5h0m1.5-2h0m-0.5 1h0m-0.5 0h0"/><path stroke="#ff00ff" d="M149.5 1020h0m6 5.5h0m-33-2.5h0m15 1h0m24-2.5h0m-3.5 3.5h0m-48.5 0.5h0m35-7h0m-21 2.5h0m19-1h0m-7 3h0m-2-3h0m17.5 3h0m25-3.5h0m-44.5 2h0m54 0.5h0m-41.5-1.5h0m5 0h0m-2 1h0m5-2.5h0m-4.5 4.5h0m-2.5-3.5h0m3.5 4h0m-7 1h0m8-1.5h0m-9-4.5h0m15 3.5h0m-43-5h0m13 2.5h0m11.5 1h0m9 1h0m-15.5 1.5h0m-11.5-3h0m15 1.5h0m33-0.5h0m-16 0.5h0m-20.5 3h0m23-5.5h0m-37.5 4h0m52-4.5h0m0 2.5h0m-16.5-0.5h0m-2 3h0m-7-1.5h0m4.5 0h0m1-0.5h0m-8 3h0m9-5.5h0m-16.5 0.5h0m29.5 0.5h0m-24 2.5h0m13-2h0m4.5-3.5h0m22 3h0m-53.5-0.5h0m33.5-1h0m-4 7.5h0m-16.5-7h0m-11.5-0.5h0m29 3.5h0m33.5 1.5h0m-22.5-2h0m-2.5-1.5h0m-49 6h0m35-3.5h0m2-3h0m5.5 2h0m25 0.5h0m-64.5 2h0m23-3h0m21.5 0.5h0m1.5 0h0m3.5 2.5h0m-11-6h0m-20 5h0m8-3.5h0m16.5-0.5h0m-19.5 0h0m-3-0.5h0m-11 0.5h0m15-0.5h0m11 3h0m-13-1.5h0m21-0.5h0m-5.5 3h0m-24.5-5h0m0.5 1.5h0m28.5 4h0m-33.5 2.5h0m13-8h0m14 0.5h0m-22.5 2.5h0m18 0.5h0m9.5-1.5h0m-3.5-0.5h0m-22 6h0m-6.5-6h0m22.5 0h0m9 1.5h0m16 1.5h0m-21-2h0m-10.5-2h0m16.5 3h0m-13-3.5h0m2 8.5h0m38.5-3h0m-46 1h0m26.5 1h0m9 0h0m-9.5-1.5h0m-30-4h0m17.5 0.5h0m-2.5 2h0m-3 0h0m-4 0h0m-14-2h0m31.5 2h0m-7-2h0m-0.5-0.5h0m-15 5h0m18-0.5h0m-12.5-1.5h0m-10-2h0m24.5 3h0m2-2.5h0m0 1h0m-38.5-5h0m13.5 6h0m3.5-0.5h0m15.5-5h0m-3 2h0m-27.5 5.5h0m36.5-0.5h0m1.5-4.5h0m-15 2h0m12 3.5h0m-5.5-6.5h0m-18.5 5.5h0m31-4.5h0m-51.5 3.5h0m16.5 1h0m59-2.5h0m-54 0h0m35.5-1h0m-41 1h0m42-1h0m-13-2.5h0m-11.5 0h0m-27.5 5.5h0m10-0.5h0m-2-4.5h0m-9 1h0m14 4.5h0m22-2.5h0m-6.5-0.5h0m-16.5 4h0m14-4h0m9.5 3h0m-8-2h0m-14.5-2.5h0m-12 0h0m38-0.5h0m-21-0.5h0m-22 0.5h0m11.5-1.5h0m-0.5 6h0m52.5-0.5h0m-8.5-1.5h0m-8.5 1.5h0m-37-1.5h0m18.5-2h0m3 2.5h0m-16.5 0.5h0m32 3h0m-4-1.5h0m-8 2h0m12-6h0m-26.5 3h0m3-5.5h0m6 4.5h0m11.5-3h0m-30-1.5h0m28 3h0m-11-0.5h0m10 2h0m-64.5 2h0m50 2h0m-22-7.5h0m31.5 0h0m20.5 1h0m-10 1.5h0m7.5-3h0m-52.5 0h0m30.5 2.5h0m20.5 3.5h0m-19-2h0m-22-0.5h0m11.5 1h0m4.5 3h0m21-3h0m-37 3.5h0m19.5-9.5h0m2 2.5h0m5 0h0m17 4.5h0m-43-3h0m55-2.5h0m-40.5 6.5h0m49.5-6h0m-31 3h0m2 1.5h0m2.5-1h0m-16.5 1.5h0m6.5-3.5h0m27 0h0m-0.5 3.5h0m-61.5-0.5h0m2.5-4.5h0m-54.5 10h0m116.5-6h0m-51-3h0m-20.5 5.5h0m24.5-6h0m13.5 3.5h0m24 0h0m-19.5-2.5h0m-7-2h0m-17 2h0m-9-2h0m18.5-0.5h0m21.5 4.5h0m-20-2h0m18.5 2h0m5 1h0m-19.5 0.5h0m40-3.5h0m-54.5-2.5h0m15 2.5h0m-8.5-1.5h0m24.5 0.5h0m-37-1h0m-0.5-1h0m23 0.5h0m39 4.5h0m-20 2h0m-16.5 0h0m3-4.5h0m-20.5-1h0m-3 0.5h0m40.5 3.5h0m14.5-1h0m-49-2h0m3 2.5h0m8-2h0m4.5 2h0m1.5 1.5h0m6.5-3h0m18.5 1h0m-42 1.5h0m9-0.5h0m30.5-0.5h0m-28-3h0m-8.5 1h0m13-1.5h0m-11.5 4h0m-13.5 2.5h0m3-8h0m59 3h0m-60.5-2.5h0m-19.5 6h0m48.5 0h0m8.5-3.5h0m-13.5 0.5h0m-25.5 3.5h0m44.5 1.5h0m-15-6.5h0m-28.5 4.5h0m49.5-2.5h0m-22.5-0.5h0m-20.5-2h0m31.5 2.5h0m-8-1h0m9 1.5h0m-33-4.5h0m28.5 4h0m-13.5-1.5h0m-19 0h0m15.5-1.5h0m-1.5 5h0m0-5h0m16.5 2h0m-27-0.5h0m15.5-1h0m21.5 2.5h0m-21-2.5h0m27 5.5h0m5.5-2h0m-21-3h0m-46.5 1.5h0m35.5-1.5h0m-56.5 8h0m34-3.5h0m24 2.5h0m-6.5-9h0m-1.5 2h0m-1.5 0h0m7-1h0m-1 6.5h0m-2-6h0m-11.5 2.5h0m-53 3.5h0m75 0h0m-20-7.5h0m-23 0.5h0m45 4h0m2.5-3h0m-25.5 1.5h0m28.5 2.5h0m1-1h0m-41.5-1h0m31 0.5h0m-5.5 4h0m2.5-3.5h0m-1-5h0m-42 2.5h0m45.5-0.5h0m17 4.5h0m-23-3.5h0m-11.5 0.5h0m-10 2h0m-18 2.5h0m29.5-5.5h0m17 5.5h0m-7-6h0m18.5 3.5h0m5-1h0m-16.5 0h0m-22 1h0m34 1h0m-54-3.5h0m26.5 4.5h0m29-2h0m-20.5-0.5h0m10.5-4h0m-4.5 3h0m6 1.5h0m-34-2h0m10.5-4h0m21.5 6.5h0m8-1h0m-13.5-2h0m-7-0.5h0m24.5 0h0m-11.5-1h0m-53 5.5h0m38-2h0m13.5 1h0m1.5 2.5h0m-16.5-4h0m-30 6h0m11.5-4.5h0m22.5-3h0m-25.5-1h0m21 4.5h0m21.5-3.5h0m22 0.5h0m-18.5 4.5h0m-25-6.5h0m-7 7.5h0m-3-7h0m25 3h0m-15.5 0h0m31.5-0.5h0m-29-3h0m-6-0.5h0m8 1h0m-32.5 5h0m79.5 0.5h0m-23.5-1.5h0m6-0.5h0m-9.5 0h0m17-2h0m-49 3.5h0m0-5h0m2 7.5h0m4.5-4.5h0m5-1h0m16.5-3.5h0m2 3h0m-34-2.5h0m24 3.5h0m20 1.5h0m-10.5 0h0m-21-0.5h0m9-1.5h0m-25-1.5h0m-17.5 1h0m69 5h0m-45-2.5h0m27 0.5h0m-46.5-4h0m-9.5 7.5h0m39-4h0m26-1.5h0m-15.5 2h0m-9.5-7h0m4 1h0m20.5 3.5h0m-17-0.5h0m-3 0.5h0m-4.5 0h0m-29.5-0.5h0m55-0.5h0m-22 4h0m12-5h0m11.5 3h0m-26-1h0m17.5-1h0m-50.5 3h0m5.5 1h0m32-3h0m3.5-4h0m-13 3h0m-5 7.5h0m-18-3.5h0m34-0.5h0m-10.5-5h0m-11 3.5h0m24.5 0.5h0m24.5-1.5h0m3-0.5h0m-62 1h0m33-2h0m21.5 4.5h0m0.5-1.5h0m1 0.5h0m0.5 0.5h0m-24 0.5h0m10-3.5h0m-19 0.5h0m20.5 3.5h0m-35.5-5h0m49 1.5h0m-29.5-2h0m13.5 2h0m-8.5 0h0m-21 1.5h0m-3.5 2h0m-38 0.5h0m101.5-1.5h0m-50-3h0m-10-1.5h0m-10 4h0m15-3.5h0m57 0.5h0m-92.5 4.5h0m32.5-0.5h0m2-4h0m-16.5 4.5h0m40.5-2h0m-5 0h0m-18-7.5h0m3.5 3.5h0m8.5-2h0m-6 7.5h0m-3.5-5.5h0m42.5 5h0m-38.5-1h0m1 1.5h0m4-3.5h0m33 1.5h0m-31.5-4h0m17.5 2h0m-17 6h0m-5-7.5h0m1.5 7.5h0m-23.5-0.5h0m44-6.5h0m-42.5 7h0m53-4.5h0m-20.5 0h0m25.5-1.5h0m-27 3.5h0m14 2h0m-7.5-0.5h0m-9-6.5h0m-5 1.5h0m39 1h0m-24.5 1h0m7.5-2h0m-50 2h0m41.5 3h0m20-5h0m-31 4.5h0m-5.5-0.5h0m-3.5-6h0m-5.5 0h0m21 8h0m7-7.5h0m-71 7h0m36-1.5h0m51-4h0m-51-1h0m9.5 2h0m30.5-3h0m-13 4.5h0m-30-5h0m1.5 3h0m36.5 1.5h0m-34.5 0.5h0m29 0h0m-27-4h0m31.5 1.5h0m9 2.5h0m-1-2.5h0m-5.5 1.5h0m-1.5 1h0m-19-6.5h0m11 5.5h0m-40-3h0m0.5 8h0m27.5-5h0m29-1h0m-30 3h0m17-1h0m-21-4.5h0m12 1.5h0m-43.5 1.5h0m-19.5 3.5h0m66-3.5h0m-25.5-1h0m39 2.5h0m-16.5-0.5h0m-3 1h0m-3.5-5.5h0m-21.5 3h0m7 0h0m44.5 3.5h0m-43.5-4h0m13.5-2h0m29 4.5h0m-13 2h0m-64.5 3h0m62-4.5h0m8-1h0m-65.5 3.5h0m64-5h0m-6-1h0m-8.5-1h0m-24.5-0.5h0m17 7.5h0m-11.5-2h0m13.5-4.5h0m-13.5-1h0m8.5 1.5h0m30.5-0.5h0m-22 0h0m-35.5 4.5h0m49.5-7h0m-8 10h0m-33.5-4h0m11-0.5h0m2-4.5h0m-1.5 3.5h0m-8-0.5h0m24-2h0m-10-2.5h0m38 3.5h0m-15-0.5h0m30 1h0m-32 3h0m-37.5-6h0m60 6h0m-22-1h0m-21.5-0.5h0m20-1.5h0m-31 0.5h0m32.5 2.5h0m-40.5-1.5h0m56 4h0m-57.5 1.5h0m-17-3.5h0m32-5.5h0m37.5 5h0m-12.5-0.5h0m-10.5 1h0m28.5-2.5h0m-61 3h0m-34.5 3.5h0m72.5-5.5h0m-16 2h0m22.5-2.5h0m-35.5 0.5h0m32.5-1.5h0m4-2h0m21 2h0m-15-3h0m-33.5 2.5h0m12 1.5h0m13.5-4h0m-27.5 9h0m36.5-6h0m-70.5-1h0m46.5 1h0m-15 1h0m17.5 0.5h0m-16-1.5h0m9.5 3.5h0m35-2.5h0m-26.5 1h0m16.5-3h0m-0.5 3h0m-26-4h0m19.5 6h0m-58.5 1h0m51-6h0m-7 0.5h0m-21.5-1.5h0m21.5 6h0m-5.5-1.5h0m21-6h0m-6 6.5h0m22.5 1h0m-41.5 0.5h0m-31 1.5h0m74.5-5h0m-26.5-1.5h0m-22 0.5h0m17.5 0h0m-30.5 2h0m42.5 3h0m-27-2h0m16.5-1h0m-47.5 3h0m51-4h0m-4.5 3.5h0m0-7h0m-5 8h0m-43.5 1.5h0m14-3h0m26.5-4h0m5.5-1.5h0m21.5 4h0m6-3.5h0m-21 1.5h0m-5.5-1h0m34.5 0h0m-46.5-0.5h0m28 0.5h0m2.5 6h0m-17.5-2.5h0m-8.5-3.5h0m31.5 0.5h0m-15.5 3.5h0m15.5-1.5h0m-14-4.5h0m10.5 2.5h0m-22 1h0m2 0.5h0m39-3h0m-34 4.5h0m-28.5 1.5h0m44.5-5h0m-5.5-1h0m-13.5-0.5h0m31 3.5h0m-44-2.5h0m-20.5 5.5h0m47-3.5h0m-50.5 4h0m42-6h0m6.5 4.5h0m-18-0.5h0m-24.5 1.5h0m16-5.5h0m6.5 2h0m6.5-2h0m-2.5-1.5h0m19.5 5h0m-21.5-2h0m13 2h0m48-1.5h0m-54.5-0.5h0m17.5 2.5h0m-3 0.5h0m-39-4h0m30 2.5h0m-32.5-4h0m17.5 5h0m26-5.5h0m7 1h0m-33-1h0m3 2.5h0m-10 1.5h0m10.5 3h0m34-3h0m6.5 0.5h0m-43-4h0m-6.5 4.5h0m-16.5 1h0m79.5 0.5h0m-37-6h0m-21.5 3h0m43 1h0m-14 2h0m-35.5-6h0m-26 7.5h0m49.5-8h0m-73.5 6.5h0m39.5-3.5h0m-38-1h0m79 6h0m-17-2h0m58-0.5h0m-68 2h0m-1.5-1.5h0m14.5-5.5h0m-49.5 5.5h0m21.5 0.5h0m33-2h0m12 4h0m16.5-8h0m-51.5 8h0m16.5-3.5h0m-0.5 1.5h0m24.5 0.5h0m4.5-6.5h0m-5.5 2h0m-1 1h0m-23.5 4h0m-2.5-6h0m4 0.5h0m-5 1.5h0m17-3h0m-22.5 4h0m9-1h0m2.5-1h0m-4.5 2.5h0m-19 4h0m-3.5-2h0m-29-2.5h0m10.5 6.5h0m34.5-11h0m33.5 1h0m-35-0.5h0m40 4.5h0m6-2h0m-18.5-1h0m-28.5-1.5h0m7 4.5h0m-1.5-0.5h0m7 5h0m9-7h0m-25.5 4h0m-10-4.5h0m66.5-1h0m-44.5 0.5h0m9.5 3.5h0m5-5.5h0m-17 2.5h0m13-2h0m-22.5 0.5h0m4.5 5.5h0m47-1h0m-36-6h0m3 4.5h0m-3 1.5h0m15 2h0m-38-7h0m18.5 3h0m-17.5-1.5h0m7.5 1.5h0m35.5-2.5h0m-68.5 4.5h0m47.5-4h0m-35.5 6.5h0m63.5-5h0m-26-4h0m-26 9h0m49.5-2h0m-26.5 1h0m-28.5-1h0m40-3h0m-16 4h0m24-4h0m-27.5 1.5h0m19 1.5h0m-13 0.5h0m28.5 0.5h0m-22 0.5h0m-27.5 1.5h0m64-5h0m-22.5-1h0m5 0.5h0m-18 0.5h0m19 3.5h0m-0.5-4h0m13.5-1h0m-29.5 1.5h0m-17-4h0m-30.5 3.5h0m54.5-0.5h0m-31.5-0.5h0m36-1h0m-49.5 0h0m22.5-0.5h0m8 6.5h0m46.5-0.5h0m-55 0h0m43.5-4.5h0m13.5 0h0m-45.5-0.5h0m-9.5 2.5h0m-0.5 0h0m8-1h0m-1.5-2.5h0m-8.5 9h0m34.5-4h0m-34 1.5h0m42-3h0m-35.5-1h0m7 1.5h0m3.5 0.5h0m21.5-3.5h0m-49-0.5h0m-1 6.5h0m15.5-6h0m9 4.5h0m8.5-3.5h0m7.5 3h0m-9-3.5h0m14.5 1h0m-16 4h0m13-6.5h0m-91 7.5h0m95.5-5.5h0m-34 5h0m-10.5-6.5h0m36.5 4.5h0m-40 1h0m17 1.5h0m16-6h0m-10.5-1h0m-61 1.5h0m33.5 5.5h0m13-4h0m12.5 0h0m-25-3h0m44-0.5h0m-9 2.5h0m-2-1h0m-23 2.5h0m6.5 1.5h0m29.5-2.5h0m-28.5-2h0m1 7h0m-17.5-3.5h0m41.5-5h0m14.5 5.5h0m-47.5-6h0m55 5h0m-23-1h0m-34 3.5h0m60 0h0m-18-4h0m-18 3.5h0m2-4.5h0m12 5h0m0.5-6.5h0m-36.5 4h0m20.5-5.5h0m-41 7.5h0m43 1.5h0m28-2h0m-9.5-2h0m-32 0.5h0m20-1.5h0m-10.5 1h0m-40.5-3h0m65 3.5h0m-25.5-4.5h0m-25 7.5h0m14.5-5.5h0m-2.5-1h0m-6-1.5h0m33 7h0m-27-2.5h0m21.5 1h0m-18.5-0.5h0m-17.5-2h0m8.5 5h0m-17.5 2h0m48-4h0m6-0.5h0m-48.5-4h0m17.5-0.5h0m33 6.5h0m-36.5-7.5h0m5.5 5.5h0m36.5-4.5h0m-36 2h0m15 0h0m-20-2h0m42.5 4.5h0m-4-0.5h0m-34-5.5h0m47 4.5h0m-42-1.5h0m29.5-0.5h0m5 1h0m-61.5 0.5h0m79.5 0.5h0m-57.5-3.5h0m-73.5 7.5h0m105-4.5h0m-30.5 1.5h0m32.5-1.5h0m5 2.5h0m4.5-3h0m-28 2.5h0m-18.5-4h0m-13 5.5h0m9.5-5.5h0m44 4.5h0m-48.5-1h0m14-5h0m28.5 3.5h0m-52 2h0m12.5-4h0m53.5 2.5h0m-37 4h0m-9.5 0h0m21.5-1.5h0m-11.5-2h0m18-3.5h0m-28-1.5h0m-5.5 6h0m36-0.5h0m4.5 0.5h0m-22-1.5h0m-27.5-0.5h0m54.5-0.5h0m-11-0.5h0m-32 0h0m39 4.5h0m-20-1h0m15.5-6.5h0m9.5 4h0m-40.5 0.5h0m35 0h0m-91.5 5h0m107-6h0m-46 4.5h0m20 2h0m9-3.5h0m0-3.5h0m-62.5 2h0m45.5-4.5h0m-3.5 8h0m-35-1h0m54-5.5h0m-19 4h0m-14 3h0m27.5-4.5h0m-32.5-0.5h0m1 1h0m39 0h0m-13.5-2h0m1 7h0m-3-8.5h0m13 2.5h0m-28.5 3h0m14-6h0m23 4h0m-19.5-3h0m-3.5 1.5h0m0.5 2.5h0m-20.5-5.5h0m16 0h0m-10.5 0h0m6-1h0m27.5 9h0m-40-4h0m39-3h0m-26 4.5h0m-1-4.5h0m0 2h0m12.5-2h0m-32 0h0m31 5.5h0m21.5-4h0m-56 3.5h0m51.5-2h0m3-0.5h0m-57 0.5h0m35.5 2.5h0m-9-2h0m-10.5-2h0m29 0.5h0m28.5 3h0m-67-5.5h0m44 1.5h0m-20.5 3h0m-2.5-2.5h0m11.5-0.5h0m7.5 4.5h0m23.5-0.5h0m-75 1h0m38.5-5.5h0m3 0h0m-4.5 1h0m-9 3.5h0m20.5-4h0m-39.5 6.5h0m57-5.5h0m-4-0.5h0m-15.5-2h0m12.5 7h0m-23.5-4h0m10.5 0h0m-1 1.5h0m-9.5 1h0m38-2.5h0m-24 1h0m-44-3h0m14 4h0m-12.5 2h0m38.5-1h0m-29-6.5h0m12.5 1.5h0m-30.5 7h0m-13 1h0m27-3.5h0m6.5-4.5h0m56.5 0h0m-38.5-0.5h0m3 1.5h0m-26.5-1.5h0m31 4.5h0m-46.5 5h0m15-2h0m-9.5-4h0m20 3.5h0m67.5-1.5h0m-60.5-2.5h0m38-2.5h0m-43 0h0m7.5 7h0m-19-7.5h0m8.5-1.5h0m12 2h0m-18 4.5h0m30.5-2h0m-18 4h0m28-6.5h0m3 3.5h0m1-1.5h0m-5.5 0h0m15 0h0m-46-3.5h0m11.5 8h0m35.5-2h0m-4.5-0.5h0m-46 1.5h0m10-6h0m-48.5 4h0m72.5 1.5h0m21-1h0m-8-2.5h0m-27.5-4.5h0m-4 6h0m-8 0h0m-16 5h0m26-9.5h0m-28.5 7.5h0m13.5-4h0m-58 2h0m82.5-1h0m-23-1h0m8-3h0m-5.5 4h0m23.5-3.5h0m-43.5 4h0m-18 4.5h0m52-9h0m16 4h0m-8 2h0m-20.5-2.5h0m24-2h0m-40.5 3h0m-22 3.5h0m65-2h0m-9.5-4.5h0m13.5 4h0m-1-3h0m26.5 1h0m-97.5 3.5h0m64-4h0m-34.5-3.5h0m24 0.5h0m31.5 0.5h0m-78 5h0m12.5-3.5h0m-38.5 6.5h0m85-2.5h0m9.5-4h0m-18 2h0m38-1h0m-44.5 3.5h0m23 0h0m-61-0.5h0m62-3h0m-44-1.5h0m42.5 4.5h0m21-1.5h0m-79.5-2.5h0m45.5-2.5h0m-32 3.5h0m10.5-1.5h0m-19.5 3.5h0m49.5 1.5h0m-12-5.5h0m25.5 2.5h0m-25-3h0m-16-1h0m-21.5 9h0m27-9h0m-42 8h0m20 0.5h0m30.5-8.5h0m-16 4.5h0m6 1h0m-20.5-4.5h0m29.5 3h0m-48.5 3h0m44-7.5h0m-16.5 8h0m5.5-1h0m-33 1.5h0m33-4h0m-26.5-1h0m11.5 6.5h0m21-5h0m-17.5-3.5h0m-9.5 1h0m34 0h0m-30 5.5h0m33-1.5h0m-29 2h0m40-1h0m7.5-4h0m-30-3.5h0m-1 4.5h0m28.5 2.5h0m15.5 0h0m-57-1h0m-3.5-5.5h0m12.5 1.5h0m10-1.5h0m-22.5 6.5h0m5.5 1h0m-5-7h0m39 1h0m-33 2h0m43.5 3.5h0m-27.5 0.5h0m16.5-4.5h0m-22 3h0m38 1h0m-20.5-6h0m-42 7.5h0m42-5h0m-4.5 1h0m10.5 0h0m-8-3.5h0m-34.5 0.5h0m0 6h0m59.5-6h0m-23 0h0m11.5 3h0m-11-1.5h0m10.5 2h0m-12.5-2h0m13 4h0m4.5-4h0m-47-3.5h0m26 7.5h0m24-4.5h0m-37 4h0m-9.5-5.5h0m49.5 6h0m-62 2h0m73.5-5h0m-51.5 1.5h0m-6 1.5h0m10.5-4h0m-16.5 3h0m20.5-6.5h0m-7 2h0m-40 4h0m56-1.5h0m-20 2.5h0m45.5 1.5h0m-90.5-1.5h0m54.5-6h0m-5.5 1.5h0m-23.5 3.5h0m52-2.5h0m-7.5-2.5h0m10 4.5h0m-31-1h0m54.5 1h0m-28-1h0m-15.5 1.5h0m17-6h0m-50.5 6.5h0m64.5-1.5h0m-58.5 1h0m46.5-1h0m-25.5 1h0m-46.5 2.5h0m40-6.5h0m-15 6h0m49-4.5h0m-56.5-2h0m54 3h0m-40 5.5h0m8-7h0m39 3.5h0m2 0.5h0m-19-1.5h0m-7 1.5h0m22-0.5h0m-10-1h0m-22 1.5h0m6 1.5h0m16-1.5h0m-32-5.5h0m3.5 5h0m-13 2h0m66.5-5.5h0m-49 6.5h0m-34.5-0.5h0m7-2.5h0m10-3h0m1 0h0m33-3h0m-30 7h0m13.5-1h0m-1.5-3.5h0m49 3h0m-45.5 2.5h0m21.5-6.5h0m7 5h0m-20.5-6.5h0m18 2.5h0m-3.5 3h0m-61.5-2.5h0m27.5 0.5h0m38 0h0m-11.5 2.5h0m-25.5 0h0m61-1h0m-84 2.5h0m35-2.5h0m1.5 0.5h0m-7.5 2h0m-18-4h0m35.5-1.5h0m4.5 4h0"/></g><circle cx="145.8" cy="1022.1" r="2.25" fill="none" stroke="#000" stroke-width="1.35"/><circle cx="78.7" cy="1009.4" r="2.25" fill="none" stroke="#000" stroke-width="1.35"/><circle cx="54.7" cy="999.5" r="2.25" fill="none" stroke="#000" stroke-width="1.35"/><circle cx="48.6" cy="991.1" r="2.25" fill="none" stroke="#000" stroke-width="1.35"/><circle cx="45.2" cy="979.6" r="2.25" fill="none" stroke="#000" stroke-width="1.35"/><circle cx="42.3" cy="961.3" r="2.25" fill="none" stroke="#000" stroke-width="1.35"/><text x="29.5" y="1059.5" text-anchor="middle">0</text><text x="59.9" y="1059.5" text-anchor="middle">20</text><text x="90.3" y="1059.5" text-anchor="middle">40</text><text x="120.7" y="1059.5" text-anchor="middle">60</text><text x="151.1" y="1059.5" text-anchor="middle">80</text><text x="181.5" y="1059.5" text-anchor="middle">100</text><text x="26.5" y="1050.9" text-anchor="end">-10</text><text x="26.5" y="1026.1" text-anchor="end">0</text><text x="26.5" y="1001.2" text-anchor="end">10</text><text x="26.5" y="976.4" text-anchor="end">20</text><text x="26.5" y="951.5" text-anchor="end">30</text><text x="26.5" y="926.7" text-anchor="end">40</text></g><text x="117.7" y="1070.5" text-anchor="middle" style='font-family:"Liberation Serif",serif;font-weight:bold;font-size:9.9px;letter-spacing:-0.3px'>V2</text><text transform="translate(10.8 985.6) rotate(-90)" text-anchor="middle" style='font-family:"Liberation Serif",serif;font-weight:bold;font-size:9.9px'>V3</text><text x="117.7" y="921.0" text-anchor="middle" style='font-family:"Liberation Serif",serif;font-weight:bold;font-size:9.6px;letter-spacing:-0.3px'>K-Means</text><g style='font-family:"Liberation Serif",serif;font-weight:bold;font-size:8.1px'><rect x="153.8" y="926.2" width="46.7" height="64.5" fill="#fff" stroke="#5a5a5a" stroke-width="0.9"/><circle cx="167.0" cy="932.2" r="0.7" fill="#ff0000"/><text x="179.0" y="934.9">1</text><circle cx="167.0" cy="941.1" r="0.7" fill="#ffff00"/><text x="179.0" y="943.8">2</text><circle cx="167.0" cy="950.0" r="0.7" fill="#00ff00"/><text x="179.0" y="952.7">3</text><circle cx="167.0" cy="958.9" r="0.7" fill="#00ffff"/><text x="179.0" y="961.6">4</text><circle cx="167.0" cy="967.7" r="0.7" fill="#0000ff"/><text x="179.0" y="970.4">5</text><circle cx="167.0" cy="976.6" r="0.7" fill="#ff00ff"/><text x="179.0" y="979.3">6</text><circle cx="167.0" cy="985.5" r="2.1" fill="none" stroke="#000" stroke-width="1.3"/><text x="179.0" y="988.2" style="letter-spacing:-0.2px">data1</text></g><g style='font-family:"Liberation Serif",serif;font-weight:bold;font-size:8.6px'><path d="M262.6 1047.7v-2M262.6 923.5v2M293.2 1047.7v-2M293.2 923.5v2M323.7 1047.7v-2M323.7 923.5v2M354.3 1047.7v-2M354.3 923.5v2M384.9 1047.7v-2M384.9 923.5v2M415.4 1047.7v-2M415.4 923.5v2M262.6 1047.7h2M439.9 1047.7h-2M262.6 1026.8h2M439.9 1026.8h-2M262.6 1006.0h2M439.9 1006.0h-2M262.6 985.1h2M439.9 985.1h-2M262.6 964.2h2M439.9 964.2h-2M262.6 943.3h2M439.9 943.3h-2" stroke="#7f7f7f" stroke-width="0.8" fill="none"/><rect x="262.6" y="923.5" width="177.3" height="124.2" fill="none" stroke="#7f7f7f" stroke-width="1"/><g fill="none" stroke-linecap="round" stroke-width="1.4"><path stroke="#ff0000" d="M289.5 1041h0m0 1h0m0.5-0.5h0m-2-0.5h0m2 2h0m-0.5-2.5h0m0.5 1.5h0m-1.5 0h0m-1-1h0m2.5-0.5h0m-1 0.5h0m5.5 2.5h0m5.5 1.5h0m-1.5-4.5h0m-3.5 2h0m0.5 0h0m5 1.5h0m-9.5-3h0m4.5 2h0m4.5 0.5h0m0-0.5h0m-9-0.5h0m6.5-1h0m-4.5 1.5h0m6.5 0.5h0m0-2h0m-6.5 0h0m7.5-0.5h0m-2 3h0m-1 0.5h0m2.5-3h0m0.5 3h0m-2.5-0.5h0m-4-1h0m4-0.5h0m3 2h0m-5-2h0m4.5 1h0m-7.5-1h0m8 1h0m-1 0.5h0m-6.5-0.5h0m-1.5-1.5h0m4.5-1h0m1 3h0m0.5-0.5h0m-7-2h0m4.5 2h0m-5-2.5h0m6.5 2h0m-0.5-1.5h0m-6-1h0m9 3.5h0m-8-2.5h0m0.5 2.5h0m4-2.5h0m2 3h0m0-1.5h0m-0.5 0.5h0m-5.5-1h0m3-0.5h0m0.5 0h0m1 0.5h0m4 0.5h0m-3 0h0m-3-0.5h0m3.5-0.5h0m-3.5 0h0m-0.5 0.5h0m-1-0.5h0m-1.5 0.5h0m3.5 0.5h0m4 0h0m0 0.5h0m-5 1h0m0-0.5h0m2 1h0m-1-1h0m2 0h0m1.5-0.5h0m-1-1h0m1 0.5h0m0.5 1.5h0m-2-3h0m-3.5 1h0m3.5 1h0m0-2.5h0m-2 0h0m3 0h0m1.5 1h0m-9-0.5h0m5.5-0.5h0m1 1h0m0.5-1.5h0m-3.5 1.5h0m1.5-1h0m-3 1.5h0m7 0h0m-3 2h0m-5-2.5h0m1.5 1.5h0m3.5 1.5h0m2.5-2.5h0m-4.5 2h0m3-2.5h0m-5-1h0m-0.5 0.5h0m2.5 0h0m0.5-1h0m4 1.5h0m-7-1h0m3.5 0.5h0m-1-0.5h0m-2-0.5h0m-1.5 1.5h0m2.5 0h0m0 2h0m0-3.5h0m6.5 4h0m-8.5-0.5h0m8.5-1.5h0m-4 1h0m4-1.5h0m-2-0.5h0m-5 3h0m5.5-2.5h0m-2.5 2.5h0m4.5-3h0m1.5 2.5h0m6.5 1.5h0m-4-4.5h0m-2 2h0m1.5 2h0m0.5-1.5h0m11 1.5h0m-3.5-1.5h0m2 1h0m-2.5 0.5h0m-6-1h0m1.5 0.5h0m0.5-1h0m-2 1.5h0m2-1h0m5 1h0m-10.5-1.5h0m3 0.5h0m3 0h0m3 0h0m-0.5 0h0m1.5 1h0m-9.5-1h0m1-2h0m9 2.5h0m3.5 1h0m-4.5 0h0m-10-2h0m11.5 0.5h0m2 2h0m-5-0.5h0m-4-1h0m0-2.5h0m4.5 2.5h0m-4.5-0.5h0m-2.5-1.5h0m-2.5 0h0m2 0.5h0m11 3h0m2-2.5h0m-14 1h0m4.5 0h0m4.5 0h0m-3.5 1h0m8 0h0m-7.5-3.5h0m4 3.5h0m-3-1.5h0m-4.5 0h0m-1 0.5h0m0.5-2h0m3 1h0m-0.5-0.5h0m7 2h0m-12.5-2h0m12 2h0m-4 0h0m-4-0.5h0m-1-1h0m10 0.5h0m-0.5 0.5h0m-8-1.5h0m-4.5 1h0m13.5 1h0m-9-0.5h0m5.5-1h0m3 1.5h0m-1-0.5h0m1-1h0m-5.5 0.5h0m5 0h0m-5.5 1h0m-3-1.5h0m1 1.5h0m-3-0.5h0m0.5 1h0m3 0h0m1.5-1h0m7.5 2h0m-0.5-2h0m0.5-0.5h0m-13.5-3h0m3.5 4.5h0m0.5-2.5h0m-5-2h0m3.5 2h0m10 1.5h0m-5 0h0m4.5 1h0m-5.5 0.5h0m-5-2.5h0m0.5 1h0m2.5 0.5h0m-0.5-1.5h0m-4.5-3h0m6 0.5h0m-1 2.5h0m0 0.5h0m4-0.5h0m-6.5-0.5h0m7.5-0.5h0m0 2h0m-9-3.5h0m4.5 3h0m4 1h0m-8-3h0m7.5 3h0m-9-3.5h0m3.5 1.5h0m-1.5 1h0m5.5 0.5h0m0-1.5h0m6.5 1.5h0m-6-1h0m-2-1h0m1 2h0m-1 0h0m-6.5-3h0m14.5 4.5h0m-10-4h0m3.5-1.5h0m-7.5 4h0m13.5 0.5h0m-8.5-4h0m6.5 5h0m-0.5-0.5h0m-8-1h0m0.5-3.5h0m0 1.5h0m11 2h0m-11.5 1h0m-3-2.5h0m9-0.5h0m3 3.5h0m-9.5-2h0m6 2h0m-6.5-1h0m1 0h0m8.5-1.5h0m-10.5 1h0m7.5 0h0m-3-2.5h0m3 2h0m3.5 1.5h0m-11.5-4h0m6.5 1.5h0m-6.5-0.5h0m9 3h0m-6.5-3h0m5 1.5h0m-4-1.5h0m9.5 3h0m-13.5-0.5h0m4.5-4h0m9 5.5h0m-10.5-4.5h0m10 4h0m-9.5-4.5h0m8 4h0m2.5-2h0m5.5 2.5h0m-3-0.5h0m8 0.5h0m6.5 0h0m1.5 0h0m-17.5-2h0m21 3h0m-15.5-2h0m1 1h0m12 0h0m1.5 0.5h0m-3.5-1h0m-9.5 0.5h0m3 0h0m8.5 0.5h0m-10.5-1.5h0m10 1h0m-7.5-1h0m9.5 0.5h0m-11.5-1h0m8.5 1h0m-2.5 1h0m-2.5-0.5h0m1.5 0.5h0m-1.5-1.5h0m-10 1h0m20.5 0.5h0m-0.5 0.5h0m-21.5-2h0m20.5 1h0m-18.5-0.5h0m7 0h0m2.5 0h0m-11.5 0.5h0m15 0h0m5 0h0m-14.5-0.5h0m11.5 1h0m2-0.5h0m-12-1h0m1.5 0.5h0m-1.5 0.5h0m-8-1h0m5.5 0.5h0m2 1h0m10 0.5h0m-4.5-1h0m-6.5 0h0m7.5-0.5h0m-1 0h0m7.5 0.5h0m-8.5-0.5h0m-10 0.5h0m20 0.5h0m-10.5-1h0m6-0.5h0m1.5 0.5h0m-4.5 1h0m6.5 0h0m-9 0h0m5 0h0m-2-0.5h0m-6-0.5h0m-7.5-0.5h0m16 1.5h0m0-0.5h0m-10.5-0.5h0m4 0.5h0m-10-1.5h0m10.5 2h0m8 0h0m-13-1.5h0m-1 1h0m1.5 0.5h0m-1-0.5h0m11 0h0m-8 0.5h0m2 0h0m-7-1.5h0m9.5 1h0m-2 0h0m-8-0.5h0m13.5 1.5h0m-13.5-2.5h0m15 2h0m1.5 0.5h0m-11.5-1.5h0m2 0h0m-6.5 0.5h0m1.5 0.5h0m-1.5-1h0m-2.5 0.5h0m14.5 0.5h0m6.5-0.5h0m-4-0.5h0m-7-0.5h0m-4 0.5h0m-1.5-1h0m16 1.5h0m-21.5 0h0m6.5-1h0m6.5 0.5h0m2.5 0h0m-11-0.5h0m14.5 0.5h0m-18 0h0m20 1h0m-17-1.5h0m-3.5 0.5h0m8 0.5h0m4.5 0.5h0m1 0.5h0m1-1h0m-12-1h0m10.5 1h0m-8-0.5h0m-3-0.5h0m-2.5 0h0m11.5 0h0m-2.5 1.5h0m8.5-1h0m-5 1h0m-7.5-1.5h0m-5.5-1h0m0.5 0.5h0m1 0h0m14 2.5h0m-8-2h0m12.5 0.5h0m-15-1h0m-2.5 0.5h0m-0.5-0.5h0m13.5 2h0m-1.5-1.5h0m-9.5 0.5h0m-1.5-1.5h0m-0.5 0h0m6 2h0m8 0.5h0m-1.5 0.5h0m-0.5-1h0m5.5 0.5h0m-9-1h0m8.5 0.5h0m-7.5 0h0m-4-0.5h0m14.5 1h0m-3-1.5h0m-6 0h0m-11.5 0h0m0.5 0.5h0m1 0.5h0m4.5-1.5h0m15 1.5h0m-1 1h0m-14-0.5h0m-5.5 0.5h0m12-2h0m6.5 2h0m-14.5-0.5h0m1-2h0m3.5 2.5h0m-6-1.5h0m11.5 0h0m0.5 2h0m12-0.5h0m6.5 0h0m-10.5-0.5h0m15 0.5h0m-9-1h0m10.5 1h0m-16.5-1h0m9.5 0.5h0m-9 0h0m15.5 0.5h0m-5 0h0m-7.5-0.5h0m16.5 0h0m-6.5 0h0m-8 0.5h0m12-0.5h0m-11 0.5h0m13 0.5h0m-14.5-1h0m15.5 0.5h0m-21-0.5h0m15.5 0h0m-10.5 0.5h0m3-0.5h0m5-0.5h0m-13.5 0h0m4 0h0m2.5 0.5h0m14 0h0m-6.5 0h0m1 0h0m3 0.5h0m-13-0.5h0m-4 0.5h0m8.5-0.5h0m-6.5-0.5h0m-3.5 0.5h0m20.5 0.5h0m-6.5-0.5h0m-11.5 0.5h0m14.5 0h0m-5.5-0.5h0m-8 0h0m18 0.5h0m-0.5 0h0m-6.5-1h0m-11.5 1h0m10.5-0.5h0m-12.5 0.5h0m15-0.5h0m-8.5 0.5h0m8-1h0m-2 0h0m5.5 1h0m1 0h0m-14.5-1h0m3 1h0m11 0.5h0m-19.5-0.5h0m3.5 0h0m1-0.5h0m12.5 0h0m-7 0.5h0m-7.5-0.5h0m19.5 0h0m-4.5 0h0m-16.5-0.5h0m14.5 1h0m0.5 0h0m-1-1h0m-11 0h0m5.5 0.5h0m13 0h0m-16.5-0.5h0m-6 0h0m3 0.5h0m10 0h0m8-0.5h0m-10.5 1h0m-6.5 0h0m9 0h0m6.5 0h0m0.5-0.5h0m-11.5 0h0m-2.5 0h0m2 0h0m0.5-0.5h0m1.5 0h0m1.5 1h0m-9.5-1h0m10.5 0.5h0m-0.5 0h0m6.5 0h0m-3.5 0.5h0m-12-1h0m7.5 0.5h0m-1.5 0.5h0m11.5-0.5h0m-2.5 0h0m-17.5 0h0m17 1h0m-13.5-1h0m16.5 1h0m-7-0.5h0m-3-1h0m-6-1h0m5 1h0m1.5 1h0m3 0h0m0.5 0h0m4.5-1h0m-6 0h0m4 0h0m-17 1.5h0m19.5-1h0m-7.5-0.5h0m-8-0.5h0m18.5 1.5h0m-11-1h0m-11 1h0m17.5-1h0m-13 1h0m-5-1.5h0m4.5 1.5h0m2.5-1h0m3-0.5h0m-7.5 0.5h0m17.5 1.5h0m-12.5-1h0m-6.5-1h0m5.5 0.5h0m-4.5 1h0m13 0.5h0m1.5-1.5h0m-7 1h0m5-1.5h0m1.5 0.5h0m7.5 0.5h0m12 1h0m-1-0.5h0m3.5 0h0m-9.5-0.5h0m2 0.5h0m-1-0.5h0m7 0h0m-8.5 0.5h0m-1-0.5h0m-1-0.5h0m-1 1h0m11.5 0h0m2.5 0h0m-15 0h0m14-0.5h0m-4 0.5h0m-6.5-0.5h0m-1.5 0h0m0.5 0h0m-3.5 0.5h0m14 0h0m-5 0h0m-5.5-1h0m-0.5 1h0m7.5 0h0m-0.5-0.5h0m-5 0h0m2 0.5h0m1.5 0h0m0.5-0.5h0m-1.5 0h0m-5 0.5h0m2.5-1h0m1 1.5h0m6-0.5h0m-1.5-0.5h0m-6 0.5h0m-4 0h0m3 0h0m6 0h0m3.5-0.5h0m-13 0h0m13 0.5h0m2.5 0h0m-3 0h0m-11.5-0.5h0m7 0.5h0m-2 0h0m0.5 0.5h0m-2.5 0h0m-0.5 0h0m8-1h0m3 1h0m-8.5-1h0m4 0.5h0m-8.5 0h0m7-0.5h0m7.5-0.5h0m0.5 1h0m-12.5 0h0m5 0.5h0m6.5 0h0m0.5-1h0m-15-0.5h0m8.5 0.5h0m-6.5 1h0m7 0h0m-10 0h0m0.5-1.5h0m5 1h0m-3-1h0m8.5 0.5h0m-4 0h0m7.5 0.5h0m-6-1h0m-2 1h0m-1-1h0m7 0.5h0m-5.5 1h0m-5-1h0m4.5-0.5h0m1.5 0.5h0m5.5-0.5h0m1 0.5h0m-3.5 1h0m-9.5-1h0m-3 1h0m-10 0h0m10.5-1.5h0m3 1.5h0m-23.5 0h0m11 0h0m5-1.5h0m-20.5 1h0m21.5 0.5h0m16.5 0h0m-48-0.5h0m45-1h0"/><path stroke="#ffff00" d="M275 995.5h0m0 0.5h0m-1-1h0m1.5 12h0m-0.5-6h0m0.5-4.5h0m-1-1.5h0m0 4h0m0.5 1.5h0m0 3h0m0-3.5h0m0.5-5.5h0m0 2.5h0m0 4.5h0m0-8h0m-1-0.5h0m1 5h0m2.5 2h0m-1 7.5h0m-0.5-1h0m1 4.5h0m-1-9.5h0m0.5-3h0m0 10h0m-0.5-8.5h0m0.5 1h0m0.5 0h0m-1.5 3.5h0m1.5-5.5h0m0 18.5h0m-1-11.5h0m0.5-6h0m0.5 9.5h0m-0.5-15.5h0m0.5 9h0m-1.5 2.5h0m0.5-4.5h0m0 8.5h0m1.5-1.5h0m-1.5-5.5h0m-0.5 5h0m2 10h0m0-5.5h0m-1-5.5h0m0.5-5h0m0 7h0m-0.5-9.5h0m-0.5-5h0m1 8.5h0m-1-2h0m1 16.5h0m-2-14.5h0m1.5-9h0m1 19h0m-0.5 0.5h0m-0.5-11h0m0 1h0m0 11.5h0m1-9.5h0m-1.5 0.5h0m-0.5-0.5h0m1.5 8.5h0m-1.5-16h0m0.5 14h0m0.5-13.5h0m-0.5 5.5h0m1.5 7.5h0m-1.5-15h0m0.5 7.5h0m0-3h0m-1-3.5h0m1.5 3.5h0m0 15h0m0-6.5h0m-1.5-9.5h0m1.5 12h0m0-5h0m-0.5-13.5h0m-1.5 6.5h0m0.5-1.5h0m1-2.5h0m0 9h0m-0.5 0h0m1-5h0m-0.5 9.5h0m-1-6h0m1-1.5h0m-1.5 2h0m2 2.5h0m0.5-7h0m-0.5-5.5h0m-1 13.5h0m-0.5 2.5h0m1.5 0.5h0m0 4h0m0-8.5h0m0 9h0m0-7h0m-1.5-8.5h0m1 9h0m0 3.5h0m-1-16h0m1.5 17h0m-1.5-12h0m1 3.5h0m-1-10.5h0m2 7.5h0m-1.5-8h0m-0.5 14h0m0.5 6h0m-0.5-12h0m0.5-4h0m0.5 17h0m-1-7.5h0m0.5-8.5h0m1 9h0m-1.5-3h0m0-7.5h0m0.5-1h0m0.5 19.5h0m0.5 1h0m-0.5-6h0m-0.5 0.5h0m0.5 0.5h0m0.5-6.5h0m0.5-9h0m-1 17.5h0m0.5-8h0m-1-1h0m-1-6.5h0m2 10.5h0m-1 0h0m0.5-2.5h0m0 7h0m1 1h0m-2-11.5h0m0-3.5h0m0 10.5h0m0-5.5h0m0.5 5.5h0m0 2h0m1.5-9.5h0m-0.5 9h0m0 1.5h0m-2-9h0m0.5-8h0m3 20h0m0.5-1.5h0m-1-13.5h0m0 12.5h0m0 5h0m3.5 0h0m-3-16.5h0m0 12h0m1-13h0m-0.5 14h0m1 2.5h0m-2.5-1h0m2-2.5h0m1 0.5h0m0.5-2.5h0m-2 6h0m-1-0.5h0m2-17.5h0m-1 2.5h0m-1-0.5h0m1.5 0h0m-1.5 11h0m2-3h0m0.5-16h0m0 20h0m1 0h0m-2-6.5h0m1.5-2.5h0m-2 13.5h0m1-21h0m1 17h0m-3.5 0.5h0m2-19.5h0m0.5 18.5h0m0.5 1h0m-2.5-11h0m3.5 3.5h0m-4 0h0m3 5.5h0m-3-1.5h0m1 7.5h0m0-12.5h0m1 0h0m1 2h0m-1-8h0m1-0.5h0m-1.5 9h0m1 9.5h0m-1-3h0m0 2h0m0.5-7.5h0m-0.5-9.5h0m1.5 9h0m-0.5-13h0m-0.5 21.5h0m-1.5-4h0m0.5-12.5h0m0 16.5h0m1-14.5h0m-0.5 3h0m1 5.5h0m-1-5h0m-0.5 0.5h0m3 8h0m-2-6h0m-0.5 2h0m-0.5 3h0m2.5 0.5h0m0 3h0m-1.5 0.5h0m0.5-6h0m-1.5-12h0m0.5 18.5h0m-1.5-23h0m1.5 14h0m-0.5-11h0m0.5 11.5h0m-0.5-1h0m-1-3h0m2 7h0m1-1.5h0m-2 4.5h0m-0.5-17h0m1 11.5h0m2 6.5h0m0.5 1.5h0m-1-3h0m0.5-17.5h0m-1.5 3h0m0 2.5h0m-1.5-1h0m1.5 12.5h0m1-4.5h0m-2.5 1h0m0-10.5h0m-0.5 16h0m0.5-17.5h0m1.5 16h0m-1.5-8h0m0 7.5h0m0-20h0m3.5 17h0m-3 0h0m3.5-3.5h0m-3 0.5h0m-1.5-5h0m2.5 1h0m0.5 7h0m-0.5-3h0m0.5-10.5h0m-1 4h0m-2 13h0m0.5-6h0m0 2.5h0m1-13h0m-0.5 14h0m2.5-5h0m-0.5-7.5h0m-2-3.5h0m0 18h0m0 2h0m-0.5-8h0m3-7h0m-3 6.5h0m2-2h0m-2.5 11h0m2.5-10h0m-1.5-4h0m0.5 4h0m-1.5-9h0m1 3.5h0m1-7.5h0m-0.5 3h0m-0.5 11h0m-0.5-3h0m3 7.5h0m0.5-6.5h0m-4-12h0m0.5 3h0m2 21h0m1.5-8.5h0m-1.5 5.5h0m1 3h0m-3.5-8h0m4.5 3.5h0m-3-9h0m-1.5-8.5h0m1.5-0.5h0m1 18h0m-2 2.5h0m2-22.5h0m0.5 10h0m-2.5 6.5h0m3.5-4.5h0m-4-1.5h0m0 12h0m0.5-6.5h0m1.5 1h0m1.5-6h0m-1.5 0.5h0m-1.5-5.5h0m4 5.5h0m-3 11h0m-1-11.5h0m1.5 9.5h0m-1.5 3h0m-0.5-14.5h0m1 13.5h0m1-12h0m0.5 4h0m-2.5-2h0m3.5-5.5h0m0 8h0m-3-4.5h0m0 1.5h0m4 6.5h0m-4-9.5h0m-0.5-9h0m2.5 20.5h0m1 2h0m0.5 1h0m-2.5-2h0m0.5 0.5h0m-1.5-2h0m-0.5-13h0m2.5-6.5h0m0.5 5.5h0m-1.5 1.5h0m2 14.5h0m-2-13h0m1.5 7h0m-0.5 6.5h0m-1-11h0m-0.5-12h0m0 17h0m3.5-1h0m-2-1.5h0m-2.5 7h0m2.5-2h0m0.5 5h0m-1.5-13.5h0m-1.5 3h0m0 11h0m1.5-10.5h0m1.5-0.5h0m-3-2.5h0m4.5 6.5h0m1.5 3.5h0m-1-3.5h0m0 7h0m0-2h0m1 2h0m-0.5-8.5h0m0 8h0m1-3h0m0.5 3h0m-1.5-13h0m0 12h0m0 0.5h0m1.5 0h0m-2-2h0m1.5-3h0"/><path stroke="#00ff00" d="M287.5 1038h0m-3.5-3.5h0m-1-2.5h0m2 0.5h0m1.5 6h0m0.5-2h0m0.5-3h0m-1 3h0m3 0.5h0m-1-2.5h0m0 4h0m-2.5-6h0m3 0h0m0 3.5h0m-2.5-3h0m1.5 3.5h0m1-1.5h0m0.5 0.5h0m0-3.5h0m0.5 4h0m-3 0h0m-0.5-2h0m-0.5 6h0m3.5-3.5h0m0-4h0m-0.5 1h0m-2 5.5h0m0-4h0m-3-2.5h0m2 2.5h0m0.5-0.5h0m1-2h0m-3 0.5h0m0 0.5h0m5.5 4h0m-4-4h0m0 2.5h0m3 2.5h0m-1-4.5h0m-1 0h0m2.5 4h0m-1 1.5h0m-1-2.5h0m2.5 1h0m-6-6h0m6 2.5h0m-1 5.5h0m-0.5-1h0m1 1h0m-5-5h0m3 2.5h0m2 1.5h0m-5-5h0m5.5 5h0m0-3.5h0m-6.5-3h0m5 1.5h0m-3-1h0m3 3h0m-0.5-4h0m0 1h0m-2.5-0.5h0m3 4.5h0m-4.5-3.5h0m2.5 0h0m-1 2h0m4 4h0m-2.5-6.5h0m2.5 3h0m-0.5 1.5h0m-2.5 0h0m1.5 1h0m2-1.5h0m-0.5-3h0m-1 1h0m-4-3h0m4 3.5h0m-2-0.5h0m2 1.5h0m-1 0h0m-0.5-3h0m2 4.5h0m-1 1.5h0m-2 1h0m2.5-7.5h0m-2.5 2.5h0m4-3.5h0m-6.5 0h0m1 2.5h0m4.5-2.5h0m-5.5 1h0m12 6.5h0m-2.5-0.5h0m4 0.5h0m-5-2.5h0m2.5 2.5h0m-1.5-4.5h0m3 4h0m-2.5-0.5h0m-1 0.5h0m-1.5-5h0m3.5 2h0m-3.5 4.5h0m8.5-0.5h0m-0.5-1h0m-7.5 0h0m2.5 1.5h0m0-3.5h0m-2.5 2.5h0m8-3h0m-9-2h0m5 1h0m-3-1.5h0m3.5 6h0m-5.5-2.5h0m4-3.5h0m-4 3h0m4.5 1h0m0.5-0.5h0m-3 0.5h0m4 0h0m0.5-1.5h0m-3.5 4h0m4-1h0m-2 0.5h0m-3-4.5h0m-1.5 3h0m5.5 1h0m0-3.5h0m-4-3h0m2.5 7h0m-1-3.5h0m2 1.5h0m1.5-1h0m-3.5 3h0m-0.5-2h0m2-4h0m2 6h0m-7-5h0m0.5-2h0m3 2h0m-0.5-1h0m4 3.5h0m-3.5 0h0m-2.5-1h0m6.5-1h0m-5 4.5h0m5-1h0m-1 1h0m-4.5-3h0m7.5 3h0m-6.5-0.5h0m-3 0h0m8 0.5h0m-6.5-2.5h0m0.5 2.5h0m6.5-1.5h0m-2 0h0m-5 0h0m6-1.5h0m0 3h0m-4.5-4.5h0m5.5 2.5h0m-8-0.5h0m3-2h0m5 5h0m-8-3.5h0m0.5-3h0m-0.5 2h0m14.5 4h0m-3 0h0m0.5-0.5h0m1.5 1h0m-3-0.5h0"/><path stroke="#00ffff" d="M274.5 967h0m1 25h0m-0.5-16.5h0m-1-26h0m0-6h0m1.5 29.5h0m-2-18.5h0m1-5h0m-0.5 1.5h0m0 14.5h0m0.5 23.5h0m0-31.5h0m0 23h0m0-1h0m-0.5-11.5h0m-0.5-28h0m1 30.5h0m-1-38.5h0m0-6.5h0m1 47.5h0m1-4.5h0m-1.5-6.5h0m-0.5 15h0m0-19.5h0m1.5 29.5h0m-1-58h0m0 42.5h0m-0.5-7h0m0.5 10h0m1.5 2.5h0m-1-17.5h0m-1-25.5h0m1 40.5h0m0-13h0m1 7.5h0m-1.5-6h0m0.5 13h0m-1 2.5h0m0.5 2.5h0m0-21.5h0m-0.5-21h0m1.5 48h0m-1-53.5h0m0.5 30h0m0 16h0m0.5 10h0m0-29.5h0m-1.5-15h0m1-0.5h0m-0.5 3.5h0m0 5h0m-0.5-2h0m2 16h0m-0.5 2.5h0m-1 7.5h0m1.5 7h0m-0.5-5.5h0m-1.5-0.5h0m1.5-4.5h0m-0.5 18h0m-1-63h0m0 51.5h0m0-11.5h0m1.5-5h0m-1 27.5h0m0-35h0m0 14.5h0m-0.5-20h0m2 4.5h0m-1 10.5h0m0 10.5h0m-0.5-25h0m1 20h0m-1.5-39h0m0.5 4.5h0m-0.5 48h0m3.5 4.5h0m0.5-0.5h0m-1.5 4h0m1.5-3h0m-2-11.5h0m0.5 8.5h0m0-13h0m1 3h0m-0.5 8h0m-0.5-2h0m0 5.5h0m1.5 5h0m-1-12h0m-1-16h0m0 26.5h0m0.5-17h0m0 16.5h0m-0.5-14h0m0 13h0m0-4.5h0m1 4h0m0.5-10h0m-0.5 6.5h0m0.5-2.5h0m0 1h0m-0.5-2.5h0m-0.5 1.5h0m0.5 4h0m-0.5-8h0m0.5-5h0m-0.5 3.5h0m0.5 10.5h0m1-4.5h0m-0.5 7h0m-0.5-6h0m-0.5-4h0m1 11.5h0m-0.5-14h0m-0.5 10h0m1.5-1.5h0m-2-17h0m1 17h0m0-6.5h0m0-5.5h0m-0.5 2h0m0 4.5h0m3 11h0m-1-12h0m2 12.5h0m-0.5 0h0m-1.5-2h0m1-2.5h0m-1-2.5h0m0.5 5.5h0m2-1h0m-2-1h0m0.5 3.5h0m-5.5-69h0m0 2.5h0m0.5 5.5h0"/><path stroke="#0000ff" d="M277.5 1019.5h0m0-0.5h0m0 1.5h0m3-0.5h0m0 5h0m0.5-6.5h0m-0.5 5h0m1-1.5h0m0.5 2.5h0m0.5 3h0m0-3h0m-2.5 0h0m2-2.5h0m-4-1h0m1 1h0m3 3.5h0m-0.5 0.5h0m0-6.5h0m0 1.5h0m-0.5 1h0m1-0.5h0m-3.5-2h0m3.5 4.5h0m0.5-0.5h0m-1 4h0m-2.5-6.5h0m1 1.5h0m1-3h0m0-0.5h0m0 8.5h0m1.5-5.5h0m-1.5 3h0m-0.5-4.5h0m0 2.5h0m-0.5-2.5h0m0.5 0.5h0m-1.5-1h0m3 3.5h0m-0.5 1.5h0m0-2h0m-1 1.5h0m1 2h0m-0.5-3h0m0.5-3h0m-1.5 5.5h0m1.5-0.5h0m0.5-3h0m-2 1h0m-0.5 1h0m1-2h0m-0.5-1h0m2.5 9.5h0m-0.5-2h0m0-8.5h0m-2 2.5h0m1.5-0.5h0m-2-1h0m1.5 1h0m0-2.5h0m-1-0.5h0m2.5 9.5h0m-3.5-10h0m2.5 1h0m-3 1.5h0m1.5-2.5h0m1 5h0m0-3h0m0.5 7.5h0m-3-10h0m3 6h0m1 1.5h0m0-5h0m-2-1.5h0m-0.5 6h0m1-5h0m0.5 7.5h0m-2-7.5h0m2.5-1.5h0m-2.5 0.5h0m1.5 2h0m0 4.5h0m-2-6.5h0m3 12.5h0m-3-9.5h0m1 5.5h0m1.5 1.5h0m0.5-3h0m-2-5.5h0m0.5 1h0m2 3h0m-2-6h0m-1 0h0m1-0.5h0m1.5 6.5h0m-3.5-5h0m1 2.5h0m-1-3.5h0m3.5-0.5h0m-3 3h0m2.5 2h0m-1.5 1.5h0m1-2h0m1 7h0m-2.5-7h0m1 5h0m0.5-3.5h0m1.5 4h0m0-2h0m-1-5h0m0 7.5h0m-2-1.5h0m3-8.5h0m-0.5 9h0m-2.5-8h0m-0.5 0.5h0m4 2.5h0m2 1.5h0m-1.5 0h0m4 2h0m-4 2h0m1.5 2h0m-2-3.5h0m5.5 3.5h0m-1-7.5h0m-3 5.5h0m2.5-3h0m2.5 3h0m-1 0.5h0m-5.5-5h0m0.5 2.5h0m4.5 3.5h0m-3.5 0h0m1-8.5h0m-0.5 7.5h0m-2.5-3.5h0m3.5 0h0m-2-1.5h0m1 4h0m-0.5-3h0m2 3h0m-3.5 3h0m0-2h0m3.5-2h0m-3-5.5h0m0 8.5h0m2-6h0m3 4h0m-4.5 0h0m-1-1.5h0m2.5-3h0m-3-0.5h0m3 8.5h0m1-1.5h0m1 1.5h0m-3.5-8.5h0m4.5 8.5h0m-4-8.5h0m-1.5 7.5h0m3.5-4.5h0m-1-3.5h0m-1 1h0m2.5 4h0m0 0.5h0m-3 2h0m0.5 0.5h0m-2-2.5h0m1-0.5h0m0.5 4.5h0m1.5-2h0m0.5-2.5h0m0 1h0m2-3h0m-2.5 2.5h0m1-9.5h0m2.5 9.5h0m-5.5 2.5h0m-1-9h0m2.5 5h0m-2.5 3.5h0m1.5-0.5h0m2 0h0m-1-2h0m2-3h0m-3.5 0.5h0m2 5.5h0m0-1h0m2.5-5.5h0m-2 6h0m-1.5 1.5h0m0.5 0h0m-2.5-7.5h0m0.5 1h0m0 3.5h0m2.5 2.5h0m-0.5-1h0m2-0.5h0m-1.5-10h0m4.5 7h0m-6.5-0.5h0m1 0h0m-1.5 2h0m5-3h0m-2 2h0m0.5 2h0m0.5 1.5h0m1.5-3.5h0m-5.5-2.5h0m4 5.5h0m2 1h0m-6-11.5h0m1 11.5h0m3.5-1h0m-3.5-3.5h0m2.5-1.5h0m-2-3.5h0m1.5 0h0m1 4.5h0m-1 0.5h0m-0.5 0.5h0m1.5 4h0m-1.5-2.5h0m1.5 0h0m2 0h0m-6-9.5h0m0 3.5h0m2-3.5h0m-1.5 4.5h0m6.5 7.5h0m1.5-2h0m-0.5 1.5h0m-0.5 0h0"/><path stroke="#ff00ff" d="M383 1047h0m6.5 0.5h0m-33-0.5h0m14.5 0.5h0m24 0h0m-3 0h0m-49 0h0m35-0.5h0m-21 0.5h0m19.5 0h0m-7.5 0h0m-2 0h0m17.5 0h0m25.5-0.5h0m-45 0.5h0m54.5-0.5h0m-41.5 0.5h0m5 0h0m-2 0h0m5-0.5h0m-4.5 0.5h0m-2.5-0.5h0m3 0h0m-6.5 0h0m8 0.5h0m-9-0.5h0m14.5 0.5h0m-43-0.5h0m13 0.5h0m11.5 0h0m9 0h0m-15.5 0h0m-11.5 0h0m15 0h0m33.5 0h0m-13.5 0h0m-38 0h0m52-0.5h0m0 0.5h0m-16 0h0m-5 0h0m1.5 0h0m-8-0.5h0m8.5 0.5h0m-16-1h0m29.5 1h0m-24 0h0m17.5-0.5h0m22 0.5h0m-53.5 0h0m33-0.5h0m-3.5 0h0m-28.5 0h0m29 0.5h0m34 0h0m-22.5 0h0m-2.5 0h0m-49.5 0h0m37.5-0.5h0m5 0h0m25.5 0.5h0m-65 0h0m23.5 0h0m21.5 0h0m1 0h0m4 0h0m-23.5 0h0m17-0.5h0m-34 0.5h0m26 0h0m-13 0h0m21 0h0m-30-0.5h0m0.5 0.5h0m20-0.5h0m9 0.5h0m-21-0.5h0m14 0h0m2 0h0m-22.5 0.5h0m-6.5-0.5h0m32 0.5h0m16 0h0m-21 0h0m6 0h0m-13-0.5h0m2 0h0m38.5 0.5h0m-20 0h0m9.5 0h0m-40 0h0m17.5 0h0m-2 0h0m-7.5 0h0m-14-0.5h0m27 0.5h0m-22.5 0h0m1-0.5h0m31.5 0h0m-52 0.5h0m76 0h0m-54.5 0h0m36 0h0m1-0.5h0m-13.5 0h0m-38.5 0.5h0m7.5-0.5h0m-9 0.5h0m36.5 0h0m-23.5 0h0m16-0.5h0m-26.5 0.5h0m17-0.5h0m-11.5 0h0m53 0.5h0m-9 0h0m-26.5 0h0m6.5-0.5h0m-24.5 0h0m27.5 0.5h0m-65 0h0m50.5-1h0m-22 1h0m52 0h0m-55.5-0.5h0m51.5 0h0m-41.5 0.5h0m16.5 0h0m-16.5-1h0m20 0.5h0m24 0.5h0m12-0.5h0m9 0.5h0m-43.5 0h0m7-0.5h0m27 0.5h0m-0.5-0.5h0m-62 0h0m3 0h0m-55-0.5h0m117 1h0m-72 0h0m25-0.5h0m37.5 0.5h0m-27-0.5h0m-17 0.5h0m-9-0.5h0m40.5 0.5h0m-2-0.5h0m5.5 0.5h0m-24.5-1h0m45 1h0m-61-0.5h0m-0.5 0h0m42.5 0h0m-34 0.5h0m-3.5 0h0m41 0h0m14.5 0h0m-50-0.5h0m0.5 0h0m16 0.5h0m8-0.5h0m18.5 0.5h0m-32 0h0m29.5 0h0m-24-0.5h0m-11.5 0.5h0m49 0h0m-61-0.5h0m-19.5 0.5h0m57.5 0h0m-39 0h0m0.5-0.5h0m50 0.5h0m-43-0.5h0m-1 0h0m-3.5 0.5h0m15-0.5h0m-1.5 0h0m15 0.5h0m18-0.5h0m-62.5 0.5h0m-21-0.5h0m51.5 0h0m-1.5 0.5h0m-1 0h0m6.5-0.5h0m-67.5 0.5h0m55-0.5h0m-23 0h0m52 0.5h0m-42 0h0m-15-0.5h0m63 0.5h0m-63 0h0m58.5 0h0m-33.5-0.5h0m6.5 0h0m18.5 0h0m-19 0.5h0m-3-1h0m7.5 1h0m26.5-0.5h0m-65 0.5h0m6.5-0.5h0m51.5 0h0m22 0h0m-44 0h0m-7 0h0m-3 0.5h0m41 0h0m-59.5 0h0m80 0h0m-10 0h0m-44-0.5h0m-9 0h0m2-0.5h0m-28.5 0h0m40.5 0h0m-20.5 0.5h0m20-0.5h0m-29.5 1h0m-2.5 0h0m5.5 0h0m35.5-1h0m-23 1h0m49-0.5h0m3 0.5h0m-62.5 0h0m55.5 0h0m1-0.5h0m-12.5 0h0m14 0.5h0m-16-0.5h0m-71.5 0h0m102 0h0m-50 0.5h0m-20.5 0h0m72.5 0h0m-93.5 0h0m33-0.5h0m6.5 0h0m9-0.5h0m-10 0.5h0m42.5 0.5h0m-58.5 0h0m44.5-0.5h0m-43 0h0m63 0h0m-17 0.5h0m-50.5 0h0m37.5-0.5h0m-64.5 0h0m87.5 0.5h0m-51.5 0h0m40.5-0.5h0m-38 0h0m31.5 0h0m8.5 0h0m-26.5-1h0m-29 1h0m57.5 0.5h0m-66 0h0m-19.5 0h0m57-0.5h0m-49 0h0m70.5 0h0m-54 0.5h0m25.5-1h0m38.5 0.5h0m-15 0.5h0m30 0h0m-70-1h0m-4 0.5h0m15.5 0h0m-53.5 0h0m17 0.5h0m33 0h0m-31-0.5h0m3.5 0h0m-2.5 0.5h0m-2-1h0m82 1h0m5-0.5h0m-74.5 0.5h0m92.5 0h0m-80 0h0m-7 0h0m80 0h0m-91.5-0.5h0m-24 0.5h0m39.5-0.5h0m-38 0.5h0m37 0h0m62-0.5h0m-13.5 0h0m-77 0.5h0m10.5-1h0m85 0.5h0m-42 0h0m-22.5 0h0m1 0h0m43 0h0m-16 0h0m-40.5 0.5h0m38-1h0m19 0.5h0m18.5 0h0m-3 0h0m-77.5 0.5h0m9.5-0.5h0m79.5 0h0m-55.5 0.5h0m40 0h0m-53.5-0.5h0m-48.5 0h0m52 0h0m-42.5 0.5h0m80-0.5h0m-16-0.5h0m2.5 0h0m-45 0.5h0m20.5 0h0m48.5 0h0m-115 0.5h0m78.5-0.5h0m-20.5 0h0m-41.5 0h0m27.5 0.5h0m7 0h0m41-0.5h0m37.5 0.5h0m-79 0h0m21.5-1h0m54.5 1h0m-78-1h0m5.5 1h0m19-1h0m-40 1h0m27.5-0.5h0m-44.5 0.5h0m24-1h0m1 1h0m95 0h0m-98 0h0m85.5-0.5h0m-78.5 0h0m-26 0h0m102 0.5h0m-78 0h0m51-1h0m-43.5 0.5h0m6 0h0m2.5 0h0m51.5 0h0m-52 0h0m74 0.5h0m-36-1h0m-54.5 1h0m95 0h0m-26.5-1h0m14 1h0m-84.5 0h0m60-0.5h0m-52 0h0m17 0.5h0m1 0h0m64.5-0.5h0m-85 0.5h0m32.5-1.5h0m18.5 1h0"/></g><circle cx="379.5" cy="1047.7" r="2.25" fill="none" stroke="#000" stroke-width="1.35"/><circle cx="312.1" cy="1044.0" r="2.25" fill="none" stroke="#000" stroke-width="1.35"/><circle cx="288.0" cy="1036.7" r="2.25" fill="none" stroke="#000" stroke-width="1.35"/><circle cx="281.9" cy="1026.8" r="2.25" fill="none" stroke="#000" stroke-width="1.35"/><circle cx="278.3" cy="1009.6" r="2.25" fill="none" stroke="#000" stroke-width="1.35"/><circle cx="275.4" cy="975.7" r="2.25" fill="none" stroke="#000" stroke-width="1.35"/><text x="262.6" y="1059.5" text-anchor="middle">0</text><text x="293.2" y="1059.5" text-anchor="middle">20</text><text x="323.7" y="1059.5" text-anchor="middle">40</text><text x="354.3" y="1059.5" text-anchor="middle">60</text><text x="384.9" y="1059.5" text-anchor="middle">80</text><text x="415.4" y="1059.5" text-anchor="middle">100</text><text x="259.6" y="1050.9" text-anchor="end">0</text><text x="259.6" y="1030.0" text-anchor="end">200</text><text x="259.6" y="1009.2" text-anchor="end">400</text><text x="259.6" y="988.3" text-anchor="end">600</text><text x="259.6" y="967.4" text-anchor="end">800</text><text x="259.6" y="946.5" text-anchor="end">1000</text></g><text x="351.2" y="1070.5" text-anchor="middle" style='font-family:"Liberation Serif",serif;font-weight:bold;font-size:9.9px;letter-spacing:-0.3px'>V2</text><text transform="translate(238.2 985.6) rotate(-90)" text-anchor="middle" style='font-family:"Liberation Serif",serif;font-weight:bold;font-size:9.9px'>V4</text><text x="351.2" y="921.0" text-anchor="middle" style='font-family:"Liberation Serif",serif;font-weight:bold;font-size:9.6px;letter-spacing:-0.3px'>K-Means</text><g style='font-family:"Liberation Serif",serif;font-weight:bold;font-size:8.1px'><rect x="387.8" y="952.7" width="45.4" height="65.5" fill="#fff" stroke="#5a5a5a" stroke-width="0.9"/><circle cx="401.0" cy="958.7" r="0.7" fill="#ff0000"/><text x="413.0" y="961.4">1</text><circle cx="401.0" cy="967.8" r="0.7" fill="#ffff00"/><text x="413.0" y="970.5">2</text><circle cx="401.0" cy="976.8" r="0.7" fill="#00ff00"/><text x="413.0" y="979.5">3</text><circle cx="401.0" cy="985.9" r="0.7" fill="#00ffff"/><text x="413.0" y="988.6">4</text><circle cx="401.0" cy="994.9" r="0.7" fill="#0000ff"/><text x="413.0" y="997.6">5</text><circle cx="401.0" cy="1004.0" r="0.7" fill="#ff00ff"/><text x="413.0" y="1006.7">6</text><circle cx="401.0" cy="1013.0" r="2.1" fill="none" stroke="#000" stroke-width="1.3"/><text x="413.0" y="1015.7" style="letter-spacing:-0.2px">data1</text></g><g style='font-family:"Liberation Serif",serif;font-weight:bold;font-size:8.6px'><path d="M517.1 1047.7v-2M517.1 923.5v2M556.3 1047.7v-2M556.3 923.5v2M595.5 1047.7v-2M595.5 923.5v2M634.7 1047.7v-2M634.7 923.5v2M673.9 1047.7v-2M673.9 923.5v2M496.3 1047.7h2M673.9 1047.7h-2M496.3 1026.8h2M673.9 1026.8h-2M496.3 1006.0h2M673.9 1006.0h-2M496.3 985.1h2M673.9 985.1h-2M496.3 964.2h2M673.9 964.2h-2M496.3 943.3h2M673.9 943.3h-2" stroke="#7f7f7f" stroke-width="0.8" fill="none"/><rect x="496.3" y="923.5" width="177.6" height="124.2" fill="none" stroke="#7f7f7f" stroke-width="1"/><g fill="none" stroke-linecap="round" stroke-width="1.4"><path stroke="#ff0000" d="M542 1041h0m-3.5 1h0m1-0.5h0m0.5-0.5h0m-3.5 2h0m7-2.5h0m-5.5 1.5h0m1.5 0h0m2-1h0m-4 1h0m5-1h0m-5.5 2.5h0m-3.5 1.5h0m14.5-4.5h0m-6.5 2h0m-1.5 0h0m-4.5 1.5h0m2-1h0m0 0.5h0m3.5-0.5h0m-2.5-0.5h0m5.5-1h0m-8 1.5h0m0 0.5h0m9.5-2h0m-4 0h0m4.5-0.5h0m-12 3.5h0m8.5-3h0m-6 2.5h0m-1-1h0m4-0.5h0m-7 2h0m4.5-2h0m-0.5 1h0m4.5-1h0m-1.5 1h0m-2.5 0.5h0m1.5 0h0m3-2h0m4-1h0m-8 3h0m0.5-0.5h0m5-2h0m-4.5 2h0m1-0.5h0m2.5-1.5h0m4-1h0m-11.5 3.5h0m4-2.5h0m6.5 0h0m-9 3h0m4-1.5h0m-1-0.5h0m-1 1.5h0m4.5-2h0m0 0.5h0m-4.5 0.5h0m5-1h0m-2.5 0h0m0.5 0h0m-4 1h0m6.5-1.5h0m-10.5 3h0m2-0.5h0m-2.5 1h0m1.5-1h0m-0.5 0.5h0m13-3h0m-6 1h0m4-1.5h0m0.5 0h0m-1.5 1h0m-4.5-0.5h0m8-1h0m-5 2h0m-3.5 0.5h0m8.5-2h0m-11.5 2.5h0m4.5-2h0m0 0.5h0m-4 2h0m-4.5 1h0m10.5-3h0m-6.5 2.5h0m4.5-1h0m0.5-2.5h0m0 0.5h0m-1.5 2.5h0m6.5-3.5h0m-9 4h0m7.5-2.5h0m0-1h0m-1.5-0.5h0m-1 2.5h0m1.5-2.5h0m0.5 2h0m0-1.5h0m1.5 1h0m1.5-1h0m-12 3.5h0m-2.5 1h0m4.5-0.5h0m3-1h0m-4.5 0.5h0m4-1h0m-8 1.5h0m2 0h0m-4 0.5h0m7 0h0m-6 0.5h0m2.5-0.5h0m11.5-3h0m-14.5 3.5h0m7.5-1.5h0m-6 1h0m0.5 0h0m6-1h0m4-1h0m-7.5 1.5h0m6-1h0m2-1h0m-10 1.5h0m3.5 0.5h0m-3.5 0h0m-1.5 0.5h0m-2.5 1h0m21-5.5h0m-14 4h0m9.5-2h0m-6 1.5h0m6.5-2h0m-14.5 3.5h0m18-5.5h0m0 0.5h0m-7.5 3h0m1.5-1h0m-4.5 1.5h0m-5 1h0m1 0h0m0.5-0.5h0m6.5-3.5h0m2 1.5h0m-13 2.5h0m16.5-3.5h0m3-1.5h0m-16.5 5.5h0m16.5-5h0m-5 1.5h0m-16.5 3.5h0m15-3.5h0m-2.5 1h0m-1.5 1h0m-3 0.5h0m-1-1.5h0m10.5-1.5h0m-18.5 4.5h0m19-5h0m-5 2h0m-3.5 1.5h0m-9 1h0m0 1h0m0.5-1h0m3 0h0m0.5 0h0m-5 0.5h0m7.5-1h0m-4 0.5h0m-4 1h0m4.5-1h0m-2.5 0.5h0m-4 0.5h0m8.5-1.5h0m-4 1h0m-1 0h0m-2.5 0h0m4.5 0h0m-1-1h0m-3 1h0m-2.5 0.5h0m9.5-1h0m-7.5 1h0m8.5-1.5h0m-7 0.5h0m8-0.5h0m-8.5 0.5h0m-0.5 1h0m-1 0h0m11.5-2h0m-12.5 2h0m6.5-0.5h0m-1 0h0m-2.5 0.5h0m4-0.5h0m-6 0h0m-2.5 1h0m5-0.5h0m-4.5 0h0m1 0.5h0m-1.5-0.5h0m0.5 0.5h0m-1 0h0m1.5 0h0m1 0h0m0.5 0h0m-3-0.5h0m2-0.5h0m-3.5 1h0m4-1h0m1.5-0.5h0m-2.5 0.5h0m-0.5 0h0"/><path stroke="#ffff00" d="M597.5 995.5h0m-0.5 0.5h0m-2-1h0m-11 12h0m8-6h0m1.5-4.5h0m3.5-1.5h0m-6.5 4h0m2 1.5h0m-7 3h0m6-3.5h0m10.5-5.5h0m-4 2.5h0m-6 4.5h0m11.5-8h0m-2.5-0.5h0m-8 5h0m7 2h0m-11.5 7.5h0m-2-1h0m-2.5 4.5h0m9.5-9.5h0m2-3h0m-5.5 10h0m6-8.5h0m0.5 1h0m0.5 0h0m-9.5 3.5h0m13.5-5.5h0m-4.5-1h0m-20 19.5h0m12-11.5h0m6.5-6h0m-9.5 9.5h0m17-15.5h0m-7.5 9h0m-10 2.5h0m-4 4h0m8-1.5h0m8-8h0m-5.5 2.5h0m-8.5 5h0m-10 10h0m14-11.5h0m-3 6h0m7-5.5h0m6-5h0m-9 7h0m10-9.5h0m8-5h0m-8.5 8.5h0m-2.5-2h0m-20 16.5h0m15.5-14.5h0m16.5-9h0m-24.5 19h0m-3 0.5h0m18.5-11h0m-7 1h0m-14 11.5h0m18-9.5h0m-5-3.5h0m-0.5 4h0m-1-0.5h0m-7.5 8.5h0m16.5-16h0m-10 10h0m-5 4h0m7-5h0m9.5-8.5h0m-10.5 5.5h0m-6.5 7.5h0m19-15h0m-11 7.5h0m10-3h0m-1.5-3.5h0m1.5-2.5h0m-3 6h0m-21 15h0m8-6.5h0m10-9.5h0m-11 12h0m22.5-18.5h0m-29 24h0m19.5-17.5h0m2.5-1.5h0m3.5-2.5h0m-3 3h0m-12 7h0m3.5-1h0m-2 0h0m-15.5 12.5h0m15-10.5h0m14.5-7h0m-11.5 9.5h0m8-10h0m-10.5 4h0m7-1.5h0m-3 2h0m-2 2.5h0m9.5-7h0m6.5-5.5h0m-21.5 13.5h0m-1.5 2.5h0m1 0.5h0m-5.5 4h0m14.5-8.5h0m-16 9h0m11.5-7h0m8.5-8.5h0m-11.5 9h0m19.5-14h0m-24 17.5h0m16.5-16h0m-21 20h0m-0.5-3h0m5.5-3h0m17.5-9h0m-9.5 7h0m0.5-7h0m3 3.5h0m7.5-10.5h0m-3.5 7.5h0m7-8h0m-19 14h0m5.5-3.5h0m-4 4h0m-9.5 5.5h0m15.5-12h0m2.5 0h0m-20.5 14.5h0m24-18.5h0m-22.5 17h0m10.5-7.5h0m11-8.5h0m-5.5 9h0m-2.5-6h0m-16.5 16.5h0m23.5-19.5h0m-9 6h0m6-1.5h0m0.5 0.5h0m-2 3.5h0m8.5-10h0m-14.5 10.5h0m-9 6.5h0m24-18h0m-24 19.5h0m-4.5 1h0m13.5-6.5h0m-2.5 0.5h0m-4 0.5h0m22.5-17h0m-21.5 17.5h0m25-17.5h0m-17.5 10.5h0m4 0.5h0m-5.5 4.5h0m7-6h0m-7.5 4.5h0m2.5-0.5h0m-10.5 7h0m4-4.5h0m-4 3.5h0m11-8h0m-5 1h0m12-2h0m-1-6.5h0m-8.5 10.5h0m8-6h0m-11 6h0m3.5-2.5h0m-6 7h0m-5 1h0m19-10.5h0m-14 7.5h0m3-3.5h0m5 0.5h0m-8 6h0m7.5-11.5h0m3.5 6h0m-13 5.5h0m18.5-15h0m-17 10.5h0m11.5-7h0m-9.5 7h0m8.5-2h0m-2-4h0m-1 5.5h0m5-7.5h0m-14 10h0m22-13h0m1.5-3.5h0m-8.5 7h0m-7 9h0m-4 1.5h0m7-5.5h0m9.5-8.5h0m-13 5h0m4.5 3.5h0m3.5-9.5h0m-18.5 18.5h0m25-20.5h0m-21 20h0m1.5-1.5h0m16.5-13.5h0m-15 12.5h0m-2 5h0m0-4.5h0m16-13h0m-12 14h0m-6.5 2.5h0m6.5-3.5h0m1 0.5h0m1.5-2.5h0m-11 5.5h0m13-5.5h0m12-12h0m-3 2.5h0m-4-0.5h0m4 0h0m-16 11h0m20-19h0m-16 20h0m-0.5 0h0m7.5-6.5h0m0-2.5h0m-18.5 13.5h0m28.5-21h0m-22 17.5h0m24-19.5h0m-22.5 18.5h0m1.5 1h0m8.5-11h0m-1.5 3.5h0m-6.5 5.5h0m-0.5-1.5h0m-13 7.5h0m23.5-12.5h0m-1.5 0h0m-2.5 2h0m10-8h0m-11 8.5h0m-11 9.5h0m5.5-3h0m-5.5 2h0m10-7.5h0m11.5-9.5h0m-6 9h0m-15 9h0m22.5-22h0m-20.5 21.5h0m0-4h0m17-12.5h0m-20.5 16.5h0m4.5-3.5h0m13.5-11h0m-9 8.5h0m4-5h0m-7.5 8.5h0m7-6h0m-16.5 9h0m13.5-7h0m-7.5 6.5h0m-3.5 0.5h0m10-6h0m-17 6.5h0m17.5-6h0m13.5-17h0m-19.5 19h0m9-5h0m-13 8.5h0m23.5-19.5h0m-11 11.5h0m2.5-1h0m0-3h0m-7 7h0m1.5-1.5h0m-7.5 4.5h0m9-5.5h0m-7 6.5h0m-2 1.5h0m3-3h0m18.5-17.5h0m-22.5 20.5h0m13.5-8h0m-1 1h0m-14 4h0m-1 1.5h0m3.5-1.5h0m2.5-4.5h0m10-3.5h0m10.5-9h0m-22.5 16.5h0m2 0h0m23.5-20h0m-18 17h0m-9.5 6h0m10.5-6h0m2-3h0m6.5-5h0m-0.5 1h0m-11.5 7h0m4.5-3h0m-1.5 0.5h0m15.5-11h0m-5 4h0m-15 12.5h0m-4.5 0.5h0m21-16.5h0m0.5 2h0m-14.5 12.5h0m6.5-5.5h0m6.5-7.5h0m3-3.5h0m-21.5 18h0m-7 2h0m27-15h0m-10.5 6.5h0m5-2h0m-7 5.5h0m0.5-2.5h0m-4 4h0m1.5-3h0m7-3h0m9-10h0m-21 15h0m8.5-4h0m3.5-3h0m-1.5 0.5h0m-5 7h0m-5 2.5h0m15.5-9h0m-18.5 11.5h0m26-23.5h0m-5 3h0m-6.5 12.5h0m-10.5 4.5h0m-2.5 4h0m18-17.5h0m-11 13h0m9-9h0m9.5-8.5h0m-6 4h0m-18 17h0m1.5-4h0m-3 0.5h0m2 4h0m-2-1.5h0m15-12.5h0m-4 4.5h0m4-2.5h0m-8.5 4.5h0m9.5-4.5h0m1.5-1.5h0m-5.5 1.5h0m-17 10.5h0m17.5-6.5h0m-2.5 1h0m7-6h0m-3 0.5h0m4-5.5h0m1 5.5h0m-13 7.5h0m-4.5 3.5h0m19-15h0m-17.5 13h0m-6.5 2.5h0m-1 0.5h0m16.5-14.5h0m-11 13.5h0m3.5-5h0m11-7h0m4.5-3h0m-9 5h0m7.5-5.5h0m-11 9.5h0m8-1.5h0m1.5-5.5h0m-2.5 2.5h0m0-3h0m-12 9.5h0m26-18.5h0m-20 17h0m11-11h0m-16 16.5h0m-5.5-1h0m2 0h0m-1 2h0m18.5-15.5h0m-15 12h0m18-14h0m-26 16.5h0m4 0.5h0m19.5-15.5h0m-2 1.5h0m-21.5 15.5h0m15-8.5h0m-7.5 6.5h0m13.5-11h0m-9 6h0m1.5-1.5h0m19.5-16.5h0m-9 8h0m-6.5 8h0m2-1.5h0m-15.5 7h0m26.5-18h0m-10.5 7.5h0m-18 14h0m2.5-2.5h0m14-8h0m-11.5 4.5h0m-3 3.5h0m15.5-8.5h0m0.5-2.5h0m-4 6.5h0m-4 3.5h0m2.5-2.5h0m0.5-1h0m-6.5 7h0m0-2h0m-0.5 2h0m8.5-8.5h0m-8.5 8h0m-0.5-1h0m8-3h0m-6.5 3.5h0m1.5 0h0m0-2h0"/><path stroke="#00ff00" d="M547 1038h0m6-3.5h0m3.5-2.5h0m1 0.5h0m-12.5 6h0m7-2h0m9-3h0m-12 3h0m4 0.5h0m4-2.5h0m-9 4h0m12-6h0m1 0h0m-8 3.5h0m2.5-3h0m-6 3.5h0m1 0h0m4.5-1.5h0m1.5 0.5h0m4-3.5h0m-5 4h0m-4 0h0m3.5-2h0m-13 6h0m13-3.5h0m8.5-4h0m-4 1h0m-15.5 5.5h0m8-4h0m-0.5 1.5h0m2-1.5h0m1-0.5h0m8-2h0m-9 1h0m-4 4h0m5.5-4h0m-5 2.5h0m-2.5 2.5h0m10-4.5h0m-0.5 0h0m-7.5 4h0m-5 1.5h0m5.5-2.5h0m-2 1h0m9-6h0m1 2.5h0m-12 4h0m-1.5 1.5h0m11.5-5.5h0m-11 4.5h0m-1 1h0m8.5-5h0m-3.5 1h0m-2.5 1.5h0m0 1.5h0m6.5-5h0m-4.5 4h0m0 1h0m7-3.5h0m1-3h0m-2.5 2.5h0m7-1h0m-14 4.5h0m11-5.5h0m-7.5 3h0m12-4h0m0.5 1h0m-9 0.5h0m-6 4h0m9.5-4h0m1.5 0h0m-7.5 4.5h0m-1.5-2.5h0m-3 4h0m10-4h0m1.5-2.5h0m1.5 0h0m3-0.5h0m-6.5 3.5h0m-6.5 1.5h0m0.5-0.5h0m7-2.5h0m-2.5-1.5h0m-9.5 7h0m3.5-2.5h0m9-2.5h0m-7 2h0m2-2h0m4.5 0h0m1-1h0m-7.5 2.5h0m7-4.5h0m-2 3.5h0m-6 1h0m8-3h0m1.5 0.5h0m-8.5 4h0m-8.5 1.5h0m-1 1h0m9-5h0m13-3.5h0m-12.5 2.5h0m3.5-0.5h0m-7.5 5h0m7-2h0m9-5h0m-7 1h0m6-0.5h0m-13 7h0m3-0.5h0m-1 0.5h0m4-2.5h0m5.5-2h0m-9.5 4h0m2-0.5h0m-3.5 0.5h0m10.5-5h0m-2 2h0m-15 4.5h0m8-0.5h0m-6.5 0.5h0m1.5 0h0m3.5-1h0m5-2.5h0m-8 2.5h0m6-2.5h0m4.5-0.5h0m3.5-2h0m-2 1h0m2-1.5h0m-12 6h0m3.5-2.5h0m10-3.5h0m-6 3h0m-0.5 0h0m-2.5 1h0m1.5-0.5h0m-0.5 0.5h0m2.5-1.5h0m-11 4h0m2-0.5h0m14-7h0m-15 7h0m11-3.5h0m-4 1.5h0m-3.5 1.5h0m8.5-4.5h0m-11.5 5h0m10-5h0m3.5-2h0m-0.5 2h0m-5 2.5h0m-1.5 0h0m5.5-2h0m-7.5 3.5h0m-2 1h0m-0.5 0h0m-1.5-0.5h0m5-2h0m0 1h0m-0.5 0h0m-0.5 0h0m6.5-3h0m-11 5h0m1.5 0h0m5-2h0m-1.5-1.5h0m2.5 1h0m4.5-4h0m-5 2h0m4.5-1.5h0m-10.5 5.5h0m2 0h0m1.5-0.5h0"/><path stroke="#00ffff" d="M624 967h0m-21.5 25h0m14.5-16.5h0m19.5-26h0m4-6h0m-21.5 29.5h0m10-18.5h0m4.5-5h0m4.5 1.5h0m-15 14.5h0m-20.5 23.5h0m28-31.5h0m-17.5 23h0m0.5-1h0m9-11.5h0m15.5-28h0m-19 30.5h0m29-38.5h0m1-6.5h0m-22.5 43h0m-3.5 4.5h0m5.5-11h0m-16.5 15h0m22.5-19.5h0m-28 29.5h0m38.5-58h0m-25.5 42.5h0m2-7h0m-4 10h0m2.5 2.5h0m12-17.5h0m-23.5 27.5h0m36.5-53h0m-28.5 40.5h0m10-13h0m-2 7.5h0m5-6h0m-12 13h0m-10.5 2.5h0m-0.5 2.5h0m21.5-21.5h0m9.5-21h0m-28.5 48h0m36.5-53.5h0m-30.5 46h0m-11.5 10h0m25.5-29.5h0m17-15h0m-8-0.5h0m-3 3.5h0m-4 5h0m1.5-2h0m-7 16h0m13.5-23h0m-18 25.5h0m-5.5 7.5h0m-5.5 7h0m5.5-5.5h0m-4.5-0.5h0m6.5-4.5h0m-19.5 18h0m53-63h0m-45 51.5h0m15-11.5h0m9-5h0m-14 11.5h0m-15 16h0m29.5-35h0m-9.5 14.5h0m14.5-20h0m-4.5 4.5h0m-6 10.5h0m-7 10.5h0m17.5-25h0m-16 20h0m27.5-39h0m-0.5 4.5h0m-5 4h0m-35.5 44h0m4 4.5h0m-0.5-0.5h0m-6 4h0m5-3h0m7.5-11.5h0m-5 8.5h0m8.5-13h0m0.5 3h0m-5 8h0m0.5-2h0m-7 5.5h0m-0.5 5h0m7.5-12h0m9.5-16h0m-19.5 26.5h0m16-17h0m-15.5 16.5h0m13.5-14h0m-11 13h0m0.5-4.5h0m-1 4h0m7.5-10h0m-2.5 6.5h0m3.5-2.5h0m-4 1h0m-9 5.5h0m11-8h0m-0.5 1.5h0m-3.5 4h0m9.5-8h0m0-5h0m-1.5 3.5h0m-11.5 13h0m7-7h0m-8.5 7h0m9-6h0m-8 7.5h0m11.5-14h0m-11 10h0m6-1.5h0m9-17h0m-18.5 21.5h0m6-4.5h0m4.5-6.5h0m4-5.5h0m1 2h0m-5.5 4.5h0m-10.5 11h0m14-12h0m-10 12.5h0m-3 0h0m5-4.5h0m-4 4h0m7.5-6.5h0m-6 5.5h0m0.5-1h0m2.5-1h0m-3.5 3.5h0m3-1.5h0m43.5-67.5h0m-1.5 2.5h0m-3.5 5.5h0"/><path stroke="#0000ff" d="M570.5 1019.5h0m4-0.5h0m-4.5 1.5h0m0.5-0.5h0m-4.5 5h0m11-6.5h0m-6.5 5h0m4.5-1.5h0m-6 2.5h0m-2.5 3h0m4.5-3h0m-4 0h0m6-2.5h0m-4-1h0m0.5 1h0m1.5 3.5h0m-3.5 0.5h0m7-6.5h0m-1 1.5h0m-2 0.5h0m0.5-2h0m-1.5 4.5h0m2-0.5h0m-9.5 4h0m8.5-6.5h0m-5.5 5h0m3.5-3.5h0m5.5-3h0m-1.5-0.5h0m-10 8.5h0m8-5.5h0m-7.5 3h0m10.5-4.5h0m-5.5 2.5h0m5-2.5h0m-4.5 3h0m2.5-3.5h0m-3.5 3.5h0m-1 1.5h0m-1-2h0m6 0h0m-2 1.5h0m-6.5 2h0m-1-1h0m7.5 0h0m3.5-3h0m5-3h0m-11.5 4h0m0 1h0m6-2h0m-1.5 0h0m6.5-3h0m-1.5-0.5h0m-6 2.5h0m-13 9.5h0m1.5-2h0m18-8.5h0m-3.5-1h0m0.5 2h0m-5 1.5h0m3.5-0.5h0m-8.5 3.5h0m-1 0.5h0m10.5-4.5h0m-4 1.5h0m4-3.5h0m-8.5 5h0m-5 4h0m12.5-10h0m0.5 1h0m-5.5 2.5h0m8.5-2h0m-1.5-0.5h0m-6 1.5h0m7-2.5h0m-6 4h0m5.5-1h0m-8.5 2h0m9.5-3h0m-15 7.5h0m14-7h0m-3.5-3h0m-6 6h0m6.5 0h0m-7 1.5h0m9-6h0m3.5 1h0m-5-1.5h0m-9.5 6h0m-3 2.5h0m12.5-7.5h0m7.5-1.5h0m-1 0h0m-6 0.5h0m-7.5 7h0m14-7.5h0m-5.5 2h0m-7.5 4.5h0m4-0.5h0m-2-3h0m4.5-1.5h0m-6 3.5h0m-2.5 2h0m1.5-1h0m10.5-5h0m-13 4.5h0m14-5h0m-21.5 11.5h0m16.5-9.5h0m-9 4.5h0m2-2.5h0m-9.5 8.5h0m13.5-10h0m-10 6h0m12.5-6.5h0m-2 1.5h0m-12 6.5h0m8.5-3h0m4.5-3.5h0m1-2h0m-5.5 1h0m3.5 3h0m-4-0.5h0m4.5-1h0m-2.5 2.5h0m9-7h0m-7 3h0m3.5-3h0m-5.5 4h0m4-3.5h0m-11.5 9h0m19.5-10h0m-4.5 1h0m-8 2h0m1 2h0m6.5-4.5h0m-13 10h0m8-8.5h0m1 2h0m7.5-4h0m-21 11.5h0m9-7h0m1 1h0m-8.5 4h0m17.5-8.5h0m-1 1h0m-11 4h0m-1.5 4h0m0-2.5h0m12-5h0m-7.5 5.5h0m-0.5-3.5h0m2 1.5h0m0 0.5h0m-1.5-2h0m0 1.5h0m-8 4.5h0m1.5-1.5h0m21-8.5h0m-12.5 6h0m-9 3h0m10.5-4.5h0m-6 1h0m6-4h0m7-1.5h0m-2.5 4h0m-1.5 1.5h0m-10.5 4h0m7-2h0m-11 4h0m7-3.5h0m-2 3.5h0m13-7.5h0m-4 0h0m-1.5 2.5h0m-4.5 3h0m0 0.5h0m-2 1h0m-6 0h0m19-8.5h0m-14.5 7.5h0m4.5-3.5h0m3 0h0m-0.5-1.5h0m-2.5 4h0m3.5-3h0m-15 6h0m4-2h0m9.5-2h0m-10 3h0m11.5-6h0m-3 4h0m-3 0h0m10-4.5h0m-15.5 8h0m5.5-1.5h0m-4 1.5h0m13-8.5h0m-16 7h0m5 1.5h0m2.5-3.5h0m-5 2.5h0m9.5-4.5h0m4.5-3.5h0m-15 8h0m15-7h0m-6.5 4h0m-7.5 1.5h0m6.5-1h0m2-2h0m-7 4.5h0m-0.5-2.5h0m-0.5-0.5h0m-3 4.5h0m3-2h0m7.5-2.5h0m4-3.5h0m1.5-0.5h0m-8 5h0m4-3h0m-7 2.5h0m16.5-9.5h0m-23 12h0m19-9h0m-6.5 5h0m-14 3.5h0m6.5-0.5h0m10.5-5.5h0m-10 5.5h0m4.5-2h0m7.5-3h0m-3.5 0.5h0m-7 5h0m8-3.5h0m-1-0.5h0m-6.5 2.5h0m-1.5 1h0m11.5-5.5h0m-19 7.5h0m3 0h0m13.5-6.5h0m-10 3.5h0m0 2.5h0m4.5-3.5h0m-1.5 2h0m15-10h0m-8.5 7h0m-1.5-0.5h0m-1.5 0h0m-1 3h0m3.5-2h0m-5 3h0m-2.5 1h0m15.5-11.5h0m-18.5 11.5h0m0.5-1h0m-3 1h0m10-4.5h0m-6 4h0m10.5-5.5h0m-4 1.5h0m0 0.5h0m-5.5 4h0m-2.5-1h0m5-1.5h0m-0.5 0h0m3 0h0m5-5h0m-8.5 7.5h0m1.5-0.5h0"/><path stroke="#ff00ff" d="M521.5 1047h0m-8.5 0.5h0m4-0.5h0m-2 0.5h0m4.5 0h0m-5.5 0h0m-1.5 0h0m11.5-0.5h0m-4 0.5h0m2 0h0m-5 0h0m4.5 0h0m-5 0h0m5.5-0.5h0m-3 0.5h0m-0.5-0.5h0m2.5 0.5h0m-0.5 0h0m3-0.5h0m-8.5 0h0m-1 0h0m2 0.5h0m2 0h0m7.5-0.5h0m-7 0.5h0m4 0h0m-5 0h0m-4-0.5h0m8-0.5h0m-10.5 0.5h0m4.5 0.5h0m-4 0h0m9.5-0.5h0m-6.5 0.5h0m8-0.5h0m1 0.5h0m1-0.5h0m-5 0h0m5.5 0h0m-13.5 0h0m2 0.5h0m7-0.5h0m-8.5 0.5h0m7-0.5h0m4 0h0m0 0.5h0m-6.5-0.5h0m-2 0h0m5.5 0h0m-9-0.5h0m0 1h0m-0.5-1h0m2 0.5h0m3 0h0m-9-0.5h0m17.5 0h0m-15 0.5h0m1.5 0h0m2.5 0h0m13.5-0.5h0m-8.5 0.5h0m7-0.5h0m-15.5 0h0m16 0h0m-16.5 0h0m19.5 0h0m-16.5 0.5h0m15.5-1h0m-17 1.5h0m-1-0.5h0m6.5 0h0m10.5 0h0m0.5-0.5h0m-17 0.5h0m-1.5-0.5h0m-1.5 0h0m10.5 0.5h0m-9 0h0m17.5 0h0m-18-0.5h0m15 0h0m-10 0h0m9 0h0m2.5 0h0m2.5-0.5h0"/></g><circle cx="518.3" cy="1047.7" r="2.25" fill="none" stroke="#000" stroke-width="1.35"/><circle cx="538.2" cy="1044.0" r="2.25" fill="none" stroke="#000" stroke-width="1.35"/><circle cx="553.9" cy="1036.7" r="2.25" fill="none" stroke="#000" stroke-width="1.35"/><circle cx="567.3" cy="1026.8" r="2.25" fill="none" stroke="#000" stroke-width="1.35"/><circle cx="585.3" cy="1009.6" r="2.25" fill="none" stroke="#000" stroke-width="1.35"/><circle cx="614.3" cy="975.7" r="2.25" fill="none" stroke="#000" stroke-width="1.35"/><text x="517.1" y="1059.5" text-anchor="middle">0</text><text x="556.3" y="1059.5" text-anchor="middle">10</text><text x="595.5" y="1059.5" text-anchor="middle">20</text><text x="634.7" y="1059.5" text-anchor="middle">30</text><text x="673.9" y="1059.5" text-anchor="middle">40</text><text x="493.3" y="1050.9" text-anchor="end">0</text><text x="493.3" y="1030.0" text-anchor="end">200</text><text x="493.3" y="1009.2" text-anchor="end">400</text><text x="493.3" y="988.3" text-anchor="end">600</text><text x="493.3" y="967.4" text-anchor="end">800</text><text x="493.3" y="946.5" text-anchor="end">1000</text></g><text x="585.1" y="1070.5" text-anchor="middle" style='font-family:"Liberation Serif",serif;font-weight:bold;font-size:9.9px;letter-spacing:-0.3px'>V3</text><text transform="translate(471.9 985.6) rotate(-90)" text-anchor="middle" style='font-family:"Liberation Serif",serif;font-weight:bold;font-size:9.9px'>V4</text><text x="585.1" y="921.0" text-anchor="middle" style='font-family:"Liberation Serif",serif;font-weight:bold;font-size:9.6px;letter-spacing:-0.3px'>K-Means</text><g style='font-family:"Liberation Serif",serif;font-weight:bold;font-size:8.1px'><rect x="502.7" y="952.7" width="46.3" height="65.5" fill="#fff" stroke="#5a5a5a" stroke-width="0.9"/><circle cx="515.9" cy="958.7" r="0.7" fill="#ff0000"/><text x="527.9" y="961.4">1</text><circle cx="515.9" cy="967.8" r="0.7" fill="#ffff00"/><text x="527.9" y="970.5">2</text><circle cx="515.9" cy="976.8" r="0.7" fill="#00ff00"/><text x="527.9" y="979.5">3</text><circle cx="515.9" cy="985.9" r="0.7" fill="#00ffff"/><text x="527.9" y="988.6">4</text><circle cx="515.9" cy="994.9" r="0.7" fill="#0000ff"/><text x="527.9" y="997.6">5</text><circle cx="515.9" cy="1004.0" r="0.7" fill="#ff00ff"/><text x="527.9" y="1006.7">6</text><circle cx="515.9" cy="1013.0" r="2.1" fill="none" stroke="#000" stroke-width="1.3"/><text x="527.9" y="1015.7" style="letter-spacing:-0.2px">data1</text></g><text x="352.9" y="351.8" text-anchor="middle" style='font-family:"Liberation Serif",serif;font-size:14.0px;font-weight:bold;letter-spacing:0.8px'>(a)</text><text x="353.2" y="721.3" text-anchor="middle" style='font-family:"Liberation Serif",serif;font-size:15.0px;font-weight:normal;letter-spacing:1.0px' stroke="#000" stroke-width="0.35">(b)</text><text x="351.1" y="1088.6" text-anchor="middle" style='font-family:"Liberation Serif",serif;font-size:13.5px;font-weight:bold;letter-spacing:0.9px'>(c)</text></svg></body></html>
